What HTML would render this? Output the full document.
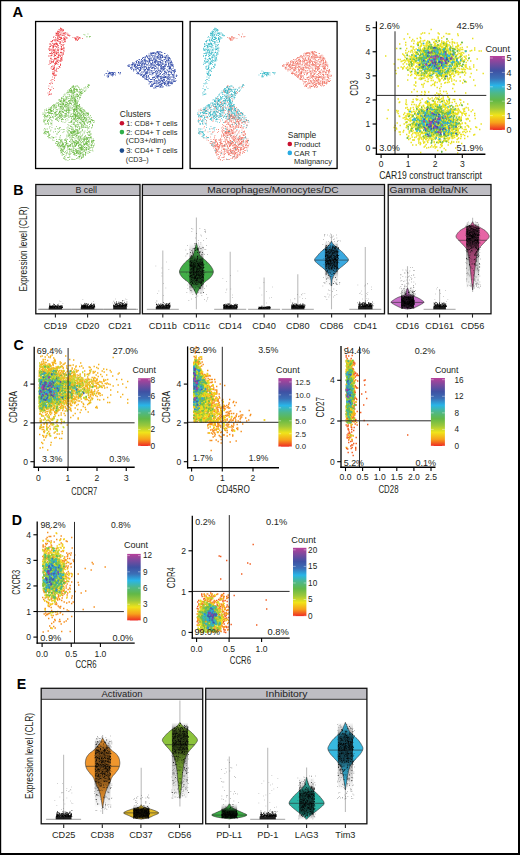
<!DOCTYPE html>
<html><head><meta charset="utf-8"><style>html,body{margin:0;padding:0;background:#fff;}svg{display:block;}</style></head>
<body><svg width="520" height="855" viewBox="0 0 520 855" font-family='"Liberation Sans", sans-serif' fill="#231f20">
<rect x="0.00" y="0.00" width="520.00" height="855.00" fill="#fff"/>
<text x="12.6" y="17.0" font-size="14.7" font-weight="bold" fill="#000">A</text>
<rect x="35.60" y="21.50" width="147.00" height="147.00" fill="none" stroke="#000" stroke-width="1.3"/>
<rect x="190.10" y="21.50" width="147.00" height="147.00" fill="none" stroke="#000" stroke-width="1.3"/>
<path d="M60 28h0.9m-0.9 0.5h0.9m-0.9 0.5h0.9m0.1 0h0.9m-0.9 0h0.9m-0.4 0h0.9m-3.9 0.5h0.9m0.1 0h0.9m2.1 0h0.9m-2.4 0.5h0.9m0.6 0h0.9m-0.4 0h0.9m-3.9 0.5h0.9m0.6 0h0.9m0.6 0h0.9m-6.4 0.5h0.9m0.6 0h0.9m2.1 0h0.9m-5.9 0.5h0.9m0.1 0h0.9m-0.4 0h0.9m1.1 0h0.9m1.1 0.5h0.9m-5.9 0.5h0.9m0.6 0h0.9m5.1 0h0.9m-10.4 0.5h0.9m0.1 0h0.9m0.1 0h0.9m-0.9 0h0.9m1.6 0h0.9m0.1 0h0.9m1.6 0h0.9m-0.4 0h0.9m1.6 0h0.9m-11.4 0.5h0.9m-0.9 0h0.9m-0.4 0h0.9m0.6 0h0.9m3.6 0h0.9m0.1 0h0.9m0.1 0h0.9m-9.9 0.5h0.9m0.6 0h0.9m0.6 0h0.9m3.6 0h0.9m1.6 0h0.9m1.1 0h0.9m-10.9 0.5h0.9m1.1 0h0.9m-0.4 0h0.9m3.6 0h0.9m-9.4 0.5h0.9m-0.4 0h0.9m0.6 0h0.9m2.6 0h0.9m-0.9 0h0.9m4.6 0h0.9m-0.4 0h0.9m0.1 0h0.9m-13.9 0.5h0.9m1.1 0h0.9m1.1 0h0.9m1.6 0h0.9m0.6 0h0.9m-0.9 0h0.9m3.6 0h0.9m0.6 0h0.9m-13.4 0.5h0.9m0.1 0h0.9m-0.9 0h0.9m0.1 0h0.9m9.1 0h0.9m-16.4 0.5h0.9m10.1 0h0.9m11.1 0h0.9m-20.4 0.5h0.9m1.1 0h0.9m0.6 0h0.9m4.1 0h0.9m11.1 0h0.9m-0.9 0h0.9m-25.4 0.5h0.9m1.1 0h0.9m3.6 0h0.9m-0.9 0h0.9m0.6 0h0.9m1.6 0h0.9m8.1 0h0.9m3.1 0h0.9m1.6 0h0.9m-22.4 0.5h0.9m-0.9 0h0.9m-0.9 0h0.9m1.6 0h0.9m-0.4 0h0.9m2.1 0h0.9m0.6 0h0.9m0.1 0h0.9m-0.9 0h0.9m0.1 0h0.9m6.1 0h0.9m-0.4 0h0.9m-0.4 0h0.9m2.6 0h0.9m-0.4 0h0.9m0.1 0h0.9m-23.4 0.5h0.9m2.6 0h0.9m-0.9 0h0.9m-0.4 0h0.9m1.1 0h0.9m11.1 0h0.9m1.6 0h0.9m3.1 0h0.9m-27.9 0.5h0.9m0.6 0h0.9m3.1 0h0.9m2.6 0h0.9m-0.9 0h0.9m-0.9 0h0.9m-0.9 0h0.9m10.1 0h0.9m-0.9 0h0.9m-0.4 0h0.9m-0.4 0h0.9m-0.4 0h0.9m-22.9 0.5h0.9m3.1 0h0.9m-0.4 0h0.9m-0.4 0h0.9m-0.9 0h0.9m-0.4 0h0.9m2.6 0h0.9m0.6 0h0.9m9.6 0h0.9m1.6 0h0.9m-25.9 0.5h0.9m0.6 0h0.9m1.1 0h0.9m-0.9 0h0.9m0.6 0h0.9m4.1 0h0.9m13.1 0h0.9m-25.9 0.5h0.9m-0.9 0h0.9m1.6 0h0.9m1.6 0h0.9m-0.9 0h0.9m3.6 0h0.9m2.1 0h0.9m10.1 0h0.9m0.6 0h0.9m-23.4 0.5h0.9m0.1 0h0.9m8.1 0h0.9m-14.9 0.5h0.9m0.1 0h0.9m-0.9 0h0.9m5.1 0h0.9m0.1 0h0.9m0.1 0h0.9m4.1 0h0.9m-0.9 0h0.9m-13.9 0.5h0.9m7.6 0h0.9m-0.4 0h0.9m0.6 0h0.9m1.6 0h0.9m-5.9 0.5h0.9m2.6 0h0.9m-8.4 0.5h0.9m-0.4 0h0.9m3.1 0h0.9m-11.4 0.5h0.9m1.6 0h0.9m0.6 0h0.9m0.6 0h0.9m0.6 0h0.9m1.6 0h0.9m-9.9 0.5h0.9m3.1 0h0.9m-0.4 0h0.9m0.6 0h0.9m-0.9 0h0.9m-0.9 0h0.9m0.1 0h0.9m2.1 0h0.9m-11.4 0.5h0.9m3.1 0h0.9m0.1 0h0.9m1.1 0h0.9m3.6 0h0.9m1.6 0h0.9m-13.4 0.5h0.9m1.1 0h0.9m0.1 0h0.9m2.1 0h0.9m-0.9 0h0.9m4.1 0h0.9m0.1 0h0.9m-12.4 0.5h0.9m0.1 0h0.9m4.6 0h0.9m3.6 0h0.9m-13.4 0.5h0.9m2.1 0h0.9m1.1 0h0.9m1.6 0h0.9m2.1 0h0.9m-11.9 0.5h0.9m-0.9 0h0.9m-0.4 0h0.9m1.6 0h0.9m-0.4 0h0.9m0.6 0h0.9m0.1 0h0.9m4.6 0h0.9m-0.9 0h0.9m-9.4 0.5h0.9m-0.4 0h0.9m2.1 0h0.9m-0.4 0h0.9m-0.9 0h0.9m5.6 0h0.9m-10.9 0.5h0.9m4.1 0h0.9m2.1 0h0.9m-12.9 0.5h0.9m2.1 0h0.9m10.1 0h0.9m0.1 0h0.9m-16.4 0.5h0.9m11.6 0h0.9m0.6 0h0.9m-12.9 0.5h0.9m1.6 0h0.9m1.1 0h0.9m1.1 0h0.9m0.6 0h0.9m0.6 0h0.9m0.6 0h0.9m0.1 0h0.9m0.1 0h0.9m-15.9 0.5h0.9m0.1 0h0.9m1.1 0h0.9m1.1 0h0.9m3.1 0h0.9m2.6 0h0.9m-0.9 0h0.9m-0.4 0h0.9m-0.9 0h0.9m-11.9 0.5h0.9m1.1 0h0.9m0.6 0h0.9m0.6 0h0.9m1.6 0h0.9m-9.9 0.5h0.9m-0.4 0h0.9m2.6 0h0.9m0.1 0h0.9m2.1 0h0.9m0.1 0h0.9m4.1 0h0.9m-12.9 0.5h0.9m0.6 0h0.9m-0.9 0h0.9m1.1 0h0.9m5.1 0h0.9m2.6 0h0.9m-10.9 1h0.9m-0.4 0h0.9m-0.9 0h0.9m0.6 0h0.9m-0.4 0h0.9m0.6 0h0.9m4.1 0h0.9m-10.9 0.5h0.9m-0.9 0h0.9m3.6 0h0.9m1.6 0h0.9m-0.4 0h0.9m-0.9 0h0.9m-0.4 0h0.9m0.6 0h0.9m-12.4 0.5h0.9m-0.9 0h0.9m-0.4 0h0.9m2.1 0h0.9m-0.9 0h0.9m1.1 0h0.9m-0.9 0h0.9m0.6 0h0.9m-9.9 0.5h0.9m0.1 0h0.9m-0.9 0h0.9m1.1 0h0.9m3.1 0h0.9m-0.9 0h0.9m-3.4 0.5h0.9m1.1 0h0.9m3.1 0h0.9m1.1 0h0.9m-0.9 0h0.9m0.1 0h0.9m-0.4 0h0.9m-0.9 0h0.9m-9.9 0.5h0.9m1.6 0h0.9m1.1 0h0.9m-7.9 0.5h0.9m-0.9 0h0.9m5.6 0h0.9m-10.4 0.5h0.9m1.1 0h0.9m-0.4 0h0.9m2.6 0h0.9m-0.9 0h0.9m-0.4 0h0.9m-0.9 0h0.9m2.1 0h0.9m0.1 0h0.9m0.1 0h0.9m0.6 0h0.9m-11.9 0.5h0.9m2.6 0h0.9m3.1 0h0.9m3.1 0h0.9m-14.4 0.5h0.9m4.1 0h0.9m5.6 0h0.9m-4.4 0.5h0.9m0.1 0h0.9m-0.4 0h0.9m0.6 0h0.9m-3.4 0.5h0.9m0.1 0h0.9m2.1 0h0.9m-11.4 0.5h0.9m3.1 0h0.9m2.1 0h0.9m2.6 0h0.9m-0.4 0h0.9m-0.9 0h0.9m-12.4 0.5h0.9m3.6 0h0.9m-0.9 0h0.9m-0.4 0h0.9m0.1 0h0.9m3.1 0h0.9m-10.4 0.5h0.9m-0.4 0h0.9m2.1 0h0.9m-0.9 0h0.9m0.6 0h0.9m4.6 0h0.9m-9.4 0.5h0.9m2.1 0h0.9m4.6 0h0.9m-4.4 0.5h0.9m-0.9 0h0.9m1.6 0h0.9m-0.9 0h0.9m1.1 0h0.9m-13.4 0.5h0.9m3.1 0h0.9m4.1 0h0.9m1.1 0h0.9m-10.4 0.5h0.9m1.1 0h0.9m2.1 0h0.9m-0.4 0h0.9m-0.4 0h0.9m1.1 0h0.9m1.1 0h0.9m-12.4 0.5h0.9m2.1 0h0.9m-0.4 0h0.9m3.1 0h0.9m2.1 0h0.9m-9.9 0.5h0.9m-0.9 0h0.9m-0.4 0h0.9m-0.4 0h0.9m2.1 0h0.9m0.1 0h0.9m0.6 0h0.9m-5.4 0.5h0.9m4.1 0h0.9m-9.9 0.5h0.9m0.6 0h0.9m3.6 0h0.9m-0.4 0h0.9m-0.9 0h0.9m-0.9 0h0.9m-6.4 0.5h0.9m3.1 0h0.9m1.1 0h0.9m-0.4 0h0.9m-2.4 0.5h0.9m-0.4 0h0.9m3.6 0h0.9m-12.4 0.5h0.9m5.6 0h0.9m1.6 0h0.9m1.6 0h0.9m-6.9 0.5h0.9m5.1 0h0.9m-0.9 0.5h0.9m-8.9 0.5h0.9m0.6 0h0.9m-0.4 0h0.9m-3.9 0.5h0.9m6.6 0h0.9m-0.4 0h0.9m-8.4 0.5h0.9m1.1 0h0.9m4.6 0h0.9m-5.9 0.5h0.9m4.6 0h0.9m-9.9 0.5h0.9m2.1 0h0.9m-0.9 0h0.9m2.1 0h0.9m-4.4 0.5h0.9m-0.4 0h0.9m-0.9 0h0.9m2.1 0h0.9m0.6 0h0.9m-7.4 0.5h0.9m-0.4 0.5h0.9m-0.4 0h0.9m-0.4 0h0.9m2.1 0h0.9m-2.9 0.5h0.9m-0.4 0h0.9m0.1 0.5h0.9m-1.9 0.5h0.9m0.6 0h0.9m-3.4 0.5h0.9m2.1 0h0.9m-5.4 0.5h0.9m0.6 0.5h0.9m-0.4 0.5h0.9m-2.9 0.5h0.9m-0.4 0h0.9m-0.4 0h0.9m-0.9 0.5h0.9m0.1 0h0.9m-2.4 0.5h0.9m2.1 0h0.9m-3.4 0.5h0.9m-0.4 0h0.9m-0.4 0.5h0.9m0.6 0h0.9m-0.9 0h0.9m-1.9 0.5h0.9m-3.4 1h0.9m1.1 1h0.9m-0.9 0h0.9m-3.4 1.5h0.9m0.1 0h0.9m-2.9 1h0.9m2.6 0h0.9m-3.4 1.5h0.9m-1.9 1h0.9m-2.4 0.5h0.9m2.1 0h0.9m-2.9 0.5h0.9m-2.4 2h0.9m2.1 1h0.9m-4.4 1.5h0.9m4.1 0h0.9m-4.4 1h0.9m0.1 0h0.9m-1.4 1h0.9m-1.9 1h0.9m-2.4 1.5h0.9m0.6 0h0.9m0.6 1h0.9m-0.4 0h0.9m-2.9 0.5h0.9m-0.4 0h0.9m-2.4 0.5h0.9" stroke="#e8262b" stroke-width="0.9" stroke-opacity="0.75" fill="none"/>
<path d="M157 51.5h0.95m1.55 0h0.95m-4.45 0.5h0.95m0.55 0h0.95m-0.95 0h0.95m-0.95 0h0.95m0.05 0h0.95m0.05 0h0.95m0.05 0h0.95m-8.95 0.5h0.95m0.05 0h0.95m2.05 0h0.95m0.05 0h0.95m2.55 0h0.95m-0.45 0h0.95m-12.45 0.5h0.95m0.55 0h0.95m-0.95 0h0.95m0.55 0h0.95m0.55 0h0.95m-0.95 0h0.95m3.05 0h0.95m-8.45 0.5h0.95m0.05 0h0.95m0.05 0h0.95m-0.95 0h0.95m1.05 0h0.95m2.05 0h0.95m-0.95 0h0.95m5.05 0h0.95m-0.45 0h0.95m-16.95 0.5h0.95m0.55 0h0.95m-0.45 0h0.95m-0.45 0h0.95m-0.45 0h0.95m2.05 0h0.95m0.55 0h0.95m0.55 0h0.95m-0.45 0h0.95m-0.45 0h0.95m0.05 0h0.95m-1.45 0.5h0.95m-4.95 0.5h0.95m3.55 0h0.95m-0.45 0h0.95m-0.45 0h0.95m0.05 0h0.95m-0.95 0h0.95m4.55 0h0.95m-21.95 0.5h0.95m1.55 0h0.95m1.55 0h0.95m0.55 0h0.95m0.05 0h0.95m3.55 0h0.95m2.05 0h0.95m0.05 0h0.95m3.05 0h0.95m-20.95 0.5h0.95m-0.45 0h0.95m1.55 0h0.95m0.05 0h0.95m1.05 0h0.95m1.55 0h0.95m2.05 0h0.95m1.05 0h0.95m0.05 0h0.95m3.05 0h0.95m0.55 0h0.95m1.05 0h0.95m-23.45 0.5h0.95m1.05 0h0.95m6.05 0h0.95m1.05 0h0.95m-0.45 0h0.95m0.55 0h0.95m0.55 0h0.95m1.05 0h0.95m2.55 0h0.95m-21.95 0.5h0.95m1.55 0h0.95m1.05 0h0.95m2.05 0h0.95m0.55 0h0.95m2.05 0h0.95m-0.45 0h0.95m4.05 0h0.95m-0.45 0h0.95m0.05 0h0.95m2.55 0h0.95m-25.45 0.5h0.95m-0.45 0h0.95m-0.45 0h0.95m0.55 0h0.95m1.05 0h0.95m10.05 0h0.95m1.05 0h0.95m-0.45 0h0.95m0.55 0h0.95m-0.95 0h0.95m1.05 0h0.95m0.05 0h0.95m-0.95 0h0.95m-0.45 0h0.95m1.55 0h0.95m0.05 0h0.95m-22.45 0.5h0.95m2.05 0h0.95m-0.95 0h0.95m2.05 0h0.95m-0.45 0h0.95m0.05 0h0.95m0.05 0h0.95m0.05 0h0.95m-0.95 0h0.95m0.55 0h0.95m0.05 0h0.95m-0.95 0h0.95m0.55 0h0.95m3.05 0h0.95m0.55 0h0.95m1.05 0h0.95m-27.45 0.5h0.95m-0.95 0h0.95m5.05 0h0.95m0.05 0h0.95m0.55 0h0.95m2.05 0h0.95m13.05 0h0.95m0.05 0h0.95m-0.45 0h0.95m-25.95 0.5h0.95m0.05 0h0.95m2.05 0h0.95m4.05 0h0.95m4.05 0h0.95m1.05 0h0.95m4.05 0h0.95m-0.45 0h0.95m3.05 0h0.95m-0.45 0h0.95m-32.45 0.5h0.95m-0.45 0h0.95m1.05 0h0.95m-0.95 0h0.95m1.55 0h0.95m0.05 0h0.95m3.55 0h0.95m-0.95 0h0.95m0.55 0h0.95m2.05 0h0.95m1.05 0h0.95m2.55 0h0.95m0.55 0h0.95m2.05 0h0.95m-0.45 0h0.95m3.05 0h0.95m-24.95 0.5h0.95m6.55 0h0.95m1.05 0h0.95m0.05 0h0.95m-0.45 0h0.95m-0.45 0h0.95m10.05 0h0.95m0.05 0h0.95m-0.45 0h0.95m-0.95 0h0.95m-31.95 0.5h0.95m4.05 0h0.95m1.05 0h0.95m0.55 0h0.95m-0.95 0h0.95m1.05 0h0.95m0.55 0h0.95m-0.45 0h0.95m-0.95 0h0.95m0.05 0h0.95m0.05 0h0.95m-0.45 0h0.95m3.05 0h0.95m4.05 0h0.95m0.05 0h0.95m3.05 0h0.95m-0.45 0h0.95m1.05 0h0.95m-0.95 0h0.95m1.05 0h0.95m-35.45 0.5h0.95m2.55 0h0.95m0.55 0h0.95m0.55 0h0.95m0.05 0h0.95m0.55 0h0.95m-0.45 0h0.95m6.05 0h0.95m1.55 0h0.95m-0.95 0h0.95m0.05 0h0.95m0.05 0h0.95m2.05 0h0.95m1.05 0h0.95m0.55 0h0.95m2.05 0h0.95m-31.95 0.5h0.95m-0.45 0h0.95m1.05 0h0.95m-0.95 0h0.95m2.55 0h0.95m-0.95 0h0.95m2.05 0h0.95m0.05 0h0.95m0.55 0h0.95m1.05 0h0.95m-0.95 0h0.95m4.05 0h0.95m0.05 0h0.95m0.55 0h0.95m0.55 0h0.95m0.05 0h0.95m0.05 0h0.95m4.05 0h0.95m-0.95 0h0.95m2.55 0h0.95m1.05 0h0.95m-0.45 0h0.95m-33.95 0.5h0.95m-0.45 0h0.95m1.05 0h0.95m6.05 0h0.95m-0.45 0h0.95m0.05 0h0.95m-0.45 0h0.95m1.55 0h0.95m1.05 0h0.95m-0.45 0h0.95m2.05 0h0.95m4.05 0h0.95m2.55 0h0.95m0.05 0h0.95m-34.45 0.5h0.95m1.55 0h0.95m-0.95 0h0.95m1.55 0h0.95m1.05 0h0.95m1.05 0h0.95m8.55 0h0.95m-0.45 0h0.95m0.55 0h0.95m0.55 0h0.95m1.05 0h0.95m1.05 0h0.95m-0.45 0h0.95m-0.45 0h0.95m0.05 0h0.95m2.55 0h0.95m2.55 0h0.95m0.55 0h0.95m-0.45 0h0.95m-0.45 0h0.95m-39.95 0.5h0.95m-0.95 0h0.95m4.55 0h0.95m-0.45 0h0.95m0.05 0h0.95m0.55 0h0.95m1.05 0h0.95m0.05 0h0.95m0.55 0h0.95m-0.95 0h0.95m-0.45 0h0.95m3.55 0h0.95m4.05 0h0.95m-0.95 0h0.95m1.55 0h0.95m6.55 0h0.95m2.55 0h0.95m0.55 0h0.95m1.05 0h0.95m-39.95 0.5h0.95m1.55 0h0.95m2.05 0h0.95m0.55 0h0.95m0.55 0h0.95m0.05 0h0.95m0.55 0h0.95m3.05 0h0.95m2.05 0h0.95m0.55 0h0.95m4.05 0h0.95m2.05 0h0.95m0.55 0h0.95m5.05 0h0.95m-0.45 0h0.95m-35.45 0.5h0.95m7.05 0h0.95m-0.45 0h0.95m1.55 0h0.95m4.05 0h0.95m-0.45 0h0.95m0.05 0h0.95m-0.95 0h0.95m2.05 0h0.95m2.05 0h0.95m-0.45 0h0.95m-0.45 0h0.95m1.05 0h0.95m1.55 0h0.95m-0.45 0h0.95m1.55 0h0.95m1.05 0h0.95m1.05 0h0.95m0.05 0h0.95m-40.95 0.5h0.95m0.05 0h0.95m-0.95 0h0.95m-0.45 0h0.95m-0.95 0h0.95m2.05 0h0.95m1.05 0h0.95m0.55 0h0.95m1.05 0h0.95m2.05 0h0.95m1.05 0h0.95m0.55 0h0.95m7.55 0h0.95m0.05 0h0.95m0.55 0h0.95m0.05 0h0.95m1.55 0h0.95m2.05 0h0.95m-0.45 0h0.95m1.55 0h0.95m1.55 0h0.95m-0.45 0h0.95m0.05 0h0.95m-44.45 0.5h0.95m-0.95 0h0.95m0.05 0h0.95m3.55 0h0.95m-0.45 0h0.95m-0.95 0h0.95m-0.45 0h0.95m-0.95 0h0.95m1.05 0h0.95m-0.95 0h0.95m3.05 0h0.95m0.05 0h0.95m0.55 0h0.95m-0.45 0h0.95m2.05 0h0.95m1.55 0h0.95m0.55 0h0.95m-0.95 0h0.95m0.05 0h0.95m-0.45 0h0.95m-0.45 0h0.95m0.05 0h0.95m1.55 0h0.95m0.05 0h0.95m0.55 0h0.95m0.05 0h0.95m0.05 0h0.95m2.55 0h0.95m0.55 0h0.95m2.55 0h0.95m2.55 0h0.95m-46.45 0.5h0.95m3.05 0h0.95m1.55 0h0.95m2.05 0h0.95m-0.45 0h0.95m-0.45 0h0.95m-0.45 0h0.95m-0.45 0h0.95m-0.45 0h0.95m9.05 0h0.95m4.05 0h0.95m2.55 0h0.95m0.05 0h0.95m1.05 0h0.95m2.55 0h0.95m-0.95 0h0.95m5.55 0h0.95m0.05 0h0.95m-0.95 0h0.95m-45.45 0.5h0.95m3.55 0h0.95m0.55 0h0.95m-0.45 0h0.95m0.05 0h0.95m4.55 0h0.95m-0.45 0h0.95m0.05 0h0.95m3.05 0h0.95m1.05 0h0.95m4.05 0h0.95m0.05 0h0.95m0.05 0h0.95m2.05 0h0.95m1.55 0h0.95m-0.45 0h0.95m6.05 0h0.95m-0.95 0h0.95m-0.45 0h0.95m0.55 0h0.95m-42.95 0.5h0.95m0.05 0h0.95m4.05 0h0.95m1.05 0h0.95m6.55 0h0.95m0.55 0h0.95m4.55 0h0.95m3.55 0h0.95m4.05 0h0.95m0.55 0h0.95m0.55 0h0.95m-0.45 0h0.95m-0.45 0h0.95m0.05 0h0.95m1.05 0h0.95m1.05 0h0.95m0.55 0h0.95m1.05 0h0.95m-42.45 0.5h0.95m2.55 0h0.95m0.05 0h0.95m0.55 0h0.95m2.55 0h0.95m-0.45 0h0.95m1.55 0h0.95m-0.45 0h0.95m-0.45 0h0.95m-0.95 0h0.95m4.55 0h0.95m0.55 0h0.95m3.55 0h0.95m5.05 0h0.95m-0.45 0h0.95m-0.45 0h0.95m3.55 0h0.95m1.05 0h0.95m2.55 0h0.95m-43.45 0.5h0.95m3.55 0h0.95m-0.45 0h0.95m1.05 0h0.95m0.55 0h0.95m0.05 0h0.95m-0.95 0h0.95m1.05 0h0.95m-0.45 0h0.95m2.55 0h0.95m1.05 0h0.95m-0.45 0h0.95m-0.45 0h0.95m0.55 0h0.95m0.55 0h0.95m-0.95 0h0.95m0.05 0h0.95m7.05 0h0.95m1.55 0h0.95m4.55 0h0.95m0.05 0h0.95m-0.95 0h0.95m-40.95 0.5h0.95m-0.45 0h0.95m-0.95 0h0.95m0.05 0h0.95m-0.45 0h0.95m3.55 0h0.95m0.55 0h0.95m7.05 0h0.95m0.55 0h0.95m5.05 0h0.95m-0.45 0h0.95m1.05 0h0.95m0.05 0h0.95m0.05 0h0.95m1.05 0h0.95m-0.45 0h0.95m1.05 0h0.95m-0.45 0h0.95m0.55 0h0.95m3.55 0h0.95m-32.95 0.5h0.95m-0.95 0h0.95m2.05 0h0.95m-0.45 0h0.95m4.55 0h0.95m-0.95 0h0.95m1.55 0h0.95m1.55 0h0.95m0.05 0h0.95m1.05 0h0.95m0.05 0h0.95m4.55 0h0.95m-0.45 0h0.95m0.05 0h0.95m1.55 0h0.95m3.05 0h0.95m-0.45 0h0.95m-0.95 0h0.95m-0.95 0h0.95m0.05 0h0.95m-0.45 0h0.95m1.05 0h0.95m-39.95 0.5h0.95m0.55 0h0.95m0.05 0h0.95m1.05 0h0.95m1.05 0h0.95m-0.45 0h0.95m0.05 0h0.95m1.05 0h0.95m-0.95 0h0.95m2.05 0h0.95m0.55 0h0.95m0.05 0h0.95m7.55 0h0.95m2.55 0h0.95m1.55 0h0.95m-0.95 0h0.95m-0.45 0h0.95m4.55 0h0.95m-0.95 0h0.95m-39.45 0.5h0.95m1.05 0h0.95m1.55 0h0.95m2.05 0h0.95m0.05 0h0.95m4.55 0h0.95m-0.95 0h0.95m1.05 0h0.95m-0.45 0h0.95m12.05 0h0.95m1.05 0h0.95m-0.45 0h0.95m2.55 0h0.95m3.55 0h0.95m2.55 0h0.95m-42.45 0.5h0.95m0.55 0h0.95m4.55 0h0.95m2.55 0h0.95m-0.45 0h0.95m2.05 0h0.95m0.05 0h0.95m-0.45 0h0.95m-0.95 0h0.95m0.05 0h0.95m3.55 0h0.95m-0.45 0h0.95m2.05 0h0.95m0.05 0h0.95m3.05 0h0.95m5.05 0h0.95m4.55 0h0.95m-0.45 0h0.95m-36.45 0.5h0.95m-0.95 0h0.95m0.05 0h0.95m-0.95 0h0.95m3.55 0h0.95m5.05 0h0.95m-0.45 0h0.95m0.55 0h0.95m2.55 0h0.95m1.05 0h0.95m0.55 0h0.95m2.05 0h0.95m3.55 0h0.95m3.55 0h0.95m-0.45 0h0.95m0.05 0h0.95m0.55 0h0.95m-68.45 0.5h0.95m25.05 0h0.95m2.05 0h0.95m7.05 0h0.95m-0.45 0h0.95m1.55 0h0.95m11.55 0h0.95m-0.45 0h0.95m-0.45 0h0.95m2.55 0h0.95m0.55 0h0.95m3.05 0h0.95m2.55 0h0.95m0.05 0h0.95m-35.95 0.5h0.95m1.55 0h0.95m4.05 0h0.95m7.55 0h0.95m-0.45 0h0.95m0.55 0h0.95m2.05 0h0.95m0.55 0h0.95m1.55 0h0.95m3.05 0h0.95m0.05 0h0.95m3.55 0h0.95m0.55 0h0.95m-67.45 0.5h0.95m28.05 0h0.95m4.55 0h0.95m-0.45 0h0.95m1.05 0h0.95m0.05 0h0.95m0.05 0h0.95m0.55 0h0.95m0.55 0h0.95m-0.45 0h0.95m0.05 0h0.95m2.05 0h0.95m-0.45 0h0.95m1.05 0h0.95m0.55 0h0.95m4.55 0h0.95m-0.95 0h0.95m-0.45 0h0.95m1.55 0h0.95m0.05 0h0.95m0.55 0h0.95m0.05 0h0.95m-0.45 0h0.95m1.55 0h0.95m-65.95 0.5h0.95m-0.45 0h0.95m0.05 0h0.95m-0.45 0h0.95m0.05 0h0.95m-0.95 0h0.95m1.05 0h0.95m3.05 0h0.95m-0.95 0h0.95m1.05 0h0.95m16.05 0h0.95m3.55 0h0.95m2.55 0h0.95m0.55 0h0.95m-0.95 0h0.95m5.55 0h0.95m0.05 0h0.95m6.05 0h0.95m3.55 0h0.95m-0.45 0h0.95m3.55 0h0.95m-0.45 0h0.95m2.05 0h0.95m-64.95 0.5h0.95m1.55 0h0.95m-0.45 0h0.95m-0.95 0h0.95m1.05 0h0.95m2.55 0h0.95m0.55 0h0.95m17.05 0h0.95m-0.95 0h0.95m1.55 0h0.95m4.55 0h0.95m-0.45 0h0.95m1.05 0h0.95m0.05 0h0.95m2.05 0h0.95m3.05 0h0.95m-0.45 0h0.95m0.55 0h0.95m5.05 0h0.95m2.55 0h0.95m4.55 0h0.95m-68.95 0.5h0.95m-0.45 0h0.95m1.05 0h0.95m-0.95 0h0.95m0.05 0h0.95m-0.45 0h0.95m-0.95 0h0.95m-0.95 0h0.95m2.55 0h0.95m22.55 0h0.95m-0.95 0h0.95m0.55 0h0.95m-0.95 0h0.95m-0.95 0h0.95m0.55 0h0.95m4.55 0h0.95m-0.45 0h0.95m0.05 0h0.95m-0.95 0h0.95m4.55 0h0.95m-0.45 0h0.95m2.05 0h0.95m3.55 0h0.95m-0.95 0h0.95m2.55 0h0.95m-0.95 0h0.95m1.55 0h0.95m4.05 0h0.95m-64.45 0.5h0.95m2.55 0h0.95m0.05 0h0.95m-0.95 0h0.95m0.05 0h0.95m5.55 0h0.95m17.05 0h0.95m3.55 0h0.95m1.55 0h0.95m1.05 0h0.95m4.05 0h0.95m0.05 0h0.95m2.55 0h0.95m-0.45 0h0.95m2.05 0h0.95m3.55 0h0.95m9.05 0h0.95m-64.45 0.5h0.95m0.55 0h0.95m0.55 0h0.95m25.05 0h0.95m0.55 0h0.95m1.55 0h0.95m0.55 0h0.95m3.55 0h0.95m-0.95 0h0.95m9.05 0h0.95m1.55 0h0.95m-0.45 0h0.95m2.05 0h0.95m1.05 0h0.95m-0.45 0h0.95m-0.45 0h0.95m1.05 0h0.95m0.55 0h0.95m-0.45 0h0.95m-69.45 0.5h0.95m3.05 0h0.95m0.55 0h0.95m1.05 0h0.95m0.55 0h0.95m1.05 0h0.95m24.05 0h0.95m0.05 0h0.95m-0.45 0h0.95m1.55 0h0.95m0.55 0h0.95m5.05 0h0.95m3.05 0h0.95m-0.45 0h0.95m1.55 0h0.95m-0.95 0h0.95m9.05 0h0.95m-0.45 0h0.95m2.05 0h0.95m-0.45 0h0.95m-0.45 0h0.95m2.05 0h0.95m-69.45 0.5h0.95m3.05 0h0.95m28.05 0h0.95m1.55 0h0.95m-0.95 0h0.95m0.05 0h0.95m1.05 0h0.95m1.05 0h0.95m8.05 0h0.95m-0.45 0h0.95m-0.45 0h0.95m4.55 0h0.95m4.05 0h0.95m7.05 0h0.95m-70.95 0.5h0.95m4.55 0h0.95m33.05 0h0.95m-0.45 0h0.95m0.55 0h0.95m6.05 0h0.95m5.05 0h0.95m2.05 0h0.95m1.55 0h0.95m5.55 0h0.95m-0.45 0h0.95m0.05 0h0.95m0.55 0h0.95m-68.95 0.5h0.95m-0.95 0h0.95m33.05 0h0.95m-0.95 0h0.95m0.55 0h0.95m1.05 0h0.95m1.55 0h0.95m7.05 0h0.95m0.05 0h0.95m-0.45 0h0.95m0.05 0h0.95m-0.95 0h0.95m0.55 0h0.95m0.55 0h0.95m2.55 0h0.95m-0.95 0h0.95m2.05 0h0.95m3.55 0h0.95m2.55 0h0.95m-69.95 0.5h0.95m0.05 0h0.95m34.05 0h0.95m-0.45 0h0.95m1.55 0h0.95m-0.45 0h0.95m6.05 0h0.95m-0.45 0h0.95m2.55 0h0.95m0.05 0h0.95m0.55 0h0.95m-0.95 0h0.95m1.55 0h0.95m-0.45 0h0.95m0.05 0h0.95m0.05 0h0.95m-0.95 0h0.95m0.05 0h0.95m0.05 0h0.95m1.05 0h0.95m0.05 0h0.95m0.05 0h0.95m-29.45 0.5h0.95m3.05 0h0.95m1.05 0h0.95m2.55 0h0.95m-0.45 0h0.95m-0.45 0h0.95m0.05 0h0.95m1.55 0h0.95m-0.45 0h0.95m3.55 0h0.95m0.55 0h0.95m-0.45 0h0.95m-0.45 0h0.95m-0.45 0h0.95m-0.45 0h0.95m2.55 0h0.95m3.05 0h0.95m0.05 0h0.95m-30.45 0.5h0.95m0.55 0h0.95m-0.45 0h0.95m8.55 0h0.95m4.55 0h0.95m0.05 0h0.95m0.55 0h0.95m1.55 0h0.95m0.05 0h0.95m-0.95 0h0.95m0.55 0h0.95m0.05 0h0.95m3.05 0h0.95m-0.95 0h0.95m-28.95 0.5h0.95m2.55 0h0.95m5.05 0h0.95m1.55 0h0.95m1.55 0h0.95m-0.45 0h0.95m-0.45 0h0.95m6.05 0h0.95m6.05 0h0.95m-31.45 0.5h0.95m2.55 0h0.95m3.05 0h0.95m-0.45 0h0.95m10.05 0h0.95m3.05 0h0.95m1.55 0h0.95m-25.45 0.5h0.95m-0.45 0h0.95m-0.95 0h0.95m0.05 0h0.95m2.05 0h0.95m-0.45 0h0.95m-0.95 0h0.95m-0.45 0h0.95m1.55 0h0.95m-0.45 0h0.95m3.55 0h0.95m1.05 0h0.95m1.55 0h0.95m-0.45 0h0.95m-0.45 0h0.95m2.55 0h0.95m0.55 0h0.95m2.55 0h0.95m-25.95 0.5h0.95m5.55 0h0.95m3.05 0h0.95m-0.45 0h0.95m2.05 0h0.95m0.55 0h0.95m3.55 0h0.95m2.55 0h0.95m-0.45 0h0.95m0.05 0h0.95m0.55 0h0.95m-19.45 0.5h0.95m-0.45 0h0.95m2.55 0h0.95m0.55 0h0.95m-0.45 0h0.95m-0.45 0h0.95m1.05 0h0.95m1.05 0h0.95m8.55 0h0.95m-28.45 0.5h0.95m4.55 0h0.95m-0.45 0h0.95m2.05 0h0.95m0.55 0h0.95m0.05 0h0.95m1.55 0h0.95m-0.45 0h0.95m0.05 0h0.95m4.55 0h0.95m3.05 0h0.95m-0.45 0h0.95m-25.45 0.5h0.95m0.05 0h0.95m0.05 0h0.95m-0.45 0h0.95m3.05 0h0.95m0.05 0h0.95m2.55 0h0.95m1.05 0h0.95m2.55 0h0.95m1.05 0h0.95m1.05 0h0.95m3.05 0h0.95m0.05 0h0.95m-0.95 0h0.95m-0.95 0h0.95m-24.95 0.5h0.95m9.05 0h0.95m1.55 0h0.95m1.05 0h0.95m1.05 0h0.95m0.05 0h0.95m-0.95 0h0.95m-0.95 0h0.95m0.55 0h0.95m0.55 0h0.95m-0.45 0h0.95m0.05 0h0.95m-23.45 0.5h0.95m5.55 0h0.95m0.55 0h0.95m0.05 0h0.95m-0.45 0h0.95m3.05 0h0.95m-0.45 0h0.95m2.55 0h0.95m1.05 0h0.95m1.05 0h0.95m-23.45 0.5h0.95m2.55 0h0.95m0.55 0h0.95m-0.95 0h0.95m0.05 0h0.95m0.05 0h0.95m5.05 0h0.95m0.05 0h0.95m0.05 0h0.95m0.55 0h0.95m1.55 0h0.95m0.55 0h0.95m-0.95 0h0.95m0.55 0h0.95m-18.95 0.5h0.95m0.05 0h0.95m-0.45 0h0.95m2.05 0h0.95m0.05 0h0.95m1.55 0h0.95m0.05 0h0.95m2.05 0h0.95m1.05 0h0.95m0.05 0h0.95m1.05 0h0.95m0.05 0h0.95m0.05 0h0.95m-24.45 0.5h0.95m1.55 0h0.95m4.05 0h0.95m0.55 0h0.95m1.55 0h0.95m0.05 0h0.95m-0.45 0h0.95m1.55 0h0.95m-0.95 0h0.95m-0.95 0h0.95m-0.45 0h0.95m0.05 0h0.95m1.05 0h0.95m-0.95 0h0.95m3.05 0h0.95m-20.45 0.5h0.95m0.05 0h0.95m5.05 0h0.95m-0.45 0h0.95m-0.45 0h0.95m3.05 0h0.95m2.55 0h0.95m-17.45 0.5h0.95m-0.45 0h0.95m8.05 0h0.95m-0.45 0h0.95m4.05 0h0.95m-16.45 0.5h0.95m0.55 0h0.95m5.55 0h0.95m-0.95 0h0.95m1.05 0h0.95m0.05 0h0.95m3.05 0h0.95m1.55 0h0.95m0.55 0h0.95m-20.45 0.5h0.95m3.55 0h0.95m-0.45 0h0.95m0.05 0h0.95m0.05 0h0.95m3.05 0h0.95m4.55 0h0.95m1.05 0h0.95m-19.45 0.5h0.95m0.55 0h0.95m-0.95 0h0.95m-0.95 0h0.95m3.55 0h0.95m-0.45 0h0.95m-0.95 0h0.95m-0.45 0h0.95m0.05 0h0.95m1.05 0h0.95m1.55 0h0.95m-3.95 0.5h0.95m-0.95 0h0.95m-0.45 0h0.95m1.55 0h0.95m-8.45 0.5h0.95m5.55 0h0.95m-9.45 0.5h0.95m0.05 0h0.95m0.55 0h0.95" stroke="#2e48a6" stroke-width="0.95" stroke-opacity="0.8" fill="none"/>
<path d="M87.5 34h0.9m-4.9 0.5h0.9m0.1 0.5h0.9m1.1 1.5h0.9m1.6 0h0.9m0.1 0h0.9m-4.4 0.5h0.9m1.6 0h0.9m-1.4 47.5h0.9m-1.9 0.5h0.9m-0.4 0h0.9m-0.9 0.5h0.9m0.1 0h0.9m-17.4 0.5h0.9m-0.4 0h0.9m-0.9 0h0.9m1.6 0h0.9m0.1 0h0.9m-0.4 0h0.9m-3.4 0.5h0.9m11.6 0h0.9m-0.4 0h0.9m-16.9 0.5h0.9m0.1 0h0.9m-0.9 0h0.9m-0.9 0h0.9m-0.4 0h0.9m1.1 0h0.9m2.1 0h0.9m6.1 0h0.9m-14.4 0.5h0.9m6.1 0h0.9m8.6 0h0.9m-14.9 0.5h0.9m8.6 0h0.9m0.1 0h0.9m1.1 0h0.9m-17.4 0.5h0.9m-0.9 0h0.9m-0.9 0h0.9m2.6 0h0.9m-0.4 0h0.9m-0.9 0h0.9m-3.9 0.5h0.9m1.1 0h0.9m1.6 0h0.9m-0.4 0h0.9m2.1 0h0.9m1.1 0h0.9m-12.4 0.5h0.9m3.1 0h0.9m-0.9 0h0.9m0.1 0h0.9m-0.4 0h0.9m0.1 0h0.9m0.1 0h0.9m1.1 0h0.9m0.6 0h0.9m1.1 0h0.9m-14.9 0.5h0.9m-0.4 0h0.9m1.1 0h0.9m-0.9 0h0.9m2.1 0h0.9m1.1 0h0.9m-0.9 0h0.9m0.1 0h0.9m2.1 0h0.9m4.6 0h0.9m-17.4 0.5h0.9m0.1 0h0.9m-0.4 0h0.9m-0.4 0h0.9m-0.9 0h0.9m0.6 0h0.9m-0.4 0h0.9m0.1 0h0.9m7.6 0h0.9m-16.4 0.5h0.9m2.6 0h0.9m5.1 0h0.9m-0.4 0h0.9m1.6 0h0.9m4.1 0h0.9m-0.9 0h0.9m-16.9 0.5h0.9m0.1 0h0.9m0.6 0h0.9m0.6 0h0.9m-0.9 0h0.9m0.6 0h0.9m0.6 0h0.9m1.1 0h0.9m1.1 0h0.9m0.6 0h0.9m-0.4 0h0.9m1.6 0h0.9m-15.4 0.5h0.9m0.1 0h0.9m-0.4 0h0.9m2.1 0h0.9m4.6 0h0.9m-13.4 0.5h0.9m0.1 0h0.9m0.6 0h0.9m0.1 0h0.9m0.1 0h0.9m0.1 0h0.9m0.6 0h0.9m-0.4 0h0.9m3.1 0h0.9m0.6 0h0.9m-0.9 0h0.9m-0.4 0h0.9m1.1 0h0.9m-17.4 0.5h0.9m0.6 0h0.9m4.1 0h0.9m-0.4 0h0.9m-0.9 0h0.9m5.6 0h0.9m0.6 0h0.9m-10.4 0.5h0.9m0.1 0h0.9m3.1 0h0.9m2.1 0h0.9m0.1 0h0.9m-0.4 0h0.9m0.1 0h0.9m-18.4 0.5h0.9m8.1 0h0.9m6.6 0h0.9m-14.4 0.5h0.9m0.6 0h0.9m6.6 0h0.9m-0.4 0h0.9m-0.9 0h0.9m1.1 0h0.9m-16.4 0.5h0.9m0.1 0h0.9m5.6 0h0.9m0.1 0h0.9m0.1 0h0.9m0.6 0h0.9m0.1 0h0.9m-0.4 0h0.9m0.6 0h0.9m1.1 0h0.9m-0.4 0h0.9m-11.4 0.5h0.9m2.6 0h0.9m4.1 0h0.9m1.6 0h0.9m-10.4 0.5h0.9m5.1 0h0.9m0.1 0h0.9m-15.9 0.5h0.9m1.6 0h0.9m1.1 0h0.9m0.6 0h0.9m1.1 0h0.9m-0.4 0h0.9m2.6 0h0.9m0.6 0h0.9m-0.9 0h0.9m-0.4 0h0.9m0.1 0h0.9m-16.4 0.5h0.9m2.1 0h0.9m1.1 0h0.9m2.1 0h0.9m-0.4 0h0.9m0.6 0h0.9m-0.4 0h0.9m-0.4 0h0.9m-0.4 0h0.9m4.6 0h0.9m-19.4 0.5h0.9m4.6 0h0.9m4.1 0h0.9m2.1 0h0.9m0.1 0h0.9m2.6 0h0.9m0.1 0h0.9m-15.4 0.5h0.9m-0.4 0h0.9m5.1 0h0.9m0.1 0h0.9m3.1 0h0.9m1.6 0h0.9m-19.4 0.5h0.9m-0.4 0h0.9m0.1 0h0.9m0.1 0h0.9m3.6 0h0.9m0.6 0h0.9m1.1 0h0.9m-0.9 0h0.9m1.6 0h0.9m-0.4 0h0.9m1.6 0h0.9m-16.9 0.5h0.9m3.6 0h0.9m0.1 0h0.9m-0.9 0h0.9m2.6 0h0.9m1.1 0h0.9m0.1 0h0.9m0.6 0h0.9m-0.9 0h0.9m3.6 0h0.9m-20.9 0.5h0.9m3.1 0h0.9m0.6 0h0.9m5.1 0h0.9m3.6 0h0.9m-0.9 0h0.9m-17.9 0.5h0.9m1.6 0h0.9m1.6 0h0.9m-0.4 0h0.9m0.1 0h0.9m0.1 0h0.9m4.6 0h0.9m1.6 0h0.9m-0.4 0h0.9m-0.4 0h0.9m0.1 0h0.9m1.1 0h0.9m-18.9 0.5h0.9m0.6 0h0.9m1.6 0h0.9m-0.9 0h0.9m-0.4 0h0.9m3.6 0h0.9m-0.4 0h0.9m-0.4 0h0.9m0.1 0h0.9m-0.9 0h0.9m0.6 0h0.9m-0.4 0h0.9m0.6 0h0.9m0.1 0h0.9m-16.4 0.5h0.9m-0.4 0h0.9m1.6 0h0.9m0.1 0h0.9m0.1 0h0.9m2.6 0h0.9m0.1 0h0.9m4.6 0h0.9m-0.4 0h0.9m-0.4 0h0.9m-0.4 0h0.9m0.6 0h0.9m-18.9 0.5h0.9m-0.4 0h0.9m-0.9 0h0.9m-0.4 0h0.9m1.6 0h0.9m-0.4 0h0.9m3.6 0h0.9m1.6 0h0.9m1.1 0h0.9m1.1 0h0.9m-0.9 0h0.9m2.1 0h0.9m-17.4 0.5h0.9m-0.4 0h0.9m2.1 0h0.9m0.1 0h0.9m0.1 0h0.9m2.1 0h0.9m1.6 0h0.9m1.6 0h0.9m-0.4 0h0.9m-0.9 0h0.9m-0.4 0h0.9m-18.4 0.5h0.9m3.6 0h0.9m2.1 0h0.9m-0.4 0h0.9m2.1 0h0.9m3.1 0h0.9m1.6 0h0.9m0.6 0h0.9m-21.9 0.5h0.9m0.1 0h0.9m2.6 0h0.9m1.1 0h0.9m3.1 0h0.9m-0.4 0h0.9m2.1 0h0.9m-0.4 0h0.9m2.6 0h0.9m0.6 0h0.9m0.1 0h0.9m-19.9 0.5h0.9m3.6 0h0.9m0.1 0h0.9m3.1 0h0.9m1.6 0h0.9m-0.9 0h0.9m-0.4 0h0.9m0.1 0h0.9m3.1 0h0.9m0.1 0h0.9m0.1 0h0.9m-22.4 0.5h0.9m2.1 0h0.9m0.1 0h0.9m-0.9 0h0.9m0.6 0h0.9m0.6 0h0.9m-0.4 0h0.9m-0.4 0h0.9m0.6 0h0.9m1.6 0h0.9m-0.4 0h0.9m-0.4 0h0.9m-0.4 0h0.9m3.6 0h0.9m-0.4 0h0.9m-0.4 0h0.9m-21.9 0.5h0.9m0.1 0h0.9m2.6 0h0.9m1.1 0h0.9m-0.4 0h0.9m1.1 0h0.9m-0.9 0h0.9m-0.4 0h0.9m1.1 0h0.9m0.1 0h0.9m-0.4 0h0.9m3.6 0h0.9m2.1 0h0.9m0.1 0h0.9m0.6 0h0.9m1.6 0h0.9m-0.9 0h0.9m-26.9 0.5h0.9m4.1 0h0.9m1.6 0h0.9m1.1 0h0.9m0.1 0h0.9m0.6 0h0.9m0.1 0h0.9m6.1 0h0.9m1.6 0h0.9m0.1 0h0.9m1.6 0h0.9m-27.9 0.5h0.9m1.1 0h0.9m-0.4 0h0.9m2.6 0h0.9m5.6 0h0.9m-0.9 0h0.9m2.1 0h0.9m-0.9 0h0.9m0.1 0h0.9m3.1 0h0.9m1.1 0h0.9m0.1 0h0.9m-0.4 0h0.9m0.1 0h0.9m-0.4 0h0.9m-0.4 0h0.9m-26.4 0.5h0.9m0.1 0h0.9m-0.9 0h0.9m1.6 0h0.9m-0.4 0h0.9m1.1 0h0.9m1.6 0h0.9m0.1 0h0.9m2.6 0h0.9m4.1 0h0.9m5.6 0h0.9m0.6 0h0.9m-0.4 0h0.9m-28.9 0.5h0.9m2.6 0h0.9m3.1 0h0.9m0.6 0h0.9m-0.4 0h0.9m0.1 0h0.9m1.6 0h0.9m-0.4 0h0.9m0.1 0h0.9m0.1 0h0.9m-0.9 0h0.9m5.6 0h0.9m0.6 0h0.9m-0.9 0h0.9m0.6 0h0.9m-0.9 0h0.9m-0.9 0h0.9m0.6 0h0.9m1.1 0h0.9m-27.4 0.5h0.9m0.6 0h0.9m4.1 0h0.9m-0.4 0h0.9m-0.4 0h0.9m-0.9 0h0.9m0.6 0h0.9m0.6 0h0.9m3.6 0h0.9m-0.4 0h0.9m0.1 0h0.9m5.1 0h0.9m-0.4 0h0.9m1.1 0h0.9m0.1 0h0.9m-29.9 0.5h0.9m0.1 0h0.9m2.6 0h0.9m0.1 0h0.9m-0.4 0h0.9m6.1 0h0.9m1.6 0h0.9m1.1 0h0.9m3.6 0h0.9m3.1 0h0.9m-0.9 0h0.9m0.1 0h0.9m1.6 0h0.9m1.1 0h0.9m-33.9 0.5h0.9m2.1 0h0.9m0.6 0h0.9m6.6 0h0.9m0.1 0h0.9m-0.9 0h0.9m3.1 0h0.9m0.6 0h0.9m0.6 0h0.9m1.1 0h0.9m-0.9 0h0.9m2.1 0h0.9m0.1 0h0.9m-0.4 0h0.9m-25.4 0.5h0.9m3.1 0h0.9m6.1 0h0.9m0.6 0h0.9m11.6 0h0.9m0.1 0h0.9m0.1 0h0.9m-0.4 0h0.9m0.6 0h0.9m0.1 0h0.9m-0.9 0h0.9m-35.4 0.5h0.9m2.6 0h0.9m-0.4 0h0.9m0.1 0h0.9m3.6 0h0.9m2.1 0h0.9m0.1 0h0.9m-0.4 0h0.9m2.1 0h0.9m2.1 0h0.9m0.6 0h0.9m-0.9 0h0.9m-0.4 0h0.9m-0.4 0h0.9m-0.9 0h0.9m2.1 0h0.9m-0.4 0h0.9m1.1 0h0.9m-0.9 0h0.9m1.1 0h0.9m-0.4 0h0.9m3.1 0h0.9m0.6 0h0.9m-34.9 0.5h0.9m-0.4 0h0.9m-0.4 0h0.9m-0.4 0h0.9m-0.9 0h0.9m-0.9 0h0.9m-0.4 0h0.9m2.1 0h0.9m2.1 0h0.9m0.1 0h0.9m4.1 0h0.9m-0.4 0h0.9m5.1 0h0.9m4.1 0h0.9m-0.9 0h0.9m-0.9 0h0.9m-0.9 0h0.9m0.1 0h0.9m-0.9 0h0.9m-0.4 0h0.9m0.1 0h0.9m-0.9 0h0.9m0.6 0h0.9m1.1 0h0.9m3.1 0h0.9m-40.4 0.5h0.9m0.6 0h0.9m6.6 0h0.9m7.1 0h0.9m2.1 0h0.9m0.6 0h0.9m-0.4 0h0.9m0.1 0h0.9m1.6 0h0.9m3.1 0h0.9m-0.9 0h0.9m-0.4 0h0.9m1.6 0h0.9m1.6 0h0.9m-0.9 0h0.9m0.1 0h0.9m-0.4 0h0.9m1.1 0h0.9m-0.4 0h0.9m-37.9 0.5h0.9m-0.4 0h0.9m2.6 0h0.9m-0.9 0h0.9m0.1 0h0.9m-0.9 0h0.9m-0.4 0h0.9m11.6 0h0.9m0.1 0h0.9m0.1 0h0.9m-0.4 0h0.9m0.1 0h0.9m-0.4 0h0.9m-0.4 0h0.9m-0.4 0h0.9m0.6 0h0.9m1.6 0h0.9m0.6 0h0.9m0.1 0h0.9m0.1 0h0.9m3.1 0h0.9m-0.9 0h0.9m2.6 0h0.9m-36.9 0.5h0.9m-0.4 0h0.9m2.1 0h0.9m-0.4 0h0.9m2.6 0h0.9m0.6 0h0.9m1.1 0h0.9m0.1 0h0.9m0.6 0h0.9m1.1 0h0.9m9.1 0h0.9m-0.4 0h0.9m1.6 0h0.9m1.1 0h0.9m0.6 0h0.9m-0.9 0h0.9m0.1 0h0.9m-0.9 0h0.9m2.6 0h0.9m-34.9 0.5h0.9m-0.4 0h0.9m-0.9 0h0.9m1.1 0h0.9m2.1 0h0.9m2.1 0h0.9m0.1 0h0.9m0.6 0h0.9m-0.4 0h0.9m2.6 0h0.9m-0.4 0h0.9m1.1 0h0.9m4.1 0h0.9m0.1 0h0.9m-0.9 0h0.9m1.1 0h0.9m-0.4 0h0.9m-0.4 0h0.9m3.6 0h0.9m0.1 0h0.9m1.1 0h0.9m-41.4 0.5h0.9m3.1 0h0.9m0.6 0h0.9m-0.4 0h0.9m4.6 0h0.9m2.6 0h0.9m-0.9 0h0.9m-0.4 0h0.9m1.6 0h0.9m-0.9 0h0.9m0.1 0h0.9m2.1 0h0.9m2.1 0h0.9m11.6 0h0.9m0.1 0h0.9m0.1 0h0.9m-38.9 0.5h0.9m0.6 0h0.9m-0.4 0h0.9m-0.4 0h0.9m0.1 0h0.9m4.1 0h0.9m0.1 0h0.9m-0.9 0h0.9m3.1 0h0.9m3.1 0h0.9m-0.9 0h0.9m3.1 0h0.9m0.1 0h0.9m4.6 0h0.9m0.6 0h0.9m2.1 0h0.9m2.1 0h0.9m0.6 0h0.9m2.1 0h0.9m0.1 0h0.9m-44.9 0.5h0.9m6.1 0h0.9m0.1 0h0.9m3.1 0h0.9m0.1 0h0.9m1.6 0h0.9m0.1 0h0.9m0.6 0h0.9m-0.9 0h0.9m6.6 0h0.9m0.6 0h0.9m2.6 0h0.9m2.6 0h0.9m-0.4 0h0.9m-0.4 0h0.9m0.6 0h0.9m-0.4 0h0.9m1.1 0h0.9m4.1 0h0.9m0.6 0h0.9m-43.4 0.5h0.9m2.1 0h0.9m-0.4 0h0.9m0.1 0h0.9m0.1 0h0.9m-0.4 0h0.9m-0.9 0h0.9m-0.4 0h0.9m1.6 0h0.9m2.6 0h0.9m1.1 0h0.9m3.6 0h0.9m-0.4 0h0.9m0.1 0h0.9m5.6 0h0.9m1.6 0h0.9m2.6 0h0.9m3.6 0h0.9m-0.9 0h0.9m-0.4 0h0.9m1.1 0h0.9m0.6 0h0.9m-0.4 0h0.9m-0.9 0h0.9m-44.9 0.5h0.9m3.6 0h0.9m4.6 0h0.9m1.1 0h0.9m4.6 0h0.9m2.6 0h0.9m0.1 0h0.9m1.6 0h0.9m2.1 0h0.9m1.1 0h0.9m-0.4 0h0.9m-0.4 0h0.9m2.1 0h0.9m-0.4 0h0.9m1.1 0h0.9m-0.9 0h0.9m0.1 0h0.9m0.1 0h0.9m1.6 0h0.9m-0.4 0h0.9m0.6 0h0.9m0.6 0h0.9m-0.9 0h0.9m-45.9 0.5h0.9m12.1 0h0.9m-0.4 0h0.9m0.1 0h0.9m-0.4 0h0.9m0.6 0h0.9m0.6 0h0.9m0.1 0h0.9m3.1 0h0.9m4.1 0h0.9m2.6 0h0.9m-0.4 0h0.9m-0.4 0h0.9m0.6 0h0.9m4.6 0h0.9m0.6 0h0.9m3.6 0h0.9m-44.9 0.5h0.9m-0.9 0h0.9m0.1 0h0.9m5.1 0h0.9m1.6 0h0.9m0.6 0h0.9m1.6 0h0.9m3.1 0h0.9m3.6 0h0.9m-0.4 0h0.9m5.6 0h0.9m0.1 0h0.9m-0.4 0h0.9m-0.9 0h0.9m-0.4 0h0.9m0.6 0h0.9m-0.9 0h0.9m1.6 0h0.9m-0.4 0h0.9m-0.4 0h0.9m2.1 0h0.9m1.1 0h0.9m2.1 0h0.9m-44.9 0.5h0.9m2.1 0h0.9m-0.9 0h0.9m0.6 0h0.9m-0.4 0h0.9m5.6 0h0.9m-0.4 0h0.9m2.1 0h0.9m0.1 0h0.9m0.1 0h0.9m2.1 0h0.9m0.1 0h0.9m1.6 0h0.9m6.6 0h0.9m-0.9 0h0.9m-0.4 0h0.9m0.1 0h0.9m0.6 0h0.9m2.1 0h0.9m-0.9 0h0.9m2.6 0h0.9m0.1 0h0.9m0.6 0h0.9m2.1 0h0.9m-45.9 0.5h0.9m0.6 0h0.9m11.6 0h0.9m-0.9 0h0.9m0.1 0h0.9m0.6 0h0.9m0.1 0h0.9m-0.9 0h0.9m2.1 0h0.9m1.6 0h0.9m0.6 0h0.9m-0.4 0h0.9m1.1 0h0.9m0.1 0h0.9m2.1 0h0.9m-0.4 0h0.9m-0.4 0h0.9m1.6 0h0.9m-0.4 0h0.9m0.6 0h0.9m0.6 0h0.9m-0.9 0h0.9m-0.9 0h0.9m-40.4 0.5h0.9m1.1 0h0.9m-0.9 0h0.9m0.1 0h0.9m4.6 0h0.9m-0.4 0h0.9m1.1 0h0.9m-0.4 0h0.9m2.6 0h0.9m0.1 0h0.9m1.1 0h0.9m3.1 0h0.9m0.1 0h0.9m2.6 0h0.9m0.6 0h0.9m-0.9 0h0.9m-0.4 0h0.9m1.6 0h0.9m-0.4 0h0.9m-0.4 0h0.9m0.1 0h0.9m0.1 0h0.9m0.1 0h0.9m1.1 0h0.9m-37.4 0.5h0.9m1.6 0h0.9m0.1 0h0.9m1.1 0h0.9m-0.4 0h0.9m6.1 0h0.9m2.1 0h0.9m3.1 0h0.9m-0.4 0h0.9m-0.4 0h0.9m2.6 0h0.9m2.1 0h0.9m0.6 0h0.9m-0.4 0h0.9m0.6 0h0.9m-0.9 0h0.9m1.6 0h0.9m0.1 0h0.9m1.1 0h0.9m2.1 0h0.9m-0.9 0h0.9m1.6 0h0.9m1.1 0h0.9m0.6 0h0.9m-40.9 0.5h0.9m-0.4 0h0.9m0.6 0h0.9m0.1 0h0.9m3.1 0h0.9m0.6 0h0.9m-0.4 0h0.9m1.1 0h0.9m-0.4 0h0.9m1.6 0h0.9m4.1 0h0.9m5.6 0h0.9m1.6 0h0.9m0.1 0h0.9m0.1 0h0.9m-0.9 0h0.9m0.6 0h0.9m0.1 0h0.9m1.1 0h0.9m-0.9 0h0.9m0.1 0h0.9m1.6 0h0.9m2.6 0h0.9m-47.9 0.5h0.9m0.6 0h0.9m6.6 0h0.9m17.1 0h0.9m2.6 0h0.9m0.1 0h0.9m2.1 0h0.9m-0.4 0h0.9m2.6 0h0.9m0.6 0h0.9m-0.4 0h0.9m-0.9 0h0.9m3.6 0h0.9m-40.9 0.5h0.9m5.6 0h0.9m0.1 0h0.9m1.6 0h0.9m-0.4 0h0.9m1.6 0h0.9m3.6 0h0.9m3.6 0h0.9m1.1 0h0.9m0.6 0h0.9m-0.9 0h0.9m1.1 0h0.9m-0.4 0h0.9m-0.4 0h0.9m-0.9 0h0.9m0.6 0h0.9m-0.4 0h0.9m3.6 0h0.9m1.1 0h0.9m-37.4 0.5h0.9m5.6 0h0.9m0.1 0h0.9m3.6 0h0.9m11.1 0h0.9m-0.4 0h0.9m3.1 0h0.9m1.1 0h0.9m0.1 0h0.9m-0.9 0h0.9m-0.4 0h0.9m1.1 0h0.9m0.6 0h0.9m0.6 0h0.9m1.6 0h0.9m0.1 0h0.9m-47.4 0.5h0.9m1.1 0h0.9m4.1 0h0.9m3.6 0h0.9m-0.4 0h0.9m4.6 0h0.9m-0.4 0h0.9m-0.4 0h0.9m0.1 0h0.9m1.1 0h0.9m6.6 0h0.9m0.1 0h0.9m0.1 0h0.9m0.6 0h0.9m3.1 0h0.9m2.1 0h0.9m-0.4 0h0.9m1.6 0h0.9m4.1 0h0.9m-0.4 0h0.9m-44.9 0.5h0.9m-0.4 0h0.9m-0.9 0h0.9m7.6 0h0.9m1.1 0h0.9m1.6 0h0.9m5.6 0h0.9m3.1 0h0.9m2.6 0h0.9m2.6 0h0.9m1.1 0h0.9m1.1 0h0.9m-0.9 0h0.9m-0.9 0h0.9m1.6 0h0.9m0.6 0h0.9m0.6 0h0.9m2.6 0h0.9m-48.4 0.5h0.9m0.1 0h0.9m5.6 0h0.9m4.6 0h0.9m13.1 0h0.9m5.1 0h0.9m3.1 0h0.9m3.6 0h0.9m5.1 0h0.9m-0.4 0h0.9m0.1 0h0.9m-0.4 0h0.9m-51.4 0.5h0.9m-0.4 0h0.9m2.6 0h0.9m-0.9 0h0.9m1.1 0h0.9m1.6 0h0.9m13.1 0h0.9m6.1 0h0.9m1.1 0h0.9m-0.4 0h0.9m-0.4 0h0.9m0.1 0h0.9m7.1 0h0.9m-0.4 0h0.9m0.1 0h0.9m3.1 0h0.9m1.1 0h0.9m-45.9 0.5h0.9m-0.9 0h0.9m10.1 0h0.9m2.1 0h0.9m9.1 0h0.9m-0.9 0h0.9m4.6 0h0.9m4.6 0h0.9m-0.9 0h0.9m-0.9 0h0.9m0.1 0h0.9m-0.4 0h0.9m4.1 0h0.9m-0.4 0h0.9m0.1 0h0.9m-0.9 0h0.9m-47.4 0.5h0.9m-0.4 0h0.9m17.6 0h0.9m6.6 0h0.9m-0.4 0h0.9m7.1 0h0.9m1.1 0h0.9m0.1 0h0.9m1.1 0h0.9m3.1 0h0.9m0.1 0h0.9m0.1 0h0.9m-0.4 0h0.9m3.1 0h0.9m-30.4 0.5h0.9m3.1 0h0.9m0.1 0h0.9m0.6 0h0.9m2.1 0h0.9m2.1 0h0.9m1.1 0h0.9m-0.4 0h0.9m3.1 0h0.9m2.1 0h0.9m0.1 0h0.9m4.6 0h0.9m-46.4 0.5h0.9m-0.4 0h0.9m1.1 0h0.9m0.6 0h0.9m20.1 0h0.9m-0.4 0h0.9m-0.4 0h0.9m5.6 0h0.9m-0.4 0h0.9m1.6 0h0.9m0.1 0h0.9m-0.9 0h0.9m5.1 0h0.9m-0.4 0h0.9m-45.9 0.5h0.9m1.1 0h0.9m2.6 0h0.9m28.6 0h0.9m2.6 0h0.9m2.1 0h0.9m-43.4 0.5h0.9m5.1 0h0.9m22.6 0h0.9m2.6 0h0.9m1.1 0h0.9m1.1 0h0.9m1.1 0h0.9m0.1 0h0.9m-39.9 0.5h0.9m1.6 0h0.9m18.6 0h0.9m3.1 0h0.9m0.6 0h0.9m-0.4 0h0.9m2.1 0h0.9m0.1 0h0.9m3.1 0h0.9m-0.9 0h0.9m1.6 0h0.9m4.1 0h0.9m2.1 0h0.9m-41.4 0.5h0.9m22.1 0h0.9m0.1 0h0.9m1.6 0h0.9m6.1 0h0.9m-17.4 0.5h0.9m11.6 0h0.9m1.1 0h0.9m2.6 0h0.9m4.6 0h0.9m-0.9 0h0.9m-22.9 0.5h0.9m3.6 0h0.9m-0.4 0h0.9m-0.4 0h0.9m-0.9 0h0.9m1.1 0h0.9m3.1 0h0.9m-0.4 0h0.9m0.6 0h0.9m2.1 0h0.9m4.6 0h0.9m-43.4 0.5h0.9m5.6 0h0.9m13.6 0h0.9m-0.9 0h0.9m4.1 0h0.9m2.1 0h0.9m9.6 0h0.9m-22.4 0.5h0.9m2.6 0h0.9m0.6 0h0.9m2.1 0h0.9m0.6 0h0.9m1.1 0h0.9m0.6 0h0.9m-0.4 0h0.9m-0.9 0h0.9m1.1 0h0.9m-0.4 0h0.9m0.6 0h0.9m1.1 0h0.9m-36.4 0.5h0.9m6.6 0h0.9m0.1 0h0.9m16.1 0h0.9m4.1 0h0.9m0.6 0h0.9m1.1 0h0.9m-0.9 0h0.9m5.1 0h0.9m-43.4 0.5h0.9m16.6 0h0.9m1.1 0h0.9m2.6 0h0.9m2.1 0h0.9m3.1 0h0.9m7.1 0h0.9m0.1 0h0.9m-0.4 0h0.9m1.6 0h0.9m-47.9 0.5h0.9m12.1 0h0.9m1.1 0h0.9m9.1 0h0.9m0.6 0h0.9m7.6 0h0.9m0.6 0h0.9m-35.9 0.5h0.9m0.6 0h0.9m6.6 0h0.9m-0.4 0h0.9m2.1 0h0.9m12.6 0h0.9m0.6 0h0.9m4.6 0h0.9m-17.9 0.5h0.9m1.1 0h0.9m-0.9 0h0.9m3.1 0h0.9m2.6 0h0.9m0.6 0h0.9m1.6 0h0.9m0.6 0h0.9m1.6 0h0.9m2.1 0h0.9m-39.4 0.5h0.9m0.6 0h0.9m4.6 0h0.9m8.1 0h0.9m11.1 0h0.9m0.1 0h0.9m2.6 0h0.9m-0.4 0h0.9m-0.9 0h0.9m-0.4 0h0.9m9.1 0h0.9m-19.9 0.5h0.9m0.1 0h0.9m4.6 0h0.9m2.1 0h0.9m3.6 0h0.9m-32.9 0.5h0.9m15.6 0h0.9m1.6 0h0.9m3.6 0h0.9m-0.9 0h0.9m-0.9 0h0.9m0.1 0h0.9m-0.9 0h0.9m1.6 0h0.9m0.6 0h0.9m2.1 0h0.9m2.1 0h0.9m4.1 0h0.9m-45.4 0.5h0.9m0.1 0h0.9m0.1 0h0.9m0.1 0h0.9m6.1 0h0.9m3.1 0h0.9m3.6 0h0.9m6.1 0h0.9m0.1 0h0.9m-0.4 0h0.9m0.6 0h0.9m0.1 0h0.9m-0.4 0h0.9m1.1 0h0.9m10.6 0h0.9m0.1 0h0.9m-46.4 0.5h0.9m-0.4 0h0.9m-0.4 0h0.9m0.1 0h0.9m1.1 0h0.9m4.1 0h0.9m3.6 0h0.9m9.1 0h0.9m-0.9 0h0.9m1.6 0h0.9m-0.4 0h0.9m-0.9 0h0.9m1.1 0h0.9m-0.4 0h0.9m-0.4 0h0.9m-0.9 0h0.9m-0.4 0h0.9m-0.9 0h0.9m1.1 0h0.9m1.1 0h0.9m1.1 0h0.9m-0.4 0h0.9m2.1 0h0.9m3.6 0h0.9m-44.9 0.5h0.9m2.1 0h0.9m-0.4 0h0.9m9.6 0h0.9m3.6 0h0.9m6.6 0h0.9m0.1 0h0.9m-0.4 0h0.9m0.6 0h0.9m3.1 0h0.9m-0.4 0h0.9m0.6 0h0.9m6.6 0h0.9m-0.4 0h0.9m1.1 0h0.9m-46.4 0.5h0.9m3.6 0h0.9m18.6 0h0.9m2.1 0h0.9m-0.4 0h0.9m0.1 0h0.9m0.1 0h0.9m-0.4 0h0.9m0.1 0h0.9m-0.4 0h0.9m2.1 0h0.9m5.1 0h0.9m4.6 0h0.9m-46.9 0.5h0.9m0.6 0h0.9m2.6 0h0.9m19.1 0h0.9m1.6 0h0.9m-0.4 0h0.9m3.6 0h0.9m0.1 0h0.9m-0.4 0h0.9m-0.9 0h0.9m0.1 0h0.9m11.1 0h0.9m-46.9 0.5h0.9m0.6 0h0.9m9.1 0h0.9m0.1 0h0.9m11.6 0h0.9m0.1 0h0.9m0.6 0h0.9m-0.9 0h0.9m0.6 0h0.9m1.1 0h0.9m3.6 0h0.9m1.6 0h0.9m3.6 0h0.9m-38.4 0.5h0.9m18.1 0h0.9m5.1 0h0.9m-0.9 0h0.9m0.1 0h0.9m14.1 0h0.9m-43.4 0.5h0.9m-0.4 0h0.9m-0.4 0h0.9m16.6 0h0.9m1.1 0h0.9m-0.4 0h0.9m3.1 0h0.9m3.1 0h0.9m4.1 0h0.9m5.1 0h0.9m-0.4 0h0.9m-0.4 0h0.9m0.1 0h0.9m-41.9 0.5h0.9m10.1 0h0.9m8.6 0h0.9m0.6 0h0.9m0.6 0h0.9m-0.9 0h0.9m0.6 0h0.9m1.1 0h0.9m-0.9 0h0.9m-0.4 0h0.9m4.1 0h0.9m2.6 0h0.9m2.6 0h0.9m-0.4 0h0.9m-41.9 0.5h0.9m17.6 0h0.9m0.6 0h0.9m-0.4 0h0.9m-0.9 0h0.9m2.6 0h0.9m2.6 0h0.9m2.1 0h0.9m0.1 0h0.9m-33.4 0.5h0.9m3.6 0h0.9m18.1 0h0.9m4.1 0h0.9m2.1 0h0.9m1.1 0h0.9m3.1 0h0.9m-37.4 0.5h0.9m6.6 0h0.9m3.1 0h0.9m6.1 0h0.9m4.6 0h0.9m3.6 0h0.9m0.6 0h0.9m-0.9 0h0.9m1.1 0h0.9m0.6 0h0.9m1.6 0h0.9m-0.4 0h0.9m0.1 0h0.9m4.1 0h0.9m-0.9 0h0.9m-0.9 0h0.9m-42.4 0.5h0.9m2.6 0h0.9m-0.4 0h0.9m-0.4 0h0.9m15.1 0h0.9m1.1 0h0.9m0.1 0h0.9m-0.4 0h0.9m6.1 0h0.9m5.1 0h0.9m-0.4 0h0.9m0.1 0h0.9m-0.4 0h0.9m0.1 0h0.9m0.1 0h0.9m-42.4 0.5h0.9m0.6 0h0.9m0.6 0h0.9m0.6 0h0.9m5.6 0h0.9m9.1 0h0.9m4.1 0h0.9m1.1 0h0.9m0.1 0h0.9m0.1 0h0.9m0.1 0h0.9m2.6 0h0.9m-0.4 0h0.9m3.1 0h0.9m1.6 0h0.9m0.1 0h0.9m-26.4 0.5h0.9m14.1 0h0.9m-0.9 0h0.9m3.1 0h0.9m-0.9 0h0.9m1.1 0h0.9m-0.4 0h0.9m-16.9 0.5h0.9m-0.4 0h0.9m2.1 0h0.9m2.1 0h0.9m0.1 0h0.9m2.6 0h0.9m-0.4 0h0.9m0.6 0h0.9m0.6 0h0.9m-0.4 0h0.9m-0.9 0h0.9m0.1 0h0.9m0.6 0h0.9m-0.4 0h0.9m1.6 0h0.9m0.6 0h0.9m-37.9 0.5h0.9m1.6 0h0.9m-0.4 0h0.9m1.6 0h0.9m3.1 0h0.9m0.6 0h0.9m4.1 0h0.9m5.6 0h0.9m0.1 0h0.9m3.1 0h0.9m-0.9 0h0.9m-0.4 0h0.9m0.1 0h0.9m0.6 0h0.9m-0.4 0h0.9m-35.9 0.5h0.9m7.6 0h0.9m-0.9 0h0.9m2.6 0h0.9m-0.9 0h0.9m0.1 0h0.9m4.1 0h0.9m-0.4 0h0.9m8.1 0h0.9m0.6 0h0.9m-0.9 0h0.9m1.1 0h0.9m-30.4 0.5h0.9m6.1 0h0.9m3.6 0h0.9m0.1 0h0.9m5.1 0h0.9m2.6 0h0.9m-0.9 0h0.9m2.1 0h0.9m-0.4 0h0.9m3.6 0h0.9m-0.4 0h0.9m1.1 0h0.9m1.6 0h0.9m1.6 0h0.9m0.6 0h0.9m-0.4 0h0.9m-0.4 0h0.9m-0.9 0h0.9m-34.4 0.5h0.9m-0.4 0h0.9m0.1 0h0.9m10.1 0h0.9m1.1 0h0.9m0.1 0h0.9m-0.4 0h0.9m2.6 0h0.9m7.6 0h0.9m-0.9 0h0.9m-0.4 0h0.9m2.6 0h0.9m-0.4 0h0.9m-0.4 0h0.9m-37.9 0.5h0.9m-0.9 0h0.9m-0.4 0h0.9m-0.4 0h0.9m3.6 0h0.9m3.6 0h0.9m-0.9 0h0.9m2.1 0h0.9m-0.9 0h0.9m0.6 0h0.9m2.1 0h0.9m-0.9 0h0.9m2.1 0h0.9m0.1 0h0.9m-0.9 0h0.9m1.6 0h0.9m1.1 0h0.9m1.6 0h0.9m1.1 0h0.9m-0.9 0h0.9m-0.4 0h0.9m3.1 0h0.9m-0.4 0h0.9m-34.4 0.5h0.9m1.6 0h0.9m-0.9 0h0.9m11.1 0h0.9m-0.9 0h0.9m-0.4 0h0.9m1.6 0h0.9m1.6 0h0.9m3.1 0h0.9m0.1 0h0.9m-0.9 0h0.9m2.6 0h0.9m0.1 0h0.9m-0.4 0h0.9m-0.4 0h0.9m-0.4 0h0.9m1.1 0h0.9m0.6 0h0.9m-34.9 0.5h0.9m0.1 0h0.9m1.6 0h0.9m1.6 0h0.9m0.1 0h0.9m-0.9 0h0.9m4.1 0h0.9m2.6 0h0.9m0.1 0h0.9m1.1 0h0.9m0.1 0h0.9m-0.4 0h0.9m1.6 0h0.9m3.1 0h0.9m0.1 0h0.9m4.1 0h0.9m0.6 0h0.9m-38.4 0.5h0.9m1.6 0h0.9m2.1 0h0.9m1.1 0h0.9m3.1 0h0.9m6.1 0h0.9m-0.4 0h0.9m-0.9 0h0.9m-0.4 0h0.9m0.1 0h0.9m-0.4 0h0.9m0.1 0h0.9m-0.4 0h0.9m2.1 0h0.9m-0.9 0h0.9m4.6 0h0.9m-0.4 0h0.9m-31.9 0.5h0.9m0.1 0h0.9m0.6 0h0.9m0.6 0h0.9m2.1 0h0.9m-0.9 0h0.9m2.6 0h0.9m-0.9 0h0.9m-0.4 0h0.9m0.1 0h0.9m2.6 0h0.9m0.1 0h0.9m3.1 0h0.9m-0.9 0h0.9m-0.4 0h0.9m-0.9 0h0.9m-0.9 0h0.9m0.6 0h0.9m4.1 0h0.9m0.6 0h0.9m0.1 0h0.9m-0.9 0h0.9m0.1 0h0.9m-0.4 0h0.9m4.1 0h0.9m-34.9 0.5h0.9m3.6 0h0.9m-0.9 0h0.9m2.1 0h0.9m-0.4 0h0.9m5.1 0h0.9m2.6 0h0.9m-0.4 0h0.9m-0.4 0h0.9m1.6 0h0.9m4.6 0h0.9m0.1 0h0.9m-0.4 0h0.9m-0.9 0h0.9m2.1 0h0.9m0.6 0h0.9m2.6 0h0.9m-37.9 0.5h0.9m1.1 0h0.9m2.1 0h0.9m0.1 0h0.9m1.1 0h0.9m4.1 0h0.9m-0.9 0h0.9m0.6 0h0.9m1.6 0h0.9m1.1 0h0.9m2.6 0h0.9m0.1 0h0.9m1.6 0h0.9m0.1 0h0.9m-0.9 0h0.9m-0.4 0h0.9m-0.9 0h0.9m6.1 0h0.9m-35.4 0.5h0.9m-0.9 0h0.9m2.6 0h0.9m-0.4 0h0.9m0.1 0h0.9m-0.9 0h0.9m0.1 0h0.9m2.1 0h0.9m0.6 0h0.9m1.1 0h0.9m4.1 0h0.9m0.1 0h0.9m-0.4 0h0.9m1.1 0h0.9m0.1 0h0.9m-0.4 0h0.9m-0.4 0h0.9m-0.4 0h0.9m2.6 0h0.9m1.1 0h0.9m0.1 0h0.9m-0.9 0h0.9m0.1 0h0.9m-0.4 0h0.9m1.6 0h0.9m-35.4 0.5h0.9m1.6 0h0.9m-0.4 0h0.9m0.6 0h0.9m2.6 0h0.9m1.6 0h0.9m0.6 0h0.9m0.1 0h0.9m-0.9 0h0.9m2.1 0h0.9m1.1 0h0.9m-0.4 0h0.9m-0.4 0h0.9m1.6 0h0.9m-0.9 0h0.9m2.6 0h0.9m1.1 0h0.9m6.1 0h0.9m-0.4 0h0.9m0.6 0h0.9m0.1 0h0.9m-36.9 0.5h0.9m-0.4 0h0.9m1.6 0h0.9m0.1 0h0.9m0.1 0h0.9m1.1 0h0.9m-0.4 0h0.9m1.1 0h0.9m0.1 0h0.9m0.1 0h0.9m0.1 0h0.9m-0.4 0h0.9m0.6 0h0.9m8.1 0h0.9m-0.9 0h0.9m0.1 0h0.9m4.6 0h0.9m2.6 0h0.9m1.1 0h0.9m-35.4 0.5h0.9m0.6 0h0.9m-0.4 0h0.9m1.1 0h0.9m0.1 0h0.9m-0.9 0h0.9m-0.4 0h0.9m3.1 0h0.9m0.6 0h0.9m2.1 0h0.9m1.1 0h0.9m-0.9 0h0.9m-0.4 0h0.9m2.1 0h0.9m2.1 0h0.9m0.6 0h0.9m-0.4 0h0.9m4.6 0h0.9m-29.9 0.5h0.9m1.6 0h0.9m0.1 0h0.9m0.1 0h0.9m2.1 0h0.9m-0.9 0h0.9m0.1 0h0.9m3.6 0h0.9m-0.4 0h0.9m5.6 0h0.9m4.6 0h0.9m2.1 0h0.9m0.1 0h0.9m3.1 0h0.9m-29.4 0.5h0.9m14.1 0h0.9m-0.9 0h0.9m-0.4 0h0.9m-0.4 0h0.9m-0.9 0h0.9m-0.4 0h0.9m0.1 0h0.9m-0.4 0h0.9m0.6 0h0.9m-0.9 0h0.9m-0.9 0h0.9m1.1 0h0.9m-0.9 0h0.9m2.6 0h0.9m0.1 0h0.9m0.1 0h0.9m-33.9 0.5h0.9m1.1 0h0.9m1.6 0h0.9m-0.4 0h0.9m-0.4 0h0.9m8.6 0h0.9m4.1 0h0.9m-0.4 0h0.9m1.1 0h0.9m4.6 0h0.9m-0.9 0h0.9m4.6 0h0.9m-32.4 0.5h0.9m2.6 0h0.9m4.1 0h0.9m3.6 0h0.9m3.1 0h0.9m1.6 0h0.9m0.1 0h0.9m0.6 0h0.9m-0.9 0h0.9m2.1 0h0.9m2.1 0h0.9m0.1 0h0.9m-29.4 0.5h0.9m-0.4 0h0.9m4.6 0h0.9m0.6 0h0.9m0.1 0h0.9m0.6 0h0.9m0.6 0h0.9m2.1 0h0.9m2.1 0h0.9m0.1 0h0.9m0.1 0h0.9m-0.9 0h0.9m-0.4 0h0.9m0.6 0h0.9m2.1 0h0.9m1.6 0h0.9m-27.4 0.5h0.9m1.1 0h0.9m4.1 0h0.9m-0.4 0h0.9m0.1 0h0.9m4.1 0h0.9m5.1 0h0.9m0.1 0h0.9m0.6 0h0.9m1.1 0h0.9m-0.4 0h0.9m-0.4 0h0.9m0.6 0h0.9m-0.4 0h0.9m-29.4 0.5h0.9m0.1 0h0.9m-0.4 0h0.9m-0.9 0h0.9m0.1 0h0.9m-0.4 0h0.9m5.6 0h0.9m0.6 0h0.9m-0.4 0h0.9m0.6 0h0.9m1.6 0h0.9m-0.9 0h0.9m-0.4 0h0.9m3.6 0h0.9m-0.9 0h0.9m-0.4 0h0.9m-0.4 0h0.9m-0.4 0h0.9m0.6 0h0.9m-0.4 0h0.9m1.1 0h0.9m5.1 0h0.9m-32.9 0.5h0.9m1.1 0h0.9m3.6 0h0.9m5.6 0h0.9m0.6 0h0.9m1.6 0h0.9m-0.4 0h0.9m0.1 0h0.9m6.1 0h0.9m3.1 0h0.9m0.1 0h0.9m-30.9 0.5h0.9m8.1 0h0.9m1.6 0h0.9m0.6 0h0.9m1.6 0h0.9m-0.9 0h0.9m1.1 0h0.9m0.6 0h0.9m3.1 0h0.9m-0.4 0h0.9m7.6 0h0.9m-31.9 0.5h0.9m0.1 0h0.9m-0.4 0h0.9m1.1 0h0.9m5.1 0h0.9m3.6 0h0.9m-0.9 0h0.9m0.6 0h0.9m1.6 0h0.9m3.1 0h0.9m4.1 0h0.9m-28.9 0.5h0.9m5.6 0h0.9m1.1 0h0.9m-0.4 0h0.9m2.1 0h0.9m-0.4 0h0.9m3.1 0h0.9m0.1 0h0.9m0.1 0h0.9m0.1 0h0.9m1.6 0h0.9m2.1 0h0.9m1.1 0h0.9m-27.4 0.5h0.9m-0.4 0h0.9m1.6 0h0.9m1.6 0h0.9m4.6 0h0.9m0.1 0h0.9m0.1 0h0.9m1.1 0h0.9m-0.4 0h0.9m-0.9 0h0.9m3.1 0h0.9m0.1 0h0.9m2.6 0h0.9m-0.9 0h0.9m3.1 0h0.9m-0.4 0h0.9m-29.9 0.5h0.9m4.1 0h0.9m6.6 0h0.9m2.1 0h0.9m-0.4 0h0.9m-0.4 0h0.9m0.1 0h0.9m0.1 0h0.9m-0.4 0h0.9m1.6 0h0.9m2.6 0h0.9m-24.4 0.5h0.9m3.6 0h0.9m3.1 0h0.9m2.6 0h0.9m-0.9 0h0.9m0.1 0h0.9m0.1 0h0.9m1.1 0h0.9m1.1 0h0.9m-0.4 0h0.9m-0.9 0h0.9m3.6 0h0.9m1.6 0h0.9m-22.4 0.5h0.9m1.1 0h0.9m0.1 0h0.9m-0.4 0h0.9m7.1 0h0.9m0.1 0h0.9m1.1 0h0.9m1.6 0h0.9m-20.9 0.5h0.9m-0.4 0h0.9m5.1 0h0.9m3.1 0h0.9m-0.9 0h0.9m0.1 0h0.9m4.1 0h0.9m1.6 0h0.9m0.1 0h0.9m0.6 0h0.9m-0.4 0h0.9m-24.4 0.5h0.9m-0.4 0h0.9m11.1 0h0.9m4.6 0h0.9m-14.9 0.5h0.9m9.1 0h0.9m-0.4 0h0.9m5.6 0h0.9m-0.4 0h0.9m1.1 0h0.9m-16.9 0.5h0.9m9.6 0h0.9m-0.4 0h0.9m0.6 0h0.9m-18.4 0.5h0.9m13.1 0h0.9m0.1 0h0.9m-0.9 0h0.9m-0.9 0h0.9m3.1 0h0.9m-19.4 0.5h0.9m4.1 0h0.9m11.1 0h0.9m0.1 0h0.9m-16.4 0.5h0.9m0.1 0h0.9m-0.4 0h0.9m8.1 0h0.9m0.6 0h0.9m1.1 0h0.9m0.6 0h0.9m-20.4 0.5h0.9m0.6 0h0.9m15.6 0h0.9m-18.4 0.5h0.9m11.6 0h0.9m0.6 0h0.9m2.6 0h0.9m-17.9 0.5h0.9m6.6 0h0.9m7.1 0h0.9m-14.9 0.5h0.9m2.6 0h0.9m1.6 0h0.9m0.1 0h0.9m0.1 0h0.9m0.1 0h0.9m-9.9 0.5h0.9m1.1 0.5h0.9" stroke="#5db332" stroke-width="0.9" stroke-opacity="0.7" fill="none"/>
<path d="M242 34h0.9m-4.9 0.5h0.9m0.1 0.5h0.9m-8.9 1.5h0.9m9.1 0h0.9m1.6 0h0.9m0.1 0h0.9m-13.4 0.5h0.9m-0.9 0h0.9m8.1 0h0.9m1.6 0h0.9m-17.4 0.5h0.9m3.1 0h0.9m1.6 0h0.9m-5.9 0.5h0.9m-0.4 0h0.9m-0.4 0h0.9m2.6 0h0.9m-0.4 0h0.9m0.1 0h0.9m-5.4 0.5h0.9m1.6 0h0.9m3.1 0h0.9m-7.9 0.5h0.9m-0.9 0h0.9m-0.4 0h0.9m-0.4 0h0.9m-0.4 0h0.9m-1.9 0.5h0.9m1.6 0h0.9m-1.9 0.5h0.9m-2.4 0.5h0.9m0.6 0h0.9m79.1 11h0.9m1.6 0h0.9m-4.4 0.5h0.9m0.6 0h0.9m-0.9 0h0.9m-0.9 0h0.9m0.1 0h0.9m0.1 0h0.9m0.1 0h0.9m-8.9 0.5h0.9m0.1 0h0.9m2.1 0h0.9m0.1 0h0.9m2.6 0h0.9m-0.4 0h0.9m-12.4 0.5h0.9m0.6 0h0.9m-0.9 0h0.9m0.6 0h0.9m0.6 0h0.9m-0.9 0h0.9m3.1 0h0.9m-8.4 0.5h0.9m0.1 0h0.9m0.1 0h0.9m-0.9 0h0.9m1.1 0h0.9m2.1 0h0.9m-0.9 0h0.9m5.1 0h0.9m-0.4 0h0.9m-16.9 0.5h0.9m0.6 0h0.9m-0.4 0h0.9m-0.4 0h0.9m-0.4 0h0.9m2.1 0h0.9m0.6 0h0.9m0.6 0h0.9m-0.4 0h0.9m-0.4 0h0.9m0.1 0h0.9m-1.4 0.5h0.9m-4.9 0.5h0.9m3.6 0h0.9m-0.4 0h0.9m-0.4 0h0.9m0.1 0h0.9m-0.9 0h0.9m4.6 0h0.9m-21.9 0.5h0.9m1.6 0h0.9m1.6 0h0.9m0.6 0h0.9m0.1 0h0.9m3.6 0h0.9m2.1 0h0.9m0.1 0h0.9m3.1 0h0.9m-20.9 0.5h0.9m-0.4 0h0.9m1.6 0h0.9m0.1 0h0.9m1.1 0h0.9m1.6 0h0.9m2.1 0h0.9m1.1 0h0.9m0.1 0h0.9m3.1 0h0.9m0.6 0h0.9m1.1 0h0.9m-23.4 0.5h0.9m1.1 0h0.9m6.1 0h0.9m1.1 0h0.9m-0.4 0h0.9m0.6 0h0.9m0.6 0h0.9m1.1 0h0.9m2.6 0h0.9m-21.9 0.5h0.9m1.6 0h0.9m1.1 0h0.9m2.1 0h0.9m0.6 0h0.9m2.1 0h0.9m-0.4 0h0.9m4.1 0h0.9m-0.4 0h0.9m0.1 0h0.9m2.6 0h0.9m-25.4 0.5h0.9m-0.4 0h0.9m-0.4 0h0.9m0.6 0h0.9m1.1 0h0.9m10.1 0h0.9m1.1 0h0.9m-0.4 0h0.9m0.6 0h0.9m-0.9 0h0.9m1.1 0h0.9m0.1 0h0.9m-0.9 0h0.9m-0.4 0h0.9m1.6 0h0.9m0.1 0h0.9m-22.4 0.5h0.9m2.1 0h0.9m-0.9 0h0.9m2.1 0h0.9m-0.4 0h0.9m0.1 0h0.9m0.1 0h0.9m0.1 0h0.9m-0.9 0h0.9m0.6 0h0.9m0.1 0h0.9m-0.9 0h0.9m0.6 0h0.9m3.1 0h0.9m0.6 0h0.9m1.1 0h0.9m-27.4 0.5h0.9m-0.9 0h0.9m5.1 0h0.9m0.1 0h0.9m0.6 0h0.9m2.1 0h0.9m13.1 0h0.9m0.1 0h0.9m-0.4 0h0.9m-25.9 0.5h0.9m0.1 0h0.9m2.1 0h0.9m4.1 0h0.9m4.1 0h0.9m1.1 0h0.9m4.1 0h0.9m-0.4 0h0.9m3.1 0h0.9m-0.4 0h0.9m-32.4 0.5h0.9m-0.4 0h0.9m1.1 0h0.9m-0.9 0h0.9m1.6 0h0.9m0.1 0h0.9m3.6 0h0.9m-0.9 0h0.9m0.6 0h0.9m2.1 0h0.9m1.1 0h0.9m2.6 0h0.9m0.6 0h0.9m2.1 0h0.9m-0.4 0h0.9m3.1 0h0.9m-24.9 0.5h0.9m6.6 0h0.9m1.1 0h0.9m0.1 0h0.9m-0.4 0h0.9m-0.4 0h0.9m10.1 0h0.9m0.1 0h0.9m-0.4 0h0.9m-0.9 0h0.9m-31.9 0.5h0.9m4.1 0h0.9m1.1 0h0.9m0.6 0h0.9m-0.9 0h0.9m1.1 0h0.9m0.6 0h0.9m-0.4 0h0.9m-0.9 0h0.9m0.1 0h0.9m0.1 0h0.9m-0.4 0h0.9m3.1 0h0.9m4.1 0h0.9m0.1 0h0.9m3.1 0h0.9m-0.4 0h0.9m1.1 0h0.9m-0.9 0h0.9m1.1 0h0.9m-35.4 0.5h0.9m2.6 0h0.9m0.6 0h0.9m0.6 0h0.9m0.1 0h0.9m0.6 0h0.9m-0.4 0h0.9m6.1 0h0.9m1.6 0h0.9m-0.9 0h0.9m0.1 0h0.9m0.1 0h0.9m2.1 0h0.9m1.1 0h0.9m0.6 0h0.9m2.1 0h0.9m-31.9 0.5h0.9m-0.4 0h0.9m1.1 0h0.9m-0.9 0h0.9m2.6 0h0.9m-0.9 0h0.9m2.1 0h0.9m0.1 0h0.9m0.6 0h0.9m1.1 0h0.9m-0.9 0h0.9m4.1 0h0.9m0.1 0h0.9m0.6 0h0.9m0.6 0h0.9m0.1 0h0.9m0.1 0h0.9m4.1 0h0.9m-0.9 0h0.9m2.6 0h0.9m1.1 0h0.9m-0.4 0h0.9m-33.9 0.5h0.9m-0.4 0h0.9m1.1 0h0.9m6.1 0h0.9m-0.4 0h0.9m0.1 0h0.9m-0.4 0h0.9m1.6 0h0.9m1.1 0h0.9m-0.4 0h0.9m2.1 0h0.9m4.1 0h0.9m2.6 0h0.9m0.1 0h0.9m-34.4 0.5h0.9m1.6 0h0.9m-0.9 0h0.9m1.6 0h0.9m1.1 0h0.9m1.1 0h0.9m8.6 0h0.9m-0.4 0h0.9m0.6 0h0.9m0.6 0h0.9m1.1 0h0.9m1.1 0h0.9m-0.4 0h0.9m-0.4 0h0.9m0.1 0h0.9m2.6 0h0.9m2.6 0h0.9m0.6 0h0.9m-0.4 0h0.9m-0.4 0h0.9m-39.9 0.5h0.9m-0.9 0h0.9m4.6 0h0.9m-0.4 0h0.9m0.1 0h0.9m0.6 0h0.9m1.1 0h0.9m0.1 0h0.9m0.6 0h0.9m-0.9 0h0.9m-0.4 0h0.9m3.6 0h0.9m4.1 0h0.9m-0.9 0h0.9m1.6 0h0.9m6.6 0h0.9m2.6 0h0.9m0.6 0h0.9m1.1 0h0.9m-39.9 0.5h0.9m1.6 0h0.9m2.1 0h0.9m0.6 0h0.9m0.6 0h0.9m0.1 0h0.9m0.6 0h0.9m3.1 0h0.9m2.1 0h0.9m0.6 0h0.9m4.1 0h0.9m2.1 0h0.9m0.6 0h0.9m5.1 0h0.9m-0.4 0h0.9m-35.4 0.5h0.9m7.1 0h0.9m-0.4 0h0.9m1.6 0h0.9m4.1 0h0.9m-0.4 0h0.9m0.1 0h0.9m-0.9 0h0.9m2.1 0h0.9m2.1 0h0.9m-0.4 0h0.9m-0.4 0h0.9m1.1 0h0.9m1.6 0h0.9m-0.4 0h0.9m1.6 0h0.9m1.1 0h0.9m1.1 0h0.9m0.1 0h0.9m-40.9 0.5h0.9m0.1 0h0.9m-0.9 0h0.9m-0.4 0h0.9m-0.9 0h0.9m2.1 0h0.9m1.1 0h0.9m0.6 0h0.9m1.1 0h0.9m2.1 0h0.9m1.1 0h0.9m0.6 0h0.9m7.6 0h0.9m0.1 0h0.9m0.6 0h0.9m0.1 0h0.9m1.6 0h0.9m2.1 0h0.9m-0.4 0h0.9m1.6 0h0.9m1.6 0h0.9m-0.4 0h0.9m0.1 0h0.9m-44.4 0.5h0.9m-0.9 0h0.9m0.1 0h0.9m3.6 0h0.9m-0.4 0h0.9m-0.9 0h0.9m-0.4 0h0.9m-0.9 0h0.9m1.1 0h0.9m-0.9 0h0.9m3.1 0h0.9m0.1 0h0.9m0.6 0h0.9m-0.4 0h0.9m2.1 0h0.9m1.6 0h0.9m0.6 0h0.9m-0.9 0h0.9m0.1 0h0.9m-0.4 0h0.9m-0.4 0h0.9m0.1 0h0.9m1.6 0h0.9m0.1 0h0.9m0.6 0h0.9m0.1 0h0.9m0.1 0h0.9m2.6 0h0.9m0.6 0h0.9m2.6 0h0.9m2.6 0h0.9m-46.4 0.5h0.9m3.1 0h0.9m1.6 0h0.9m2.1 0h0.9m-0.4 0h0.9m-0.4 0h0.9m-0.4 0h0.9m-0.4 0h0.9m-0.4 0h0.9m9.1 0h0.9m4.1 0h0.9m2.6 0h0.9m0.1 0h0.9m1.1 0h0.9m2.6 0h0.9m-0.9 0h0.9m5.6 0h0.9m0.1 0h0.9m-0.9 0h0.9m-45.4 0.5h0.9m3.6 0h0.9m0.6 0h0.9m-0.4 0h0.9m0.1 0h0.9m4.6 0h0.9m-0.4 0h0.9m0.1 0h0.9m3.1 0h0.9m1.1 0h0.9m4.1 0h0.9m0.1 0h0.9m0.1 0h0.9m2.1 0h0.9m1.6 0h0.9m-0.4 0h0.9m6.1 0h0.9m-0.9 0h0.9m-0.4 0h0.9m0.6 0h0.9m-42.9 0.5h0.9m0.1 0h0.9m4.1 0h0.9m1.1 0h0.9m6.6 0h0.9m0.6 0h0.9m4.6 0h0.9m3.6 0h0.9m4.1 0h0.9m0.6 0h0.9m0.6 0h0.9m-0.4 0h0.9m-0.4 0h0.9m0.1 0h0.9m1.1 0h0.9m1.1 0h0.9m0.6 0h0.9m1.1 0h0.9m-42.4 0.5h0.9m2.6 0h0.9m0.1 0h0.9m0.6 0h0.9m2.6 0h0.9m-0.4 0h0.9m1.6 0h0.9m-0.4 0h0.9m-0.4 0h0.9m-0.9 0h0.9m4.6 0h0.9m0.6 0h0.9m3.6 0h0.9m5.1 0h0.9m-0.4 0h0.9m-0.4 0h0.9m3.6 0h0.9m1.1 0h0.9m2.6 0h0.9m-43.4 0.5h0.9m3.6 0h0.9m-0.4 0h0.9m1.1 0h0.9m0.6 0h0.9m0.1 0h0.9m-0.9 0h0.9m1.1 0h0.9m-0.4 0h0.9m2.6 0h0.9m1.1 0h0.9m-0.4 0h0.9m-0.4 0h0.9m0.6 0h0.9m0.6 0h0.9m-0.9 0h0.9m0.1 0h0.9m7.1 0h0.9m1.6 0h0.9m4.6 0h0.9m0.1 0h0.9m-0.9 0h0.9m-40.9 0.5h0.9m-0.4 0h0.9m-0.9 0h0.9m0.1 0h0.9m-0.4 0h0.9m3.6 0h0.9m0.6 0h0.9m7.1 0h0.9m0.6 0h0.9m5.1 0h0.9m-0.4 0h0.9m1.1 0h0.9m0.1 0h0.9m0.1 0h0.9m1.1 0h0.9m-0.4 0h0.9m1.1 0h0.9m-0.4 0h0.9m0.6 0h0.9m3.6 0h0.9m-32.9 0.5h0.9m-0.9 0h0.9m2.1 0h0.9m-0.4 0h0.9m4.6 0h0.9m-0.9 0h0.9m1.6 0h0.9m1.6 0h0.9m0.1 0h0.9m1.1 0h0.9m0.1 0h0.9m4.6 0h0.9m-0.4 0h0.9m0.1 0h0.9m1.6 0h0.9m3.1 0h0.9m-0.4 0h0.9m-0.9 0h0.9m-0.9 0h0.9m0.1 0h0.9m-0.4 0h0.9m1.1 0h0.9m-39.9 0.5h0.9m0.6 0h0.9m0.1 0h0.9m1.1 0h0.9m1.1 0h0.9m-0.4 0h0.9m0.1 0h0.9m1.1 0h0.9m-0.9 0h0.9m2.1 0h0.9m0.6 0h0.9m0.1 0h0.9m7.6 0h0.9m2.6 0h0.9m1.6 0h0.9m-0.9 0h0.9m-0.4 0h0.9m4.6 0h0.9m-0.9 0h0.9m-39.4 0.5h0.9m1.1 0h0.9m1.6 0h0.9m2.1 0h0.9m0.1 0h0.9m4.6 0h0.9m-0.9 0h0.9m1.1 0h0.9m-0.4 0h0.9m12.1 0h0.9m1.1 0h0.9m-0.4 0h0.9m2.6 0h0.9m3.6 0h0.9m2.6 0h0.9m-42.4 0.5h0.9m0.6 0h0.9m4.6 0h0.9m2.6 0h0.9m-0.4 0h0.9m2.1 0h0.9m0.1 0h0.9m-0.4 0h0.9m-0.9 0h0.9m0.1 0h0.9m3.6 0h0.9m-0.4 0h0.9m2.1 0h0.9m0.1 0h0.9m3.1 0h0.9m5.1 0h0.9m4.6 0h0.9m-0.4 0h0.9m-36.4 0.5h0.9m-0.9 0h0.9m0.1 0h0.9m-0.9 0h0.9m3.6 0h0.9m5.1 0h0.9m-0.4 0h0.9m0.6 0h0.9m2.6 0h0.9m1.1 0h0.9m0.6 0h0.9m2.1 0h0.9m3.6 0h0.9m3.6 0h0.9m-0.4 0h0.9m0.1 0h0.9m0.6 0h0.9m-42.4 0.5h0.9m2.1 0h0.9m7.1 0h0.9m-0.4 0h0.9m1.6 0h0.9m11.6 0h0.9m-0.4 0h0.9m-0.4 0h0.9m2.6 0h0.9m0.6 0h0.9m3.1 0h0.9m2.6 0h0.9m0.1 0h0.9m-35.9 0.5h0.9m1.6 0h0.9m4.1 0h0.9m7.6 0h0.9m-0.4 0h0.9m0.6 0h0.9m2.1 0h0.9m0.6 0h0.9m1.6 0h0.9m3.1 0h0.9m0.1 0h0.9m3.6 0h0.9m0.6 0h0.9m-38.4 0.5h0.9m4.6 0h0.9m-0.4 0h0.9m1.1 0h0.9m0.1 0h0.9m0.1 0h0.9m0.6 0h0.9m0.6 0h0.9m-0.4 0h0.9m0.1 0h0.9m2.1 0h0.9m-0.4 0h0.9m1.1 0h0.9m0.6 0h0.9m4.6 0h0.9m-0.9 0h0.9m-0.4 0h0.9m1.6 0h0.9m0.1 0h0.9m0.6 0h0.9m0.1 0h0.9m-0.4 0h0.9m1.6 0h0.9m-37.9 0.5h0.9m3.6 0h0.9m2.6 0h0.9m0.6 0h0.9m-0.9 0h0.9m5.6 0h0.9m0.1 0h0.9m6.1 0h0.9m3.6 0h0.9m-0.4 0h0.9m3.6 0h0.9m-0.4 0h0.9m2.1 0h0.9m-36.9 0.5h0.9m-0.9 0h0.9m1.6 0h0.9m4.6 0h0.9m-0.4 0h0.9m1.1 0h0.9m0.1 0h0.9m2.1 0h0.9m3.1 0h0.9m-0.4 0h0.9m0.6 0h0.9m5.1 0h0.9m2.6 0h0.9m4.6 0h0.9m-37.9 0.5h0.9m-0.9 0h0.9m0.6 0h0.9m-0.9 0h0.9m-0.9 0h0.9m0.6 0h0.9m4.6 0h0.9m-0.4 0h0.9m0.1 0h0.9m-0.9 0h0.9m4.6 0h0.9m-0.4 0h0.9m2.1 0h0.9m3.6 0h0.9m-0.9 0h0.9m2.6 0h0.9m-0.9 0h0.9m1.6 0h0.9m4.1 0h0.9m-34.4 0.5h0.9m3.6 0h0.9m1.6 0h0.9m1.1 0h0.9m4.1 0h0.9m0.1 0h0.9m2.6 0h0.9m-0.4 0h0.9m2.1 0h0.9m3.6 0h0.9m9.1 0h0.9m-35.4 0.5h0.9m0.6 0h0.9m1.6 0h0.9m0.6 0h0.9m3.6 0h0.9m-0.9 0h0.9m9.1 0h0.9m1.6 0h0.9m-0.4 0h0.9m2.1 0h0.9m1.1 0h0.9m-0.4 0h0.9m-0.4 0h0.9m1.1 0h0.9m0.6 0h0.9m-0.4 0h0.9m-33.4 0.5h0.9m0.1 0h0.9m-0.4 0h0.9m1.6 0h0.9m0.6 0h0.9m5.1 0h0.9m3.1 0h0.9m-0.4 0h0.9m1.6 0h0.9m-0.9 0h0.9m9.1 0h0.9m-0.4 0h0.9m2.1 0h0.9m-0.4 0h0.9m-0.4 0h0.9m2.1 0h0.9m-36.4 0.5h0.9m1.6 0h0.9m-0.9 0h0.9m0.1 0h0.9m1.1 0h0.9m1.1 0h0.9m8.1 0h0.9m-0.4 0h0.9m-0.4 0h0.9m4.6 0h0.9m4.1 0h0.9m7.1 0h0.9m-31.4 0.5h0.9m-0.4 0h0.9m0.6 0h0.9m6.1 0h0.9m5.1 0h0.9m2.1 0h0.9m1.6 0h0.9m5.6 0h0.9m-0.4 0h0.9m0.1 0h0.9m0.6 0h0.9m-34.9 0.5h0.9m-0.9 0h0.9m0.6 0h0.9m1.1 0h0.9m1.6 0h0.9m7.1 0h0.9m0.1 0h0.9m-0.4 0h0.9m0.1 0h0.9m-0.9 0h0.9m0.6 0h0.9m0.6 0h0.9m2.6 0h0.9m-0.9 0h0.9m2.1 0h0.9m3.6 0h0.9m2.6 0h0.9m-33.9 0.5h0.9m-0.4 0h0.9m1.6 0h0.9m-0.4 0h0.9m6.1 0h0.9m-0.4 0h0.9m2.6 0h0.9m0.1 0h0.9m0.6 0h0.9m-0.9 0h0.9m1.6 0h0.9m-0.4 0h0.9m0.1 0h0.9m0.1 0h0.9m-0.9 0h0.9m0.1 0h0.9m0.1 0h0.9m1.1 0h0.9m0.1 0h0.9m0.1 0h0.9m-29.4 0.5h0.9m3.1 0h0.9m1.1 0h0.9m2.6 0h0.9m-0.4 0h0.9m-0.4 0h0.9m0.1 0h0.9m1.6 0h0.9m-0.4 0h0.9m3.6 0h0.9m0.6 0h0.9m-0.4 0h0.9m-0.4 0h0.9m-0.4 0h0.9m-0.4 0h0.9m2.6 0h0.9m3.1 0h0.9m0.1 0h0.9m-30.4 0.5h0.9m0.6 0h0.9m-0.4 0h0.9m8.6 0h0.9m4.6 0h0.9m0.1 0h0.9m0.6 0h0.9m1.6 0h0.9m0.1 0h0.9m-0.9 0h0.9m0.6 0h0.9m0.1 0h0.9m3.1 0h0.9m-0.9 0h0.9m-28.9 0.5h0.9m2.6 0h0.9m5.1 0h0.9m1.6 0h0.9m1.6 0h0.9m-0.4 0h0.9m-0.4 0h0.9m6.1 0h0.9m6.1 0h0.9m-31.4 0.5h0.9m2.6 0h0.9m3.1 0h0.9m-0.4 0h0.9m10.1 0h0.9m3.1 0h0.9m1.6 0h0.9m-25.4 0.5h0.9m-0.4 0h0.9m-0.9 0h0.9m0.1 0h0.9m2.1 0h0.9m-0.4 0h0.9m-0.9 0h0.9m-0.4 0h0.9m1.6 0h0.9m-0.4 0h0.9m3.6 0h0.9m1.1 0h0.9m1.6 0h0.9m-0.4 0h0.9m-0.4 0h0.9m2.6 0h0.9m0.6 0h0.9m2.6 0h0.9m-25.9 0.5h0.9m5.6 0h0.9m3.1 0h0.9m-0.4 0h0.9m2.1 0h0.9m0.6 0h0.9m3.6 0h0.9m2.6 0h0.9m-0.4 0h0.9m0.1 0h0.9m0.6 0h0.9m-19.4 0.5h0.9m-0.4 0h0.9m2.6 0h0.9m0.6 0h0.9m-0.4 0h0.9m-0.4 0h0.9m1.1 0h0.9m1.1 0h0.9m8.6 0h0.9m-28.4 0.5h0.9m4.6 0h0.9m-0.4 0h0.9m2.1 0h0.9m0.6 0h0.9m0.1 0h0.9m1.6 0h0.9m-0.4 0h0.9m0.1 0h0.9m4.6 0h0.9m3.1 0h0.9m-0.4 0h0.9m-25.4 0.5h0.9m0.1 0h0.9m0.1 0h0.9m-0.4 0h0.9m3.1 0h0.9m0.1 0h0.9m2.6 0h0.9m1.1 0h0.9m2.6 0h0.9m1.1 0h0.9m1.1 0h0.9m3.1 0h0.9m0.1 0h0.9m-0.9 0h0.9m-0.9 0h0.9m-24.9 0.5h0.9m9.1 0h0.9m1.6 0h0.9m1.1 0h0.9m1.1 0h0.9m0.1 0h0.9m-0.9 0h0.9m-0.9 0h0.9m0.6 0h0.9m0.6 0h0.9m-0.4 0h0.9m0.1 0h0.9m-23.4 0.5h0.9m5.6 0h0.9m0.6 0h0.9m0.1 0h0.9m-0.4 0h0.9m3.1 0h0.9m-0.4 0h0.9m2.6 0h0.9m1.1 0h0.9m1.1 0h0.9m-23.4 0.5h0.9m2.6 0h0.9m0.6 0h0.9m-0.9 0h0.9m0.1 0h0.9m0.1 0h0.9m5.1 0h0.9m0.1 0h0.9m0.1 0h0.9m0.6 0h0.9m1.6 0h0.9m0.6 0h0.9m-0.9 0h0.9m0.6 0h0.9m-18.9 0.5h0.9m0.1 0h0.9m-0.4 0h0.9m2.1 0h0.9m0.1 0h0.9m1.6 0h0.9m0.1 0h0.9m2.1 0h0.9m1.1 0h0.9m0.1 0h0.9m1.1 0h0.9m0.1 0h0.9m0.1 0h0.9m-24.4 0.5h0.9m1.6 0h0.9m4.1 0h0.9m0.6 0h0.9m1.6 0h0.9m0.1 0h0.9m-0.4 0h0.9m1.6 0h0.9m-0.9 0h0.9m-0.9 0h0.9m-0.4 0h0.9m0.1 0h0.9m1.1 0h0.9m-0.9 0h0.9m3.1 0h0.9m-20.4 0.5h0.9m0.1 0h0.9m5.1 0h0.9m-0.4 0h0.9m-0.4 0h0.9m3.1 0h0.9m2.6 0h0.9m-80.4 0.5h0.9m62.1 0h0.9m-0.4 0h0.9m8.1 0h0.9m-0.4 0h0.9m4.1 0h0.9m-16.4 0.5h0.9m0.6 0h0.9m5.6 0h0.9m-0.9 0h0.9m1.1 0h0.9m0.1 0h0.9m3.1 0h0.9m1.6 0h0.9m0.6 0h0.9m-97.9 0.5h0.9m-0.4 0h0.9m-0.9 0h0.9m76.1 0h0.9m3.6 0h0.9m-0.4 0h0.9m0.1 0h0.9m0.1 0h0.9m3.1 0h0.9m4.6 0h0.9m1.1 0h0.9m-19.4 0.5h0.9m0.6 0h0.9m-0.9 0h0.9m-0.9 0h0.9m3.6 0h0.9m-0.4 0h0.9m-0.9 0h0.9m-0.4 0h0.9m0.1 0h0.9m1.1 0h0.9m1.6 0h0.9m-90.9 0.5h0.9m11.6 0h0.9m73.6 0h0.9m-0.9 0h0.9m-0.4 0h0.9m1.6 0h0.9m-84.9 0.5h0.9m8.6 0h0.9m66.1 0h0.9m5.6 0h0.9m-9.4 0.5h0.9m0.1 0h0.9m0.6 0h0.9m-82.9 0.5h0.9m1.6 0.5h0.9m-0.9 1h0.9m-7.9 0.5h0.9m0.6 0h0.9m2.6 0h0.9m9.6 0.5h0.9m-16.9 0.5h0.9m12.1 0h0.9m-12.9 0.5h0.9m3.6 0h0.9m-5.4 0.5h0.9m4.1 0h0.9m5.1 0h0.9m1.1 0h0.9m-10.4 0.5h0.9m6.6 0.5h0.9m0.6 0h0.9m-9.9 1.5h0.9m2.1 0h0.9m1.1 0.5h0.9m-7.9 0.5h0.9m3.1 0.5h0.9m-2.4 0.5h0.9m-2.9 0.5h0.9m0.6 0.5h0.9m-11.4 0.5h0.9m13.6 0h0.9m-3.4 0.5h0.9m-0.9 1h0.9m2.1 0h0.9m-7.9 0.5h0.9m-11.4 0.5h0.9m7.1 0h0.9m8.6 0h0.9m-15.4 0.5h0.9m-2.4 0.5h0.9m3.1 0h0.9m5.6 0h0.9m-7.4 0.5h0.9m-0.4 0h0.9m2.1 0h0.9m3.1 0h0.9m-10.9 1h0.9m3.1 0h0.9m2.1 0h0.9m-9.9 0.5h0.9m5.6 0h0.9m-5.9 0.5h0.9m1.6 0h0.9m8.1 0h0.9m1.6 0h0.9m-19.4 0.5h0.9m7.1 0h0.9m10.1 0.5h0.9m-21.4 0.5h0.9m1.1 0.5h0.9m6.1 0h0.9m0.1 0h0.9m5.6 0h0.9m5.6 0h0.9m-25.9 0.5h0.9m4.1 0h0.9m0.1 0h0.9m-0.9 0h0.9m6.6 0h0.9m0.6 0h0.9m5.1 0h0.9m1.6 0h0.9m0.1 0h0.9m-12.4 0.5h0.9m3.6 0h0.9m3.1 0h0.9m0.1 0h0.9m3.6 0h0.9m-30.9 0.5h0.9m8.1 0h0.9m13.1 0h0.9m2.1 0.5h0.9m2.1 0h0.9m-35.4 0.5h0.9m4.1 0h0.9m3.6 0h0.9m3.6 0h0.9m6.6 0h0.9m-0.9 0h0.9m0.1 0h0.9m4.6 0h0.9m-0.9 0h0.9m-25.9 0.5h0.9m-0.4 0h0.9m23.1 0h0.9m-0.9 0h0.9m0.6 0h0.9m1.6 0h0.9m-34.4 0.5h0.9m0.6 0h0.9m6.6 0h0.9m19.6 0h0.9m-0.4 0h0.9m4.1 0h0.9m0.6 0h0.9m1.1 0h0.9m-0.4 0h0.9m-37.4 0.5h0.9m2.6 0h0.9m0.1 0h0.9m17.1 0h0.9m0.6 0h0.9m5.1 0h0.9m-29.4 0.5h0.9m2.6 0h0.9m6.6 0h0.9m1.6 0h0.9m1.1 0h0.9m9.1 0h0.9m-0.4 0h0.9m6.1 0h0.9m-0.9 0h0.9m2.6 0h0.9m-29.4 0.5h0.9m17.1 0h0.9m-0.9 0h0.9m1.6 0h0.9m4.1 0h0.9m-20.4 0.5h0.9m6.1 0h0.9m11.6 0h0.9m-27.4 0.5h0.9m7.1 0h0.9m11.1 0h0.9m-25.4 0.5h0.9m18.1 0h0.9m2.6 0h0.9m7.6 0h0.9m5.6 0h0.9m-5.4 0.5h0.9m1.1 0h0.9m1.1 0h0.9m-44.9 0.5h0.9m9.1 0h0.9m18.6 0h0.9m-0.4 0h0.9m-0.4 0h0.9m2.6 0h0.9m3.1 0h0.9m2.1 0h0.9m0.6 0h0.9m0.6 0h0.9m-26.9 0.5h0.9m11.6 0h0.9m0.1 0h0.9m0.6 0h0.9m4.6 0h0.9m0.6 0h0.9m-33.4 0.5h0.9m14.1 0h0.9m7.6 0h0.9m-0.4 0h0.9m0.6 0h0.9m-0.9 0h0.9m1.6 0h0.9m-32.9 0.5h0.9m0.6 0h0.9m10.6 0h0.9m6.6 0h0.9m6.6 0h0.9m-0.4 0h0.9m0.1 0h0.9m0.6 0h0.9m2.1 0h0.9m-22.9 0.5h0.9m1.6 0h0.9m9.6 0h0.9m0.1 0h0.9m3.1 0h0.9m1.6 0h0.9m2.6 0h0.9m-0.9 0h0.9m-11.9 0.5h0.9m2.1 0h0.9m-0.4 0h0.9m0.1 0h0.9m0.1 0h0.9m0.1 0h0.9m1.1 0h0.9m-17.4 0.5h0.9m3.6 0h0.9m3.6 0h0.9m1.1 0h0.9m-0.9 0h0.9m1.6 0h0.9m2.1 0h0.9m2.1 0h0.9m3.6 0h0.9m0.6 0h0.9m-38.9 0.5h0.9m0.1 0h0.9m3.1 0h0.9m0.6 0h0.9m16.1 0h0.9m1.6 0h0.9m0.1 0h0.9m0.1 0h0.9m-0.9 0h0.9m1.6 0h0.9m1.1 0h0.9m0.1 0h0.9m-41.9 0.5h0.9m0.6 0h0.9m29.1 0h0.9m2.1 0h0.9m-0.4 0h0.9m4.6 0h0.9m-12.4 0.5h0.9m0.6 0h0.9m1.1 0h0.9m0.1 0h0.9m-0.9 0h0.9m0.6 0h0.9m4.1 0h0.9m-10.9 0.5h0.9m5.1 0h0.9m0.1 0h0.9m-0.4 0h0.9m4.1 0h0.9m-43.9 0.5h0.9m1.1 0h0.9m8.6 0h0.9m9.1 0h0.9m7.6 0h0.9m0.1 0h0.9m0.6 0h0.9m3.1 0h0.9m2.1 0h0.9m-0.4 0h0.9m1.6 0h0.9m4.1 0h0.9m-0.4 0h0.9m-44.4 0.5h0.9m9.6 0h0.9m12.1 0h0.9m2.6 0h0.9m2.6 0h0.9m3.1 0h0.9m-0.9 0h0.9m-0.9 0h0.9m1.6 0h0.9m2.1 0h0.9m-37.4 0.5h0.9m18.6 0h0.9m5.1 0h0.9m3.1 0h0.9m3.6 0h0.9m5.6 0h0.9m0.1 0h0.9m-28.4 0.5h0.9m6.1 0h0.9m1.6 0h0.9m-0.4 0h0.9m0.1 0h0.9m7.1 0h0.9m-0.4 0h0.9m0.1 0h0.9m5.1 0h0.9m-34.9 0.5h0.9m12.1 0h0.9m-0.9 0h0.9m4.6 0h0.9m4.6 0h0.9m-0.9 0h0.9m-0.9 0h0.9m0.1 0h0.9m-0.4 0h0.9m4.6 0h0.9m0.1 0h0.9m-0.9 0h0.9m-46.9 0.5h0.9m25.1 0h0.9m-0.4 0h0.9m7.1 0h0.9m2.1 0h0.9m1.1 0h0.9m4.1 0h0.9m0.1 0h0.9m-20.9 0.5h0.9m0.6 0h0.9m2.1 0h0.9m2.1 0h0.9m1.1 0h0.9m-0.4 0h0.9m3.1 0h0.9m2.1 0h0.9m0.1 0h0.9m4.6 0h0.9m-45.9 0.5h0.9m2.6 0h0.9m20.1 0h0.9m-0.4 0h0.9m-0.4 0h0.9m5.6 0h0.9m-0.4 0h0.9m1.6 0h0.9m0.1 0h0.9m5.1 0h0.9m-0.4 0h0.9m-7.4 0.5h0.9m2.1 0h0.9m-13.9 0.5h0.9m2.6 0h0.9m1.1 0h0.9m1.1 0h0.9m1.1 0h0.9m0.1 0h0.9m-17.9 0.5h0.9m3.1 0h0.9m0.6 0h0.9m-0.4 0h0.9m2.1 0h0.9m4.1 0h0.9m1.6 0h0.9m7.1 0h0.9m-18.4 0.5h0.9m0.1 0h0.9m1.6 0h0.9m6.1 0h0.9m-17.4 0.5h0.9m11.6 0h0.9m1.1 0h0.9m2.6 0h0.9m4.6 0h0.9m-22.9 0.5h0.9m3.6 0h0.9m-0.4 0h0.9m-0.4 0h0.9m-0.9 0h0.9m1.1 0h0.9m3.1 0h0.9m-0.4 0h0.9m0.6 0h0.9m2.1 0h0.9m4.6 0h0.9m-43.4 0.5h0.9m20.1 0h0.9m-0.9 0h0.9m4.1 0h0.9m2.1 0h0.9m-11.9 0.5h0.9m2.6 0h0.9m0.6 0h0.9m2.1 0h0.9m0.6 0h0.9m1.1 0h0.9m0.6 0h0.9m-0.4 0h0.9m-0.9 0h0.9m1.1 0h0.9m-0.4 0h0.9m0.6 0h0.9m1.1 0h0.9m-10.9 0.5h0.9m4.1 0h0.9m0.6 0h0.9m1.1 0h0.9m-0.9 0h0.9m-37.4 0.5h0.9m16.6 0h0.9m1.1 0h0.9m2.6 0h0.9m2.1 0h0.9m3.1 0h0.9m7.1 0h0.9m0.1 0h0.9m-0.4 0h0.9m1.6 0h0.9m-34.9 0.5h0.9m11.1 0h0.9m9.1 0h0.9m0.6 0h0.9m-9.9 0.5h0.9m0.6 0h0.9m4.6 0h0.9m-17.9 0.5h0.9m1.1 0h0.9m-0.9 0h0.9m3.1 0h0.9m4.1 0h0.9m1.6 0h0.9m0.6 0h0.9m1.6 0h0.9m-8.4 0.5h0.9m0.1 0h0.9m2.6 0h0.9m-0.4 0h0.9m-0.9 0h0.9m-0.4 0h0.9m9.1 0h0.9m-19.9 0.5h0.9m0.1 0h0.9m4.6 0h0.9m2.1 0h0.9m3.6 0h0.9m-32.9 0.5h0.9m15.6 0h0.9m1.6 0h0.9m3.6 0h0.9m-0.9 0h0.9m-0.9 0h0.9m0.1 0h0.9m-0.9 0h0.9m1.6 0h0.9m0.6 0h0.9m2.1 0h0.9m2.1 0h0.9m4.1 0h0.9m-31.4 0.5h0.9m3.6 0h0.9m7.1 0h0.9m-0.4 0h0.9m2.1 0h0.9m1.1 0h0.9m10.6 0h0.9m0.1 0h0.9m-45.4 0.5h0.9m7.1 0h0.9m3.6 0h0.9m9.1 0h0.9m-0.9 0h0.9m1.6 0h0.9m-0.4 0h0.9m-0.9 0h0.9m1.1 0h0.9m-0.4 0h0.9m-0.4 0h0.9m-0.9 0h0.9m-0.4 0h0.9m-0.9 0h0.9m1.1 0h0.9m1.1 0h0.9m1.1 0h0.9m-0.4 0h0.9m2.1 0h0.9m3.6 0h0.9m-30.9 0.5h0.9m3.6 0h0.9m6.6 0h0.9m0.1 0h0.9m-0.4 0h0.9m0.6 0h0.9m3.1 0h0.9m-0.4 0h0.9m0.6 0h0.9m7.1 0h0.9m1.1 0h0.9m-46.4 0.5h0.9m23.1 0h0.9m2.1 0h0.9m-0.4 0h0.9m0.1 0h0.9m0.1 0h0.9m-0.4 0h0.9m0.1 0h0.9m-0.4 0h0.9m2.1 0h0.9m5.1 0h0.9m4.6 0h0.9m-21.9 0.5h0.9m1.6 0h0.9m-0.4 0h0.9m3.6 0h0.9m0.1 0h0.9m-0.4 0h0.9m-0.9 0h0.9m0.1 0h0.9m11.1 0h0.9m-45.4 0.5h0.9m9.1 0h0.9m12.6 0h0.9m0.1 0h0.9m0.6 0h0.9m-0.9 0h0.9m0.6 0h0.9m1.1 0h0.9m3.6 0h0.9m1.6 0h0.9m3.6 0h0.9m-19.4 0.5h0.9m5.1 0h0.9m-0.9 0h0.9m0.1 0h0.9m14.1 0h0.9m-24.9 0.5h0.9m1.1 0h0.9m-0.4 0h0.9m3.1 0h0.9m3.1 0h0.9m10.1 0h0.9m-0.4 0h0.9m-0.4 0h0.9m0.1 0h0.9m-30.9 0.5h0.9m8.6 0h0.9m0.6 0h0.9m0.6 0h0.9m-0.9 0h0.9m0.6 0h0.9m1.1 0h0.9m-0.4 0h0.9m4.1 0h0.9m2.6 0h0.9m2.6 0h0.9m-0.4 0h0.9m-23.4 0.5h0.9m0.6 0h0.9m-0.4 0h0.9m-0.9 0h0.9m2.6 0h0.9m2.6 0h0.9m2.1 0h0.9m0.1 0h0.9m-28.9 0.5h0.9m18.1 0h0.9m4.1 0h0.9m2.1 0h0.9m1.1 0h0.9m3.1 0h0.9m-29.9 0.5h0.9m3.1 0h0.9m6.1 0h0.9m9.1 0h0.9m0.6 0h0.9m-0.9 0h0.9m1.1 0h0.9m0.6 0h0.9m1.6 0h0.9m-0.4 0h0.9m0.1 0h0.9m4.1 0h0.9m-0.9 0h0.9m-21.9 0.5h0.9m1.1 0h0.9m0.1 0h0.9m-0.4 0h0.9m6.1 0h0.9m5.1 0h0.9m-0.4 0h0.9m0.1 0h0.9m-0.4 0h0.9m0.1 0h0.9m0.1 0h0.9m-42.4 0.5h0.9m3.6 0h0.9m5.6 0h0.9m9.1 0h0.9m4.1 0h0.9m1.1 0h0.9m0.1 0h0.9m0.1 0h0.9m0.1 0h0.9m2.6 0h0.9m3.6 0h0.9m-22.9 0.5h0.9m14.1 0h0.9m-0.9 0h0.9m3.1 0h0.9m-0.9 0h0.9m1.1 0h0.9m-0.4 0h0.9m-16.9 0.5h0.9m-0.4 0h0.9m2.1 0h0.9m2.1 0h0.9m0.1 0h0.9m2.6 0h0.9m-0.4 0h0.9m0.6 0h0.9m0.6 0h0.9m-0.4 0h0.9m-0.9 0h0.9m0.1 0h0.9m0.6 0h0.9m2.1 0h0.9m0.6 0h0.9m-37.9 0.5h0.9m1.6 0h0.9m-0.4 0h0.9m1.6 0h0.9m3.1 0h0.9m0.6 0h0.9m4.1 0h0.9m5.6 0h0.9m0.1 0h0.9m3.1 0h0.9m-0.9 0h0.9m-0.4 0h0.9m0.1 0h0.9m0.6 0h0.9m-35.4 0.5h0.9m7.6 0h0.9m-0.9 0h0.9m2.6 0h0.9m-0.9 0h0.9m0.1 0h0.9m4.1 0h0.9m-0.4 0h0.9m8.1 0h0.9m0.6 0h0.9m-0.9 0h0.9m1.1 0h0.9m-30.4 0.5h0.9m6.1 0h0.9m3.6 0h0.9m0.1 0h0.9m5.1 0h0.9m2.6 0h0.9m-0.9 0h0.9m2.1 0h0.9m-0.4 0h0.9m3.6 0h0.9m-0.4 0h0.9m1.1 0h0.9m1.6 0h0.9m1.6 0h0.9m0.6 0h0.9m-0.4 0h0.9m-0.4 0h0.9m-34.4 0.5h0.9m-0.4 0h0.9m0.1 0h0.9m10.1 0h0.9m1.1 0h0.9m0.1 0h0.9m-0.4 0h0.9m2.6 0h0.9m7.6 0h0.9m-0.9 0h0.9m-0.4 0h0.9m2.6 0h0.9m-0.4 0h0.9m-0.4 0h0.9m-37.9 0.5h0.9m-0.4 0h0.9m-0.4 0h0.9m3.6 0h0.9m3.6 0h0.9m-0.9 0h0.9m2.1 0h0.9m-0.9 0h0.9m0.6 0h0.9m2.1 0h0.9m-0.9 0h0.9m2.1 0h0.9m0.1 0h0.9m1.6 0h0.9m1.1 0h0.9m1.6 0h0.9m1.1 0h0.9m-0.9 0h0.9m-0.4 0h0.9m3.1 0h0.9m-0.4 0h0.9m-34.4 0.5h0.9m1.6 0h0.9m-0.9 0h0.9m11.1 0h0.9m-0.9 0h0.9m-0.4 0h0.9m1.6 0h0.9m1.6 0h0.9m3.1 0h0.9m0.1 0h0.9m-0.9 0h0.9m2.6 0h0.9m0.1 0h0.9m-0.4 0h0.9m0.1 0h0.9m1.1 0h0.9m0.6 0h0.9m-34.9 0.5h0.9m2.6 0h0.9m1.6 0h0.9m0.1 0h0.9m-0.9 0h0.9m4.1 0h0.9m2.6 0h0.9m0.1 0h0.9m1.1 0h0.9m0.1 0h0.9m-0.4 0h0.9m1.6 0h0.9m3.1 0h0.9m0.1 0h0.9m4.1 0h0.9m0.6 0h0.9m-38.4 0.5h0.9m1.6 0h0.9m2.1 0h0.9m1.1 0h0.9m3.1 0h0.9m6.1 0h0.9m-0.4 0h0.9m-0.9 0h0.9m-0.4 0h0.9m0.6 0h0.9m0.1 0h0.9m-0.4 0h0.9m2.1 0h0.9m4.6 0h0.9m-0.4 0h0.9m-31.9 0.5h0.9m0.1 0h0.9m2.1 0h0.9m2.1 0h0.9m-0.9 0h0.9m2.6 0h0.9m-0.9 0h0.9m-0.4 0h0.9m0.1 0h0.9m2.6 0h0.9m0.1 0h0.9m3.1 0h0.9m-0.9 0h0.9m-0.4 0h0.9m-0.9 0h0.9m-0.9 0h0.9m0.6 0h0.9m4.1 0h0.9m0.6 0h0.9m0.1 0h0.9m-0.9 0h0.9m0.1 0h0.9m-0.4 0h0.9m4.1 0h0.9m-34.9 0.5h0.9m3.6 0h0.9m-0.9 0h0.9m2.1 0h0.9m-0.4 0h0.9m5.1 0h0.9m2.6 0h0.9m-0.4 0h0.9m-0.4 0h0.9m1.6 0h0.9m4.6 0h0.9m0.1 0h0.9m-0.4 0h0.9m-0.9 0h0.9m2.1 0h0.9m0.6 0h0.9m2.6 0h0.9m-35.9 0.5h0.9m2.1 0h0.9m0.1 0h0.9m1.1 0h0.9m4.1 0h0.9m-0.9 0h0.9m0.6 0h0.9m1.6 0h0.9m1.1 0h0.9m2.6 0h0.9m0.1 0h0.9m1.6 0h0.9m0.1 0h0.9m-0.9 0h0.9m-0.4 0h0.9m-0.9 0h0.9m6.1 0h0.9m-35.4 0.5h0.9m2.6 0h0.9m-0.4 0h0.9m0.1 0h0.9m-0.9 0h0.9m0.1 0h0.9m2.1 0h0.9m0.6 0h0.9m1.1 0h0.9m4.1 0h0.9m0.1 0h0.9m-0.4 0h0.9m1.1 0h0.9m0.1 0h0.9m-0.4 0h0.9m-0.4 0h0.9m-0.4 0h0.9m4.6 0h0.9m0.1 0h0.9m0.1 0h0.9m-0.4 0h0.9m1.6 0h0.9m-35.4 0.5h0.9m2.1 0h0.9m0.6 0h0.9m2.6 0h0.9m1.6 0h0.9m0.6 0h0.9m0.1 0h0.9m2.1 0h0.9m1.1 0h0.9m-0.4 0h0.9m-0.4 0h0.9m1.6 0h0.9m-0.9 0h0.9m2.6 0h0.9m1.1 0h0.9m6.1 0h0.9m-0.4 0h0.9m0.6 0h0.9m0.1 0h0.9m-36.9 0.5h0.9m2.1 0h0.9m0.1 0h0.9m0.1 0h0.9m1.1 0h0.9m-0.4 0h0.9m1.1 0h0.9m0.1 0h0.9m0.1 0h0.9m0.1 0h0.9m-0.4 0h0.9m0.6 0h0.9m8.1 0h0.9m-0.9 0h0.9m0.1 0h0.9m4.6 0h0.9m2.6 0h0.9m1.1 0h0.9m-35.4 0.5h0.9m0.6 0h0.9m-0.4 0h0.9m1.1 0h0.9m0.1 0h0.9m-0.9 0h0.9m-0.4 0h0.9m3.1 0h0.9m0.6 0h0.9m2.1 0h0.9m1.1 0h0.9m-0.9 0h0.9m-0.4 0h0.9m2.1 0h0.9m2.1 0h0.9m0.6 0h0.9m-0.4 0h0.9m4.6 0h0.9m-29.9 0.5h0.9m1.6 0h0.9m0.1 0h0.9m0.1 0h0.9m2.1 0h0.9m-0.9 0h0.9m0.1 0h0.9m3.6 0h0.9m-0.4 0h0.9m5.6 0h0.9m4.6 0h0.9m2.1 0h0.9m0.1 0h0.9m3.1 0h0.9m-29.4 0.5h0.9m14.1 0h0.9m-0.9 0h0.9m-0.4 0h0.9m-0.4 0h0.9m-0.9 0h0.9m-0.4 0h0.9m0.1 0h0.9m-0.4 0h0.9m0.6 0h0.9m-0.9 0h0.9m-0.9 0h0.9m1.1 0h0.9m-0.9 0h0.9m2.6 0h0.9m0.1 0h0.9m0.1 0h0.9m-33.9 0.5h0.9m1.1 0h0.9m1.6 0h0.9m-0.4 0h0.9m-0.4 0h0.9m8.6 0h0.9m4.1 0h0.9m-0.4 0h0.9m1.1 0h0.9m4.6 0h0.9m-0.9 0h0.9m4.6 0h0.9m-32.4 0.5h0.9m2.6 0h0.9m4.1 0h0.9m3.6 0h0.9m3.1 0h0.9m1.6 0h0.9m1.6 0h0.9m-0.9 0h0.9m2.1 0h0.9m2.1 0h0.9m0.1 0h0.9m-29.4 0.5h0.9m-0.4 0h0.9m4.6 0h0.9m0.6 0h0.9m0.1 0h0.9m2.1 0h0.9m2.1 0h0.9m2.1 0h0.9m0.1 0h0.9m0.1 0h0.9m-0.4 0h0.9m0.6 0h0.9m2.1 0h0.9m1.6 0h0.9m-27.4 0.5h0.9m1.1 0h0.9m4.1 0h0.9m-0.4 0h0.9m0.1 0h0.9m4.1 0h0.9m5.1 0h0.9m0.1 0h0.9m0.6 0h0.9m1.1 0h0.9m-0.4 0h0.9m-0.4 0h0.9m0.6 0h0.9m-0.4 0h0.9m-28.4 0.5h0.9m-0.4 0h0.9m-0.9 0h0.9m0.1 0h0.9m-0.4 0h0.9m5.6 0h0.9m0.6 0h0.9m-0.4 0h0.9m0.6 0h0.9m1.6 0h0.9m-0.9 0h0.9m-0.4 0h0.9m3.6 0h0.9m-0.9 0h0.9m-0.4 0h0.9m-0.4 0h0.9m-0.4 0h0.9m0.6 0h0.9m-0.4 0h0.9m1.1 0h0.9m5.1 0h0.9m-32.9 0.5h0.9m1.1 0h0.9m3.6 0h0.9m5.6 0h0.9m0.6 0h0.9m1.6 0h0.9m-0.4 0h0.9m0.1 0h0.9m6.1 0h0.9m3.1 0h0.9m0.1 0h0.9m-21.9 0.5h0.9m1.6 0h0.9m0.6 0h0.9m1.6 0h0.9m-0.9 0h0.9m1.1 0h0.9m0.6 0h0.9m3.1 0h0.9m-0.4 0h0.9m-23.4 0.5h0.9m0.1 0h0.9m-0.4 0h0.9m1.1 0h0.9m5.1 0h0.9m3.6 0h0.9m-0.9 0h0.9m0.6 0h0.9m1.6 0h0.9m3.1 0h0.9m4.1 0h0.9m-28.9 0.5h0.9m5.6 0h0.9m1.1 0h0.9m-0.4 0h0.9m2.1 0h0.9m-0.4 0h0.9m4.1 0h0.9m0.1 0h0.9m0.1 0h0.9m1.6 0h0.9m2.1 0h0.9m1.1 0h0.9m-27.4 0.5h0.9m-0.4 0h0.9m1.6 0h0.9m1.6 0h0.9m4.6 0h0.9m0.1 0h0.9m0.1 0h0.9m1.1 0h0.9m-0.4 0h0.9m-0.9 0h0.9m3.1 0h0.9m0.1 0h0.9m2.6 0h0.9m-0.9 0h0.9m3.1 0h0.9m-0.4 0h0.9m-29.9 0.5h0.9m4.1 0h0.9m6.6 0h0.9m2.1 0h0.9m-0.4 0h0.9m-0.4 0h0.9m0.1 0h0.9m0.1 0h0.9m-0.4 0h0.9m1.6 0h0.9m2.6 0h0.9m-24.4 0.5h0.9m7.6 0h0.9m2.6 0h0.9m-0.9 0h0.9m0.1 0h0.9m0.1 0h0.9m1.1 0h0.9m1.1 0h0.9m-0.4 0h0.9m-0.9 0h0.9m3.6 0h0.9m1.6 0h0.9m-22.4 0.5h0.9m1.1 0h0.9m0.1 0h0.9m-0.4 0h0.9m7.1 0h0.9m0.1 0h0.9m1.1 0h0.9m1.6 0h0.9m-20.9 0.5h0.9m-0.4 0h0.9m5.1 0h0.9m3.1 0h0.9m-0.9 0h0.9m0.1 0h0.9m4.1 0h0.9m1.6 0h0.9m0.1 0h0.9m0.6 0h0.9m-0.4 0h0.9m-24.4 0.5h0.9m-0.4 0h0.9m11.1 0h0.9m4.6 0h0.9m-14.9 0.5h0.9m9.1 0h0.9m-0.4 0h0.9m5.6 0h0.9m-0.4 0h0.9m1.1 0h0.9m-16.9 0.5h0.9m9.6 0h0.9m-0.4 0h0.9m0.6 0h0.9m-18.4 0.5h0.9m13.1 0h0.9m0.1 0h0.9m-0.9 0h0.9m3.1 0h0.9m-19.4 0.5h0.9m4.1 0h0.9m11.1 0h0.9m0.1 0h0.9m-16.4 0.5h0.9m0.1 0h0.9m-0.4 0h0.9m8.1 0h0.9m0.6 0h0.9m1.1 0h0.9m0.6 0h0.9m-20.4 0.5h0.9m0.6 0h0.9m15.6 0h0.9m-18.4 0.5h0.9m11.6 0h0.9m0.6 0h0.9m2.6 0h0.9m-17.9 0.5h0.9m6.6 0h0.9m7.1 0h0.9m-14.9 0.5h0.9m2.6 0h0.9m1.6 0h0.9m1.1 0h0.9m0.1 0h0.9m-9.9 0.5h0.9m1.1 0.5h0.9" stroke="#f06a5a" stroke-width="0.9" stroke-opacity="0.75" fill="none"/>
<path d="M214.5 28h0.9m-0.9 0.5h0.9m-0.9 0.5h0.9m0.1 0h0.9m-0.9 0h0.9m-0.4 0h0.9m-3.9 0.5h0.9m0.1 0h0.9m2.1 0h0.9m-2.4 0.5h0.9m0.6 0h0.9m-0.4 0h0.9m-3.9 0.5h0.9m0.6 0h0.9m0.6 0h0.9m-6.4 0.5h0.9m0.6 0h0.9m2.1 0h0.9m-5.9 0.5h0.9m0.1 0h0.9m-0.4 0h0.9m1.1 0h0.9m1.1 0.5h0.9m-5.9 0.5h0.9m0.6 0h0.9m5.1 0h0.9m-10.4 0.5h0.9m0.1 0h0.9m0.1 0h0.9m-0.9 0h0.9m1.6 0h0.9m0.1 0h0.9m1.6 0h0.9m-0.4 0h0.9m1.6 0h0.9m-11.4 0.5h0.9m-0.9 0h0.9m-0.4 0h0.9m0.6 0h0.9m3.6 0h0.9m0.1 0h0.9m0.1 0h0.9m-9.9 0.5h0.9m0.6 0h0.9m0.6 0h0.9m3.6 0h0.9m1.6 0h0.9m1.1 0h0.9m-10.9 0.5h0.9m1.1 0h0.9m-0.4 0h0.9m3.6 0h0.9m-9.4 0.5h0.9m-0.4 0h0.9m0.6 0h0.9m2.6 0h0.9m-0.9 0h0.9m4.6 0h0.9m-0.4 0h0.9m0.1 0h0.9m-13.9 0.5h0.9m1.1 0h0.9m1.1 0h0.9m1.6 0h0.9m0.6 0h0.9m-0.9 0h0.9m3.6 0h0.9m0.6 0h0.9m-13.4 0.5h0.9m0.1 0h0.9m-0.9 0h0.9m0.1 0h0.9m9.1 0h0.9m-16.4 0.5h0.9m10.1 0h0.9m-8.4 0.5h0.9m1.1 0h0.9m0.6 0h0.9m4.1 0h0.9m-13.4 0.5h0.9m1.1 0h0.9m3.6 0h0.9m-0.9 0h0.9m0.6 0h0.9m1.6 0h0.9m-6.9 0.5h0.9m-0.9 0h0.9m-0.9 0h0.9m1.6 0h0.9m-0.4 0h0.9m2.1 0h0.9m0.6 0h0.9m0.1 0h0.9m-0.9 0h0.9m0.1 0h0.9m-10.4 0.5h0.9m2.6 0h0.9m-0.9 0h0.9m-0.4 0h0.9m1.1 0h0.9m-9.4 0.5h0.9m0.6 0h0.9m3.1 0h0.9m2.6 0h0.9m-0.9 0h0.9m-0.9 0h0.9m-0.9 0h0.9m-10.4 0.5h0.9m3.1 0h0.9m-0.4 0h0.9m-0.4 0h0.9m-0.9 0h0.9m-0.4 0h0.9m2.6 0h0.9m0.6 0h0.9m-12.9 0.5h0.9m0.6 0h0.9m1.1 0h0.9m-0.9 0h0.9m0.6 0h0.9m4.1 0h0.9m-11.9 0.5h0.9m-0.9 0h0.9m1.6 0h0.9m1.6 0h0.9m-0.9 0h0.9m3.6 0h0.9m2.1 0h0.9m-10.9 0.5h0.9m0.1 0h0.9m8.1 0h0.9m-14.9 0.5h0.9m0.1 0h0.9m-0.9 0h0.9m5.1 0h0.9m0.1 0h0.9m0.1 0h0.9m4.1 0h0.9m-0.9 0h0.9m-13.9 0.5h0.9m7.6 0h0.9m-0.4 0h0.9m0.6 0h0.9m1.6 0h0.9m-5.9 0.5h0.9m2.6 0h0.9m-8.4 0.5h0.9m-0.4 0h0.9m3.1 0h0.9m-11.4 0.5h0.9m1.6 0h0.9m0.6 0h0.9m0.6 0h0.9m0.6 0h0.9m1.6 0h0.9m-9.9 0.5h0.9m3.1 0h0.9m-0.4 0h0.9m0.6 0h0.9m-0.9 0h0.9m-0.9 0h0.9m0.1 0h0.9m2.1 0h0.9m-11.4 0.5h0.9m3.1 0h0.9m0.1 0h0.9m1.1 0h0.9m3.6 0h0.9m1.6 0h0.9m-13.4 0.5h0.9m1.1 0h0.9m0.1 0h0.9m2.1 0h0.9m-0.9 0h0.9m4.1 0h0.9m0.1 0h0.9m-12.4 0.5h0.9m0.1 0h0.9m4.6 0h0.9m3.6 0h0.9m-13.4 0.5h0.9m2.1 0h0.9m1.1 0h0.9m1.6 0h0.9m2.1 0h0.9m-11.9 0.5h0.9m-0.9 0h0.9m-0.4 0h0.9m1.6 0h0.9m-0.4 0h0.9m0.6 0h0.9m0.1 0h0.9m4.6 0h0.9m-0.9 0h0.9m-9.4 0.5h0.9m-0.4 0h0.9m2.1 0h0.9m-0.4 0h0.9m-0.9 0h0.9m5.6 0h0.9m-10.9 0.5h0.9m4.1 0h0.9m2.1 0h0.9m-12.9 0.5h0.9m2.1 0h0.9m10.1 0h0.9m0.1 0h0.9m-16.4 0.5h0.9m11.6 0h0.9m0.6 0h0.9m-12.9 0.5h0.9m1.6 0h0.9m1.1 0h0.9m1.1 0h0.9m0.6 0h0.9m0.6 0h0.9m0.6 0h0.9m0.1 0h0.9m0.1 0h0.9m-15.9 0.5h0.9m0.1 0h0.9m1.1 0h0.9m1.1 0h0.9m3.1 0h0.9m2.6 0h0.9m-0.9 0h0.9m-0.4 0h0.9m-0.9 0h0.9m-11.9 0.5h0.9m1.1 0h0.9m0.6 0h0.9m0.6 0h0.9m1.6 0h0.9m-9.9 0.5h0.9m-0.4 0h0.9m2.6 0h0.9m0.1 0h0.9m2.1 0h0.9m0.1 0h0.9m4.1 0h0.9m-12.9 0.5h0.9m0.6 0h0.9m-0.9 0h0.9m1.1 0h0.9m5.1 0h0.9m2.6 0h0.9m-10.9 1h0.9m-0.4 0h0.9m-0.9 0h0.9m0.6 0h0.9m-0.4 0h0.9m0.6 0h0.9m4.1 0h0.9m-10.9 0.5h0.9m-0.9 0h0.9m3.6 0h0.9m1.6 0h0.9m-0.4 0h0.9m-0.9 0h0.9m-0.4 0h0.9m0.6 0h0.9m-12.4 0.5h0.9m-0.9 0h0.9m-0.4 0h0.9m2.1 0h0.9m-0.9 0h0.9m1.1 0h0.9m-0.9 0h0.9m0.6 0h0.9m-9.9 0.5h0.9m0.1 0h0.9m-0.9 0h0.9m1.1 0h0.9m3.1 0h0.9m-0.9 0h0.9m-3.4 0.5h0.9m1.1 0h0.9m3.1 0h0.9m1.1 0h0.9m-0.9 0h0.9m0.1 0h0.9m-0.4 0h0.9m-0.9 0h0.9m-9.9 0.5h0.9m1.6 0h0.9m1.1 0h0.9m-7.9 0.5h0.9m-0.9 0h0.9m5.6 0h0.9m-10.4 0.5h0.9m1.1 0h0.9m-0.4 0h0.9m2.6 0h0.9m-0.9 0h0.9m-0.4 0h0.9m-0.9 0h0.9m2.1 0h0.9m0.1 0h0.9m0.1 0h0.9m0.6 0h0.9m-11.9 0.5h0.9m2.6 0h0.9m3.1 0h0.9m3.1 0h0.9m-14.4 0.5h0.9m4.1 0h0.9m5.6 0h0.9m-4.4 0.5h0.9m0.1 0h0.9m-0.4 0h0.9m0.6 0h0.9m-3.4 0.5h0.9m0.1 0h0.9m2.1 0h0.9m-11.4 0.5h0.9m3.1 0h0.9m2.1 0h0.9m2.6 0h0.9m-0.4 0h0.9m-0.9 0h0.9m-12.4 0.5h0.9m3.6 0h0.9m-0.9 0h0.9m-0.4 0h0.9m0.1 0h0.9m3.1 0h0.9m-10.4 0.5h0.9m-0.4 0h0.9m2.1 0h0.9m-0.9 0h0.9m0.6 0h0.9m4.6 0h0.9m-9.4 0.5h0.9m2.1 0h0.9m4.6 0h0.9m-4.4 0.5h0.9m-0.9 0h0.9m1.6 0h0.9m-0.9 0h0.9m1.1 0h0.9m-13.4 0.5h0.9m3.1 0h0.9m4.1 0h0.9m1.1 0h0.9m-10.4 0.5h0.9m1.1 0h0.9m2.1 0h0.9m-0.4 0h0.9m-0.4 0h0.9m1.1 0h0.9m1.1 0h0.9m-12.4 0.5h0.9m2.1 0h0.9m-0.4 0h0.9m3.1 0h0.9m2.1 0h0.9m-9.9 0.5h0.9m-0.9 0h0.9m-0.4 0h0.9m-0.4 0h0.9m2.1 0h0.9m0.1 0h0.9m0.6 0h0.9m-5.4 0.5h0.9m4.1 0h0.9m-9.9 0.5h0.9m0.6 0h0.9m3.6 0h0.9m-0.4 0h0.9m-0.9 0h0.9m-0.9 0h0.9m-6.4 0.5h0.9m3.1 0h0.9m1.1 0h0.9m-0.4 0h0.9m-2.4 0.5h0.9m-0.4 0h0.9m3.6 0h0.9m-12.4 0.5h0.9m5.6 0h0.9m1.6 0h0.9m1.6 0h0.9m-6.9 0.5h0.9m5.1 0h0.9m-0.9 0.5h0.9m-8.9 0.5h0.9m0.6 0h0.9m-0.4 0h0.9m-3.9 0.5h0.9m6.6 0h0.9m-0.4 0h0.9m-8.4 0.5h0.9m1.1 0h0.9m4.6 0h0.9m-5.9 0.5h0.9m4.6 0h0.9m-9.9 0.5h0.9m2.1 0h0.9m-0.9 0h0.9m2.1 0h0.9m-4.4 0.5h0.9m-0.4 0h0.9m-0.9 0h0.9m2.1 0h0.9m0.6 0h0.9m-7.4 0.5h0.9m-0.4 0.5h0.9m-0.4 0h0.9m-0.4 0h0.9m2.1 0h0.9m-2.9 0.5h0.9m-0.4 0h0.9m0.1 0.5h0.9m-1.9 0.5h0.9m0.6 0h0.9m50.1 0h0.9m-54.4 0.5h0.9m2.1 0h0.9m-5.4 0.5h0.9m55.6 0h0.9m-55.9 0.5h0.9m54.6 0h0.9m-0.4 0h0.9m0.1 0h0.9m-0.4 0h0.9m0.1 0h0.9m-0.9 0h0.9m1.1 0h0.9m3.1 0h0.9m-0.9 0h0.9m1.1 0h0.9m-66.9 0.5h0.9m55.1 0h0.9m1.6 0h0.9m-0.4 0h0.9m-0.9 0h0.9m1.1 0h0.9m2.6 0h0.9m0.6 0h0.9m-68.9 0.5h0.9m-0.4 0h0.9m-0.4 0h0.9m51.6 0h0.9m-0.4 0h0.9m1.1 0h0.9m-0.9 0h0.9m0.1 0h0.9m-0.4 0h0.9m-0.9 0h0.9m-0.9 0h0.9m2.6 0h0.9m-60.9 0.5h0.9m0.1 0h0.9m52.6 0h0.9m2.6 0h0.9m0.1 0h0.9m-0.9 0h0.9m0.1 0h0.9m5.6 0h0.9m-67.9 0.5h0.9m2.1 0h0.9m54.1 0h0.9m0.6 0h0.9m0.6 0h0.9m-61.4 0.5h0.9m-0.4 0h0.9m49.6 0h0.9m3.1 0h0.9m0.6 0h0.9m1.1 0h0.9m0.6 0h0.9m1.1 0h0.9m-61.9 0.5h0.9m0.6 0h0.9m-0.9 0h0.9m51.1 0h0.9m3.1 0h0.9m-57.9 0.5h0.9m51.1 0h0.9m4.6 0h0.9m-4.9 0.5h0.9m-0.9 0h0.9m-56.9 0.5h0.9m54.1 0h0.9m0.1 0h0.9m-54.9 1h0.9m-0.9 0h0.9m-3.4 1.5h0.9m0.1 0h0.9m-2.9 1h0.9m2.6 0h0.9m-3.4 1.5h0.9m-1.9 1h0.9m-2.4 0.5h0.9m2.1 0h0.9m-2.9 0.5h0.9m37.6 0.5h0.9m-1.9 0.5h0.9m-0.4 0.5h0.9m0.1 0h0.9m-41.4 0.5h0.9m26.1 0h0.9m0.1 0h0.9m-0.4 0h0.9m-3.4 0.5h0.9m11.6 0h0.9m-0.4 0h0.9m-36.9 0.5h0.9m19.1 0h0.9m0.1 0h0.9m-0.9 0h0.9m-0.4 0h0.9m1.1 0h0.9m2.1 0h0.9m-7.4 0.5h0.9m1.6 0.5h0.9m8.6 0h0.9m0.1 0h0.9m1.1 0h0.9m-39.4 0.5h0.9m4.1 0h0.9m16.1 0h0.9m-0.9 0h0.9m-0.9 0h0.9m3.1 0h0.9m-0.9 0h0.9m-3.9 0.5h0.9m1.1 0h0.9m1.6 0h0.9m2.6 0h0.9m1.1 0h0.9m-32.4 0.5h0.9m0.1 0h0.9m18.1 0h0.9m3.1 0h0.9m-0.9 0h0.9m0.1 0h0.9m-0.4 0h0.9m0.1 0h0.9m0.1 0h0.9m1.1 0h0.9m0.6 0h0.9m1.1 0h0.9m-14.9 0.5h0.9m-0.4 0h0.9m1.1 0h0.9m-0.9 0h0.9m2.1 0h0.9m1.1 0h0.9m0.1 0h0.9m2.1 0h0.9m4.6 0h0.9m-36.4 0.5h0.9m19.1 0h0.9m0.1 0h0.9m-0.9 0h0.9m0.6 0h0.9m-0.4 0h0.9m8.6 0h0.9m-16.4 0.5h0.9m2.6 0h0.9m5.1 0h0.9m-0.4 0h0.9m1.6 0h0.9m4.1 0h0.9m-36.4 0.5h0.9m19.6 0h0.9m0.6 0h0.9m0.6 0h0.9m-0.9 0h0.9m0.6 0h0.9m0.6 0h0.9m1.1 0h0.9m1.1 0h0.9m0.6 0h0.9m2.1 0h0.9m-14.4 0.5h0.9m-0.4 0h0.9m7.6 0h0.9m-13.4 0.5h0.9m0.1 0h0.9m1.6 0h0.9m0.1 0h0.9m0.1 0h0.9m0.6 0h0.9m3.6 0h0.9m0.6 0h0.9m-0.9 0h0.9m-33.4 0.5h0.9m0.6 0h0.9m16.1 0h0.9m0.6 0h0.9m4.1 0h0.9m-0.4 0h0.9m5.6 0h0.9m0.6 0h0.9m-10.4 0.5h0.9m0.1 0h0.9m3.1 0h0.9m2.1 0h0.9m0.6 0h0.9m-31.4 0.5h0.9m-0.4 0h0.9m12.6 0h0.9m8.1 0h0.9m6.6 0h0.9m-32.9 0.5h0.9m-0.4 0h0.9m17.1 0h0.9m0.6 0h0.9m6.6 0h0.9m-0.4 0h0.9m-0.9 0h0.9m1.1 0h0.9m-31.9 0.5h0.9m14.6 0h0.9m0.1 0h0.9m5.6 0h0.9m0.1 0h0.9m1.6 0h0.9m0.1 0h0.9m1.1 0h0.9m1.1 0h0.9m-0.4 0h0.9m-11.4 0.5h0.9m2.6 0h0.9m6.6 0h0.9m-4.4 0.5h0.9m0.1 0h0.9m-15.9 0.5h0.9m1.6 0h0.9m1.1 0h0.9m0.6 0h0.9m1.1 0h0.9m-0.4 0h0.9m4.1 0h0.9m-0.9 0h0.9m-0.4 0h0.9m0.1 0h0.9m-16.4 0.5h0.9m2.1 0h0.9m1.1 0h0.9m2.1 0h0.9m-0.4 0h0.9m0.6 0h0.9m-0.4 0h0.9m0.1 0h0.9m4.6 0h0.9m-19.4 0.5h0.9m4.6 0h0.9m7.1 0h0.9m0.1 0h0.9m2.6 0h0.9m0.1 0h0.9m-15.4 0.5h0.9m-0.4 0h0.9m5.1 0h0.9m4.1 0h0.9m1.6 0h0.9m-19.4 0.5h0.9m-0.4 0h0.9m1.1 0h0.9m3.6 0h0.9m0.6 0h0.9m1.1 0h0.9m-0.9 0h0.9m1.6 0h0.9m-0.4 0h0.9m-14.4 0.5h0.9m3.6 0h0.9m0.1 0h0.9m-0.9 0h0.9m2.6 0h0.9m1.1 0h0.9m0.1 0h0.9m0.6 0h0.9m3.6 0h0.9m-20.9 0.5h0.9m3.1 0h0.9m0.6 0h0.9m5.1 0h0.9m3.6 0h0.9m-0.9 0h0.9m-17.9 0.5h0.9m1.6 0h0.9m1.6 0h0.9m-0.4 0h0.9m0.1 0h0.9m0.1 0h0.9m4.6 0h0.9m1.6 0h0.9m-0.4 0h0.9m0.6 0h0.9m-16.9 0.5h0.9m0.6 0h0.9m1.6 0h0.9m-0.9 0h0.9m-0.4 0h0.9m3.6 0h0.9m-0.4 0h0.9m-0.4 0h0.9m0.1 0h0.9m0.6 0h0.9m-0.4 0h0.9m0.6 0h0.9m0.1 0h0.9m-16.4 0.5h0.9m2.1 0h0.9m0.1 0h0.9m0.1 0h0.9m3.6 0h0.9m4.6 0h0.9m-0.4 0h0.9m-0.4 0h0.9m-0.4 0h0.9m-17.4 0.5h0.9m-0.4 0h0.9m-0.9 0h0.9m-0.4 0h0.9m2.1 0h0.9m3.6 0h0.9m1.6 0h0.9m1.1 0h0.9m1.1 0h0.9m-0.9 0h0.9m2.1 0h0.9m-17.4 0.5h0.9m2.6 0h0.9m1.1 0h0.9m2.1 0h0.9m4.1 0h0.9m-0.4 0h0.9m-0.9 0h0.9m-0.4 0h0.9m-18.4 0.5h0.9m3.6 0h0.9m12.1 0h0.9m0.6 0h0.9m-21.9 0.5h0.9m0.1 0h0.9m2.6 0h0.9m1.1 0h0.9m3.1 0h0.9m-0.4 0h0.9m2.1 0h0.9m-0.4 0h0.9m2.6 0h0.9m0.6 0h0.9m0.1 0h0.9m-19.9 0.5h0.9m3.6 0h0.9m6.6 0h0.9m-0.9 0h0.9m0.6 0h0.9m3.1 0h0.9m0.1 0h0.9m0.1 0h0.9m-22.4 0.5h0.9m2.1 0h0.9m0.1 0h0.9m-0.9 0h0.9m2.1 0h0.9m-0.4 0h0.9m-0.4 0h0.9m0.6 0h0.9m2.1 0h0.9m-0.4 0h0.9m-0.4 0h0.9m3.6 0h0.9m-0.4 0h0.9m-0.4 0h0.9m-21.9 0.5h0.9m0.1 0h0.9m2.6 0h0.9m1.1 0h0.9m-0.4 0h0.9m1.1 0h0.9m-0.4 0h0.9m2.1 0h0.9m-0.4 0h0.9m3.6 0h0.9m3.1 0h0.9m3.1 0h0.9m-0.9 0h0.9m-26.9 0.5h0.9m6.6 0h0.9m1.1 0h0.9m0.1 0h0.9m0.6 0h0.9m7.1 0h0.9m1.6 0h0.9m0.1 0h0.9m1.6 0h0.9m-27.9 0.5h0.9m1.1 0h0.9m-0.4 0h0.9m2.6 0h0.9m5.6 0h0.9m-0.9 0h0.9m2.1 0h0.9m-0.9 0h0.9m0.1 0h0.9m3.1 0h0.9m1.1 0h0.9m0.1 0h0.9m-0.4 0h0.9m0.6 0h0.9m-0.4 0h0.9m-26.4 0.5h0.9m0.1 0h0.9m-0.9 0h0.9m1.6 0h0.9m1.6 0h0.9m1.6 0h0.9m0.1 0h0.9m2.6 0h0.9m4.1 0h0.9m5.6 0h0.9m0.6 0h0.9m-0.4 0h0.9m-28.9 0.5h0.9m2.6 0h0.9m4.6 0h0.9m-0.4 0h0.9m0.1 0h0.9m1.6 0h0.9m-0.4 0h0.9m1.1 0h0.9m7.1 0h0.9m-0.9 0h0.9m0.6 0h0.9m-0.9 0h0.9m-0.9 0h0.9m0.6 0h0.9m-25.4 0.5h0.9m6.1 0h0.9m1.1 0h0.9m0.6 0h0.9m4.1 0h0.9m6.6 0h0.9m-26.9 0.5h0.9m0.1 0h0.9m2.6 0h0.9m0.1 0h0.9m-0.4 0h0.9m6.1 0h0.9m1.6 0h0.9m9.6 0h0.9m2.6 0h0.9m-31.9 0.5h0.9m3.6 0h0.9m7.6 0h0.9m-0.9 0h0.9m3.1 0h0.9m0.6 0h0.9m0.6 0h0.9m1.1 0h0.9m-0.9 0h0.9m2.1 0h0.9m0.6 0h0.9m-25.4 0.5h0.9m3.1 0h0.9m6.1 0h0.9m0.6 0h0.9m11.6 0h0.9m0.1 0h0.9m0.6 0h0.9m0.6 0h0.9m0.1 0h0.9m-31.9 0.5h0.9m-0.4 0h0.9m7.6 0h0.9m0.1 0h0.9m2.6 0h0.9m2.1 0h0.9m1.1 0h0.9m-0.4 0h0.9m2.1 0h0.9m-0.4 0h0.9m3.1 0h0.9m-0.4 0h0.9m3.1 0h0.9m0.6 0h0.9m-34.9 0.5h0.9m-0.4 0h0.9m0.1 0h0.9m-0.9 0h0.9m-0.4 0h0.9m2.1 0h0.9m2.1 0h0.9m0.1 0h0.9m4.1 0h0.9m-0.4 0h0.9m5.1 0h0.9m4.1 0h0.9m-0.9 0h0.9m0.1 0h0.9m-0.9 0h0.9m0.6 0h0.9m-0.9 0h0.9m2.6 0h0.9m3.1 0h0.9m-23.4 0.5h0.9m2.1 0h0.9m0.6 0h0.9m-0.4 0h0.9m0.1 0h0.9m1.6 0h0.9m3.1 0h0.9m2.1 0h0.9m1.6 0h0.9m0.1 0h0.9m-34.9 0.5h0.9m3.1 0h0.9m0.1 0h0.9m-0.4 0h0.9m11.6 0h0.9m0.1 0h0.9m0.1 0h0.9m-0.4 0h0.9m0.1 0h0.9m-0.4 0h0.9m-0.4 0h0.9m3.6 0h0.9m0.6 0h0.9m0.1 0h0.9m4.1 0h0.9m-0.9 0h0.9m2.6 0h0.9m-36.4 0.5h0.9m2.6 0h0.9m2.6 0h0.9m0.6 0h0.9m2.1 0h0.9m15.6 0h0.9m1.1 0h0.9m0.6 0h0.9m-0.9 0h0.9m-30.4 0.5h0.9m-0.4 0h0.9m-0.9 0h0.9m1.1 0h0.9m5.1 0h0.9m0.1 0h0.9m0.6 0h0.9m-0.4 0h0.9m2.6 0h0.9m-0.4 0h0.9m1.1 0h0.9m4.1 0h0.9m2.1 0h0.9m0.1 0h0.9m4.6 0h0.9m1.1 0h0.9m-41.4 0.5h0.9m3.1 0h0.9m0.6 0h0.9m-0.4 0h0.9m4.6 0h0.9m2.6 0h0.9m-0.9 0h0.9m-0.4 0h0.9m1.6 0h0.9m0.1 0h0.9m2.1 0h0.9m15.6 0h0.9m0.1 0h0.9m-38.9 0.5h0.9m0.6 0h0.9m-0.4 0h0.9m-0.4 0h0.9m0.1 0h0.9m4.1 0h0.9m0.1 0h0.9m3.1 0h0.9m3.1 0h0.9m3.1 0h0.9m0.1 0h0.9m4.6 0h0.9m3.6 0h0.9m2.1 0h0.9m0.6 0h0.9m2.1 0h0.9m0.1 0h0.9m-44.9 0.5h0.9m6.1 0h0.9m4.1 0h0.9m0.1 0h0.9m1.6 0h0.9m0.1 0h0.9m0.6 0h0.9m-0.9 0h0.9m6.6 0h0.9m7.6 0h0.9m-0.4 0h0.9m-0.4 0h0.9m0.6 0h0.9m-0.4 0h0.9m6.1 0h0.9m-41.9 0.5h0.9m2.1 0h0.9m-0.4 0h0.9m0.1 0h0.9m0.1 0h0.9m-0.4 0h0.9m-0.9 0h0.9m-0.4 0h0.9m1.6 0h0.9m2.6 0h0.9m1.1 0h0.9m3.6 0h0.9m-0.4 0h0.9m0.1 0h0.9m5.6 0h0.9m1.6 0h0.9m2.6 0h0.9m3.6 0h0.9m-0.9 0h0.9m3.1 0h0.9m-0.4 0h0.9m-40.4 0.5h0.9m6.6 0h0.9m4.6 0h0.9m2.6 0h0.9m0.1 0h0.9m1.6 0h0.9m2.1 0h0.9m5.1 0h0.9m1.6 0h0.9m-0.9 0h0.9m0.1 0h0.9m2.6 0h0.9m2.6 0h0.9m-45.9 0.5h0.9m12.1 0h0.9m-0.4 0h0.9m0.1 0h0.9m-0.4 0h0.9m0.6 0h0.9m0.6 0h0.9m4.1 0h0.9m4.1 0h0.9m3.1 0h0.9m12.6 0h0.9m-44.9 0.5h0.9m-0.9 0h0.9m0.1 0h0.9m7.6 0h0.9m0.6 0h0.9m1.6 0h0.9m3.1 0h0.9m4.1 0h0.9m5.6 0h0.9m0.1 0h0.9m-0.4 0h0.9m4.1 0h0.9m-0.4 0h0.9m2.1 0h0.9m1.1 0h0.9m2.1 0h0.9m-44.9 0.5h0.9m2.1 0h0.9m1.1 0h0.9m5.6 0h0.9m-0.4 0h0.9m2.1 0h0.9m1.1 0h0.9m2.1 0h0.9m0.1 0h0.9m9.1 0h0.9m5.1 0h0.9m2.6 0h0.9m0.1 0h0.9m0.6 0h0.9m2.1 0h0.9m-45.9 0.5h0.9m0.6 0h0.9m11.6 0h0.9m0.1 0h0.9m1.6 0h0.9m-0.9 0h0.9m2.1 0h0.9m1.6 0h0.9m0.6 0h0.9m-0.4 0h0.9m5.1 0h0.9m-0.4 0h0.9m2.6 0h0.9m0.6 0h0.9m0.6 0h0.9m-40.4 0.5h0.9m1.1 0h0.9m-0.9 0h0.9m0.1 0h0.9m4.6 0h0.9m-0.4 0h0.9m1.1 0h0.9m-0.4 0h0.9m2.6 0h0.9m0.1 0h0.9m1.1 0h0.9m3.1 0h0.9m0.1 0h0.9m2.6 0h0.9m0.6 0h0.9m-0.9 0h0.9m2.1 0h0.9m-31.4 0.5h0.9m1.6 0h0.9m0.1 0h0.9m1.1 0h0.9m-0.4 0h0.9m6.1 0h0.9m2.1 0h0.9m3.6 0h0.9m-0.4 0h0.9m5.6 0h0.9m1.1 0h0.9m4.1 0h0.9m4.1 0h0.9m1.6 0h0.9m-37.4 0.5h0.9m-0.4 0h0.9m7.6 0h0.9m1.1 0h0.9m-0.4 0h0.9m1.6 0h0.9m4.1 0h0.9m11.6 0h0.9m2.1 0h0.9m2.6 0h0.9m2.6 0h0.9m-38.9 0.5h0.9m17.1 0h0.9m2.6 0h0.9m7.1 0h0.9m0.6 0h0.9m-0.4 0h0.9m3.6 0h0.9m-40.9 0.5h0.9m5.6 0h0.9m0.1 0h0.9m1.6 0h0.9m-0.4 0h0.9m1.6 0h0.9m3.6 0h0.9m3.6 0h0.9m2.6 0h0.9m1.6 0h0.9m1.6 0h0.9m5.6 0h0.9m-37.4 0.5h0.9m5.6 0h0.9m0.1 0h0.9m3.6 0h0.9m11.1 0h0.9m3.6 0h0.9m2.1 0h0.9m1.6 0h0.9m0.6 0h0.9m3.1 0h0.9m0.1 0h0.9m-40.4 0.5h0.9m4.1 0h0.9m4.6 0h0.9m-0.4 0h0.9m-0.4 0h0.9m0.1 0h0.9m8.6 0h0.9m-25.9 0.5h0.9m-0.4 0h0.9m7.6 0h0.9m3.6 0h0.9m5.6 0h0.9m12.1 0h0.9m5.1 0h0.9m4.1 0h0.9m-48.4 0.5h0.9m0.1 0h0.9m11.1 0h0.9m33.6 0h0.9m1.1 0h0.9m-51.4 0.5h0.9m-0.4 0h0.9m2.6 0h0.9m-0.9 0h0.9m1.1 0h0.9m1.6 0h0.9m22.1 0h0.9m14.6 0h0.9m-43.9 0.5h0.9m-0.9 0h0.9m13.1 0h0.9m26.6 0h0.9m-45.9 0.5h0.9m18.1 0h0.9m17.1 0h0.9m6.1 0h0.9m1.6 0h0.9m3.1 0h0.9m-30.4 0.5h0.9m3.1 0h0.9m-21.9 0.5h0.9m1.6 0h0.9m33.1 0h0.9m-39.4 0.5h0.9m1.1 0h0.9m2.6 0h0.9m28.6 0h0.9m-36.9 0.5h0.9m5.1 0h0.9m-5.9 0.5h0.9m1.6 0h0.9m28.6 0h0.9m3.1 0h0.9m6.6 0h0.9m-38.4 0.5h0.9m39.6 0.5h0.9m-36.9 1h0.9m32.1 0h0.9m-38.4 1h0.9m6.6 0h0.9m0.1 0h0.9m30.6 0h0.9m-48.4 1h0.9m14.1 0h0.9m10.6 0h0.9m-25.9 0.5h0.9m0.6 0h0.9m6.6 0h0.9m-0.4 0h0.9m2.1 0h0.9m12.1 0.5h0.9m10.1 0h0.9m-39.4 0.5h0.9m0.6 0h0.9m4.6 0h0.9m8.1 0h0.9m-15.4 1.5h0.9m0.1 0h0.9m0.1 0h0.9m0.1 0h0.9m6.1 0h0.9m14.6 0h0.9m2.1 0h0.9m0.1 0h0.9m-31.4 0.5h0.9m-0.4 0h0.9m0.6 0h0.9m1.1 0h0.9m-4.9 0.5h0.9m2.1 0h0.9m-0.4 0h0.9m38.1 0h0.9m-39.4 0.5h0.9m-5.4 0.5h0.9m0.6 0h0.9m2.6 0h0.9m-4.9 0.5h0.9m11.6 0h0.9m-8.4 0.5h0.9m-2.4 0.5h0.9m-0.4 0h0.9m-0.4 0h0.9m32.1 0h0.9m-33.9 0.5h0.9m26.1 0h0.9m-28.9 0.5h0.9m-1.9 0.5h0.9m0.1 0.5h0.9m23.1 0h0.9m17.6 0h0.9m-42.4 0.5h0.9m2.6 0h0.9m-0.4 0h0.9m-0.4 0h0.9m-4.4 0.5h0.9m0.6 0h0.9m31.1 0h0.9m5.6 0h0.9m0.1 0h0.9m-2.9 1h0.9m-2.9 0.5h0.9m5.6 1h0.9m-38.4 1h0.9m20.6 0h0.9m10.1 0.5h0.9m-29.9 0.5h0.9m15.1 0.5h0.9m4.1 0h0.9m-23.4 0.5h0.9m-1.9 1h0.9m-0.9 0.5h0.9m26.1 0h0.9m2.1 0h0.9m-28.9 0.5h0.9m9.6 0h0.9m-12.4 0.5h0.9m22.1 2.5h0.9m-10.9 0.5h0.9m8.6 0h0.9m-21.4 1h0.9m-0.4 1h0.9m31.1 0h0.9m-16.4 1h0.9m-11.4 1.5h0.9m11.6 3h0.9m-7.4 3h0.9" stroke="#20b2c2" stroke-width="0.9" stroke-opacity="0.75" fill="none"/>
<text x="119.8" y="117.4" font-size="8.6" textLength="31.0" lengthAdjust="spacingAndGlyphs">Clusters</text>
<circle cx="121.9" cy="123.3" r="2.3" fill="#c8102e"/>
<circle cx="121.9" cy="132.1" r="2.3" fill="#2fae49"/>
<circle cx="121.9" cy="150.6" r="2.3" fill="#1e4d8c"/>
<text x="126.2" y="125.6" font-size="7.8" textLength="51.2" lengthAdjust="spacingAndGlyphs">1: CD8+ T cells</text>
<text x="126.2" y="134.5" font-size="7.8" textLength="51.2" lengthAdjust="spacingAndGlyphs">2: CD4+ T cells</text>
<text x="125.8" y="143.4" font-size="7.8" textLength="40.4" lengthAdjust="spacingAndGlyphs">(CD3+/dim)</text>
<text x="126.2" y="153.2" font-size="7.8" textLength="51.2" lengthAdjust="spacingAndGlyphs">3: CD4+ T cells</text>
<text x="125.8" y="161.9" font-size="7.8" textLength="22.9" lengthAdjust="spacingAndGlyphs">(CD3–)</text>
<text x="287.8" y="137.7" font-size="8.6" textLength="28.5" lengthAdjust="spacingAndGlyphs">Sample</text>
<circle cx="289.8" cy="144" r="2.3" fill="#c8102e"/>
<circle cx="289.8" cy="152.9" r="2.3" fill="#29abe2"/>
<text x="294.1" y="146.8" font-size="8" textLength="26.3" lengthAdjust="spacingAndGlyphs">Product</text>
<text x="294.1" y="155.6" font-size="8" textLength="22.5" lengthAdjust="spacingAndGlyphs">CAR T</text>
<text x="294.1" y="164.2" font-size="8" textLength="37.8" lengthAdjust="spacingAndGlyphs">Malignancy</text>
<path d="M428.5 33.5h1.4m19.1 0.5h1.4m-7.4 2.5h1.4m-8.4 4h1.4m10.1 0.5h1.4m-20.4 0.5h1.4m-3.4 0.5h1.4m15.1 0h1.4m7.6 0h1.4m-35.9 0.5h1.4m7.1 0h1.4m29.1 0.5h1.4m-30.4 0.5h1.4m16.1 0h1.4m-29.9 0.5h1.4m2.6 0h1.4m7.6 0h1.4m13.1 0h1.4m-0.9 0.5h1.4m-20.4 0.5h1.4m30.1 0h1.4m-30.9 0.5h1.4m1.6 0h1.4m1.6 0h1.4m8.6 0h1.4m-5.9 0.5h1.4m9.1 0h1.4m-39.9 0.5h1.4m43.1 0h1.4m-15.9 0.5h1.4m-24.4 1h1.4m19.1 0h1.4m10.1 0h1.4m5.1 0h1.4m-12.9 0.5h1.4m-33.9 0.5h1.4m16.1 0h1.4m12.6 0h1.4m-0.4 0h1.4m10.6 0h1.4m-17.4 0.5h1.4m3.1 0h1.4m-0.4 0h1.4m7.1 0h1.4m-29.9 0.5h1.4m-17.4 0.5h1.4m7.1 0h1.4m1.6 0h1.4m4.6 0h1.4m5.6 0h1.4m-18.9 0.5h1.4m3.6 0.5h1.4m-9.4 0.5h1.4m11.1 0h1.4m-6.4 0.5h1.4m17.6 0h1.4m-27.4 0.5h1.4m16.1 0h1.4m13.6 0h1.4m0.1 0.5h1.4m-27.9 0.5h1.4m24.6 0.5h1.4m-36.4 0.5h1.4m30.1 0h1.4m2.1 0h1.4m-11.4 0.5h1.4m0.1 0h1.4m-56.4 0.5h1.4m38.6 0h1.4m25.1 0h1.4m12.6 0h1.4m-53.4 0.5h1.4m19.1 0h1.4m28.1 0h1.4m-44.9 0.5h1.4m-16.9 0.5h1.4m17.1 0h1.4m3.6 0h1.4m4.1 0h1.4m17.1 0h1.4m-10.9 0.5h1.4m14.1 0h1.4m5.6 0h1.4m-41.4 0.5h1.4m4.1 0h1.4m16.1 0h1.4m5.1 0h1.4m-29.4 0.5h1.4m37.6 0h1.4m-48.9 0.5h1.4m-16.4 1h1.4m47.6 0h1.4m9.1 0h1.4m-56.4 0.5h1.4m5.1 0h1.4m26.1 0h1.4m10.6 0h1.4m-54.4 0.5h1.4m6.1 0h1.4m-0.4 0h1.4m10.1 0h1.4m2.6 0h1.4m33.6 0h1.4m0.6 0h1.4m-5.9 0.5h1.4m-54.4 0.5h1.4m4.6 0h1.4m5.6 0h1.4m3.6 0h1.4m35.6 0h1.4m-8.9 0.5h1.4m1.6 0h1.4m-47.4 0.5h1.4m10.6 0h1.4m28.6 0h1.4m-49.4 0.5h1.4m9.1 0h1.4m17.1 0h1.4m-10.4 0.5h1.4m6.6 0h1.4m10.6 0h1.4m-16.9 1h1.4m3.6 0h1.4m12.1 0h1.4m1.1 0h1.4m7.1 0h1.4m-48.9 0.5h1.4m5.6 0h1.4m24.6 0h1.4m21.1 0h1.4m-62.4 0.5h1.4m60.1 0.5h1.4m2.6 0h1.4m-37.4 0.5h1.4m19.1 0h1.4m-57.4 0.5h1.4m3.1 0h1.4m2.1 0h1.4m11.6 0h1.4m0.1 0h1.4m31.1 0h1.4m9.1 0h1.4m-51.9 0.5h1.4m10.1 0h1.4m41.1 0h1.4m-40.4 0.5h1.4m4.6 0h1.4m11.6 0h1.4m20.6 0h1.4m-28.4 0.5h1.4m-34.9 0.5h1.4m5.1 0h1.4m24.6 0h1.4m1.1 0h1.4m-0.4 0h1.4m-26.4 0.5h1.4m1.1 0h1.4m7.1 0h1.4m10.1 0.5h1.4m1.1 0h1.4m10.6 0.5h1.4m-34.4 1h1.4m32.6 0h1.4m0.6 0h1.4m-24.4 0.5h1.4m-8.4 0.5h1.4m20.6 0h1.4m-37.4 0.5h1.4m0.1 0h1.4m-6.9 0.5h1.4m4.6 0h1.4m17.6 0.5h1.4m3.6 0h1.4m6.6 0.5h1.4m-6.9 0.5h1.4m-15.9 0.5h1.4m7.6 0h1.4m10.6 0h1.4m1.6 0h1.4m15.1 0.5h1.4m-55.9 1h1.4m7.6 0h1.4m4.1 0h1.4m-3.4 1h1.4m9.6 0h1.4m8.6 0h1.4m3.6 1h1.4m-24.4 0.5h1.4m0.6 0h1.4m13.6 0h1.4m2.1 0.5h1.4m3.1 0h1.4m2.6 0h1.4m-24.4 1.5h1.4m-14.4 1h1.4m15.6 0.5h1.4m-5.4 3.5h1.4m-26.9 4.5h1.4m22.1 3h1.4m5.1 0h1.4m-3.9 2h1.4m7.6 0.5h1.4m0.1 1h1.4m-34.9 0.5h1.4m12.6 0h1.4m-18.4 0.5h1.4m25.1 0h1.4m12.1 0h1.4m5.1 0h1.4m-40.9 1h1.4m21.1 0.5h1.4m5.1 0.5h1.4m4.1 0h1.4m-18.4 0.5h1.4m-9.9 0.5h1.4m9.6 0h1.4m8.1 0h1.4m-25.4 0.5h1.4m2.6 0.5h1.4m3.1 0h1.4m-29.9 0.5h1.4m35.6 0h1.4m-37.4 0.5h1.4m24.1 0h1.4m-0.4 0h1.4m-4.9 1h1.4m6.1 0h1.4m18.6 0h1.4m-26.4 0.5h1.4m2.1 0.5h1.4m-20.9 0.5h1.4m13.1 0h1.4m-13.9 0.5h1.4m17.6 0h1.4m7.6 0h1.4m-41.9 0.5h1.4m40.6 0.5h1.4m15.6 0h1.4m-46.4 0.5h1.4m42.1 0h1.4m-46.9 0.5h1.4m4.1 0h1.4m16.1 0h1.4m-23.9 0.5h1.4m4.6 0.5h1.4m-0.4 0h1.4m21.6 0h1.4m7.6 0h1.4m-49.9 0.5h1.4m28.1 0h1.4m1.1 0h1.4m-28.9 0.5h1.4m-0.4 0h1.4m7.1 0.5h1.4m4.1 0h1.4m0.1 0h1.4m1.6 0h1.4m-22.4 0.5h1.4m32.1 0h1.4m7.1 0h1.4m-50.4 0.5h1.4m45.1 0h1.4m5.6 0h1.4m-37.9 0.5h1.4m31.1 0h1.4m19.1 0h1.4m-56.9 0.5h1.4m31.6 0h1.4m-49.9 0.5h1.4m2.6 0h1.4m21.6 0h1.4m17.1 0h1.4m-41.4 0.5h1.4m1.1 0h1.4m-0.4 0h1.4m2.6 0h1.4m21.1 0h1.4m21.6 0h1.4m-43.4 0.5h1.4m2.6 0h1.4m2.1 1h1.4m19.1 0h1.4m-0.4 0h1.4m1.1 0h1.4m-41.4 0.5h1.4m7.6 0h1.4m20.6 0h1.4m-23.9 0.5h1.4m-7.4 0.5h1.4m10.6 0h1.4m31.1 0h1.4m-0.4 0h1.4m-73.9 0.5h1.4m21.1 0h1.4m4.6 0h1.4m31.1 0h1.4m18.1 0h1.4m6.1 0h1.4m-56.9 0.5h1.4m11.6 0h1.4m9.6 0h1.4m-15.9 0.5h1.4m5.1 0h1.4m14.6 0h1.4m0.1 0h1.4m0.6 0h1.4m-35.4 0.5h1.4m4.6 0h1.4m5.6 0h1.4m7.6 0h1.4m-15.4 0.5h1.4m-0.4 0h1.4m21.1 0.5h1.4m6.6 0h1.4m-44.9 0.5h1.4m9.1 0h1.4m16.6 0.5h1.4m-26.4 0.5h1.4m18.1 0h1.4m13.6 0h1.4m-6.4 0.5h1.4m-6.9 0.5h1.4m7.1 0h1.4m11.1 0h1.4m-24.9 0.5h1.4m11.1 0h1.4m-41.4 0.5h1.4m27.6 0.5h1.4m-38.4 0.5h1.4m36.1 0h1.4m5.1 0h1.4m-23.9 0.5h1.4m2.1 0h1.4m5.6 0h1.4m12.6 0h1.4m6.1 0h1.4m6.6 0h1.4m-54.9 0.5h1.4m24.1 0h1.4m3.1 0h1.4m-19.4 0.5h1.4m33.6 0h1.4m5.6 0h1.4m-63.4 0.5h1.4m14.6 0h1.4m22.1 0h1.4m-28.9 0.5h1.4m-2.9 0.5h1.4m4.1 0h1.4m30.6 0h1.4m-11.9 0.5h1.4m2.6 0h1.4m0.1 0h1.4m3.1 0h1.4m0.6 0h1.4m6.6 0.5h1.4m0.6 0h1.4m-48.9 0.5h1.4m0.6 0.5h1.4m17.6 0h1.4m3.6 0h1.4m-36.9 0.5h1.4m32.1 0h1.4m-31.9 0.5h1.4m16.1 0h1.4m24.1 0h1.4m13.1 0h1.4m-70.9 0.5h1.4m32.6 0h1.4m10.6 0h1.4m-12.9 0.5h1.4m-26.9 0.5h1.4m27.6 0h1.4m15.1 0h1.4m-7.4 0.5h1.4m-33.9 0.5h1.4m10.6 0h1.4m-0.9 0h1.4m1.6 0h1.4m0.1 0h1.4m14.6 0h1.4m-14.4 0.5h1.4m20.6 0h1.4m1.1 0h1.4m12.6 0h1.4m-57.9 0.5h1.4m4.6 0.5h1.4m19.1 0h1.4m18.6 0h1.4m-49.4 0.5h1.4m14.6 0h1.4m13.1 0h1.4m5.1 0h1.4m2.1 0h1.4m-7.4 0.5h1.4m-29.4 0.5h1.4m4.6 0h1.4m-9.4 0.5h1.4m21.6 0h1.4m-14.9 0.5h1.4m2.1 0h1.4m4.6 0h1.4m8.1 0h1.4m2.1 0h1.4m-33.4 0.5h1.4m23.6 0h1.4m-0.9 0h1.4m1.1 0h1.4m-18.4 0.5h1.4m11.6 0h1.4m-23.4 0.5h1.4m13.6 0h1.4m8.6 0h1.4m-35.4 0.5h1.4m13.1 0h1.4m8.6 0h1.4m5.1 1h1.4m-0.4 0h1.4m-8.4 0.5h1.4m-3.4 0.5h1.4m-14.9 0.5h1.4m2.6 0h1.4m13.1 0h1.4m5.1 0h1.4m-11.9 0.5h1.4m-18.9 0.5h1.4m-1.9 1h1.4m19.1 0h1.4m-25.9 0.5h1.4m24.6 0.5h1.4m-18.4 0.5h1.4m15.1 0.5h1.4m-18.9 0.5h1.4m10.1 0h1.4m-8.4 0.5h1.4m25.6 0.5h1.4m-11.4 2h1.4m-9.4 0.5h1.4" stroke="#e9e21d" stroke-width="1.4" fill="none"/>
<path d="M461.5 42.5h1.4m-16.9 1.5h1.4m-19.4 3h1.4m5.6 0h1.4m-2.9 0.5h1.4m0.1 0h1.4m-6.9 0.5h1.4m0.1 0h1.4m-32.9 0.5h1.4m-0.9 0h1.4m52.6 0.5h1.4m-34.9 1.5h1.4m20.6 0h1.4m8.1 0h1.4m-32.4 0.5h1.4m13.6 0h1.4m14.1 0h1.4m11.6 0h1.4m-0.4 0h1.4m-14.4 0.5h1.4m-27.9 0.5h1.4m0.1 0h1.4m11.1 0h1.4m-16.9 0.5h1.4m0.1 0h1.4m10.6 0h1.4m-16.9 0.5h1.4m5.1 0.5h1.4m9.1 0h1.4m-23.4 0.5h1.4m2.1 0h1.4m4.1 0h1.4m-2.4 1.5h1.4m1.1 0h1.4m10.1 0.5h1.4m-14.9 0.5h1.4m2.6 0h1.4m0.1 0h1.4m6.1 0.5h1.4m19.1 0h1.4m-39.9 0.5h1.4m-0.9 0h1.4m45.6 0.5h1.4m-49.9 0.5h1.4m-0.9 0h1.4m-0.9 0.5h1.4m27.1 0h1.4m-32.4 0.5h1.4m-0.9 0h1.4m7.6 0.5h1.4m30.6 0h1.4m-37.9 0.5h1.4m21.6 0h1.4m-0.9 0h1.4m12.1 0h1.4m-16.4 0.5h1.4m-36.4 0.5h1.4m13.1 0h1.4m29.6 0h1.4m-21.9 0.5h1.4m-7.4 0.5h1.4m0.6 0h1.4m12.1 0h1.4m11.1 0h1.4m-48.4 0.5h1.4m16.1 0h1.4m30.1 0.5h1.4m-31.4 0.5h1.4m-22.4 0.5h1.4m52.1 0h1.4m-30.9 0.5h1.4m-4.9 0.5h1.4m6.6 0.5h1.4m7.6 0h1.4m13.6 0h1.4m-0.9 0.5h1.4m-43.9 1h1.4m23.1 0h1.4m-2.9 1h1.4m-16.9 0.5h1.4m-10.9 0.5h1.4m-11.4 0.5h1.4m24.6 0h1.4m5.1 0.5h1.4m6.6 0h1.4m-24.4 0.5h1.4m1.1 0h1.4m1.1 0h1.4m-16.4 0.5h1.4m30.1 0h1.4m-1.9 0.5h1.4m-29.9 0.5h1.4m20.6 0h1.4m1.6 0h1.4m-1.4 0.5h1.4m-3.4 0.5h1.4m0.1 0.5h1.4m-22.4 1.5h1.4m1.6 0h1.4m11.6 0h1.4m-1.4 0.5h1.4m3.1 0h1.4m3.6 0h1.4m17.1 5.5h1.4m-33.4 19h1.4m7.6 1h1.4m-8.4 4.5h1.4m13.6 0h1.4m-11.9 1.5h1.4m-2.9 0.5h1.4m0.1 0.5h1.4m-10.9 0.5h1.4m10.1 0h1.4m-21.9 0.5h1.4m14.6 0h1.4m15.1 0h1.4m-21.9 0.5h1.4m4.6 0h1.4m-18.4 0.5h1.4m-0.4 0.5h1.4m17.1 0h1.4m-23.9 0.5h1.4m-0.9 0h1.4m18.1 0h1.4m-13.9 0.5h1.4m9.1 0h1.4m14.1 0h1.4m-4.9 0.5h1.4m-32.9 0.5h1.4m11.6 0h1.4m11.1 0h1.4m-29.9 0.5h1.4m12.1 0h1.4m3.6 0h1.4m10.1 0.5h1.4m-10.9 0.5h1.4m-7.9 0.5h1.4m-0.9 0h1.4m-3.9 1h1.4m8.6 0h1.4m13.6 0h1.4m-44.4 0.5h1.4m29.6 0h1.4m6.6 0h1.4m-22.9 0.5h1.4m0.6 0h1.4m23.6 0h1.4m4.6 0h1.4m-29.4 0.5h1.4m-8.9 0.5h1.4m8.6 0h1.4m9.1 0h1.4m-16.4 1h1.4m16.1 0h1.4m-15.4 0.5h1.4m3.1 0.5h1.4m10.1 0h1.4m-28.4 0.5h1.4m23.6 0h1.4m-27.4 0.5h1.4m-0.9 0h1.4m3.1 0h1.4m5.6 0h1.4m7.1 0h1.4m-16.9 0.5h1.4m16.6 0h1.4m-38.4 0.5h1.4m5.6 0h1.4m10.1 0h1.4m2.1 0h1.4m-23.9 0.5h1.4m18.6 0h1.4m2.1 0h1.4m5.6 0h1.4m10.1 0h1.4m3.1 0h1.4m0.1 0h1.4m-35.9 0.5h1.4m17.6 0h1.4m4.6 0h1.4m-32.9 1h1.4m22.6 0h1.4m2.1 0h1.4m-26.9 0.5h1.4m30.6 0h1.4m4.6 0.5h1.4m-21.9 0.5h1.4m5.1 0h1.4m4.6 0h1.4m-13.9 0.5h1.4m4.1 0.5h1.4m-12.4 0.5h1.4m-8.9 0.5h1.4m6.1 0h1.4m2.6 0h1.4m1.1 0h1.4m-0.4 0h1.4m1.1 0h1.4m2.1 0h1.4m9.6 0h1.4m-0.9 0h1.4m-33.9 0.5h1.4m18.1 0h1.4m-24.9 0.5h1.4m2.1 0h1.4m15.1 0h1.4m-21.4 1h1.4m7.6 0h1.4m10.6 0h1.4m2.6 0h1.4m-11.9 0.5h1.4m10.6 0h1.4m5.1 0h1.4m6.1 0h1.4m-30.9 0.5h1.4m2.1 0h1.4m5.1 0h1.4m5.1 0h1.4m-15.9 0.5h1.4m16.1 0h1.4m-27.9 0.5h1.4m-0.9 0h1.4m4.1 0h1.4m7.1 0h1.4m-0.4 0h1.4m-7.4 0.5h1.4m-8.9 0.5h1.4m12.6 0h1.4m0.1 0.5h1.4m-2.9 0.5h1.4m14.1 0h1.4m0.1 0h1.4m-12.9 1h1.4m8.1 0h1.4m-20.4 0.5h1.4m12.1 0h1.4m2.1 0h1.4m-18.4 0.5h1.4m6.1 0.5h1.4m0.6 0h1.4m3.1 0h1.4m5.1 0h1.4m-10.4 5.5h1.4m-2.9 10h1.4" stroke="#70bc44" stroke-width="1.4" fill="none"/>
<path d="M430 45h1.4m-1.4 3h1.4m5.1 0.5h1.4m0.1 1h1.4m3.6 0.5h1.4m-25.4 1.5h1.4m44.6 0h1.4m-32.4 0.5h1.4m-0.9 0h1.4m-0.9 0h1.4m7.6 0h1.4m-18.9 0.5h1.4m6.6 0.5h1.4m-9.4 0.5h1.4m-5.9 0.5h1.4m22.1 0.5h1.4m-15.9 0.5h1.4m3.1 0h1.4m18.1 1.5h1.4m-32.9 0.5h1.4m7.1 0h1.4m11.1 1h1.4m-0.4 0.5h1.4m9.1 1h1.4m-24.9 0.5h1.4m4.6 1h1.4m-16.4 2h1.4m-2.9 0.5h1.4m21.6 0h1.4m-27.4 1.5h1.4m9.6 0h1.4m6.6 0h1.4m3.6 0h1.4m-22.4 0.5h1.4m6.1 0h1.4m0.6 0h1.4m15.6 0.5h1.4m-0.9 0h1.4m-1.9 0.5h1.4m-7.4 1h1.4m-11.4 2.5h1.4m-0.4 0h1.4m0.1 0h1.4m-7.4 0.5h1.4m16.1 0h1.4m0.1 1.5h1.4m-3.9 3h1.4m-2.4 1.5h1.4m-1.4 28h1.4m-8.9 2.5h1.4m1.1 1.5h1.4m-9.4 1.5h1.4m-0.9 0h1.4m9.1 0.5h1.4m-25.4 0.5h1.4m19.6 4h1.4m2.1 0.5h1.4m-9.4 0.5h1.4m1.1 1h1.4m-17.4 0.5h1.4m-1.4 0.5h1.4m15.6 0.5h1.4m-25.4 1h1.4m15.1 2h1.4m1.1 0h1.4m-1.9 0.5h1.4m18.6 0.5h1.4m-17.9 0.5h1.4m-0.9 1h1.4m18.1 0h1.4m-35.9 0.5h1.4m-0.9 0h1.4m31.6 0h1.4m-1.4 0.5h1.4m-20.4 1h1.4m-7.4 0.5h1.4m3.6 0h1.4m18.1 0.5h1.4m-33.4 0.5h1.4m11.1 0h1.4m-3.4 0.5h1.4m5.1 0h1.4m2.6 0h1.4m-4.9 1h1.4m0.6 0h1.4m-1.9 1h1.4m-12.9 1h1.4m16.1 0h1.4m-16.4 2h1.4m-0.9 0h1.4m13.1 0h1.4m-9.4 1.5h1.4m-1.4 0.5h1.4m6.1 0.5h1.4m-20.9 1h1.4" stroke="#2fb6d8" stroke-width="1.4" fill="none"/>
<path d="M433.5 51.5h1.4m-6.9 1h1.4m8.1 5h1.4m7.6 0.5h1.4m-14.9 0.5h1.4m7.6 0.5h1.4m1.1 0h1.4m-15.9 1.5h1.4m2.1 5h1.4m-6.4 0.5h1.4m-7.9 1h1.4m18.1 1h1.4m-4.9 0.5h1.4m-16.9 44.5h1.4m22.6 0.5h1.4m0.6 0h1.4m-32.4 0.5h1.4m5.6 0h1.4m23.1 0h1.4m-19.4 1.5h1.4m-11.9 0.5h1.4m-0.9 0.5h1.4m27.1 0.5h1.4m-8.4 1h1.4m1.6 0h1.4m-12.9 6h1.4m-11.9 0.5h1.4m8.1 1h1.4m7.6 1h1.4m-23.9 1h1.4m12.6 0h1.4m-5.4 1h1.4m9.1 0h1.4m2.6 0h1.4m-0.4 1h1.4m-11.4 2.5h1.4m7.1 1.5h1.4" stroke="#3f54a5" stroke-width="1.4" fill="none"/>
<path d="M445 54.5h1.4m-8.4 2.5h1.4m2.6 1h1.4m-14.9 1h1.4m5.1 4h1.4m-0.9 1.5h1.4m0.6 55h1.4m-4.9 1.5h1.4m9.6 9h1.4m-18.9 6h1.4" stroke="#9e449c" stroke-width="1.4" fill="none"/>
<path d="M444.5 60.5h1.4m-14.4 53h1.4m0.6 1.5h1.4m-8.4 9h1.4m11.6 5h1.4" stroke="#b8409a" stroke-width="1.4" fill="none"/>
<path d="M437.5 33h1.4m6.6 0.5h1.4m-8.4 0.5h1.4m17.6 1.5h1.4m-21.4 1.5h1.4m2.1 1h1.4m-25.9 0.5h1.4m19.6 0h1.4m-18.9 2.5h1.4m19.6 0h1.4m-5.4 1.5h1.4m5.1 0h1.4m4.1 0h1.4m3.1 0h1.4m-37.4 1h1.4m15.1 0.5h1.4m-6.4 0.5h1.4m0.6 0h1.4m-11.4 0.5h1.4m12.1 0h1.4m-6.4 0.5h1.4m4.6 0h1.4m9.6 0h1.4m-27.9 0.5h1.4m2.6 0h1.4m0.1 0h1.4m2.1 0h1.4m21.6 0h1.4m-33.9 0.5h1.4m16.1 0h1.4m3.6 0.5h1.4m23.1 0h1.4m-29.9 0.5h1.4m-16.4 0.5h1.4m4.1 0h1.4m13.1 0h1.4m-0.4 0h1.4m28.6 0h1.4m-69.4 0.5h1.4m30.1 0h1.4m14.1 0h1.4m-38.9 0.5h1.4m5.1 0h1.4m3.1 0h1.4m-0.4 0h1.4m-6.9 0.5h1.4m13.1 0h1.4m6.6 0h1.4m14.6 0h1.4m12.1 0.5h1.4m-63.9 0.5h1.4m28.6 0h1.4m-24.4 0.5h1.4m10.6 0h1.4m2.1 0h1.4m5.6 0h1.4m16.6 0h1.4m18.1 0h1.4m-52.9 0.5h1.4m0.6 0h1.4m19.6 0h1.4m-35.9 0.5h1.4m31.1 0h1.4m-19.9 0.5h1.4m2.6 0h1.4m4.1 0h1.4m12.6 0h1.4m-37.4 0.5h1.4m5.6 0h1.4m-0.4 0h1.4m7.1 0h1.4m3.6 0h1.4m9.6 0h1.4m12.1 0h1.4m-34.4 0.5h1.4m3.1 0h1.4m14.1 0h1.4m2.6 0h1.4m-42.9 0.5h1.4m13.6 0.5h1.4m18.6 0h1.4m5.1 0h1.4m-52.4 0.5h1.4m35.6 0h1.4m4.6 0h1.4m20.6 0h1.4m-65.4 1h1.4m3.1 0h1.4m9.1 0h1.4m6.1 0h1.4m10.1 0h1.4m-15.4 0.5h1.4m11.1 0h1.4m10.6 0h1.4m-38.9 0.5h1.4m3.6 0h1.4m1.1 0h1.4m27.1 0h1.4m15.6 0h1.4m-45.9 0.5h1.4m36.6 0h1.4m-31.9 0.5h1.4m-21.4 0.5h1.4m2.6 0.5h1.4m24.6 0h1.4m13.1 0.5h1.4m-40.9 0.5h1.4m2.1 0h1.4m4.1 0h1.4m28.6 0h1.4m-12.4 0.5h1.4m0.1 0h1.4m-37.9 0.5h1.4m19.1 0h1.4m35.6 0h1.4m6.1 0h1.4m-59.9 0.5h1.4m-0.4 0h1.4m30.1 0h1.4m-37.4 0.5h1.4m33.1 0h1.4m2.6 0h1.4m-33.4 0.5h1.4m3.1 0h1.4m8.1 0h1.4m35.6 0h1.4m-53.9 0.5h1.4m39.6 0h1.4m-11.4 0.5h1.4m11.6 0h1.4m-40.4 0.5h1.4m0.6 0h1.4m1.1 0h1.4m15.1 0h1.4m4.1 0h1.4m1.1 0h1.4m-30.9 0.5h1.4m20.6 0h1.4m-0.9 0h1.4m2.6 0h1.4m-5.9 0.5h1.4m5.1 0h1.4m25.6 0h1.4m-36.9 0.5h1.4m12.6 0h1.4m7.1 0h1.4m-33.9 0.5h1.4m-12.9 0.5h1.4m1.1 0h1.4m14.6 0h1.4m2.1 0h1.4m2.1 0h1.4m15.6 0h1.4m-44.9 0.5h1.4m1.1 0h1.4m19.1 0h1.4m26.1 0h1.4m6.1 0h1.4m-52.9 0.5h1.4m2.6 0h1.4m1.6 0h1.4m-12.4 0.5h1.4m4.6 0h1.4m-18.9 0.5h1.4m2.6 0h1.4m8.1 0h1.4m20.1 0h1.4m15.1 0h1.4m0.1 0.5h1.4m-48.4 0.5h1.4m0.6 0h1.4m16.6 0h1.4m31.1 0h1.4m-26.4 0.5h1.4m8.6 0h1.4m-9.9 0.5h1.4m-7.4 0.5h1.4m13.1 0h1.4m-8.4 0.5h1.4m17.6 0h1.4m1.1 0h1.4m-55.4 1h1.4m6.6 0h1.4m9.6 0h1.4m9.6 0h1.4m6.6 0h1.4m-32.4 1h1.4m11.6 0h1.4m51.1 0h1.4m-47.9 0.5h1.4m15.6 0h1.4m-15.4 0.5h1.4m8.1 0h1.4m7.6 0h1.4m-51.4 0.5h1.4m12.1 0h1.4m20.6 0h1.4m0.1 0h1.4m-29.9 0.5h1.4m0.6 0h1.4m-0.9 0h1.4m0.1 0h1.4m13.6 0h1.4m17.6 0h1.4m-30.4 0.5h1.4m4.6 0.5h1.4m-5.9 0.5h1.4m9.1 0h1.4m11.6 0h1.4m8.1 0h1.4m-10.9 0.5h1.4m-30.9 0.5h1.4m-0.4 0h1.4m-0.4 0h1.4m17.6 0h1.4m-5.4 0.5h1.4m2.1 0h1.4m8.6 0.5h1.4m-45.4 1h1.4m30.1 0h1.4m23.1 0h1.4m-25.9 1h1.4m-12.4 0.5h1.4m-13.9 0.5h1.4m18.1 0h1.4m29.6 0h1.4m-21.9 0.5h1.4m-2.4 0.5h1.4m-11.9 1h1.4m18.6 0.5h1.4m-41.4 0.5h1.4m15.6 0.5h1.4m2.1 0h1.4m-37.9 0.5h1.4m16.1 0h1.4m24.1 0.5h1.4m-2.4 4.5h1.4m2.1 0.5h1.4m-23.4 0.5h1.4m2.1 0.5h1.4m-9.4 3.5h1.4m17.1 1.5h1.4m-8.9 0.5h1.4m2.6 0h1.4m3.1 1h1.4m16.6 0.5h1.4m-12.9 0.5h1.4m16.1 0h1.4m-22.9 0.5h1.4m3.6 0h1.4m-10.4 1h1.4m10.6 0h1.4m-36.4 0.5h1.4m-0.9 0h1.4m11.1 0.5h1.4m25.6 0h1.4m-18.9 0.5h1.4m12.1 1h1.4m-37.9 0.5h1.4m18.6 0h1.4m2.6 0h1.4m-8.9 0.5h1.4m0.1 0h1.4m28.6 0h1.4m-41.4 0.5h1.4m2.1 0h1.4m13.1 0h1.4m3.1 0.5h1.4m1.6 0h1.4m2.6 0h1.4m-7.4 0.5h1.4m0.1 0.5h1.4m7.6 0h1.4m-28.4 0.5h1.4m0.1 0h1.4m2.1 0h1.4m9.1 0.5h1.4m1.6 0h1.4m-20.4 0.5h1.4m18.1 0h1.4m-24.9 0.5h1.4m8.6 0h1.4m2.6 0h1.4m1.1 0h1.4m18.6 0.5h1.4m4.1 0h1.4m-45.9 0.5h1.4m30.1 0h1.4m3.6 0h1.4m1.6 0.5h1.4m-62.4 0.5h1.4m16.6 0h1.4m3.6 0h1.4m6.1 0h1.4m-0.9 0h1.4m3.1 0h1.4m13.1 0h1.4m-11.9 0.5h1.4m21.1 0h1.4m-26.4 0.5h1.4m4.1 0h1.4m-19.9 0.5h1.4m17.1 0h1.4m7.6 0h1.4m0.6 0h1.4m-30.9 0.5h1.4m3.1 0h1.4m-18.9 0.5h1.4m5.1 0h1.4m45.1 0h1.4m2.6 0h1.4m-41.4 0.5h1.4m25.6 0h1.4m1.6 0.5h1.4m0.1 0h1.4m-31.9 0.5h1.4m18.1 0h1.4m-31.9 0.5h1.4m21.1 0h1.4m5.6 0h1.4m6.1 0h1.4m11.1 0h1.4m2.1 0h1.4m4.1 0h1.4m-70.4 0.5h1.4m5.1 0h1.4m36.1 0h1.4m-33.4 0.5h1.4m1.1 0h1.4m0.1 0.5h1.4m4.1 0h1.4m2.1 0h1.4m24.6 0h1.4m-10.9 0.5h1.4m-45.4 0.5h1.4m46.6 0h1.4m-27.9 0.5h1.4m2.6 0h1.4m7.1 0h1.4m-4.9 0.5h1.4m8.1 0h1.4m3.6 0h1.4m-29.4 0.5h1.4m19.6 0h1.4m-30.4 1h1.4m18.6 0h1.4m9.1 0h1.4m7.6 0h1.4m6.1 0h1.4m-44.4 0.5h1.4m10.6 0h1.4m23.6 0h1.4m-40.9 0.5h1.4m24.1 0h1.4m5.6 0h1.4m-40.4 0.5h1.4m10.1 0h1.4m5.6 0h1.4m12.1 0h1.4m17.1 0h1.4m-39.4 0.5h1.4m13.6 0h1.4m18.6 0.5h1.4m-44.4 0.5h1.4m13.1 0h1.4m15.6 0h1.4m-8.4 0.5h1.4m16.1 0h1.4m3.1 0h1.4m-0.9 0h1.4m21.1 0h1.4m-70.4 1h1.4m3.6 0h1.4m12.6 0h1.4m25.1 0h1.4m-58.9 0.5h1.4m19.6 0h1.4m14.6 0h1.4m12.6 0h1.4m2.1 0h1.4m-30.4 0.5h1.4m6.1 0h1.4m-9.9 0.5h1.4m-13.9 0.5h1.4m2.6 0h1.4m0.1 0h1.4m9.1 0h1.4m23.1 0h1.4m21.6 0h1.4m-82.9 0.5h1.4m16.1 0h1.4m0.6 0h1.4m39.6 0h1.4m-59.9 0.5h1.4m-0.9 1h1.4m12.6 0h1.4m21.6 0h1.4m35.6 0h1.4m-61.4 0.5h1.4m14.1 0h1.4m25.6 0h1.4m-22.9 0.5h1.4m18.6 0h1.4m-39.9 0.5h1.4m31.1 0h1.4m5.1 0h1.4m-19.9 0.5h1.4m17.6 0h1.4m-9.4 0.5h1.4m21.1 0h1.4m-65.4 0.5h1.4m12.1 0h1.4m-0.9 0h1.4m3.6 0h1.4m1.6 0h1.4m15.1 0h1.4m-18.9 0.5h1.4m5.1 0h1.4m-6.4 0.5h1.4m27.1 0h1.4m-0.4 0h1.4m-9.4 0.5h1.4m-2.4 0.5h1.4m-8.4 0.5h1.4m33.1 0.5h1.4m-49.4 0.5h1.4m29.6 0h1.4m-49.4 0.5h1.4m9.1 0h1.4m16.1 0.5h1.4m3.6 0.5h1.4m-28.4 0.5h1.4m33.1 0h1.4m-31.4 0.5h1.4m9.1 0h1.4m27.1 0.5h1.4m-41.4 0.5h1.4m-0.4 0.5h1.4m12.6 0h1.4m-21.9 0.5h1.4m-0.4 0h1.4m30.1 0.5h1.4m-12.4 1h1.4m-10.9 0.5h1.4m1.6 0h1.4m24.6 0h1.4m1.6 0h1.4m-46.9 0.5h1.4m7.6 0h1.4m17.1 0h1.4m2.1 1h1.4m7.1 0h1.4m-17.4 2.5h1.4m0.6 1h1.4m-11.4 1h1.4m-7.4 4.5h1.4m35.6 0.5h1.4" stroke="#e9e21d" stroke-width="1.4" fill="none"/>
<path d="M446 39h1.4m-0.9 0h1.4m-19.4 3h1.4m-0.9 0.5h1.4m30.6 0h1.4m-25.4 2.5h1.4m7.1 1.5h1.4m-14.4 1.5h1.4m0.1 1h1.4m-18.4 1h1.4m13.6 0h1.4m3.1 0h1.4m14.6 0.5h1.4m-23.4 1h1.4m8.1 0h1.4m-5.9 0.5h1.4m-13.4 0.5h1.4m-0.9 0h1.4m10.1 0h1.4m-8.9 0.5h1.4m4.6 0h1.4m17.1 0h1.4m-13.9 0.5h1.4m-21.4 0.5h1.4m15.6 0h1.4m11.6 0h1.4m-25.9 0.5h1.4m7.1 0h1.4m15.6 0h1.4m-28.9 0.5h1.4m-18.4 0.5h1.4m15.1 0h1.4m4.1 0h1.4m5.6 0h1.4m9.6 0h1.4m-33.4 0.5h1.4m15.1 0h1.4m6.6 0h1.4m-10.9 0.5h1.4m12.1 0h1.4m-22.9 0.5h1.4m27.6 0h1.4m-22.4 0.5h1.4m10.1 0h1.4m-24.4 0.5h1.4m6.6 0h1.4m19.6 0h1.4m-42.4 0.5h1.4m25.1 0h1.4m13.1 0h1.4m8.1 0h1.4m10.1 0h1.4m-63.4 0.5h1.4m16.6 0h1.4m35.1 0h1.4m-52.4 0.5h1.4m3.1 0h1.4m21.6 0h1.4m-9.9 0.5h1.4m5.6 0h1.4m3.6 0h1.4m7.1 0h1.4m-17.4 0.5h1.4m-15.4 0.5h1.4m35.1 0.5h1.4m-31.4 0.5h1.4m7.6 0h1.4m4.1 0h1.4m3.1 0h1.4m17.1 0h1.4m-36.9 0.5h1.4m1.6 0.5h1.4m7.1 0h1.4m-29.4 1h1.4m28.6 0h1.4m9.1 0h1.4m-31.4 0.5h1.4m18.6 0h1.4m6.1 0.5h1.4m-0.9 0h1.4m-11.4 1h1.4m-6.9 0.5h1.4m3.6 0h1.4m4.1 0h1.4m-0.9 0h1.4m-0.9 0h1.4m9.1 0h1.4m-26.9 0.5h1.4m4.1 0h1.4m6.6 0h1.4m-3.9 0.5h1.4m-23.9 0.5h1.4m0.6 0h1.4m13.1 0h1.4m11.6 0h1.4m-0.9 0h1.4m-28.9 0.5h1.4m7.6 0h1.4m1.6 0h1.4m0.6 0h1.4m-6.9 0.5h1.4m22.6 0h1.4m-30.4 0.5h1.4m5.6 0.5h1.4m-9.4 1h1.4m12.6 0h1.4m0.1 0h1.4m1.1 0h1.4m-28.4 0.5h1.4m8.1 0.5h1.4m-0.4 0h1.4m-0.9 0h1.4m5.1 1.5h1.4m2.6 1.5h1.4m3.6 0h1.4m6.6 0h1.4m-29.9 0.5h1.4m1.1 0.5h1.4m15.6 0h1.4m-20.9 3h1.4m15.6 20.5h1.4m9.1 0h1.4m-23.4 2h1.4m2.1 3.5h1.4m-1.4 0.5h1.4m19.6 0h1.4m-25.4 1h1.4m8.6 0h1.4m11.1 0h1.4m-23.4 1.5h1.4m1.6 1.5h1.4m3.6 0h1.4m1.6 0h1.4m-6.4 0.5h1.4m-0.9 0h1.4m18.1 0h1.4m-20.4 1h1.4m-17.9 0.5h1.4m-1.4 0.5h1.4m7.1 0h1.4m13.1 0h1.4m10.1 0.5h1.4m-10.9 0.5h1.4m-27.4 0.5h1.4m14.6 0h1.4m11.1 0h1.4m-21.9 0.5h1.4m1.1 0h1.4m2.1 0h1.4m15.1 0h1.4m-0.9 0.5h1.4m-21.9 0.5h1.4m15.1 0h1.4m1.6 0h1.4m-22.9 0.5h1.4m3.1 0h1.4m2.6 0h1.4m-10.9 0.5h1.4m7.1 0h1.4m0.1 0h1.4m-0.4 0h1.4m-24.9 0.5h1.4m16.1 0h1.4m5.6 0h1.4m3.6 0h1.4m-0.4 0h1.4m-0.9 0h1.4m-10.4 0.5h1.4m-8.9 0.5h1.4m10.6 0h1.4m-15.4 0.5h1.4m3.6 0h1.4m12.1 0h1.4m-30.4 0.5h1.4m13.1 0h1.4m0.6 0.5h1.4m-0.9 0h1.4m25.1 0h1.4m-30.9 0.5h1.4m16.6 0h1.4m-19.4 0.5h1.4m12.1 0h1.4m6.6 0h1.4m5.6 0h1.4m-41.9 0.5h1.4m7.1 0h1.4m14.6 0h1.4m1.1 0h1.4m1.1 0h1.4m9.1 0h1.4m-36.4 0.5h1.4m-0.9 0h1.4m-3.9 0.5h1.4m3.6 0h1.4m11.1 0h1.4m14.6 0h1.4m-24.4 0.5h1.4m5.6 0h1.4m-0.4 0h1.4m13.1 0h1.4m-28.9 0.5h1.4m10.6 0h1.4m8.6 0h1.4m-31.9 0.5h1.4m8.1 0h1.4m8.6 0h1.4m-16.9 0.5h1.4m23.1 0h1.4m12.6 0h1.4m-44.4 0.5h1.4m-0.4 0h1.4m18.1 0h1.4m-27.9 0.5h1.4m8.1 0h1.4m30.1 0h1.4m-27.9 0.5h1.4m4.6 0h1.4m4.1 0h1.4m14.1 0h1.4m-36.9 0.5h1.4m9.6 0h1.4m27.6 0h1.4m-3.9 1h1.4m-1.9 0.5h1.4m6.1 0h1.4m-34.4 0.5h1.4m31.6 0h1.4m-44.4 0.5h1.4m16.1 0h1.4m9.6 0h1.4m-31.4 0.5h1.4m23.6 0h1.4m-24.9 1h1.4m29.6 0h1.4m-26.4 1h1.4m1.1 0h1.4m21.6 0h1.4m-39.4 0.5h1.4m23.6 0h1.4m0.1 1h1.4m0.1 0h1.4m-18.4 1h1.4m3.6 0h1.4m23.1 0h1.4m-8.4 0.5h1.4m-19.4 0.5h1.4m28.6 0.5h1.4m-14.4 0.5h1.4m-15.9 0.5h1.4m21.6 0h1.4m-29.9 1h1.4m5.6 0h1.4m14.1 0h1.4m-40.4 1.5h1.4m15.6 0h1.4m-0.9 0h1.4m18.1 0.5h1.4m1.1 3h1.4m-16.4 1h1.4" stroke="#70bc44" stroke-width="1.4" fill="none"/>
<path d="M430.5 45h1.4m17.6 3.5h1.4m-0.9 0h1.4m-27.4 2h1.4m-6.4 0.5h1.4m12.1 0h1.4m19.1 0h1.4m-23.4 1h1.4m20.6 1h1.4m-2.4 1.5h1.4m0.1 0h1.4m-12.4 1h1.4m5.1 0.5h1.4m-18.4 0.5h1.4m11.1 0h1.4m-15.9 0.5h1.4m8.1 0h1.4m-10.9 0.5h1.4m17.6 0h1.4m-12.9 0.5h1.4m-19.4 0.5h1.4m3.1 0h1.4m6.1 0h1.4m1.1 0.5h1.4m3.6 0h1.4m-8.4 0.5h1.4m-15.9 0.5h1.4m15.6 0.5h1.4m-15.4 0.5h1.4m10.6 0h1.4m14.1 0h1.4m-22.9 0.5h1.4m6.6 0h1.4m1.6 0.5h1.4m5.6 0.5h1.4m-10.9 1h1.4m-0.9 0.5h1.4m0.1 0h1.4m2.1 0h1.4m-15.9 0.5h1.4m-1.9 1h1.4m6.1 0h1.4m-9.9 1h1.4m20.1 0h1.4m-8.4 0.5h1.4m-12.4 1h1.4m4.6 0h1.4m-17.9 1.5h1.4m17.6 1h1.4m9.1 0h1.4m-8.9 1h1.4m4.6 0h1.4m-29.9 1.5h1.4m20.6 0.5h1.4m-3.4 3h1.4m6.6 28h1.4m-8.9 3h1.4m14.6 2h1.4m-32.9 1.5h1.4m19.6 0h1.4m5.6 0h1.4m-21.4 0.5h1.4m15.1 1.5h1.4m0.6 1h1.4m-29.9 0.5h1.4m11.6 0.5h1.4m4.6 0h1.4m2.1 1h1.4m-12.4 0.5h1.4m-3.9 0.5h1.4m8.1 0h1.4m10.1 0h1.4m-9.4 0.5h1.4m-15.9 1h1.4m-16.4 1h1.4m25.1 0h1.4m-27.9 0.5h1.4m0.6 0h1.4m4.1 0.5h1.4m-2.4 0.5h1.4m5.1 0h1.4m3.1 0h1.4m1.6 0.5h1.4m-12.9 0.5h1.4m8.6 0.5h1.4m-13.4 1h1.4m5.6 0h1.4m6.6 0h1.4m13.6 0h1.4m5.1 0h1.4m-7.4 0.5h1.4m-32.9 0.5h1.4m3.1 0h1.4m6.1 1h1.4m1.6 0h1.4m-1.9 0.5h1.4m7.6 0h1.4m4.1 0h1.4m-19.4 0.5h1.4m4.1 1h1.4m-7.9 0.5h1.4m0.1 0.5h1.4m4.1 0h1.4m-11.4 0.5h1.4m2.6 0.5h1.4m9.6 1.5h1.4m6.6 1.5h1.4m-14.9 0.5h1.4m-11.4 1h1.4m0.1 0h1.4m22.6 0.5h1.4m-22.4 1.5h1.4m7.6 3h1.4m-0.9 0.5h1.4" stroke="#2fb6d8" stroke-width="1.4" fill="none"/>
<path d="M449.5 49h1.4m-13.4 0.5h1.4m-2.4 1h1.4m-3.9 1h1.4m-4.9 1.5h1.4m4.6 2h1.4m14.1 0h1.4m-0.9 0h1.4m-6.4 1.5h1.4m-4.4 0.5h1.4m-5.9 0.5h1.4m4.1 0.5h1.4m-14.9 0.5h1.4m-2.9 2h1.4m0.1 0h1.4m-11.9 0.5h1.4m8.1 0h1.4m-0.4 0.5h1.4m7.6 0.5h1.4m-4.4 0.5h1.4m-15.4 1h1.4m5.6 0h1.4m2.1 2.5h1.4m6.1 1.5h1.4m-6.4 1h1.4m-3.4 0.5h1.4m1.1 0.5h1.4m-12.4 41h1.4m21.1 1.5h1.4m-17.4 2h1.4m-9.9 0.5h1.4m10.1 0.5h1.4m0.6 1.5h1.4m-4.4 1.5h1.4m0.6 2h1.4m-5.9 0.5h1.4m6.1 0h1.4m-9.4 1h1.4m-7.9 3h1.4m2.6 0h1.4m2.6 1.5h1.4m2.1 0.5h1.4m3.1 0h1.4m-6.4 0.5h1.4m9.6 0h1.4m-17.4 0.5h1.4m-0.4 0.5h1.4m-5.9 0.5h1.4m13.1 0h1.4m-12.9 0.5h1.4m4.1 0h1.4m-12.9 1h1.4m-1.4 0.5h1.4m21.6 2h1.4m-21.4 2.5h1.4" stroke="#3f54a5" stroke-width="1.4" fill="none"/>
<path d="M433.5 48h1.4m17.6 6.5h1.4m-16.9 1h1.4m-1.4 1h1.4m-5.4 0.5h1.4m0.1 6h1.4m-12.4 0.5h1.4m8.6 3h1.4m0.1 3h1.4m3.1 48h1.4m-9.4 4.5h1.4m-2.9 3.5h1.4m4.6 2.5h1.4m11.6 0.5h1.4" stroke="#9e449c" stroke-width="1.4" fill="none"/>
<path d="M434.5 58h1.4m10.6 1.5h1.4m-3.9 0.5h1.4m-11.4 1.5h1.4m9.1 55.5h1.4m-7.9 2h1.4m-16.4 2.5h1.4m14.6 7.5h1.4" stroke="#b8409a" stroke-width="1.4" fill="none"/>
<path d="M430.5 29.5h1.4m-9.9 3.5h1.4m0.6 0h1.4m-4.9 1h1.4m25.6 0h1.4m-39.9 3.5h1.4m9.6 1h1.4m50.6 0h1.4m-41.9 1h1.4m-8.9 1h1.4m-14.4 0.5h1.4m7.1 0.5h1.4m25.1 0h1.4m-28.4 0.5h1.4m-15.4 0.5h1.4m10.6 0h1.4m1.1 0h1.4m21.6 0h1.4m1.6 0.5h1.4m7.1 0h1.4m-29.9 0.5h1.4m12.6 0.5h1.4m-0.4 0h1.4m9.6 0h1.4m-35.9 0.5h1.4m24.6 0h1.4m-1.9 0.5h1.4m1.6 0h1.4m-20.4 0.5h1.4m10.1 0h1.4m0.6 0h1.4m-20.9 0.5h1.4m18.1 0.5h1.4m-0.9 0h1.4m5.1 0h1.4m9.1 0h1.4m-45.9 0.5h1.4m11.6 0h1.4m6.1 0h1.4m10.1 0h1.4m-26.9 1h1.4m25.6 0h1.4m3.1 0h1.4m-19.4 1h1.4m0.6 0h1.4m-7.4 0.5h1.4m5.1 0h1.4m7.1 0h1.4m16.6 0h1.4m-4.4 0.5h1.4m-55.4 0.5h1.4m15.1 0h1.4m3.1 0h1.4m19.1 0h1.4m23.1 0h1.4m-52.4 0.5h1.4m17.6 0h1.4m-32.4 0.5h1.4m20.1 0h1.4m10.6 0h1.4m5.1 0h1.4m-27.4 0.5h1.4m26.6 0h1.4m-36.9 0.5h1.4m15.1 0h1.4m9.6 0h1.4m-0.4 0h1.4m-0.9 0h1.4m16.6 0h1.4m-56.4 0.5h1.4m40.6 0.5h1.4m-14.9 0.5h1.4m5.1 0h1.4m11.6 0.5h1.4m1.1 0h1.4m-15.4 0.5h1.4m-4.4 1h1.4m9.1 0h1.4m-41.4 0.5h1.4m23.6 0h1.4m15.6 0h1.4m5.1 0h1.4m-50.9 0.5h1.4m1.6 0.5h1.4m0.1 0h1.4m27.6 0h1.4m-27.4 0.5h1.4m5.1 0h1.4m6.1 0h1.4m29.1 0h1.4m-14.4 1h1.4m26.6 0h1.4m-23.9 0.5h1.4m-44.4 0.5h1.4m4.1 0h1.4m6.6 0h1.4m0.6 0h1.4m9.6 0h1.4m3.1 0h1.4m-29.4 0.5h1.4m20.6 0h1.4m29.6 0h1.4m-66.9 0.5h1.4m17.1 0h1.4m18.1 0h1.4m5.6 0.5h1.4m-0.9 0.5h1.4m1.1 0h1.4m-26.9 0.5h1.4m-0.9 0h1.4m4.6 0h1.4m-0.9 0h1.4m23.1 0h1.4m-40.9 0.5h1.4m0.1 0h1.4m8.1 0h1.4m8.1 0h1.4m10.1 0h1.4m-16.4 0.5h1.4m1.6 0h1.4m1.1 0h1.4m0.1 0h1.4m13.6 0h1.4m-62.9 0.5h1.4m26.1 0h1.4m15.6 0h1.4m-14.4 0.5h1.4m-13.4 0.5h1.4m20.6 0h1.4m29.1 0h1.4m-30.9 0.5h1.4m1.6 0h1.4m-0.4 0h1.4m5.1 0h1.4m-27.9 0.5h1.4m0.1 0h1.4m13.6 0h1.4m0.6 0h1.4m-12.9 0.5h1.4m12.1 0h1.4m13.1 0h1.4m-49.4 0.5h1.4m20.1 1h1.4m25.1 0h1.4m-47.9 0.5h1.4m10.1 0h1.4m30.1 0h1.4m-50.9 0.5h1.4m43.6 0h1.4m3.1 0h1.4m-23.4 0.5h1.4m3.6 0h1.4m13.1 0h1.4m25.6 0.5h1.4m-45.9 1h1.4m-23.4 0.5h1.4m19.1 0h1.4m21.1 0h1.4m-34.9 0.5h1.4m12.6 0h1.4m6.1 0h1.4m10.6 0h1.4m3.6 0h1.4m1.1 0.5h1.4m1.6 0h1.4m-37.9 0.5h1.4m6.6 0h1.4m4.6 0h1.4m6.6 0h1.4m1.6 0h1.4m12.1 0h1.4m-70.9 0.5h1.4m17.1 0h1.4m29.6 0h1.4m24.1 0h1.4m-13.9 0.5h1.4m-12.9 0.5h1.4m-20.9 1h1.4m0.1 0h1.4m-5.9 0.5h1.4m12.1 0.5h1.4m-6.9 0.5h1.4m10.1 0.5h1.4m-30.9 0.5h1.4m33.6 0h1.4m-19.4 0.5h1.4m12.6 0h1.4m2.6 0h1.4m-31.9 0.5h1.4m0.1 0.5h1.4m21.6 0.5h1.4m28.6 0h1.4m-47.9 1.5h1.4m11.1 0h1.4m6.6 1h1.4m-33.4 0.5h1.4m17.6 0h1.4m-14.4 1.5h1.4m9.6 0h1.4m-10.9 0.5h1.4m-1.4 2h1.4m15.1 1.5h1.4m-26.9 1h1.4m30.6 2h1.4m7.1 0h1.4m-27.4 0.5h1.4m6.6 1h1.4m27.6 0h1.4m-45.9 2h1.4m25.1 1.5h1.4m-11.9 1.5h1.4m3.1 0.5h1.4m-44.9 0.5h1.4m22.6 0h1.4m-5.9 0.5h1.4m21.6 0h1.4m-35.9 0.5h1.4m39.1 0.5h1.4m-21.4 0.5h1.4m6.1 0.5h1.4m-35.9 0.5h1.4m5.1 0h1.4m36.6 0h1.4m2.1 0h1.4m14.6 0h1.4m-65.9 0.5h1.4m28.6 0.5h1.4m14.6 0h1.4m14.1 0h1.4m-42.4 0.5h1.4m5.6 0h1.4m-0.4 0h1.4m20.1 0h1.4m17.1 0.5h1.4m-33.9 0.5h1.4m6.6 0h1.4m-28.4 0.5h1.4m10.1 0h1.4m0.1 0h1.4m14.1 0.5h1.4m-27.4 0.5h1.4m35.6 0h1.4m0.6 0h1.4m-41.9 0.5h1.4m3.1 0h1.4m10.1 0h1.4m15.1 0.5h1.4m-43.9 0.5h1.4m24.1 0h1.4m32.1 0h1.4m-56.9 0.5h1.4m56.1 0h1.4m-32.9 0.5h1.4m20.1 0h1.4m-19.4 0.5h1.4m-31.4 0.5h1.4m23.6 0h1.4m8.6 0h1.4m-58.4 0.5h1.4m79.1 0h1.4m-41.9 0.5h1.4m9.1 0h1.4m6.1 0h1.4m7.6 0h1.4m-26.9 0.5h1.4m1.1 0h1.4m0.6 0h1.4m17.6 0h1.4m9.1 0h1.4m-13.9 0.5h1.4m-55.4 0.5h1.4m22.6 0h1.4m15.6 0h1.4m0.1 0h1.4m3.1 0h1.4m-0.4 0h1.4m0.6 0h1.4m3.6 0h1.4m-38.4 0.5h1.4m1.6 0h1.4m39.1 0h1.4m-39.9 0.5h1.4m6.6 0h1.4m22.6 0h1.4m8.1 0h1.4m-54.9 0.5h1.4m26.1 0h1.4m9.6 0h1.4m8.1 0h1.4m-0.4 0h1.4m-51.4 0.5h1.4m12.1 0h1.4m0.6 0h1.4m6.6 0h1.4m33.1 0h1.4m-49.4 0.5h1.4m10.6 0h1.4m2.1 1h1.4m-15.4 0.5h1.4m9.6 0h1.4m-12.4 0.5h1.4m5.1 0.5h1.4m20.1 0h1.4m0.1 0h1.4m11.6 0h1.4m-57.9 0.5h1.4m12.1 0h1.4m13.1 0h1.4m7.1 0h1.4m18.6 0h1.4m-56.4 0.5h1.4m3.1 0h1.4m7.6 0h1.4m5.6 0h1.4m-0.4 0h1.4m8.1 0h1.4m3.6 0h1.4m4.1 0h1.4m-30.4 0.5h1.4m14.6 0h1.4m9.1 0h1.4m-16.4 0.5h1.4m28.1 0h1.4m-53.4 0.5h1.4m17.6 0h1.4m26.1 0h1.4m5.6 0h1.4m4.1 0h1.4m-59.4 0.5h1.4m16.1 0h1.4m0.1 0h1.4m2.6 0h1.4m7.1 0h1.4m2.6 0h1.4m10.1 0h1.4m-46.9 0.5h1.4m-0.4 0h1.4m14.6 0.5h1.4m18.1 0h1.4m-3.9 0.5h1.4m4.1 0h1.4m4.1 0h1.4m-40.4 1h1.4m34.1 0h1.4m-55.9 0.5h1.4m15.1 0h1.4m27.1 0h1.4m18.6 0h1.4m-48.4 0.5h1.4m31.6 0h1.4m2.1 0h1.4m9.1 0h1.4m-59.4 0.5h1.4m27.6 0h1.4m-26.4 0.5h1.4m-0.4 0h1.4m26.1 0.5h1.4m12.1 0h1.4m4.1 0h1.4m-61.9 0.5h1.4m41.6 0h1.4m-32.4 0.5h1.4m2.6 0.5h1.4m5.6 0h1.4m2.1 0h1.4m20.1 0h1.4m1.1 0h1.4m2.1 0h1.4m8.1 0h1.4m-17.9 0.5h1.4m21.6 0h1.4m-9.4 0.5h1.4m18.1 0h1.4m-56.9 0.5h1.4m19.6 0h1.4m4.1 0h1.4m5.6 0h1.4m-13.9 0.5h1.4m14.1 0h1.4m-20.4 0.5h1.4m17.1 0h1.4m-22.9 0.5h1.4m15.1 0h1.4m3.1 0h1.4m7.6 0h1.4m-46.9 0.5h1.4m10.6 0h1.4m5.1 0h1.4m-44.9 0.5h1.4m7.1 0h1.4m14.1 0h1.4m37.1 0h1.4m-11.4 0.5h1.4m-27.9 0.5h1.4m41.6 0h1.4m-66.4 0.5h1.4m9.1 0h1.4m51.6 0h1.4m-49.9 0.5h1.4m0.1 0h1.4m2.6 0h1.4m5.1 0h1.4m5.1 0h1.4m7.6 0h1.4m9.1 0h1.4m3.1 0h1.4m7.6 0h1.4m-35.9 0.5h1.4m12.6 0h1.4m12.6 0h1.4m-42.4 0.5h1.4m1.6 0h1.4m0.1 0h1.4m0.1 0h1.4m0.1 0h1.4m5.1 0h1.4m15.6 0h1.4m3.1 0h1.4m-25.9 0.5h1.4m13.1 0h1.4m-38.4 0.5h1.4m18.6 0h1.4m-7.9 0.5h1.4m8.6 0h1.4m21.1 0h1.4m-16.9 0.5h1.4m16.1 0h1.4m-30.9 0.5h1.4m17.6 0h1.4m11.1 0h1.4m-49.9 0.5h1.4m25.6 0h1.4m4.6 0h1.4m2.1 0h1.4m-20.4 0.5h1.4m25.1 0.5h1.4m1.1 0h1.4m-32.4 0.5h1.4m22.6 0h1.4m-21.9 0.5h1.4m0.6 0h1.4m30.1 0h1.4m2.6 0h1.4m-57.4 1h1.4m15.6 0h1.4m21.6 0h1.4m7.1 0h1.4m-17.9 0.5h1.4m-23.4 1h1.4m3.1 0h1.4m2.6 0h1.4m19.1 0h1.4m9.6 1h1.4m-25.9 0.5h1.4m-16.9 0.5h1.4m21.6 0h1.4m-7.9 1.5h1.4m-4.9 1h1.4m-2.4 1.5h1.4m8.1 0.5h1.4m-6.4 0.5h1.4" stroke="#e9e21d" stroke-width="1.4" fill="none"/>
<path d="M438.5 41h1.4m6.1 3.5h1.4m-9.9 0.5h1.4m-21.4 0.5h1.4m12.1 1.5h1.4m17.6 0h1.4m-23.9 0.5h1.4m3.1 0h1.4m2.1 0h1.4m7.6 0.5h1.4m-21.9 0.5h1.4m13.6 0.5h1.4m13.6 0.5h1.4m-31.9 0.5h1.4m2.1 0h1.4m6.1 0h1.4m6.1 0h1.4m-11.4 0.5h1.4m-10.4 0.5h1.4m32.1 0h1.4m-13.9 0.5h1.4m0.1 0.5h1.4m-16.9 0.5h1.4m14.1 0h1.4m-30.4 0.5h1.4m2.1 0h1.4m4.1 0h1.4m-0.4 0h1.4m7.1 0h1.4m17.1 0h1.4m-11.9 0.5h1.4m-11.9 0.5h1.4m-12.9 0.5h1.4m2.6 0h1.4m8.1 0h1.4m0.1 0h1.4m1.1 0h1.4m-0.9 0h1.4m0.6 0h1.4m0.1 0h1.4m-0.4 0h1.4m5.1 0h1.4m-23.9 0.5h1.4m6.1 0h1.4m2.1 0h1.4m-24.9 0.5h1.4m2.6 0h1.4m11.6 0h1.4m10.6 0h1.4m-11.9 0.5h1.4m7.6 0h1.4m-0.4 0h1.4m-0.4 0h1.4m14.1 0h1.4m-0.9 0h1.4m-34.4 0.5h1.4m17.1 0h1.4m-19.4 0.5h1.4m6.1 0h1.4m1.6 0h1.4m-13.4 0.5h1.4m20.6 0h1.4m-31.4 0.5h1.4m-0.4 0h1.4m-0.4 0h1.4m1.1 0h1.4m0.1 0h1.4m3.6 0h1.4m8.1 0h1.4m8.6 0h1.4m-26.9 0.5h1.4m15.1 0h1.4m-31.9 0.5h1.4m8.6 0h1.4m14.6 0h1.4m-0.9 0h1.4m13.1 0h1.4m-28.4 0.5h1.4m2.6 0h1.4m6.1 0h1.4m0.1 0h1.4m1.1 0h1.4m9.1 0h1.4m10.1 0h1.4m-26.4 0.5h1.4m3.6 0h1.4m3.6 0h1.4m-20.4 0.5h1.4m9.6 0h1.4m-23.9 0.5h1.4m11.6 0h1.4m3.1 0h1.4m-6.4 0.5h1.4m15.6 0h1.4m6.6 0h1.4m-25.4 0.5h1.4m-0.9 1h1.4m6.1 0.5h1.4m8.1 0h1.4m-36.4 0.5h1.4m43.1 0h1.4m0.6 0h1.4m-37.4 0.5h1.4m15.1 0h1.4m22.6 0h1.4m-55.4 0.5h1.4m12.6 0h1.4m12.6 0h1.4m5.6 0h1.4m9.1 0h1.4m-31.4 0.5h1.4m-14.4 0.5h1.4m14.1 0h1.4m4.1 0h1.4m11.6 0h1.4m-9.4 0.5h1.4m1.1 0h1.4m1.6 0h1.4m12.6 0h1.4m-28.9 0.5h1.4m8.1 0h1.4m-12.9 0.5h1.4m-0.4 0h1.4m1.6 0h1.4m-9.9 0.5h1.4m-1.9 1h1.4m7.1 0h1.4m2.1 0h1.4m18.1 0h1.4m-25.9 1h1.4m0.6 0.5h1.4m7.6 0h1.4m-5.4 0.5h1.4m-0.4 0h1.4m-0.9 0h1.4m8.1 0h1.4m-37.4 0.5h1.4m12.1 0h1.4m0.6 0h1.4m20.1 0h1.4m-1.9 0.5h1.4m6.1 0h1.4m-12.4 0.5h1.4m-24.4 0.5h1.4m-0.9 0h1.4m14.6 0h1.4m2.6 0h1.4m-4.9 0.5h1.4m-15.9 0.5h1.4m6.6 0.5h1.4m6.1 0.5h1.4m-11.4 0.5h1.4m6.6 0.5h1.4m8.1 0.5h1.4m16.1 5h1.4m-27.9 17.5h1.4m-11.9 3h1.4m33.1 3.5h1.4m-36.4 2h1.4m2.1 0h1.4m6.6 0h1.4m0.6 0h1.4m-1.4 1h1.4m-25.4 0.5h1.4m8.6 1h1.4m8.1 0h1.4m-13.9 1h1.4m14.6 0h1.4m1.1 0h1.4m-3.4 0.5h1.4m-16.9 0.5h1.4m8.6 0h1.4m3.1 0.5h1.4m0.6 0h1.4m4.1 0h1.4m-28.9 0.5h1.4m-0.9 0h1.4m5.1 0.5h1.4m18.1 0h1.4m3.6 0h1.4m-19.4 0.5h1.4m4.1 0h1.4m4.6 0h1.4m1.6 0.5h1.4m-18.4 0.5h1.4m1.6 0.5h1.4m2.1 0h1.4m-17.4 0.5h1.4m20.1 0h1.4m7.6 0h1.4m2.1 0h1.4m-21.4 0.5h1.4m-0.4 0h1.4m5.1 0.5h1.4m3.6 0h1.4m5.1 0.5h1.4m-6.4 0.5h1.4m-18.9 0.5h1.4m20.6 0h1.4m-33.4 0.5h1.4m-0.9 0h1.4m1.6 0h1.4m8.1 0h1.4m-1.4 0.5h1.4m22.1 0h1.4m-20.9 0.5h1.4m14.1 0h1.4m-32.4 0.5h1.4m10.6 0h1.4m-13.4 0.5h1.4m-1.9 0.5h1.4m2.6 0h1.4m1.6 0h1.4m12.1 0h1.4m-16.9 0.5h1.4m0.6 0h1.4m10.1 0h1.4m8.6 0h1.4m-18.4 0.5h1.4m5.6 0h1.4m1.1 0h1.4m11.6 0h1.4m-27.4 0.5h1.4m2.6 0h1.4m4.6 0h1.4m-22.4 0.5h1.4m10.6 0h1.4m3.1 0h1.4m4.1 0h1.4m15.6 0h1.4m-46.9 0.5h1.4m12.1 0h1.4m0.6 0h1.4m2.6 0h1.4m13.1 0.5h1.4m2.6 0h1.4m-41.9 0.5h1.4m12.1 0h1.4m-9.4 0.5h1.4m2.1 0h1.4m8.6 0h1.4m18.6 0h1.4m-0.9 0h1.4m4.1 0h1.4m-33.4 0.5h1.4m-0.9 0h1.4m18.1 0h1.4m7.1 0h1.4m2.6 0h1.4m-33.4 0.5h1.4m-3.4 0.5h1.4m10.1 0h1.4m5.6 0h1.4m-23.4 0.5h1.4m23.1 0h1.4m4.6 0h1.4m-19.9 0.5h1.4m11.6 0h1.4m-17.9 0.5h1.4m6.1 0h1.4m3.6 0h1.4m-32.4 0.5h1.4m15.6 0h1.4m8.6 0h1.4m16.6 0h1.4m-0.9 0h1.4m-38.9 0.5h1.4m16.6 0h1.4m5.6 0h1.4m-18.9 0.5h1.4m-13.9 0.5h1.4m18.1 0h1.4m7.1 0.5h1.4m1.1 0h1.4m0.6 0h1.4m-16.4 0.5h1.4m13.6 0h1.4m5.1 0h1.4m-11.4 0.5h1.4m3.6 0h1.4m-0.9 0h1.4m2.6 0h1.4m-6.4 0.5h1.4m-10.9 0.5h1.4m0.1 0h1.4m9.6 0h1.4m-11.4 1h1.4m-0.9 0h1.4m11.6 0h1.4m-15.4 0.5h1.4m-12.9 0.5h1.4m9.6 0h1.4m9.6 0h1.4m-9.9 0.5h1.4m5.1 0h1.4m-23.9 1h1.4m4.6 0h1.4m5.1 2h1.4m7.6 0h1.4m-10.9 0.5h1.4m7.1 1.5h1.4m-13.4 0.5h1.4m13.1 0.5h1.4m-6.9 0.5h1.4m0.6 0h1.4m-7.4 0.5h1.4m-6.9 0.5h1.4m9.1 9h1.4" stroke="#70bc44" stroke-width="1.4" fill="none"/>
<path d="M422.5 43.5h1.4m10.1 5h1.4m8.1 0.5h1.4m4.6 0.5h1.4m-33.4 0.5h1.4m23.6 0h1.4m-19.4 0.5h1.4m1.1 0h1.4m2.6 1h1.4m2.6 0h1.4m4.1 0.5h1.4m-16.9 0.5h1.4m10.6 0.5h1.4m-16.9 1h1.4m4.1 0h1.4m9.1 0h1.4m4.6 0h1.4m-24.4 0.5h1.4m12.6 1h1.4m1.6 0h1.4m4.6 0h1.4m4.1 0h1.4m-35.4 0.5h1.4m16.6 0h1.4m13.1 0h1.4m-1.9 0.5h1.4m-23.4 1h1.4m9.6 1h1.4m7.1 0h1.4m0.6 0h1.4m-18.4 0.5h1.4m2.6 0h1.4m3.1 0h1.4m4.1 0h1.4m-0.9 0h1.4m1.6 0h1.4m-20.4 0.5h1.4m8.6 0h1.4m10.6 0h1.4m-28.9 0.5h1.4m-6.4 0.5h1.4m2.1 0h1.4m-0.9 0h1.4m-0.4 0h1.4m4.6 0h1.4m-2.9 0.5h1.4m-0.4 0h1.4m2.6 0h1.4m19.1 0.5h1.4m-21.4 0.5h1.4m23.6 0h1.4m-29.9 0.5h1.4m1.6 0h1.4m17.6 0h1.4m-18.9 1h1.4m8.6 0h1.4m-18.9 0.5h1.4m-0.9 1h1.4m13.1 1h1.4m7.6 0h1.4m-27.4 0.5h1.4m-3.9 0.5h1.4m13.1 0.5h1.4m5.6 0h1.4m-13.4 0.5h1.4m0.1 0.5h1.4m-6.9 0.5h1.4m-5.4 0.5h1.4m12.1 0.5h1.4m-5.4 0.5h1.4m18.1 0h1.4m-18.4 1h1.4m-0.9 0h1.4m0.1 0h1.4m-0.4 1.5h1.4m2.1 0.5h1.4m-12.9 2h1.4m-0.9 0h1.4m13.6 0h1.4m-7.9 29.5h1.4m4.6 0h1.4m-7.4 0.5h1.4m-18.4 5h1.4m2.6 0h1.4m-1.4 0.5h1.4m-18.4 0.5h1.4m38.6 0h1.4m-14.4 0.5h1.4m12.1 0h1.4m-28.4 1.5h1.4m-0.9 0h1.4m11.6 0h1.4m11.6 0h1.4m-26.4 0.5h1.4m-1.4 1h1.4m2.6 0.5h1.4m-5.9 0.5h1.4m6.1 0h1.4m1.6 0h1.4m3.6 0h1.4m-11.4 0.5h1.4m0.1 0.5h1.4m12.6 0.5h1.4m-32.4 1h1.4m8.6 0.5h1.4m9.6 0.5h1.4m-23.9 0.5h1.4m4.1 0h1.4m30.1 0h1.4m-20.4 0.5h1.4m1.6 0.5h1.4m1.6 0h1.4m12.6 0h1.4m-28.9 0.5h1.4m18.6 0h1.4m3.1 0.5h1.4m-6.4 0.5h1.4m-21.9 0.5h1.4m8.6 0h1.4m-0.9 0h1.4m3.1 0.5h1.4m-0.9 0h1.4m0.6 0h1.4m2.6 0h1.4m-0.9 0h1.4m-5.4 1h1.4m-15.4 0.5h1.4m15.1 0h1.4m-25.9 1h1.4m6.6 0h1.4m8.6 0h1.4m-17.4 1h1.4m14.1 0h1.4m-16.4 0.5h1.4m16.6 0h1.4m16.1 0h1.4m-18.9 0.5h1.4m5.1 0h1.4m-17.4 0.5h1.4m9.6 0h1.4m1.1 0.5h1.4m2.1 1h1.4m1.1 0.5h1.4m-30.4 0.5h1.4m-0.9 0h1.4m22.6 1h1.4m5.6 1h1.4m-8.9 0.5h1.4m-4.9 1.5h1.4m-5.4 2.5h1.4" stroke="#2fb6d8" stroke-width="1.4" fill="none"/>
<path d="M433 48h1.4m0.1 0h1.4m-2.9 2.5h1.4m1.6 0h1.4m-5.9 1h1.4m-4.9 0.5h1.4m-0.9 1h1.4m14.6 1h1.4m-14.4 1.5h1.4m3.6 0h1.4m3.6 2.5h1.4m-9.9 1h1.4m0.1 0h1.4m5.6 0h1.4m-8.4 0.5h1.4m-1.4 0.5h1.4m20.1 0h1.4m-25.9 0.5h1.4m-5.4 1.5h1.4m9.6 0.5h1.4m-0.4 0h1.4m-9.9 0.5h1.4m0.1 0h1.4m-0.4 0h1.4m11.1 0h1.4m-6.4 0.5h1.4m3.6 0h1.4m-6.4 1h1.4m-8.4 0.5h1.4m-7.4 0.5h1.4m1.6 0h1.4m3.1 2h1.4m8.1 9h1.4m-19.4 32.5h1.4m-1.9 0.5h1.4m9.1 3.5h1.4m-1.4 0.5h1.4m-10.9 2h1.4m5.6 3h1.4m9.6 0h1.4m-13.9 1.5h1.4m4.1 0.5h1.4m-10.9 0.5h1.4m4.1 0h1.4m14.6 0h1.4m-17.4 0.5h1.4m2.1 0h1.4m5.6 1h1.4m-13.4 0.5h1.4m10.6 0h1.4m0.1 0h1.4m-19.4 1h1.4m-0.4 0h1.4m2.6 0h1.4m-0.4 0h1.4m1.6 0.5h1.4m-20.9 0.5h1.4m13.6 0h1.4m6.1 1h1.4m6.1 0.5h1.4m-12.4 0.5h1.4m17.1 0h1.4m-24.9 0.5h1.4m2.6 0h1.4m1.1 0h1.4m-14.9 0.5h1.4m2.6 0h1.4m2.6 0h1.4m-3.9 0.5h1.4m11.1 0h1.4m-7.4 0.5h1.4m6.1 0.5h1.4m-10.4 2.5h1.4" stroke="#3f54a5" stroke-width="1.4" fill="none"/>
<path d="M451 58h1.4m-10.9 0.5h1.4m7.6 0h1.4m-23.4 1h1.4m-0.4 0h1.4m11.6 0h1.4m-16.9 2.5h1.4m3.1 1.5h1.4m-0.9 0h1.4m0.6 2h1.4m-4.4 47.5h1.4m-1.4 0.5h1.4m-9.4 8.5h1.4m6.1 0h1.4m-7.4 6.5h1.4m14.1 0.5h1.4m-13.4 6.5h1.4" stroke="#9e449c" stroke-width="1.4" fill="none"/>
<path d="M428.5 52.5h1.4m7.6 4h1.4m-3.9 2h1.4m-7.4 0.5h1.4m11.1 3h1.4m-1.9 0.5h1.4m-19.4 58.5h1.4m4.1 4h1.4m-4.9 3.5h1.4m13.1 1h1.4" stroke="#b8409a" stroke-width="1.4" fill="none"/>
<path d="M407 34h1.4m48.6 0h1.4m-38.9 3.5h1.4m-17.4 1.5h1.4m7.1 0.5h1.4m20.1 0h1.4m16.6 0h1.4m-17.9 1h1.4m-22.9 0.5h1.4m7.6 0h1.4m3.1 0h1.4m5.1 1h1.4m16.6 0h1.4m-19.9 0.5h1.4m6.6 0h1.4m-29.4 1h1.4m6.6 0h1.4m12.6 0h1.4m-37.4 0.5h1.4m26.1 0h1.4m32.1 0.5h1.4m-56.4 0.5h1.4m40.1 0h1.4m-0.9 0h1.4m0.1 0h1.4m-26.9 0.5h1.4m33.6 0h1.4m-28.9 0.5h1.4m3.1 0h1.4m20.6 0h1.4m-48.4 0.5h1.4m29.6 0h1.4m12.6 0.5h1.4m-43.9 0.5h1.4m27.1 0h1.4m-0.4 0h1.4m18.1 0h1.4m-21.4 0.5h1.4m16.6 0h1.4m-64.9 0.5h1.4m27.6 0h1.4m11.6 0h1.4m11.1 0h1.4m-32.4 0.5h1.4m3.6 0h1.4m0.1 0h1.4m20.1 0h1.4m-17.9 0.5h1.4m25.6 0h1.4m-45.4 0.5h1.4m12.6 0h1.4m18.1 0.5h1.4m9.6 0h1.4m-23.4 0.5h1.4m3.6 0h1.4m26.6 0h1.4m9.6 0h1.4m-42.9 0.5h1.4m7.1 0h1.4m-38.9 0.5h1.4m0.6 0h1.4m9.6 0h1.4m15.1 0h1.4m-21.4 0.5h1.4m-15.9 0.5h1.4m42.1 0h1.4m7.6 0h1.4m1.6 0h1.4m-41.4 0.5h1.4m37.1 0h1.4m0.1 0h1.4m-59.9 0.5h1.4m12.1 0h1.4m0.1 0h1.4m5.6 0h1.4m4.6 0h1.4m2.1 0h1.4m-18.9 0.5h1.4m6.1 0h1.4m12.6 0h1.4m-8.9 0.5h1.4m0.6 0h1.4m22.6 0h1.4m2.6 0h1.4m0.1 0h1.4m-36.9 0.5h1.4m23.6 0h1.4m-39.9 0.5h1.4m7.6 0h1.4m19.1 0.5h1.4m8.1 0h1.4m-7.9 0.5h1.4m-13.4 0.5h1.4m13.6 0h1.4m6.1 0h1.4m-45.9 0.5h1.4m2.1 0h1.4m-0.9 0.5h1.4m10.6 0h1.4m-5.4 0.5h1.4m5.6 0h1.4m-0.4 0h1.4m-34.9 0.5h1.4m0.6 0h1.4m11.1 0h1.4m-9.4 0.5h1.4m1.1 0h1.4m-0.4 0h1.4m-0.4 0h1.4m12.1 0h1.4m19.6 0h1.4m5.1 0h1.4m2.6 0h1.4m6.1 0h1.4m1.6 0h1.4m-54.4 0.5h1.4m12.1 0h1.4m10.6 0h1.4m12.1 0.5h1.4m2.6 0h1.4m-41.9 0.5h1.4m14.1 0h1.4m-7.4 0.5h1.4m5.6 0h1.4m-9.9 0.5h1.4m-3.9 0.5h1.4m15.1 0h1.4m-18.4 0.5h1.4m7.1 0h1.4m0.1 0h1.4m-23.9 0.5h1.4m17.6 0h1.4m7.1 0h1.4m11.1 0h1.4m6.6 0h1.4m-45.9 0.5h1.4m16.6 0h1.4m26.1 0.5h1.4m0.6 0h1.4m0.6 0h1.4m4.1 0h1.4m-46.4 0.5h1.4m4.1 0.5h1.4m-14.9 0.5h1.4m40.1 0h1.4m1.1 0h1.4m-56.4 0.5h1.4m7.6 0h1.4m39.6 0h1.4m2.1 0h1.4m-14.4 0.5h1.4m2.1 0h1.4m-43.4 0.5h1.4m22.6 0h1.4m18.1 0h1.4m-0.4 0h1.4m-17.4 0.5h1.4m14.6 0h1.4m12.6 0.5h1.4m7.6 0h1.4m-46.9 0.5h1.4m36.1 0h1.4m0.1 0h1.4m-37.4 0.5h1.4m6.6 0h1.4m17.6 0h1.4m-60.9 0.5h1.4m29.1 0h1.4m29.1 0h1.4m-37.9 0.5h1.4m29.6 0h1.4m3.6 0h1.4m-29.4 0.5h1.4m28.6 0h1.4m-44.4 0.5h1.4m33.6 0h1.4m-35.4 0.5h1.4m15.1 0h1.4m13.6 0h1.4m0.6 0h1.4m5.1 0h1.4m-9.4 0.5h1.4m6.1 0h1.4m-36.9 1h1.4m3.6 0h1.4m1.6 0h1.4m22.6 0h1.4m-30.9 0.5h1.4m-0.9 0h1.4m4.1 0h1.4m10.6 0h1.4m0.6 0h1.4m0.6 0h1.4m0.1 0h1.4m3.6 0h1.4m-14.4 0.5h1.4m3.1 0h1.4m20.6 0h1.4m-55.4 0.5h1.4m26.6 0h1.4m-0.4 0.5h1.4m1.6 0h1.4m-15.9 0.5h1.4m14.1 0h1.4m-18.4 0.5h1.4m8.6 0.5h1.4m-17.9 0.5h1.4m26.1 0h1.4m-25.9 0.5h1.4m23.1 0.5h1.4m-8.9 1h1.4m-16.4 0.5h1.4m22.6 1.5h1.4m12.1 1h1.4m-10.9 1h1.4m20.6 1.5h1.4m-23.9 3h1.4m-36.9 3h1.4m6.1 0h1.4m14.1 2h1.4m5.6 0h1.4m-10.4 0.5h1.4m-14.9 0.5h1.4m13.1 0.5h1.4m2.6 2h1.4m-1.4 1.5h1.4m-9.9 0.5h1.4m-6.9 0.5h1.4m-13.9 0.5h1.4m14.1 0.5h1.4m-20.4 1.5h1.4m11.1 0h1.4m13.1 0h1.4m-20.9 0.5h1.4m4.6 0.5h1.4m7.1 0h1.4m10.1 0.5h1.4m8.1 0h1.4m-21.9 0.5h1.4m8.6 0h1.4m-32.9 0.5h1.4m18.1 0h1.4m2.1 0h1.4m-0.9 0h1.4m7.6 0h1.4m-28.9 0.5h1.4m3.1 0.5h1.4m18.1 0h1.4m-7.9 0.5h1.4m-14.4 0.5h1.4m5.1 0h1.4m1.6 0.5h1.4m9.1 0h1.4m2.1 0h1.4m-35.4 0.5h1.4m10.1 0.5h1.4m6.6 0h1.4m0.6 0h1.4m19.6 0.5h1.4m-4.4 0.5h1.4m-46.4 0.5h1.4m-0.9 0h1.4m4.1 0h1.4m34.1 0h1.4m7.6 0h1.4m-35.9 0.5h1.4m4.6 0h1.4m2.6 0h1.4m9.1 0h1.4m2.1 0h1.4m23.6 0h1.4m-77.4 0.5h1.4m42.1 0h1.4m8.1 0h1.4m1.6 0h1.4m-0.9 0h1.4m-6.9 0.5h1.4m0.1 0h1.4m-39.4 0.5h1.4m26.1 0h1.4m2.6 0h1.4m20.6 0h1.4m5.1 0h1.4m-40.9 0.5h1.4m25.1 0h1.4m1.1 0h1.4m-32.4 1h1.4m8.1 0h1.4m14.6 0h1.4m6.6 0h1.4m-66.4 0.5h1.4m24.6 0h1.4m15.6 0.5h1.4m0.1 0h1.4m9.6 0h1.4m0.6 0h1.4m7.6 0h1.4m-55.9 0.5h1.4m25.6 0h1.4m11.6 0h1.4m-9.4 0.5h1.4m-33.9 0.5h1.4m11.1 0h1.4m11.6 0h1.4m8.6 0h1.4m-47.4 0.5h1.4m6.1 0h1.4m-0.9 0h1.4m15.1 0h1.4m-25.4 0.5h1.4m45.1 0h1.4m9.1 0h1.4m-40.9 0.5h1.4m6.1 0h1.4m18.1 0h1.4m-11.4 0.5h1.4m-1.4 0.5h1.4m2.6 0h1.4m2.1 0h1.4m-25.4 0.5h1.4m28.1 0h1.4m0.6 0h1.4m8.1 0h1.4m-53.4 0.5h1.4m34.1 0h1.4m7.1 0h1.4m9.1 0h1.4m3.6 0h1.4m0.6 0h1.4m-64.4 0.5h1.4m12.6 0h1.4m0.1 0h1.4m19.6 0h1.4m-32.4 0.5h1.4m18.6 0h1.4m10.6 0h1.4m15.6 0h1.4m-25.9 0.5h1.4m8.6 0h1.4m-29.4 0.5h1.4m27.1 0h1.4m1.6 0h1.4m1.6 0h1.4m16.6 0h1.4m-60.9 0.5h1.4m8.6 0.5h1.4m18.6 0h1.4m-35.9 0.5h1.4m28.1 0h1.4m9.6 0h1.4m1.6 0h1.4m-33.4 0.5h1.4m46.6 0h1.4m-40.9 0.5h1.4m9.6 0h1.4m-23.9 0.5h1.4m30.6 0h1.4m2.1 0h1.4m9.6 0h1.4m-36.9 0.5h1.4m12.1 0h1.4m1.1 0h1.4m17.6 0h1.4m-39.4 0.5h1.4m-0.9 0h1.4m13.6 0h1.4m0.6 0h1.4m-28.4 0.5h1.4m19.1 0h1.4m2.1 0h1.4m29.1 0h1.4m-54.4 0.5h1.4m16.6 0.5h1.4m5.6 0h1.4m6.6 0h1.4m-22.4 0.5h1.4m22.1 0h1.4m-0.4 0h1.4m-45.9 0.5h1.4m15.6 0h1.4m2.1 0h1.4m18.6 0h1.4m-27.9 0.5h1.4m5.6 0h1.4m3.6 0h1.4m23.6 0h1.4m-11.9 0.5h1.4m11.1 0h1.4m1.6 0h1.4m-44.4 0.5h1.4m30.6 0h1.4m2.6 0h1.4m-44.9 0.5h1.4m38.6 0h1.4m26.6 0h1.4m-52.4 0.5h1.4m28.1 0h1.4m-24.4 0.5h1.4m4.6 0h1.4m1.6 0h1.4m2.1 0h1.4m-9.4 0.5h1.4m17.1 0h1.4m-32.9 0.5h1.4m22.6 0h1.4m2.1 0h1.4m-6.4 0.5h1.4m7.1 0.5h1.4m0.6 0h1.4m-45.9 0.5h1.4m1.6 0h1.4m-6.9 0.5h1.4m19.1 0h1.4m2.6 0.5h1.4m8.6 0h1.4m-48.4 0.5h1.4m18.6 0h1.4m28.6 0h1.4m9.6 0h1.4m0.6 0h1.4m-52.9 0.5h1.4m21.6 0h1.4m-2.9 0.5h1.4m18.6 0h1.4m-0.9 0h1.4m-22.9 1h1.4m9.1 0h1.4m17.1 0h1.4m5.1 0h1.4m-56.9 0.5h1.4m2.6 0h1.4m2.6 0h1.4m5.1 0h1.4m5.1 0h1.4m4.1 0.5h1.4m-4.9 0.5h1.4m22.1 0h1.4m-49.9 0.5h1.4m40.6 0h1.4m-31.9 0.5h1.4m3.1 0h1.4m4.1 0h1.4m-1.9 0.5h1.4m7.1 1h1.4m2.6 0.5h1.4m6.6 0.5h1.4m-1.4 1h1.4m-29.4 0.5h1.4m36.6 0.5h1.4m-36.9 1h1.4m-14.9 0.5h1.4m27.1 0h1.4m5.6 0h1.4m-16.4 2h1.4m9.6 1.5h1.4" stroke="#e9e21d" stroke-width="1.4" fill="none"/>
<path d="M438.5 40.5h1.4m-4.4 1h1.4m5.6 2h1.4m-0.9 0h1.4m-26.9 1.5h1.4m26.6 1h1.4m-18.9 0.5h1.4m-0.9 0h1.4m1.1 0h1.4m-2.4 0.5h1.4m4.6 0.5h1.4m12.1 0h1.4m-26.9 0.5h1.4m2.1 0.5h1.4m1.1 0h1.4m0.1 0h1.4m3.1 0h1.4m-0.4 0h1.4m0.6 0h1.4m4.1 0h1.4m6.1 0h1.4m-0.9 0.5h1.4m-14.4 0.5h1.4m-21.4 0.5h1.4m16.6 0h1.4m5.1 0h1.4m-22.4 0.5h1.4m1.1 0h1.4m5.6 0h1.4m5.6 0h1.4m8.6 0h1.4m-27.4 0.5h1.4m6.6 0h1.4m0.6 0h1.4m8.1 0h1.4m1.6 0h1.4m9.6 0h1.4m-26.4 0.5h1.4m19.6 0h1.4m-29.4 0.5h1.4m11.1 0h1.4m4.1 0h1.4m-28.4 0.5h1.4m20.1 0h1.4m15.6 0h1.4m-23.9 0.5h1.4m-3.9 0.5h1.4m7.1 0h1.4m0.1 0.5h1.4m4.6 0h1.4m-29.4 0.5h1.4m1.1 0h1.4m15.1 0h1.4m6.1 0h1.4m-38.9 0.5h1.4m3.1 0h1.4m-0.9 0h1.4m9.6 0h1.4m1.6 0h1.4m17.6 0h1.4m-26.4 0.5h1.4m21.1 0h1.4m2.6 0h1.4m-18.4 0.5h1.4m2.1 0h1.4m11.6 0h1.4m8.6 0h1.4m-31.4 0.5h1.4m16.6 0.5h1.4m1.1 0h1.4m3.6 0h1.4m2.1 0h1.4m-20.9 0.5h1.4m-20.4 0.5h1.4m8.1 0h1.4m9.6 0h1.4m2.6 0h1.4m-25.9 0.5h1.4m18.1 0h1.4m9.1 0h1.4m-34.9 0.5h1.4m8.6 0h1.4m-0.4 0h1.4m27.6 0h1.4m-0.9 0h1.4m1.6 0h1.4m-43.9 0.5h1.4m6.1 0h1.4m16.1 0h1.4m1.1 0h1.4m-0.9 0h1.4m-11.9 0.5h1.4m13.1 0h1.4m-17.4 0.5h1.4m8.1 0h1.4m-25.4 0.5h1.4m8.1 0h1.4m-4.4 0.5h1.4m0.1 0h1.4m7.1 0h1.4m2.6 0h1.4m5.1 0h1.4m4.1 0h1.4m14.6 0h1.4m-54.4 0.5h1.4m41.6 0h1.4m-21.4 0.5h1.4m1.1 0h1.4m-16.9 0.5h1.4m17.6 0h1.4m11.1 0h1.4m-10.4 1h1.4m14.1 0h1.4m-40.4 0.5h1.4m8.6 0h1.4m0.1 0h1.4m-0.4 0h1.4m3.1 0h1.4m5.1 0h1.4m7.1 0h1.4m3.1 0h1.4m-19.9 0.5h1.4m13.1 0h1.4m-42.4 0.5h1.4m10.1 0h1.4m7.1 0.5h1.4m3.1 0h1.4m19.6 0h1.4m-37.4 0.5h1.4m-0.4 0h1.4m-0.4 0h1.4m4.6 0h1.4m2.1 0h1.4m-12.4 0.5h1.4m11.1 0h1.4m-4.4 0.5h1.4m2.6 0h1.4m1.1 0.5h1.4m1.1 0h1.4m-15.9 0.5h1.4m1.1 0h1.4m21.6 0h1.4m2.6 0h1.4m-7.9 0.5h1.4m-22.4 0.5h1.4m16.1 0h1.4m-21.9 0.5h1.4m11.6 0h1.4m-9.9 0.5h1.4m3.6 0h1.4m16.6 0h1.4m-0.4 0h1.4m-33.4 0.5h1.4m10.6 0h1.4m-0.4 0.5h1.4m19.6 0h1.4m-16.4 0.5h1.4m20.6 0.5h1.4m-45.4 0.5h1.4m6.6 0h1.4m12.1 0h1.4m4.1 0h1.4m0.6 0h1.4m-24.4 0.5h1.4m0.6 0h1.4m6.1 0h1.4m5.1 1.5h1.4m-11.4 0.5h1.4m13.1 3h1.4m-0.9 0.5h1.4m2.6 21h1.4m-17.4 1h1.4m7.1 0.5h1.4m18.6 3.5h1.4m-21.9 1.5h1.4m-14.9 0.5h1.4m8.1 0h1.4m1.1 0h1.4m11.6 0h1.4m-32.4 0.5h1.4m7.1 0h1.4m-14.9 1h1.4m11.6 0.5h1.4m10.1 0h1.4m8.1 0h1.4m-0.9 0h1.4m2.6 0h1.4m-22.4 0.5h1.4m-0.9 0h1.4m1.6 0h1.4m-17.9 0.5h1.4m14.6 0.5h1.4m-16.9 0.5h1.4m4.6 0h1.4m10.1 0h1.4m-18.9 0.5h1.4m7.1 0h1.4m4.6 0h1.4m-3.4 0.5h1.4m12.6 0h1.4m3.6 0h1.4m-18.9 0.5h1.4m5.1 0h1.4m-0.9 0h1.4m4.1 0h1.4m-25.9 0.5h1.4m0.1 0h1.4m0.6 0h1.4m-0.9 0h1.4m2.1 0h1.4m3.1 0h1.4m-0.4 0h1.4m0.6 0h1.4m-9.9 0.5h1.4m5.6 0h1.4m-23.9 0.5h1.4m18.1 0h1.4m6.6 0h1.4m-11.9 1h1.4m-19.9 0.5h1.4m39.6 0h1.4m-46.4 0.5h1.4m2.6 0h1.4m18.6 0h1.4m-11.9 0.5h1.4m4.1 0h1.4m-6.9 0.5h1.4m17.6 0h1.4m-26.4 0.5h1.4m7.6 0h1.4m-10.4 0.5h1.4m12.6 0h1.4m16.1 0h1.4m6.6 0h1.4m-11.9 0.5h1.4m-21.9 0.5h1.4m9.1 0h1.4m3.6 0h1.4m-24.4 0.5h1.4m24.6 0.5h1.4m4.1 0h1.4m-34.4 0.5h1.4m2.1 0h1.4m15.6 0h1.4m10.6 0h1.4m11.1 0h1.4m-17.4 1h1.4m-32.4 0.5h1.4m28.1 0h1.4m-31.9 0.5h1.4m8.6 0h1.4m2.6 0h1.4m27.1 0h1.4m-28.9 0.5h1.4m5.6 0h1.4m2.6 0h1.4m-0.9 0h1.4m7.6 0h1.4m9.1 0h1.4m-39.4 0.5h1.4m-1.4 0.5h1.4m0.1 0h1.4m32.1 0h1.4m-41.9 0.5h1.4m18.1 0h1.4m4.1 0h1.4m0.1 0h1.4m-23.4 0.5h1.4m23.6 0h1.4m-19.9 0.5h1.4m12.1 0h1.4m11.6 0h1.4m-18.9 0.5h1.4m3.1 0h1.4m-33.4 0.5h1.4m10.6 0h1.4m1.6 0h1.4m-16.4 0.5h1.4m9.6 0h1.4m9.1 0h1.4m9.6 0h1.4m-0.4 0h1.4m6.1 0.5h1.4m-22.9 0.5h1.4m-0.9 0h1.4m-17.9 0.5h1.4m-0.9 0h1.4m14.1 0h1.4m16.1 0h1.4m2.1 0h1.4m-31.4 0.5h1.4m8.6 0h1.4m8.1 0h1.4m-8.9 0.5h1.4m5.1 0h1.4m-11.4 0.5h1.4m5.1 0h1.4m-0.9 0h1.4m1.1 0h1.4m1.1 0.5h1.4m15.6 0h1.4m-30.4 0.5h1.4m-0.9 0h1.4m5.1 0h1.4m-3.4 1h1.4m10.1 0h1.4m-13.4 0.5h1.4m20.1 0.5h1.4m-28.4 1h1.4m6.1 0.5h1.4m9.6 0h1.4m11.1 0h1.4m-14.4 1h1.4m-14.9 0.5h1.4m8.6 0h1.4m-14.9 0.5h1.4m-20.9 1.5h1.4m22.6 2.5h1.4m7.1 1.5h1.4" stroke="#70bc44" stroke-width="1.4" fill="none"/>
<path d="M423 43.5h1.4m9.6 4.5h1.4m7.6 1h1.4m-8.4 1h1.4m-20.4 0.5h1.4m6.6 0.5h1.4m1.1 0h1.4m4.1 0h1.4m2.1 0.5h1.4m-1.4 0.5h1.4m-0.9 0h1.4m6.1 0.5h1.4m-9.4 0.5h1.4m2.6 1h1.4m0.6 0h1.4m0.1 0h1.4m1.1 0.5h1.4m-0.9 0h1.4m4.6 0h1.4m-27.4 1h1.4m-12.9 0.5h1.4m10.6 0h1.4m18.1 0h1.4m0.1 0h1.4m-26.9 0.5h1.4m6.6 0h1.4m0.1 0h1.4m-0.9 0h1.4m9.6 0.5h1.4m-20.9 0.5h1.4m18.1 0h1.4m-7.4 0.5h1.4m-0.9 0h1.4m5.1 0h1.4m-8.4 0.5h1.4m-17.4 0.5h1.4m15.1 0h1.4m1.1 0h1.4m2.6 0h1.4m-24.4 0.5h1.4m8.1 0h1.4m-2.9 0.5h1.4m0.6 0h1.4m-5.9 0.5h1.4m6.1 0h1.4m2.1 0h1.4m16.6 0h1.4m2.1 0h1.4m-38.4 0.5h1.4m-0.4 0h1.4m22.1 0h1.4m-10.9 0.5h1.4m12.6 0h1.4m-26.9 0.5h1.4m12.1 0.5h1.4m9.1 0h1.4m0.6 0h1.4m-0.9 0h1.4m-32.4 0.5h1.4m0.6 0h1.4m16.1 0h1.4m0.1 0h1.4m-18.4 0.5h1.4m3.6 0.5h1.4m0.1 0h1.4m-14.9 0.5h1.4m6.1 0h1.4m10.1 0h1.4m-8.9 0.5h1.4m9.1 0h1.4m-11.9 0.5h1.4m2.6 0h1.4m8.1 0h1.4m-0.9 0h1.4m-10.9 0.5h1.4m-3.4 0.5h1.4m16.1 0h1.4m-27.4 0.5h1.4m2.6 0h1.4m12.6 0h1.4m-11.4 1h1.4m3.6 0h1.4m3.1 0h1.4m-9.4 0.5h1.4m-9.9 0.5h1.4m10.6 0h1.4m8.6 0h1.4m-25.4 0.5h1.4m13.6 4h1.4m0.6 0.5h1.4m-14.9 27.5h1.4m19.1 5.5h1.4m-18.9 1h1.4m-0.4 1.5h1.4m-0.4 0h1.4m1.6 1.5h1.4m13.1 0h1.4m-41.4 0.5h1.4m13.6 1h1.4m3.6 0h1.4m-6.4 1h1.4m-0.9 0h1.4m20.6 0h1.4m-31.4 0.5h1.4m14.1 0h1.4m-2.4 0.5h1.4m1.1 0h1.4m0.1 0h1.4m-2.9 0.5h1.4m7.1 0.5h1.4m-22.9 0.5h1.4m4.1 0h1.4m-0.4 0h1.4m10.6 0h1.4m-3.4 0.5h1.4m-12.9 0.5h1.4m12.1 0h1.4m-7.9 0.5h1.4m3.6 0h1.4m9.6 0h1.4m-17.9 0.5h1.4m-10.9 0.5h1.4m7.1 0h1.4m6.1 0h1.4m3.1 0h1.4m-30.9 0.5h1.4m-0.9 0h1.4m12.1 0h1.4m7.6 0h1.4m-20.9 0.5h1.4m4.1 0h1.4m15.6 0h1.4m-27.4 0.5h1.4m24.6 0h1.4m-19.9 0.5h1.4m2.1 0h1.4m11.1 0h1.4m0.6 0h1.4m-14.9 0.5h1.4m9.6 0h1.4m-0.4 0h1.4m-3.9 0.5h1.4m13.6 0h1.4m-25.9 0.5h1.4m-5.9 0.5h1.4m21.6 0h1.4m6.6 0h1.4m-23.9 0.5h1.4m3.6 0h1.4m9.1 0h1.4m0.6 0h1.4m-32.9 0.5h1.4m5.1 0h1.4m3.6 0h1.4m2.1 0h1.4m13.6 0h1.4m1.1 0h1.4m-26.4 0.5h1.4m1.1 0h1.4m28.6 0h1.4m-30.4 0.5h1.4m-5.9 0.5h1.4m2.6 0h1.4m6.6 0h1.4m-0.9 0h1.4m4.6 0h1.4m-18.9 0.5h1.4m1.1 0.5h1.4m7.1 0.5h1.4m5.1 0h1.4m-3.9 0.5h1.4m-0.9 0h1.4m7.6 0h1.4m3.6 0h1.4m-23.9 1h1.4m2.1 0h1.4m-6.4 0.5h1.4m-6.4 0.5h1.4m-7.9 0.5h1.4m13.6 0.5h1.4m8.1 0.5h1.4m2.6 0h1.4m-31.4 0.5h1.4m-0.9 0h1.4m13.1 0h1.4m-6.9 0.5h1.4m9.1 0h1.4m10.6 0h1.4m-12.9 0.5h1.4m10.1 0h1.4m-5.9 0.5h1.4m-15.9 1h1.4m24.6 0h1.4m-31.4 1h1.4m1.1 0h1.4m0.6 1h1.4m4.6 2.5h1.4m2.1 1h1.4" stroke="#2fb6d8" stroke-width="1.4" fill="none"/>
<path d="M434 47.5h1.4m9.1 4.5h1.4m-18.4 0.5h1.4m-1.9 3.5h1.4m6.6 0.5h1.4m4.1 1h1.4m-1.9 0.5h1.4m4.6 0h1.4m2.6 1h1.4m-5.4 0.5h1.4m-0.4 0h1.4m-25.4 1h1.4m20.6 0.5h1.4m-7.9 0.5h1.4m8.1 0h1.4m-15.4 0.5h1.4m3.1 0h1.4m-0.9 0h1.4m-0.9 0h1.4m-5.9 0.5h1.4m-4.4 0.5h1.4m7.6 0h1.4m2.6 0h1.4m-0.9 0.5h1.4m-21.4 0.5h1.4m7.6 0h1.4m-17.4 1h1.4m9.6 0h1.4m-2.4 0.5h1.4m11.1 0h1.4m-8.4 0.5h1.4m-12.9 1h1.4m13.6 1.5h1.4m-6.9 45h1.4m0.1 1h1.4m3.1 0h1.4m-0.9 0h1.4m-4.4 0.5h1.4m-12.9 1h1.4m12.6 1h1.4m2.6 1h1.4m-8.9 1h1.4m1.6 0h1.4m0.1 0h1.4m-16.9 0.5h1.4m7.6 0.5h1.4m-4.9 1.5h1.4m1.1 0h1.4m3.1 0.5h1.4m-6.4 0.5h1.4m5.6 0h1.4m-1.9 0.5h1.4m-1.4 0.5h1.4m-1.4 0.5h1.4m-12.4 0.5h1.4m-1.9 0.5h1.4m3.1 1h1.4m2.6 0h1.4m-7.9 0.5h1.4m0.6 0h1.4m3.6 0h1.4m0.1 0h1.4m-9.9 0.5h1.4m-0.9 0h1.4m-6.4 0.5h1.4m6.1 1h1.4m0.6 0h1.4m-3.9 0.5h1.4m10.1 0.5h1.4m-3.9 0.5h1.4m-3.4 2.5h1.4m1.1 0h1.4m14.1 1h1.4m-17.4 0.5h1.4m-0.9 0h1.4m2.1 0h1.4m-17.9 0.5h1.4" stroke="#3f54a5" stroke-width="1.4" fill="none"/>
<path d="M430.5 52.5h1.4m2.6 3.5h1.4m-3.4 1h1.4m3.6 0h1.4m-8.4 0.5h1.4m18.6 0.5h1.4m-9.4 0.5h1.4m7.1 0h1.4m-11.9 0.5h1.4m0.6 0h1.4m-3.9 0.5h1.4m3.1 0.5h1.4m-15.4 1h1.4m-0.4 0h1.4m1.1 0h1.4m10.1 2h1.4m-14.4 0.5h1.4m-8.4 1h1.4m9.1 0h1.4m1.1 3.5h1.4m-2.9 51.5h1.4m-14.9 2h1.4m9.1 0h1.4m0.1 0.5h1.4m-6.9 2h1.4m-0.9 0h1.4m9.6 1h1.4m-9.4 1.5h1.4m-1.4 0.5h1.4m0.6 1h1.4m12.1 0h1.4m-25.4 1h1.4m11.6 3h1.4m0.1 0.5h1.4" stroke="#9e449c" stroke-width="1.4" fill="none"/>
<path d="M445 54h1.4m-15.9 3h1.4m2.6 0.5h1.4m-0.9 0.5h1.4m-1.9 0.5h1.4m6.1 0h1.4m0.6 2h1.4m-3.9 2h1.4m-17.4 2.5h1.4m11.6 3.5h1.4m-8.4 44.5h1.4m11.6 3.5h1.4m-6.4 1.5h1.4m-2.9 0.5h1.4m-10.9 2.5h1.4m0.1 1.5h1.4m-0.9 0h1.4m-3.4 2h1.4m4.1 2h1.4m2.1 5.5h1.4" stroke="#b8409a" stroke-width="1.4" fill="none"/>
<line x1="376.40" y1="95.40" x2="486.30" y2="95.40" stroke="#2a2a2a" stroke-width="1.0"/>
<line x1="395.00" y1="31.30" x2="395.00" y2="154.20" stroke="#2a2a2a" stroke-width="1.0"/>
<line x1="376.40" y1="21.40" x2="376.40" y2="154.90" stroke="#000" stroke-width="1.3"/>
<line x1="375.80" y1="154.20" x2="485.40" y2="154.20" stroke="#000" stroke-width="1.4"/>
<line x1="372.60" y1="148.10" x2="376.40" y2="148.10" stroke="#000" stroke-width="1.1"/>
<text x="370.2" y="151.2" font-size="8.6" text-anchor="end">0</text>
<line x1="372.60" y1="124.02" x2="376.40" y2="124.02" stroke="#000" stroke-width="1.1"/>
<text x="370.2" y="127.1" font-size="8.6" text-anchor="end">1</text>
<line x1="372.60" y1="99.94" x2="376.40" y2="99.94" stroke="#000" stroke-width="1.1"/>
<text x="370.2" y="103.0" font-size="8.6" text-anchor="end">2</text>
<line x1="372.60" y1="75.86" x2="376.40" y2="75.86" stroke="#000" stroke-width="1.1"/>
<text x="370.2" y="79.0" font-size="8.6" text-anchor="end">3</text>
<line x1="372.60" y1="51.78" x2="376.40" y2="51.78" stroke="#000" stroke-width="1.1"/>
<text x="370.2" y="54.9" font-size="8.6" text-anchor="end">4</text>
<line x1="372.60" y1="27.70" x2="376.40" y2="27.70" stroke="#000" stroke-width="1.1"/>
<text x="370.2" y="30.8" font-size="8.6" text-anchor="end">5</text>
<line x1="381.10" y1="154.20" x2="381.10" y2="158.00" stroke="#000" stroke-width="1.1"/>
<text x="381.1" y="167.2" font-size="8.6" text-anchor="middle">0</text>
<line x1="408.17" y1="154.20" x2="408.17" y2="158.00" stroke="#000" stroke-width="1.1"/>
<text x="408.2" y="167.2" font-size="8.6" text-anchor="middle">1</text>
<line x1="435.24" y1="154.20" x2="435.24" y2="158.00" stroke="#000" stroke-width="1.1"/>
<text x="435.2" y="167.2" font-size="8.6" text-anchor="middle">2</text>
<line x1="462.31" y1="154.20" x2="462.31" y2="158.00" stroke="#000" stroke-width="1.1"/>
<text x="462.3" y="167.2" font-size="8.6" text-anchor="middle">3</text>
<text x="379.2" y="29.2" font-size="8.6" textLength="20.5" lengthAdjust="spacingAndGlyphs">2.6%</text>
<text x="456.5" y="29.2" font-size="8.6" textLength="26.5" lengthAdjust="spacingAndGlyphs">42.5%</text>
<text x="379.2" y="150.8" font-size="8.6" textLength="20.8" lengthAdjust="spacingAndGlyphs">3.0%</text>
<text x="456.5" y="150.8" font-size="8.6" textLength="26.5" lengthAdjust="spacingAndGlyphs">51.9%</text>
<text x="430.5" y="179.2" font-size="10.4" text-anchor="middle" textLength="102.7" lengthAdjust="spacingAndGlyphs">CAR19 construct transcript</text>
<text x="357.9" y="87.9" font-size="10.2" text-anchor="middle" textLength="15.7" lengthAdjust="spacingAndGlyphs" transform="rotate(-90 357.9 87.9)">CD3</text>
<text x="485.4" y="51.7" font-size="8.4" textLength="24.6" lengthAdjust="spacingAndGlyphs">Count</text>
<defs><linearGradient id="cb489_56" x1="0" y1="0" x2="0" y2="1"><stop offset="0.00" stop-color="#b8409a"/><stop offset="0.10" stop-color="#7a4a9e"/><stop offset="0.20" stop-color="#3f51a3"/><stop offset="0.30" stop-color="#3b6fb6"/><stop offset="0.40" stop-color="#29b5e8"/><stop offset="0.50" stop-color="#4db88a"/><stop offset="0.60" stop-color="#62b847"/><stop offset="0.70" stop-color="#9cc83c"/><stop offset="0.80" stop-color="#f0e41a"/><stop offset="0.90" stop-color="#f7a21b"/><stop offset="1.00" stop-color="#ee2b24"/></linearGradient></defs>
<rect x="489.90" y="56.00" width="15.00" height="74.00" fill="url(#cb489_56)"/>
<line x1="489.90" y1="130.00" x2="492.90" y2="130.00" stroke="#fff" stroke-width="0.4"/>
<line x1="501.90" y1="130.00" x2="504.90" y2="130.00" stroke="#fff" stroke-width="0.4"/>
<text x="506.6" y="133.2" font-size="9">0</text>
<line x1="489.90" y1="115.60" x2="492.90" y2="115.60" stroke="#fff" stroke-width="0.4"/>
<line x1="501.90" y1="115.60" x2="504.90" y2="115.60" stroke="#fff" stroke-width="0.4"/>
<text x="506.6" y="118.7" font-size="9">1</text>
<line x1="489.90" y1="101.20" x2="492.90" y2="101.20" stroke="#fff" stroke-width="0.4"/>
<line x1="501.90" y1="101.20" x2="504.90" y2="101.20" stroke="#fff" stroke-width="0.4"/>
<text x="506.6" y="104.3" font-size="9">2</text>
<line x1="489.90" y1="86.80" x2="492.90" y2="86.80" stroke="#fff" stroke-width="0.4"/>
<line x1="501.90" y1="86.80" x2="504.90" y2="86.80" stroke="#fff" stroke-width="0.4"/>
<text x="506.6" y="89.9" font-size="9">3</text>
<line x1="489.90" y1="72.40" x2="492.90" y2="72.40" stroke="#fff" stroke-width="0.4"/>
<line x1="501.90" y1="72.40" x2="504.90" y2="72.40" stroke="#fff" stroke-width="0.4"/>
<text x="506.6" y="75.5" font-size="9">4</text>
<line x1="489.90" y1="58.00" x2="492.90" y2="58.00" stroke="#fff" stroke-width="0.4"/>
<line x1="501.90" y1="58.00" x2="504.90" y2="58.00" stroke="#fff" stroke-width="0.4"/>
<text x="506.6" y="61.1" font-size="9">5</text>
<text x="13.2" y="195.3" font-size="14.2" font-weight="bold" fill="#000">B</text>
<rect x="35.80" y="185.10" width="104.20" height="10.30" fill="#bebdc3"/>
<line x1="35.80" y1="195.50" x2="140.00" y2="195.50" stroke="#333" stroke-width="1.0"/>
<rect x="35.80" y="184.50" width="104.20" height="129.30" fill="none" stroke="#111" stroke-width="1.3"/>
<text x="75.5" y="192.8" font-size="8.6" textLength="21.5" lengthAdjust="spacingAndGlyphs" fill="#222">B cell</text>
<rect x="142.40" y="185.10" width="242.10" height="10.30" fill="#bebdc3"/>
<line x1="142.40" y1="195.50" x2="384.50" y2="195.50" stroke="#333" stroke-width="1.0"/>
<rect x="142.40" y="184.50" width="242.10" height="129.30" fill="none" stroke="#111" stroke-width="1.3"/>
<text x="207.3" y="192.8" font-size="8.6" textLength="131.3" lengthAdjust="spacingAndGlyphs" fill="#222">Macrophages/Monocytes/DC</text>
<rect x="388.20" y="185.10" width="102.80" height="10.30" fill="#bebdc3"/>
<line x1="388.20" y1="195.50" x2="491.00" y2="195.50" stroke="#333" stroke-width="1.0"/>
<rect x="388.20" y="184.50" width="102.80" height="129.30" fill="none" stroke="#111" stroke-width="1.3"/>
<text x="389.6" y="192.8" font-size="8.6" textLength="78.4" lengthAdjust="spacingAndGlyphs" fill="#222">Gamma delta/NK</text>
<text x="27.3" y="249.0" font-size="10.6" text-anchor="middle" textLength="85.0" lengthAdjust="spacingAndGlyphs" transform="rotate(-90 27.3 249.0)">Expression level (CLR)</text>
<line x1="55.40" y1="313.80" x2="55.40" y2="317.60" stroke="#222" stroke-width="1.1"/>
<text x="55.4" y="328.8" font-size="9.2" text-anchor="middle">CD19</text>
<line x1="87.60" y1="313.80" x2="87.60" y2="317.60" stroke="#222" stroke-width="1.1"/>
<text x="87.6" y="328.8" font-size="9.2" text-anchor="middle">CD20</text>
<line x1="120.00" y1="313.80" x2="120.00" y2="317.60" stroke="#222" stroke-width="1.1"/>
<text x="120.0" y="328.8" font-size="9.2" text-anchor="middle">CD21</text>
<line x1="162.80" y1="313.80" x2="162.80" y2="317.60" stroke="#222" stroke-width="1.1"/>
<text x="162.8" y="328.8" font-size="9.2" text-anchor="middle">CD11b</text>
<line x1="196.40" y1="313.80" x2="196.40" y2="317.60" stroke="#222" stroke-width="1.1"/>
<text x="196.4" y="328.8" font-size="9.2" text-anchor="middle">CD11c</text>
<line x1="230.20" y1="313.80" x2="230.20" y2="317.60" stroke="#222" stroke-width="1.1"/>
<text x="230.2" y="328.8" font-size="9.2" text-anchor="middle">CD14</text>
<line x1="264.10" y1="313.80" x2="264.10" y2="317.60" stroke="#222" stroke-width="1.1"/>
<text x="264.1" y="328.8" font-size="9.2" text-anchor="middle">CD40</text>
<line x1="297.80" y1="313.80" x2="297.80" y2="317.60" stroke="#222" stroke-width="1.1"/>
<text x="297.8" y="328.8" font-size="9.2" text-anchor="middle">CD80</text>
<line x1="331.60" y1="313.80" x2="331.60" y2="317.60" stroke="#222" stroke-width="1.1"/>
<text x="331.6" y="328.8" font-size="9.2" text-anchor="middle">CD86</text>
<line x1="365.30" y1="313.80" x2="365.30" y2="317.60" stroke="#222" stroke-width="1.1"/>
<text x="365.3" y="328.8" font-size="9.2" text-anchor="middle">CD41</text>
<line x1="407.40" y1="313.80" x2="407.40" y2="317.60" stroke="#222" stroke-width="1.1"/>
<text x="407.4" y="328.8" font-size="9.2" text-anchor="middle">CD16</text>
<line x1="439.60" y1="313.80" x2="439.60" y2="317.60" stroke="#222" stroke-width="1.1"/>
<text x="439.6" y="328.8" font-size="9.2" text-anchor="middle">CD161</text>
<line x1="472.50" y1="313.80" x2="472.50" y2="317.60" stroke="#222" stroke-width="1.1"/>
<text x="472.5" y="328.8" font-size="9.2" text-anchor="middle">CD56</text>
<line x1="38.00" y1="309.30" x2="138.00" y2="309.30" stroke="#8a8a8a" stroke-width="0.8"/>
<line x1="39.40" y1="309.30" x2="71.40" y2="309.30" stroke="#8a8a8a" stroke-width="0.8"/>
<rect x="48.7" y="307.4" width="13.4" height="2.0" fill="#000" fill-opacity="0.88"/>
<path d="M49 304h0.8m-0.3 0h0.8m2.7 0h0.8m-0.3 0.5h0.8m-0.3 0h0.8m2.7 0h0.8m-4.3 0.5h0.8m2.7 0h0.8m-9.3 0.5h0.8m2.2 0h0.8m0.2 0h0.8m1.7 0h0.8m-0.8 0h0.8m1.2 0h0.8m0.2 0h0.8m1.2 0h0.8m0.2 0h0.8m-13.3 0.5h0.8m0.2 0h0.8m-0.3 0h0.8m-0.8 0h0.8m0.2 0h0.8m-0.3 0h0.8m0.7 0h0.8m0.2 0h0.8m-0.8 0h0.8m-0.3 0h0.8m-0.3 0h0.8m0.7 0h0.8m-0.3 0h0.8m-0.3 0h0.8m0.7 0h0.8m-0.3 0h0.8m0.7 0h0.8m-0.8 0h0.8m-13.3 0.5h0.8m-0.8 0h0.8m-0.8 0h0.8m0.2 0h0.8m-0.8 0h0.8m-0.8 0h0.8m-0.3 0h0.8m-0.3 0h0.8m-0.8 0h0.8m-0.3 0h0.8m-0.8 0h0.8m-0.3 0h0.8m-0.3 0h0.8m-0.3 0h0.8m-0.3 0h0.8m-0.8 0h0.8m0.2 0h0.8m-0.3 0h0.8m-0.8 0h0.8m-0.3 0h0.8m-0.8 0h0.8m-0.3 0h0.8m-0.8 0h0.8m0.2 0h0.8m0.7 0h0.8m-0.3 0h0.8m-0.8 0h0.8m-0.8 0h0.8m-0.8 0h0.8m-0.8 0h0.8m-0.3 0h0.8m-0.3 0h0.8m-0.8 0h0.8m-0.8 0h0.8m0.2 0h0.8m-0.3 0h0.8m-13.3 0.5h0.8m-0.3 0h0.8m0.2 0h0.8m-0.8 0h0.8m-0.8 0h0.8m-0.8 0h0.8m-0.3 0h0.8m-0.8 0h0.8m-0.8 0h0.8m-0.8 0h0.8m-0.3 0h0.8m-0.8 0h0.8m-0.8 0h0.8m-0.3 0h0.8m-0.3 0h0.8m-0.8 0h0.8m-0.8 0h0.8m-0.8 0h0.8m-0.3 0h0.8m0.2 0h0.8m-0.8 0h0.8m-0.8 0h0.8m-0.3 0h0.8m-0.8 0h0.8m-0.3 0h0.8m-0.3 0h0.8m-0.3 0h0.8m-0.8 0h0.8m0.2 0h0.8m-0.8 0h0.8m-0.8 0h0.8m-0.8 0h0.8m-0.8 0h0.8m0.2 0h0.8m-0.3 0h0.8m-0.8 0h0.8m-0.3 0h0.8m-0.8 0h0.8m-0.3 0h0.8m-0.3 0h0.8m-0.3 0h0.8m0.2 0h0.8m-0.8 0h0.8m-0.3 0h0.8m-13.8 0.5h0.8m-0.3 0h0.8m-0.3 0h0.8m-0.8 0h0.8m-0.3 0h0.8m-0.8 0h0.8m0.7 0h0.8m-0.3 0h0.8m-0.3 0h0.8m0.2 0h0.8m-0.8 0h0.8m-0.8 0h0.8m-0.8 0h0.8m-0.3 0h0.8m1.2 0h0.8m-0.8 0h0.8m-0.3 0h0.8m0.7 0h0.8m0.7 0h0.8m0.2 0h0.8m-0.3 0h0.8m-0.8 0h0.8m-0.8 0h0.8m-0.3 0h0.8m-0.8 0h0.8" stroke="#000" stroke-width="0.8" stroke-opacity="0.8" fill="none"/>
<path d="M59 301h0.7m0.8 0.5h0.7m-2.7 2h0.7m3.3 0h0.7m-13.7 1h0.7" stroke="#444" stroke-width="0.7" stroke-opacity="0.5" fill="none"/>
<line x1="71.60" y1="309.30" x2="103.60" y2="309.30" stroke="#8a8a8a" stroke-width="0.8"/>
<rect x="80.8" y="307.0" width="13.6" height="2.3" fill="#000" fill-opacity="0.88"/>
<path d="M84 303.5h0.8m0.7 0h0.8m0.2 0h0.8m3.7 0h0.8m-5.8 0.5h0.8m1.2 0h0.8m4.2 0h0.8m-9.3 0.5h0.8m-0.3 0h0.8m1.2 0h0.8m0.2 0h0.8m1.2 0h0.8m-0.3 0h0.8m-0.8 0h0.8m0.2 0h0.8m0.7 0h0.8m-0.3 0h0.8m-0.3 0h0.8m-13.8 0.5h0.8m-0.3 0h0.8m0.7 0h0.8m-0.8 0h0.8m0.2 0h0.8m-0.3 0h0.8m0.2 0h0.8m0.2 0h0.8m0.2 0h0.8m2.2 0h0.8m-9.8 0.5h0.8m-0.8 0h0.8m-0.3 0h0.8m0.2 0h0.8m0.2 0h0.8m-0.3 0h0.8m-0.8 0h0.8m-0.8 0h0.8m0.2 0h0.8m0.7 0h0.8m1.2 0h0.8m-0.3 0h0.8m0.7 0h0.8m-0.3 0h0.8m-0.8 0h0.8m-0.3 0h0.8m-0.8 0h0.8m-0.3 0h0.8m0.2 0h0.8m-0.3 0h0.8m-13.3 0.5h0.8m-0.3 0h0.8m-0.3 0h0.8m-0.8 0h0.8m-0.3 0h0.8m-0.3 0h0.8m-0.8 0h0.8m-0.8 0h0.8m-0.8 0h0.8m-0.3 0h0.8m-0.8 0h0.8m-0.8 0h0.8m-0.3 0h0.8m-0.8 0h0.8m-0.3 0h0.8m-0.8 0h0.8m-0.3 0h0.8m-0.8 0h0.8m-0.8 0h0.8m-0.3 0h0.8m-0.3 0h0.8m-0.8 0h0.8m-0.3 0h0.8m-0.8 0h0.8m-0.3 0h0.8m-0.8 0h0.8m0.7 0h0.8m-0.3 0h0.8m-0.3 0h0.8m-0.8 0h0.8m-0.3 0h0.8m-0.8 0h0.8m-0.8 0h0.8m-0.3 0h0.8m-0.8 0h0.8m-0.3 0h0.8m0.7 0h0.8m-0.3 0h0.8m-0.8 0h0.8m-0.3 0h0.8m-0.8 0h0.8m-13.8 0.5h0.8m-0.8 0h0.8m-0.3 0h0.8m-0.3 0h0.8m-0.8 0h0.8m-0.3 0h0.8m-0.3 0h0.8m0.2 0h0.8m-0.3 0h0.8m-0.3 0h0.8m-0.8 0h0.8m-0.8 0h0.8m-0.3 0h0.8m-0.8 0h0.8m1.2 0h0.8m-0.8 0h0.8m-0.3 0h0.8m-0.3 0h0.8m-0.3 0h0.8m-0.3 0h0.8m-0.8 0h0.8m-0.3 0h0.8m-0.8 0h0.8m-0.3 0h0.8m-0.8 0h0.8m-0.3 0h0.8m-0.8 0h0.8m0.2 0h0.8m0.7 0h0.8m-0.3 0h0.8m-0.8 0h0.8m-0.8 0h0.8m-13.3 0.5h0.8m-0.8 0h0.8m0.2 0h0.8m-0.3 0h0.8m-0.8 0h0.8m-0.8 0h0.8m-0.8 0h0.8m-0.3 0h0.8m-0.3 0h0.8m-0.8 0h0.8m-0.8 0h0.8m-0.3 0h0.8m-0.8 0h0.8m-0.8 0h0.8m-0.3 0h0.8m-0.8 0h0.8m0.2 0h0.8m-0.3 0h0.8m-0.8 0h0.8m-0.3 0h0.8m-0.8 0h0.8m-0.8 0h0.8m-0.3 0h0.8m-0.3 0h0.8m-0.3 0h0.8m-0.3 0h0.8m-0.8 0h0.8m-0.3 0h0.8m0.7 0h0.8m0.2 0h0.8m-0.8 0h0.8m-0.8 0h0.8m0.2 0h0.8m-0.8 0h0.8m-0.8 0h0.8m-0.3 0h0.8m-0.8 0h0.8m-0.3 0h0.8m-0.3 0h0.8" stroke="#000" stroke-width="0.8" stroke-opacity="0.8" fill="none"/>
<path d="M82.5 299.5h0.7m9.8 2h0.7m-9.2 1.5h0.7m6.3 0h0.7m2.3 0.5h0.7m-14.7 0.5h0.7m4.3 0h0.7" stroke="#444" stroke-width="0.7" stroke-opacity="0.5" fill="none"/>
<line x1="104.00" y1="309.30" x2="136.00" y2="309.30" stroke="#8a8a8a" stroke-width="0.8"/>
<rect x="113.2" y="306.5" width="13.6" height="2.8" fill="#000" fill-opacity="0.88"/>
<path d="M122.5 300.5h0.8m-1.3 0.5h0.8m-6.8 1h0.8m-0.8 0h0.8m1.7 0h0.8m7.2 0h0.8m-7.8 0.5h0.8m-0.3 0h0.8m-0.3 0h0.8m2.7 0h0.8m-10.8 0.5h0.8m-0.3 0h0.8m2.7 0h0.8m2.2 0h0.8m-0.8 0h0.8m0.2 0h0.8m-6.8 0.5h0.8m-0.8 0h0.8m1.2 0h0.8m0.2 0h0.8m1.7 0h0.8m-0.3 0h0.8m-0.8 0h0.8m0.2 0h0.8m-0.3 0h0.8m1.2 0h0.8m-11.3 0.5h0.8m0.7 0h0.8m-0.3 0h0.8m-0.3 0h0.8m0.7 0h0.8m0.2 0h0.8m-0.8 0h0.8m4.2 0h0.8m-0.3 0h0.8m0.2 0h0.8m-0.8 0h0.8m-12.3 0.5h0.8m-0.3 0h0.8m-0.8 0h0.8m-0.3 0h0.8m-0.3 0h0.8m1.7 0h0.8m-0.8 0h0.8m0.2 0h0.8m-0.3 0h0.8m0.7 0h0.8m-0.3 0h0.8m-0.8 0h0.8m1.2 0h0.8m-0.3 0h0.8m0.2 0h0.8m-0.8 0h0.8m-13.3 0.5h0.8m-0.8 0h0.8m0.7 0h0.8m-0.8 0h0.8m0.2 0h0.8m0.2 0h0.8m-0.3 0h0.8m0.2 0h0.8m0.7 0h0.8m-0.3 0h0.8m0.2 0h0.8m-0.8 0h0.8m-0.3 0h0.8m-0.8 0h0.8m-0.3 0h0.8m-0.3 0h0.8m-0.3 0h0.8m-0.3 0h0.8m-0.8 0h0.8m-0.8 0h0.8m0.2 0h0.8m-0.3 0h0.8m-0.8 0h0.8m-0.3 0h0.8m-0.8 0h0.8m-0.8 0h0.8m-0.3 0h0.8m-13.8 0.5h0.8m-0.8 0h0.8m2.2 0h0.8m-0.8 0h0.8m-0.3 0h0.8m-0.3 0h0.8m-0.8 0h0.8m-0.3 0h0.8m-0.3 0h0.8m-0.8 0h0.8m-0.8 0h0.8m-0.3 0h0.8m-0.8 0h0.8m-0.3 0h0.8m-0.3 0h0.8m-0.8 0h0.8m0.2 0h0.8m-0.3 0h0.8m-0.8 0h0.8m-0.3 0h0.8m-0.8 0h0.8m-0.3 0h0.8m-0.3 0h0.8m-0.8 0h0.8m-0.8 0h0.8m-0.3 0h0.8m0.2 0h0.8m-0.3 0h0.8m-0.3 0h0.8m-0.8 0h0.8m-0.8 0h0.8m-0.3 0h0.8m-13.8 0.5h0.8m-0.8 0h0.8m-0.3 0h0.8m-0.3 0h0.8m-0.8 0h0.8m-0.3 0h0.8m-0.3 0h0.8m-0.8 0h0.8m-0.3 0h0.8m0.2 0h0.8m-0.3 0h0.8m-0.3 0h0.8m-0.3 0h0.8m0.2 0h0.8m-0.3 0h0.8m0.7 0h0.8m-0.8 0h0.8m-0.3 0h0.8m-0.8 0h0.8m0.2 0h0.8m-0.8 0h0.8m-0.8 0h0.8m-0.3 0h0.8m-0.8 0h0.8m-0.8 0h0.8m-0.3 0h0.8m-0.3 0h0.8m-0.8 0h0.8m-0.8 0h0.8m-0.8 0h0.8m0.2 0h0.8m-0.8 0h0.8m-0.8 0h0.8m0.2 0h0.8m-13.3 0.5h0.8m-0.3 0h0.8m-0.8 0h0.8m-0.8 0h0.8m0.2 0h0.8m-0.8 0h0.8m-0.3 0h0.8m-0.3 0h0.8m-0.8 0h0.8m-0.3 0h0.8m-0.8 0h0.8m-0.3 0h0.8m-0.3 0h0.8m-0.3 0h0.8m-0.3 0h0.8m-0.3 0h0.8m-0.3 0h0.8m-0.8 0h0.8m-0.8 0h0.8m-0.3 0h0.8m-0.3 0h0.8m-0.8 0h0.8m-0.3 0h0.8m-0.3 0h0.8m-0.8 0h0.8m-0.3 0h0.8m-0.8 0h0.8m-0.8 0h0.8m-0.3 0h0.8m1.2 0h0.8m-0.3 0h0.8m-0.8 0h0.8m-0.3 0h0.8m0.2 0h0.8" stroke="#000" stroke-width="0.8" stroke-opacity="0.8" fill="none"/>
<path d="M115 299h0.7m9.3 0h0.7m0.8 0.5h0.7m-13.7 1.5h0.7m9.8 0h0.7m-11.2 0.5h0.7m-1.7 1.5h0.7m3.3 0.5h0.7" stroke="#444" stroke-width="0.7" stroke-opacity="0.5" fill="none"/>
<line x1="162.80" y1="250.60" x2="162.80" y2="309.30" stroke="#bdbdbd" stroke-width="1.1"/>
<line x1="146.80" y1="309.30" x2="178.80" y2="309.30" stroke="#8a8a8a" stroke-width="0.8"/>
<rect x="155.8" y="306.9" width="14.0" height="2.4" fill="#000" fill-opacity="0.88"/>
<path d="M163 302.5h0.8m5.7 0.5h0.8m-5.8 0.5h0.8m0.7 0h0.8m0.7 0h0.8m0.2 0h0.8m-0.3 0h0.8m-0.8 0h0.8m-13.8 0.5h0.8m1.2 0h0.8m1.7 0h0.8m-0.8 0h0.8m4.7 0h0.8m-10.8 0.5h0.8m-0.3 0h0.8m-0.8 0h0.8m1.2 0h0.8m3.2 0h0.8m-0.8 0h0.8m1.7 0h0.8m0.7 0h0.8m-0.8 0h0.8m0.7 0h0.8m-0.8 0h0.8m-0.3 0h0.8m-0.8 0h0.8m-13.3 0.5h0.8m2.7 0h0.8m-0.8 0h0.8m0.2 0h0.8m-0.3 0h0.8m0.2 0h0.8m-0.8 0h0.8m-0.3 0h0.8m-0.8 0h0.8m0.2 0h0.8m1.2 0h0.8m-0.8 0h0.8m1.2 0h0.8m-0.3 0h0.8m0.7 0h0.8m-0.8 0h0.8m-13.3 0.5h0.8m1.2 0h0.8m-0.3 0h0.8m1.2 0h0.8m-0.8 0h0.8m1.2 0h0.8m-0.8 0h0.8m0.2 0h0.8m-0.3 0h0.8m-0.3 0h0.8m-0.3 0h0.8m-0.3 0h0.8m-0.8 0h0.8m-0.3 0h0.8m-0.8 0h0.8m-0.8 0h0.8m-0.3 0h0.8m-0.8 0h0.8m-0.8 0h0.8m0.2 0h0.8m-0.8 0h0.8m-0.8 0h0.8m-0.8 0h0.8m-0.3 0h0.8m-12.8 0.5h0.8m-0.3 0h0.8m-0.3 0h0.8m-0.8 0h0.8m0.2 0h0.8m-0.8 0h0.8m-0.8 0h0.8m-0.3 0h0.8m-0.8 0h0.8m-0.8 0h0.8m-0.3 0h0.8m-0.3 0h0.8m-0.3 0h0.8m-0.8 0h0.8m-0.8 0h0.8m-0.3 0h0.8m0.7 0h0.8m-0.8 0h0.8m-0.3 0h0.8m1.2 0h0.8m-0.8 0h0.8m-0.3 0h0.8m-0.8 0h0.8m-0.8 0h0.8m-0.3 0h0.8m-0.8 0h0.8m-0.8 0h0.8m-0.3 0h0.8m-0.8 0h0.8m0.2 0h0.8m0.2 0h0.8m-0.8 0h0.8m-0.3 0h0.8m-0.3 0h0.8m-14.3 0.5h0.8m-0.3 0h0.8m-0.3 0h0.8m-0.8 0h0.8m-0.8 0h0.8m-0.3 0h0.8m-0.3 0h0.8m0.7 0h0.8m-0.8 0h0.8m-0.3 0h0.8m1.2 0h0.8m-0.3 0h0.8m-0.3 0h0.8m-0.3 0h0.8m-0.3 0h0.8m-0.8 0h0.8m0.2 0h0.8m1.2 0h0.8m-0.3 0h0.8m-0.3 0h0.8m-0.8 0h0.8m-0.3 0h0.8m-0.8 0h0.8m-0.8 0h0.8m-13.8 0.5h0.8m-0.3 0h0.8m-0.3 0h0.8m-0.3 0h0.8m-0.3 0h0.8m-0.3 0h0.8m-0.3 0h0.8m-0.3 0h0.8m-0.3 0h0.8m-0.8 0h0.8m-0.3 0h0.8m0.2 0h0.8m-0.3 0h0.8m-0.8 0h0.8m-0.8 0h0.8m-0.3 0h0.8m-0.8 0h0.8m-0.3 0h0.8m-0.3 0h0.8m-0.3 0h0.8m-0.3 0h0.8m-0.3 0h0.8m-0.3 0h0.8m-0.8 0h0.8m-0.3 0h0.8m-0.8 0h0.8m-0.8 0h0.8m-0.3 0h0.8m-0.3 0h0.8m-0.3 0h0.8m0.2 0h0.8m-0.3 0h0.8m-0.8 0h0.8m-0.8 0h0.8m-0.3 0h0.8m-0.8 0h0.8" stroke="#000" stroke-width="0.8" stroke-opacity="0.8" fill="none"/>
<path d="M166 262h0.7m-11.2 4h0.7m5.3 2h0.7m6.3 1.5h0.7m-7.7 3.5h0.7m-0.7 3h0.7m0.8 7.5h0.7m1.8 4.5h0.7m-7.7 3h0.7m-2.2 2.5h0.7m5.3 2h0.7m-7.2 5.5h0.7m-0.7 0h0.7m-1.7 1.5h0.7" stroke="#444" stroke-width="0.7" stroke-opacity="0.5" fill="none"/>
<line x1="230.20" y1="251.80" x2="230.20" y2="309.30" stroke="#bdbdbd" stroke-width="1.1"/>
<line x1="214.20" y1="309.30" x2="246.20" y2="309.30" stroke="#8a8a8a" stroke-width="0.8"/>
<rect x="223.2" y="307.0" width="14.0" height="2.3" fill="#000" fill-opacity="0.88"/>
<path d="M227.5 303.5h0.8m-2.8 0.5h0.8m2.2 0h0.8m-0.8 0h0.8m-0.3 0h0.8m5.7 0h0.8m-12.8 0.5h0.8m-0.3 0h0.8m-0.8 0h0.8m1.7 0h0.8m0.7 0h0.8m5.2 0h0.8m-0.3 0h0.8m0.2 0h0.8m0.2 0h0.8m-0.3 0h0.8m-14.3 0.5h0.8m-0.3 0h0.8m0.2 0h0.8m-0.3 0h0.8m0.2 0h0.8m-0.8 0h0.8m-0.3 0h0.8m0.7 0h0.8m0.2 0h0.8m-0.3 0h0.8m0.2 0h0.8m-0.8 0h0.8m3.2 0h0.8m-12.8 0.5h0.8m-0.3 0h0.8m-0.3 0h0.8m-0.3 0h0.8m-0.3 0h0.8m0.2 0h0.8m-0.3 0h0.8m-0.8 0h0.8m0.2 0h0.8m1.2 0h0.8m-0.3 0h0.8m-0.8 0h0.8m0.2 0h0.8m-0.3 0h0.8m0.2 0h0.8m-0.8 0h0.8m0.2 0h0.8m-0.8 0h0.8m-0.3 0h0.8m-0.3 0h0.8m-0.8 0h0.8m-0.3 0h0.8m-0.3 0h0.8m-0.3 0h0.8m-0.8 0h0.8m-0.8 0h0.8m-0.3 0h0.8m-13.8 0.5h0.8m-0.8 0h0.8m-0.8 0h0.8m0.2 0h0.8m0.7 0h0.8m-0.8 0h0.8m-0.3 0h0.8m-0.8 0h0.8m-0.8 0h0.8m-0.3 0h0.8m-0.8 0h0.8m0.7 0h0.8m-0.8 0h0.8m-0.3 0h0.8m0.2 0h0.8m-0.8 0h0.8m-0.3 0h0.8m-0.3 0h0.8m-0.3 0h0.8m-0.3 0h0.8m-0.8 0h0.8m-0.8 0h0.8m-0.3 0h0.8m0.2 0h0.8m-0.3 0h0.8m-0.3 0h0.8m-0.3 0h0.8m-0.3 0h0.8m0.2 0h0.8m-0.3 0h0.8m-14.3 0.5h0.8m-0.3 0h0.8m-0.8 0h0.8m-0.8 0h0.8m-0.3 0h0.8m-0.3 0h0.8m-0.8 0h0.8m-0.3 0h0.8m-0.8 0h0.8m-0.3 0h0.8m-0.8 0h0.8m-0.3 0h0.8m-0.3 0h0.8m-0.8 0h0.8m-0.3 0h0.8m-0.3 0h0.8m-0.8 0h0.8m-0.3 0h0.8m-0.8 0h0.8m-0.3 0h0.8m-0.8 0h0.8m-0.8 0h0.8m-0.3 0h0.8m-0.3 0h0.8m-0.8 0h0.8m0.2 0h0.8m-0.3 0h0.8m0.2 0h0.8m-0.8 0h0.8m-0.3 0h0.8m-0.8 0h0.8m0.2 0h0.8m-0.8 0h0.8m0.7 0h0.8m-0.3 0h0.8m-0.8 0h0.8m-13.3 0.5h0.8m-0.3 0h0.8m-0.8 0h0.8m-0.8 0h0.8m-0.8 0h0.8m0.7 0h0.8m-0.3 0h0.8m-0.8 0h0.8m-0.8 0h0.8m-0.8 0h0.8m-0.3 0h0.8m-0.3 0h0.8m-0.3 0h0.8m0.2 0h0.8m-0.8 0h0.8m-0.8 0h0.8m-0.3 0h0.8m-0.3 0h0.8m-0.3 0h0.8m-0.8 0h0.8m-0.8 0h0.8m-0.3 0h0.8m-0.8 0h0.8m-0.8 0h0.8m-0.3 0h0.8m-0.8 0h0.8m-0.3 0h0.8m0.7 0h0.8m-0.3 0h0.8m0.2 0h0.8m0.2 0h0.8m-0.3 0h0.8m-0.3 0h0.8m-0.8 0h0.8m-0.8 0h0.8m-0.8 0h0.8m-0.8 0h0.8m-0.3 0h0.8" stroke="#000" stroke-width="0.8" stroke-opacity="0.8" fill="none"/>
<path d="M237.5 271h0.7m-8.2 4.5h0.7m-8.2 3h0.7m2.8 3h0.7m-0.2 7.5h0.7m3.3 0h0.7m-5.2 1h0.7m-1.2 2.5h0.7m5.8 2.5h0.7m-0.7 2.5h0.7m0.3 6.5h0.7m-9.2 0.5h0.7" stroke="#444" stroke-width="0.7" stroke-opacity="0.5" fill="none"/>
<line x1="264.10" y1="277.60" x2="264.10" y2="309.30" stroke="#bdbdbd" stroke-width="1.1"/>
<line x1="248.10" y1="309.30" x2="280.10" y2="309.30" stroke="#8a8a8a" stroke-width="0.8"/>
<rect x="258.1" y="308.1" width="12.0" height="1.2" fill="#000" fill-opacity="0.88"/>
<path d="M261.5 306h0.8m5.2 0.5h0.8m0.7 0h0.8m-11.3 0.5h0.8m0.2 0h0.8m0.2 0h0.8m-0.3 0h0.8m-0.3 0h0.8m-0.3 0h0.8m0.7 0h0.8m0.2 0h0.8m-0.3 0h0.8m0.2 0h0.8m-0.8 0h0.8m-0.3 0h0.8m-0.3 0h0.8m-0.3 0h0.8m-0.8 0h0.8m-0.3 0h0.8m-0.3 0h0.8m-0.8 0h0.8m-0.8 0h0.8m0.2 0h0.8m-0.8 0h0.8m-11.3 0.5h0.8m-0.8 0h0.8m-0.3 0h0.8m-0.3 0h0.8m-0.3 0h0.8m-0.3 0h0.8m-0.8 0h0.8m0.7 0h0.8m-0.8 0h0.8m-0.3 0h0.8m-0.3 0h0.8m-0.8 0h0.8m-0.3 0h0.8m0.2 0h0.8m-0.8 0h0.8m-0.8 0h0.8m-0.8 0h0.8m-0.8 0h0.8m-0.3 0h0.8m-0.3 0h0.8m0.7 0h0.8m-0.8 0h0.8m-0.3 0h0.8m-0.3 0h0.8m-0.8 0h0.8m-0.8 0h0.8m-0.3 0h0.8m-0.8 0h0.8m-0.8 0h0.8m-0.3 0h0.8m-0.8 0h0.8m-12.3 0.5h0.8m-0.3 0h0.8m-0.3 0h0.8m-0.8 0h0.8m-0.3 0h0.8m-0.8 0h0.8m-0.8 0h0.8m-0.8 0h0.8m-0.3 0h0.8m-0.8 0h0.8m-0.8 0h0.8m-0.8 0h0.8m-0.3 0h0.8m-0.8 0h0.8m-0.3 0h0.8m-0.8 0h0.8m-0.8 0h0.8m-0.8 0h0.8m-0.8 0h0.8m-0.8 0h0.8m-0.3 0h0.8m-0.3 0h0.8m-0.3 0h0.8m-0.8 0h0.8m-0.3 0h0.8m-0.3 0h0.8m-0.8 0h0.8m0.2 0h0.8m-0.8 0h0.8m-0.8 0h0.8m0.2 0h0.8m-0.3 0h0.8m-0.3 0h0.8m-0.8 0h0.8m-0.8 0h0.8m-0.3 0h0.8m-0.8 0h0.8m-0.8 0h0.8m0.2 0h0.8m-0.8 0h0.8m0.2 0h0.8m-0.8 0h0.8m-0.3 0h0.8m-0.8 0h0.8m-0.3 0h0.8" stroke="#000" stroke-width="0.8" stroke-opacity="0.8" fill="none"/>
<path d="M263.5 282.5h0.7m7.8 4.5h0.7m-13.2 1h0.7m5.8 3.5h0.7m-5.2 3.5h0.7m8.8 2.5h0.7m-2.7 0.5h0.7m-3.7 5h0.7" stroke="#444" stroke-width="0.7" stroke-opacity="0.5" fill="none"/>
<line x1="297.80" y1="274.20" x2="297.80" y2="309.30" stroke="#bdbdbd" stroke-width="1.1"/>
<line x1="281.80" y1="309.30" x2="313.80" y2="309.30" stroke="#8a8a8a" stroke-width="0.8"/>
<rect x="291.2" y="307.0" width="13.2" height="2.3" fill="#000" fill-opacity="0.88"/>
<path d="M292 303h0.8m1.7 0.5h0.8m-3.3 0.5h0.8m2.7 0h0.8m-0.3 0h0.8m3.2 0h0.8m1.7 0h0.8m-0.8 0h0.8m-9.8 0.5h0.8m1.2 0h0.8m-0.3 0h0.8m-0.3 0h0.8m-0.8 0h0.8m-5.8 0.5h0.8m-0.8 0h0.8m0.2 0h0.8m-0.3 0h0.8m-0.8 0h0.8m-0.3 0h0.8m-0.8 0h0.8m0.2 0h0.8m1.2 0h0.8m1.2 0h0.8m-0.8 0h0.8m0.2 0h0.8m-0.8 0h0.8m-0.8 0h0.8m-0.3 0h0.8m0.2 0h0.8m0.2 0h0.8m-0.8 0h0.8m0.2 0h0.8m-0.3 0h0.8m0.2 0h0.8m-13.8 0.5h0.8m0.2 0h0.8m-0.8 0h0.8m-0.3 0h0.8m-0.3 0h0.8m-0.8 0h0.8m-0.8 0h0.8m-0.8 0h0.8m0.2 0h0.8m-0.3 0h0.8m-0.3 0h0.8m-0.3 0h0.8m-0.3 0h0.8m-0.3 0h0.8m-0.8 0h0.8m-0.3 0h0.8m2.2 0h0.8m0.2 0h0.8m-0.8 0h0.8m-0.3 0h0.8m1.7 0h0.8m-13.8 0.5h0.8m-0.8 0h0.8m0.2 0h0.8m-0.3 0h0.8m-0.3 0h0.8m-0.3 0h0.8m-0.8 0h0.8m-0.3 0h0.8m-0.8 0h0.8m0.2 0h0.8m-0.3 0h0.8m-0.8 0h0.8m-0.8 0h0.8m-0.8 0h0.8m0.2 0h0.8m-0.8 0h0.8m0.2 0h0.8m-0.3 0h0.8m-0.8 0h0.8m-0.8 0h0.8m-0.8 0h0.8m-0.3 0h0.8m-0.3 0h0.8m-0.8 0h0.8m0.2 0h0.8m-0.8 0h0.8m-0.8 0h0.8m-0.3 0h0.8m-0.8 0h0.8m0.2 0h0.8m-0.3 0h0.8m-0.3 0h0.8m-0.8 0h0.8m-0.3 0h0.8m-0.3 0h0.8m-13.3 0.5h0.8m-0.8 0h0.8m-0.3 0h0.8m-0.8 0h0.8m-0.8 0h0.8m-0.3 0h0.8m-0.8 0h0.8m-0.3 0h0.8m-0.8 0h0.8m-0.8 0h0.8m-0.8 0h0.8m-0.3 0h0.8m-0.8 0h0.8m-0.3 0h0.8m-0.8 0h0.8m-0.3 0h0.8m-0.3 0h0.8m-0.3 0h0.8m0.7 0h0.8m-0.3 0h0.8m-0.3 0h0.8m-0.8 0h0.8m-0.3 0h0.8m-0.3 0h0.8m-0.3 0h0.8m-0.3 0h0.8m-0.8 0h0.8m-0.8 0h0.8m-0.3 0h0.8m-0.8 0h0.8m-0.8 0h0.8m0.2 0h0.8m-0.8 0h0.8m-0.3 0h0.8m0.7 0h0.8m-0.8 0h0.8m-0.8 0h0.8m-12.8 0.5h0.8m-0.8 0h0.8m-0.3 0h0.8m-0.3 0h0.8m-0.8 0h0.8m-0.3 0h0.8m-0.8 0h0.8m-0.8 0h0.8m-0.3 0h0.8m-0.8 0h0.8m-0.3 0h0.8m-0.3 0h0.8m-0.3 0h0.8m-0.8 0h0.8m-0.3 0h0.8m-0.8 0h0.8m-0.8 0h0.8m-0.3 0h0.8m-0.3 0h0.8m-0.3 0h0.8m0.2 0h0.8m0.2 0h0.8m-0.8 0h0.8m-0.8 0h0.8m-0.8 0h0.8m-0.3 0h0.8m-0.3 0h0.8m-0.8 0h0.8m-0.8 0h0.8m0.2 0h0.8m-0.8 0h0.8m-0.8 0h0.8m-0.8 0h0.8m-0.8 0h0.8m-0.3 0h0.8m-0.8 0h0.8m-0.8 0h0.8m-0.3 0h0.8m-0.8 0h0.8m-0.8 0h0.8m-0.8 0h0.8m-0.8 0h0.8m-0.3 0h0.8m-0.8 0h0.8m-0.8 0h0.8m-0.3 0h0.8m-0.8 0h0.8m-0.8 0h0.8m-0.3 0h0.8m-0.8 0h0.8m-0.8 0h0.8m-0.3 0h0.8m-0.3 0h0.8" stroke="#000" stroke-width="0.8" stroke-opacity="0.8" fill="none"/>
<path d="M302.5 293.5h0.7m1.3 0h0.7m-8.2 1h0.7m3.3 0h0.7m-0.2 0.5h0.7m-2.7 2h0.7m-5.7 1.5h0.7m6.8 0h0.7m2.3 0h0.7m-11.2 0.5h0.7m-5.2 1h0.7m-0.2 2h0.7m2.3 1h0.7m8.3 1h0.7m0.3 0.5h0.7m-0.2 0h0.7" stroke="#444" stroke-width="0.7" stroke-opacity="0.5" fill="none"/>
<line x1="365.30" y1="246.90" x2="365.30" y2="309.30" stroke="#bdbdbd" stroke-width="1.1"/>
<line x1="349.30" y1="309.30" x2="381.30" y2="309.30" stroke="#8a8a8a" stroke-width="0.8"/>
<rect x="358.1" y="306.6" width="14.4" height="2.7" fill="#000" fill-opacity="0.88"/>
<path d="M365 301h0.8m-6.8 1h0.8m12.2 0h0.8m-13.3 0.5h0.8m3.2 0h0.8m0.7 0h0.8m2.2 0h0.8m-9.3 0.5h0.8m1.7 0h0.8m-0.8 0h0.8m0.2 0h0.8m-0.8 0h0.8m0.2 0h0.8m3.2 0h0.8m-0.3 0h0.8m0.2 0h0.8m-11.3 0.5h0.8m4.7 0h0.8m-0.3 0h0.8m-0.3 0h0.8m2.2 0h0.8m-0.8 0h0.8m0.7 0h0.8m-0.8 0h0.8m0.2 0h0.8m-13.3 0.5h0.8m-0.3 0h0.8m0.2 0h0.8m-0.3 0h0.8m-0.3 0h0.8m-0.8 0h0.8m-0.3 0h0.8m-0.3 0h0.8m-0.8 0h0.8m-0.8 0h0.8m1.2 0h0.8m-0.8 0h0.8m-0.8 0h0.8m-0.3 0h0.8m-0.3 0h0.8m2.2 0h0.8m0.7 0h0.8m-0.8 0h0.8m-0.3 0h0.8m0.7 0h0.8m-13.8 0.5h0.8m-0.3 0h0.8m0.2 0h0.8m0.7 0h0.8m-0.3 0h0.8m0.2 0h0.8m0.7 0h0.8m0.2 0h0.8m-0.3 0h0.8m-0.8 0h0.8m0.2 0h0.8m-0.3 0h0.8m0.2 0h0.8m0.2 0h0.8m-0.3 0h0.8m-0.3 0h0.8m0.2 0h0.8m-13.8 0.5h0.8m-0.3 0h0.8m-0.8 0h0.8m0.7 0h0.8m-0.8 0h0.8m-0.3 0h0.8m0.7 0h0.8m-0.3 0h0.8m0.2 0h0.8m-0.8 0h0.8m0.2 0h0.8m0.2 0h0.8m-0.3 0h0.8m-0.8 0h0.8m-0.8 0h0.8m-0.3 0h0.8m-0.3 0h0.8m-0.8 0h0.8m0.2 0h0.8m-0.8 0h0.8m-0.3 0h0.8m-0.8 0h0.8m-0.3 0h0.8m-0.8 0h0.8m-0.3 0h0.8m-0.3 0h0.8m0.7 0h0.8m-13.3 0.5h0.8m-0.3 0h0.8m1.2 0h0.8m-0.8 0h0.8m-0.3 0h0.8m-0.8 0h0.8m-0.3 0h0.8m0.2 0h0.8m-0.3 0h0.8m-0.3 0h0.8m-0.8 0h0.8m0.2 0h0.8m-0.3 0h0.8m-0.3 0h0.8m-0.8 0h0.8m-0.3 0h0.8m0.7 0h0.8m-0.8 0h0.8m-0.8 0h0.8m-0.3 0h0.8m-0.3 0h0.8m-0.8 0h0.8m-0.8 0h0.8m-0.3 0h0.8m-0.3 0h0.8m-0.8 0h0.8m-0.8 0h0.8m0.7 0h0.8m-14.8 0.5h0.8m-0.8 0h0.8m-0.3 0h0.8m-0.8 0h0.8m-0.3 0h0.8m-0.8 0h0.8m0.2 0h0.8m0.7 0h0.8m-0.8 0h0.8m0.2 0h0.8m0.2 0h0.8m-0.8 0h0.8m-0.3 0h0.8m-0.8 0h0.8m0.2 0h0.8m-0.8 0h0.8m-0.8 0h0.8m-0.3 0h0.8m-0.8 0h0.8m-0.8 0h0.8m-0.3 0h0.8m-0.3 0h0.8m-0.8 0h0.8m0.2 0h0.8m-0.3 0h0.8m-0.8 0h0.8m-0.8 0h0.8m-0.3 0h0.8m-0.8 0h0.8m-0.3 0h0.8m-0.3 0h0.8m0.2 0h0.8m0.7 0h0.8m-15.3 0.5h0.8m0.2 0h0.8m-0.8 0h0.8m0.7 0h0.8m-0.8 0h0.8m-0.8 0h0.8m-0.3 0h0.8m-0.8 0h0.8m-0.3 0h0.8m-0.3 0h0.8m-0.3 0h0.8m-0.8 0h0.8m-0.3 0h0.8m-0.8 0h0.8m-0.8 0h0.8m-0.8 0h0.8m-0.3 0h0.8m-0.8 0h0.8m-0.8 0h0.8m-0.8 0h0.8m-0.3 0h0.8m-0.3 0h0.8m-0.8 0h0.8m-0.3 0h0.8m-0.8 0h0.8m-0.8 0h0.8m-0.8 0h0.8m-0.3 0h0.8m0.2 0h0.8m-0.3 0h0.8m-0.3 0h0.8m-0.3 0h0.8m-0.8 0h0.8m-0.8 0h0.8m-0.3 0h0.8m-0.8 0h0.8m-0.3 0h0.8m-0.8 0h0.8m-0.8 0h0.8m-0.3 0h0.8m-0.3 0h0.8m-0.3 0h0.8m-0.8 0h0.8m-0.8 0h0.8m-0.8 0h0.8m-0.3 0h0.8m-0.8 0h0.8m-0.8 0h0.8m-0.3 0h0.8m-9.3 0.5h0.8" stroke="#000" stroke-width="0.8" stroke-opacity="0.8" fill="none"/>
<path d="M367 283.5h0.7m-0.7 0.5h0.7m-10.2 1h0.7m6.8 0h0.7m-1.7 1h0.7m6.3 1h0.7m-0.7 2.5h0.7m-10.7 1.5h0.7m5.8 1.5h0.7m-8.2 0.5h0.7m-1.7 0.5h0.7m6.3 0h0.7m-5.2 1h0.7m4.8 0h0.7m-2.2 1.5h0.7m0.3 2.5h0.7m-5.2 0.5h0.7m5.3 0h0.7m-1.7 1.5h0.7m-10.7 2h0.7m-0.7 0.5h0.7m15.8 0.5h0.7" stroke="#444" stroke-width="0.7" stroke-opacity="0.5" fill="none"/>
<line x1="439.60" y1="289.10" x2="439.60" y2="309.30" stroke="#bdbdbd" stroke-width="1.1"/>
<line x1="423.60" y1="309.30" x2="455.60" y2="309.30" stroke="#8a8a8a" stroke-width="0.8"/>
<rect x="433.3" y="306.7" width="12.6" height="2.6" fill="#000" fill-opacity="0.88"/>
<path d="M435 302.5h0.8m0.2 0h0.8m2.2 0h0.8m3.7 0h0.8m-10.8 0.5h0.8m2.2 0h0.8m4.2 0h0.8m-8.3 0.5h0.8m-0.3 0h0.8m-0.8 0h0.8m1.7 0h0.8m1.2 0h0.8m-0.8 0h0.8m2.2 0h0.8m-0.3 0h0.8m-0.3 0h0.8m-6.8 0.5h0.8m-0.3 0h0.8m3.2 0h0.8m1.7 0h0.8m-0.8 0h0.8m-0.3 0h0.8m-0.3 0h0.8m-0.3 0h0.8m-11.8 0.5h0.8m1.2 0h0.8m-0.3 0h0.8m-0.8 0h0.8m-0.3 0h0.8m0.2 0h0.8m0.2 0h0.8m-0.8 0h0.8m0.2 0h0.8m1.2 0h0.8m0.2 0h0.8m0.2 0h0.8m-11.8 0.5h0.8m0.2 0h0.8m-0.8 0h0.8m-0.8 0h0.8m-0.3 0h0.8m-0.8 0h0.8m-0.3 0h0.8m-0.3 0h0.8m-0.3 0h0.8m-0.3 0h0.8m0.2 0h0.8m-0.3 0h0.8m-0.3 0h0.8m0.2 0h0.8m-0.8 0h0.8m-0.8 0h0.8m0.2 0h0.8m-0.3 0h0.8m-0.3 0h0.8m-0.3 0h0.8m-0.8 0h0.8m-0.3 0h0.8m0.2 0h0.8m0.2 0h0.8m-0.8 0h0.8m-10.8 0.5h0.8m-0.8 0h0.8m-0.3 0h0.8m0.2 0h0.8m-0.8 0h0.8m-0.3 0h0.8m-0.8 0h0.8m-0.3 0h0.8m0.2 0h0.8m-0.3 0h0.8m-0.3 0h0.8m-0.8 0h0.8m-0.3 0h0.8m0.2 0h0.8m0.2 0h0.8m0.2 0h0.8m-0.8 0h0.8m-0.8 0h0.8m-0.3 0h0.8m-0.8 0h0.8m0.2 0h0.8m-0.3 0h0.8m-0.8 0h0.8m-0.3 0h0.8m-11.8 0.5h0.8m-0.8 0h0.8m-0.3 0h0.8m-0.3 0h0.8m-0.3 0h0.8m-0.3 0h0.8m0.7 0h0.8m-0.8 0h0.8m-0.8 0h0.8m-0.8 0h0.8m0.2 0h0.8m-0.8 0h0.8m-0.8 0h0.8m-0.3 0h0.8m-0.8 0h0.8m-0.8 0h0.8m-0.8 0h0.8m0.2 0h0.8m2.2 0h0.8m-0.8 0h0.8m-0.8 0h0.8m-0.8 0h0.8m-0.3 0h0.8m-0.3 0h0.8m-0.3 0h0.8m-0.3 0h0.8m-0.8 0h0.8m-0.3 0h0.8m-13.3 0.5h0.8m-0.3 0h0.8m-0.8 0h0.8m-0.3 0h0.8m-0.8 0h0.8m0.2 0h0.8m-0.3 0h0.8m-0.8 0h0.8m0.2 0h0.8m-0.8 0h0.8m-0.3 0h0.8m-0.8 0h0.8m-0.3 0h0.8m-0.3 0h0.8m-0.3 0h0.8m-0.3 0h0.8m-0.8 0h0.8m-0.3 0h0.8m-0.8 0h0.8m-0.3 0h0.8m-0.3 0h0.8m-0.8 0h0.8m-0.3 0h0.8m-0.3 0h0.8m-0.8 0h0.8m-0.8 0h0.8m-0.3 0h0.8m-0.3 0h0.8m-0.3 0h0.8m-0.3 0h0.8m-0.3 0h0.8m-0.8 0h0.8m-0.8 0h0.8m-0.3 0h0.8m-0.3 0h0.8m-0.8 0h0.8m-0.8 0h0.8m-0.3 0h0.8m-12.3 0.5h0.8m-0.3 0h0.8m0.7 0h0.8m1.7 0h0.8m-0.3 0h0.8m-0.3 0h0.8m0.2 0h0.8m0.7 0h0.8m0.7 0h0.8" stroke="#000" stroke-width="0.8" stroke-opacity="0.8" fill="none"/>
<path d="M437 287.5h0.7m-1.7 1.5h0.7m2.3 1.5h0.7m5.3 0h0.7m-5.7 3h0.7m-5.7 0.5h0.7m7.3 2.5h0.7m-9.2 3h0.7m12.3 0h0.7m-2.2 2h0.7m-11.7 0.5h0.7m-1.2 0.5h0.7" stroke="#444" stroke-width="0.7" stroke-opacity="0.5" fill="none"/>
<line x1="196.40" y1="217.40" x2="196.40" y2="309.30" stroke="#bdbdbd" stroke-width="1.1"/>
<polygon points="196.4,243.1 196.5,243.6 196.7,244.2 196.9,245.0 197.2,245.8 197.4,246.7 197.7,247.6 198.0,248.5 198.2,249.3 198.4,250.1 198.6,250.8 198.7,251.6 198.8,252.4 199.0,253.1 199.3,253.9 199.6,254.6 200.1,255.4 200.7,256.2 201.5,257.0 202.4,257.8 203.3,258.6 204.3,259.4 205.2,260.1 206.0,260.9 206.8,261.6 207.5,262.3 208.1,262.9 208.7,263.5 209.2,264.1 209.7,264.7 210.2,265.3 210.7,265.9 211.1,266.5 211.5,267.2 211.9,267.8 212.3,268.5 212.7,269.2 212.9,269.9 213.2,270.6 213.3,271.3 213.3,272.0 213.2,272.7 213.0,273.4 212.7,274.1 212.4,274.8 211.9,275.5 211.5,276.2 210.9,276.8 210.4,277.5 209.8,278.1 209.1,278.7 208.3,279.3 207.5,279.9 206.7,280.5 205.9,281.1 205.1,281.7 204.4,282.4 203.7,283.1 203.0,283.9 202.4,284.6 201.7,285.4 201.1,286.2 200.5,287.0 199.9,287.8 199.4,288.6 198.9,289.4 198.4,290.3 198.0,291.2 197.6,292.0 197.2,292.9 196.9,293.6 196.6,294.2 196.4,294.7 196.4,294.7 196.2,294.2 195.9,293.6 195.6,292.9 195.2,292.0 194.8,291.2 194.4,290.3 193.9,289.4 193.4,288.6 192.9,287.8 192.3,287.0 191.7,286.2 191.1,285.4 190.4,284.6 189.8,283.9 189.1,283.1 188.4,282.4 187.7,281.7 186.9,281.1 186.1,280.5 185.3,279.9 184.5,279.3 183.7,278.7 183.0,278.1 182.4,277.5 181.9,276.8 181.3,276.2 180.9,275.5 180.4,274.8 180.1,274.1 179.8,273.4 179.6,272.7 179.5,272.0 179.5,271.3 179.6,270.6 179.9,269.9 180.2,269.2 180.5,268.5 180.9,267.8 181.3,267.2 181.7,266.5 182.1,265.9 182.6,265.3 183.1,264.7 183.6,264.1 184.1,263.5 184.7,262.9 185.3,262.3 186.0,261.6 186.8,260.9 187.6,260.1 188.5,259.4 189.5,258.6 190.4,257.8 191.3,257.0 192.1,256.2 192.7,255.4 193.2,254.6 193.5,253.9 193.8,253.1 194.0,252.4 194.1,251.6 194.2,250.8 194.4,250.1 194.6,249.3 194.8,248.5 195.1,247.6 195.4,246.7 195.6,245.8 195.9,245.0 196.1,244.2 196.3,243.6 196.4,243.1" fill="#42ad48" stroke="#2b2b2b" stroke-width="0.6"/>
<line x1="179.50" y1="272.00" x2="213.30" y2="272.00" stroke="#2b2b2b" stroke-width="0.6"/>
<defs><linearGradient id="jg1964_255" x1="0" y1="0" x2="0" y2="1"><stop offset="0.000" stop-color="#000" stop-opacity="0.00"/><stop offset="0.043" stop-color="#000" stop-opacity="0.04"/><stop offset="0.087" stop-color="#000" stop-opacity="0.09"/><stop offset="0.130" stop-color="#000" stop-opacity="0.13"/><stop offset="0.174" stop-color="#000" stop-opacity="0.16"/><stop offset="0.217" stop-color="#000" stop-opacity="0.20"/><stop offset="0.261" stop-color="#000" stop-opacity="0.31"/><stop offset="0.304" stop-color="#000" stop-opacity="0.47"/><stop offset="0.348" stop-color="#000" stop-opacity="0.62"/><stop offset="0.391" stop-color="#000" stop-opacity="0.62"/><stop offset="0.435" stop-color="#000" stop-opacity="0.62"/><stop offset="0.478" stop-color="#000" stop-opacity="0.62"/><stop offset="0.522" stop-color="#000" stop-opacity="0.62"/><stop offset="0.565" stop-color="#000" stop-opacity="0.62"/><stop offset="0.609" stop-color="#000" stop-opacity="0.62"/><stop offset="0.652" stop-color="#000" stop-opacity="0.62"/><stop offset="0.696" stop-color="#000" stop-opacity="0.62"/><stop offset="0.739" stop-color="#000" stop-opacity="0.62"/><stop offset="0.783" stop-color="#000" stop-opacity="0.46"/><stop offset="0.826" stop-color="#000" stop-opacity="0.34"/><stop offset="0.870" stop-color="#000" stop-opacity="0.23"/><stop offset="0.913" stop-color="#000" stop-opacity="0.14"/><stop offset="0.957" stop-color="#000" stop-opacity="0.07"/><stop offset="1.000" stop-color="#000" stop-opacity="0.00"/></linearGradient></defs>
<rect x="189.4" y="243.1" width="14.0" height="51.6" fill="url(#jg1964_255)"/>
<path d="M194.5 243.5h0.9m0.1 4h0.9m6.1 0h0.9m-4.9 0.5h0.9m-5.9 0.5h0.9m0.1 0h0.9m1.6 0h0.9m2.6 0h0.9m-8.9 0.5h0.9m3.1 0h0.9m0.6 0h0.9m-1.9 0.5h0.9m-2.4 0.5h0.9m1.1 0h0.9m-6.9 0.5h0.9m2.6 0h0.9m-3.9 1.5h0.9m6.1 0h0.9m0.1 0h0.9m-10.9 0.5h0.9m6.1 0h0.9m1.1 0h0.9m2.1 0h0.9m-10.9 0.5h0.9m-0.4 1h0.9m8.1 0.5h0.9m-9.4 0.5h0.9m-2.9 0.5h0.9m-1.4 1h0.9m5.6 0h0.9m-0.9 0h0.9m-6.9 0.5h0.9m0.1 0h0.9m0.6 0h0.9m-4.4 1h0.9m6.1 0h0.9m-0.9 0h0.9m-6.4 0.5h0.9m2.1 0.5h0.9m1.6 0h0.9m3.6 0h0.9m-5.9 0.5h0.9m2.1 0h0.9m-6.4 0.5h0.9m5.6 0h0.9m-10.9 0.5h0.9m3.1 0h0.9m-2.9 0.5h0.9m2.6 0h0.9m-0.9 0h0.9m-6.9 0.5h0.9m5.6 0h0.9m-7.9 0.5h0.9m0.1 0h0.9m8.6 0h0.9m1.1 0h0.9m-11.9 0.5h0.9m-0.9 0h0.9m0.6 0h0.9m0.6 0h0.9m6.1 0h0.9m0.1 0h0.9m-11.9 0.5h0.9m-0.4 0h0.9m2.6 0h0.9m0.6 0h0.9m1.1 0h0.9m-0.4 0h0.9m2.1 0h0.9m-9.9 0.5h0.9m-0.4 0h0.9m2.6 0h0.9m-0.9 0h0.9m0.6 0h0.9m1.1 0h0.9m-10.9 0.5h0.9m-0.9 0h0.9m3.6 0h0.9m1.6 0h0.9m2.1 0h0.9m0.6 0h0.9m0.1 0h0.9m-10.4 0.5h0.9m3.6 0h0.9m1.1 0h0.9m0.1 0h0.9m1.6 0h0.9m-14.9 0.5h0.9m-0.4 0h0.9m-0.9 0h0.9m0.6 0h0.9m-0.9 0h0.9m0.6 0h0.9m-0.9 0h0.9m-0.4 0h0.9m-0.4 0h0.9m1.6 0h0.9m0.6 0h0.9m-0.9 0h0.9m-0.4 0h0.9m-0.9 0h0.9m0.1 0h0.9m1.6 0h0.9m-12.9 0.5h0.9m0.6 0h0.9m-0.9 0h0.9m5.1 0h0.9m-0.4 0h0.9m-0.9 0h0.9m2.6 0h0.9m0.6 0h0.9m-12.9 0.5h0.9m2.1 0h0.9m0.1 0h0.9m-0.9 0h0.9m1.6 0h0.9m0.6 0h0.9m-0.9 0h0.9m-9.9 0.5h0.9m0.1 0h0.9m0.6 0h0.9m1.1 0h0.9m2.1 0h0.9m0.6 0h0.9m-0.4 0h0.9m-7.9 0.5h0.9m-0.9 0h0.9m-0.4 0h0.9m-0.4 0h0.9m-0.4 0h0.9m-0.4 0h0.9m1.1 0h0.9m2.1 0h0.9m-0.4 0h0.9m2.1 0h0.9m-10.9 0.5h0.9m0.6 0h0.9m4.1 0h0.9m0.1 0h0.9m-0.9 0h0.9m1.6 0h0.9m-0.4 0h0.9m-11.9 0.5h0.9m2.6 0h0.9m0.1 0h0.9m2.6 0h0.9m-0.9 0h0.9m1.1 0h0.9m-12.4 0.5h0.9m1.1 0h0.9m3.6 0h0.9m0.1 0h0.9m0.1 0h0.9m2.1 0h0.9m-11.9 0.5h0.9m0.1 0h0.9m-0.9 0h0.9m-0.4 0h0.9m-0.4 0h0.9m-0.4 0h0.9m1.1 0h0.9m0.6 0h0.9m1.1 0h0.9m-9.9 0.5h0.9m5.6 0h0.9m0.6 0h0.9m-8.9 0.5h0.9m1.6 0h0.9m-0.9 0h0.9m2.1 0h0.9m0.1 0h0.9m3.6 0h0.9m-0.4 0h0.9m-10.4 0.5h0.9m0.1 0h0.9m4.6 0h0.9m2.6 0h0.9m0.1 0h0.9m-11.4 0.5h0.9m2.1 0h0.9m-0.4 0h0.9m1.1 0h0.9m2.6 0h0.9m0.1 0h0.9m-12.4 0.5h0.9m3.6 0h0.9m1.1 0h0.9m-0.9 0h0.9m1.1 0h0.9m1.1 0h0.9m-10.4 0.5h0.9m0.1 0h0.9m-0.4 0h0.9m0.6 0h0.9m0.1 0h0.9m-0.9 0h0.9m-0.4 0h0.9m3.1 0h0.9m-12.4 0.5h0.9m0.6 0h0.9m1.1 0h0.9m1.6 0h0.9m6.1 0h0.9m0.1 0h0.9m-14.9 0.5h0.9m-0.4 0h0.9m2.1 0h0.9m-0.9 0h0.9m1.1 0h0.9m2.1 0h0.9m0.6 0h0.9m1.1 0h0.9m-12.4 0.5h0.9m5.1 0h0.9m3.6 0h0.9m0.6 0h0.9m-11.4 0.5h0.9m1.1 0h0.9m-0.4 0h0.9m2.1 0h0.9m0.1 0h0.9m0.6 0h0.9m2.6 0h0.9m-11.4 0.5h0.9m-0.4 0h0.9m-0.4 0h0.9m1.6 0h0.9m0.6 0h0.9m2.6 0h0.9m0.6 0h0.9m-0.4 0h0.9m-7.9 0.5h0.9m-0.4 0h0.9m1.1 0h0.9m-0.9 0h0.9m-0.4 0h0.9m1.1 0h0.9m1.6 0h0.9m-14.4 0.5h0.9m0.1 0h0.9m-0.9 0h0.9m0.6 0h0.9m1.1 0h0.9m0.1 0h0.9m0.1 0h0.9m0.6 0h0.9m1.1 0h0.9m-10.9 0.5h0.9m5.1 0h0.9m1.6 0h0.9m0.1 0h0.9m-0.9 0h0.9m1.6 0h0.9m-0.4 0h0.9m-0.4 0h0.9m-14.4 0.5h0.9m0.1 0h0.9m3.1 0h0.9m-0.4 0h0.9m6.6 0h0.9m-13.9 0.5h0.9m1.6 0h0.9m1.1 0h0.9m-0.4 0h0.9m-0.4 0h0.9m3.6 0h0.9m1.1 0h0.9m0.1 0h0.9m-12.4 0.5h0.9m0.6 0h0.9m1.1 0h0.9m-0.4 0h0.9m1.6 0h0.9m3.1 0h0.9m-0.9 0h0.9m0.6 0h0.9m-12.4 0.5h0.9m0.6 0h0.9m0.1 0h0.9m-0.4 0h0.9m-0.4 0h0.9m-0.4 0h0.9m0.6 0h0.9m-0.4 0h0.9m0.6 0h0.9m-0.4 0h0.9m2.6 0h0.9m-9.4 0.5h0.9m-0.9 0h0.9m1.1 0h0.9m-0.4 0h0.9m-0.4 0h0.9m1.6 0h0.9m-6.9 0.5h0.9m1.1 0h0.9m6.1 0h0.9m-12.9 0.5h0.9m4.6 0h0.9m-0.9 0h0.9m4.1 0h0.9m0.1 0.5h0.9m-10.9 0.5h0.9m1.6 0h0.9m0.1 0h0.9m-0.4 0h0.9m-0.9 0h0.9m-0.9 0h0.9m5.1 0h0.9m-7.4 0.5h0.9m4.1 0h0.9m1.1 0h0.9m-0.9 0h0.9m-12.9 0.5h0.9m6.6 0h0.9m-7.9 0.5h0.9m1.6 0h0.9m5.1 0h0.9m0.1 0h0.9m-11.9 0.5h0.9m1.1 0h0.9m3.6 0h0.9m1.1 0h0.9m0.1 0h0.9m0.6 0h0.9m-6.4 0.5h0.9m-4.4 0.5h0.9m-0.9 0h0.9m-0.4 0h0.9m1.6 0h0.9m4.6 0h0.9m-0.9 0h0.9m-3.9 0.5h0.9m4.6 0h0.9m-12.9 0.5h0.9m1.6 0h0.9m1.1 0h0.9m0.1 0h0.9m3.6 0.5h0.9m-10.9 0.5h0.9m9.1 0h0.9m-12.4 1.5h0.9m1.1 0h0.9m6.1 0h0.9m0.1 1h0.9m-0.4 0h0.9m-1.4 0.5h0.9m-6.4 1.5h0.9m-4.4 0.5h0.9m11.6 2h0.9m-3.4 0.5h0.9" stroke="#000" stroke-width="0.9" stroke-opacity="0.75" fill="none"/>
<path d="M191 228.5h0.7m7.8 0h0.7m-7.7 0.5h0.7m10.8 0.5h0.7m0.3 0.5h0.7m-14.2 1.5h0.7m12.3 0h0.7m-0.2 0.5h0.7m-0.7 0h0.7m-9.7 1.5h0.7m3.8 1.5h0.7m-0.2 1h0.7m-6.7 2h0.7m10.3 0.5h0.7m-8.7 2h0.7m4.3 0h0.7m-3.2 2h0.7m-3.2 0.5h0.7m1.8 1h0.7m-7.2 1h0.7m3.8 0h0.7m-12.2 0.5h0.7m18.3 0h0.7m-7.7 1h0.7m-4.7 1h0.7m7.3 0.5h0.7m-8.2 1h0.7m-6.7 0.5h0.7m14.3 0h0.7m0.3 0h0.7m-20.7 0.5h0.7m10.8 0.5h0.7m1.3 1.5h0.7m-2.7 0.5h0.7m-2.7 0.5h0.7m-8.2 0.5h0.7m10.8 0h0.7m-13.2 0.5h0.7m-0.2 0h0.7m15.8 0h0.7m-0.2 0.5h0.7m2.3 0h0.7m-10.7 1h0.7m0.8 0h0.7m-13.7 0.5h0.7m14.8 0h0.7m-3.2 1h0.7m0.8 2h0.7m-9.7 1.5h0.7m-3.2 1h0.7m3.3 0.5h0.7m4.8 0.5h0.7m2.8 0h0.7m3.8 0.5h0.7m-5.7 0.5h0.7m-11.7 1h0.7m12.8 1.5h0.7m-1.7 1h0.7m-2.7 0.5h0.7m-5.7 0.5h0.7m2.8 1.5h0.7m-1.2 2.5h0.7m2.3 0h0.7m3.3 0.5h0.7m-20.2 0.5h0.7m17.3 0.5h0.7m-16.2 2h0.7m3.3 0h0.7m1.3 1h0.7m-2.7 2h0.7m6.3 0.5h0.7m1.3 0h0.7m1.3 0h0.7m-0.7 0h0.7m-10.7 1h0.7m9.3 0h0.7m-18.7 0.5h0.7m10.3 0h0.7m4.8 0.5h0.7m-7.2 0.5h0.7m1.3 0h0.7m-9.7 2h0.7m0.3 1h0.7m6.3 0h0.7m-9.7 0.5h0.7m7.8 0h0.7m5.3 0h0.7m3.3 1h0.7m-9.7 0.5h0.7m-5.2 0.5h0.7m9.3 0h0.7m-8.2 0.5h0.7m-0.7 0.5h0.7m-8.2 0.5h0.7m15.8 0h0.7m-15.2 0.5h0.7m1.3 3h0.7m-5.7 0.5h0.7m10.8 0h0.7m-6.2 2h0.7m12.8 0h0.7m-5.2 1h0.7m-4.7 0.5h0.7m-3.2 1.5h0.7m11.8 0h0.7m-17.2 1.5h0.7m15.3 0h0.7m-3.7 0.5h0.7m-16.2 1h0.7m16.8 0.5h0.7" stroke="#222" stroke-width="0.7" stroke-opacity="0.55" fill="none"/>
<line x1="331.50" y1="234.20" x2="331.50" y2="309.30" stroke="#bdbdbd" stroke-width="1.1"/>
<polygon points="331.5,241.2 331.6,241.4 331.8,241.7 331.9,242.1 332.1,242.5 332.4,243.0 332.6,243.4 332.9,243.9 333.2,244.3 333.6,244.7 334.1,245.1 334.6,245.6 335.1,246.0 335.6,246.5 336.1,246.9 336.7,247.4 337.2,247.8 337.7,248.2 338.3,248.7 338.8,249.1 339.3,249.5 339.9,249.9 340.4,250.4 341.0,250.8 341.5,251.3 342.0,251.8 342.5,252.3 343.1,252.9 343.6,253.4 344.1,254.0 344.6,254.6 345.1,255.1 345.5,255.7 346.0,256.2 346.5,256.8 347.0,257.3 347.4,257.9 347.9,258.4 348.2,259.0 348.4,259.6 348.4,260.1 348.2,260.7 347.9,261.2 347.5,261.8 346.9,262.3 346.3,262.9 345.7,263.4 345.0,264.0 344.4,264.5 343.8,265.1 343.1,265.6 342.4,266.2 341.6,266.8 340.9,267.3 340.2,267.9 339.6,268.4 339.0,268.9 338.5,269.4 338.0,269.8 337.6,270.3 337.3,270.7 336.9,271.1 336.6,271.5 336.2,272.0 335.9,272.4 335.6,272.8 335.2,273.3 334.9,273.7 334.6,274.1 334.3,274.6 334.0,275.0 333.7,275.5 333.5,275.9 333.3,276.3 333.1,276.7 332.9,277.1 332.7,277.5 332.6,278.0 332.4,278.4 332.3,278.9 332.2,279.4 332.1,280.0 332.0,280.7 332.0,281.4 331.9,282.1 331.9,282.9 331.9,283.5 331.8,284.1 331.8,284.6 331.8,285.0 331.7,285.2 331.7,285.5 331.6,285.6 331.6,285.7 331.6,285.8 331.5,285.9 331.5,286.0 331.5,286.0 331.5,285.9 331.4,285.8 331.4,285.7 331.4,285.6 331.3,285.5 331.3,285.2 331.2,285.0 331.2,284.6 331.2,284.1 331.1,283.5 331.1,282.9 331.1,282.1 331.0,281.4 331.0,280.7 330.9,280.0 330.8,279.4 330.7,278.9 330.6,278.4 330.4,278.0 330.3,277.5 330.1,277.1 329.9,276.7 329.7,276.3 329.5,275.9 329.3,275.5 329.0,275.0 328.7,274.6 328.4,274.1 328.1,273.7 327.8,273.3 327.4,272.8 327.1,272.4 326.8,272.0 326.4,271.5 326.1,271.1 325.7,270.7 325.4,270.3 325.0,269.8 324.5,269.4 324.0,268.9 323.4,268.4 322.8,267.9 322.1,267.3 321.4,266.8 320.6,266.2 319.9,265.6 319.2,265.1 318.6,264.5 318.0,264.0 317.3,263.4 316.7,262.9 316.1,262.3 315.5,261.8 315.1,261.2 314.8,260.7 314.6,260.1 314.6,259.6 314.8,259.0 315.1,258.4 315.6,257.9 316.0,257.3 316.5,256.8 317.0,256.2 317.5,255.7 317.9,255.1 318.4,254.6 318.9,254.0 319.4,253.4 319.9,252.9 320.5,252.3 321.0,251.8 321.5,251.3 322.0,250.8 322.6,250.4 323.1,249.9 323.7,249.5 324.2,249.1 324.7,248.7 325.3,248.2 325.8,247.8 326.3,247.4 326.9,246.9 327.4,246.5 327.9,246.0 328.4,245.6 328.9,245.1 329.4,244.7 329.8,244.3 330.1,243.9 330.4,243.4 330.6,243.0 330.9,242.5 331.1,242.1 331.2,241.7 331.4,241.4 331.5,241.2" fill="#3ba9e0" stroke="#2b2b2b" stroke-width="0.6"/>
<line x1="314.60" y1="260.10" x2="348.40" y2="260.10" stroke="#2b2b2b" stroke-width="0.6"/>
<defs><linearGradient id="jg3315_248" x1="0" y1="0" x2="0" y2="1"><stop offset="0.000" stop-color="#000" stop-opacity="0.00"/><stop offset="0.043" stop-color="#000" stop-opacity="0.06"/><stop offset="0.087" stop-color="#000" stop-opacity="0.17"/><stop offset="0.130" stop-color="#000" stop-opacity="0.32"/><stop offset="0.174" stop-color="#000" stop-opacity="0.48"/><stop offset="0.217" stop-color="#000" stop-opacity="0.62"/><stop offset="0.261" stop-color="#000" stop-opacity="0.62"/><stop offset="0.304" stop-color="#000" stop-opacity="0.62"/><stop offset="0.348" stop-color="#000" stop-opacity="0.62"/><stop offset="0.391" stop-color="#000" stop-opacity="0.62"/><stop offset="0.435" stop-color="#000" stop-opacity="0.62"/><stop offset="0.478" stop-color="#000" stop-opacity="0.62"/><stop offset="0.522" stop-color="#000" stop-opacity="0.62"/><stop offset="0.565" stop-color="#000" stop-opacity="0.62"/><stop offset="0.609" stop-color="#000" stop-opacity="0.53"/><stop offset="0.652" stop-color="#000" stop-opacity="0.40"/><stop offset="0.696" stop-color="#000" stop-opacity="0.29"/><stop offset="0.739" stop-color="#000" stop-opacity="0.20"/><stop offset="0.783" stop-color="#000" stop-opacity="0.12"/><stop offset="0.826" stop-color="#000" stop-opacity="0.07"/><stop offset="0.870" stop-color="#000" stop-opacity="0.04"/><stop offset="0.913" stop-color="#000" stop-opacity="0.03"/><stop offset="0.957" stop-color="#000" stop-opacity="0.02"/><stop offset="1.000" stop-color="#000" stop-opacity="0.00"/></linearGradient></defs>
<rect x="324.9" y="241.2" width="13.2" height="44.8" fill="url(#jg3315_248)"/>
<path d="M329.5 243h0.9m-4.4 2.5h0.9m1.1 0h0.9m-3.4 0.5h0.9m3.6 0h0.9m1.1 0h0.9m-0.4 0.5h0.9m1.6 0h0.9m-10.4 0.5h0.9m6.1 0h0.9m-0.4 0h0.9m0.6 0h0.9m0.1 0h0.9m-0.4 0h0.9m-10.4 0.5h0.9m2.1 0h0.9m1.6 0h0.9m-0.4 0h0.9m0.6 0h0.9m3.1 0h0.9m-13.4 0.5h0.9m0.1 0h0.9m7.1 0h0.9m-0.4 0h0.9m-3.9 0.5h0.9m1.1 0h0.9m0.1 0h0.9m2.1 0h0.9m-8.4 0.5h0.9m1.1 0h0.9m0.6 0h0.9m3.1 0h0.9m-13.9 0.5h0.9m-0.4 0h0.9m-0.9 0h0.9m0.1 0h0.9m1.6 0h0.9m-0.4 0h0.9m-5.4 0.5h0.9m5.1 0h0.9m-0.9 0h0.9m0.1 0h0.9m2.6 0h0.9m-0.9 0h0.9m-10.4 0.5h0.9m3.6 0h0.9m1.1 0h0.9m-0.4 0h0.9m-5.9 0.5h0.9m0.6 0h0.9m3.6 0h0.9m1.1 0h0.9m0.6 0h0.9m-10.9 0.5h0.9m2.6 0h0.9m3.1 0h0.9m0.6 0h0.9m-11.4 0.5h0.9m0.1 0h0.9m0.1 0h0.9m-0.4 0h0.9m0.6 0h0.9m1.6 0h0.9m0.6 0h0.9m-0.9 0h0.9m1.1 0h0.9m0.1 0h0.9m-0.9 0h0.9m-12.4 0.5h0.9m-0.4 0h0.9m-0.4 0h0.9m2.1 0h0.9m1.6 0h0.9m-6.9 0.5h0.9m3.6 0h0.9m1.6 0h0.9m-0.9 0h0.9m0.6 0h0.9m-0.9 0h0.9m1.1 0h0.9m-8.9 0.5h0.9m-0.4 0h0.9m2.1 0h0.9m-0.9 0.5h0.9m-6.4 0.5h0.9m4.1 0h0.9m4.6 0h0.9m-12.4 0.5h0.9m-0.9 0h0.9m1.1 0h0.9m-0.9 0h0.9m7.6 0h0.9m0.1 0h0.9m-11.4 0.5h0.9m-0.4 0h0.9m3.1 0h0.9m1.1 0h0.9m-0.4 0h0.9m1.6 0h0.9m0.1 0h0.9m-0.4 0h0.9m-0.4 0h0.9m-13.9 0.5h0.9m-0.4 0h0.9m2.1 0h0.9m0.1 0h0.9m-0.4 0h0.9m0.1 0h0.9m2.1 0h0.9m2.6 0h0.9m-13.4 0.5h0.9m-0.9 0h0.9m1.1 0h0.9m0.6 0h0.9m0.6 0h0.9m4.1 0h0.9m1.1 0h0.9m-9.4 0.5h0.9m1.6 0h0.9m2.1 0h0.9m-0.4 0h0.9m1.1 0h0.9m-0.9 0h0.9m-9.9 0.5h0.9m-0.9 0h0.9m-0.4 0h0.9m0.1 0h0.9m-0.4 0h0.9m-0.9 0h0.9m0.1 0h0.9m2.1 0h0.9m1.1 0h0.9m0.6 0h0.9m-0.4 0h0.9m-11.4 0.5h0.9m-2.4 0.5h0.9m0.1 0h0.9m0.6 0h0.9m2.6 0h0.9m1.6 0h0.9m-0.4 0h0.9m-0.4 0h0.9m2.1 0h0.9m-9.9 0.5h0.9m-0.9 0h0.9m1.6 0h0.9m0.1 0h0.9m1.1 0h0.9m-0.4 0h0.9m-0.9 0h0.9m-9.4 0.5h0.9m2.1 0h0.9m3.1 0h0.9m-0.4 0h0.9m-0.9 0h0.9m0.1 0h0.9m-0.9 0h0.9m-0.4 0h0.9m0.6 0h0.9m-11.9 0.5h0.9m2.6 0h0.9m-0.4 0h0.9m1.1 0h0.9m0.1 0h0.9m2.1 0h0.9m-11.9 0.5h0.9m1.6 0h0.9m-0.4 0h0.9m0.6 0h0.9m-0.9 0h0.9m1.1 0h0.9m0.6 0h0.9m2.1 0h0.9m-0.4 0h0.9m-10.9 0.5h0.9m0.1 0h0.9m-0.9 0h0.9m1.1 0h0.9m-0.9 0h0.9m-0.4 0h0.9m-0.9 0h0.9m2.1 0h0.9m1.1 0h0.9m0.1 0h0.9m-10.9 0.5h0.9m-0.4 0h0.9m-0.4 0h0.9m2.6 0h0.9m-0.9 0h0.9m1.6 0h0.9m3.1 0h0.9m-12.4 0.5h0.9m1.6 0h0.9m-0.4 0h0.9m0.6 0h0.9m3.1 0h0.9m-0.9 0h0.9m-0.4 0h0.9m-0.9 0h0.9m-10.4 0.5h0.9m1.1 0h0.9m3.6 0h0.9m1.1 0h0.9m-0.4 0h0.9m1.1 0h0.9m0.1 0h0.9m-0.4 0h0.9m-10.9 0.5h0.9m0.1 0h0.9m0.6 0h0.9m-0.9 0h0.9m1.6 0h0.9m0.6 0h0.9m-7.4 0.5h0.9m-0.9 0h0.9m-0.9 0h0.9m-0.4 0h0.9m-0.4 0h0.9m-0.4 0h0.9m1.1 0h0.9m0.6 0h0.9m3.1 0h0.9m-11.9 0.5h0.9m-0.4 0h0.9m-0.9 0h0.9m3.6 0h0.9m0.1 0h0.9m1.6 0h0.9m0.6 0h0.9m0.6 0h0.9m-0.9 0h0.9m-11.9 0.5h0.9m0.6 0h0.9m-0.4 0h0.9m0.1 0h0.9m3.1 0h0.9m-3.9 0.5h0.9m-0.4 0h0.9m2.6 0h0.9m1.1 0h0.9m-6.9 0.5h0.9m1.6 0h0.9m0.6 0h0.9m-9.4 0.5h0.9m-0.4 0h0.9m1.1 0h0.9m0.1 0h0.9m2.1 0h0.9m-0.9 0h0.9m2.1 0h0.9m0.1 0h0.9m0.1 0h0.9m-3.9 0.5h0.9m0.1 0h0.9m-0.4 0h0.9m-6.9 0.5h0.9m1.1 0h0.9m-4.4 0.5h0.9m2.1 0h0.9m0.6 0h0.9m3.1 0h0.9m-0.9 0h0.9m-0.4 0h0.9m-6.4 0.5h0.9m1.6 0h0.9m-8.9 0.5h0.9m1.6 0h0.9m1.6 0h0.9m-0.9 0h0.9m-0.4 0h0.9m1.6 0h0.9m1.1 0h0.9m0.6 0h0.9m-0.9 0h0.9m-9.9 0.5h0.9m-0.4 0h0.9m0.6 0h0.9m0.1 0.5h0.9m3.6 0.5h0.9m-3.9 0.5h0.9m-6.9 0.5h0.9m-0.9 0h0.9m6.6 0.5h0.9m1.1 0h0.9m-11.4 0.5h0.9m1.6 0.5h0.9m0.6 0.5h0.9m2.1 0.5h0.9m0.1 0h0.9m-9.4 0.5h0.9m-0.4 0h0.9m4.6 0.5h0.9m-4.4 1h0.9m1.6 1h0.9m3.6 1h0.9m-8.4 0.5h0.9m-2.4 1h0.9m8.6 4h0.9m-3.4 0.5h0.9m2.6 1h0.9" stroke="#000" stroke-width="0.9" stroke-opacity="0.75" fill="none"/>
<path d="M330 234h0.7m-6.2 0.5h0.7m-1.2 0.5h0.7m2.3 0h0.7m8.3 0h0.7m-12.7 1h0.7m4.8 0h0.7m2.8 0h0.7m-1.7 1h0.7m-2.2 0.5h0.7m5.3 0.5h0.7m-3.2 1h0.7m-11.7 0.5h0.7m9.3 0h0.7m4.8 1h0.7m-2.2 0.5h0.7m2.3 0h0.7m-12.7 0.5h0.7m5.3 0h0.7m2.3 0h0.7m-11.7 0.5h0.7m-4.2 2.5h0.7m13.3 0h0.7m-4.2 0.5h0.7m0.8 2.5h0.7m-12.2 2h0.7m4.8 0h0.7m-6.2 0.5h0.7m10.3 1.5h0.7m3.8 0h0.7m-0.7 0h0.7m-12.2 0.5h0.7m10.8 0.5h0.7m-1.2 0.5h0.7m-6.2 1h0.7m-2.2 1h0.7m4.3 0h0.7m2.3 0h0.7m-7.2 0.5h0.7m-5.2 2h0.7m-5.2 1h0.7m13.3 1h0.7m-4.2 2.5h0.7m3.3 0h0.7m-11.7 0.5h0.7m11.3 0.5h0.7m-16.2 1.5h0.7m6.3 0h0.7m6.3 1.5h0.7m-1.7 1.5h0.7m-8.7 0.5h0.7m1.3 0h0.7m-0.2 1h0.7m4.3 0.5h0.7m-7.7 1.5h0.7m3.3 2h0.7m-4.7 4h0.7m-6.7 0.5h0.7m9.3 0h0.7m-1.2 1h0.7m-3.7 0.5h0.7m6.3 0.5h0.7m-1.2 0.5h0.7m-10.7 1.5h0.7m7.3 0h0.7m-11.2 1h0.7m0.3 0h0.7m13.8 0h0.7m-0.2 0h0.7m-15.7 1h0.7m3.8 0h0.7m6.3 0h0.7m-7.7 0.5h0.7m9.3 0h0.7m-9.7 1h0.7m-8.2 1h0.7m10.3 3h0.7m-6.2 1h0.7m0.8 0.5h0.7m5.8 0h0.7m-4.7 1h0.7m-5.2 2.5h0.7m8.3 0.5h0.7m-7.7 0.5h0.7m4.3 0.5h0.7m-10.7 1h0.7m0.3 0.5h0.7m2.3 0h0.7m3.8 0h0.7m-7.2 2.5h0.7" stroke="#222" stroke-width="0.7" stroke-opacity="0.55" fill="none"/>
<line x1="407.50" y1="266.20" x2="407.50" y2="309.30" stroke="#bdbdbd" stroke-width="1.1"/>
<polygon points="407.5,287.9 407.6,288.2 407.7,288.5 407.9,288.9 408.1,289.4 408.3,289.9 408.4,290.4 408.6,290.8 408.8,291.3 408.9,291.7 409.0,292.2 409.0,292.6 409.1,293.1 409.2,293.5 409.4,294.0 409.7,294.4 410.1,294.8 410.7,295.2 411.5,295.5 412.4,295.8 413.4,296.2 414.3,296.5 415.3,296.8 416.2,297.1 417.0,297.4 417.7,297.7 418.3,298.1 419.0,298.4 419.5,298.7 420.1,299.0 420.6,299.4 421.1,299.7 421.5,300.0 421.9,300.3 422.4,300.6 422.8,300.9 423.2,301.2 423.6,301.5 423.8,301.8 423.9,302.1 423.9,302.4 423.7,302.7 423.3,303.1 422.8,303.4 422.2,303.8 421.6,304.1 420.9,304.5 420.2,304.9 419.6,305.2 419.0,305.5 418.3,305.9 417.6,306.2 416.9,306.6 416.2,306.9 415.5,307.2 414.8,307.5 414.0,307.8 413.2,308.0 412.3,308.2 411.3,308.4 410.4,308.6 409.5,308.8 408.7,308.9 408.0,309.0 407.5,309.1 407.5,309.1 407.0,309.0 406.3,308.9 405.5,308.8 404.6,308.6 403.7,308.4 402.7,308.2 401.8,308.0 401.0,307.8 400.2,307.5 399.5,307.2 398.8,306.9 398.1,306.6 397.4,306.2 396.7,305.9 396.0,305.5 395.4,305.2 394.8,304.9 394.1,304.5 393.4,304.1 392.8,303.8 392.2,303.4 391.7,303.1 391.3,302.7 391.1,302.4 391.1,302.1 391.2,301.8 391.4,301.5 391.8,301.2 392.2,300.9 392.6,300.6 393.1,300.3 393.5,300.0 393.9,299.7 394.4,299.4 394.9,299.0 395.5,298.7 396.0,298.4 396.7,298.1 397.3,297.7 398.0,297.4 398.8,297.1 399.7,296.8 400.7,296.5 401.6,296.2 402.6,295.8 403.5,295.5 404.3,295.2 404.9,294.8 405.3,294.4 405.6,294.0 405.8,293.5 405.9,293.1 406.0,292.6 406.0,292.2 406.1,291.7 406.2,291.3 406.4,290.8 406.6,290.4 406.7,289.9 406.9,289.4 407.1,288.9 407.3,288.5 407.4,288.2 407.5,287.9" fill="#c86ec8" stroke="#2b2b2b" stroke-width="0.6"/>
<line x1="391.10" y1="302.40" x2="423.90" y2="302.40" stroke="#2b2b2b" stroke-width="0.6"/>
<defs><linearGradient id="jg4075_296" x1="0" y1="0" x2="0" y2="1"><stop offset="0.000" stop-color="#000" stop-opacity="0.00"/><stop offset="0.043" stop-color="#000" stop-opacity="0.03"/><stop offset="0.087" stop-color="#000" stop-opacity="0.07"/><stop offset="0.130" stop-color="#000" stop-opacity="0.10"/><stop offset="0.174" stop-color="#000" stop-opacity="0.13"/><stop offset="0.217" stop-color="#000" stop-opacity="0.14"/><stop offset="0.261" stop-color="#000" stop-opacity="0.16"/><stop offset="0.304" stop-color="#000" stop-opacity="0.20"/><stop offset="0.348" stop-color="#000" stop-opacity="0.32"/><stop offset="0.391" stop-color="#000" stop-opacity="0.56"/><stop offset="0.435" stop-color="#000" stop-opacity="0.82"/><stop offset="0.478" stop-color="#000" stop-opacity="0.85"/><stop offset="0.522" stop-color="#000" stop-opacity="0.85"/><stop offset="0.565" stop-color="#000" stop-opacity="0.85"/><stop offset="0.609" stop-color="#000" stop-opacity="0.85"/><stop offset="0.652" stop-color="#000" stop-opacity="0.85"/><stop offset="0.696" stop-color="#000" stop-opacity="0.85"/><stop offset="0.739" stop-color="#000" stop-opacity="0.85"/><stop offset="0.783" stop-color="#000" stop-opacity="0.85"/><stop offset="0.826" stop-color="#000" stop-opacity="0.85"/><stop offset="0.870" stop-color="#000" stop-opacity="0.85"/><stop offset="0.913" stop-color="#000" stop-opacity="0.74"/><stop offset="0.957" stop-color="#000" stop-opacity="0.47"/><stop offset="1.000" stop-color="#000" stop-opacity="0.00"/></linearGradient></defs>
<rect x="401.0" y="287.9" width="13.0" height="21.2" fill="url(#jg4075_296)"/>
<path d="M414 291.5h0.9m-6.4 0.5h0.9m3.1 0h0.9m-5.4 0.5h0.9m-0.4 0h0.9m2.6 0h0.9m-7.4 1h0.9m-1.4 1h0.9m4.6 0h0.9m-4.9 1h0.9m1.1 0.5h0.9m1.1 0h0.9m1.1 0h0.9m0.1 0h0.9m-13.4 0.5h0.9m2.1 0h0.9m-0.9 0h0.9m2.6 0h0.9m0.1 0h0.9m-7.9 0.5h0.9m2.1 0h0.9m-0.4 0h0.9m-0.4 0h0.9m-0.4 0h0.9m3.1 0h0.9m1.1 0h0.9m-9.4 0.5h0.9m1.6 0h0.9m0.1 0h0.9m-0.4 0h0.9m-0.4 0h0.9m-0.9 0h0.9m0.6 0h0.9m-0.4 0h0.9m-5.4 0.5h0.9m2.1 0h0.9m-0.4 0h0.9m0.1 0h0.9m0.6 0h0.9m-9.9 0.5h0.9m-0.4 0h0.9m3.6 0h0.9m0.1 0h0.9m3.6 0h0.9m-10.9 0.5h0.9m0.1 0h0.9m3.1 0h0.9m-0.4 0h0.9m0.6 0h0.9m-9.9 0.5h0.9m0.1 0h0.9m3.1 0h0.9m-0.9 0h0.9m-0.4 0h0.9m-0.9 0h0.9m1.1 0h0.9m-0.4 0h0.9m1.6 0h0.9m-0.9 0h0.9m-0.4 0h0.9m0.1 0h0.9m-12.4 0.5h0.9m2.1 0h0.9m4.1 0h0.9m-0.4 0h0.9m0.1 0h0.9m0.1 0h0.9m0.6 0h0.9m-12.4 0.5h0.9m0.1 0h0.9m7.6 0h0.9m-0.9 0h0.9m0.1 0h0.9m-0.9 0h0.9m0.1 0h0.9m-12.9 0.5h0.9m-0.4 0h0.9m0.1 0h0.9m0.6 0h0.9m2.6 0h0.9m0.6 0h0.9m-0.9 0h0.9m0.1 0h0.9m2.1 0h0.9m-0.4 0h0.9m-12.4 0.5h0.9m-0.9 0h0.9m0.1 0h0.9m-0.4 0h0.9m-0.4 0h0.9m1.6 0h0.9m1.1 0h0.9m0.1 0h0.9m-0.4 0h0.9m-0.4 0h0.9m0.1 0h0.9m-0.9 0h0.9m-0.4 0h0.9m-0.4 0h0.9m-0.4 0h0.9m-10.9 0.5h0.9m0.1 0h0.9m1.6 0h0.9m0.1 0h0.9m0.1 0h0.9m-0.9 0h0.9m2.1 0h0.9m-0.4 0h0.9m0.1 0h0.9m-10.4 0.5h0.9m-0.4 0h0.9m-0.9 0h0.9m3.6 0h0.9m0.1 0h0.9m-0.9 0h0.9m-8.4 0.5h0.9m0.1 0h0.9m1.6 0h0.9m0.6 0h0.9m0.6 0h0.9m-0.9 0h0.9m-0.4 0h0.9m2.1 0h0.9m-0.4 0h0.9m-0.4 0h0.9m-0.4 0h0.9m-10.9 0.5h0.9m-0.9 0h0.9m-0.4 0h0.9m-0.4 0h0.9m-0.4 0h0.9m0.6 0h0.9m0.1 0h0.9m-0.9 0h0.9m0.1 0h0.9m-0.4 0h0.9m0.6 0h0.9m0.1 0h0.9m0.6 0h0.9m-0.9 0h0.9m-12.4 0.5h0.9m0.1 0h0.9m0.6 0h0.9m0.1 0h0.9m-0.9 0h0.9m1.1 0h0.9m0.1 0h0.9m-0.9 0h0.9m2.1 0h0.9m-0.9 0h0.9m0.1 0h0.9m-6.4 0.5h0.9m-0.4 0h0.9m-0.4 0h0.9m-0.4 0h0.9m1.1 0h0.9m-0.9 0h0.9m-0.9 0h0.9m2.1 0h0.9m-0.9 0h0.9m-0.9 0h0.9m-13.4 0.5h0.9m1.6 0h0.9m-0.9 0h0.9m1.6 0h0.9m1.1 0h0.9m-6.9 0.5h0.9m-0.4 0h0.9m0.6 0h0.9m-0.4 0h0.9m4.1 0h0.9m-0.4 0h0.9m0.6 0h0.9m-0.4 0h0.9m-11.4 0.5h0.9m1.6 0h0.9m4.1 0h0.9m0.6 0h0.9m0.1 0h0.9m-0.4 0h0.9m0.1 0h0.9m-2.9 0.5h0.9m-5.9 0.5h0.9m1.1 0h0.9m-6.9 0.5h0.9m3.6 0h0.9m-0.4 0h0.9m-0.4 0h0.9m-0.9 0h0.9m3.6 0h0.9m-10.9 0.5h0.9m1.6 0h0.9m3.6 0h0.9m1.1 0h0.9m1.6 0h0.9m-12.9 0.5h0.9m4.6 0h0.9m0.6 0h0.9m0.6 0h0.9m-0.9 0h0.9" stroke="#000" stroke-width="0.9" stroke-opacity="0.75" fill="none"/>
<path d="M410 267.5h0.7m1.3 0h0.7m-10.2 2.5h0.7m2.3 0h0.7m6.8 0.5h0.7m0.3 0h0.7m-8.2 0.5h0.7m2.3 0h0.7m-3.2 1.5h0.7m-3.2 0.5h0.7m-0.7 0h0.7m1.8 0h0.7m0.8 0h0.7m-8.7 1.5h0.7m-0.7 0.5h0.7m11.8 0h0.7m-0.2 0h0.7m-3.2 0.5h0.7m-2.7 0.5h0.7m-7.2 0.5h0.7m4.8 0h0.7m-3.2 0.5h0.7m1.3 0.5h0.7m2.3 0h0.7m3.3 0h0.7m-15.2 0.5h0.7m10.8 0.5h0.7m-1.2 1h0.7m-5.2 0.5h0.7m1.8 0h0.7m-8.2 0.5h0.7m-1.7 0.5h0.7m3.3 0h0.7m-2.2 0.5h0.7m7.3 0.5h0.7m1.8 0h0.7m-6.2 1h0.7m-2.2 0.5h0.7m1.3 0.5h0.7m5.8 0h0.7m-14.2 0.5h0.7m-0.2 0h0.7m1.8 0.5h0.7m7.8 0.5h0.7m-9.2 0.5h0.7m7.8 0h0.7m-13.2 0.5h0.7m3.3 0h0.7m0.8 0h0.7m-2.2 0.5h0.7m7.8 0.5h0.7m-0.2 0h0.7m-14.7 0.5h0.7m9.8 0h0.7m0.3 0h0.7m-10.7 0.5h0.7m1.8 0h0.7m-0.2 0h0.7m5.3 0h0.7m-7.7 0.5h0.7m2.8 0.5h0.7m-2.7 0.5h0.7m1.8 0h0.7m-5.7 0.5h0.7m7.3 0h0.7m4.3 0h0.7m-11.7 0.5h0.7m3.3 0h0.7m3.3 0h0.7m-6.2 0.5h0.7m4.3 0h0.7m0.8 0h0.7m-12.7 0.5h0.7m-0.2 0h0.7m3.3 0h0.7m-4.2 0.5h0.7m1.8 0h0.7m-1.2 0.5h0.7m-0.2 0h0.7m8.3 0h0.7m-13.7 0.5h0.7m3.8 0h0.7m7.8 0h0.7m-0.7 0h0.7m-13.2 0.5h0.7m2.8 0h0.7m-0.2 0h0.7m0.3 0h0.7m-0.7 0h0.7m0.8 0h0.7m6.8 0h0.7m-10.2 0.5h0.7m1.8 0h0.7m-0.2 0h0.7m2.8 0h0.7m-0.2 0h0.7m0.3 0h0.7m-8.2 0.5h0.7m0.8 0h0.7m6.3 0h0.7m-10.2 0.5h0.7m3.8 0h0.7m2.8 0h0.7m-0.7 0h0.7m0.3 0h0.7m-13.7 0.5h0.7m-0.7 0h0.7m-0.7 0h0.7m-0.2 0h0.7m7.3 0h0.7" stroke="#222" stroke-width="0.7" stroke-opacity="0.55" fill="none"/>
<line x1="472.60" y1="217.80" x2="472.60" y2="292.00" stroke="#bdbdbd" stroke-width="1.1"/>
<polygon points="472.6,221.7 472.7,222.0 472.9,222.3 473.1,222.7 473.3,223.2 473.5,223.7 473.8,224.2 474.2,224.6 474.6,225.0 475.1,225.3 475.6,225.6 476.2,225.9 476.8,226.1 477.5,226.3 478.2,226.6 478.8,226.9 479.5,227.2 480.2,227.6 480.9,228.0 481.6,228.4 482.4,228.8 483.1,229.2 483.8,229.7 484.5,230.1 485.1,230.6 485.6,231.1 486.2,231.5 486.6,232.0 487.1,232.5 487.5,233.0 487.8,233.5 488.1,234.0 488.4,234.4 488.6,234.8 488.8,235.2 489.0,235.5 489.1,235.8 489.1,236.2 489.2,236.5 489.1,236.8 489.0,237.2 488.8,237.6 488.6,238.0 488.3,238.4 487.9,238.8 487.5,239.2 487.1,239.7 486.6,240.1 486.2,240.6 485.7,241.1 485.2,241.6 484.7,242.2 484.2,242.7 483.6,243.3 483.0,243.9 482.5,244.4 482.0,245.0 481.5,245.5 481.0,246.1 480.5,246.6 480.0,247.1 479.6,247.7 479.1,248.2 478.8,248.8 478.4,249.4 478.1,250.0 477.8,250.7 477.6,251.3 477.4,252.0 477.3,252.7 477.1,253.4 477.0,254.2 476.8,255.0 476.6,255.9 476.5,256.8 476.4,257.7 476.2,258.7 476.1,259.7 476.0,260.7 475.8,261.8 475.7,262.8 475.6,263.9 475.4,264.9 475.3,266.1 475.1,267.2 475.0,268.3 474.9,269.4 474.7,270.6 474.6,271.7 474.5,272.8 474.4,274.0 474.2,275.1 474.1,276.3 474.0,277.4 473.9,278.5 473.8,279.6 473.7,280.6 473.6,281.6 473.5,282.5 473.4,283.4 473.3,284.3 473.2,285.1 473.1,285.9 473.0,286.6 472.9,287.2 472.8,287.8 472.8,288.2 472.7,288.7 472.7,289.0 472.7,289.3 472.6,289.6 472.6,289.8 472.6,290.0 472.6,290.0 472.6,289.8 472.6,289.6 472.5,289.3 472.5,289.0 472.5,288.7 472.4,288.2 472.4,287.8 472.3,287.2 472.2,286.6 472.1,285.9 472.0,285.1 471.9,284.3 471.8,283.4 471.7,282.5 471.6,281.6 471.5,280.6 471.4,279.6 471.3,278.5 471.2,277.4 471.1,276.3 471.0,275.1 470.8,274.0 470.7,272.8 470.6,271.7 470.5,270.6 470.3,269.4 470.2,268.3 470.1,267.2 469.9,266.1 469.8,264.9 469.6,263.9 469.5,262.8 469.4,261.8 469.2,260.7 469.1,259.7 469.0,258.7 468.8,257.7 468.7,256.8 468.6,255.9 468.4,255.0 468.2,254.2 468.1,253.4 467.9,252.7 467.8,252.0 467.6,251.3 467.4,250.7 467.1,250.0 466.8,249.4 466.4,248.8 466.1,248.2 465.6,247.7 465.2,247.1 464.7,246.6 464.2,246.1 463.7,245.5 463.2,245.0 462.7,244.4 462.2,243.9 461.6,243.3 461.1,242.7 460.5,242.2 460.0,241.6 459.5,241.1 459.0,240.6 458.6,240.1 458.1,239.7 457.7,239.2 457.3,238.8 456.9,238.4 456.6,238.0 456.4,237.6 456.2,237.2 456.1,236.8 456.0,236.5 456.1,236.2 456.1,235.8 456.2,235.5 456.4,235.2 456.6,234.8 456.8,234.4 457.1,234.0 457.4,233.5 457.7,233.0 458.1,232.5 458.6,232.0 459.1,231.5 459.6,231.1 460.1,230.6 460.7,230.1 461.4,229.7 462.1,229.2 462.8,228.8 463.6,228.4 464.3,228.0 465.0,227.6 465.7,227.2 466.4,226.9 467.0,226.6 467.7,226.3 468.4,226.1 469.0,225.9 469.6,225.6 470.1,225.3 470.6,225.0 471.0,224.6 471.4,224.2 471.7,223.7 471.9,223.2 472.1,222.7 472.3,222.3 472.5,222.0 472.6,221.7" fill="#e664a5" stroke="#2b2b2b" stroke-width="0.6"/>
<line x1="458.72" y1="240.30" x2="486.48" y2="240.30" stroke="#2b2b2b" stroke-width="0.6"/>
<defs><linearGradient id="jg4726_227" x1="0" y1="0" x2="0" y2="1"><stop offset="0.000" stop-color="#000" stop-opacity="0.00"/><stop offset="0.043" stop-color="#000" stop-opacity="0.13"/><stop offset="0.087" stop-color="#000" stop-opacity="0.59"/><stop offset="0.130" stop-color="#000" stop-opacity="0.70"/><stop offset="0.174" stop-color="#000" stop-opacity="0.70"/><stop offset="0.217" stop-color="#000" stop-opacity="0.70"/><stop offset="0.261" stop-color="#000" stop-opacity="0.70"/><stop offset="0.304" stop-color="#000" stop-opacity="0.70"/><stop offset="0.348" stop-color="#000" stop-opacity="0.68"/><stop offset="0.391" stop-color="#000" stop-opacity="0.49"/><stop offset="0.435" stop-color="#000" stop-opacity="0.38"/><stop offset="0.478" stop-color="#000" stop-opacity="0.33"/><stop offset="0.522" stop-color="#000" stop-opacity="0.29"/><stop offset="0.565" stop-color="#000" stop-opacity="0.26"/><stop offset="0.609" stop-color="#000" stop-opacity="0.23"/><stop offset="0.652" stop-color="#000" stop-opacity="0.20"/><stop offset="0.696" stop-color="#000" stop-opacity="0.17"/><stop offset="0.739" stop-color="#000" stop-opacity="0.15"/><stop offset="0.783" stop-color="#000" stop-opacity="0.13"/><stop offset="0.826" stop-color="#000" stop-opacity="0.10"/><stop offset="0.870" stop-color="#000" stop-opacity="0.08"/><stop offset="0.913" stop-color="#000" stop-opacity="0.05"/><stop offset="0.957" stop-color="#000" stop-opacity="0.02"/><stop offset="1.000" stop-color="#000" stop-opacity="0.00"/></linearGradient></defs>
<rect x="466.1" y="221.7" width="13.0" height="68.3" fill="url(#jg4726_227)"/>
<path d="M475 225h0.9m-6.9 0.5h0.9m1.6 0h0.9m-3.9 0.5h0.9m-0.4 0h0.9m0.1 0h0.9m0.6 0h0.9m-0.9 0h0.9m0.6 0h0.9m-6.9 0.5h0.9m0.6 0h0.9m0.6 0h0.9m-0.9 0h0.9m0.6 0h0.9m-5.9 0.5h0.9m1.6 0h0.9m4.6 0h0.9m-5.9 0.5h0.9m4.1 0h0.9m0.1 0h0.9m-9.4 0.5h0.9m2.6 0h0.9m-0.9 0h0.9m1.6 0h0.9m3.6 0h0.9m-6.9 0.5h0.9m-0.9 0h0.9m-0.9 0h0.9m3.6 0h0.9m0.6 0h0.9m-0.4 0h0.9m0.1 0h0.9m-11.9 0.5h0.9m1.6 0h0.9m5.1 0h0.9m1.1 0h0.9m-12.9 0.5h0.9m3.1 0h0.9m1.6 0h0.9m-0.4 0h0.9m0.1 0h0.9m-8.9 0.5h0.9m-0.4 0h0.9m4.1 0h0.9m-0.4 0h0.9m-0.4 0h0.9m0.6 0h0.9m-0.9 0h0.9m-0.4 0h0.9m-7.4 0.5h0.9m0.1 0h0.9m6.1 0h0.9m1.1 0h0.9m-11.9 0.5h0.9m1.1 0h0.9m4.1 0h0.9m0.6 0h0.9m0.1 0h0.9m-11.4 0.5h0.9m-0.4 0h0.9m3.6 0h0.9m-0.9 0h0.9m0.6 0h0.9m2.6 0h0.9m-0.4 0h0.9m-10.4 0.5h0.9m1.6 0h0.9m2.6 0h0.9m-0.4 0h0.9m4.1 0h0.9m-12.9 0.5h0.9m1.1 0h0.9m-0.9 0h0.9m0.6 0h0.9m-0.9 0h0.9m1.1 0h0.9m5.1 0h0.9m-13.4 0.5h0.9m1.6 0h0.9m0.1 0h0.9m1.1 0h0.9m-0.4 0h0.9m1.1 0h0.9m0.6 0h0.9m-9.9 0.5h0.9m-0.4 0h0.9m1.1 0h0.9m4.1 0h0.9m-0.9 0h0.9m-0.9 0h0.9m-6.9 0.5h0.9m-0.4 0h0.9m3.1 0h0.9m-0.4 0h0.9m0.1 0h0.9m0.1 0h0.9m0.1 0h0.9m1.1 0h0.9m-12.4 0.5h0.9m-0.4 0h0.9m-0.4 0h0.9m1.1 0h0.9m-0.4 0h0.9m1.1 0h0.9m1.6 0h0.9m-0.4 0h0.9m-0.4 0h0.9m0.6 0h0.9m0.1 0h0.9m-11.9 0.5h0.9m0.1 0h0.9m0.6 0h0.9m-0.4 0h0.9m2.1 0h0.9m-0.9 0h0.9m0.6 0h0.9m3.6 0h0.9m-10.9 0.5h0.9m-0.4 0h0.9m0.6 0h0.9m-0.9 0h0.9m-0.4 0h0.9m0.1 0h0.9m-0.9 0h0.9m1.6 0h0.9m0.6 0h0.9m-0.4 0h0.9m-0.9 0h0.9m-0.4 0h0.9m-0.4 0h0.9m-9.4 0.5h0.9m-0.9 0h0.9m0.1 0h0.9m-0.4 0h0.9m-0.9 0h0.9m-0.9 0h0.9m-0.4 0h0.9m1.6 0h0.9m-8.4 0.5h0.9m1.1 0h0.9m1.1 0h0.9m0.6 0h0.9m-0.9 0h0.9m0.1 0h0.9m-0.4 0h0.9m-0.4 0h0.9m-7.9 0.5h0.9m3.6 0h0.9m0.1 0h0.9m2.1 0h0.9m-0.9 0h0.9m-5.4 0.5h0.9m0.1 0h0.9m-0.9 0h0.9m-0.9 0h0.9m-0.4 0h0.9m1.1 0h0.9m-0.4 0h0.9m1.1 0h0.9m0.1 0h0.9m-6.9 0.5h0.9m0.1 0h0.9m-0.4 0h0.9m-0.4 0h0.9m1.1 0h0.9m-9.9 0.5h0.9m-0.9 0h0.9m0.1 0h0.9m0.1 0h0.9m-0.9 0h0.9m-0.9 0h0.9m-0.4 0h0.9m-0.9 0h0.9m-0.4 0h0.9m0.6 0h0.9m-4.4 0.5h0.9m0.6 0h0.9m-0.4 0h0.9m-0.9 0h0.9m0.1 0h0.9m0.6 0h0.9m2.1 0h0.9m0.1 0h0.9m-11.4 0.5h0.9m1.1 0h0.9m0.1 0h0.9m5.1 0h0.9m1.6 0h0.9m-11.4 0.5h0.9m0.6 0h0.9m-0.4 0h0.9m4.1 0h0.9m-0.4 0h0.9m0.1 0h0.9m0.6 0h0.9m-0.9 0h0.9m-11.9 0.5h0.9m3.6 0h0.9m4.1 0h0.9m-0.9 0h0.9m-0.9 0h0.9m-0.9 0h0.9m0.6 0h0.9m-7.9 0.5h0.9m3.1 0h0.9m-0.9 0h0.9m2.1 0h0.9m-10.9 0.5h0.9m0.6 0h0.9m2.6 0h0.9m0.1 0h0.9m2.6 0h0.9m-9.9 0.5h0.9m0.6 0h0.9m1.6 0h0.9m-0.4 0h0.9m0.6 0h0.9m2.6 0h0.9m-0.4 0h0.9m-0.9 0h0.9m-8.4 0.5h0.9m4.6 0h0.9m-0.9 0h0.9m2.1 0h0.9m-11.4 0.5h0.9m3.1 0h0.9m-0.9 0h0.9m-3.4 0.5h0.9m4.1 0h0.9m0.6 0h0.9m1.1 0h0.9m-12.4 0.5h0.9m2.6 0h0.9m0.6 0h0.9m-5.4 0.5h0.9m4.6 0h0.9m-4.4 0.5h0.9m4.6 0h0.9m1.1 0h0.9m-6.9 0.5h0.9m-3.9 0.5h0.9m6.1 0h0.9m-4.9 0.5h0.9m0.1 0.5h0.9m0.6 0h0.9m1.1 0h0.9m0.1 0h0.9m1.1 0h0.9m-7.4 0.5h0.9m2.6 0h0.9m-4.9 0.5h0.9m4.1 0h0.9m-6.9 0.5h0.9m5.1 0h0.9m1.1 0h0.9m-0.9 0h0.9m-10.4 0.5h0.9m8.1 0h0.9m0.1 0h0.9m-12.4 0.5h0.9m1.1 0h0.9m7.1 0h0.9m0.1 0h0.9m-12.4 0.5h0.9m0.6 0h0.9m8.1 0h0.9m-6.9 0.5h0.9m-0.4 0.5h0.9m5.6 0h0.9m-12.4 0.5h0.9m8.6 0h0.9m-6.9 0.5h0.9m5.1 0h0.9m-1.4 0.5h0.9m-1.4 1h0.9m2.1 0.5h0.9m-4.4 0.5h0.9m-0.9 0.5h0.9m1.6 0h0.9m-3.4 0.5h0.9m1.1 0h0.9m0.6 1h0.9m-9.9 1h0.9m6.6 0h0.9m-11.4 1h0.9m-0.4 0.5h0.9m8.1 0h0.9m-2.4 0.5h0.9m1.1 1.5h0.9m-2.9 2.5h0.9m4.1 0h0.9m-8.4 0.5h0.9m-3.4 0.5h0.9m4.1 0h0.9m-5.9 0.5h0.9m6.6 0h0.9m1.1 5h0.9m-1.4 4.5h0.9m-3.4 9.5h0.9m-5.9 2h0.9" stroke="#000" stroke-width="0.9" stroke-opacity="0.75" fill="none"/>
<path d="M468 222h0.7m6.3 0h0.7m0.8 0.5h0.7m-0.2 0h0.7m-10.7 0.5h0.7m3.3 0.5h0.7m-4.7 1h0.7m10.3 0h0.7m-5.2 0.5h0.7m1.8 0h0.7m-11.2 1h0.7m-0.7 0.5h0.7m4.3 0h0.7m1.8 0h0.7m-6.2 0.5h0.7m2.3 0h0.7m-3.7 0.5h0.7m-1.7 0.5h0.7m10.8 0h0.7m-0.7 0.5h0.7m-12.2 0.5h0.7m0.3 0h0.7m1.8 0.5h0.7m4.8 0h0.7m0.3 0h0.7m-0.7 0.5h0.7m1.8 0h0.7m-9.7 0.5h0.7m6.8 0h0.7m0.8 0h0.7m-3.7 0.5h0.7m1.8 0.5h0.7m-13.7 0.5h0.7m9.3 0h0.7m-4.2 0.5h0.7m-0.2 0h0.7m5.3 0h0.7m-12.7 0.5h0.7m-0.2 0.5h0.7m1.8 0h0.7m9.3 0h0.7m-15.2 0.5h0.7m0.8 0h0.7m9.8 0h0.7m-10.2 0.5h0.7m1.3 0h0.7m8.8 0h0.7m-14.7 1h0.7m13.8 0h0.7m-12.7 1h0.7m11.3 0.5h0.7m-9.7 0.5h0.7m3.8 0h0.7m0.8 0h0.7m-11.2 1h0.7m4.8 0h0.7m0.8 0h0.7m3.8 0h0.7m0.3 0h0.7m0.3 0.5h0.7m-9.2 0.5h0.7m1.3 0h0.7m5.8 0h0.7m-14.2 1h0.7m0.3 0.5h0.7m1.8 0.5h0.7m3.3 0.5h0.7m5.3 0h0.7m-11.2 0.5h0.7m3.3 0.5h0.7m-0.2 0h0.7m1.3 0h0.7m-0.7 0h0.7m3.8 0h0.7m-12.2 0.5h0.7m10.3 0h0.7m-14.2 0.5h0.7m-0.2 0h0.7m7.8 0h0.7m-8.7 0.5h0.7m0.3 0h0.7m3.3 0h0.7m-2.7 0.5h0.7m4.3 0h0.7m0.8 0h0.7m1.3 0.5h0.7m-11.2 1.5h0.7m-0.2 0h0.7m6.3 0h0.7m3.8 0.5h0.7m-0.7 0h0.7m-5.2 0.5h0.7m-5.2 0.5h0.7m0.3 0h0.7m3.8 0h0.7m-10.7 0.5h0.7m7.8 0h0.7m3.8 0.5h0.7m-14.7 1h0.7m4.8 0h0.7m6.8 0h0.7m-7.2 0.5h0.7m-6.2 1h0.7m0.3 0h0.7m-0.2 0h0.7m0.8 0.5h0.7m9.3 0h0.7m-5.7 1.5h0.7m-8.2 1h0.7m1.3 0h0.7m0.3 0h0.7m4.3 0h0.7m2.8 0h0.7m-10.2 0.5h0.7m8.3 0h0.7m0.3 0h0.7m-10.2 0.5h0.7m6.8 1h0.7m0.8 0h0.7m-11.2 0.5h0.7m-2.7 0.5h0.7m3.3 0.5h0.7m0.8 0.5h0.7m1.8 0h0.7m5.3 0h0.7m-13.7 0.5h0.7m0.3 0h0.7m0.8 0.5h0.7m1.3 0h0.7m0.8 0h0.7m2.3 0h0.7m-7.7 1h0.7m4.8 0h0.7m-3.7 0.5h0.7m4.3 0h0.7m-7.2 0.5h0.7m4.3 0h0.7m-10.2 0.5h0.7m6.3 0.5h0.7m-6.7 0.5h0.7m4.8 0.5h0.7m0.3 0h0.7m5.3 0.5h0.7m-0.2 0h0.7m-4.7 0.5h0.7m-1.7 0.5h0.7m0.8 0h0.7m0.8 0.5h0.7m-8.2 0.5h0.7m8.3 0h0.7m-8.7 0.5h0.7m7.3 0h0.7m-0.2 0h0.7m-9.7 0.5h0.7m7.8 0h0.7m-13.7 0.5h0.7m3.3 0h0.7m5.8 0h0.7m0.3 0h0.7m-0.7 0h0.7m-12.2 0.5h0.7m4.8 0h0.7m-0.2 0h0.7m4.3 0h0.7m-0.7 1h0.7m-9.2 0.5h0.7m7.3 0h0.7m-4.2 0.5h0.7m-0.2 0h0.7m3.8 0h0.7m-1.2 0.5h0.7m0.3 0.5h0.7m-6.2 0.5h0.7m4.3 0.5h0.7m-11.7 0.5h0.7m-0.2 0h0.7m3.3 0h0.7m-6.2 0.5h0.7m1.3 0.5h0.7m9.8 0h0.7m-11.7 1h0.7m1.3 0h0.7m2.8 0h0.7m-0.7 0h0.7m-4.2 1h0.7m4.3 0h0.7m4.3 0h0.7m-5.2 1h0.7m0.3 0h0.7m-2.2 1.5h0.7m-9.2 0.5h0.7m-0.2 0h0.7m5.3 0h0.7m-1.7 0.5h0.7m0.8 0.5h0.7m0.3 0h0.7m-0.7 0h0.7m0.3 0h0.7m1.3 0h0.7m0.3 0h0.7m-12.7 1h0.7m8.8 0.5h0.7m-7.7 0.5h0.7m10.3 0h0.7m-6.7 1h0.7m2.3 0h0.7m-0.2 0h0.7m-7.7 1h0.7m5.8 0h0.7m-0.7 0h0.7m1.3 0h0.7m-7.2 0.5h0.7m-0.7 0h0.7m5.8 0h0.7m-11.7 0.5h0.7m4.8 0h0.7m6.3 0h0.7m-11.2 0.5h0.7m2.3 0h0.7m2.8 0h0.7m-9.7 0.5h0.7m6.3 0h0.7m-1.7 0.5h0.7m2.3 0h0.7m3.3 0h0.7m-2.7 0.5h0.7m-1.2 0.5h0.7m-4.7 0.5h0.7m-0.2 0h0.7m4.3 0h0.7" stroke="#222" stroke-width="0.7" stroke-opacity="0.55" fill="none"/>
<text x="13.4" y="350.2" font-size="14.2" font-weight="bold" fill="#000">C</text>
<path d="M46.5 355h1.4m3.6 0h1.4m-11.4 1h1.4m22.1 0h1.4m-21.9 1h1.4m66.6 0.5h1.4m-60.9 0.5h1.4m-0.4 1.5h1.4m13.6 0h1.4m-16.9 1h1.4m-0.4 0h1.4m-11.4 2h1.4m5.6 0h1.4m11.6 0.5h1.4m14.1 0h1.4m-38.9 0.5h1.4m3.6 0.5h1.4m10.6 0h1.4m2.6 0h1.4m-24.4 1h1.4m30.6 0h1.4m-5.4 0.5h1.4m-20.4 0.5h1.4m10.1 0h1.4m-20.9 0.5h1.4m50.6 0h1.4m-52.9 1.5h1.4m7.6 0h1.4m-0.9 0h1.4m-0.4 0h1.4m28.6 0h1.4m13.6 0.5h1.4m-59.9 0.5h1.4m3.1 0.5h1.4m45.6 0h1.4m14.1 0h1.4m-50.9 0.5h1.4m17.6 0h1.4m-19.9 0.5h1.4m51.1 0h1.4m-57.9 1.5h1.4m21.6 0h1.4m12.1 0h1.4m-43.9 0.5h1.4m-7.4 0.5h1.4m19.1 0h1.4m-0.9 0h1.4m-22.4 0.5h1.4m3.6 0h1.4m41.6 0h1.4m-44.9 0.5h1.4m6.1 0h1.4m9.6 0h1.4m9.1 0h1.4m8.1 0h1.4m32.1 0h1.4m-74.4 0.5h1.4m9.6 0h1.4m3.6 0h1.4m38.1 0h1.4m-52.9 0.5h1.4m-0.9 0h1.4m26.1 0h1.4m1.6 0h1.4m3.1 0h1.4m10.1 0h1.4m-57.9 0.5h1.4m14.6 0h1.4m-7.4 0.5h1.4m19.6 0h1.4m-2.9 1.5h1.4m-15.9 0.5h1.4m26.6 0h1.4m-38.9 1h1.4m6.1 0h1.4m9.1 0h1.4m5.1 0h1.4m-17.9 0.5h1.4m30.6 0h1.4m2.1 0h1.4m6.6 0h1.4m9.6 0h1.4m-48.4 0.5h1.4m1.1 0h1.4m18.6 0h1.4m-18.4 0.5h1.4m0.1 0h1.4m1.6 0h1.4m7.1 0h1.4m6.6 0h1.4m-27.4 0.5h1.4m4.1 0h1.4m12.6 0.5h1.4m8.1 0h1.4m8.1 0h1.4m-21.9 0.5h1.4m11.6 0h1.4m-0.4 0h1.4m-31.9 0.5h1.4m33.1 0h1.4m-34.9 0.5h1.4m13.6 0h1.4m1.1 0h1.4m2.6 0h1.4m8.6 0h1.4m-23.9 0.5h1.4m-34.4 0.5h1.4m31.1 0h1.4m-17.4 0.5h1.4m5.6 0h1.4m-25.4 0.5h1.4m30.1 0h1.4m2.6 0h1.4m17.1 0h1.4m-42.4 0.5h1.4m6.6 0h1.4m10.6 0h1.4m2.1 0h1.4m6.6 0h1.4m18.1 0h1.4m-34.9 0.5h1.4m42.1 0h1.4m-20.4 0.5h1.4m-21.9 0.5h1.4m21.6 0h1.4m-58.9 0.5h1.4m13.1 0h1.4m16.6 0h1.4m8.1 0h1.4m2.1 0h1.4m-24.9 0.5h1.4m2.6 0h1.4m-10.9 0.5h1.4m8.6 0h1.4m20.1 0h1.4m-0.9 0h1.4m-6.9 1h1.4m-27.4 0.5h1.4m2.1 0h1.4m13.6 0.5h1.4m13.6 0h1.4m7.1 0h1.4m-38.9 0.5h1.4m12.6 0h1.4m11.6 0.5h1.4m-21.9 0.5h1.4m25.1 0h1.4m22.6 0h1.4m-28.9 0.5h1.4m-32.9 0.5h1.4m26.1 0h1.4m4.6 0h1.4m5.6 0h1.4m-32.4 0.5h1.4m-8.4 0.5h1.4m30.1 0h1.4m-0.4 0h1.4m3.6 0h1.4m22.6 0.5h1.4m-61.4 0.5h1.4m16.6 0h1.4m28.6 0h1.4m-31.4 0.5h1.4m-36.4 0.5h1.4m15.6 0h1.4m7.1 0h1.4m17.6 0.5h1.4m5.6 0h1.4m-34.4 0.5h1.4m-23.4 0.5h1.4m45.1 0h1.4m17.6 0h1.4m-35.9 1h1.4m0.1 0h1.4m16.6 0h1.4m-53.9 0.5h1.4m1.1 0.5h1.4m10.6 0.5h1.4m12.6 0h1.4m-1.9 0.5h1.4m19.1 0h1.4m-43.9 0.5h1.4m10.6 0h1.4m0.6 0h1.4m-0.4 0h1.4m15.6 0h1.4m-11.9 0.5h1.4m-0.4 0h1.4m11.6 0.5h1.4m-7.9 0.5h1.4m-21.4 0.5h1.4m-0.4 0h1.4m-1.4 0.5h1.4m11.1 1h1.4m8.1 0h1.4m-21.9 0.5h1.4m11.6 0h1.4m-17.4 0.5h1.4m14.6 0h1.4m-10.4 0.5h1.4m-23.4 0.5h1.4m24.6 1.5h1.4m-25.4 0.5h1.4m27.6 0h1.4m-24.9 0.5h1.4m-0.4 0h1.4m17.1 0h1.4m-8.4 1h1.4m9.6 0h1.4m-9.4 0.5h1.4m-23.4 0.5h1.4m29.1 0h1.4m-17.9 0.5h1.4m-13.4 1h1.4m10.6 0h1.4m-5.4 2h1.4m2.6 0h1.4m9.1 1h1.4m-22.9 0.5h1.4m4.1 0.5h1.4m-2.4 1h1.4m0.6 1.5h1.4m10.1 0.5h1.4m-14.9 1h1.4m-2.4 3.5h1.4m3.6 1h1.4m-12.4 0.5h1.4m1.1 1.5h1.4m9.1 0h1.4m-10.9 4h1.4m2.6 0.5h1.4m5.1 0.5h1.4m-16.9 2.5h1.4m20.6 4h1.4m-11.9 4h1.4" stroke="#f5b21b" stroke-width="1.4" fill="none"/>
<path d="M52.5 369h1.4m-8.9 0.5h1.4m2.6 0h1.4m-3.9 1h1.4m7.6 0h1.4m6.1 0h1.4m-24.9 0.5h1.4m9.1 0h1.4m30.6 1h1.4m-42.9 0.5h1.4m40.1 0h1.4m-31.4 1h1.4m9.1 0h1.4m-18.9 0.5h1.4m3.6 0h1.4m-0.9 1h1.4m14.1 0h1.4m-22.9 0.5h1.4m10.6 0h1.4m-12.4 0.5h1.4m3.6 0.5h1.4m-11.4 1h1.4m9.6 0h1.4m20.1 0.5h1.4m3.6 0h1.4m-27.4 0.5h1.4m0.1 0h1.4m22.6 0.5h1.4m-19.9 1.5h1.4m8.6 0h1.4m-18.4 1h1.4m20.6 0h1.4m-20.4 0.5h1.4m14.1 0h1.4m3.1 0.5h1.4m5.1 0h1.4m-34.4 1h1.4m7.1 0h1.4m10.6 0h1.4m-0.4 0h1.4m-18.9 0.5h1.4m5.6 0h1.4m31.6 0h1.4m-36.9 0.5h1.4m-0.9 0h1.4m2.1 0.5h1.4m-8.9 0.5h1.4m22.1 0h1.4m0.6 0h1.4m-0.4 0h1.4m-22.4 0.5h1.4m-0.4 0h1.4m20.1 0h1.4m17.6 0h1.4m-36.9 0.5h1.4m-0.9 0h1.4m6.6 0h1.4m14.1 0h1.4m9.6 0h1.4m-23.4 0.5h1.4m19.1 0h1.4m-47.9 0.5h1.4m5.6 0h1.4m-15.4 0.5h1.4m1.1 0.5h1.4m20.6 0h1.4m-9.4 0.5h1.4m8.1 0h1.4m-3.4 0.5h1.4m0.6 0h1.4m-30.9 0.5h1.4m18.1 0h1.4m10.1 0h1.4m-29.4 0.5h1.4m34.6 0h1.4m6.1 0h1.4m-47.9 0.5h1.4m19.1 0h1.4m-0.9 0h1.4m-20.4 1h1.4m42.6 0h1.4m-14.4 0.5h1.4m12.1 0h1.4m-43.4 0.5h1.4m14.6 0h1.4m7.6 0h1.4m-13.4 0.5h1.4m2.1 0h1.4m3.1 0h1.4m6.1 0h1.4m-1.4 0.5h1.4m-29.4 0.5h1.4m28.6 0h1.4m2.6 0h1.4m-42.9 0.5h1.4m11.6 0.5h1.4m-3.9 1.5h1.4m12.1 0.5h1.4m5.1 0h1.4m-0.9 0h1.4m6.1 0h1.4m4.1 0h1.4m-36.4 0.5h1.4m1.6 0h1.4m19.1 0h1.4m4.6 0.5h1.4m-36.9 0.5h1.4m28.6 0.5h1.4m-1.4 0.5h1.4m-19.4 0.5h1.4m-5.4 1h1.4m-1.9 0.5h1.4m7.6 0.5h1.4m29.1 0h1.4m-45.9 0.5h1.4m-7.4 0.5h1.4m4.6 0h1.4m20.1 0h1.4m-26.9 0.5h1.4m14.6 0h1.4m5.6 0h1.4m-25.9 0.5h1.4m7.6 0h1.4m-9.4 1h1.4m15.6 0.5h1.4m-7.4 0.5h1.4m3.1 0h1.4m-13.9 4.5h1.4m-4.9 0.5h1.4m12.6 7h1.4m-10.4 1h1.4m6.1 4.5h1.4m1.6 2.5h1.4m0.6 0h1.4m-12.4 1.5h1.4m-0.9 0.5h1.4m8.6 2h1.4" stroke="#c6d62b" stroke-width="1.4" fill="none"/>
<path d="M43 366.5h1.4m4.6 0.5h1.4m19.1 4h1.4m-29.9 1h1.4m2.6 0.5h1.4m-0.9 1h1.4m9.1 0.5h1.4m12.1 0h1.4m-18.9 1h1.4m-8.9 1.5h1.4m2.6 0h1.4m3.6 0h1.4m-3.4 1.5h1.4m0.1 0h1.4m23.1 0.5h1.4m-29.9 1h1.4m20.6 0h1.4m-24.4 0.5h1.4m-0.4 0h1.4m6.1 0h1.4m1.1 0h1.4m-12.4 0.5h1.4m-8.9 1h1.4m22.6 0h1.4m-11.4 0.5h1.4m-9.4 0.5h1.4m2.6 0h1.4m11.6 0h1.4m21.1 0h1.4m-44.9 0.5h1.4m17.1 0h1.4m-19.4 1h1.4m4.6 0h1.4m19.1 0h1.4m-24.4 0.5h1.4m15.1 0h1.4m-15.4 0.5h1.4m0.1 0.5h1.4m0.1 0h1.4m-14.4 0.5h1.4m15.6 0h1.4m19.1 0h1.4m-20.4 0.5h1.4m-2.9 0.5h1.4m0.1 0h1.4m13.1 0h1.4m-6.4 0.5h1.4m-22.4 0.5h1.4m-8.4 0.5h1.4m17.1 0h1.4m7.6 0h1.4m-28.4 0.5h1.4m2.1 0h1.4m11.1 0h1.4m12.1 0h1.4m-24.9 1h1.4m7.6 0h1.4m-10.4 1h1.4m-0.9 0h1.4m0.6 0.5h1.4m-0.4 0h1.4m32.1 0h1.4m-35.9 1h1.4m-0.9 0.5h1.4m9.1 0h1.4m27.1 0h1.4m-45.4 0.5h1.4m-4.9 0.5h1.4m10.1 0h1.4m17.6 0h1.4m-27.4 1h1.4m21.1 0h1.4m-27.4 0.5h1.4m29.1 0h1.4m-33.9 1.5h1.4m27.6 0h1.4m-23.9 1h1.4m-0.9 0h1.4m4.6 0h1.4m-12.9 1h1.4m5.1 0h1.4m9.6 0h1.4m-10.4 0.5h1.4m3.6 0h1.4m4.1 0h1.4m-18.4 4h1.4m4.1 3h1.4m7.1 1.5h1.4" stroke="#70bc44" stroke-width="1.4" fill="none"/>
<path d="M43 366h1.4m3.6 7h1.4m7.1 1h1.4m10.6 0h1.4m-21.9 2h1.4m-8.9 0.5h1.4m1.6 1h1.4m1.6 2h1.4m4.1 1.5h1.4m-4.9 1h1.4m9.6 0h1.4m-9.4 1.5h1.4m-0.9 1h1.4m-12.9 1h1.4m23.1 0h1.4m-5.4 0.5h1.4m16.1 0h1.4m-26.9 0.5h1.4m-9.4 0.5h1.4m28.1 0h1.4m-16.9 1.5h1.4m-14.4 0.5h1.4m9.1 0h1.4m18.1 0h1.4m-29.9 0.5h1.4m7.1 0.5h1.4m-0.4 0h1.4m-10.9 2.5h1.4m-9.4 0.5h1.4m2.6 0h1.4m3.1 0h1.4m-7.9 1h1.4m-0.9 0.5h1.4m8.6 0h1.4m17.6 0.5h1.4m-13.4 0.5h1.4m-2.4 4h1.4m-18.9 0.5h1.4m-0.4 0h1.4m15.1 0h1.4m-0.9 0h1.4m-17.9 1.5h1.4m7.6 0h1.4m-4.9 0.5h1.4m-2.9 0.5h1.4m-3.9 1h1.4m-2.4 1.5h1.4m-1.4 1h1.4m4.6 0h1.4" stroke="#4db88a" stroke-width="1.4" fill="none"/>
<path d="M43.5 373h1.4m11.6 5.5h1.4m-8.9 2h1.4m-1.4 0.5h1.4m7.6 0.5h1.4m-9.4 0.5h1.4m0.1 2h1.4m-8.4 1h1.4m-5.9 0.5h1.4m5.6 0.5h1.4m-1.4 0.5h1.4m-7.9 2h1.4m34.1 1.5h1.4m-37.4 0.5h1.4m1.6 0h1.4m4.1 0h1.4m-4.4 1h1.4m6.6 0h1.4m-4.4 0.5h1.4m-7.9 0.5h1.4m3.6 0.5h1.4m-4.9 0.5h1.4m4.1 2.5h1.4m-7.9 1h1.4m4.6 2h1.4" stroke="#2ea4dc" stroke-width="1.4" fill="none"/>
<path d="M43 382.5h1.4m2.1 1h1.4m-3.4 0.5h1.4m-5.9 3h1.4m13.1 1.5h1.4m-2.9 4h1.4m14.6 0h1.4m-25.4 2h1.4m7.1 1h1.4m-8.9 3.5h1.4m8.6 0.5h1.4" stroke="#3d60ac" stroke-width="1.4" fill="none"/>
<path d="M42.5 377h1.4m1.1 7h1.4m3.1 1h1.4m-10.4 3h1.4m14.6 0.5h1.4m-12.9 9h1.4m7.1 0h1.4m-12.4 0.5h1.4" stroke="#534fa1" stroke-width="1.4" fill="none"/>
<path d="M53 383h1.4m-6.9 2h1.4m-3.4 9h1.4" stroke="#9e449c" stroke-width="1.4" fill="none"/>
<path d="M42.5 359.5h1.4m0.6 0h1.4m1.1 1h1.4m6.1 1h1.4m-12.9 0.5h1.4m9.1 0h1.4m4.6 0h1.4m-7.4 1h1.4m0.1 0.5h1.4m-4.4 0.5h1.4m-12.9 0.5h1.4m0.1 0h1.4m19.1 0h1.4m-18.9 0.5h1.4m-1.9 0.5h1.4m3.1 0h1.4m2.1 0h1.4m27.1 0.5h1.4m-42.9 1h1.4m17.1 0.5h1.4m36.6 0h1.4m-44.4 0.5h1.4m11.6 0h1.4m4.1 0h1.4m-25.9 0.5h1.4m14.1 0h1.4m7.6 0.5h1.4m-31.9 0.5h1.4m5.6 0h1.4m3.1 0.5h1.4m-0.9 0h1.4m1.6 0h1.4m-2.9 0.5h1.4m0.1 0h1.4m3.1 0h1.4m15.6 0h1.4m10.1 0h1.4m-42.4 0.5h1.4m17.6 0h1.4m15.6 0h1.4m-37.4 0.5h1.4m11.6 0h1.4m4.1 0h1.4m7.6 0h1.4m-21.9 0.5h1.4m15.1 0h1.4m30.6 0h1.4m-56.9 0.5h1.4m1.1 0h1.4m10.6 0h1.4m4.6 0h1.4m2.6 0h1.4m-31.9 0.5h1.4m5.6 0h1.4m18.1 0h1.4m27.1 0h1.4m-51.4 0.5h1.4m-0.9 0h1.4m22.1 0h1.4m-25.9 0.5h1.4m10.6 0h1.4m-0.9 0h1.4m13.1 0h1.4m12.6 0h1.4m-46.4 0.5h1.4m8.6 0h1.4m19.1 0h1.4m-10.4 1h1.4m4.1 0h1.4m7.1 0h1.4m-26.4 0.5h1.4m57.6 0h1.4m-55.9 0.5h1.4m-11.9 0.5h1.4m-7.4 0.5h1.4m19.1 0h1.4m15.6 0h1.4m-15.9 0.5h1.4m-14.9 0.5h1.4m3.1 0h1.4m3.1 0h1.4m2.1 0h1.4m-24.4 0.5h1.4m14.1 0h1.4m1.1 0h1.4m8.6 0h1.4m17.1 0h1.4m0.6 0.5h1.4m0.6 0h1.4m1.1 0h1.4m-29.9 0.5h1.4m2.1 0h1.4m5.6 0.5h1.4m16.6 0h1.4m-38.4 0.5h1.4m2.6 0h1.4m32.6 0h1.4m-25.9 0.5h1.4m8.6 0h1.4m0.1 0h1.4m-25.9 1h1.4m8.1 0h1.4m-0.4 0h1.4m29.1 0h1.4m-42.4 0.5h1.4m13.6 0h1.4m5.6 0.5h1.4m-30.4 0.5h1.4m71.1 0h1.4m-49.4 0.5h1.4m22.6 0h1.4m-14.4 0.5h1.4m2.1 0.5h1.4m-0.9 0h1.4m8.6 0h1.4m-36.4 1h1.4m29.6 0h1.4m-26.9 0.5h1.4m15.6 0h1.4m-22.9 0.5h1.4m5.6 0h1.4m5.1 0h1.4m11.6 0h1.4m8.6 0h1.4m-49.9 1h1.4m6.6 0h1.4m21.1 0h1.4m11.1 0h1.4m-8.4 0.5h1.4m-45.9 0.5h1.4m14.1 0.5h1.4m2.6 0h1.4m-0.4 0h1.4m19.6 0h1.4m22.6 0h1.4m-47.4 1h1.4m-0.4 0h1.4m16.6 0h1.4m-0.9 0h1.4m-27.4 1h1.4m-0.4 0h1.4m31.6 0h1.4m-22.4 0.5h1.4m-14.9 0.5h1.4m13.6 0h1.4m5.1 0.5h1.4m19.6 0h1.4m-52.9 0.5h1.4m0.6 0h1.4m30.6 0h1.4m4.6 0h1.4m-32.4 0.5h1.4m20.1 0h1.4m10.1 0h1.4m-33.9 0.5h1.4m5.1 0h1.4m-0.9 0h1.4m6.1 0h1.4m19.1 0.5h1.4m-55.4 0.5h1.4m35.6 0h1.4m0.6 0.5h1.4m1.6 0h1.4m-25.4 0.5h1.4m-8.4 0.5h1.4m18.1 0.5h1.4m4.6 0h1.4m9.1 0h1.4m-28.9 0.5h1.4m9.1 0h1.4m3.1 0.5h1.4m-22.9 0.5h1.4m32.6 0h1.4m10.1 0h1.4m28.6 0h1.4m-68.4 0.5h1.4m14.6 0h1.4m21.6 0h1.4m-37.9 0.5h1.4m0.1 0h1.4m5.6 0h1.4m-18.4 0.5h1.4m3.1 0h1.4m-7.9 0.5h1.4m-0.4 0h1.4m8.6 0.5h1.4m-14.4 0.5h1.4m-8.9 0.5h1.4m16.6 0h1.4m-21.4 0.5h1.4m7.6 0h1.4m1.6 0.5h1.4m33.1 0.5h1.4m-44.4 0.5h1.4m-4.4 0.5h1.4m33.6 0h1.4m-9.9 0.5h1.4m-4.4 0.5h1.4m-16.9 0.5h1.4m18.6 0.5h1.4m-31.9 0.5h1.4m15.6 0.5h1.4m5.6 0.5h1.4m-23.9 0.5h1.4m1.6 0h1.4m-0.4 0h1.4m5.6 0h1.4m32.6 0h1.4m-29.4 0.5h1.4m-13.9 2.5h1.4m33.6 0h1.4m-41.4 1h1.4m22.6 0h1.4m9.6 0h1.4m-36.9 0.5h1.4m5.1 0.5h1.4m6.6 2.5h1.4m15.1 0.5h1.4m-27.4 0.5h1.4m-5.9 0.5h1.4m10.6 0h1.4m24.6 0.5h1.4m-37.9 1h1.4m8.6 0h1.4m-12.9 0.5h1.4m8.1 0.5h1.4m-0.9 0.5h1.4m5.1 0h1.4m3.6 0h1.4m-22.9 0.5h1.4m-0.4 2.5h1.4m14.6 0.5h1.4m-0.4 1h1.4m-12.9 0.5h1.4m-4.9 0.5h1.4m-4.4 0.5h1.4m0.1 0h1.4m5.1 0h1.4m-7.4 2h1.4m0.1 2h1.4m17.1 2h1.4m-4.4 0.5h1.4m-11.4 0.5h1.4m-3.9 1h1.4m2.1 0h1.4m-5.9 2h1.4" stroke="#f5b21b" stroke-width="1.4" fill="none"/>
<path d="M43.5 366h1.4m-2.4 0.5h1.4m3.6 0h1.4m8.6 0h1.4m-2.4 2h1.4m-8.4 0.5h1.4m4.1 0h1.4m-5.9 1h1.4m38.1 1h1.4m-41.4 0.5h1.4m-1.9 0.5h1.4m23.1 0.5h1.4m-21.9 0.5h1.4m-11.4 1.5h1.4m20.6 0h1.4m21.1 0.5h1.4m-20.9 0.5h1.4m-29.9 0.5h1.4m22.6 0h1.4m8.1 0h1.4m-0.4 0h1.4m-21.9 0.5h1.4m8.6 0h1.4m4.6 1.5h1.4m4.1 0h1.4m0.6 0h1.4m-34.9 0.5h1.4m-6.9 0.5h1.4m7.1 0.5h1.4m25.1 0h1.4m-3.9 0.5h1.4m-15.9 0.5h1.4m-13.4 0.5h1.4m0.6 0h1.4m14.1 0h1.4m23.1 0h1.4m-0.9 0h1.4m-49.9 0.5h1.4m42.1 0h1.4m-25.4 0.5h1.4m2.1 0h1.4m9.1 0h1.4m-19.4 0.5h1.4m30.1 0h1.4m-45.9 0.5h1.4m4.6 0h1.4m8.6 0h1.4m0.6 0h1.4m21.1 0h1.4m-23.9 0.5h1.4m7.6 0.5h1.4m22.6 0h1.4m-49.9 0.5h1.4m16.6 0h1.4m-2.4 0.5h1.4m-16.4 0.5h1.4m15.6 0.5h1.4m-23.4 0.5h1.4m11.6 1h1.4m5.1 0h1.4m-8.9 0.5h1.4m14.1 0h1.4m5.1 0h1.4m-24.4 0.5h1.4m6.6 0h1.4m-12.9 0.5h1.4m16.6 0h1.4m-14.4 0.5h1.4m-0.9 0h1.4m11.1 0h1.4m-22.4 0.5h1.4m24.6 0h1.4m4.1 0h1.4m-36.9 0.5h1.4m8.6 0h1.4m11.1 0h1.4m-8.9 0.5h1.4m1.1 0h1.4m12.1 0h1.4m3.6 0h1.4m-22.4 0.5h1.4m0.1 0h1.4m2.1 0h1.4m-19.4 1h1.4m0.6 0.5h1.4m0.1 0h1.4m30.6 0h1.4m-0.9 0h1.4m-40.4 0.5h1.4m0.6 0h1.4m12.1 0h1.4m3.1 0h1.4m3.1 0h1.4m0.6 0h1.4m-18.9 0.5h1.4m-7.9 0.5h1.4m3.1 0h1.4m31.6 0h1.4m-11.4 0.5h1.4m7.1 0h1.4m7.6 0h1.4m-37.4 0.5h1.4m-3.4 0.5h1.4m13.6 0h1.4m-17.4 0.5h1.4m18.1 0h1.4m9.6 0h1.4m-0.4 0h1.4m-29.9 0.5h1.4m6.6 0h1.4m-12.9 0.5h1.4m1.6 0h1.4m-0.4 0h1.4m6.1 0h1.4m-17.4 0.5h1.4m10.6 0h1.4m8.1 0h1.4m16.6 0h1.4m-36.4 0.5h1.4m-1.9 0.5h1.4m13.1 0h1.4m-0.9 0h1.4m0.1 0h1.4m-6.4 1h1.4m-16.9 0.5h1.4m-5.9 1h1.4m1.1 0h1.4m4.6 0h1.4m6.1 0h1.4m-12.9 0.5h1.4m-4.9 0.5h1.4m25.1 1h1.4m-18.9 0.5h1.4m13.1 0.5h1.4m-19.4 0.5h1.4m-7.9 0.5h1.4m8.1 0h1.4m-11.4 0.5h1.4m11.6 0h1.4m1.1 0.5h1.4m-1.4 0.5h1.4m-11.4 1h1.4m-0.9 0h1.4m1.6 0h1.4m0.6 0h1.4m10.1 0h1.4m-9.4 0.5h1.4m-1.4 0.5h1.4m-13.4 1h1.4m13.1 0h1.4m-0.4 0.5h1.4m8.6 0.5h1.4m-17.9 0.5h1.4m-10.4 4.5h1.4m4.1 0h1.4m6.6 0h1.4m-9.4 0.5h1.4m0.6 1.5h1.4m-3.9 2.5h1.4m-6.9 1h1.4m21.6 0h1.4m-11.9 3h1.4m8.1 2.5h1.4m-7.4 2.5h1.4m-11.4 0.5h1.4m8.6 1h1.4" stroke="#c6d62b" stroke-width="1.4" fill="none"/>
<path d="M44 367h1.4m4.6 3.5h1.4m1.1 0.5h1.4m0.6 0.5h1.4m-16.9 0.5h1.4m-0.9 0h1.4m13.1 1h1.4m-6.9 0.5h1.4m13.1 1h1.4m4.1 0h1.4m-25.9 0.5h1.4m1.6 0h1.4m17.1 0h1.4m-26.9 0.5h1.4m19.1 0h1.4m-14.4 1h1.4m2.1 0h1.4m-10.9 1h1.4m2.6 0h1.4m8.6 0h1.4m-13.4 0.5h1.4m10.6 0h1.4m-13.9 1h1.4m0.6 0h1.4m8.6 0h1.4m-15.4 0.5h1.4m-0.4 0.5h1.4m8.1 0h1.4m-9.4 0.5h1.4m1.6 0h1.4m0.6 0h1.4m-5.9 0.5h1.4m18.1 0h1.4m-21.4 0.5h1.4m20.6 0h1.4m-0.4 0h1.4m-14.4 0.5h1.4m-0.9 0h1.4m-14.4 0.5h1.4m17.1 0h1.4m-0.4 0h1.4m2.6 0h1.4m-25.9 0.5h1.4m28.6 0h1.4m10.6 0h1.4m-22.4 0.5h1.4m-21.9 0.5h1.4m12.6 0.5h1.4m26.6 0h1.4m-18.9 0.5h1.4m-8.9 0.5h1.4m-0.4 0h1.4m16.1 0.5h1.4m-32.4 0.5h1.4m3.1 0h1.4m-1.4 0.5h1.4m2.6 0h1.4m-0.9 0h1.4m36.6 0h1.4m-44.4 0.5h1.4m-0.9 0h1.4m-2.4 0.5h1.4m7.6 0h1.4m-2.9 0.5h1.4m0.6 0h1.4m4.6 0h1.4m-0.9 0h1.4m11.1 0.5h1.4m5.1 0h1.4m-41.4 1h1.4m5.1 0h1.4m-0.4 0h1.4m4.1 0h1.4m4.1 0h1.4m-9.9 0.5h1.4m-0.4 0.5h1.4m-11.4 0.5h1.4m33.1 0h1.4m-32.4 0.5h1.4m-9.9 0.5h1.4m6.1 0h1.4m10.6 0h1.4m-21.9 1.5h1.4m0.6 0h1.4m21.6 0h1.4m6.6 0h1.4m4.1 0h1.4m2.1 0h1.4m-26.9 0.5h1.4m4.6 0h1.4m-14.4 0.5h1.4m29.6 0.5h1.4m-37.4 0.5h1.4m-2.4 0.5h1.4m2.1 0h1.4m2.6 0h1.4m34.6 0h1.4m-48.4 0.5h1.4m20.6 0h1.4m-6.9 0.5h1.4m14.1 0h1.4m-22.9 0.5h1.4m16.1 0.5h1.4m-29.4 0.5h1.4m13.1 0h1.4m0.1 0h1.4m-16.4 0.5h1.4m4.6 0h1.4m7.6 0h1.4m1.6 0h1.4m3.6 0h1.4m-22.4 1h1.4m0.1 0.5h1.4m4.1 0h1.4m-3.4 1h1.4m4.6 0h1.4m-14.9 0.5h1.4m0.1 0h1.4m6.1 0h1.4m0.1 0h1.4m1.6 0h1.4m2.6 0h1.4m-4.4 0.5h1.4m-0.9 0.5h1.4m-11.4 2h1.4m-3.9 2h1.4" stroke="#70bc44" stroke-width="1.4" fill="none"/>
<path d="M43.5 372h1.4m18.1 2h1.4m-16.9 1h1.4m-8.9 1.5h1.4m14.1 2h1.4m-11.4 0.5h1.4m9.1 0h1.4m-18.4 1h1.4m9.1 0h1.4m4.6 0h1.4m-2.9 0.5h1.4m-15.9 1h1.4m9.6 0h1.4m-1.4 0.5h1.4m16.1 0h1.4m-21.4 0.5h1.4m10.6 0h1.4m-10.4 1h1.4m0.6 0h1.4m5.6 1.5h1.4m-4.4 0.5h1.4m-17.4 0.5h1.4m12.6 0h1.4m22.6 0h1.4m-35.9 3h1.4m2.6 0h1.4m26.6 0h1.4m-26.9 0.5h1.4m-9.9 1h1.4m12.6 0.5h1.4m-15.4 0.5h1.4m23.6 0.5h1.4m-28.9 0.5h1.4m3.6 0h1.4m0.1 0h1.4m28.1 0h1.4m-33.4 1h1.4m14.1 0h1.4m15.6 0.5h1.4m-36.4 0.5h1.4m1.6 0h1.4m6.6 0.5h1.4m-3.9 0.5h1.4m8.1 0h1.4m-4.4 0.5h1.4m1.1 0h1.4m-20.9 0.5h1.4m0.6 0h1.4m-0.4 0.5h1.4m1.6 0h1.4m-0.4 1h1.4m-5.4 1h1.4m14.6 0.5h1.4m-12.9 0.5h1.4m7.6 0h1.4m-5.4 2h1.4m-10.4 3h1.4m5.6 0.5h1.4" stroke="#4db88a" stroke-width="1.4" fill="none"/>
<path d="M44 373.5h1.4m7.1 0h1.4m0.6 1h1.4m-9.4 2h1.4m-2.4 3.5h1.4m-6.4 1h1.4m-1.9 0.5h1.4m12.6 0h1.4m-15.4 0.5h1.4m-0.4 0h1.4m0.6 0h1.4m-4.9 1.5h1.4m4.1 0h1.4m-5.4 1h1.4m2.1 0h1.4m2.6 0.5h1.4m-3.4 1h1.4m-8.4 1.5h1.4m13.1 0.5h1.4m16.6 0h1.4m-33.4 1h1.4m9.6 2h1.4m4.1 0.5h1.4m-11.4 0.5h1.4m-1.9 0.5h1.4m-2.4 1h1.4m-6.9 0.5h1.4m20.6 0h1.4m-18.9 0.5h1.4m4.1 1h1.4m1.1 1h1.4m-0.9 0.5h1.4m-12.9 0.5h1.4m-1.4 0.5h1.4m2.6 0h1.4m3.6 1h1.4m-0.9 0.5h1.4m-6.4 0.5h1.4m-3.9 5.5h1.4" stroke="#2ea4dc" stroke-width="1.4" fill="none"/>
<path d="M48 377h1.4m2.1 4h1.4m-13.4 3h1.4m9.1 1.5h1.4m3.6 1h1.4m-9.9 3h1.4m-2.9 7.5h1.4m-1.9 0.5h1.4m0.6 0h1.4m6.6 0h1.4m-2.4 0.5h1.4m-9.9 2.5h1.4" stroke="#3d60ac" stroke-width="1.4" fill="none"/>
<path d="M44.5 382.5h1.4m-0.9 0h1.4m-4.4 6h1.4m6.6 4.5h1.4m-9.9 2h1.4m-0.9 3h1.4" stroke="#534fa1" stroke-width="1.4" fill="none"/>
<path d="M44 386.5h1.4" stroke="#9e449c" stroke-width="1.4" fill="none"/>
<path d="M50.5 386h1.4m1.1 6h1.4" stroke="#b8409a" stroke-width="1.4" fill="none"/>
<path d="M48 357h1.4m-6.9 4h1.4m1.6 1.5h1.4m13.6 0.5h1.4m-20.9 1h1.4m1.6 0h1.4m-5.9 0.5h1.4m57.1 0h1.4m-49.9 0.5h1.4m-4.4 0.5h1.4m22.1 0h1.4m-26.4 0.5h1.4m13.6 0.5h1.4m13.6 0.5h1.4m-13.9 0.5h1.4m-20.9 0.5h1.4m12.6 0h1.4m-19.4 0.5h1.4m8.6 0.5h1.4m0.1 0h1.4m15.1 0h1.4m5.6 0h1.4m27.6 0h1.4m-59.9 1h1.4m2.6 0.5h1.4m-0.4 0h1.4m-12.4 0.5h1.4m36.6 0h1.4m23.6 0h1.4m-55.9 0.5h1.4m9.6 0h1.4m0.1 1h1.4m32.6 0h1.4m-56.4 0.5h1.4m10.1 0h1.4m4.1 0h1.4m3.1 0h1.4m31.1 0h1.4m24.6 0h1.4m-79.9 1h1.4m16.1 0h1.4m3.6 0.5h1.4m22.6 0h1.4m-29.4 0.5h1.4m10.1 0.5h1.4m1.1 0h1.4m-29.9 0.5h1.4m6.6 0h1.4m5.6 0h1.4m1.1 0h1.4m8.6 0h1.4m-34.4 0.5h1.4m4.1 0h1.4m13.1 0h1.4m9.1 0h1.4m27.1 0h1.4m-53.9 0.5h1.4m24.6 0h1.4m2.1 0h1.4m0.6 0h1.4m9.1 0h1.4m-7.9 0.5h1.4m-16.4 0.5h1.4m13.6 0h1.4m11.1 0.5h1.4m-27.4 0.5h1.4m28.1 0h1.4m-31.4 0.5h1.4m4.6 0h1.4m6.1 0h1.4m34.6 0h1.4m3.6 0h1.4m-42.4 0.5h1.4m-0.9 0h1.4m-0.4 0h1.4m13.6 0h1.4m-38.4 0.5h1.4m34.6 0h1.4m-54.9 0.5h1.4m24.6 0h1.4m10.6 0h1.4m22.1 0h1.4m-57.4 0.5h1.4m50.6 0.5h1.4m0.1 0h1.4m-34.4 0.5h1.4m-17.9 0.5h1.4m53.6 0h1.4m-66.9 0.5h1.4m15.6 0h1.4m27.1 0h1.4m-30.4 0.5h1.4m5.1 0h1.4m7.1 0h1.4m23.1 0h1.4m9.6 0h1.4m-51.9 1h1.4m27.6 0h1.4m1.6 0h1.4m4.6 0.5h1.4m-11.4 0.5h1.4m7.1 0h1.4m-55.9 0.5h1.4m8.1 0h1.4m31.6 0h1.4m3.1 0h1.4m-48.9 0.5h1.4m5.1 0h1.4m28.6 0h1.4m24.1 0h1.4m-45.4 0.5h1.4m17.6 0h1.4m29.1 0h1.4m-63.9 0.5h1.4m41.6 0h1.4m9.1 0h1.4m-43.9 1h1.4m3.6 0h1.4m23.1 0h1.4m-7.9 0.5h1.4m-19.4 1h1.4m17.6 0h1.4m-14.9 0.5h1.4m23.6 0.5h1.4m2.1 0h1.4m-17.9 0.5h1.4m17.6 0h1.4m-30.4 0.5h1.4m17.6 0h1.4m3.1 0h1.4m-15.9 0.5h1.4m20.1 0h1.4m-48.9 0.5h1.4m8.6 0h1.4m34.1 0h1.4m-37.9 1h1.4m40.6 0.5h1.4m-54.4 0.5h1.4m6.1 0h1.4m30.6 0h1.4m10.1 0h1.4m-27.9 0.5h1.4m15.6 0h1.4m-37.9 0.5h1.4m3.6 0h1.4m10.1 0h1.4m0.1 0h1.4m3.1 0.5h1.4m-13.4 0.5h1.4m-2.9 0.5h1.4m-0.4 0h1.4m13.1 0h1.4m9.6 0h1.4m-36.9 1h1.4m25.6 0h1.4m-21.4 0.5h1.4m22.6 0h1.4m0.6 0h1.4m-14.4 0.5h1.4m-8.4 0.5h1.4m-21.4 0.5h1.4m-2.9 0.5h1.4m24.6 0h1.4m-14.9 0.5h1.4m1.1 0h1.4m0.6 0h1.4m8.1 0h1.4m1.1 0.5h1.4m14.6 0h1.4m15.6 0h1.4m0.6 0h1.4m-50.4 0.5h1.4m2.1 0h1.4m-0.9 0h1.4m4.1 0h1.4m1.1 0h1.4m-33.4 0.5h1.4m10.6 0h1.4m7.1 0.5h1.4m3.6 0h1.4m1.1 0h1.4m13.6 0.5h1.4m-31.9 0.5h1.4m5.1 0h1.4m1.1 0.5h1.4m-22.9 0.5h1.4m12.1 0h1.4m7.6 0h1.4m-19.9 0.5h1.4m4.6 0h1.4m44.6 0h1.4m-57.9 0.5h1.4m10.1 0h1.4m10.1 0h1.4m-10.9 0.5h1.4m4.1 0h1.4m-0.4 0h1.4m2.1 0h1.4m20.1 0h1.4m9.1 0h1.4m-42.4 0.5h1.4m41.1 0h1.4m-43.9 0.5h1.4m21.6 1h1.4m-38.9 0.5h1.4m9.1 0h1.4m1.1 0.5h1.4m-12.9 0.5h1.4m6.1 0h1.4m5.6 0.5h1.4m0.1 0h1.4m-3.4 1h1.4m-0.4 0.5h1.4m3.1 0h1.4m-21.4 1.5h1.4m18.6 0.5h1.4m-8.9 2h1.4m23.1 1h1.4m-31.4 2h1.4m6.6 2.5h1.4m3.6 1h1.4m-18.4 0.5h1.4m5.1 0h1.4m-5.4 1h1.4m1.6 1h1.4m-0.9 2.5h1.4m-1.4 1h1.4m10.6 2h1.4m-13.9 2h1.4m6.1 0.5h1.4m-12.4 2h1.4m-5.9 6.5h1.4m-0.4 1h1.4m3.6 6.5h1.4" stroke="#f5b21b" stroke-width="1.4" fill="none"/>
<path d="M39 363h1.4m2.6 2.5h1.4m-5.4 0.5h1.4m6.1 0h1.4m0.6 0h1.4m-4.4 0.5h1.4m2.6 0h1.4m-4.9 0.5h1.4m0.6 0h1.4m10.1 0h1.4m-16.4 1.5h1.4m8.6 0h1.4m-10.4 1h1.4m5.6 0h1.4m-12.4 0.5h1.4m-3.4 0.5h1.4m22.6 0.5h1.4m8.1 0h1.4m-0.9 0.5h1.4m-34.9 0.5h1.4m12.1 0.5h1.4m18.6 0h1.4m-35.9 0.5h1.4m7.6 0.5h1.4m-0.9 0.5h1.4m-3.4 1h1.4m5.1 0h1.4m-9.4 0.5h1.4m1.1 0h1.4m8.1 0h1.4m16.1 0h1.4m-36.9 0.5h1.4m-0.9 0h1.4m9.6 0h1.4m21.1 0h1.4m-32.9 0.5h1.4m8.6 0h1.4m3.1 0h1.4m22.1 0h1.4m-39.9 0.5h1.4m3.6 0h1.4m5.6 0h1.4m8.6 0h1.4m-19.9 0.5h1.4m1.1 0h1.4m5.6 0h1.4m4.1 0h1.4m-15.4 0.5h1.4m12.1 0h1.4m13.6 0h1.4m-5.4 0.5h1.4m1.1 0h1.4m-14.9 1h1.4m17.6 0h1.4m-0.4 0h1.4m-31.9 0.5h1.4m19.1 0h1.4m3.1 0h1.4m-28.9 0.5h1.4m0.6 0.5h1.4m13.6 0h1.4m-0.4 0h1.4m-18.9 0.5h1.4m0.6 0h1.4m5.6 0h1.4m-0.9 0h1.4m-0.4 0h1.4m10.1 0h1.4m1.6 0h1.4m8.6 0h1.4m-35.4 0.5h1.4m11.6 0h1.4m-0.9 0h1.4m0.1 0h1.4m9.6 0h1.4m15.6 0h1.4m-41.9 0.5h1.4m17.6 0h1.4m-2.4 0.5h1.4m3.6 0h1.4m-0.4 0h1.4m-10.4 0.5h1.4m-13.4 0.5h1.4m6.6 0h1.4m-0.9 0h1.4m19.6 0h1.4m-5.4 0.5h1.4m-38.9 0.5h1.4m8.6 0h1.4m3.6 0h1.4m9.6 0h1.4m12.1 0.5h1.4m3.6 0h1.4m-45.9 1h1.4m17.1 0h1.4m29.6 0h1.4m-45.4 1h1.4m19.6 0h1.4m10.1 0h1.4m-32.9 0.5h1.4m0.6 0h1.4m1.6 0.5h1.4m8.6 0h1.4m3.6 0h1.4m5.6 0h1.4m-28.9 0.5h1.4m13.6 0h1.4m-8.9 0.5h1.4m3.6 0h1.4m11.1 0h1.4m3.6 0h1.4m-16.9 0.5h1.4m17.1 0h1.4m5.6 0h1.4m-49.9 0.5h1.4m2.1 0h1.4m6.1 0h1.4m16.6 0h1.4m-0.9 0h1.4m15.1 0h1.4m1.1 0h1.4m-35.4 0.5h1.4m25.6 0h1.4m-23.4 0.5h1.4m12.6 0h1.4m12.1 0h1.4m-47.9 0.5h1.4m1.6 0h1.4m13.6 0h1.4m6.6 0h1.4m0.6 0h1.4m9.6 0h1.4m-0.9 0.5h1.4m7.6 0h1.4m-34.4 0.5h1.4m8.1 0h1.4m-22.4 0.5h1.4m17.1 0h1.4m31.1 0h1.4m-30.9 0.5h1.4m28.1 0h1.4m-46.9 0.5h1.4m13.6 0h1.4m-24.9 0.5h1.4m-2.4 0.5h1.4m-0.9 0h1.4m2.1 0h1.4m-0.4 0h1.4m15.6 0.5h1.4m0.1 0h1.4m-0.4 0h1.4m-17.9 0.5h1.4m18.1 0h1.4m-0.9 0h1.4m-19.4 0.5h1.4m17.1 0h1.4m2.6 0.5h1.4m11.1 0.5h1.4m-20.9 0.5h1.4m-21.4 0.5h1.4m13.1 0h1.4m10.1 0h1.4m-25.4 0.5h1.4m19.6 0h1.4m22.6 0h1.4m-53.9 1h1.4m1.6 0h1.4m7.1 0h1.4m-0.4 0h1.4m-11.9 0.5h1.4m3.6 0.5h1.4m5.1 0h1.4m12.1 0.5h1.4m5.1 0h1.4m-29.4 0.5h1.4m20.1 0h1.4m-28.9 0.5h1.4m22.6 0h1.4m25.1 0h1.4m-31.9 1h1.4m-7.4 0.5h1.4m-0.9 0h1.4m-13.4 0.5h1.4m4.1 0h1.4m2.1 0h1.4m4.6 1.5h1.4m-11.4 0.5h1.4m-0.4 0h1.4m-7.4 0.5h1.4m3.1 0h1.4m1.1 0.5h1.4m0.6 0h1.4m-5.4 0.5h1.4m10.1 0.5h1.4m-15.4 1h1.4m-3.4 0.5h1.4m23.6 0h1.4m-12.4 0.5h1.4m-0.4 0h1.4m-17.9 0.5h1.4m8.1 0h1.4m-2.4 6h1.4m3.1 1h1.4m-2.4 1h1.4m6.6 0h1.4m-4.4 0.5h1.4m-17.9 1h1.4m21.6 1h1.4m-19.9 0.5h1.4m6.1 1h1.4m-1.4 1h1.4m3.1 1.5h1.4m-18.9 0.5h1.4m-0.9 0h1.4m14.1 0h1.4m-1.9 2.5h1.4m-10.4 0.5h1.4m-0.4 3.5h1.4" stroke="#c6d62b" stroke-width="1.4" fill="none"/>
<path d="M53.5 370.5h1.4m-3.4 1h1.4m2.1 0h1.4m-0.9 0.5h1.4m-17.9 1.5h1.4m1.6 0.5h1.4m11.1 0h1.4m-8.4 0.5h1.4m5.1 0h1.4m-8.4 1h1.4m11.6 0h1.4m-13.9 0.5h1.4m0.6 1h1.4m2.6 0h1.4m2.6 0.5h1.4m-14.9 0.5h1.4m11.1 0h1.4m-5.4 0.5h1.4m-5.4 0.5h1.4m-11.4 0.5h1.4m3.1 0h1.4m-0.9 0h1.4m5.1 0h1.4m5.6 0h1.4m-6.4 0.5h1.4m0.6 0h1.4m1.6 0h1.4m-19.4 0.5h1.4m-0.9 0h1.4m0.1 0h1.4m7.1 0h1.4m6.1 0h1.4m-19.9 0.5h1.4m1.1 0h1.4m0.6 0.5h1.4m14.1 0h1.4m6.1 0h1.4m1.1 0.5h1.4m-26.4 0.5h1.4m26.1 0h1.4m-32.9 0.5h1.4m1.1 0h1.4m26.1 0h1.4m3.6 0h1.4m-34.4 0.5h1.4m12.6 0h1.4m12.6 0h1.4m-28.4 0.5h1.4m6.6 0h1.4m0.1 0h1.4m26.1 0h1.4m-40.4 0.5h1.4m-0.4 0h1.4m12.1 0h1.4m3.6 0h1.4m18.1 0h1.4m-40.9 0.5h1.4m27.6 0.5h1.4m-8.4 0.5h1.4m-17.9 0.5h1.4m13.6 0h1.4m5.6 0h1.4m-1.9 0.5h1.4m-22.4 0.5h1.4m1.1 0h1.4m0.6 0h1.4m22.1 0h1.4m-25.4 0.5h1.4m16.6 0.5h1.4m4.1 0h1.4m-28.4 0.5h1.4m-1.9 0.5h1.4m3.1 0h1.4m31.6 0h1.4m-31.4 0.5h1.4m16.1 0.5h1.4m3.6 0h1.4m-30.4 0.5h1.4m3.1 0h1.4m8.1 0h1.4m-23.9 0.5h1.4m38.1 0h1.4m-31.9 0.5h1.4m-0.4 0h1.4m3.6 0h1.4m4.6 0h1.4m-20.9 1h1.4m13.6 0.5h1.4m15.1 0h1.4m-16.4 0.5h1.4m-2.4 0.5h1.4m-13.4 1h1.4m22.1 0h1.4m2.1 0h1.4m-29.4 0.5h1.4m2.6 0h1.4m3.6 0h1.4m-12.4 0.5h1.4m1.1 0h1.4m21.1 0h1.4m-22.9 0.5h1.4m40.1 0h1.4m-15.9 0.5h1.4m-20.9 0.5h1.4m-8.9 0.5h1.4m4.6 0h1.4m10.6 0h1.4m1.6 0h1.4m0.6 0h1.4m-22.9 0.5h1.4m12.6 0h1.4m-20.4 0.5h1.4m4.6 0.5h1.4m-5.4 0.5h1.4m4.1 0h1.4m-8.9 1h1.4m5.1 0.5h1.4m3.1 0h1.4m6.6 0h1.4m-17.4 0.5h1.4m13.1 1h1.4m-1.9 0.5h1.4m-18.4 0.5h1.4m7.1 0h1.4m-1.4 0.5h1.4m-10.9 0.5h1.4m11.6 3h1.4m-12.4 1h1.4" stroke="#70bc44" stroke-width="1.4" fill="none"/>
<path d="M44.5 367h1.4m24.1 4h1.4m-28.9 0.5h1.4m-0.9 0h1.4m-0.9 1h1.4m0.1 0.5h1.4m-4.4 0.5h1.4m11.6 0.5h1.4m-4.9 1h1.4m-7.9 3h1.4m11.6 0h1.4m-18.9 1.5h1.4m14.6 0h1.4m-2.9 0.5h1.4m-0.4 0h1.4m-2.4 0.5h1.4m-6.9 0.5h1.4m-1.4 0.5h1.4m4.1 0h1.4m-13.9 0.5h1.4m5.1 0h1.4m-0.9 0h1.4m0.6 0h1.4m16.6 0.5h1.4m-27.4 1h1.4m-0.4 0h1.4m2.1 0h1.4m19.6 0.5h1.4m-30.9 0.5h1.4m3.1 0h1.4m3.1 0h1.4m-7.4 0.5h1.4m9.1 0h1.4m15.1 0h1.4m-27.4 0.5h1.4m8.1 0h1.4m22.1 0h1.4m-37.9 0.5h1.4m9.6 0h1.4m21.1 0h1.4m-13.9 0.5h1.4m-7.9 0.5h1.4m-12.9 0.5h1.4m0.6 0h1.4m7.1 0.5h1.4m4.1 0h1.4m-15.9 0.5h1.4m28.1 0h1.4m-34.9 1h1.4m-2.4 0.5h1.4m-0.9 0h1.4m10.6 0h1.4m-0.9 0h1.4m2.6 0.5h1.4m3.6 0h1.4m-12.9 0.5h1.4m-2.9 0.5h1.4m-11.4 0.5h1.4m1.6 0h1.4m-0.4 0h1.4m0.6 0h1.4m36.1 0h1.4m-34.4 0.5h1.4m-8.9 0.5h1.4m7.6 0h1.4m4.1 0h1.4m-11.4 0.5h1.4m-0.4 0h1.4m7.1 0.5h1.4m-16.4 0.5h1.4m9.6 0.5h1.4m-11.4 0.5h1.4m4.6 0h1.4m8.1 0h1.4m12.6 0h1.4m-32.4 1h1.4m21.1 0h1.4m-24.4 0.5h1.4m0.1 0h1.4m-2.9 0.5h1.4m19.6 0h1.4m-11.9 0.5h1.4m6.1 0h1.4m-17.9 0.5h1.4m14.6 0h1.4m-13.4 1h1.4m2.1 0h1.4m6.6 0h1.4m-1.4 0.5h1.4m-13.4 0.5h1.4m4.6 1h1.4m7.1 0.5h1.4m-11.4 0.5h1.4m-7.4 1h1.4m10.1 0h1.4m-11.4 0.5h1.4m-2.4 1.5h1.4m0.6 1.5h1.4" stroke="#4db88a" stroke-width="1.4" fill="none"/>
<path d="M44 373h1.4m23.6 1h1.4m-27.4 3h1.4m-1.9 5.5h1.4m7.6 0h1.4m-12.9 1h1.4m1.6 0h1.4m24.6 1.5h1.4m-21.9 0.5h1.4m-2.4 0.5h1.4m9.6 0h1.4m-3.4 0.5h1.4m3.6 0h1.4m-12.4 0.5h1.4m-9.4 0.5h1.4m10.6 0.5h1.4m-10.4 0.5h1.4m3.6 0.5h1.4m5.6 0.5h1.4m16.6 0h1.4m-30.9 2.5h1.4m35.6 1.5h1.4m-41.9 3h1.4m13.1 1.5h1.4m-8.4 1.5h1.4m-5.9 6h1.4m-1.9 0.5h1.4" stroke="#2ea4dc" stroke-width="1.4" fill="none"/>
<path d="M43 372h1.4m1.6 4h1.4m0.6 2h1.4m-1.4 0.5h1.4m6.6 0h1.4m-11.9 1h1.4m-1.4 4.5h1.4m3.1 1h1.4m10.6 1.5h1.4m-14.4 4h1.4m7.1 0.5h1.4m-17.9 1.5h1.4m8.1 0h1.4m0.6 0h1.4m15.6 0h1.4m-17.9 0.5h1.4m-1.4 0.5h1.4m-9.9 0.5h1.4m0.6 0h1.4m-1.9 0.5h1.4m2.6 0.5h1.4m-0.4 0h1.4m0.1 1h1.4m7.6 1h1.4m-22.4 0.5h1.4m20.1 0h1.4m-20.4 2h1.4m-1.4 0.5h1.4m3.6 1h1.4" stroke="#3d60ac" stroke-width="1.4" fill="none"/>
<path d="M45 382h1.4m-0.4 1.5h1.4m4.1 3h1.4m-1.4 0.5h1.4m-10.4 1h1.4m0.1 1.5h1.4m-2.9 0.5h1.4m13.6 0h1.4m-13.4 2h1.4m3.6 3.5h1.4m-1.4 0.5h1.4m1.1 0h1.4m7.6 1h1.4" stroke="#534fa1" stroke-width="1.4" fill="none"/>
<path d="M47.5 385.5h1.4m-7.9 1.5h1.4m1.1 2.5h1.4m2.1 0h1.4m-1.4 0.5h1.4m4.1 2h1.4" stroke="#9e449c" stroke-width="1.4" fill="none"/>
<path d="M41 388h1.4m10.1 3.5h1.4m-0.9 0h1.4m-4.9 1h1.4" stroke="#b8409a" stroke-width="1.4" fill="none"/>
<path d="M50 349.5h1.4m-1.4 6.5h1.4m-11.4 0.5h1.4m8.1 1h1.4m22.1 2.5h1.4m-33.4 2h1.4m10.1 0.5h1.4m-4.9 1.5h1.4m2.1 0.5h1.4m-5.4 1h1.4m0.6 0.5h1.4m14.1 0h1.4m8.1 0h1.4m-15.4 0.5h1.4m16.1 0h1.4m-40.4 0.5h1.4m14.1 0h1.4m0.1 0h1.4m30.1 0h1.4m-48.4 0.5h1.4m3.6 0h1.4m41.6 0h1.4m-32.4 0.5h1.4m-12.4 0.5h1.4m5.1 0h1.4m0.6 0h1.4m-6.4 0.5h1.4m-10.4 0.5h1.4m6.6 0h1.4m-7.9 1h1.4m14.1 0h1.4m10.1 0h1.4m-29.9 0.5h1.4m18.1 0h1.4m-18.4 0.5h1.4m17.1 0h1.4m28.1 0h1.4m0.6 0h1.4m-54.4 0.5h1.4m3.6 0h1.4m62.6 0h1.4m-54.4 0.5h1.4m6.1 0.5h1.4m-10.9 0.5h1.4m22.6 0.5h1.4m-21.4 0.5h1.4m-22.4 0.5h1.4m24.6 0h1.4m8.1 0h1.4m30.6 0h1.4m-38.4 0.5h1.4m-14.9 0.5h1.4m44.6 0.5h1.4m-41.9 0.5h1.4m5.1 0h1.4m-28.9 0.5h1.4m50.1 0h1.4m0.6 0h1.4m-31.9 0.5h1.4m2.6 0h1.4m3.1 0h1.4m21.6 0h1.4m-38.9 0.5h1.4m4.1 0h1.4m5.6 0.5h1.4m16.6 0h1.4m-28.4 0.5h1.4m14.6 0h1.4m25.1 0h1.4m0.6 0.5h1.4m-61.4 0.5h1.4m29.6 0h1.4m-34.9 0.5h1.4m37.6 0h1.4m1.1 0h1.4m6.1 0h1.4m10.1 0h1.4m-27.9 0.5h1.4m17.1 0h1.4m30.6 0h1.4m-44.9 0.5h1.4m4.1 0h1.4m-13.4 0.5h1.4m9.1 0h1.4m-25.9 1h1.4m2.6 0h1.4m7.1 0h1.4m11.6 0h1.4m1.1 0h1.4m3.6 0h1.4m4.1 0h1.4m1.6 0h1.4m-28.9 0.5h1.4m3.1 0h1.4m23.1 0h1.4m-41.4 0.5h1.4m12.6 0h1.4m28.1 0h1.4m-56.9 0.5h1.4m15.1 0h1.4m0.6 0h1.4m43.6 0h1.4m-32.9 0.5h1.4m16.1 0.5h1.4m-32.4 0.5h1.4m11.1 0h1.4m-17.4 0.5h1.4m-8.4 0.5h1.4m-0.9 0h1.4m61.6 0h1.4m-43.9 0.5h1.4m19.6 0h1.4m-16.9 0.5h1.4m-19.4 0.5h1.4m-2.4 0.5h1.4m6.6 0.5h1.4m12.1 0h1.4m1.6 0h1.4m-50.4 0.5h1.4m25.1 0h1.4m18.1 0h1.4m-19.4 0.5h1.4m1.1 0.5h1.4m13.6 0.5h1.4m-36.9 0.5h1.4m16.1 0.5h1.4m-0.9 0.5h1.4m-8.9 0.5h1.4m1.1 0h1.4m-3.4 0.5h1.4m0.6 0h1.4m8.1 0h1.4m12.6 0h1.4m-32.9 0.5h1.4m20.1 0h1.4m-16.9 0.5h1.4m2.1 0h1.4m24.1 0h1.4m-50.4 0.5h1.4m20.6 0h1.4m8.6 0h1.4m-22.4 0.5h1.4m9.1 0h1.4m-3.4 0.5h1.4m7.1 0h1.4m44.6 0h1.4m-78.4 0.5h1.4m6.1 0h1.4m6.1 0h1.4m20.1 0h1.4m-14.9 0.5h1.4m23.6 0h1.4m-44.9 0.5h1.4m6.1 0.5h1.4m15.6 0h1.4m0.1 0h1.4m-8.9 0.5h1.4m7.6 0h1.4m26.6 0h1.4m-14.4 0.5h1.4m-26.4 0.5h1.4m-14.9 0.5h1.4m16.6 0h1.4m8.1 0h1.4m9.1 0h1.4m-52.4 0.5h1.4m25.1 0.5h1.4m8.1 0h1.4m-0.9 0h1.4m-34.9 0.5h1.4m4.6 0.5h1.4m2.6 0h1.4m12.6 0h1.4m60.1 0h1.4m-77.4 0.5h1.4m4.1 0h1.4m16.1 0h1.4m7.1 0h1.4m4.1 0h1.4m-0.9 0h1.4m-19.9 0.5h1.4m-13.4 0.5h1.4m1.6 0.5h1.4m4.1 0.5h1.4m3.1 0h1.4m-12.4 1h1.4m21.1 0h1.4m-15.9 0.5h1.4m-26.9 0.5h1.4m-0.4 0h1.4m29.6 0.5h1.4m-33.4 0.5h1.4m16.1 0h1.4m-15.4 0.5h1.4m2.1 0h1.4m1.6 0.5h1.4m14.6 0h1.4m10.6 0.5h1.4m-37.4 0.5h1.4m4.1 0h1.4m6.1 0h1.4m5.6 0.5h1.4m-20.4 0.5h1.4m0.1 0h1.4m39.1 0.5h1.4m-39.4 0.5h1.4m-1.9 0.5h1.4m0.6 0h1.4m-5.9 0.5h1.4m7.1 0h1.4m-15.4 1.5h1.4m2.6 0h1.4m1.6 0h1.4m8.6 0.5h1.4m13.1 0h1.4m-30.9 4.5h1.4m-4.4 2h1.4m15.1 0h1.4m-14.4 1.5h1.4m1.1 0h1.4m3.6 0h1.4m14.1 1.5h1.4m-28.9 3.5h1.4m-0.9 0h1.4m12.1 0.5h1.4m-11.4 0.5h1.4m-0.9 3h1.4m8.6 0.5h1.4m-12.9 2.5h1.4m-0.4 0.5h1.4m-1.4 1h1.4m11.1 0.5h1.4m-2.9 0.5h1.4m3.6 0.5h1.4m-16.9 1.5h1.4m5.1 5h1.4m-9.4 2.5h1.4m-3.9 0.5h1.4" stroke="#f5b21b" stroke-width="1.4" fill="none"/>
<path d="M47 365.5h1.4m-8.9 0.5h1.4m0.1 1h1.4m6.1 0h1.4m8.1 0h1.4m0.6 0.5h1.4m-4.9 1.5h1.4m-11.9 2h1.4m1.1 1h1.4m-9.9 1h1.4m1.1 0h1.4m13.1 0.5h1.4m-19.4 0.5h1.4m9.1 0h1.4m17.1 0h1.4m-23.9 1h1.4m2.6 0.5h1.4m17.1 0h1.4m14.6 0.5h1.4m-12.9 0.5h1.4m-21.9 0.5h1.4m0.6 0h1.4m-3.4 0.5h1.4m12.1 0h1.4m-26.4 0.5h1.4m0.6 0h1.4m10.6 0h1.4m-12.4 0.5h1.4m1.6 0h1.4m13.1 0h1.4m-0.9 0h1.4m-15.9 0.5h1.4m33.1 0h1.4m-0.9 0h1.4m-36.9 1h1.4m2.6 0h1.4m6.1 0h1.4m12.1 0h1.4m1.1 0h1.4m3.6 0h1.4m5.6 0h1.4m3.6 0h1.4m-26.9 1h1.4m5.6 0h1.4m2.6 0h1.4m-31.9 0.5h1.4m37.6 0h1.4m-0.9 0.5h1.4m-26.4 1h1.4m9.1 0h1.4m-20.4 0.5h1.4m0.6 0h1.4m4.6 0h1.4m-19.9 0.5h1.4m15.1 0h1.4m3.6 0h1.4m13.6 0h1.4m-25.9 0.5h1.4m19.6 0h1.4m7.1 0h1.4m3.6 0h1.4m-50.4 0.5h1.4m15.1 0h1.4m6.1 0h1.4m-9.9 0.5h1.4m25.6 0h1.4m-30.4 0.5h1.4m0.6 0h1.4m7.1 0.5h1.4m13.6 0h1.4m-19.4 0.5h1.4m0.1 0h1.4m3.6 0h1.4m21.1 0h1.4m0.1 0h1.4m7.1 0h1.4m-28.9 0.5h1.4m6.6 0h1.4m-7.9 0.5h1.4m-35.9 0.5h1.4m6.6 0h1.4m20.6 0h1.4m12.1 0h1.4m-30.4 0.5h1.4m-0.4 0h1.4m26.6 0h1.4m-29.4 1h1.4m8.1 0h1.4m22.6 0h1.4m-42.4 1h1.4m6.1 0h1.4m29.6 1h1.4m1.6 0h1.4m-32.9 0.5h1.4m10.6 0h1.4m8.1 0h1.4m-4.4 0.5h1.4m-27.9 0.5h1.4m2.6 0h1.4m-1.4 0.5h1.4m1.1 0h1.4m7.6 0.5h1.4m-21.9 0.5h1.4m4.1 0h1.4m3.6 0h1.4m14.1 0h1.4m-24.4 0.5h1.4m30.6 0h1.4m-39.4 0.5h1.4m-0.9 0h1.4m1.6 0h1.4m16.1 0h1.4m2.6 0h1.4m-15.9 0.5h1.4m4.1 0h1.4m-11.9 0.5h1.4m0.1 0h1.4m14.1 0h1.4m20.1 0.5h1.4m-47.4 0.5h1.4m4.6 0.5h1.4m6.1 0h1.4m7.1 0h1.4m-17.9 0.5h1.4m7.1 0h1.4m6.6 0h1.4m-9.4 0.5h1.4m-15.4 1h1.4m3.1 1h1.4m10.1 0h1.4m-15.4 0.5h1.4m19.1 0h1.4m-13.9 0.5h1.4m3.6 0h1.4m3.1 0h1.4m-18.4 0.5h1.4m6.6 0h1.4m11.6 0h1.4m-9.9 0.5h1.4m-15.4 0.5h1.4m15.1 0h1.4m-10.4 0.5h1.4m-0.9 0h1.4m6.6 1.5h1.4m-18.4 0.5h1.4m1.1 0h1.4m4.1 0.5h1.4m13.6 1h1.4m-22.9 0.5h1.4m-2.4 0.5h1.4m17.1 0.5h1.4m-17.9 1h1.4m-0.9 5.5h1.4m1.6 3h1.4m14.6 0.5h1.4m-9.9 0.5h1.4m3.1 0h1.4m-12.4 2.5h1.4m16.1 5h1.4m-9.9 1h1.4m0.1 0.5h1.4m-10.9 4.5h1.4m1.6 2.5h1.4m-0.9 0h1.4" stroke="#c6d62b" stroke-width="1.4" fill="none"/>
<path d="M44.5 366.5h1.4m1.6 0.5h1.4m5.6 4h1.4m-0.4 0h1.4m-16.4 0.5h1.4m-0.9 0h1.4m13.1 0h1.4m13.1 0h1.4m-32.4 1h1.4m8.1 0.5h1.4m2.6 0h1.4m-11.4 0.5h1.4m-2.9 0.5h1.4m5.6 0h1.4m1.1 0h1.4m17.6 0.5h1.4m-27.4 0.5h1.4m0.1 1.5h1.4m3.6 0.5h1.4m4.6 0h1.4m-9.9 0.5h1.4m-6.4 1h1.4m1.1 0h1.4m-3.9 0.5h1.4m13.1 0h1.4m-19.4 0.5h1.4m14.6 0h1.4m-13.9 0.5h1.4m3.6 0.5h1.4m9.6 0.5h1.4m-14.4 0.5h1.4m15.6 0h1.4m3.6 0h1.4m-23.4 0.5h1.4m-5.4 0.5h1.4m-0.9 0h1.4m9.1 0h1.4m5.6 0.5h1.4m4.6 0h1.4m-5.4 0.5h1.4m-0.4 0h1.4m-19.9 0.5h1.4m0.6 0h1.4m5.1 0.5h1.4m2.6 0h1.4m-13.9 0.5h1.4m6.6 0h1.4m1.1 0h1.4m2.6 0h1.4m-17.9 0.5h1.4m-0.9 0h1.4m11.1 0h1.4m-0.9 0h1.4m16.6 0h1.4m-30.4 0.5h1.4m5.6 0h1.4m14.6 0h1.4m5.1 0h1.4m-36.4 0.5h1.4m12.1 0h1.4m0.1 0h1.4m15.1 0h1.4m7.1 0h1.4m11.6 0h1.4m-48.9 0.5h1.4m2.1 0h1.4m10.1 0h1.4m10.6 0h1.4m-29.4 0.5h1.4m-0.4 0h1.4m10.1 0h1.4m-17.9 0.5h1.4m15.1 0h1.4m4.1 0h1.4m6.6 0h1.4m-30.9 0.5h1.4m8.6 0h1.4m15.6 0h1.4m-26.9 0.5h1.4m6.6 0h1.4m0.6 0.5h1.4m6.1 0h1.4m-5.4 0.5h1.4m-2.4 0.5h1.4m6.6 0h1.4m-20.9 0.5h1.4m27.1 0h1.4m-30.4 0.5h1.4m1.6 0h1.4m0.1 0h1.4m6.6 0h1.4m-4.9 0.5h1.4m-0.4 0h1.4m1.1 0h1.4m8.1 0h1.4m-0.9 0h1.4m2.1 0h1.4m12.1 0h1.4m-26.9 0.5h1.4m25.6 0h1.4m-21.9 0.5h1.4m-14.4 0.5h1.4m5.1 0h1.4m13.1 0h1.4m-27.9 0.5h1.4m-5.4 0.5h1.4m4.1 0h1.4m-3.9 0.5h1.4m1.1 0h1.4m0.6 0h1.4m-0.4 0h1.4m-9.4 0.5h1.4m7.1 0h1.4m-6.9 0.5h1.4m3.1 0h1.4m5.6 0h1.4m0.6 0h1.4m6.6 0h1.4m-27.4 0.5h1.4m3.6 0h1.4m7.6 0h1.4m8.6 0h1.4m-10.9 0.5h1.4m-16.4 0.5h1.4m28.1 0h1.4m-27.9 0.5h1.4m24.1 0h1.4m2.6 0h1.4m-32.9 0.5h1.4m1.6 0h1.4m-0.4 0h1.4m8.1 0h1.4m1.1 0.5h1.4m1.6 0h1.4m-19.9 0.5h1.4m6.6 0h1.4m-3.4 0.5h1.4m3.6 0h1.4m1.1 0h1.4m-8.9 0.5h1.4m0.1 0h1.4m-6.9 1.5h1.4m7.6 0h1.4m3.6 0h1.4m-0.9 0h1.4m-9.9 1h1.4m-7.4 1h1.4m-0.9 0h1.4m14.1 0h1.4m-14.9 0.5h1.4m-3.4 1h1.4m6.6 0h1.4m-1.4 0.5h1.4m-9.4 0.5h1.4m12.6 0h1.4m-12.9 0.5h1.4m-4.4 1h1.4m2.6 0h1.4m8.6 0h1.4m-17.9 0.5h1.4m15.1 0h1.4m-16.4 1h1.4m1.1 1h1.4m10.6 0h1.4" stroke="#70bc44" stroke-width="1.4" fill="none"/>
<path d="M69.5 371.5h1.4m-30.4 3h1.4m9.6 0h1.4m0.6 0h1.4m-14.9 0.5h1.4m5.1 1h1.4m-4.9 0.5h1.4m1.6 0h1.4m-5.4 0.5h1.4m-1.4 0.5h1.4m5.1 1h1.4m-10.4 1.5h1.4m0.6 0h1.4m1.1 0h1.4m4.6 0h1.4m2.1 0h1.4m-6.4 1h1.4m1.1 0h1.4m1.6 0h1.4m-0.9 0h1.4m1.6 0h1.4m-9.9 0.5h1.4m0.6 0h1.4m5.1 0h1.4m-19.9 0.5h1.4m1.1 0h1.4m9.1 0h1.4m10.6 0h1.4m-19.9 0.5h1.4m-0.9 0h1.4m0.1 0h1.4m-0.4 0h1.4m-3.9 0.5h1.4m0.1 0h1.4m-6.4 0.5h1.4m5.6 0h1.4m2.6 0h1.4m-7.9 1h1.4m11.1 0.5h1.4m-16.4 0.5h1.4m3.1 0h1.4m-10.9 0.5h1.4m0.6 0h1.4m13.6 0h1.4m-7.9 0.5h1.4m4.1 0h1.4m-10.4 0.5h1.4m4.1 0h1.4m1.6 0h1.4m0.1 0h1.4m-6.9 0.5h1.4m-0.9 0h1.4m19.6 0h1.4m-33.9 0.5h1.4m31.1 0h1.4m-30.9 0.5h1.4m0.6 0h1.4m12.1 0h1.4m2.1 0h1.4m-4.9 0.5h1.4m-11.9 0.5h1.4m6.6 0h1.4m-18.4 0.5h1.4m3.1 0.5h1.4m1.1 0h1.4m-0.4 0h1.4m3.1 0h1.4m-8.9 0.5h1.4m-3.9 0.5h1.4m1.1 0h1.4m9.6 0h1.4m22.1 0h1.4m-35.9 0.5h1.4m23.6 0h1.4m5.6 0h1.4m-25.9 0.5h1.4m11.6 0h1.4m10.6 0h1.4m-38.9 0.5h1.4m1.6 0h1.4m-0.9 0h1.4m7.6 0.5h1.4m3.1 0.5h1.4m-4.4 1h1.4m2.1 0.5h1.4m21.1 0.5h1.4m-33.9 0.5h1.4m7.1 0h1.4m6.1 0.5h1.4m-18.4 0.5h1.4m6.1 0h1.4m-3.9 0.5h1.4m2.1 0h1.4m0.1 1.5h1.4m-15.9 0.5h1.4m5.1 0h1.4m1.1 0h1.4m-1.4 0.5h1.4m-8.9 0.5h1.4m-4.4 0.5h1.4m7.1 0h1.4m-9.9 1h1.4m4.6 0h1.4m-4.9 3.5h1.4m5.1 0.5h1.4m-10.4 1.5h1.4m-0.9 0h1.4m-0.9 0h1.4" stroke="#4db88a" stroke-width="1.4" fill="none"/>
<path d="M53 371h1.4m-11.9 3h1.4m5.1 3h1.4m-2.9 1h1.4m-2.9 1.5h1.4m-6.9 1h1.4m8.1 1h1.4m3.1 0h1.4m3.6 0h1.4m-20.4 1h1.4m7.6 0h1.4m-7.4 0.5h1.4m3.1 0h1.4m-7.4 1.5h1.4m-3.9 0.5h1.4m6.1 0h1.4m-7.9 1h1.4m6.1 0h1.4m-0.9 0h1.4m7.1 0h1.4m-12.4 0.5h1.4m0.1 0h1.4m9.6 0h1.4m-19.4 0.5h1.4m1.6 0h1.4m7.6 0h1.4m-0.9 0h1.4m20.1 0.5h1.4m-25.4 1h1.4m5.1 0.5h1.4m-15.9 0.5h1.4m5.1 0h1.4m6.6 0h1.4m17.1 0.5h1.4m-37.4 0.5h1.4m-0.4 0h1.4m6.1 0h1.4m2.6 0h1.4m3.6 0h1.4m-19.4 0.5h1.4m8.1 0h1.4m0.6 0h1.4m5.1 0h1.4m-18.9 0.5h1.4m5.1 0h1.4m6.6 0h1.4m1.6 0h1.4m-4.4 0.5h1.4m-10.9 0.5h1.4m-0.4 0h1.4m5.1 0h1.4m-5.9 0.5h1.4m-7.9 0.5h1.4m4.1 0h1.4m-6.9 0.5h1.4m1.1 0h1.4m-1.4 0.5h1.4m9.1 0h1.4m-0.9 0h1.4m-15.4 0.5h1.4m5.1 1h1.4m-1.9 1h1.4m-5.9 0.5h1.4m1.1 0.5h1.4m8.6 0h1.4m-9.4 1h1.4m-6.9 0.5h1.4m4.6 0h1.4m-8.4 2h1.4m7.1 0h1.4m-4.4 4.5h1.4" stroke="#2ea4dc" stroke-width="1.4" fill="none"/>
<path d="M51 374h1.4m-1.4 0.5h1.4m-9.4 3h1.4m7.1 4h1.4m-8.4 0.5h1.4m7.1 0.5h1.4m-10.4 0.5h1.4m-0.9 0h1.4m-0.9 0h1.4m-6.4 1h1.4m9.6 0h1.4m-7.4 0.5h1.4m-4.4 0.5h1.4m9.1 0.5h1.4m-7.4 1h1.4m0.1 0h1.4m7.1 1.5h1.4m-0.9 0.5h1.4m-12.9 0.5h1.4m2.1 0h1.4m-7.4 0.5h1.4m31.6 0h1.4m-29.9 0.5h1.4m-0.4 0h1.4m-0.9 0h1.4m7.6 0.5h1.4m-19.4 0.5h1.4m8.6 0.5h1.4m-2.4 0.5h1.4m-6.9 0.5h1.4m5.1 0h1.4m-12.4 1h1.4m-1.4 0.5h1.4m2.1 1.5h1.4m3.1 0h1.4m4.1 0h1.4m-12.9 1h1.4m10.1 0h1.4m-6.9 1h1.4m13.1 0h1.4m-22.4 1h1.4m4.1 0h1.4m-3.9 1h1.4m-0.4 0.5h1.4" stroke="#3d60ac" stroke-width="1.4" fill="none"/>
<path d="M40.5 382h1.4m18.1 0h1.4m-15.9 1h1.4m2.1 0h1.4m-0.9 0h1.4m1.6 0h1.4m-10.4 2h1.4m-0.9 0.5h1.4m2.6 0h1.4m0.1 0h1.4m-8.4 0.5h1.4m0.1 0h1.4m-2.9 0.5h1.4m-0.4 0h1.4m6.1 0.5h1.4m-9.4 1h1.4m-1.9 0.5h1.4m-1.4 0.5h1.4m-1.9 0.5h1.4m-3.9 1.5h1.4m9.6 0.5h1.4m31.1 1.5h1.4m-38.4 1h1.4m-5.4 1h1.4m7.1 0h1.4m-0.9 0.5h1.4m-7.4 4.5h1.4" stroke="#534fa1" stroke-width="1.4" fill="none"/>
<path d="M48.5 377h1.4m-1.9 0.5h1.4m-0.9 0h1.4m-4.4 6h1.4m1.1 1.5h1.4m-7.4 2.5h1.4m-1.4 0.5h1.4m10.6 0.5h1.4m-13.4 0.5h1.4m0.6 0h1.4m-4.9 3h1.4m-0.9 0h1.4m7.1 1h1.4m2.6 0.5h1.4m-9.9 0.5h1.4m-4.4 1.5h1.4m9.6 0h1.4" stroke="#9e449c" stroke-width="1.4" fill="none"/>
<path d="M49 382.5h1.4m-8.4 3.5h1.4m7.1 0.5h1.4m-0.9 0h1.4m-11.4 1h1.4m-0.9 0h1.4m-1.4 0.5h1.4" stroke="#b8409a" stroke-width="1.4" fill="none"/>
<line x1="34.20" y1="422.80" x2="134.60" y2="422.80" stroke="#2a2a2a" stroke-width="1.0"/>
<line x1="68.10" y1="348.00" x2="68.10" y2="467.30" stroke="#2a2a2a" stroke-width="1.0"/>
<line x1="34.20" y1="346.80" x2="34.20" y2="468.00" stroke="#000" stroke-width="1.3"/>
<line x1="33.60" y1="467.30" x2="134.70" y2="467.30" stroke="#000" stroke-width="1.4"/>
<line x1="30.40" y1="461.70" x2="34.20" y2="461.70" stroke="#000" stroke-width="1.1"/>
<text x="28.0" y="464.8" font-size="8.6" text-anchor="end">0</text>
<line x1="30.40" y1="422.90" x2="34.20" y2="422.90" stroke="#000" stroke-width="1.1"/>
<text x="28.0" y="426.0" font-size="8.6" text-anchor="end">2</text>
<line x1="30.40" y1="384.10" x2="34.20" y2="384.10" stroke="#000" stroke-width="1.1"/>
<text x="28.0" y="387.2" font-size="8.6" text-anchor="end">4</text>
<line x1="38.50" y1="467.30" x2="38.50" y2="471.10" stroke="#000" stroke-width="1.1"/>
<text x="38.5" y="481.0" font-size="8.6" text-anchor="middle">0</text>
<line x1="67.75" y1="467.30" x2="67.75" y2="471.10" stroke="#000" stroke-width="1.1"/>
<text x="67.8" y="481.0" font-size="8.6" text-anchor="middle">1</text>
<line x1="97.00" y1="467.30" x2="97.00" y2="471.10" stroke="#000" stroke-width="1.1"/>
<text x="97.0" y="481.0" font-size="8.6" text-anchor="middle">2</text>
<line x1="126.25" y1="467.30" x2="126.25" y2="471.10" stroke="#000" stroke-width="1.1"/>
<text x="126.2" y="481.0" font-size="8.6" text-anchor="middle">3</text>
<text x="36.7" y="353.7" font-size="8.6" textLength="25.6" lengthAdjust="spacingAndGlyphs">69.4%</text>
<text x="112.7" y="353.6" font-size="8.6" textLength="25.4" lengthAdjust="spacingAndGlyphs">27.0%</text>
<text x="42.1" y="462.1" font-size="8.6" textLength="20.2" lengthAdjust="spacingAndGlyphs">3.3%</text>
<text x="109.3" y="461.8" font-size="8.6" textLength="20.4" lengthAdjust="spacingAndGlyphs">0.3%</text>
<text x="84.3" y="494.8" font-size="10" text-anchor="middle" textLength="26.0" lengthAdjust="spacingAndGlyphs">CDCR7</text>
<text x="17.0" y="407.0" font-size="10" text-anchor="middle" textLength="32.0" lengthAdjust="spacingAndGlyphs" transform="rotate(-90 17.0 407.0)">CD45RA</text>
<text x="132.5" y="373.1" font-size="8.4" textLength="23.4" lengthAdjust="spacingAndGlyphs">Count</text>
<defs><linearGradient id="cb138_378" x1="0" y1="0" x2="0" y2="1"><stop offset="0.00" stop-color="#b8409a"/><stop offset="0.10" stop-color="#7a4a9e"/><stop offset="0.20" stop-color="#3f51a3"/><stop offset="0.30" stop-color="#3b6fb6"/><stop offset="0.40" stop-color="#29b5e8"/><stop offset="0.50" stop-color="#4db88a"/><stop offset="0.60" stop-color="#62b847"/><stop offset="0.70" stop-color="#9cc83c"/><stop offset="0.80" stop-color="#f0e41a"/><stop offset="0.90" stop-color="#f7a21b"/><stop offset="1.00" stop-color="#ee2b24"/></linearGradient></defs>
<rect x="138.10" y="378.20" width="12.50" height="67.80" fill="url(#cb138_378)"/>
<line x1="138.10" y1="446.00" x2="140.60" y2="446.00" stroke="#fff" stroke-width="0.4"/>
<line x1="148.10" y1="446.00" x2="150.60" y2="446.00" stroke="#fff" stroke-width="0.4"/>
<text x="150.5" y="448.9" font-size="8.4">0</text>
<line x1="138.10" y1="429.46" x2="140.60" y2="429.46" stroke="#fff" stroke-width="0.4"/>
<line x1="148.10" y1="429.46" x2="150.60" y2="429.46" stroke="#fff" stroke-width="0.4"/>
<text x="150.5" y="432.4" font-size="8.4">2</text>
<line x1="138.10" y1="412.98" x2="140.60" y2="412.98" stroke="#fff" stroke-width="0.4"/>
<line x1="148.10" y1="412.98" x2="150.60" y2="412.98" stroke="#fff" stroke-width="0.4"/>
<text x="150.5" y="415.9" font-size="8.4">4</text>
<line x1="138.10" y1="396.44" x2="140.60" y2="396.44" stroke="#fff" stroke-width="0.4"/>
<line x1="148.10" y1="396.44" x2="150.60" y2="396.44" stroke="#fff" stroke-width="0.4"/>
<text x="150.5" y="399.4" font-size="8.4">6</text>
<line x1="138.10" y1="379.89" x2="140.60" y2="379.89" stroke="#fff" stroke-width="0.4"/>
<line x1="148.10" y1="379.89" x2="150.60" y2="379.89" stroke="#fff" stroke-width="0.4"/>
<text x="150.5" y="382.8" font-size="8.4">8</text>
<path d="M195 350.5h1.4m3.1 6.5h1.4m0.1 2h1.4m-1.4 7h1.4m-3.9 1.5h1.4m9.1 8h1.4m-0.9 0.5h1.4m-5.9 0.5h1.4m1.1 2h1.4m-6.9 0.5h1.4m-1.9 0.5h1.4m6.1 0h1.4m3.6 0h1.4m-10.4 1.5h1.4m5.1 1h1.4m-5.9 4.5h1.4m-1.4 2h1.4m7.6 2.5h1.4m-8.9 0.5h1.4m0.6 0h1.4m4.1 1.5h1.4m1.1 1h1.4m-11.4 1.5h1.4m3.6 0.5h1.4m3.6 0.5h1.4m-4.4 0.5h1.4m2.1 1h1.4m8.6 1.5h1.4m-21.9 0.5h1.4m0.6 0.5h1.4m21.1 1h1.4m-15.9 1h1.4m15.6 0h1.4m-24.9 0.5h1.4m-0.4 0h1.4m7.6 0h1.4m-7.9 1h1.4m-2.9 0.5h1.4m3.6 0.5h1.4m2.6 1.5h1.4m0.1 0h1.4m-3.4 0.5h1.4m-24.4 0.5h1.4m27.1 0.5h1.4m-0.4 0h1.4m-6.9 0.5h1.4m1.6 3.5h1.4m-16.4 0.5h1.4m20.1 1h1.4m15.6 1h1.4m-23.9 1h1.4m-21.4 0.5h1.4m17.1 0h1.4m-8.4 0.5h1.4m-24.4 0.5h1.4m25.1 0h1.4m17.1 0h1.4m-49.4 0.5h1.4m4.1 0h1.4m1.1 0h1.4m15.6 0h1.4m-20.4 1h1.4m39.1 0.5h1.4m-15.9 1h1.4m6.1 0h1.4m14.1 0h1.4m-41.4 0.5h1.4m21.1 0.5h1.4m-38.4 0.5h1.4m40.1 0h1.4m-24.9 1h1.4m-2.4 0.5h1.4m5.1 0h1.4m-8.9 0.5h1.4m-0.9 1h1.4m-0.4 0h1.4m24.1 0h1.4m-4.9 0.5h1.4m-14.4 0.5h1.4m-4.4 0.5h1.4m18.6 2h1.4m-25.4 0.5h1.4m1.1 1.5h1.4m8.1 0.5h1.4m5.6 0.5h1.4m-12.4 1h1.4m-10.4 2h1.4m0.6 2h1.4m16.6 0h1.4m-20.9 1h1.4m-4.4 3.5h1.4m-0.4 10h1.4" stroke="#f68e1c" stroke-width="1.4" fill="none"/>
<path d="M200.5 357h1.4m-3.4 1h1.4m-0.9 1.5h1.4m-5.9 1h1.4m-1.9 2h1.4m1.6 0.5h1.4m-1.4 1.5h1.4m-1.9 3h1.4m-1.9 3.5h1.4m3.1 0.5h1.4m-2.9 1h1.4m-3.4 0.5h1.4m2.1 0.5h1.4m-5.4 0.5h1.4m1.6 0.5h1.4m3.6 0.5h1.4m-1.4 0.5h1.4m2.1 5h1.4m-3.9 2h1.4m-7.4 1h1.4m11.1 1.5h1.4m-1.9 4h1.4m-4.4 0.5h1.4m-7.4 1h1.4m10.1 2.5h1.4m-19.4 0.5h1.4m6.1 0h1.4m-0.4 0h1.4m1.1 0.5h1.4m-0.9 1h1.4m-7.9 1h1.4m2.1 1h1.4m0.6 0h1.4m-0.9 0h1.4m-0.9 0.5h1.4m-10.9 0.5h1.4m9.6 0h1.4m-5.9 3h1.4m5.1 0.5h1.4m-1.4 2.5h1.4m-7.9 0.5h1.4m-6.4 1h1.4m15.6 0h1.4m-14.4 0.5h1.4m1.6 0h1.4m-14.9 0.5h1.4m16.1 0h1.4m-5.4 0.5h1.4m-13.4 1h1.4m5.1 0h1.4m-4.9 1.5h1.4m-0.9 0.5h1.4m-2.4 1.5h1.4m1.1 0.5h1.4m-1.4 0.5h1.4m14.6 0h1.4m-11.9 1h1.4m12.1 0h1.4m1.1 0h1.4m-28.9 1h1.4m4.6 0h1.4m13.6 0h1.4m1.6 0h1.4m-17.9 0.5h1.4m2.1 0h1.4m-0.4 0.5h1.4m-6.9 0.5h1.4m1.6 0h1.4m-1.9 0.5h1.4m4.6 0.5h1.4m14.1 0.5h1.4m-28.4 0.5h1.4m16.6 0h1.4m0.6 0h1.4m-10.9 0.5h1.4m-13.9 0.5h1.4m4.1 0h1.4m9.1 0h1.4m-8.9 0.5h1.4m-1.9 0.5h1.4m10.6 0.5h1.4m-15.9 0.5h1.4m13.6 0h1.4m-17.4 0.5h1.4m21.1 2h1.4m-13.9 3h1.4m-1.4 0.5h1.4m2.1 0.5h1.4m7.6 0.5h1.4m-6.9 0.5h1.4m6.1 1.5h1.4" stroke="#f2ce1a" stroke-width="1.4" fill="none"/>
<path d="M195 363.5h1.4m0.1 2.5h1.4m-0.4 0.5h1.4m-1.4 2.5h1.4m-2.4 1h1.4m0.1 4.5h1.4m0.1 0.5h1.4m-2.4 0.5h1.4m0.1 6.5h1.4m2.1 1h1.4m0.1 1h1.4m-4.9 0.5h1.4m4.6 1h1.4m-5.9 0.5h1.4m-0.9 0h1.4m4.1 2h1.4m-1.4 0.5h1.4m-1.9 2h1.4m-12.9 2h1.4m-3.9 1h1.4m6.6 0.5h1.4m0.1 1.5h1.4m-6.9 1h1.4m-0.4 0h1.4m1.6 0.5h1.4m1.6 0h1.4m-4.9 1h1.4m-3.9 1h1.4m8.1 0h1.4m0.6 0h1.4m-8.9 1.5h1.4m2.6 0.5h1.4m-6.9 1.5h1.4m0.1 0.5h1.4m-3.4 0.5h1.4m3.6 0h1.4m-5.9 0.5h1.4m2.1 0.5h1.4m-0.4 0h1.4m-6.9 0.5h1.4m2.1 0.5h1.4m6.6 0h1.4m-0.4 0.5h1.4m-0.9 0h1.4m-8.9 0.5h1.4m-0.4 0h1.4m4.1 0h1.4m-4.9 0.5h1.4m-10.4 1h1.4m-2.9 1h1.4m7.1 1h1.4m1.6 0h1.4m-2.4 1.5h1.4m-0.9 0h1.4m-15.9 1h1.4m2.1 0h1.4m0.6 0h1.4m8.1 0h1.4m-10.9 1h1.4m-0.9 0h1.4m-0.9 0h1.4m14.6 0h1.4m-21.9 0.5h1.4m7.1 0h1.4m-5.9 1h1.4m-0.4 0.5h1.4m-9.4 0.5h1.4m10.1 1.5h1.4m-5.4 1h1.4m-0.9 0.5h1.4m-1.9 0.5h1.4m4.6 0h1.4m-9.4 0.5h1.4m-0.4 0.5h1.4m1.1 0h1.4m8.6 0h1.4m-19.4 1h1.4m2.1 0h1.4m22.6 2h1.4m-1.4 0.5h1.4" stroke="#e9e21d" stroke-width="1.4" fill="none"/>
<path d="M199 362h1.4m-6.4 2.5h1.4m1.6 3h1.4m0.6 4h1.4m-3.9 1h1.4m5.1 8h1.4m-0.9 2h1.4m2.1 0.5h1.4m-10.4 3h1.4m5.6 2.5h1.4m-12.9 2h1.4m2.6 0h1.4m6.1 1h1.4m-4.9 0.5h1.4m1.1 0h1.4m-0.9 0h1.4m-7.4 1h1.4m-0.9 1.5h1.4m-2.9 1.5h1.4m-1.4 1.5h1.4m0.6 0.5h1.4m-4.9 0.5h1.4m6.1 0.5h1.4m-11.9 1h1.4m20.1 0.5h1.4m-0.9 0h1.4m-22.9 0.5h1.4m5.6 0h1.4m-4.9 1.5h1.4m-1.9 1h1.4m5.6 0.5h1.4m-5.4 0.5h1.4m5.1 0h1.4m0.6 4h1.4m1.6 0.5h1.4m-3.9 0.5h1.4m-12.4 0.5h1.4m8.1 1h1.4m-12.4 2h1.4m1.6 1.5h1.4m0.6 0h1.4m-6.9 2.5h1.4m9.6 0.5h1.4m2.1 0h1.4m-4.4 1.5h1.4m-2.9 0.5h1.4m0.6 0h1.4m-7.9 0.5h1.4" stroke="#a3ca39" stroke-width="1.4" fill="none"/>
<path d="M199.5 371h1.4m-6.9 0.5h1.4m3.6 4h1.4m-3.4 1h1.4m-1.9 0.5h1.4m-0.9 0h1.4m-0.9 0.5h1.4m-0.9 2h1.4m3.1 1.5h1.4m0.6 1.5h1.4m-4.9 1h1.4m0.6 3h1.4m-10.9 3.5h1.4m8.6 0.5h1.4m-8.9 0.5h1.4m5.6 0h1.4m-3.9 1h1.4m-5.4 0.5h1.4m6.6 2h1.4m-11.9 0.5h1.4m6.1 2.5h1.4m-4.4 1h1.4m6.6 0h1.4m-9.9 2.5h1.4m2.1 3.5h1.4m-5.4 1.5h1.4m-1.9 2h1.4m-1.9 0.5h1.4m-2.4 0.5h1.4m6.1 0h1.4m7.1 0h1.4m-10.4 0.5h1.4m-8.9 0.5h1.4m0.1 2h1.4m12.6 1h1.4m-11.4 1h1.4m8.6 3.5h1.4m-10.9 4.5h1.4" stroke="#70bc44" stroke-width="1.4" fill="none"/>
<path d="M198.5 362.5h1.4m-6.4 8.5h1.4m4.1 0h1.4m-4.4 4.5h1.4m2.1 0.5h1.4m-4.9 2.5h1.4m0.6 3.5h1.4m7.6 0.5h1.4m-10.9 0.5h1.4m-3.4 5h1.4m-2.4 0.5h1.4m-0.4 0h1.4m-2.4 0.5h1.4m1.1 5.5h1.4m-1.9 2.5h1.4m-0.9 1.5h1.4m0.1 1.5h1.4m-5.9 3h1.4m3.6 0h1.4m-4.4 5h1.4m0.6 1h1.4m1.1 11h1.4" stroke="#56b86e" stroke-width="1.4" fill="none"/>
<path d="M196 369.5h1.4m1.1 8.5h1.4m-1.4 2h1.4m-1.9 8.5h1.4m-2.4 2.5h1.4m0.1 1h1.4m-1.4 0.5h1.4m-4.4 10.5h1.4m-1.9 2h1.4m0.1 1h1.4m-1.9 4h1.4m1.6 10h1.4" stroke="#3eb7b1" stroke-width="1.4" fill="none"/>
<path d="M193 367.5h1.4m1.6 1h1.4m0.1 7.5h1.4m-2.4 2h1.4m-3.4 7.5h1.4m-1.4 0.5h1.4m8.1 12h1.4m-8.9 0.5h1.4m5.1 0.5h1.4m-9.4 0.5h1.4m0.6 2.5h1.4" stroke="#2ea4dc" stroke-width="1.4" fill="none"/>
<path d="M193 381h1.4m0.1 5.5h1.4m-0.9 0h1.4m-0.4 0h1.4m2.6 0.5h1.4m-7.9 0.5h1.4m6.1 10.5h1.4m-7.4 2h1.4m0.1 1h1.4" stroke="#3586c7" stroke-width="1.4" fill="none"/>
<path d="M194.5 387.5h1.4" stroke="#3d60ac" stroke-width="1.4" fill="none"/>
<path d="M195 369h1.4m-0.4 11.5h1.4m-4.4 1h1.4m1.1 5h1.4m0.1 1h1.4m-3.9 4.5h1.4" stroke="#534fa1" stroke-width="1.4" fill="none"/>
<path d="M194 373.5h1.4" stroke="#b8409a" stroke-width="1.4" fill="none"/>
<path d="M195.5 347h1.4m-1.4 11h1.4m0.1 4.5h1.4m0.1 1h1.4m-2.4 0.5h1.4m3.6 0.5h1.4m-10.9 1.5h1.4m3.6 6.5h1.4m6.1 3h1.4m-1.9 3.5h1.4m4.1 0.5h1.4m-0.4 0h1.4m-5.9 1.5h1.4m-1.9 4.5h1.4m4.6 0.5h1.4m-8.4 1h1.4m6.1 1h1.4m0.1 2h1.4m-4.9 3.5h1.4m3.6 0.5h1.4m-5.9 1h1.4m-7.4 1.5h1.4m3.1 0.5h1.4m-1.9 1h1.4m-0.4 0h1.4m3.1 0.5h1.4m5.1 2h1.4m-10.9 0.5h1.4m4.1 0.5h1.4m9.1 3h1.4m-11.4 1h1.4m-19.4 0.5h1.4m20.1 0.5h1.4m-14.9 1h1.4m1.6 0h1.4m5.1 0h1.4m7.6 0h1.4m-34.4 0.5h1.4m25.6 0h1.4m-1.9 0.5h1.4m-7.9 1h1.4m-1.4 1.5h1.4m1.6 0h1.4m-12.4 0.5h1.4m32.6 0h1.4m-11.9 2h1.4m-9.9 1h1.4m3.1 1h1.4m13.1 0.5h1.4m-25.9 0.5h1.4m-2.4 1.5h1.4m-11.4 0.5h1.4m12.6 0h1.4m13.6 0h1.4m-7.9 0.5h1.4m2.6 0h1.4m-34.4 0.5h1.4m27.6 0.5h1.4m7.1 0h1.4m-4.4 0.5h1.4m-13.4 0.5h1.4m24.6 0h1.4m-50.9 0.5h1.4m30.6 0h1.4m-35.9 0.5h1.4m7.1 0h1.4m10.1 0h1.4m3.6 0.5h1.4m12.6 1h1.4m-25.9 0.5h1.4m-1.9 0.5h1.4m8.6 0h1.4m8.6 0h1.4m-1.9 0.5h1.4m-14.4 0.5h1.4m4.1 1.5h1.4m11.1 0h1.4m-15.9 2h1.4m12.1 0h1.4m-17.4 0.5h1.4m-6.9 0.5h1.4m15.1 0.5h1.4m3.1 0h1.4m-20.4 0.5h1.4m13.1 1.5h1.4m1.1 2h1.4m-11.9 1h1.4m-0.4 1h1.4m-9.9 4h1.4m23.1 0.5h1.4" stroke="#f68e1c" stroke-width="1.4" fill="none"/>
<path d="M195.5 356h1.4m-1.4 0.5h1.4m1.1 1.5h1.4m0.1 1.5h1.4m-4.4 0.5h1.4m-1.4 1h1.4m-4.4 0.5h1.4m-0.9 0.5h1.4m-1.4 1h1.4m5.6 7.5h1.4m-5.4 0.5h1.4m2.6 2.5h1.4m4.6 1.5h1.4m-7.4 2h1.4m4.1 3.5h1.4m-0.4 0h1.4m-3.4 5.5h1.4m1.6 2h1.4m1.6 1.5h1.4m-7.4 0.5h1.4m-0.9 0h1.4m-5.9 1h1.4m0.1 1h1.4m-2.4 2.5h1.4m0.1 1h1.4m4.6 0.5h1.4m-12.9 1h1.4m8.6 0h1.4m3.6 1.5h1.4m-3.9 0.5h1.4m-12.9 1h1.4m-1.9 1h1.4m6.6 0h1.4m-13.4 0.5h1.4m11.1 0h1.4m-8.4 0.5h1.4m6.1 0h1.4m3.1 3.5h1.4m-20.4 0.5h1.4m2.6 0.5h1.4m-4.9 1h1.4m6.1 1h1.4m3.6 0.5h1.4m16.1 1h1.4m-16.4 0.5h1.4m10.1 0h1.4m-6.9 0.5h1.4m-16.4 0.5h1.4m0.6 0.5h1.4m-4.9 1h1.4m-0.4 0h1.4m11.6 0h1.4m-4.4 0.5h1.4m-15.9 0.5h1.4m6.1 0.5h1.4m5.1 0h1.4m-14.4 0.5h1.4m11.6 0h1.4m6.6 0h1.4m-8.9 0.5h1.4m6.1 0h1.4m-18.4 0.5h1.4m11.6 0h1.4m17.1 0.5h1.4m-32.9 1h1.4m3.6 0h1.4m-9.9 0.5h1.4m20.1 0h1.4m4.1 0h1.4m-4.4 0.5h1.4m0.6 0h1.4m-9.9 1h1.4m4.6 0h1.4m3.1 0h1.4m-30.4 0.5h1.4m14.1 0h1.4m-0.9 0h1.4m51.1 0h1.4m-52.4 0.5h1.4m2.6 0h1.4m-0.4 0.5h1.4m-14.9 0.5h1.4m3.6 0h1.4m-0.4 0h1.4m3.1 1.5h1.4m3.1 2.5h1.4m-13.4 0.5h1.4m14.1 0h1.4m-1.9 1.5h1.4m-6.9 4.5h1.4m-8.9 1h1.4" stroke="#f2ce1a" stroke-width="1.4" fill="none"/>
<path d="M193 363.5h1.4m2.1 2h1.4m-2.4 2.5h1.4m1.1 0h1.4m-3.9 2h1.4m3.1 1.5h1.4m-5.4 2h1.4m-4.4 1.5h1.4m7.6 0h1.4m-0.9 0h1.4m2.6 0.5h1.4m-5.4 2h1.4m-6.9 1.5h1.4m1.1 5.5h1.4m2.1 0h1.4m8.1 0.5h1.4m-7.4 2.5h1.4m-5.4 1h1.4m-10.9 2h1.4m1.6 2.5h1.4m-2.4 0.5h1.4m18.6 0.5h1.4m-18.4 1.5h1.4m5.1 0h1.4m4.6 0.5h1.4m-11.4 0.5h1.4m-2.4 0.5h1.4m10.6 0.5h1.4m-7.9 3.5h1.4m8.1 0h1.4m-8.4 0.5h1.4m-6.9 0.5h1.4m5.6 0h1.4m-6.4 0.5h1.4m-10.4 1h1.4m1.6 0h1.4m10.6 0h1.4m-8.4 3h1.4m-4.4 1.5h1.4m3.1 0h1.4m1.1 0h1.4m-8.4 0.5h1.4m-1.9 0.5h1.4m5.6 0.5h1.4m-0.9 0h1.4m1.6 0h1.4m-5.9 0.5h1.4m-0.4 0h1.4m7.1 0h1.4m-17.4 0.5h1.4m10.6 0.5h1.4m-10.9 0.5h1.4m-7.9 1h1.4m5.6 0h1.4m-0.9 0h1.4m-0.4 0h1.4m-10.9 1h1.4m10.6 0h1.4m-13.4 0.5h1.4m3.6 0h1.4m10.6 0h1.4m1.6 0h1.4m-18.4 0.5h1.4m9.6 0h1.4m1.1 0h1.4m-6.4 2h1.4m-7.4 0.5h1.4m0.6 0h1.4m26.1 0h1.4m-22.4 1h1.4m-2.9 0.5h1.4m-11.4 0.5h1.4m0.6 0h1.4m5.1 0h1.4m-6.4 0.5h1.4m8.6 0h1.4m1.6 1.5h1.4m-8.9 0.5h1.4m16.6 2.5h1.4m-0.4 4.5h1.4m8.1 2.5h1.4" stroke="#e9e21d" stroke-width="1.4" fill="none"/>
<path d="M198.5 369h1.4m-1.4 0.5h1.4m-2.4 2.5h1.4m0.1 3h1.4m-4.4 1h1.4m3.1 0h1.4m-6.9 0.5h1.4m2.1 0h1.4m2.6 0h1.4m-7.9 0.5h1.4m0.1 1h1.4m-1.9 1.5h1.4m5.6 1.5h1.4m-5.4 0.5h1.4m2.1 0h1.4m2.6 1h1.4m-7.4 1h1.4m0.1 0h1.4m-3.9 0.5h1.4m4.1 0h1.4m-14.4 0.5h1.4m4.6 0h1.4m-0.4 0h1.4m0.6 1h1.4m-3.9 2h1.4m5.6 0.5h1.4m-7.9 3h1.4m3.1 0h1.4m-12.9 0.5h1.4m11.6 0h1.4m-13.4 2h1.4m6.1 0h1.4m3.1 0h1.4m-13.9 0.5h1.4m4.1 0h1.4m-2.4 0.5h1.4m-5.9 0.5h1.4m1.1 0h1.4m7.6 0h1.4m-6.9 1h1.4m-3.4 1h1.4m-2.4 0.5h1.4m2.6 0.5h1.4m-1.9 1h1.4m5.1 0h1.4m0.6 0h1.4m-5.4 1h1.4m2.6 1h1.4m-11.4 0.5h1.4m4.1 0h1.4m-3.9 0.5h1.4m-4.4 1.5h1.4m10.1 0.5h1.4m-17.4 0.5h1.4m8.1 0h1.4m-6.9 1h1.4m8.1 2.5h1.4m-8.9 1h1.4m0.6 0.5h1.4m-0.9 0.5h1.4m-5.9 1.5h1.4m3.1 0h1.4m-5.4 0.5h1.4m5.6 2h1.4m-8.4 0.5h1.4m-6.4 0.5h1.4m7.1 0h1.4m-7.4 1.5h1.4m12.1 0h1.4m-9.4 1.5h1.4m3.6 0h1.4m-11.9 0.5h1.4m11.6 0.5h1.4m0.1 0h1.4m-10.9 0.5h1.4m-7.4 1.5h1.4m16.1 0h1.4" stroke="#a3ca39" stroke-width="1.4" fill="none"/>
<path d="M195.5 360.5h1.4m-1.4 5.5h1.4m-1.9 4h1.4m-1.4 2h1.4m6.1 4h1.4m-10.9 1h1.4m1.6 0.5h1.4m0.1 1h1.4m-2.9 1h1.4m4.6 2h1.4m-8.4 1h1.4m3.6 0h1.4m-2.4 0.5h1.4m-0.4 0.5h1.4m-0.9 2.5h1.4m0.1 0h1.4m-5.4 1.5h1.4m3.6 0h1.4m-11.4 2h1.4m0.6 0.5h1.4m0.6 0h1.4m-2.4 0.5h1.4m6.6 0h1.4m-9.4 5h1.4m0.1 0h1.4m12.6 1h1.4m-17.9 0.5h1.4m2.6 1.5h1.4m-1.9 0.5h1.4m4.1 0h1.4m-2.4 0.5h1.4m0.6 0h1.4m-4.4 1h1.4m2.1 1h1.4m-7.9 2h1.4m-0.4 1h1.4m-6.9 0.5h1.4m13.6 2.5h1.4m-6.9 0.5h1.4m3.1 1h1.4m-12.9 1h1.4m4.6 1h1.4m3.6 0h1.4m-12.4 1.5h1.4m-2.4 2.5h1.4m12.1 1h1.4m-0.9 0.5h1.4m-2.9 1h1.4m-14.9 0.5h1.4m-3.4 0.5h1.4m-0.9 0h1.4m13.6 0h1.4" stroke="#70bc44" stroke-width="1.4" fill="none"/>
<path d="M193.5 366.5h1.4m-0.9 1h1.4m1.6 2h1.4m-0.4 3.5h1.4m-0.4 0h1.4m-5.4 3h1.4m3.1 0.5h1.4m-5.9 0.5h1.4m-0.4 1h1.4m-0.4 0h1.4m-5.4 1.5h1.4m7.6 1.5h1.4m-0.4 1h1.4m-11.4 1h1.4m-1.4 1h1.4m3.6 1h1.4m-4.9 3h1.4m1.6 0h1.4m-0.9 0h1.4m-1.9 1h1.4m-0.9 2.5h1.4m-0.9 0h1.4m-4.4 0.5h1.4m-1.4 0.5h1.4m8.1 2h1.4m-9.9 0.5h1.4m-2.4 1h1.4m7.6 2.5h1.4m-9.9 1.5h1.4m2.6 0h1.4m3.6 0h1.4m-11.9 0.5h1.4m-0.9 0h1.4m-0.4 0.5h1.4m3.6 0h1.4m-6.9 1h1.4m1.6 3.5h1.4m2.6 0h1.4m-8.4 0.5h1.4m-0.9 0.5h1.4m14.1 9h1.4" stroke="#56b86e" stroke-width="1.4" fill="none"/>
<path d="M193.5 370h1.4m-1.9 4h1.4m3.1 2.5h1.4m-1.4 0.5h1.4m-2.4 0.5h1.4m-3.4 3.5h1.4m-1.9 2h1.4m2.6 0.5h1.4m-0.4 0.5h1.4m-3.9 2.5h1.4m4.6 0h1.4m-2.9 1.5h1.4m-0.4 0h1.4m-10.4 0.5h1.4m1.6 0.5h1.4m-2.4 2h1.4m-2.9 1.5h1.4m2.1 1.5h1.4m-3.9 3.5h1.4m-0.9 0.5h1.4m5.6 0.5h1.4m-7.9 0.5h1.4m-3.4 2.5h1.4m-0.4 0.5h1.4m1.1 4h1.4m-4.4 3h1.4" stroke="#3eb7b1" stroke-width="1.4" fill="none"/>
<path d="M193 370h1.4m0.1 0.5h1.4m-2.4 1.5h1.4m0.6 3h1.4m-1.9 2.5h1.4m-2.4 0.5h1.4m-1.4 0.5h1.4m-1.4 2.5h1.4m6.1 2h1.4m-0.9 4h1.4m-9.9 1h1.4m2.6 1.5h1.4m2.6 0h1.4m-7.4 8h1.4m-1.9 1h1.4m6.1 0.5h1.4m-3.9 1.5h1.4" stroke="#2ea4dc" stroke-width="1.4" fill="none"/>
<path d="M194 368.5h1.4m2.6 2.5h1.4m-3.9 1.5h1.4m2.1 5.5h1.4m-5.9 0.5h1.4m0.6 2h1.4m-2.4 2h1.4m0.1 0.5h1.4m-5.4 0.5h1.4m0.1 0.5h1.4m-2.4 2h1.4m4.1 4h1.4m-5.9 1.5h1.4m3.1 0h1.4m-5.4 6h1.4m7.6 1h1.4m-11.4 2h1.4" stroke="#3586c7" stroke-width="1.4" fill="none"/>
<path d="M197 376h1.4m-3.4 4h1.4m-1.4 2h1.4m-1.9 5h1.4m0.1 10.5h1.4" stroke="#3d60ac" stroke-width="1.4" fill="none"/>
<path d="M197 382h1.4m-4.4 17.5h1.4" stroke="#534fa1" stroke-width="1.4" fill="none"/>
<path d="M195.5 381.5h1.4" stroke="#84489d" stroke-width="1.4" fill="none"/>
<path d="M196.5 384h1.4m-1.4 3.5h1.4" stroke="#b8409a" stroke-width="1.4" fill="none"/>
<path d="M193.5 356.5h1.4m-0.4 1h1.4m5.6 4.5h1.4m-2.9 1.5h1.4m-3.4 1h1.4m0.6 4.5h1.4m5.6 1.5h1.4m-7.9 2h1.4m-0.4 1.5h1.4m1.1 0.5h1.4m2.1 1.5h1.4m-2.9 0.5h1.4m12.1 7.5h1.4m3.1 1.5h1.4m-9.4 1h1.4m-7.9 8h1.4m0.1 0h1.4m-5.9 1.5h1.4m-1.9 0.5h1.4m5.1 0h1.4m-20.4 1h1.4m14.6 0h1.4m6.6 1.5h1.4m-5.9 0.5h1.4m7.6 0h1.4m-11.9 0.5h1.4m4.6 0.5h1.4m-2.4 0.5h1.4m-4.4 1h1.4m-6.9 0.5h1.4m24.6 3h1.4m-20.4 0.5h1.4m-12.4 1h1.4m-0.4 0h1.4m-4.4 1h1.4m12.1 0h1.4m-6.9 0.5h1.4m5.1 1h1.4m-0.4 0.5h1.4m-18.4 0.5h1.4m18.6 0h1.4m26.6 0h1.4m-19.9 0.5h1.4m-26.9 0.5h1.4m7.6 0h1.4m13.6 0h1.4m-15.4 0.5h1.4m5.1 0h1.4m-29.4 0.5h1.4m31.1 0h1.4m-28.9 1h1.4m28.1 0h1.4m7.1 0.5h1.4m-28.4 0.5h1.4m8.6 0h1.4m-6.9 0.5h1.4m27.1 0h1.4m-23.4 0.5h1.4m28.1 0h1.4m-15.4 1h1.4m1.1 0h1.4m-45.4 0.5h1.4m17.6 0.5h1.4m5.6 0h1.4m-18.4 0.5h1.4m1.1 0h1.4m27.6 0h1.4m4.1 0h1.4m-28.4 0.5h1.4m3.1 0.5h1.4m-0.4 0h1.4m-3.9 0.5h1.4m12.1 0.5h1.4m-21.4 0.5h1.4m12.1 0h1.4m-2.4 0.5h1.4m-16.9 0.5h1.4m12.6 0h1.4m17.6 0h1.4m-1.4 0.5h1.4m-29.4 2h1.4m4.1 0h1.4m23.6 0h1.4m-28.9 0.5h1.4m-8.9 0.5h1.4m22.6 0.5h1.4m-5.9 0.5h1.4m-11.9 0.5h1.4m14.6 0h1.4m-15.9 0.5h1.4m8.6 0h1.4m-21.4 1h1.4m14.6 0.5h1.4m1.1 0h1.4m-15.9 1h1.4m1.1 0.5h1.4m-2.4 0.5h1.4m-6.9 2.5h1.4m2.1 0h1.4m10.1 2h1.4m8.1 0h1.4m-6.9 1h1.4m-7.4 1h1.4m-1.4 2.5h1.4m7.6 2.5h1.4m-10.4 1h1.4" stroke="#f68e1c" stroke-width="1.4" fill="none"/>
<path d="M201 357h1.4m-7.9 2h1.4m-1.9 0.5h1.4m1.6 2h1.4m-1.9 1.5h1.4m-1.4 3.5h1.4m1.6 0h1.4m-4.9 1h1.4m-4.4 1.5h1.4m2.6 0h1.4m-1.4 3h1.4m3.6 0h1.4m3.1 1.5h1.4m-10.4 1h1.4m7.6 0.5h1.4m-3.9 2h1.4m-5.9 2h1.4m0.1 2h1.4m5.6 4h1.4m-5.4 2h1.4m-0.4 0h1.4m0.1 1.5h1.4m3.1 4h1.4m1.6 0h1.4m-2.9 0.5h1.4m-20.9 1h1.4m13.6 0h1.4m5.1 0h1.4m-16.4 0.5h1.4m7.6 0h1.4m-16.9 1.5h1.4m8.1 0h1.4m-9.4 0.5h1.4m11.6 0h1.4m-4.9 0.5h1.4m11.1 1h1.4m-11.9 1h1.4m-0.4 0h1.4m2.1 1h1.4m-10.9 0.5h1.4m8.6 0.5h1.4m10.1 0.5h1.4m-17.9 0.5h1.4m-7.4 0.5h1.4m4.6 0h1.4m1.6 0h1.4m-12.9 0.5h1.4m5.1 0.5h1.4m3.1 1h1.4m3.6 0.5h1.4m2.1 0.5h1.4m-24.9 0.5h1.4m4.1 0h1.4m-1.9 1h1.4m10.6 0h1.4m-10.4 0.5h1.4m-5.4 0.5h1.4m-5.4 2h1.4m25.1 0h1.4m-28.4 1.5h1.4m17.1 0h1.4m2.6 0h1.4m4.6 0h1.4m-29.4 0.5h1.4m24.6 0h1.4m-26.4 0.5h1.4m8.1 0.5h1.4m10.1 0h1.4m2.6 0h1.4m-9.4 1h1.4m-9.9 1h1.4m1.6 0h1.4m16.1 1h1.4m-21.4 1h1.4m0.6 0.5h1.4m-9.4 0.5h1.4m12.1 0h1.4m10.1 1h1.4m-5.9 0.5h1.4m-16.9 0.5h1.4m-10.4 0.5h1.4m2.6 0h1.4m0.1 0h1.4m6.1 0h1.4m10.1 0h1.4m-25.4 0.5h1.4m13.1 0.5h1.4m5.1 0h1.4m5.6 1.5h1.4m-9.9 1.5h1.4m-2.4 1h1.4m15.1 1.5h1.4m-14.9 1.5h1.4m0.1 0.5h1.4m5.6 0.5h1.4m-8.4 3h1.4m-9.9 0.5h1.4" stroke="#f2ce1a" stroke-width="1.4" fill="none"/>
<path d="M194.5 366h1.4m4.1 3.5h1.4m-5.4 0.5h1.4m-1.9 1.5h1.4m3.1 4h1.4m1.6 0h1.4m-11.4 0.5h1.4m8.6 0.5h1.4m-7.9 2h1.4m0.6 2.5h1.4m-0.9 0.5h1.4m4.1 0h1.4m1.6 0.5h1.4m-6.9 1h1.4m4.1 0h1.4m-5.9 1h1.4m0.1 0h1.4m-2.9 1h1.4m-6.9 1.5h1.4m-0.4 0h1.4m4.1 0h1.4m-3.9 0.5h1.4m0.6 0h1.4m-4.9 1.5h1.4m-0.9 0h1.4m2.1 0.5h1.4m-11.4 1.5h1.4m6.1 0h1.4m-8.9 0.5h1.4m8.6 0.5h1.4m-1.9 0.5h1.4m-0.4 0.5h1.4m-8.4 1h1.4m2.1 0.5h1.4m2.1 0h1.4m7.6 0h1.4m-8.9 0.5h1.4m-12.9 0.5h1.4m3.1 0.5h1.4m1.1 1h1.4m-0.4 0h1.4m-1.9 0.5h1.4m-10.4 1h1.4m21.6 0h1.4m-4.9 1h1.4m-8.4 2h1.4m-4.4 0.5h1.4m-5.9 0.5h1.4m3.1 0h1.4m-5.4 0.5h1.4m-0.4 0h1.4m6.1 0.5h1.4m-0.9 0h1.4m8.1 1h1.4m-22.9 0.5h1.4m0.6 0h1.4m1.6 1h1.4m3.1 0h1.4m6.6 0h1.4m-13.4 0.5h1.4m1.6 0h1.4m2.6 0h1.4m-7.4 0.5h1.4m-2.4 0.5h1.4m1.6 2h1.4m-5.9 0.5h1.4m5.1 0h1.4m4.1 0.5h1.4m-0.4 0h1.4m-18.9 0.5h1.4m11.1 0h1.4m-12.9 1h1.4m13.6 0h1.4m-16.9 1.5h1.4m-2.4 0.5h1.4m14.1 0h1.4m-9.4 0.5h1.4m14.6 0h1.4m-23.4 0.5h1.4m6.1 0h1.4m2.1 0h1.4m2.6 0h1.4m-8.9 0.5h1.4m0.1 0h1.4m-0.9 0h1.4m0.6 0h1.4m-9.9 1h1.4m5.6 0h1.4m-12.4 1h1.4m32.1 0h1.4m-26.4 0.5h1.4m2.1 0h1.4m5.1 0h1.4m-19.9 1h1.4m3.1 0.5h1.4m1.1 0h1.4m10.1 1h1.4m-11.9 1h1.4" stroke="#e9e21d" stroke-width="1.4" fill="none"/>
<path d="M196 360h1.4m-1.9 1h1.4m1.1 1h1.4m-6.4 10h1.4m2.1 7.5h1.4m-2.4 0.5h1.4m5.6 1.5h1.4m-5.4 0.5h1.4m0.6 1h1.4m-0.9 1.5h1.4m-1.4 0.5h1.4m-3.9 1h1.4m-0.4 0h1.4m-0.9 0h1.4m-4.4 0.5h1.4m-5.4 0.5h1.4m5.1 2h1.4m2.1 1.5h1.4m-6.9 1h1.4m2.1 0.5h1.4m3.1 0h1.4m2.1 0.5h1.4m-1.4 0.5h1.4m-7.9 0.5h1.4m-5.4 0.5h1.4m5.6 0h1.4m-6.9 2.5h1.4m-6.9 0.5h1.4m1.1 0h1.4m2.6 0.5h1.4m3.6 0h1.4m-1.9 1.5h1.4m-2.4 0.5h1.4m-2.4 2.5h1.4m-0.4 0h1.4m-10.9 1h1.4m0.6 0h1.4m-2.9 0.5h1.4m10.6 0h1.4m-6.4 0.5h1.4m6.6 0h1.4m-16.9 0.5h1.4m-2.4 1.5h1.4m9.1 0h1.4m-1.9 1.5h1.4m3.6 0h1.4m-0.9 0.5h1.4m-13.9 0.5h1.4m12.1 0.5h1.4m-1.4 0.5h1.4m-10.4 1h1.4m-8.4 0.5h1.4m-2.4 0.5h1.4m0.1 0h1.4m0.6 0.5h1.4m4.1 0h1.4m3.1 1h1.4m-4.9 1h1.4m-3.4 0.5h1.4m-4.9 0.5h1.4m-0.4 0h1.4m9.1 2h1.4m-15.4 0.5h1.4m4.6 0h1.4m-6.4 1h1.4m8.6 0.5h1.4m-0.4 0h1.4m-13.4 0.5h1.4m1.6 0h1.4m-1.4 0.5h1.4m-4.9 1.5h1.4m16.1 0h1.4" stroke="#a3ca39" stroke-width="1.4" fill="none"/>
<path d="M195 360.5h1.4m2.1 1.5h1.4m-1.9 7.5h1.4m-3.4 3h1.4m1.1 2.5h1.4m2.1 0.5h1.4m-6.9 0.5h1.4m-2.4 2h1.4m-1.4 1.5h1.4m2.1 0h1.4m3.1 0.5h1.4m-4.4 0.5h1.4m-3.9 0.5h1.4m-2.4 0.5h1.4m4.1 0.5h1.4m-5.4 1h1.4m4.6 0h1.4m-12.4 1.5h1.4m3.6 0h1.4m-5.4 0.5h1.4m0.1 0h1.4m2.1 0h1.4m-0.4 0h1.4m-0.9 3.5h1.4m-0.4 0h1.4m-6.9 3h1.4m-1.9 0.5h1.4m-0.9 1.5h1.4m3.6 0.5h1.4m1.1 3.5h1.4m-0.9 0.5h1.4m-5.9 0.5h1.4m-0.9 0.5h1.4m10.1 0h1.4m-15.9 0.5h1.4m-0.4 0h1.4m11.6 0h1.4m-10.9 0.5h1.4m-7.4 0.5h1.4m10.6 0.5h1.4m-11.9 0.5h1.4m9.6 0h1.4m-9.9 1.5h1.4m1.6 0.5h1.4m3.1 0.5h1.4m-1.4 0.5h1.4m-15.9 0.5h1.4m3.6 0h1.4m-0.9 0h1.4m2.6 0h1.4m4.6 0h1.4m-14.4 0.5h1.4m2.1 0h1.4m3.1 3.5h1.4m-8.4 4h1.4m8.6 0h1.4m-1.4 0.5h1.4m-6.9 0.5h1.4m-6.4 5h1.4m2.1 0.5h1.4" stroke="#70bc44" stroke-width="1.4" fill="none"/>
<path d="M194 367h1.4m-0.4 4.5h1.4m1.6 0h1.4m-0.4 2h1.4m-4.9 1h1.4m2.1 1.5h1.4m-3.9 0.5h1.4m2.6 0h1.4m-3.9 0.5h1.4m-3.9 2h1.4m0.6 0.5h1.4m0.6 0h1.4m2.6 0h1.4m-2.9 0.5h1.4m-3.9 1h1.4m0.6 0h1.4m-3.4 0.5h1.4m3.1 0.5h1.4m-2.4 0.5h1.4m1.1 0.5h1.4m-12.9 1.5h1.4m5.1 0h1.4m-7.9 0.5h1.4m0.1 0.5h1.4m0.6 0h1.4m0.1 0h1.4m0.6 0.5h1.4m-0.9 1.5h1.4m-0.4 0h1.4m-7.4 2.5h1.4m3.1 0h1.4m1.1 1h1.4m-9.4 0.5h1.4m5.1 0.5h1.4m-7.4 0.5h1.4m0.6 0h1.4m11.6 4h1.4m-1.4 0.5h1.4m-6.9 0.5h1.4m-7.4 1h1.4m-6.4 0.5h1.4m1.1 0h1.4m-5.4 0.5h1.4m3.6 0.5h1.4m1.1 0h1.4m3.1 2h1.4m-10.4 0.5h1.4m-0.9 0.5h1.4m2.1 0.5h1.4m-0.4 1h1.4m-6.4 0.5h1.4m-2.9 0.5h1.4m13.1 0h1.4m-4.4 2.5h1.4m-8.9 0.5h1.4m3.1 1h1.4m-8.4 1h1.4m5.6 0h1.4" stroke="#56b86e" stroke-width="1.4" fill="none"/>
<path d="M194.5 366.5h1.4m-2.9 0.5h1.4m0.1 0h1.4m-2.4 0.5h1.4m-1.9 1h1.4m1.6 0.5h1.4m-3.4 2h1.4m3.1 0.5h1.4m-5.9 1.5h1.4m-2.4 1.5h1.4m0.6 0h1.4m-0.9 1h1.4m0.6 4.5h1.4m-0.9 0.5h1.4m0.1 0h1.4m2.6 0.5h1.4m-10.4 1h1.4m5.6 0.5h1.4m-9.4 0.5h1.4m3.6 1h1.4m-4.9 0.5h1.4m-3.4 1.5h1.4m8.1 1h1.4m-2.4 1h1.4m-8.9 1h1.4m9.6 0h1.4m-10.4 1h1.4m0.1 0h1.4m2.1 1.5h1.4m-8.9 7h1.4m7.6 0h1.4m-8.9 0.5h1.4m5.1 0h1.4m-6.9 0.5h1.4m-0.4 1h1.4m-0.4 0h1.4m-3.9 1h1.4m-1.4 3.5h1.4m15.1 11h1.4" stroke="#3eb7b1" stroke-width="1.4" fill="none"/>
<path d="M193.5 368.5h1.4m0.1 7h1.4m-1.9 0.5h1.4m-1.4 0.5h1.4m2.6 2h1.4m-4.9 0.5h1.4m-1.4 0.5h1.4m3.6 1h1.4m-2.9 2h1.4m-5.4 1h1.4m-2.4 3h1.4m7.1 0h1.4m-8.4 1h1.4m-2.4 0.5h1.4m1.6 1h1.4m0.6 2h1.4m-0.9 0.5h1.4m-7.4 0.5h1.4m8.1 6.5h1.4m-6.9 0.5h1.4m-2.4 3h1.4m0.1 6.5h1.4m-4.9 0.5h1.4" stroke="#2ea4dc" stroke-width="1.4" fill="none"/>
<path d="M195.5 369h1.4m-2.4 0.5h1.4m1.1 6h1.4m-5.4 3h1.4m2.6 1.5h1.4m-1.9 2h1.4m-3.4 0.5h1.4m5.1 0h1.4m-5.9 8h1.4m-3.9 1.5h1.4m-1.9 7h1.4m-1.4 0.5h1.4m0.6 0h1.4" stroke="#3586c7" stroke-width="1.4" fill="none"/>
<path d="M195 368.5h1.4m-2.9 1h1.4m-0.9 2.5h1.4m-1.9 5h1.4m-0.9 0h1.4m-0.9 0.5h1.4m-1.4 0.5h1.4m3.1 2h1.4m-0.9 0h1.4m-6.4 0.5h1.4m1.1 0h1.4m-2.9 0.5h1.4m0.1 1.5h1.4m-2.9 1h1.4m-1.4 0.5h1.4m-1.4 2h1.4m-2.9 1h1.4" stroke="#3d60ac" stroke-width="1.4" fill="none"/>
<path d="M199.5 377.5h1.4m-1.4 0.5h1.4m-7.4 3h1.4m-1.4 6h1.4m1.1 1h1.4" stroke="#534fa1" stroke-width="1.4" fill="none"/>
<path d="M193.5 372.5h1.4m-0.4 1.5h1.4m-1.4 1.5h1.4m0.1 5.5h1.4m-0.9 1.5h1.4m-3.4 15.5h1.4" stroke="#84489d" stroke-width="1.4" fill="none"/>
<path d="M194.5 374.5h1.4m-1.4 5.5h1.4m0.1 3.5h1.4m-0.9 0h1.4m-0.9 0h1.4m-3.9 15h1.4m1.1 6.5h1.4" stroke="#b8409a" stroke-width="1.4" fill="none"/>
<path d="M196.5 348h1.4m-3.9 0.5h1.4m-0.9 3h1.4m2.6 1h1.4m-5.4 0.5h1.4m2.1 7h1.4m-3.4 2h1.4m0.1 0h1.4m-3.9 0.5h1.4m-3.4 0.5h1.4m5.1 10h1.4m1.1 1h1.4m0.1 3.5h1.4m9.6 4.5h1.4m-6.4 0.5h1.4m0.1 0h1.4m-1.4 3.5h1.4m-3.4 0.5h1.4m-0.9 0.5h1.4m-4.4 2h1.4m5.1 0.5h1.4m1.6 0.5h1.4m-10.4 0.5h1.4m0.6 0.5h1.4m-3.4 0.5h1.4m7.6 0.5h1.4m-14.9 3h1.4m-2.4 4.5h1.4m6.6 0h1.4m1.6 0.5h1.4m0.1 0h1.4m1.1 0h1.4m14.6 2.5h1.4m-25.4 0.5h1.4m1.6 0h1.4m15.6 0h1.4m-11.9 0.5h1.4m-8.4 1h1.4m-4.4 0.5h1.4m1.6 0.5h1.4m11.1 0h1.4m1.1 0h1.4m-33.4 1h1.4m32.1 0h1.4m-33.9 0.5h1.4m1.1 0h1.4m13.6 0h1.4m2.6 0h1.4m1.1 0.5h1.4m-3.9 0.5h1.4m5.1 0h1.4m-19.4 0.5h1.4m18.1 0.5h1.4m-13.9 2h1.4m4.1 0.5h1.4m-18.9 0.5h1.4m6.1 0.5h1.4m7.6 0.5h1.4m10.1 0h1.4m1.6 0.5h1.4m-36.9 0.5h1.4m29.6 1h1.4m0.6 0h1.4m10.6 0h1.4m-6.4 0.5h1.4m-23.4 0.5h1.4m-6.9 0.5h1.4m11.6 0h1.4m11.6 1h1.4m9.6 0.5h1.4m-48.4 0.5h1.4m4.1 0h1.4m-10.4 1h1.4m9.1 1.5h1.4m31.1 0h1.4m-28.4 1h1.4m5.1 0h1.4m9.6 0.5h1.4m-15.9 0.5h1.4m-0.4 1h1.4m2.1 0h1.4m7.1 0h1.4m-2.4 1h1.4m-8.9 1h1.4m11.1 1h1.4m4.1 1.5h1.4m-0.4 1h1.4m-5.4 0.5h1.4m6.1 1.5h1.4m-28.9 0.5h1.4m3.1 0h1.4m1.1 0.5h1.4m-7.4 0.5h1.4m-0.9 1.5h1.4m7.6 0.5h1.4m-9.4 5h1.4m0.6 1.5h1.4" stroke="#f68e1c" stroke-width="1.4" fill="none"/>
<path d="M195.5 363.5h1.4m-3.9 0.5h1.4m2.6 1.5h1.4m1.1 1.5h1.4m-1.9 1.5h1.4m0.1 2.5h1.4m-0.4 1h1.4m4.1 2h1.4m-6.9 1.5h1.4m-9.9 1h1.4m7.6 2h1.4m-0.4 0h1.4m2.1 3.5h1.4m-4.4 2h1.4m-0.4 0.5h1.4m-0.4 1h1.4m5.6 0h1.4m-5.9 0.5h1.4m-10.4 2h1.4m10.1 1h1.4m-2.4 1h1.4m-4.9 1h1.4m3.1 1.5h1.4m1.1 1h1.4m0.6 0h1.4m-12.9 0.5h1.4m1.6 0h1.4m-0.4 0.5h1.4m4.6 0h1.4m-8.9 0.5h1.4m-14.4 0.5h1.4m18.1 0h1.4m-0.9 0h1.4m-9.9 0.5h1.4m6.1 1.5h1.4m-8.4 0.5h1.4m1.6 0h1.4m2.6 0h1.4m2.1 0.5h1.4m-7.4 0.5h1.4m-4.9 1h1.4m3.6 0h1.4m10.1 2h1.4m-22.4 0.5h1.4m7.6 0h1.4m-10.9 0.5h1.4m-3.4 1h1.4m4.6 0.5h1.4m16.1 0.5h1.4m-18.4 1h1.4m2.1 0h1.4m-0.9 0h1.4m-14.4 0.5h1.4m-4.4 0.5h1.4m24.1 0h1.4m-0.9 0h1.4m-20.4 0.5h1.4m10.6 1h1.4m-13.4 0.5h1.4m2.6 1h1.4m17.6 0.5h1.4m-20.9 0.5h1.4m1.1 0h1.4m4.1 0.5h1.4m-2.4 0.5h1.4m-2.4 1h1.4m0.1 0h1.4m-0.9 0.5h1.4m3.1 0h1.4m-0.9 0h1.4m2.1 0h1.4m-9.9 0.5h1.4m0.1 0h1.4m-7.9 1h1.4m-7.4 1h1.4m10.6 0h1.4m8.6 0h1.4m-26.9 0.5h1.4m-1.9 0.5h1.4m0.6 0h1.4m30.6 0h1.4m-7.9 0.5h1.4m-29.4 0.5h1.4m22.1 1h1.4m-17.4 0.5h1.4m12.1 0h1.4m-7.4 0.5h1.4m51.1 0h1.4m-51.4 0.5h1.4m-4.9 0.5h1.4m4.6 0h1.4m6.6 0.5h1.4m-0.9 0h1.4m-11.9 2h1.4m-2.9 2h1.4m9.1 0.5h1.4m-11.4 1.5h1.4m4.1 3h1.4" stroke="#f2ce1a" stroke-width="1.4" fill="none"/>
<path d="M199 363h1.4m-6.4 0.5h1.4m0.6 0.5h1.4m-1.9 0.5h1.4m-0.4 0h1.4m-4.4 0.5h1.4m2.1 1.5h1.4m-0.4 2.5h1.4m0.1 1h1.4m-7.9 1h1.4m5.1 1.5h1.4m-4.4 1h1.4m-2.4 0.5h1.4m1.6 0.5h1.4m0.6 1h1.4m-6.4 1.5h1.4m-3.9 0.5h1.4m7.6 0h1.4m5.1 5h1.4m-1.4 0.5h1.4m-5.9 2.5h1.4m-8.4 0.5h1.4m0.1 1h1.4m7.6 0h1.4m-10.4 4h1.4m0.1 1h1.4m1.1 1h1.4m1.6 0h1.4m2.6 0.5h1.4m-4.9 0.5h1.4m-11.9 1h1.4m4.1 0h1.4m-5.9 0.5h1.4m12.1 0h1.4m-9.9 0.5h1.4m-7.4 0.5h1.4m11.1 2.5h1.4m5.6 1h1.4m-15.9 1.5h1.4m1.6 0h1.4m-10.4 2h1.4m10.1 0h1.4m-8.9 0.5h1.4m1.1 0h1.4m15.1 0.5h1.4m-4.4 1h1.4m-2.9 0.5h1.4m-13.4 0.5h1.4m2.1 0h1.4m7.6 0h1.4m-12.4 0.5h1.4m3.1 0.5h1.4m-12.9 0.5h1.4m4.6 1h1.4m-0.4 0h1.4m-8.4 0.5h1.4m-0.4 0h1.4m7.1 0h1.4m-11.9 0.5h1.4m3.1 0h1.4m10.6 0h1.4m-12.9 0.5h1.4m8.6 0h1.4m4.1 0h1.4m-11.9 0.5h1.4m2.6 0.5h1.4m5.1 0h1.4m-15.4 1.5h1.4m-2.4 0.5h1.4m-0.9 0h1.4m3.1 1h1.4m-9.9 0.5h1.4m-0.4 0h1.4m-2.4 1h1.4m-0.9 0.5h1.4m-0.4 0h1.4m-0.9 0h1.4m10.6 0h1.4m2.6 0.5h1.4m-10.4 2h1.4m-8.9 0.5h1.4m5.6 0.5h1.4m5.6 1.5h1.4m-8.4 0.5h1.4m18.6 6h1.4m7.1 2.5h1.4m-1.4 0.5h1.4" stroke="#e9e21d" stroke-width="1.4" fill="none"/>
<path d="M194.5 360h1.4m-1.4 4.5h1.4m0.1 1h1.4m-2.4 1h1.4m-1.4 0.5h1.4m1.1 0h1.4m-1.4 0.5h1.4m-2.4 1h1.4m1.1 0.5h1.4m-0.4 1h1.4m-6.4 3h1.4m-0.9 0h1.4m1.6 0h1.4m-3.4 2h1.4m3.6 1.5h1.4m-4.4 0.5h1.4m0.1 0.5h1.4m0.1 2.5h1.4m-2.4 1h1.4m1.1 0h1.4m-2.9 0.5h1.4m-2.9 1.5h1.4m-3.4 3.5h1.4m-0.4 0.5h1.4m-1.9 0.5h1.4m7.1 0h1.4m-3.9 0.5h1.4m-1.4 0.5h1.4m-12.9 0.5h1.4m15.1 0h1.4m-1.4 0.5h1.4m-2.9 0.5h1.4m-8.9 0.5h1.4m3.1 0.5h1.4m-9.4 1h1.4m1.6 0.5h1.4m-3.4 0.5h1.4m1.6 0h1.4m-5.4 0.5h1.4m3.6 0h1.4m-9.4 0.5h1.4m-1.9 0.5h1.4m5.6 0.5h1.4m-5.9 1h1.4m1.6 0h1.4m9.6 0h1.4m-13.4 1.5h1.4m3.6 0.5h1.4m4.1 0h1.4m-3.9 0.5h1.4m0.6 0h1.4m2.1 0.5h1.4m-16.4 0.5h1.4m7.6 0h1.4m-3.4 0.5h1.4m-5.4 1h1.4m-5.9 1h1.4m-3.4 1h1.4m1.6 0.5h1.4m3.1 1h1.4m1.1 0h1.4m2.6 0h1.4m1.1 0.5h1.4m-8.4 1h1.4m-7.9 1h1.4m6.1 1h1.4m-9.9 0.5h1.4m7.1 0h1.4m7.1 0h1.4m-16.4 2h1.4m12.1 0h1.4m-17.9 0.5h1.4m2.6 0h1.4m-0.9 0.5h1.4m3.1 0h1.4m3.1 0h1.4m-12.9 0.5h1.4m-0.4 1h1.4m4.6 0.5h1.4m2.6 0h1.4m2.1 0h1.4m-18.9 2h1.4m4.1 0h1.4m2.1 0h1.4m-8.4 0.5h1.4m6.1 0h1.4m10.1 1h1.4m-6.4 0.5h1.4m-1.4 0.5h1.4m-0.4 0h1.4m-17.9 1h1.4m13.6 0h1.4m-2.9 0.5h1.4m2.1 0h1.4m-6.4 0.5h1.4m-0.9 0h1.4m-6.9 1.5h1.4m3.1 0h1.4m-6.4 0.5h1.4" stroke="#a3ca39" stroke-width="1.4" fill="none"/>
<path d="M195 361h1.4m-1.4 0.5h1.4m-1.4 2.5h1.4m-1.4 0.5h1.4m-0.4 1.5h1.4m-1.4 2h1.4m1.1 2h1.4m-0.4 0.5h1.4m-2.9 3.5h1.4m-0.4 0h1.4m-6.9 2h1.4m5.6 1h1.4m-6.9 1.5h1.4m0.6 0h1.4m-0.4 0h1.4m-2.9 0.5h1.4m2.6 0h1.4m-5.4 1h1.4m0.1 1.5h1.4m-5.4 0.5h1.4m4.1 0h1.4m-7.9 0.5h1.4m0.1 0.5h1.4m2.1 0h1.4m5.1 0.5h1.4m-0.4 0h1.4m-4.9 1.5h1.4m-0.9 0.5h1.4m-2.9 1h1.4m-4.9 1h1.4m2.1 0h1.4m-0.4 1.5h1.4m-7.9 1h1.4m-2.4 0.5h1.4m-0.4 0.5h1.4m7.1 0h1.4m0.6 1h1.4m-14.4 0.5h1.4m0.6 0h1.4m4.1 1h1.4m-6.9 2.5h1.4m0.1 0.5h1.4m1.1 1.5h1.4m5.6 0h1.4m-6.9 0.5h1.4m-4.9 1h1.4m5.6 0h1.4m6.6 0h1.4m-17.9 1h1.4m5.6 0h1.4m-9.9 0.5h1.4m1.6 0h1.4m3.1 0h1.4m-7.4 1.5h1.4m6.1 0.5h1.4m-4.4 1h1.4m0.1 0h1.4m-0.9 0.5h1.4m-0.4 2.5h1.4m1.6 0.5h1.4m-10.4 1.5h1.4m9.6 0h1.4m-13.4 0.5h1.4m12.6 1h1.4m-9.9 0.5h1.4m4.6 0h1.4m-14.4 0.5h1.4m-2.4 4h1.4m5.6 4h1.4m-2.4 0.5h1.4" stroke="#70bc44" stroke-width="1.4" fill="none"/>
<path d="M194.5 370h1.4m-1.4 2h1.4m-2.9 0.5h1.4m3.6 1h1.4m-5.4 2.5h1.4m2.6 0.5h1.4m0.6 0h1.4m-0.4 0h1.4m-5.4 1h1.4m-4.9 0.5h1.4m0.6 0.5h1.4m2.1 0.5h1.4m2.1 0.5h1.4m-0.9 0h1.4m-1.9 0.5h1.4m-10.9 0.5h1.4m1.1 0h1.4m5.1 0h1.4m0.1 0h1.4m-10.9 1h1.4m9.1 0.5h1.4m-3.4 0.5h1.4m-8.9 0.5h1.4m8.6 0h1.4m-12.4 1h1.4m2.6 0h1.4m-2.9 0.5h1.4m-0.4 0.5h1.4m-4.9 0.5h1.4m3.1 0h1.4m1.6 0h1.4m-1.4 0.5h1.4m-6.4 1h1.4m0.6 2h1.4m-6.4 0.5h1.4m-0.9 0h1.4m2.6 0h1.4m-0.4 0h1.4m-5.9 0.5h1.4m6.6 1.5h1.4m-6.4 0.5h1.4m-0.9 0h1.4m-0.4 0h1.4m-6.4 0.5h1.4m3.6 0.5h1.4m-0.9 0h1.4m8.6 0h1.4m-12.4 1.5h1.4m-3.9 2.5h1.4m6.1 1h1.4m-4.9 3h1.4m-3.4 0.5h1.4m1.6 0h1.4m-0.9 0h1.4m-9.4 0.5h1.4m-0.4 0.5h1.4m0.1 0.5h1.4m2.1 0.5h1.4m-7.9 1h1.4m14.6 0.5h1.4m-1.9 0.5h1.4m-14.4 1.5h1.4m-0.9 0.5h1.4m14.6 2h1.4m-1.4 6h1.4m-1.9 0.5h1.4" stroke="#56b86e" stroke-width="1.4" fill="none"/>
<path d="M193.5 366h1.4m-0.9 0h1.4m-2.4 2h1.4m2.6 2h1.4m-0.4 0h1.4m-0.9 0.5h1.4m-6.4 1h1.4m-0.9 1h1.4m-1.9 2h1.4m2.6 1h1.4m1.1 2.5h1.4m-2.9 1h1.4m-6.9 1h1.4m1.6 1.5h1.4m-4.4 0.5h1.4m3.1 0h1.4m-0.9 0.5h1.4m-5.9 2.5h1.4m4.6 0.5h1.4m-5.4 1.5h1.4m4.1 0h1.4m-3.4 2h1.4m4.6 0.5h1.4m-9.4 1h1.4m1.1 0.5h1.4m1.1 0.5h1.4m-8.4 0.5h1.4m-1.4 2h1.4m-0.9 0h1.4m-1.4 0.5h1.4m-0.4 0h1.4m-2.4 3.5h1.4m4.1 0.5h1.4m-6.9 1.5h1.4m0.1 0h1.4m-1.4 1.5h1.4m-4.9 1h1.4m2.1 1.5h1.4m-4.9 0.5h1.4m-1.4 0.5h1.4m0.6 1.5h1.4" stroke="#3eb7b1" stroke-width="1.4" fill="none"/>
<path d="M193.5 367h1.4m-1.9 2.5h1.4m1.1 0h1.4m0.6 0.5h1.4m-4.4 5h1.4m4.1 5h1.4m-3.9 2.5h1.4m-2.9 2h1.4m-1.4 1h1.4m2.1 1.5h1.4m-0.4 0h1.4m-1.9 0.5h1.4m-4.4 1h1.4m2.1 0.5h1.4m-0.9 0h1.4m-0.9 0h1.4m-3.4 1.5h1.4m-4.9 4h1.4m-0.9 3.5h1.4m3.6 0h1.4m-1.4 0.5h1.4m-0.9 0.5h1.4m-5.9 1.5h1.4m-4.9 1.5h1.4m-1.4 0.5h1.4m-0.4 0h1.4m3.1 0.5h1.4m-3.9 2.5h1.4m0.1 2.5h1.4m-3.4 2h1.4" stroke="#2ea4dc" stroke-width="1.4" fill="none"/>
<path d="M193.5 368h1.4m-1.4 2.5h1.4m3.6 0.5h1.4m-5.4 2.5h1.4m-2.4 4h1.4m-1.9 1.5h1.4m-0.9 1.5h1.4m-0.9 0h1.4m-0.4 0.5h1.4m-2.9 2.5h1.4m0.1 0.5h1.4m-3.4 1.5h1.4m0.6 0.5h1.4m4.1 0.5h1.4m-5.9 0.5h1.4m-3.9 2h1.4m0.1 0h1.4m-0.9 0h1.4m7.6 0h1.4m-10.9 0.5h1.4m-0.9 0h1.4m-0.4 0h1.4m-0.9 0h1.4m1.1 0.5h1.4m-4.4 1h1.4m-2.9 0.5h1.4m-3.4 10.5h1.4m2.6 2.5h1.4m-4.4 5h1.4m-0.9 0h1.4" stroke="#3586c7" stroke-width="1.4" fill="none"/>
<path d="M194.5 368.5h1.4m-1.9 1h1.4m-1.4 1h1.4m-1.9 2.5h1.4m0.1 2h1.4m-2.4 0.5h1.4m-1.9 3h1.4m-1.4 1h1.4m2.6 1h1.4m-1.9 0.5h1.4m-2.4 3h1.4m-0.4 0h1.4m-2.4 2h1.4m-3.9 2.5h1.4m6.1 1h1.4m-6.4 8.5h1.4m-1.4 3.5h1.4m-0.9 0h1.4m-1.4 3h1.4m-1.4 0.5h1.4" stroke="#3d60ac" stroke-width="1.4" fill="none"/>
<path d="M194 370h1.4m-2.4 3h1.4m-0.4 6h1.4m-0.9 0h1.4m0.6 2h1.4m-2.9 0.5h1.4m-0.4 0.5h1.4m-3.4 4.5h1.4m0.1 1h1.4" stroke="#534fa1" stroke-width="1.4" fill="none"/>
<path d="M194 369h1.4m-0.9 0h1.4m-2.4 4.5h1.4m-0.9 0.5h1.4m-1.4 0.5h1.4m-0.9 2.5h1.4m-1.9 0.5h1.4m-1.9 4h1.4m1.6 1.5h1.4m-1.4 5.5h1.4m-1.9 1h1.4m-3.4 8.5h1.4m-1.4 2h1.4m-0.9 0h1.4" stroke="#84489d" stroke-width="1.4" fill="none"/>
<path d="M193.5 379h1.4m-0.9 0.5h1.4m-0.9 0h1.4m-1.9 0.5h1.4m0.6 2.5h1.4m-1.9 0.5h1.4m-0.9 0h1.4m-0.9 5h1.4m-0.9 0h1.4m-4.4 10.5h1.4" stroke="#b8409a" stroke-width="1.4" fill="none"/>
<line x1="187.60" y1="422.30" x2="279.40" y2="422.30" stroke="#2a2a2a" stroke-width="1.0"/>
<line x1="222.30" y1="346.80" x2="222.30" y2="467.70" stroke="#2a2a2a" stroke-width="1.0"/>
<line x1="187.60" y1="346.40" x2="187.60" y2="468.40" stroke="#000" stroke-width="1.3"/>
<line x1="187.00" y1="467.70" x2="279.00" y2="467.70" stroke="#000" stroke-width="1.4"/>
<line x1="183.80" y1="461.70" x2="187.60" y2="461.70" stroke="#000" stroke-width="1.1"/>
<text x="181.4" y="464.8" font-size="8.6" text-anchor="end">0</text>
<line x1="183.80" y1="422.90" x2="187.60" y2="422.90" stroke="#000" stroke-width="1.1"/>
<text x="181.4" y="426.0" font-size="8.6" text-anchor="end">2</text>
<line x1="183.80" y1="384.10" x2="187.60" y2="384.10" stroke="#000" stroke-width="1.1"/>
<text x="181.4" y="387.2" font-size="8.6" text-anchor="end">4</text>
<line x1="191.60" y1="467.70" x2="191.60" y2="471.50" stroke="#000" stroke-width="1.1"/>
<text x="191.6" y="480.6" font-size="8.6" text-anchor="middle">0</text>
<line x1="222.30" y1="467.70" x2="222.30" y2="471.50" stroke="#000" stroke-width="1.1"/>
<text x="222.3" y="480.6" font-size="8.6" text-anchor="middle">1</text>
<line x1="253.00" y1="467.70" x2="253.00" y2="471.50" stroke="#000" stroke-width="1.1"/>
<text x="253.0" y="480.6" font-size="8.6" text-anchor="middle">2</text>
<text x="189.5" y="352.5" font-size="8.6" textLength="26.9" lengthAdjust="spacingAndGlyphs">92.9%</text>
<text x="258.2" y="352.5" font-size="8.6" textLength="20.2" lengthAdjust="spacingAndGlyphs">3.5%</text>
<text x="192.7" y="461.3" font-size="8.6" textLength="20.1" lengthAdjust="spacingAndGlyphs">1.7%</text>
<text x="248.8" y="461.3" font-size="8.6" textLength="19.5" lengthAdjust="spacingAndGlyphs">1.9%</text>
<text x="233.1" y="493.1" font-size="10" text-anchor="middle" textLength="33.4" lengthAdjust="spacingAndGlyphs">CD45RO</text>
<text x="170.0" y="407.0" font-size="10" text-anchor="middle" textLength="32.0" lengthAdjust="spacingAndGlyphs" transform="rotate(-90 170.0 407.0)">CD45RA</text>
<text x="276.0" y="373.0" font-size="8.4" textLength="23.6" lengthAdjust="spacingAndGlyphs">Count</text>
<defs><linearGradient id="cb278_378" x1="0" y1="0" x2="0" y2="1"><stop offset="0.00" stop-color="#b8409a"/><stop offset="0.10" stop-color="#7a4a9e"/><stop offset="0.20" stop-color="#3f51a3"/><stop offset="0.30" stop-color="#3b6fb6"/><stop offset="0.40" stop-color="#29b5e8"/><stop offset="0.50" stop-color="#4db88a"/><stop offset="0.60" stop-color="#62b847"/><stop offset="0.70" stop-color="#9cc83c"/><stop offset="0.80" stop-color="#f0e41a"/><stop offset="0.90" stop-color="#f7a21b"/><stop offset="1.00" stop-color="#ee2b24"/></linearGradient></defs>
<rect x="278.40" y="378.10" width="13.40" height="68.60" fill="url(#cb278_378)"/>
<line x1="278.40" y1="446.70" x2="281.08" y2="446.70" stroke="#fff" stroke-width="0.4"/>
<line x1="289.12" y1="446.70" x2="291.80" y2="446.70" stroke="#fff" stroke-width="0.4"/>
<text x="295.2" y="449.4" font-size="7.8">0.0</text>
<line x1="278.40" y1="433.73" x2="281.08" y2="433.73" stroke="#fff" stroke-width="0.4"/>
<line x1="289.12" y1="433.73" x2="291.80" y2="433.73" stroke="#fff" stroke-width="0.4"/>
<text x="295.2" y="436.5" font-size="7.8">2.5</text>
<line x1="278.40" y1="420.77" x2="281.08" y2="420.77" stroke="#fff" stroke-width="0.4"/>
<line x1="289.12" y1="420.77" x2="291.80" y2="420.77" stroke="#fff" stroke-width="0.4"/>
<text x="295.2" y="423.5" font-size="7.8">5.0</text>
<line x1="278.40" y1="407.80" x2="281.08" y2="407.80" stroke="#fff" stroke-width="0.4"/>
<line x1="289.12" y1="407.80" x2="291.80" y2="407.80" stroke="#fff" stroke-width="0.4"/>
<text x="295.2" y="410.5" font-size="7.8">7.5</text>
<line x1="278.40" y1="394.84" x2="281.08" y2="394.84" stroke="#fff" stroke-width="0.4"/>
<line x1="289.12" y1="394.84" x2="291.80" y2="394.84" stroke="#fff" stroke-width="0.4"/>
<text x="295.2" y="397.6" font-size="7.8">10.0</text>
<line x1="278.40" y1="381.94" x2="281.08" y2="381.94" stroke="#fff" stroke-width="0.4"/>
<line x1="289.12" y1="381.94" x2="291.80" y2="381.94" stroke="#fff" stroke-width="0.4"/>
<text x="295.2" y="384.7" font-size="7.8">12.5</text>
<path d="M345.5 355.5h1.4m-0.4 3h1.4m6.1 5.5h1.4m-2.9 9h1.4m2.6 1h1.4m-1.4 1.5h1.4m-2.9 4.5h1.4m0.6 1h1.4m-2.9 6h1.4m-0.9 1h1.4m-0.4 0h1.4m4.6 17h1.4m-10.9 2h1.4m-6.9 0.5h1.4m4.6 1.5h1.4m4.6 3.5h1.4m-10.9 4h1.4m3.1 3h1.4m10.6 5h1.4m-22.9 0.5h1.4m0.6 1h1.4m-1.4 3.5h1.4m0.1 3.5h1.4m56.6 2h1.4m-53.4 13.5h1.4m-4.9 4h1.4m-0.4 3h1.4" stroke="#f25d20" stroke-width="1.4" fill="none"/>
<path d="M346.5 360h1.4m4.6 10h1.4m-5.4 1h1.4m2.6 5h1.4m-1.9 5h1.4m0.6 7h1.4m-0.9 10h1.4m-3.9 3.5h1.4m-4.9 2h1.4m-3.4 5h1.4m4.6 2h1.4m-0.4 0.5h1.4m-2.9 1.5h1.4m0.1 7.5h1.4m-3.9 0.5h1.4m-4.9 0.5h1.4m1.6 4h1.4m0.6 10.5h1.4m-2.4 4h1.4" stroke="#f5b21b" stroke-width="1.4" fill="none"/>
<path d="M346 362h1.4m2.1 0.5h1.4m-4.4 8h1.4m3.6 14.5h1.4m0.1 11h1.4m-5.4 3h1.4m1.6 4.5h1.4m-1.9 5h1.4m-6.4 4.5h1.4m2.6 6.5h1.4" stroke="#f2ce1a" stroke-width="1.4" fill="none"/>
<path d="M349 362.5h1.4m-1.4 3h1.4m-1.4 2.5h1.4m-0.9 0h1.4m-2.4 2.5h1.4m-2.4 3h1.4m0.6 3.5h1.4m-5.4 3h1.4m6.6 3.5h1.4m-2.4 2h1.4m-4.9 1h1.4m1.1 0h1.4m0.1 0h1.4m-0.9 2h1.4m-0.9 5.5h1.4m-7.9 9h1.4m0.6 1h1.4m0.6 0h1.4m-7.4 2h1.4m1.6 0.5h1.4m1.1 2h1.4m-6.4 0.5h1.4m1.6 0h1.4m0.1 6h1.4m-6.4 1h1.4m-0.9 0h1.4m5.6 2h1.4" stroke="#c6d62b" stroke-width="1.4" fill="none"/>
<path d="M347 362h1.4m2.6 2h1.4m-4.9 0.5h1.4m0.1 7h1.4m2.1 0.5h1.4m-4.4 4.5h1.4m0.1 1h1.4m-1.9 4.5h1.4m0.1 1.5h1.4m-2.9 1h1.4m0.1 1h1.4m-0.9 2h1.4m-3.4 6.5h1.4m0.1 0h1.4m-5.4 0.5h1.4m-3.9 1.5h1.4m1.1 1.5h1.4m3.1 1h1.4m-1.4 1h1.4m-7.4 0.5h1.4m-0.9 1h1.4m-2.4 1h1.4m-0.4 0h1.4m0.6 6h1.4m-2.9 0.5h1.4m-0.9 0h1.4m-3.4 8.5h1.4m-0.4 0h1.4m-0.9 3h1.4m0.6 0.5h1.4" stroke="#a3ca39" stroke-width="1.4" fill="none"/>
<path d="M348.5 365.5h1.4m1.1 5.5h1.4m-4.9 4.5h1.4m1.6 3.5h1.4m-4.9 0.5h1.4m2.6 2h1.4m-3.4 1.5h1.4m1.6 0h1.4m-0.9 0.5h1.4m-3.4 4.5h1.4m-1.4 3h1.4m-6.4 0.5h1.4m3.1 2h1.4m-3.9 10.5h1.4m-0.4 0h1.4m-2.4 2.5h1.4m-1.9 1.5h1.4m0.6 3h1.4m-4.4 0.5h1.4m0.1 4.5h1.4m-1.9 6.5h1.4" stroke="#70bc44" stroke-width="1.4" fill="none"/>
<path d="M349 364.5h1.4m-4.4 9h1.4m1.6 3h1.4m-0.9 4h1.4m-4.4 6.5h1.4m3.6 4h1.4m0.1 5.5h1.4m-4.4 2.5h1.4m-4.4 1.5h1.4m-1.9 3h1.4m0.1 9h1.4m0.1 6h1.4" stroke="#5eb852" stroke-width="1.4" fill="none"/>
<path d="M350.5 370h1.4m-4.4 4.5h1.4m-1.4 1.5h1.4m-0.4 9h1.4m-3.4 1.5h1.4m1.6 1.5h1.4m1.6 8.5h1.4m-3.9 4h1.4m-1.4 4h1.4m-2.4 4h1.4m-1.9 3.5h1.4" stroke="#4db88a" stroke-width="1.4" fill="none"/>
<path d="M348.5 372h1.4m-0.9 9h1.4m-2.4 4h1.4m-3.4 1.5h1.4m2.1 2.5h1.4m-1.4 1h1.4m-0.9 0.5h1.4m-4.4 1h1.4m0.6 20.5h1.4" stroke="#3eb7b1" stroke-width="1.4" fill="none"/>
<path d="M348 374.5h1.4m0.1 7.5h1.4m-3.4 0.5h1.4m-0.4 2h1.4m0.1 3h1.4m0.6 0.5h1.4m-6.4 2h1.4m2.1 0h1.4m-3.4 2.5h1.4" stroke="#2ea4dc" stroke-width="1.4" fill="none"/>
<path d="M348 372.5h1.4m-0.4 1.5h1.4m-0.9 15.5h1.4m-3.9 21.5h1.4" stroke="#3586c7" stroke-width="1.4" fill="none"/>
<path d="M345.5 389.5h1.4m2.1 0.5h1.4m0.1 2.5h1.4" stroke="#3d60ac" stroke-width="1.4" fill="none"/>
<path d="M349 375h1.4" stroke="#3f54a5" stroke-width="1.4" fill="none"/>
<path d="M347 348h1.4m1.6 12.5h1.4m2.6 2.5h1.4m-2.9 1.5h1.4m-2.9 2h1.4m0.1 2.5h1.4m0.1 3h1.4m9.1 8h1.4m-13.4 10h1.4m11.1 2h1.4m-12.4 6h1.4m10.6 0.5h1.4m-11.4 1h1.4m-1.9 5.5h1.4m-3.9 1h1.4m2.1 5.5h1.4m-8.9 2.5h1.4m-3.9 5h1.4m7.1 1h1.4m-1.9 1.5h1.4m-1.4 2.5h1.4m-5.4 3h1.4m-5.4 8h1.4m1.1 2h1.4m-0.4 0h1.4m-4.9 1h1.4m0.1 4.5h1.4m0.6 3.5h1.4m3.6 4h1.4" stroke="#f25d20" stroke-width="1.4" fill="none"/>
<path d="M346.5 362.5h1.4m0.6 0.5h1.4m0.1 0h1.4m-1.4 2.5h1.4m-0.9 0h1.4m1.6 0h1.4m-1.9 4.5h1.4m-3.4 5.5h1.4m1.1 5.5h1.4m-0.9 9.5h1.4m-0.9 6.5h1.4m-3.9 3.5h1.4m1.6 1.5h1.4m-10.9 5.5h1.4m6.1 4h1.4m-8.4 1h1.4m-0.4 1h1.4m4.6 0h1.4m-0.9 1h1.4m-3.4 1.5h1.4m-0.9 0h1.4m-6.4 3.5h1.4m-1.9 1.5h1.4m-2.4 0.5h1.4m6.6 0.5h1.4m-6.9 13.5h1.4m-3.9 12h1.4m-0.9 0h1.4" stroke="#f5b21b" stroke-width="1.4" fill="none"/>
<path d="M351 360.5h1.4m-4.9 3.5h1.4m2.6 1.5h1.4m-7.4 0.5h1.4m-0.4 2.5h1.4m-2.4 2.5h1.4m-1.4 0.5h1.4m2.6 0h1.4m2.1 4h1.4m-0.9 0h1.4m-8.9 1h1.4m3.1 0h1.4m-2.4 2.5h1.4m2.6 9h1.4m-1.9 1h1.4m-2.4 1h1.4m-3.4 1h1.4m-1.4 5.5h1.4m-3.4 2.5h1.4m2.6 2h1.4m-3.9 6h1.4m-5.4 4.5h1.4m1.6 3.5h1.4m-4.4 2h1.4m1.1 3h1.4m0.1 15h1.4" stroke="#f2ce1a" stroke-width="1.4" fill="none"/>
<path d="M351.5 362h1.4m-5.9 2.5h1.4m-1.4 2.5h1.4m0.1 0h1.4m-2.4 1h1.4m0.6 1h1.4m-4.4 0.5h1.4m-0.9 0.5h1.4m2.6 2.5h1.4m-1.9 4.5h1.4m-1.4 2.5h1.4m-1.4 2h1.4m0.1 5h1.4m0.1 2.5h1.4m-2.4 3.5h1.4m-0.4 0.5h1.4m-4.4 4.5h1.4m-4.4 3h1.4m2.1 4h1.4m-3.9 0.5h1.4m-3.9 1.5h1.4m4.6 2h1.4m-3.9 1.5h1.4m-0.4 0.5h1.4m-5.9 7h1.4m3.1 1h1.4m-3.4 1h1.4m3.1 0h1.4m-3.9 3h1.4" stroke="#c6d62b" stroke-width="1.4" fill="none"/>
<path d="M347 361.5h1.4m-0.4 0.5h1.4m-2.9 2.5h1.4m0.1 1.5h1.4m-0.9 1.5h1.4m-2.9 0.5h1.4m-0.4 1.5h1.4m0.1 4h1.4m-4.9 2h1.4m-1.4 2h1.4m0.1 1.5h1.4m-0.9 0h1.4m-3.4 5h1.4m4.1 0.5h1.4m-0.4 2h1.4m-4.9 0.5h1.4m-4.4 5h1.4m-0.9 3h1.4m3.1 1.5h1.4m-4.4 1.5h1.4m-0.9 4.5h1.4m-2.9 13.5h1.4m0.1 0h1.4m-0.9 1h1.4m0.1 5h1.4" stroke="#a3ca39" stroke-width="1.4" fill="none"/>
<path d="M346 360.5h1.4m-1.9 0.5h1.4m0.6 8.5h1.4m2.6 0.5h1.4m-6.9 3h1.4m-1.9 0.5h1.4m5.1 5.5h1.4m-2.9 1h1.4m-1.9 0.5h1.4m-4.4 5h1.4m3.1 6.5h1.4m-6.9 0.5h1.4m-1.4 0.5h1.4m3.6 1h1.4m1.1 0h1.4m-4.9 1h1.4m-0.9 0.5h1.4m-1.9 2h1.4m-1.4 4h1.4m2.6 3h1.4m-1.9 0.5h1.4m-8.4 0.5h1.4m-1.4 1h1.4m2.6 1.5h1.4m-4.9 1h1.4m-0.9 1.5h1.4m2.1 2h1.4m-3.9 0.5h1.4m-0.9 2h1.4m-2.9 3h1.4m1.1 0.5h1.4m-2.9 0.5h1.4" stroke="#70bc44" stroke-width="1.4" fill="none"/>
<path d="M349 377h1.4m-1.9 0.5h1.4m1.1 0.5h1.4m-3.9 0.5h1.4m-4.4 2h1.4m1.1 10h1.4m-3.4 0.5h1.4m4.6 1h1.4m-1.4 1.5h1.4m-0.4 3.5h1.4m-1.9 0.5h1.4m-2.4 1.5h1.4m-2.4 0.5h1.4m-4.9 0.5h1.4m-1.4 1.5h1.4m-0.4 4.5h1.4m1.1 1h1.4m1.1 1.5h1.4m-6.4 3.5h1.4m-0.4 0.5h1.4m-4.4 1h1.4m0.1 3.5h1.4m-0.9 1h1.4m-1.4 2.5h1.4" stroke="#5eb852" stroke-width="1.4" fill="none"/>
<path d="M349.5 369.5h1.4m-0.9 0.5h1.4m-5.4 4h1.4m2.6 4.5h1.4m-5.9 7.5h1.4m0.1 0.5h1.4m2.1 0.5h1.4m-2.4 0.5h1.4m1.6 1h1.4m-3.9 1.5h1.4m-2.9 0.5h1.4m-1.9 2.5h1.4m-1.4 0.5h1.4m-0.4 1h1.4m-2.9 1h1.4m-2.4 1.5h1.4m4.1 0h1.4m-6.9 1.5h1.4m-0.9 0h1.4m-1.4 0.5h1.4m2.1 0h1.4m-0.9 0.5h1.4m-3.9 2.5h1.4m-0.9 4h1.4m-3.9 8.5h1.4" stroke="#4db88a" stroke-width="1.4" fill="none"/>
<path d="M347.5 372.5h1.4m-0.9 3h1.4m-3.4 6h1.4m2.6 4.5h1.4m-1.9 15h1.4m-0.9 2.5h1.4m-5.4 10.5h1.4m-0.9 0h1.4m0.1 2.5h1.4" stroke="#3eb7b1" stroke-width="1.4" fill="none"/>
<path d="M347.5 377.5h1.4m-0.9 1h1.4m0.1 4h1.4m-4.4 1.5h1.4m-0.4 5.5h1.4m-0.4 0.5h1.4m-0.9 2h1.4m1.1 1h1.4m-5.9 0.5h1.4m-1.4 1h1.4m-0.4 7.5h1.4m1.6 2h1.4" stroke="#2ea4dc" stroke-width="1.4" fill="none"/>
<path d="M349 374.5h1.4m-0.9 0h1.4m-3.4 0.5h1.4m-2.4 6.5h1.4m0.6 4h1.4m-3.4 7h1.4m1.6 0.5h1.4m-1.9 2h1.4m-0.4 0.5h1.4m-1.4 7.5h1.4m-4.9 8h1.4" stroke="#3586c7" stroke-width="1.4" fill="none"/>
<path d="M348 383.5h1.4m-0.4 8h1.4m-3.9 1.5h1.4m-0.4 0.5h1.4" stroke="#3d60ac" stroke-width="1.4" fill="none"/>
<path d="M347.5 396h1.4" stroke="#3f54a5" stroke-width="1.4" fill="none"/>
<path d="M347 396h1.4" stroke="#534fa1" stroke-width="1.4" fill="none"/>
<path d="M347 397h1.4" stroke="#b8409a" stroke-width="1.4" fill="none"/>
<path d="M348 352.5h1.4m-1.4 3.5h1.4m1.1 2.5h1.4m1.1 3h1.4m-1.4 0.5h1.4m-1.9 1h1.4m-0.9 11.5h1.4m1.1 1h1.4m-2.4 1.5h1.4m-2.4 5h1.4m-0.4 3.5h1.4m-1.4 1h1.4m-10.4 8h1.4m6.6 5h1.4m-0.9 15.5h1.4m-2.9 2.5h1.4m-1.9 4h1.4m-2.4 6h1.4m-4.9 1h1.4m2.1 1h1.4m-1.4 2.5h1.4m-4.9 1.5h1.4m0.1 0h1.4m5.1 4h1.4m-3.9 6h1.4m1.1 0h1.4m-5.4 4h1.4m2.1 0h1.4m-10.4 1h1.4m-0.4 0.5h1.4m-0.9 3.5h1.4" stroke="#f25d20" stroke-width="1.4" fill="none"/>
<path d="M353.5 378.5h1.4m-2.4 1.5h1.4m-4.4 4h1.4m-1.4 0.5h1.4m2.6 6h1.4m-0.9 2h1.4m-9.9 5h1.4m6.1 3h1.4m-0.9 0.5h1.4m0.6 1h1.4m-10.4 2h1.4m3.6 1.5h1.4m0.6 7h1.4m-9.4 1h1.4m3.6 0h1.4m-0.4 0h1.4m1.6 0h1.4m-3.9 1h1.4m-0.4 0h1.4m-3.4 3.5h1.4m-6.4 1h1.4m5.6 2.5h1.4m1.6 1h1.4m-7.4 1h1.4m-3.4 11.5h1.4m1.6 0h1.4m0.1 1h1.4m-4.9 2.5h1.4" stroke="#f5b21b" stroke-width="1.4" fill="none"/>
<path d="M345.5 360.5h1.4m3.1 1h1.4m-5.4 3h1.4m-0.4 1.5h1.4m-2.4 1.5h1.4m2.6 0h1.4m-0.4 0.5h1.4m-3.9 0.5h1.4m3.1 3h1.4m-5.9 4h1.4m-3.4 0.5h1.4m3.1 0.5h1.4m-1.4 2.5h1.4m-0.9 4.5h1.4m0.1 3.5h1.4m-3.4 7.5h1.4m-3.4 2h1.4m-1.9 0.5h1.4m-1.4 2.5h1.4m1.1 6h1.4m-0.9 1.5h1.4m-0.9 0h1.4m-7.9 2h1.4m5.6 2h1.4m-1.9 2h1.4m-5.4 2h1.4m4.6 3h1.4m-2.9 1h1.4m-4.9 2h1.4m-1.4 1h1.4m0.1 14h1.4" stroke="#f2ce1a" stroke-width="1.4" fill="none"/>
<path d="M352 361.5h1.4m-2.9 1h1.4m-0.4 1h1.4m-6.9 2h1.4m0.1 3h1.4m-2.4 0.5h1.4m0.1 0h1.4m-1.9 1h1.4m-2.9 0.5h1.4m4.1 3.5h1.4m-6.4 1.5h1.4m3.6 0.5h1.4m-0.9 6h1.4m-3.4 2h1.4m0.6 0h1.4m-3.4 0.5h1.4m0.1 1h1.4m0.1 0h1.4m-5.9 2h1.4m0.6 2h1.4m1.1 4.5h1.4m-1.9 1h1.4m0.1 0h1.4m-9.9 0.5h1.4m1.1 0h1.4m0.1 1.5h1.4m-4.4 0.5h1.4m3.6 1h1.4m-5.4 1.5h1.4m-1.4 5h1.4m0.6 3.5h1.4m-0.9 2.5h1.4m-0.4 0.5h1.4m-0.9 0h1.4m-4.4 2h1.4m1.1 1h1.4m-6.4 1h1.4m2.1 0.5h1.4m-0.9 0h1.4m-1.4 4.5h1.4m-3.4 1.5h1.4m-1.4 1h1.4m-0.9 0h1.4m0.1 12.5h1.4" stroke="#c6d62b" stroke-width="1.4" fill="none"/>
<path d="M348 360.5h1.4m-2.9 0.5h1.4m-1.9 0.5h1.4m-1.4 2h1.4m-0.9 0h1.4m-0.9 0.5h1.4m-1.9 3h1.4m-0.4 0.5h1.4m-0.9 0h1.4m-1.4 0.5h1.4m1.6 1.5h1.4m-3.4 1h1.4m-1.9 2.5h1.4m1.1 0.5h1.4m-6.9 2h1.4m-1.4 0.5h1.4m2.1 0h1.4m-3.9 2h1.4m4.6 0.5h1.4m-2.4 0.5h1.4m-6.9 1h1.4m3.6 4h1.4m-5.4 0.5h1.4m2.1 1h1.4m-3.4 2.5h1.4m-0.4 0.5h1.4m-4.9 3h1.4m5.1 0.5h1.4m-0.9 0.5h1.4m-6.9 6.5h1.4m2.6 3.5h1.4m1.6 2h1.4m-2.9 3.5h1.4m-5.9 1.5h1.4m-0.9 1h1.4m-2.4 0.5h1.4m-0.9 0h1.4m-3.9 4h1.4m2.1 0h1.4m-0.9 0.5h1.4m-4.4 2h1.4m0.6 0h1.4m-3.9 4.5h1.4m-0.9 0h1.4m-0.9 1h1.4" stroke="#a3ca39" stroke-width="1.4" fill="none"/>
<path d="M351 368.5h1.4m-1.9 2.5h1.4m-3.9 2h1.4m-0.9 0.5h1.4m2.6 4.5h1.4m-4.4 3.5h1.4m-2.4 0.5h1.4m0.1 1h1.4m-4.9 2.5h1.4m0.6 1h1.4m-2.4 0.5h1.4m1.6 1.5h1.4m2.1 6h1.4m-5.9 3h1.4m-2.4 0.5h1.4m-0.4 0.5h1.4m-1.4 0.5h1.4m2.1 0h1.4m-6.9 4.5h1.4m1.1 2h1.4m-4.4 0.5h1.4m-0.4 0.5h1.4m-0.9 2h1.4m0.6 1.5h1.4m-6.4 4.5h1.4m1.1 0h1.4m-0.4 5h1.4" stroke="#70bc44" stroke-width="1.4" fill="none"/>
<path d="M348 361h1.4m1.1 1h1.4m-1.4 16h1.4m-2.9 2h1.4m-0.4 1h1.4m0.6 5h1.4m-2.4 1h1.4m-5.4 3.5h1.4m-0.4 0.5h1.4m2.6 0h1.4m-2.4 1.5h1.4m-3.4 0.5h1.4m-2.9 2h1.4m-0.4 0.5h1.4m0.6 0.5h1.4m0.1 1.5h1.4m-5.9 0.5h1.4m-2.4 1h1.4m3.1 0h1.4m-3.4 2.5h1.4m1.1 2h1.4m-4.4 6.5h1.4m-1.9 0.5h1.4m-2.4 1h1.4m0.1 0h1.4m-2.9 3.5h1.4m1.6 0h1.4" stroke="#5eb852" stroke-width="1.4" fill="none"/>
<path d="M345.5 374h1.4m0.1 1h1.4m-1.4 5h1.4m3.1 0h1.4m-4.9 1h1.4m-0.9 0.5h1.4m-3.4 2h1.4m-0.9 2.5h1.4m-2.4 1.5h1.4m1.1 3.5h1.4m1.1 0h1.4m-4.9 0.5h1.4m-1.9 0.5h1.4m-0.9 0h1.4m0.6 1.5h1.4m-2.9 0.5h1.4m-0.4 0h1.4m-2.9 4.5h1.4m1.1 0h1.4m-3.4 6h1.4m1.1 0h1.4m-2.9 1h1.4m-0.4 2h1.4m-0.9 4h1.4m-4.4 6h1.4m-0.9 3.5h1.4m-0.9 0.5h1.4" stroke="#4db88a" stroke-width="1.4" fill="none"/>
<path d="M349.5 372.5h1.4m-0.9 0.5h1.4m-2.9 2h1.4m-0.9 7.5h1.4m-3.9 0.5h1.4m0.6 0.5h1.4m0.1 5h1.4m-2.4 0.5h1.4m-4.9 1.5h1.4m4.6 0h1.4m-1.4 1h1.4m-1.4 1h1.4m-3.4 3.5h1.4m1.6 1h1.4m-6.9 0.5h1.4m0.6 3.5h1.4m-3.4 1.5h1.4m-1.9 0.5h1.4m-0.9 0h1.4m1.1 2.5h1.4m-4.4 6h1.4m2.6 0.5h1.4m-3.9 5h1.4" stroke="#3eb7b1" stroke-width="1.4" fill="none"/>
<path d="M349 380.5h1.4m-2.4 2.5h1.4m-3.4 2.5h1.4m0.1 2.5h1.4m1.1 0h1.4m-2.4 2.5h1.4m-2.4 1h1.4m-0.9 0.5h1.4m-2.9 0.5h1.4m-1.9 1h1.4m1.1 0h1.4m1.1 0h1.4m-2.9 2.5h1.4m0.6 0.5h1.4m-5.4 4.5h1.4m0.6 0h1.4m-1.9 2.5h1.4m-3.9 7h1.4" stroke="#2ea4dc" stroke-width="1.4" fill="none"/>
<path d="M347 382h1.4m-0.9 1.5h1.4m-0.9 2h1.4m1.6 5h1.4m-3.4 2h1.4m-3.4 0.5h1.4" stroke="#3586c7" stroke-width="1.4" fill="none"/>
<path d="M347 380.5h1.4m-0.4 3.5h1.4m-1.9 2h1.4m-1.4 2.5h1.4m1.1 4.5h1.4m-0.9 11h1.4" stroke="#3d60ac" stroke-width="1.4" fill="none"/>
<path d="M347.5 378h1.4m-1.9 10h1.4m-1.9 1.5h1.4m-0.9 0h1.4" stroke="#3f54a5" stroke-width="1.4" fill="none"/>
<path d="M345.5 390h1.4m-0.4 0.5h1.4" stroke="#534fa1" stroke-width="1.4" fill="none"/>
<path d="M346.5 390h1.4m-0.4 7h1.4" stroke="#84489d" stroke-width="1.4" fill="none"/>
<path d="M347 396.5h1.4" stroke="#b8409a" stroke-width="1.4" fill="none"/>
<path d="M351.5 355.5h1.4m-7.4 1.5h1.4m0.6 9.5h1.4m3.1 2h1.4m1.6 4.5h1.4m-1.9 0.5h1.4m-2.4 0.5h1.4m3.1 1.5h1.4m4.1 5h1.4m-0.9 4.5h1.4m-11.4 6.5h1.4m-0.9 1h1.4m5.1 1.5h1.4m-6.9 4.5h1.4m-3.4 4.5h1.4m-2.9 4.5h1.4m-0.4 9.5h1.4m-2.4 1h1.4m-6.9 0.5h1.4m15.6 2h1.4m-17.4 4.5h1.4m7.6 0h1.4m-11.4 1.5h1.4m5.6 1h1.4m-6.9 2.5h1.4m3.6 0.5h1.4m-5.9 1.5h1.4m-3.4 5h1.4m0.1 0.5h1.4m-1.4 2.5h1.4m2.1 1h1.4m-2.9 0.5h1.4m-0.4 3.5h1.4m-0.4 0h1.4m-2.9 3.5h1.4" stroke="#f25d20" stroke-width="1.4" fill="none"/>
<path d="M349.5 360.5h1.4m-1.4 0.5h1.4m-2.9 1.5h1.4m2.6 2.5h1.4m-5.9 0.5h1.4m0.6 0.5h1.4m-5.4 3.5h1.4m-0.9 0h1.4m-0.4 2h1.4m-2.9 0.5h1.4m6.6 5.5h1.4m-0.4 3h1.4m-3.4 1.5h1.4m-2.9 1h1.4m-6.9 1.5h1.4m6.1 28.5h1.4m-1.9 0.5h1.4m0.1 0h1.4m-4.4 0.5h1.4m0.6 1.5h1.4m-3.9 2h1.4m-6.4 2h1.4m4.6 5h1.4m-2.4 1h1.4m-3.4 13h1.4m1.1 1h1.4" stroke="#f5b21b" stroke-width="1.4" fill="none"/>
<path d="M347 360.5h1.4m-2.9 1.5h1.4m2.6 0h1.4m-3.9 1h1.4m0.6 0h1.4m-0.4 3.5h1.4m-4.9 3.5h1.4m-1.4 1h1.4m3.6 4.5h1.4m-1.4 2h1.4m0.6 0.5h1.4m-3.4 5h1.4m-7.4 5.5h1.4m3.6 9.5h1.4m-2.9 6.5h1.4m-4.9 2h1.4m4.6 0h1.4m-2.9 2h1.4m0.1 0.5h1.4m-2.9 0.5h1.4m-0.4 0.5h1.4m-1.4 5h1.4m-5.9 1.5h1.4m3.1 2h1.4m-3.4 4.5h1.4" stroke="#f2ce1a" stroke-width="1.4" fill="none"/>
<path d="M352.5 360.5h1.4m-2.4 0.5h1.4m-4.4 3.5h1.4m-1.9 0.5h1.4m-2.9 1h1.4m-1.9 1h1.4m2.6 0h1.4m-1.9 0.5h1.4m-2.9 2.5h1.4m2.6 2h1.4m-0.4 0h1.4m-2.9 0.5h1.4m-0.9 1.5h1.4m-6.4 2h1.4m4.1 1.5h1.4m-1.9 1h1.4m-4.4 0.5h1.4m1.1 3h1.4m1.1 0.5h1.4m-3.4 5h1.4m-4.4 3.5h1.4m2.6 0h1.4m-3.9 7.5h1.4m-3.4 4.5h1.4m-2.9 2.5h1.4m-2.4 2h1.4m-1.4 2h1.4m3.6 0h1.4m0.6 9h1.4m-4.9 0.5h1.4m2.1 0h1.4m-5.4 1h1.4" stroke="#c6d62b" stroke-width="1.4" fill="none"/>
<path d="M347 361h1.4m1.6 1h1.4m-0.4 0h1.4m-1.4 1.5h1.4m-3.9 2.5h1.4m0.6 2.5h1.4m-4.4 0.5h1.4m2.1 0h1.4m-0.9 2.5h1.4m-0.4 1h1.4m-4.9 1h1.4m-3.4 3h1.4m-0.9 0h1.4m0.6 1h1.4m-1.9 0.5h1.4m-0.9 0h1.4m-4.4 0.5h1.4m4.1 1h1.4m-3.4 2h1.4m-5.4 1.5h1.4m5.1 0h1.4m-0.4 0h1.4m-9.4 5h1.4m4.6 1h1.4m-0.4 2h1.4m-1.4 0.5h1.4m-7.9 2h1.4m5.6 1.5h1.4m-8.4 4h1.4m-0.9 0.5h1.4m0.6 1h1.4m-3.9 0.5h1.4m3.1 0h1.4m-2.4 1h1.4m-4.9 1.5h1.4m-1.4 1.5h1.4m6.6 0.5h1.4m-4.9 1h1.4m-6.4 4.5h1.4m4.1 2h1.4m-4.4 0.5h1.4m-3.9 0.5h1.4m0.6 1.5h1.4m-0.9 3h1.4m-0.4 0h1.4m3.1 0h1.4m-4.9 0.5h1.4m-3.9 1.5h1.4m1.6 0h1.4m-3.4 1.5h1.4m0.1 13h1.4" stroke="#a3ca39" stroke-width="1.4" fill="none"/>
<path d="M352 360.5h1.4m-2.9 3h1.4m-1.9 0.5h1.4m-1.9 1h1.4m-1.9 4.5h1.4m-1.9 0.5h1.4m1.6 0.5h1.4m-3.4 1.5h1.4m-0.4 0.5h1.4m-3.9 1h1.4m-1.4 2.5h1.4m-2.4 3h1.4m0.6 0.5h1.4m-1.9 0.5h1.4m1.1 0h1.4m-4.9 2h1.4m2.1 2.5h1.4m-2.9 1h1.4m0.6 4.5h1.4m-5.4 2.5h1.4m1.6 1h1.4m-3.9 1.5h1.4m2.1 0h1.4m-1.4 2.5h1.4m-1.4 0.5h1.4m-0.4 1h1.4m-2.4 0.5h1.4m-3.4 0.5h1.4m-4.4 0.5h1.4m2.6 0h1.4m-0.9 1.5h1.4m-4.4 2h1.4m4.6 1h1.4m-0.9 0h1.4m-9.9 0.5h1.4m0.1 0h1.4m1.1 0.5h1.4m-1.9 0.5h1.4m-4.4 0.5h1.4m3.1 0.5h1.4m-5.4 1h1.4m4.1 0h1.4m-4.4 3h1.4m-3.9 1h1.4m-0.9 0h1.4m0.6 0h1.4m-1.9 5.5h1.4m-1.4 1h1.4" stroke="#70bc44" stroke-width="1.4" fill="none"/>
<path d="M349.5 364h1.4m-1.4 0.5h1.4m0.6 6.5h1.4m-4.9 0.5h1.4m-0.4 0.5h1.4m-0.4 0.5h1.4m-4.4 2h1.4m0.1 2h1.4m-2.9 0.5h1.4m-1.9 0.5h1.4m0.1 0h1.4m-0.9 0.5h1.4m-2.4 2h1.4m-2.9 1h1.4m2.1 0h1.4m0.1 0h1.4m-6.4 1.5h1.4m2.1 0.5h1.4m-4.9 4h1.4m-1.4 1h1.4m2.6 1h1.4m-0.4 1h1.4m-0.4 2.5h1.4m-0.4 2h1.4m-7.4 0.5h1.4m5.1 0h1.4m-2.9 0.5h1.4m-4.9 0.5h1.4m-0.9 2h1.4m0.1 3.5h1.4m-1.4 0.5h1.4m-4.4 2.5h1.4m-0.9 0.5h1.4m-1.4 0.5h1.4m-2.9 2h1.4m-0.9 2h1.4m-1.4 0.5h1.4m-0.4 0h1.4m1.6 2h1.4m-3.9 0.5h1.4m0.1 0h1.4m-3.9 1.5h1.4m-0.4 6.5h1.4m-1.4 0.5h1.4m-3.4 1.5h1.4" stroke="#5eb852" stroke-width="1.4" fill="none"/>
<path d="M347.5 361h1.4m-0.9 0.5h1.4m-0.4 8.5h1.4m-0.4 0.5h1.4m-0.9 0h1.4m-5.4 1.5h1.4m0.1 0h1.4m-2.9 1h1.4m2.6 0.5h1.4m-1.4 0.5h1.4m-5.4 1h1.4m0.1 0h1.4m0.1 0.5h1.4m-0.4 3h1.4m-0.4 2h1.4m-5.4 0.5h1.4m2.6 0h1.4m-3.9 1h1.4m-2.9 3.5h1.4m1.1 0h1.4m-0.9 1h1.4m-2.4 0.5h1.4m-1.9 0.5h1.4m0.1 0h1.4m-3.9 0.5h1.4m-1.4 1h1.4m0.1 3h1.4m-4.4 2h1.4m3.6 1.5h1.4m-0.9 0.5h1.4m-7.4 0.5h1.4m-1.4 5h1.4m3.1 1.5h1.4m-0.9 0.5h1.4m-3.9 2.5h1.4m0.1 1h1.4m-5.4 3h1.4m-1.4 0.5h1.4m2.6 1.5h1.4m-4.4 2h1.4m0.1 3.5h1.4m0.1 4.5h1.4m-1.9 0.5h1.4" stroke="#4db88a" stroke-width="1.4" fill="none"/>
<path d="M350 374h1.4m-5.4 0.5h1.4m-1.4 0.5h1.4m-0.4 6h1.4m0.1 0h1.4m-2.9 3h1.4m-0.9 0h1.4m-1.4 0.5h1.4m-2.9 1.5h1.4m1.1 0h1.4m-2.9 1.5h1.4m-1.9 1h1.4m3.6 0h1.4m-0.9 0.5h1.4m-7.4 7h1.4m0.6 0h1.4m0.6 3.5h1.4m-2.4 1h1.4m-3.9 1h1.4m-0.4 0h1.4m-2.4 1h1.4m-0.9 4.5h1.4m-0.9 5h1.4m-1.4 2.5h1.4m-1.4 2h1.4m1.1 6h1.4" stroke="#3eb7b1" stroke-width="1.4" fill="none"/>
<path d="M347 372.5h1.4m-1.9 2h1.4m0.1 2.5h1.4m-2.9 5h1.4m0.6 2h1.4m2.1 4.5h1.4m-6.9 0.5h1.4m-0.4 0h1.4m-0.9 0.5h1.4m-0.9 2h1.4m0.1 1h1.4m-0.9 0.5h1.4m-5.4 9h1.4m2.1 3h1.4" stroke="#2ea4dc" stroke-width="1.4" fill="none"/>
<path d="M350 374.5h1.4m-1.4 8h1.4m-3.9 0.5h1.4m-0.9 1.5h1.4m-2.9 3h1.4m-0.9 1h1.4m0.1 1h1.4m-3.4 2.5h1.4m1.6 0.5h1.4m-3.4 0.5h1.4m-1.4 1h1.4m0.1 1.5h1.4m-3.9 1h1.4m1.6 4h1.4m-2.4 0.5h1.4m-1.9 0.5h1.4m0.1 1h1.4" stroke="#3586c7" stroke-width="1.4" fill="none"/>
<path d="M348.5 374.5h1.4m0.1 0.5h1.4m-3.9 5.5h1.4m-1.9 1h1.4m0.6 8h1.4m-2.9 0.5h1.4m-1.9 4h1.4m1.1 1.5h1.4m-1.4 7.5h1.4" stroke="#3d60ac" stroke-width="1.4" fill="none"/>
<path d="M346 390.5h1.4m2.1 4.5h1.4" stroke="#3f54a5" stroke-width="1.4" fill="none"/>
<path d="M346.5 396h1.4m0.6 5.5h1.4" stroke="#534fa1" stroke-width="1.4" fill="none"/>
<path d="M346 389.5h1.4" stroke="#9e449c" stroke-width="1.4" fill="none"/>
<path d="M346 390h1.4m0.1 6.5h1.4" stroke="#b8409a" stroke-width="1.4" fill="none"/>
<line x1="341.00" y1="420.80" x2="434.90" y2="420.80" stroke="#2a2a2a" stroke-width="1.0"/>
<line x1="359.50" y1="346.60" x2="359.50" y2="467.30" stroke="#2a2a2a" stroke-width="1.0"/>
<line x1="341.00" y1="346.10" x2="341.00" y2="468.00" stroke="#000" stroke-width="1.3"/>
<line x1="340.40" y1="467.30" x2="435.50" y2="467.30" stroke="#000" stroke-width="1.4"/>
<line x1="337.20" y1="461.70" x2="341.00" y2="461.70" stroke="#000" stroke-width="1.1"/>
<text x="334.8" y="464.8" font-size="8.6" text-anchor="end">0</text>
<line x1="337.20" y1="421.00" x2="341.00" y2="421.00" stroke="#000" stroke-width="1.1"/>
<text x="334.8" y="424.1" font-size="8.6" text-anchor="end">2</text>
<line x1="337.20" y1="380.30" x2="341.00" y2="380.30" stroke="#000" stroke-width="1.1"/>
<text x="334.8" y="383.4" font-size="8.6" text-anchor="end">4</text>
<line x1="345.50" y1="467.30" x2="345.50" y2="471.10" stroke="#000" stroke-width="1.1"/>
<text x="345.5" y="480.2" font-size="8.6" text-anchor="middle">0.0</text>
<line x1="362.60" y1="467.30" x2="362.60" y2="471.10" stroke="#000" stroke-width="1.1"/>
<text x="362.6" y="480.2" font-size="8.6" text-anchor="middle">0.5</text>
<line x1="379.70" y1="467.30" x2="379.70" y2="471.10" stroke="#000" stroke-width="1.1"/>
<text x="379.7" y="480.2" font-size="8.6" text-anchor="middle">1.0</text>
<line x1="396.80" y1="467.30" x2="396.80" y2="471.10" stroke="#000" stroke-width="1.1"/>
<text x="396.8" y="480.2" font-size="8.6" text-anchor="middle">1.5</text>
<line x1="413.90" y1="467.30" x2="413.90" y2="471.10" stroke="#000" stroke-width="1.1"/>
<text x="413.9" y="480.2" font-size="8.6" text-anchor="middle">2.0</text>
<line x1="431.00" y1="467.30" x2="431.00" y2="471.10" stroke="#000" stroke-width="1.1"/>
<text x="431.0" y="480.2" font-size="8.6" text-anchor="middle">2.5</text>
<text x="343.8" y="353.6" font-size="8.6" textLength="26.1" lengthAdjust="spacingAndGlyphs">94.4%</text>
<text x="414.7" y="353.5" font-size="8.6" textLength="20.6" lengthAdjust="spacingAndGlyphs">0.2%</text>
<text x="343.8" y="465.7" font-size="8.6" textLength="20.2" lengthAdjust="spacingAndGlyphs">5.2%</text>
<text x="415.4" y="466.0" font-size="8.6" textLength="20.7" lengthAdjust="spacingAndGlyphs">0.1%</text>
<text x="388.5" y="492.7" font-size="10" text-anchor="middle" textLength="20.1" lengthAdjust="spacingAndGlyphs">CD28</text>
<text x="324.2" y="407.3" font-size="10" text-anchor="middle" textLength="20.6" lengthAdjust="spacingAndGlyphs" transform="rotate(-90 324.2 407.3)">CD27</text>
<text x="434.9" y="373.0" font-size="8.4" textLength="23.6" lengthAdjust="spacingAndGlyphs">Count</text>
<defs><linearGradient id="cb430_378" x1="0" y1="0" x2="0" y2="1"><stop offset="0.00" stop-color="#b8409a"/><stop offset="0.10" stop-color="#7a4a9e"/><stop offset="0.20" stop-color="#3f51a3"/><stop offset="0.30" stop-color="#3b6fb6"/><stop offset="0.40" stop-color="#29b5e8"/><stop offset="0.50" stop-color="#4db88a"/><stop offset="0.60" stop-color="#62b847"/><stop offset="0.70" stop-color="#9cc83c"/><stop offset="0.80" stop-color="#f0e41a"/><stop offset="0.90" stop-color="#f7a21b"/><stop offset="1.00" stop-color="#ee2b24"/></linearGradient></defs>
<rect x="430.90" y="378.00" width="14.00" height="68.00" fill="url(#cb430_378)"/>
<line x1="430.90" y1="446.00" x2="433.70" y2="446.00" stroke="#fff" stroke-width="0.4"/>
<line x1="442.10" y1="446.00" x2="444.90" y2="446.00" stroke="#fff" stroke-width="0.4"/>
<text x="454.4" y="448.9" font-size="8.2">0</text>
<line x1="430.90" y1="429.41" x2="433.70" y2="429.41" stroke="#fff" stroke-width="0.4"/>
<line x1="442.10" y1="429.41" x2="444.90" y2="429.41" stroke="#fff" stroke-width="0.4"/>
<text x="454.4" y="432.3" font-size="8.2">4</text>
<line x1="430.90" y1="412.88" x2="433.70" y2="412.88" stroke="#fff" stroke-width="0.4"/>
<line x1="442.10" y1="412.88" x2="444.90" y2="412.88" stroke="#fff" stroke-width="0.4"/>
<text x="454.4" y="415.8" font-size="8.2">8</text>
<line x1="430.90" y1="396.29" x2="433.70" y2="396.29" stroke="#fff" stroke-width="0.4"/>
<line x1="442.10" y1="396.29" x2="444.90" y2="396.29" stroke="#fff" stroke-width="0.4"/>
<text x="454.4" y="399.2" font-size="8.2">12</text>
<line x1="430.90" y1="379.70" x2="433.70" y2="379.70" stroke="#fff" stroke-width="0.4"/>
<line x1="442.10" y1="379.70" x2="444.90" y2="379.70" stroke="#fff" stroke-width="0.4"/>
<text x="454.4" y="382.6" font-size="8.2">16</text>
<text x="11.8" y="525.2" font-size="14.2" font-weight="bold" fill="#000">D</text>
<path d="M49.5 528.5h1.4m-4.4 9h1.4m12.1 1.5h1.4m-10.9 2h1.4m-6.4 3.5h1.4m-4.4 0.5h1.4m7.1 1h1.4m-7.9 0.5h1.4m-3.4 0.5h1.4m24.6 6.5h1.4m-2.9 1h1.4m-25.9 5h1.4m24.1 3h1.4m22.1 0h1.4m-22.4 1h1.4m20.6 0.5h1.4m-28.4 2h1.4m17.6 2.5h1.4m-43.4 2.5h1.4m22.6 3.5h1.4m-4.4 9.5h1.4m4.6 5h1.4m-3.4 0.5h1.4m-5.9 1.5h1.4m-17.9 0.5h1.4m15.6 2.5h1.4m1.6 1h1.4m-23.4 3h1.4m4.6 0h1.4m19.1 0h1.4m-24.9 1h1.4m1.6 0.5h1.4m16.6 2.5h1.4m-14.4 0.5h1.4m9.1 0.5h1.4m-17.9 2h1.4m9.1 1.5h1.4m32.1 0.5h1.4m-26.9 4h1.4m-14.4 1h1.4m3.6 0h1.4m-17.9 2h1.4m2.1 0.5h1.4m13.6 0h1.4m-10.9 1h1.4m0.1 4h1.4m-0.9 1h1.4m-2.9 6h1.4m-4.4 1.5h1.4m-3.9 3h1.4" stroke="#f68e1c" stroke-width="1.4" fill="none"/>
<path d="M56 533.5h1.4m6.1 5.5h1.4m-22.4 1.5h1.4m18.1 4h1.4m-13.4 2.5h1.4m9.1 1h1.4m-3.4 2h1.4m-2.4 0.5h1.4m-14.4 0.5h1.4m-0.4 2h1.4m6.1 1.5h1.4m1.1 0h1.4m-9.9 0.5h1.4m11.1 0h1.4m-10.9 3.5h1.4m-9.4 3h1.4m23.1 0h1.4m-7.4 1h1.4m4.6 0h1.4m-9.4 0.5h1.4m-3.4 0.5h1.4m3.6 1.5h1.4m-8.9 0.5h1.4m1.1 1h1.4m5.6 6.5h1.4m-0.4 1h1.4m-1.4 4.5h1.4m-0.4 0.5h1.4m1.6 0h1.4m-22.4 4.5h1.4m-3.9 1h1.4m4.6 5h1.4m0.6 0h1.4m-3.4 0.5h1.4m8.6 0h1.4m-4.4 0.5h1.4m-6.4 1h1.4m-4.4 1h1.4m2.6 0.5h1.4m-3.9 2h1.4m6.6 1h1.4m5.6 1h1.4m-23.9 3.5h1.4m6.6 0h1.4m-6.9 2h1.4m-3.4 7h1.4m11.1 2h1.4m-6.9 1h1.4" stroke="#f2ce1a" stroke-width="1.4" fill="none"/>
<path d="M52.5 548h1.4m3.1 0h1.4m-12.4 0.5h1.4m8.1 2h1.4m-10.9 0.5h1.4m7.6 0h1.4m-1.4 3h1.4m-1.4 0.5h1.4m-4.9 1h1.4m-6.4 1h1.4m7.1 0h1.4m0.6 2.5h1.4m-1.9 3.5h1.4m-14.4 0.5h1.4m17.6 1h1.4m-9.9 0.5h1.4m-0.9 0h1.4m-7.9 0.5h1.4m10.1 0h1.4m-16.9 1.5h1.4m4.6 0h1.4m8.1 0h1.4m-18.4 2h1.4m6.1 4h1.4m-4.9 1h1.4m3.6 3h1.4m6.6 0.5h1.4m-12.9 1h1.4m-6.9 0.5h1.4m16.6 4h1.4m-19.9 3h1.4m4.6 0h1.4m1.6 0h1.4m-0.4 0h1.4m-5.4 0.5h1.4m7.6 0h1.4m-6.9 1h1.4m-1.4 0.5h1.4m6.1 0h1.4m-5.9 0.5h1.4m-7.4 4h1.4m15.1 0h1.4m-16.9 0.5h1.4m-5.4 0.5h1.4m1.1 0h1.4m4.6 2.5h1.4m-6.9 0.5h1.4m-4.4 1h1.4" stroke="#c6d62b" stroke-width="1.4" fill="none"/>
<path d="M48 548h1.4m4.1 0.5h1.4m-11.4 6.5h1.4m10.6 1.5h1.4m-3.9 1.5h1.4m-0.4 1.5h1.4m0.1 1h1.4m-6.4 2.5h1.4m5.6 1.5h1.4m-0.4 0h1.4m-2.9 0.5h1.4m-13.4 2.5h1.4m0.6 1h1.4m11.6 6h1.4m-15.4 2.5h1.4m11.6 0.5h1.4m-4.9 6h1.4m0.1 0h1.4m-8.9 3h1.4m-2.9 2h1.4m3.1 0h1.4m-0.4 10h1.4" stroke="#89c340" stroke-width="1.4" fill="none"/>
<path d="M49.5 556h1.4m-5.9 1h1.4m-1.9 0.5h1.4m8.1 2.5h1.4m-4.9 0.5h1.4m-7.9 0.5h1.4m4.6 0h1.4m0.1 2.5h1.4m3.1 0.5h1.4m-10.9 1.5h1.4m-4.4 0.5h1.4m15.6 0h1.4m-19.4 0.5h1.4m8.6 1h1.4m-1.9 0.5h1.4m-10.4 0.5h1.4m9.1 1h1.4m4.6 2h1.4m-0.9 1.5h1.4m-3.4 4h1.4m-14.4 0.5h1.4m9.1 1h1.4m-13.9 1h1.4m-1.9 0.5h1.4m14.6 0.5h1.4m-16.9 1.5h1.4m16.1 1.5h1.4m-8.9 0.5h1.4m-9.9 0.5h1.4m9.1 0.5h1.4m-2.9 0.5h1.4m-4.9 2.5h1.4m5.1 3.5h1.4" stroke="#5eb852" stroke-width="1.4" fill="none"/>
<path d="M44 562h1.4m5.6 0h1.4m2.6 1.5h1.4m-11.4 1.5h1.4m11.6 0h1.4m-6.9 0.5h1.4m-1.4 1h1.4m-8.9 2h1.4m0.1 0.5h1.4m6.1 1.5h1.4m2.1 0.5h1.4m-1.4 3h1.4m3.1 0h1.4m-16.4 6h1.4m3.1 1h1.4m3.1 1h1.4m-1.9 0.5h1.4m2.6 1.5h1.4m-0.4 0.5h1.4m-16.9 2h1.4m14.1 0h1.4m-5.4 1h1.4m-1.4 1h1.4m-6.9 0.5h1.4m-7.9 2h1.4m-0.9 1h1.4m13.1 1h1.4m-9.4 0.5h1.4" stroke="#4db88a" stroke-width="1.4" fill="none"/>
<path d="M56 556.5h1.4m-6.9 2.5h1.4m-0.9 2.5h1.4m2.1 0h1.4m-1.9 6.5h1.4m3.1 0h1.4m-4.4 0.5h1.4m-11.9 2.5h1.4m4.6 1.5h1.4m-5.4 2h1.4m5.1 0h1.4m-8.4 0.5h1.4m12.6 3h1.4m-3.9 2.5h1.4m-13.4 0.5h1.4m7.6 0.5h1.4m-8.9 3h1.4m2.1 0h1.4m6.1 0.5h1.4m-14.9 2h1.4m11.6 5.5h1.4" stroke="#2fb6d8" stroke-width="1.4" fill="none"/>
<path d="M52 559h1.4m-2.9 9h1.4m2.6 2h1.4m4.6 0.5h1.4m-6.4 2.5h1.4m-1.4 2.5h1.4m-12.4 3.5h1.4m5.6 1.5h1.4m1.1 0h1.4m-4.4 2.5h1.4m-3.4 2h1.4" stroke="#3586c7" stroke-width="1.4" fill="none"/>
<path d="M58.5 567h1.4m-6.9 1h1.4m0.1 3.5h1.4m-1.9 1.5h1.4m-5.9 3.5h1.4m-1.4 0.5h1.4m-0.9 1h1.4m-0.9 0.5h1.4m-6.4 1h1.4m4.6 0.5h1.4m2.6 9h1.4" stroke="#3d60ac" stroke-width="1.4" fill="none"/>
<path d="M55.5 567.5h1.4m-3.4 4.5h1.4m-1.4 0.5h1.4m-2.9 7.5h1.4m-7.9 3h1.4" stroke="#534fa1" stroke-width="1.4" fill="none"/>
<path d="M57.5 573h1.4m-3.9 1h1.4m-6.4 3.5h1.4m-2.9 4h1.4" stroke="#6b4c9f" stroke-width="1.4" fill="none"/>
<path d="M54.5 577.5h1.4" stroke="#9e449c" stroke-width="1.4" fill="none"/>
<path d="M47 532.5h1.4m22.6 5h1.4m-6.9 3.5h1.4m-0.4 0.5h1.4m-22.9 2h1.4m25.1 4.5h1.4m-12.4 3.5h1.4m-13.4 1.5h1.4m20.6 0h1.4m-4.9 3h1.4m-26.4 0.5h1.4m10.1 0.5h1.4m-11.9 1h1.4m28.1 2h1.4m-9.4 0.5h1.4m-3.9 0.5h1.4m-16.4 0.5h1.4m19.1 4.5h1.4m35.6 1h1.4m-43.4 5h1.4m2.1 1h1.4m3.1 0.5h1.4m5.6 0.5h1.4m-12.9 3h1.4m0.1 1h1.4m-0.9 3.5h1.4m0.1 4h1.4m-20.4 1h1.4m17.1 1.5h1.4m-6.9 2h1.4m0.6 1.5h1.4m7.6 0h1.4m-14.9 1.5h1.4m18.1 0h1.4m-39.9 4.5h1.4m13.1 1h1.4m-0.9 1.5h1.4m-10.4 2.5h1.4m-1.4 1h1.4m5.1 0.5h1.4m2.6 3h1.4m6.6 3h1.4m-19.4 3.5h1.4m7.1 0.5h1.4m-13.4 1.5h1.4m19.1 5.5h1.4m-8.4 0.5h1.4m9.6 10h1.4m-28.4 0.5h1.4" stroke="#f68e1c" stroke-width="1.4" fill="none"/>
<path d="M55.5 533h1.4m6.1 6.5h1.4m-4.9 0.5h1.4m-18.4 1h1.4m14.6 3.5h1.4m-0.9 0h1.4m-3.9 1.5h1.4m4.1 0h1.4m-12.9 1.5h1.4m11.6 0h1.4m-8.4 0.5h1.4m5.1 0h1.4m-8.4 2h1.4m-10.9 0.5h1.4m-2.4 1h1.4m-2.4 1h1.4m4.6 0h1.4m4.1 1h1.4m0.6 0h1.4m-16.4 2.5h1.4m12.1 1.5h1.4m5.1 1h1.4m-0.9 0h1.4m-5.9 0.5h1.4m0.1 1h1.4m-2.4 1.5h1.4m0.6 1h1.4m-9.9 1.5h1.4m-11.9 0.5h1.4m19.6 0.5h1.4m-13.4 4h1.4m4.1 1.5h1.4m-12.9 1.5h1.4m-1.9 1.5h1.4m15.1 0h1.4m5.6 0h1.4m-4.9 1h1.4m-2.9 1.5h1.4m-7.9 0.5h1.4m-15.9 0.5h1.4m12.6 1.5h1.4m-1.4 2.5h1.4m6.1 2.5h1.4m-5.4 2h1.4m-1.9 0.5h1.4m-2.4 2.5h1.4m-13.4 0.5h1.4m4.1 3h1.4m-8.9 0.5h1.4m18.6 0.5h1.4m-15.9 2h1.4m-3.4 2.5h1.4m16.6 0.5h1.4m-14.9 2.5h1.4m-1.9 3h1.4m-3.4 0.5h1.4m-0.9 0.5h1.4m-4.4 0.5h1.4m1.6 10h1.4m-0.9 0.5h1.4m-1.4 12.5h1.4m-0.9 0.5h1.4" stroke="#f2ce1a" stroke-width="1.4" fill="none"/>
<path d="M47 540.5h1.4m6.6 11h1.4m-1.4 0.5h1.4m0.1 1h1.4m-6.9 1h1.4m-0.4 2h1.4m-9.9 3.5h1.4m3.1 0.5h1.4m-5.9 1.5h1.4m3.6 1h1.4m7.1 0h1.4m4.1 1h1.4m-16.9 1h1.4m-4.9 0.5h1.4m3.6 0h1.4m12.6 2h1.4m-0.9 0h1.4m-3.4 6.5h1.4m2.6 2h1.4m-19.4 1h1.4m8.6 1h1.4m-15.9 0.5h1.4m17.6 1h1.4m0.6 0h1.4m-8.9 1.5h1.4m-1.9 0.5h1.4m0.1 0.5h1.4m7.6 0h1.4m-13.9 0.5h1.4m-10.9 1h1.4m19.1 0h1.4m-22.4 0.5h1.4m7.6 1.5h1.4m-4.4 0.5h1.4m11.1 0h1.4m-20.9 3h1.4m5.1 0.5h1.4m1.6 1h1.4m3.6 0h1.4m-8.9 1h1.4m-6.9 0.5h1.4m18.6 0.5h1.4m-8.9 1h1.4m-3.9 0.5h1.4m-3.9 0.5h1.4m-5.4 1h1.4m3.6 1h1.4m-4.9 4h1.4" stroke="#c6d62b" stroke-width="1.4" fill="none"/>
<path d="M57 552h1.4m-14.4 2h1.4m-1.4 1h1.4m7.6 0h1.4m1.1 1h1.4m-5.4 1.5h1.4m-8.9 1h1.4m3.6 1h1.4m-1.9 1.5h1.4m1.6 1h1.4m1.1 0h1.4m1.1 0h1.4m0.1 1h1.4m-10.4 1.5h1.4m-7.9 1h1.4m15.6 0.5h1.4m-0.4 2h1.4m-7.9 1h1.4m-11.9 1h1.4m13.6 0.5h1.4m-7.9 0.5h1.4m-2.9 1h1.4m-9.4 0.5h1.4m-0.9 0h1.4m-1.9 0.5h1.4m2.1 0h1.4m15.1 0.5h1.4m-5.9 1.5h1.4m0.6 0.5h1.4m-4.9 0.5h1.4m2.6 0h1.4m-0.4 1h1.4m-10.9 1h1.4m3.1 0h1.4m-10.4 1.5h1.4m13.6 0h1.4m-19.9 0.5h1.4m17.1 0h1.4m-17.4 0.5h1.4m11.1 0h1.4m-0.4 0h1.4m-17.9 1.5h1.4m4.6 1h1.4m7.6 0.5h1.4m-7.9 1h1.4m8.1 0h1.4m-12.4 1h1.4m-8.9 0.5h1.4m7.6 1h1.4m0.1 0h1.4m5.1 0h1.4m-8.9 1h1.4m5.1 0h1.4m0.6 0h1.4m-17.9 1.5h1.4m6.6 1h1.4m-4.9 0.5h1.4m-4.9 1h1.4m9.6 0h1.4m6.6 0.5h1.4m-6.9 0.5h1.4m-10.9 2h1.4m-1.9 1h1.4m1.1 0h1.4m-1.9 0.5h1.4m1.6 5h1.4" stroke="#89c340" stroke-width="1.4" fill="none"/>
<path d="M52.5 549h1.4m5.1 7h1.4m-12.4 1h1.4m-1.9 1h1.4m7.6 1h1.4m-13.4 2h1.4m17.6 3h1.4m-6.4 2h1.4m-14.4 0.5h1.4m6.6 0.5h1.4m5.6 1.5h1.4m-7.4 1h1.4m-2.9 0.5h1.4m1.6 0.5h1.4m2.1 0.5h1.4m-4.4 2h1.4m-10.9 2.5h1.4m-4.4 0.5h1.4m2.6 1.5h1.4m-2.4 1h1.4m10.6 0.5h1.4m-2.9 0.5h1.4m-10.9 1h1.4m-5.4 0.5h1.4m5.1 0h1.4m-0.4 1h1.4m2.6 0h1.4m3.1 0h1.4m-3.9 1h1.4m-4.4 0.5h1.4m3.6 0h1.4m-7.4 0.5h1.4m0.1 1.5h1.4m0.6 1h1.4m-5.4 0.5h1.4m-7.9 1h1.4m8.1 0h1.4m-1.9 0.5h1.4m-12.9 1h1.4m9.6 0h1.4m-10.4 1h1.4m7.6 0.5h1.4m-2.4 0.5h1.4m0.6 0h1.4m-5.9 1h1.4m1.6 5h1.4" stroke="#5eb852" stroke-width="1.4" fill="none"/>
<path d="M51 558h1.4m0.1 0.5h1.4m1.6 0.5h1.4m-5.4 0.5h1.4m-1.4 0.5h1.4m1.6 0h1.4m-1.9 0.5h1.4m-1.4 1h1.4m-1.9 0.5h1.4m-2.9 1h1.4m-2.9 2.5h1.4m-4.4 1.5h1.4m-3.4 2h1.4m14.1 0h1.4m-18.4 1.5h1.4m12.6 0.5h1.4m-6.4 0.5h1.4m-0.4 0h1.4m2.6 1h1.4m1.1 1h1.4m-2.4 0.5h1.4m-2.9 0.5h1.4m-15.9 1h1.4m0.1 4.5h1.4m4.1 0h1.4m-2.9 0.5h1.4m0.6 0h1.4m-8.9 0.5h1.4m7.1 0.5h1.4m7.1 0h1.4m-5.4 1h1.4m-11.4 1h1.4m5.6 1h1.4m6.1 0h1.4m-16.4 1h1.4m7.6 0.5h1.4m-0.4 0h1.4m-10.4 0.5h1.4m-2.4 1.5h1.4m1.6 0h1.4m-3.9 0.5h1.4m3.6 0.5h1.4m0.6 9h1.4" stroke="#4db88a" stroke-width="1.4" fill="none"/>
<path d="M52.5 562h1.4m1.6 0h1.4m-5.4 2.5h1.4m-4.4 3h1.4m1.6 0h1.4m-3.4 2h1.4m-6.4 1h1.4m3.1 0.5h1.4m-3.9 1.5h1.4m10.6 1h1.4m-9.4 1.5h1.4m7.1 1.5h1.4m-12.4 5.5h1.4m-3.9 0.5h1.4m9.6 6.5h1.4" stroke="#2fb6d8" stroke-width="1.4" fill="none"/>
<path d="M51.5 558.5h1.4m-4.4 5h1.4m4.6 4.5h1.4m-0.4 0h1.4m-10.9 3.5h1.4m7.6 0h1.4m-4.4 1.5h1.4m1.6 0h1.4m-5.9 0.5h1.4m10.1 2h1.4m-14.9 2h1.4m3.6 0.5h1.4m-5.4 0.5h1.4m-0.4 0.5h1.4m-0.9 0h1.4m-6.4 4h1.4m2.6 0.5h1.4m-3.4 3.5h1.4m1.6 1.5h1.4" stroke="#3586c7" stroke-width="1.4" fill="none"/>
<path d="M52 566h1.4m-4.9 4.5h1.4m8.1 1.5h1.4m-8.4 1.5h1.4m2.1 1h1.4m-0.9 2.5h1.4m-2.4 1h1.4m-10.4 0.5h1.4m0.1 0.5h1.4m3.1 0.5h1.4" stroke="#3d60ac" stroke-width="1.4" fill="none"/>
<path d="M50.5 568.5h1.4m3.1 1.5h1.4m-8.4 0.5h1.4m7.6 1.5h1.4m-5.9 1.5h1.4m-7.9 4.5h1.4m6.6 0.5h1.4m-9.9 1.5h1.4m4.1 4h1.4" stroke="#534fa1" stroke-width="1.4" fill="none"/>
<path d="M50 579h1.4m-2.4 2.5h1.4m-0.9 0.5h1.4" stroke="#6b4c9f" stroke-width="1.4" fill="none"/>
<path d="M47.5 570.5h1.4m5.1 7h1.4" stroke="#9e449c" stroke-width="1.4" fill="none"/>
<path d="M47.5 572h1.4" stroke="#b8409a" stroke-width="1.4" fill="none"/>
<path d="M60.5 536h1.4m-16.4 3h1.4m1.6 2.5h1.4m-3.4 2h1.4m-5.4 2.5h1.4m4.6 1h1.4m1.6 1h1.4m-7.9 1.5h1.4m-2.9 0.5h1.4m6.1 0h1.4m-2.4 1.5h1.4m11.1 0h1.4m2.1 1.5h1.4m2.6 2h1.4m-4.9 1.5h1.4m-21.4 1h1.4m19.1 1h1.4m-2.9 1.5h1.4m-4.9 0.5h1.4m0.1 0.5h1.4m8.1 0.5h1.4m-4.9 2.5h1.4m-5.9 3h1.4m1.1 4.5h1.4m-12.4 3h1.4m7.1 2h1.4m4.6 0h1.4m5.1 6h1.4m-0.9 2.5h1.4m-13.9 1h1.4m-3.9 0.5h1.4m-10.4 2h1.4m-7.9 2.5h1.4m12.1 0.5h1.4m4.6 1.5h1.4m-6.4 2.5h1.4m8.1 0.5h1.4m-26.4 1h1.4m3.6 1h1.4m8.6 0h1.4m-19.9 1.5h1.4m19.1 2.5h1.4m6.1 1.5h1.4m-16.4 0.5h1.4m-1.9 0.5h1.4m2.6 3.5h1.4m-16.4 0.5h1.4m17.1 0h1.4m-18.4 6h1.4m8.1 0h1.4m14.1 2h1.4m-20.9 1h1.4m-4.9 1h1.4m9.6 1h1.4m-0.9 2h1.4m-7.9 0.5h1.4m-5.4 4h1.4m4.1 2h1.4m5.1 3.5h1.4" stroke="#f68e1c" stroke-width="1.4" fill="none"/>
<path d="M59 540.5h1.4m-9.9 2h1.4m-1.9 0.5h1.4m10.1 1h1.4m-5.4 4h1.4m-10.9 1.5h1.4m2.6 0.5h1.4m9.6 0.5h1.4m-14.9 1.5h1.4m3.6 0h1.4m-3.4 0.5h1.4m-0.9 0h1.4m-10.9 0.5h1.4m9.6 0h1.4m-4.9 0.5h1.4m-3.9 1h1.4m0.1 1h1.4m1.1 0.5h1.4m0.6 1h1.4m-6.4 0.5h1.4m-1.9 0.5h1.4m8.1 0h1.4m-2.4 1h1.4m-2.4 1.5h1.4m-0.4 0h1.4m1.1 0.5h1.4m-0.9 1h1.4m-16.4 1h1.4m7.6 0.5h1.4m-11.4 0.5h1.4m-3.9 0.5h1.4m20.6 1.5h1.4m-3.9 1h1.4m4.1 1.5h1.4m-4.9 0.5h1.4m1.6 0h1.4m-5.4 2h1.4m-19.9 1.5h1.4m22.6 0.5h1.4m2.1 2h1.4m-4.9 0.5h1.4m-4.9 2.5h1.4m0.1 0h1.4m-24.4 1h1.4m16.6 1h1.4m3.6 0h1.4m-4.9 3.5h1.4m-7.9 1h1.4m-9.9 4.5h1.4m-6.4 1h1.4m25.1 1.5h1.4m-25.9 4h1.4m0.6 0h1.4m7.6 2h1.4m-1.4 1h1.4m-12.9 2.5h1.4m9.1 0h1.4m-4.4 3h1.4m-5.4 2h1.4m7.6 6h1.4" stroke="#f2ce1a" stroke-width="1.4" fill="none"/>
<path d="M46 548h1.4m10.1 4h1.4m-1.9 2h1.4m-5.4 1.5h1.4m2.6 1h1.4m-3.4 2h1.4m-12.9 0.5h1.4m-0.9 1.5h1.4m13.1 0.5h1.4m-14.9 1h1.4m3.6 0.5h1.4m-8.4 0.5h1.4m14.6 1h1.4m3.6 0h1.4m-13.4 0.5h1.4m2.1 1.5h1.4m4.6 2h1.4m-0.9 0.5h1.4m-15.9 0.5h1.4m8.6 0h1.4m3.6 0h1.4m-16.9 7h1.4m2.1 0h1.4m6.1 3h1.4m0.6 1h1.4m5.6 1h1.4m-6.4 0.5h1.4m3.1 0h1.4m-17.4 0.5h1.4m7.6 0h1.4m-13.9 1h1.4m10.6 2h1.4m-1.9 1h1.4m2.1 0h1.4m-19.9 2h1.4m12.1 0h1.4m-1.9 2h1.4m1.1 0.5h1.4m-11.9 0.5h1.4m10.1 1h1.4m-3.9 0.5h1.4m-2.9 1h1.4m-11.9 1.5h1.4m7.6 1.5h1.4m-1.9 5.5h1.4" stroke="#c6d62b" stroke-width="1.4" fill="none"/>
<path d="M52 548h1.4m-6.4 0.5h1.4m4.6 0h1.4m-1.9 2.5h1.4m-2.4 3.5h1.4m-4.9 0.5h1.4m-4.9 0.5h1.4m2.1 0h1.4m-4.4 0.5h1.4m10.1 0h1.4m-13.9 1h1.4m2.6 1h1.4m0.1 0h1.4m2.1 0.5h1.4m-1.9 1h1.4m-2.9 1h1.4m5.6 1h1.4m-1.9 2h1.4m-11.4 2h1.4m8.1 0h1.4m1.6 2h1.4m-8.9 1.5h1.4m8.1 0h1.4m-18.9 1h1.4m4.1 3.5h1.4m-5.4 2h1.4m-4.4 0.5h1.4m4.1 0h1.4m-1.9 1h1.4m13.1 1.5h1.4m-19.9 1h1.4m16.6 1h1.4m-20.9 0.5h1.4m13.6 1h1.4m-16.4 0.5h1.4m19.1 0h1.4m-0.4 0h1.4m-11.4 1h1.4m-12.9 0.5h1.4m0.1 0h1.4m1.6 0h1.4m-4.4 0.5h1.4m-2.4 1h1.4m13.6 0.5h1.4m-6.9 1.5h1.4m-8.9 2h1.4m-0.4 0.5h1.4m6.6 4h1.4m-0.9 0.5h1.4m-3.4 3h1.4m0.1 1.5h1.4" stroke="#89c340" stroke-width="1.4" fill="none"/>
<path d="M54 550.5h1.4m-6.9 6h1.4m1.1 1h1.4m-7.4 0.5h1.4m6.1 2.5h1.4m-4.9 0.5h1.4m2.1 1.5h1.4m1.6 0.5h1.4m-4.9 1h1.4m-11.4 2h1.4m3.1 0h1.4m-0.9 0.5h1.4m5.1 0h1.4m-9.9 0.5h1.4m11.1 0h1.4m-6.4 1h1.4m-7.9 0.5h1.4m4.6 0h1.4m6.1 0h1.4m-16.4 0.5h1.4m7.1 0h1.4m5.1 0.5h1.4m0.1 1h1.4m-18.4 0.5h1.4m6.1 0h1.4m-6.9 3.5h1.4m1.1 0.5h1.4m-0.9 0.5h1.4m2.1 0.5h1.4m5.1 2h1.4m2.6 0.5h1.4m-1.9 0.5h1.4m-18.4 1.5h1.4m10.1 0h1.4m-4.9 0.5h1.4m-7.9 1h1.4m12.1 0h1.4m-18.9 0.5h1.4m0.1 0h1.4m17.6 0h1.4m-9.9 1h1.4m-2.4 3h1.4m-2.4 10.5h1.4" stroke="#5eb852" stroke-width="1.4" fill="none"/>
<path d="M48 548.5h1.4m-0.9 7.5h1.4m-1.9 1.5h1.4m-1.4 2h1.4m2.1 2h1.4m0.1 1h1.4m-3.4 1h1.4m-6.4 0.5h1.4m7.6 0.5h1.4m-10.9 1h1.4m0.1 0.5h1.4m6.1 1h1.4m3.1 0.5h1.4m-15.4 2.5h1.4m4.6 0h1.4m2.6 3.5h1.4m-10.9 1h1.4m3.6 0h1.4m11.1 0h1.4m-18.4 0.5h1.4m8.6 0.5h1.4m3.6 0h1.4m-8.4 0.5h1.4m3.6 0h1.4m-11.4 1.5h1.4m3.6 1.5h1.4m-12.4 1.5h1.4m4.1 0h1.4m4.6 0.5h1.4m4.6 0h1.4m0.1 0h1.4m-18.4 0.5h1.4m-0.4 0h1.4m0.1 0.5h1.4m3.1 0h1.4m-2.9 0.5h1.4m-6.4 1h1.4m9.6 0h1.4m-2.9 0.5h1.4m2.1 0.5h1.4m-1.9 0.5h1.4m-13.9 2h1.4m3.1 1.5h1.4m-6.4 3h1.4m9.1 0h1.4" stroke="#4db88a" stroke-width="1.4" fill="none"/>
<path d="M56 559h1.4m-6.9 2h1.4m0.6 0.5h1.4m-4.9 2h1.4m-1.9 0.5h1.4m5.6 0h1.4m-5.9 2h1.4m-4.4 0.5h1.4m-0.9 0.5h1.4m1.1 0h1.4m2.6 0h1.4m-0.4 0.5h1.4m0.6 0.5h1.4m-3.4 0.5h1.4m3.1 1h1.4m-6.9 2.5h1.4m-1.4 0.5h1.4m2.1 0h1.4m-11.4 1.5h1.4m2.1 0h1.4m4.1 0.5h1.4m-15.4 0.5h1.4m3.1 0h1.4m4.1 0.5h1.4m-5.4 0.5h1.4m0.6 1.5h1.4m2.1 0h1.4m-0.4 0.5h1.4m-12.9 3h1.4m-1.9 0.5h1.4m-0.4 0.5h1.4m10.1 1h1.4m-8.4 1h1.4m9.6 0h1.4m-14.9 0.5h1.4m6.1 1h1.4m-9.4 0.5h1.4m13.1 1.5h1.4m-11.9 1.5h1.4" stroke="#2fb6d8" stroke-width="1.4" fill="none"/>
<path d="M51 564.5h1.4m-6.4 6.5h1.4m-0.9 1h1.4m12.1 1.5h1.4m-5.4 0.5h1.4m-4.4 0.5h1.4m1.1 0h1.4m-2.4 2h1.4m3.1 0.5h1.4m-14.9 2h1.4m3.1 0.5h1.4m-0.9 0h1.4m-5.9 3h1.4m8.6 0.5h1.4m-8.9 4h1.4m-4.4 0.5h1.4m2.6 0h1.4m-2.4 0.5h1.4m5.6 1.5h1.4m-0.9 0h1.4m1.6 2.5h1.4" stroke="#3586c7" stroke-width="1.4" fill="none"/>
<path d="M53.5 567.5h1.4m2.6 0h1.4m-2.9 0.5h1.4m-2.9 2.5h1.4m-7.9 1.5h1.4m2.1 1.5h1.4m1.1 0h1.4m-2.9 0.5h1.4m4.1 0h1.4m-6.9 1h1.4m-4.9 1.5h1.4m1.1 2.5h1.4m0.1 1h1.4m-8.4 0.5h1.4m2.1 1h1.4m-2.4 0.5h1.4m-1.9 5.5h1.4" stroke="#3d60ac" stroke-width="1.4" fill="none"/>
<path d="M51.5 559h1.4m-1.4 7h1.4m-2.9 3.5h1.4m-0.9 0.5h1.4m-4.4 4h1.4m-2.9 4.5h1.4m5.6 1h1.4m-3.9 4h1.4m-0.9 0h1.4" stroke="#534fa1" stroke-width="1.4" fill="none"/>
<path d="M53.5 573.5h1.4m-4.9 10.5h1.4m-0.9 0h1.4" stroke="#6b4c9f" stroke-width="1.4" fill="none"/>
<path d="M48 573h1.4" stroke="#9e449c" stroke-width="1.4" fill="none"/>
<path d="M47.5 572.5h1.4m-0.9 1h1.4m3.1 6.5h1.4" stroke="#b8409a" stroke-width="1.4" fill="none"/>
<path d="M53.5 536h1.4m-6.4 0.5h1.4m0.1 0h1.4m4.6 3h1.4m-3.9 2.5h1.4m5.6 1h1.4m-11.4 2h1.4m-7.4 3.5h1.4m9.6 0h1.4m-13.4 2.5h1.4m2.6 2h1.4m25.1 2h1.4m-22.9 2h1.4m6.1 0h1.4m2.6 0h1.4m-19.4 1.5h1.4m21.6 0h1.4m-5.9 1h1.4m-2.4 2.5h1.4m0.6 1.5h1.4m3.6 3.5h1.4m-4.9 0.5h1.4m-4.9 0.5h1.4m25.6 2h1.4m-47.4 4.5h1.4m16.1 3h1.4m0.1 3.5h1.4m0.1 1h1.4m4.6 0h1.4m-5.9 2h1.4m-2.4 4h1.4m-23.9 3h1.4m18.1 0h1.4m21.1 0h1.4m-42.9 1.5h1.4m7.6 0.5h1.4m8.1 0.5h1.4m-5.9 1h1.4m-0.9 1.5h1.4m-1.9 1h1.4m-0.4 1.5h1.4m-0.9 1h1.4m0.6 1h1.4m-16.4 1h1.4m25.1 0.5h1.4m-16.4 4h1.4m-10.4 0.5h1.4m0.6 1h1.4m30.6 2h1.4m-32.9 1h1.4m-7.4 2.5h1.4m13.1 0h1.4m-13.4 0.5h1.4m18.1 5.5h1.4m-4.9 3h1.4m-13.9 1.5h1.4m8.1 0.5h1.4" stroke="#f68e1c" stroke-width="1.4" fill="none"/>
<path d="M47.5 540.5h1.4m-2.4 0.5h1.4m13.6 5h1.4m-3.4 1.5h1.4m-18.9 2h1.4m4.6 0.5h1.4m12.6 0.5h1.4m-20.9 0.5h1.4m3.1 0h1.4m0.6 0h1.4m-0.4 2h1.4m-6.9 0.5h1.4m0.1 0h1.4m9.1 1h1.4m2.1 0.5h1.4m-4.9 3h1.4m-10.9 1h1.4m-2.9 1h1.4m-4.4 1h1.4m5.6 1h1.4m11.6 0.5h1.4m-2.4 1.5h1.4m-2.4 1h1.4m-17.9 2h1.4m1.1 0.5h1.4m16.6 2h1.4m-3.9 0.5h1.4m8.1 4h1.4m-4.4 0.5h1.4m-24.9 1.5h1.4m15.6 0.5h1.4m-0.4 0h1.4m4.6 2h1.4m-11.9 9h1.4m3.6 0.5h1.4m-7.4 0.5h1.4m3.6 0h1.4m-16.9 1.5h1.4m13.1 0h1.4m6.1 2h1.4m-25.9 3h1.4m7.1 0h1.4m5.1 0h1.4m-12.9 2h1.4m5.6 2h1.4m-5.4 2h1.4m-5.4 1.5h1.4m-3.9 7.5h1.4m7.1 2h1.4" stroke="#f2ce1a" stroke-width="1.4" fill="none"/>
<path d="M45.5 548h1.4m-4.4 2.5h1.4m14.1 0h1.4m-1.4 3.5h1.4m-14.4 0.5h1.4m7.1 0.5h1.4m-11.9 0.5h1.4m2.6 0.5h1.4m11.1 0h1.4m0.6 0h1.4m-0.9 0h1.4m-12.9 1.5h1.4m-6.9 2h1.4m11.6 0h1.4m-13.4 3h1.4m-0.4 0h1.4m-5.9 0.5h1.4m15.6 0h1.4m-1.4 0.5h1.4m-6.9 1.5h1.4m0.1 0h1.4m4.1 1h1.4m-13.9 2.5h1.4m-7.4 0.5h1.4m12.6 0h1.4m-11.9 1h1.4m13.6 1h1.4m-11.9 0.5h1.4m-0.4 0h1.4m-8.9 0.5h1.4m13.6 0h1.4m0.1 0.5h1.4m2.6 3h1.4m-13.9 1.5h1.4m4.6 1h1.4m-3.4 2h1.4m-4.4 2.5h1.4m-0.4 0.5h1.4m-10.9 3h1.4m-3.4 0.5h1.4m11.6 0.5h1.4m-8.9 3h1.4m4.6 0h1.4m4.1 0h1.4m-5.9 2h1.4m-0.9 1h1.4m2.1 0.5h1.4m0.6 1h1.4m-1.4 0.5h1.4m-7.9 1h1.4m-4.9 1h1.4m-6.9 0.5h1.4m1.6 2.5h1.4m4.1 0h1.4m-5.9 12.5h1.4m1.1 0h1.4m-3.4 0.5h1.4" stroke="#c6d62b" stroke-width="1.4" fill="none"/>
<path d="M47.5 548h1.4m-1.9 1h1.4m2.6 6h1.4m-5.9 1h1.4m1.1 0h1.4m7.6 0h1.4m-0.9 0h1.4m-15.4 3h1.4m1.6 0.5h1.4m0.1 0.5h1.4m8.1 0h1.4m-15.4 2h1.4m12.6 0h1.4m-4.9 0.5h1.4m-8.4 1h1.4m8.6 0h1.4m-14.4 1h1.4m10.1 0h1.4m5.1 1.5h1.4m-0.9 0.5h1.4m-5.4 0.5h1.4m-17.9 0.5h1.4m0.1 1h1.4m12.1 1h1.4m-5.9 0.5h1.4m3.1 0h1.4m-9.9 1h1.4m5.6 0.5h1.4m1.1 0h1.4m-17.9 0.5h1.4m19.1 2h1.4m-21.4 0.5h1.4m14.6 0h1.4m-15.9 1h1.4m16.6 0h1.4m-10.9 1h1.4m6.1 0h1.4m-16.4 0.5h1.4m-4.9 0.5h1.4m3.1 0h1.4m13.1 1h1.4m-7.9 0.5h1.4m2.1 0.5h1.4m-0.4 0h1.4m-6.4 0.5h1.4m6.1 0.5h1.4m-4.9 0.5h1.4m0.6 0h1.4m0.1 0.5h1.4m-9.9 0.5h1.4m3.6 0h1.4m-7.4 0.5h1.4m-11.4 1.5h1.4m-0.4 0.5h1.4m0.1 0.5h1.4m10.6 1h1.4m3.6 0.5h1.4m-8.4 0.5h1.4m-5.9 0.5h1.4m-3.9 0.5h1.4m10.6 0.5h1.4m-17.4 0.5h1.4m-0.4 0h1.4m4.1 0h1.4m8.6 0.5h1.4m-12.4 0.5h1.4m2.6 1h1.4m-0.4 0h1.4m3.6 0.5h1.4m-5.9 0.5h1.4m-7.9 0.5h1.4m1.6 0h1.4m-6.4 2.5h1.4m-0.4 0h1.4m4.1 0.5h1.4m-0.9 1h1.4m0.1 0.5h1.4" stroke="#89c340" stroke-width="1.4" fill="none"/>
<path d="M53 551h1.4m1.6 4.5h1.4m-9.4 1h1.4m7.1 0h1.4m-13.4 0.5h1.4m1.6 0.5h1.4m6.6 2h1.4m-7.9 3.5h1.4m0.1 0.5h1.4m3.6 0h1.4m-10.4 1h1.4m8.1 0h1.4m-8.4 1h1.4m12.6 1h1.4m-6.9 1.5h1.4m-11.9 1h1.4m10.6 0h1.4m0.1 0h1.4m-11.4 1.5h1.4m0.1 0h1.4m6.6 0.5h1.4m-12.4 0.5h1.4m-1.4 2h1.4m5.6 0h1.4m-6.9 2h1.4m4.1 1h1.4m3.6 0.5h1.4m-10.9 1.5h1.4m-3.4 1.5h1.4m3.6 0.5h1.4m-8.4 1h1.4m5.6 0h1.4m5.1 0h1.4m-7.4 0.5h1.4m-4.4 1h1.4m6.1 0h1.4m2.1 0h1.4m-12.4 0.5h1.4m2.1 0.5h1.4m-2.4 0.5h1.4m-1.4 0.5h1.4m-1.9 0.5h1.4m-12.9 0.5h1.4m3.6 0.5h1.4m-1.9 0.5h1.4m8.1 0h1.4m-2.4 1h1.4m-13.4 0.5h1.4m7.1 0h1.4m6.6 0h1.4m-0.9 0.5h1.4m-16.4 1h1.4m8.6 1h1.4m-12.4 0.5h1.4m2.6 1h1.4m1.1 0.5h1.4m-3.9 2.5h1.4m4.6 2.5h1.4" stroke="#5eb852" stroke-width="1.4" fill="none"/>
<path d="M44.5 554.5h1.4m-0.9 1h1.4m8.6 3.5h1.4m-0.4 0.5h1.4m-3.9 1h1.4m-2.9 0.5h1.4m0.6 0h1.4m-4.9 0.5h1.4m3.6 0h1.4m-6.9 2.5h1.4m7.6 1h1.4m-2.4 0.5h1.4m-16.9 0.5h1.4m1.6 0h1.4m9.6 1.5h1.4m-11.4 1h1.4m13.1 1h1.4m-1.9 0.5h1.4m-1.9 0.5h1.4m-5.9 0.5h1.4m-4.4 1h1.4m-7.4 2.5h1.4m1.6 0h1.4m11.6 0h1.4m-13.9 0.5h1.4m3.6 1h1.4m-9.4 2h1.4m7.1 0h1.4m-7.9 0.5h1.4m4.1 0h1.4m-7.4 1h1.4m-1.9 0.5h1.4m8.1 0h1.4m-7.4 1.5h1.4m8.1 2.5h1.4m-13.9 0.5h1.4m8.1 0h1.4m-12.9 0.5h1.4m5.6 0h1.4m2.6 0.5h1.4m-12.9 0.5h1.4m13.6 0.5h1.4m-14.9 0.5h1.4m11.6 1h1.4m-3.4 4h1.4m-6.4 5h1.4" stroke="#4db88a" stroke-width="1.4" fill="none"/>
<path d="M53 550.5h1.4m-3.4 9h1.4m2.6 1.5h1.4m-1.4 0.5h1.4m-10.9 2.5h1.4m2.1 0h1.4m-4.4 1h1.4m3.6 0h1.4m-0.4 0.5h1.4m-2.4 1h1.4m6.1 0h1.4m-8.9 1h1.4m-4.4 0.5h1.4m0.1 0h1.4m2.6 0h1.4m-5.4 1h1.4m-3.9 1.5h1.4m-2.9 0.5h1.4m6.1 1h1.4m-1.9 0.5h1.4m-3.9 1.5h1.4m-0.4 0h1.4m6.6 0h1.4m-5.9 1h1.4m5.6 0h1.4m-0.4 0h1.4m-11.4 0.5h1.4m4.6 1h1.4m-9.9 0.5h1.4m1.6 0.5h1.4m6.1 0h1.4m-1.9 0.5h1.4m-18.4 2h1.4m4.1 1h1.4m-3.9 1h1.4m0.6 2.5h1.4m0.1 0h1.4m-0.9 0h1.4m-4.9 3h1.4m-2.9 3h1.4" stroke="#2fb6d8" stroke-width="1.4" fill="none"/>
<path d="M53 562h1.4m-3.9 2h1.4m-1.4 0.5h1.4m7.1 1h1.4m-12.4 0.5h1.4m3.1 0h1.4m-4.9 0.5h1.4m-2.4 1h1.4m5.6 0h1.4m-7.9 0.5h1.4m0.6 1h1.4m3.1 0.5h1.4m-0.9 0.5h1.4m-0.9 0h1.4m-8.4 0.5h1.4m5.1 0h1.4m-2.4 0.5h1.4m1.6 0.5h1.4m-10.4 0.5h1.4m4.1 0.5h1.4m1.6 0h1.4m-5.4 2.5h1.4m-1.4 0.5h1.4m1.1 0.5h1.4m-7.9 1h1.4m3.6 0h1.4m-10.4 1h1.4m14.1 0.5h1.4m-12.9 0.5h1.4m2.1 0h1.4m-7.4 0.5h1.4m5.1 1h1.4m-4.9 0.5h1.4m6.6 0h1.4m-10.9 4h1.4m0.6 0h1.4m-2.9 2.5h1.4m6.1 2.5h1.4m-1.9 0.5h1.4" stroke="#3586c7" stroke-width="1.4" fill="none"/>
<path d="M51.5 565.5h1.4m-4.4 0.5h1.4m8.1 1.5h1.4m-9.4 0.5h1.4m-1.4 2h1.4m-3.4 1h1.4m-2.4 1h1.4m4.6 1.5h1.4m-3.9 4.5h1.4m1.1 1h1.4m-5.4 0.5h1.4m1.6 0h1.4m-6.9 3h1.4" stroke="#3d60ac" stroke-width="1.4" fill="none"/>
<path d="M48 567h1.4m-1.4 7.5h1.4m-3.9 4h1.4m-0.9 1h1.4m3.1 5h1.4" stroke="#534fa1" stroke-width="1.4" fill="none"/>
<path d="M47 571h1.4m-0.9 0h1.4m1.6 3h1.4m-2.9 8h1.4" stroke="#6b4c9f" stroke-width="1.4" fill="none"/>
<path d="M57.5 572.5h1.4m-11.4 0.5h1.4m-0.4 0.5h1.4" stroke="#9e449c" stroke-width="1.4" fill="none"/>
<line x1="37.20" y1="611.60" x2="123.90" y2="611.60" stroke="#2a2a2a" stroke-width="1.0"/>
<line x1="74.50" y1="521.90" x2="74.50" y2="643.10" stroke="#2a2a2a" stroke-width="1.0"/>
<line x1="37.20" y1="521.40" x2="37.20" y2="643.80" stroke="#000" stroke-width="1.3"/>
<line x1="36.60" y1="643.10" x2="134.70" y2="643.10" stroke="#000" stroke-width="1.4"/>
<line x1="33.40" y1="637.10" x2="37.20" y2="637.10" stroke="#000" stroke-width="1.1"/>
<text x="31.0" y="640.2" font-size="8.6" text-anchor="end">0</text>
<line x1="33.40" y1="611.52" x2="37.20" y2="611.52" stroke="#000" stroke-width="1.1"/>
<text x="31.0" y="614.6" font-size="8.6" text-anchor="end">1</text>
<line x1="33.40" y1="585.94" x2="37.20" y2="585.94" stroke="#000" stroke-width="1.1"/>
<text x="31.0" y="589.0" font-size="8.6" text-anchor="end">2</text>
<line x1="33.40" y1="560.36" x2="37.20" y2="560.36" stroke="#000" stroke-width="1.1"/>
<text x="31.0" y="563.5" font-size="8.6" text-anchor="end">3</text>
<line x1="33.40" y1="534.78" x2="37.20" y2="534.78" stroke="#000" stroke-width="1.1"/>
<text x="31.0" y="537.9" font-size="8.6" text-anchor="end">4</text>
<line x1="42.10" y1="643.10" x2="42.10" y2="646.90" stroke="#000" stroke-width="1.1"/>
<text x="42.1" y="656.8" font-size="8.6" text-anchor="middle">0.0</text>
<line x1="71.25" y1="643.10" x2="71.25" y2="646.90" stroke="#000" stroke-width="1.1"/>
<text x="71.2" y="656.8" font-size="8.6" text-anchor="middle">0.5</text>
<line x1="100.40" y1="643.10" x2="100.40" y2="646.90" stroke="#000" stroke-width="1.1"/>
<text x="100.4" y="656.8" font-size="8.6" text-anchor="middle">1.0</text>
<text x="40.4" y="527.6" font-size="8.6" textLength="25.2" lengthAdjust="spacingAndGlyphs">98.2%</text>
<text x="111.0" y="527.6" font-size="8.6" textLength="19.6" lengthAdjust="spacingAndGlyphs">0.8%</text>
<text x="40.2" y="640.6" font-size="8.6" textLength="21.1" lengthAdjust="spacingAndGlyphs">0.9%</text>
<text x="112.5" y="640.6" font-size="8.6" textLength="20.7" lengthAdjust="spacingAndGlyphs">0.0%</text>
<text x="86.0" y="667.9" font-size="10.4" text-anchor="middle" textLength="21.1" lengthAdjust="spacingAndGlyphs">CCR6</text>
<text x="20.0" y="582.3" font-size="10" text-anchor="middle" textLength="25.0" lengthAdjust="spacingAndGlyphs" transform="rotate(-90 20.0 582.3)">CXCR3</text>
<text x="123.9" y="547.8" font-size="8.4" textLength="24.2" lengthAdjust="spacingAndGlyphs">Count</text>
<defs><linearGradient id="cb127_553" x1="0" y1="0" x2="0" y2="1"><stop offset="0.00" stop-color="#b8409a"/><stop offset="0.10" stop-color="#7a4a9e"/><stop offset="0.20" stop-color="#3f51a3"/><stop offset="0.30" stop-color="#3b6fb6"/><stop offset="0.40" stop-color="#29b5e8"/><stop offset="0.50" stop-color="#4db88a"/><stop offset="0.60" stop-color="#62b847"/><stop offset="0.70" stop-color="#9cc83c"/><stop offset="0.80" stop-color="#f0e41a"/><stop offset="0.90" stop-color="#f7a21b"/><stop offset="1.00" stop-color="#ee2b24"/></linearGradient></defs>
<rect x="127.20" y="553.90" width="13.50" height="66.60" fill="url(#cb127_553)"/>
<line x1="127.20" y1="620.50" x2="129.90" y2="620.50" stroke="#fff" stroke-width="0.4"/>
<line x1="138.00" y1="620.50" x2="140.70" y2="620.50" stroke="#fff" stroke-width="0.4"/>
<text x="143.0" y="623.4" font-size="8.2">0</text>
<line x1="127.20" y1="604.25" x2="129.90" y2="604.25" stroke="#fff" stroke-width="0.4"/>
<line x1="138.00" y1="604.25" x2="140.70" y2="604.25" stroke="#fff" stroke-width="0.4"/>
<text x="143.0" y="607.1" font-size="8.2">3</text>
<line x1="127.20" y1="588.07" x2="129.90" y2="588.07" stroke="#fff" stroke-width="0.4"/>
<line x1="138.00" y1="588.07" x2="140.70" y2="588.07" stroke="#fff" stroke-width="0.4"/>
<text x="143.0" y="590.9" font-size="8.2">6</text>
<line x1="127.20" y1="571.82" x2="129.90" y2="571.82" stroke="#fff" stroke-width="0.4"/>
<line x1="138.00" y1="571.82" x2="140.70" y2="571.82" stroke="#fff" stroke-width="0.4"/>
<text x="143.0" y="574.7" font-size="8.2">9</text>
<line x1="127.20" y1="555.57" x2="129.90" y2="555.57" stroke="#fff" stroke-width="0.4"/>
<line x1="138.00" y1="555.57" x2="140.70" y2="555.57" stroke="#fff" stroke-width="0.4"/>
<text x="143.0" y="558.4" font-size="8.2">12</text>
<path d="M252.5 544.5h1.4m-35.4 11.5h1.4m29.6 8h1.4m-49.9 30h1.4m18.1 1.5h1.4m11.6 0h1.4m-33.4 1h1.4m17.6 0h1.4m5.6 1h1.4m36.6 2.5h1.4m-68.9 0.5h1.4m25.1 0h1.4m-27.9 3.5h1.4m19.6 3.5h1.4m2.6 4h1.4m1.1 4h1.4m-2.4 1h1.4m-3.4 6h1.4m6.6 2h1.4m-6.4 2h1.4m-0.9 1h1.4m-4.4 1.5h1.4m-0.9 1h1.4m-0.4 0h1.4" stroke="#f25d20" stroke-width="1.4" fill="none"/>
<path d="M212 597.5h1.4m-4.4 3.5h1.4m-8.9 0.5h1.4m11.1 1h1.4m2.1 3.5h1.4m8.6 0.5h1.4m-4.9 1h1.4m-1.4 2h1.4m-3.4 2.5h1.4m0.6 1h1.4m-28.9 1h1.4m27.6 0h1.4m-5.4 2.5h1.4m-26.4 8.5h1.4m23.6 1.5h1.4m0.1 0.5h1.4m-5.4 3h1.4" stroke="#f68e1c" stroke-width="1.4" fill="none"/>
<path d="M221.5 594.5h1.4m-8.4 1.5h1.4m-4.9 3.5h1.4m-8.4 1h1.4m4.1 1h1.4m-9.9 1.5h1.4m8.6 0h1.4m-12.9 4h1.4m17.1 1.5h1.4m-15.4 1h1.4m-8.4 2h1.4m28.1 2h1.4m-31.4 4h1.4m-0.9 1h1.4m25.1 0h1.4m-27.9 0.5h1.4m25.6 1h1.4m-1.4 1h1.4m-26.9 3.5h1.4m-0.9 0.5h1.4m-3.4 0.5h1.4m17.1 3.5h1.4m-0.4 2.5h1.4m-1.4 0.5h1.4" stroke="#f5b21b" stroke-width="1.4" fill="none"/>
<path d="M211 594.5h1.4m-3.9 3h1.4m-0.9 0.5h1.4m10.6 1h1.4m-21.4 3h1.4m7.6 0.5h1.4m-11.4 1h1.4m11.1 1h1.4m4.6 1h1.4m-0.9 0h1.4m-19.9 4.5h1.4m0.1 0.5h1.4m14.1 4h1.4m-2.4 3h1.4m-1.9 1h1.4m3.6 2.5h1.4m-1.4 1h1.4m-22.4 1h1.4m0.1 0h1.4m12.6 2h1.4m3.1 0h1.4m-9.4 2h1.4m6.1 0h1.4m-23.4 1h1.4m19.1 2h1.4m-13.4 2h1.4m-6.9 0.5h1.4" stroke="#e9e21d" stroke-width="1.4" fill="none"/>
<path d="M200.5 604h1.4m4.1 1.5h1.4m-0.9 0.5h1.4m-2.4 1h1.4m6.6 3h1.4m2.1 0.5h1.4m-2.9 1h1.4m3.1 0.5h1.4m-4.4 11h1.4m0.6 6h1.4m-11.9 0.5h1.4m5.6 2.5h1.4" stroke="#c6d62b" stroke-width="1.4" fill="none"/>
<path d="M207 601.5h1.4m-0.4 4h1.4m-1.9 4h1.4m4.6 0h1.4m3.1 2.5h1.4m-20.9 6h1.4m0.1 2.5h1.4m15.1 0.5h1.4m-17.9 1.5h1.4m7.6 0.5h1.4m-7.9 1h1.4m2.1 5.5h1.4" stroke="#a3ca39" stroke-width="1.4" fill="none"/>
<path d="M208 608.5h1.4m-0.9 0.5h1.4m4.1 0.5h1.4m1.6 0.5h1.4m-13.9 0.5h1.4m0.1 0.5h1.4m-5.9 0.5h1.4m14.1 2.5h1.4m-16.9 3h1.4m1.6 1h1.4m14.1 5h1.4m-11.4 0.5h1.4m3.6 1h1.4m-14.4 1h1.4m14.6 2.5h1.4m-5.9 2h1.4m-0.4 0h1.4m-5.4 1h1.4" stroke="#89c340" stroke-width="1.4" fill="none"/>
<path d="M208.5 604h1.4m4.6 2.5h1.4m-11.4 1h1.4m1.6 0h1.4m-4.4 0.5h1.4m0.1 0h1.4m-0.9 3h1.4m-7.4 1.5h1.4m15.6 1h1.4m-5.4 5.5h1.4m-8.9 2h1.4m-3.4 2h1.4m1.6 0.5h1.4m10.1 0h1.4m-6.4 0.5h1.4" stroke="#70bc44" stroke-width="1.4" fill="none"/>
<path d="M208 607h1.4m-6.9 1h1.4m8.6 0.5h1.4m-9.9 2.5h1.4m-0.4 1h1.4m7.1 4h1.4m-13.4 0.5h1.4m4.1 1.5h1.4m5.6 0.5h1.4m-0.4 1h1.4m-17.4 2h1.4m12.6 0h1.4m1.6 0.5h1.4m-12.4 1h1.4m12.6 2h1.4m-8.9 1.5h1.4m-2.4 3.5h1.4" stroke="#5eb852" stroke-width="1.4" fill="none"/>
<path d="M212.5 606h1.4m-0.4 3h1.4m-8.4 3.5h1.4m5.6 0.5h1.4m-8.4 5h1.4m-0.4 1h1.4m1.1 0h1.4m2.1 2h1.4m-7.4 0.5h1.4m-2.9 1.5h1.4m8.6 0h1.4m-4.9 1h1.4m5.1 0h1.4m-10.4 1.5h1.4m-3.4 3h1.4" stroke="#4db88a" stroke-width="1.4" fill="none"/>
<path d="M204.5 615h1.4m12.6 3h1.4m-17.4 2.5h1.4m-1.4 2.5h1.4m2.6 3h1.4m-0.9 0.5h1.4" stroke="#3eb7b1" stroke-width="1.4" fill="none"/>
<path d="M210 611h1.4m-0.9 2h1.4m-8.4 2h1.4m9.6 1.5h1.4m-9.9 2h1.4m5.6 0.5h1.4m-3.4 1.5h1.4m2.1 3h1.4m-9.9 0.5h1.4m4.1 0.5h1.4m-4.9 2.5h1.4m-2.4 1h1.4" stroke="#2fb6d8" stroke-width="1.4" fill="none"/>
<path d="M213.5 607.5h1.4m-5.4 3h1.4m1.6 1.5h1.4m-0.9 1h1.4m-10.4 3h1.4m5.6 0.5h1.4m-2.9 1.5h1.4m-1.4 2h1.4m-2.4 0.5h1.4m2.1 4h1.4" stroke="#2ea4dc" stroke-width="1.4" fill="none"/>
<path d="M214 613.5h1.4m-5.9 2h1.4m2.1 2h1.4m-0.4 5.5h1.4" stroke="#3586c7" stroke-width="1.4" fill="none"/>
<path d="M212 615h1.4m-0.4 2h1.4" stroke="#3f54a5" stroke-width="1.4" fill="none"/>
<path d="M207.5 615.5h1.4m-0.9 0.5h1.4m1.6 0h1.4m0.1 3.5h1.4" stroke="#534fa1" stroke-width="1.4" fill="none"/>
<path d="M209.5 617h1.4" stroke="#6b4c9f" stroke-width="1.4" fill="none"/>
<path d="M220 556.5h1.4m25.6 6.5h1.4m-7.4 11h1.4m-22.4 5h1.4m-11.4 14h1.4m-10.4 2h1.4m7.6 5h1.4m10.6 1h1.4m-0.4 0h1.4m2.1 0.5h1.4m-30.9 0.5h1.4m18.1 2.5h1.4m8.6 0.5h1.4m-11.4 0.5h1.4m-20.9 1h1.4m30.1 1h1.4m-9.9 1.5h1.4m4.6 1.5h1.4m1.1 2h1.4m-32.4 10.5h1.4m24.6 1h1.4m0.1 8.5h1.4" stroke="#f25d20" stroke-width="1.4" fill="none"/>
<path d="M203.5 594h1.4m1.6 0h1.4m-0.9 0h1.4m3.1 0h1.4m3.1 0.5h1.4m9.1 3.5h1.4m-17.9 1h1.4m7.1 8h1.4m-3.9 1h1.4m1.1 0.5h1.4m-22.4 0.5h1.4m-0.9 0h1.4m22.1 2.5h1.4m2.6 1h1.4m-3.4 1h1.4m-4.4 2h1.4m3.1 3h1.4m-3.4 1h1.4m-4.4 1h1.4m-0.9 4.5h1.4m0.6 2h1.4m-21.9 1.5h1.4m-5.4 1.5h1.4m16.6 0.5h1.4m2.6 0.5h1.4m-0.9 0.5h1.4m-9.4 0.5h1.4" stroke="#f68e1c" stroke-width="1.4" fill="none"/>
<path d="M213.5 595.5h1.4m-9.4 1.5h1.4m2.6 0h1.4m-3.9 1.5h1.4m11.6 1.5h1.4m-16.4 0.5h1.4m7.6 0.5h1.4m-12.4 0.5h1.4m11.6 1h1.4m-13.9 0.5h1.4m17.6 0h1.4m-19.4 1h1.4m16.6 0.5h1.4m-0.4 1.5h1.4m-1.9 0.5h1.4m-24.9 1h1.4m21.1 2.5h1.4m-1.4 0.5h1.4m-25.9 0.5h1.4m22.1 3h1.4m-4.4 1.5h1.4m3.1 2h1.4m-2.4 1.5h1.4m-22.4 7.5h1.4m18.1 0.5h1.4m-1.4 1.5h1.4m-21.9 0.5h1.4m16.6 1h1.4" stroke="#f5b21b" stroke-width="1.4" fill="none"/>
<path d="M214 595h1.4m-7.4 3h1.4m-9.4 2.5h1.4m15.6 1h1.4m-1.9 7h1.4m1.6 1.5h1.4m-20.9 5h1.4m19.6 2h1.4m-4.4 3.5h1.4m-19.4 4h1.4m-0.9 0h1.4m0.6 0h1.4m10.6 2h1.4m-0.4 0h1.4m0.6 2h1.4m-19.9 1h1.4m6.1 2h1.4m-5.4 0.5h1.4" stroke="#e9e21d" stroke-width="1.4" fill="none"/>
<path d="M207.5 598.5h1.4m-8.9 2.5h1.4m16.1 1h1.4m-1.4 0.5h1.4m-18.9 2h1.4m5.1 1h1.4m3.1 1.5h1.4m-10.9 1h1.4m-0.9 1.5h1.4m-1.4 0.5h1.4m10.6 0h1.4m3.6 1.5h1.4m-21.9 1.5h1.4m21.1 3.5h1.4m-4.4 2.5h1.4m1.1 0.5h1.4m-0.9 0h1.4m-18.9 2h1.4m-4.4 1.5h1.4m15.1 0.5h1.4m-14.9 4.5h1.4m-7.4 0.5h1.4m17.1 0h1.4m-9.4 1.5h1.4m0.1 1.5h1.4m0.6 0h1.4" stroke="#c6d62b" stroke-width="1.4" fill="none"/>
<path d="M210.5 598h1.4m-0.9 0h1.4m-1.4 0.5h1.4m-6.9 4h1.4m-3.9 2h1.4m1.1 0h1.4m8.1 1.5h1.4m-8.9 3h1.4m10.1 3.5h1.4m-21.4 2.5h1.4m16.1 4h1.4m0.6 0h1.4m-2.9 2h1.4m-19.4 1h1.4m15.6 0.5h1.4m3.1 1h1.4m-19.9 1.5h1.4m14.1 0h1.4m-0.9 0.5h1.4m-14.4 0.5h1.4m6.6 0h1.4m3.6 1.5h1.4m-10.9 1h1.4m-5.9 1h1.4m3.1 1.5h1.4m-1.4 0.5h1.4m-4.9 0.5h1.4" stroke="#a3ca39" stroke-width="1.4" fill="none"/>
<path d="M207.5 606.5h1.4m7.1 0.5h1.4m-11.9 0.5h1.4m8.6 2h1.4m-0.9 0h1.4m-13.4 1h1.4m0.1 1h1.4m8.1 0.5h1.4m-17.9 0.5h1.4m2.6 0h1.4m-4.4 0.5h1.4m2.1 0h1.4m1.6 0h1.4m10.6 0h1.4m-1.9 4h1.4m-19.4 1.5h1.4m19.1 0h1.4m-11.4 1h1.4m-5.9 0.5h1.4m-6.9 1h1.4m0.6 0.5h1.4m13.1 0h1.4m-18.4 0.5h1.4m12.6 3.5h1.4m-4.9 1.5h1.4m-0.4 0h1.4m5.6 1.5h1.4m-10.9 2h1.4m4.1 0h1.4" stroke="#89c340" stroke-width="1.4" fill="none"/>
<path d="M210 605.5h1.4m-4.9 1h1.4m-4.9 1h1.4m1.6 3h1.4m-2.9 2.5h1.4m11.1 0.5h1.4m-2.9 3h1.4m-15.4 2h1.4m-1.9 0.5h1.4m2.6 0.5h1.4m-0.4 1h1.4m-4.4 0.5h1.4m-2.4 2h1.4m0.1 0h1.4m-2.9 3h1.4m2.6 0.5h1.4m3.6 1h1.4m6.1 1h1.4m-17.4 2.5h1.4m-1.4 0.5h1.4" stroke="#70bc44" stroke-width="1.4" fill="none"/>
<path d="M208.5 605.5h1.4m3.6 2.5h1.4m-2.9 1h1.4m-4.4 1h1.4m5.1 2.5h1.4m-11.4 1h1.4m-1.4 2.5h1.4m-0.9 1h1.4m-2.9 3.5h1.4m3.1 1h1.4m8.1 0.5h1.4m-11.4 4.5h1.4m1.6 3.5h1.4" stroke="#5eb852" stroke-width="1.4" fill="none"/>
<path d="M209 606.5h1.4m-9.4 6h1.4m2.1 1h1.4m10.1 0.5h1.4m-12.4 2h1.4m1.1 2.5h1.4m-2.9 1.5h1.4m5.6 0h1.4m-0.4 2h1.4m-12.4 0.5h1.4m15.1 0.5h1.4m-14.4 0.5h1.4m-1.4 1h1.4m-0.9 1h1.4m-5.4 0.5h1.4m6.6 2h1.4" stroke="#4db88a" stroke-width="1.4" fill="none"/>
<path d="M211.5 608.5h1.4m-1.9 3h1.4m-8.9 2.5h1.4m0.6 0.5h1.4m-3.4 2h1.4m0.1 0h1.4m5.1 1.5h1.4m-8.4 2h1.4m8.1 0h1.4m-10.9 3.5h1.4m9.6 0.5h1.4m-9.4 2h1.4m2.1 3.5h1.4" stroke="#3eb7b1" stroke-width="1.4" fill="none"/>
<path d="M211 610h1.4m-3.9 1.5h1.4m-0.9 3.5h1.4m3.1 5.5h1.4m-2.9 5.5h1.4" stroke="#2fb6d8" stroke-width="1.4" fill="none"/>
<path d="M214.5 607.5h1.4m-1.9 1h1.4m-2.9 2.5h1.4m-4.9 0.5h1.4m1.1 1h1.4m-2.9 0.5h1.4m0.6 0h1.4m-0.9 1.5h1.4m-2.4 2.5h1.4m-2.9 1h1.4m-2.9 0.5h1.4m-0.4 0h1.4m0.1 0.5h1.4m-3.9 0.5h1.4m-5.9 0.5h1.4m6.6 3h1.4m1.1 0h1.4m-3.4 3h1.4" stroke="#2ea4dc" stroke-width="1.4" fill="none"/>
<path d="M209.5 608.5h1.4m1.1 3.5h1.4m-5.4 5.5h1.4m-6.9 0.5h1.4m-0.4 2h1.4m3.6 0h1.4m5.1 0h1.4m-13.4 0.5h1.4m3.6 0h1.4m3.1 0.5h1.4m0.1 1.5h1.4m-2.4 1h1.4m-2.4 1.5h1.4" stroke="#3586c7" stroke-width="1.4" fill="none"/>
<path d="M209.5 612h1.4m0.6 2h1.4m-0.4 0h1.4m-0.9 0.5h1.4m-6.9 0.5h1.4m3.6 1h1.4m-1.9 1h1.4m-5.9 3h1.4m-0.9 0h1.4m-0.4 0h1.4m1.6 1h1.4m-0.9 0.5h1.4m-1.4 1.5h1.4" stroke="#3b6cb4" stroke-width="1.4" fill="none"/>
<path d="M212 609.5h1.4m-1.4 0.5h1.4m1.6 4h1.4m-7.4 3.5h1.4m2.1 1h1.4m-0.9 0h1.4" stroke="#3f54a5" stroke-width="1.4" fill="none"/>
<path d="M214.5 613.5h1.4m-1.9 1h1.4m-2.9 0.5h1.4m-2.4 4h1.4" stroke="#534fa1" stroke-width="1.4" fill="none"/>
<path d="M210 614h1.4m-0.9 1h1.4m0.1 1h1.4m-1.4 2.5h1.4" stroke="#6b4c9f" stroke-width="1.4" fill="none"/>
<path d="M209.5 614h1.4" stroke="#9e449c" stroke-width="1.4" fill="none"/>
<path d="M226 560.5h1.4m-4.4 33h1.4m1.6 3h1.4m-23.4 2h1.4m12.6 1h1.4m-3.4 1h1.4m2.6 6h1.4m-19.9 0.5h1.4m23.1 0h1.4m-30.9 1.5h1.4m30.1 9h1.4m-3.4 0.5h1.4m-30.9 3.5h1.4m25.1 0h1.4m-10.4 7.5h1.4m-14.9 1h1.4" stroke="#f25d20" stroke-width="1.4" fill="none"/>
<path d="M217 594h1.4m-12.9 2h1.4m15.6 3h1.4m-4.9 1h1.4m-6.9 0.5h1.4m-6.9 1h1.4m0.1 1.5h1.4m0.6 0h1.4m-14.9 2h1.4m14.1 0.5h1.4m-14.4 1h1.4m19.6 0.5h1.4m4.6 3h1.4m-14.4 0.5h1.4m-15.9 3.5h1.4m20.1 6.5h1.4m5.1 0h1.4m-7.9 5.5h1.4m-13.4 1h1.4m13.1 0h1.4m-12.4 1.5h1.4m-12.9 1h1.4m24.6 0h1.4m-1.9 0.5h1.4m-10.4 1h1.4" stroke="#f68e1c" stroke-width="1.4" fill="none"/>
<path d="M203.5 594.5h1.4m-0.9 1.5h1.4m15.6 2.5h1.4m-1.4 1h1.4m-15.9 2h1.4m2.1 0.5h1.4m5.1 1h1.4m-7.4 1h1.4m9.6 2h1.4m-22.9 2h1.4m23.1 1.5h1.4m-4.4 0.5h1.4m-4.4 1h1.4m6.1 3h1.4m-26.4 0.5h1.4m20.1 0h1.4m-26.4 5h1.4m24.6 0.5h1.4m-3.9 4h1.4m-24.4 1.5h1.4m20.1 2h1.4m-5.9 0.5h1.4m0.1 0.5h1.4m-12.4 0.5h1.4m4.6 3h1.4" stroke="#f5b21b" stroke-width="1.4" fill="none"/>
<path d="M214 595.5h1.4m-11.4 6.5h1.4m18.1 1.5h1.4m-17.4 0.5h1.4m-2.9 0.5h1.4m-5.4 1h1.4m-2.4 2.5h1.4m-2.4 2h1.4m1.6 0h1.4m-5.9 4.5h1.4m19.1 1.5h1.4m1.6 1.5h1.4m2.6 2.5h1.4m-21.9 2.5h1.4m14.1 1h1.4m-23.9 2h1.4m17.6 1h1.4m-3.4 0.5h1.4m-15.9 1h1.4m-3.9 1h1.4m3.1 0h1.4m3.1 1.5h1.4m-1.9 0.5h1.4m4.6 0h1.4" stroke="#e9e21d" stroke-width="1.4" fill="none"/>
<path d="M211 597.5h1.4m-3.9 1.5h1.4m10.6 0h1.4m-22.4 2.5h1.4m16.6 1.5h1.4m-15.4 1.5h1.4m6.6 0.5h1.4m-11.4 3.5h1.4m-1.4 1.5h1.4m15.6 0h1.4m-19.4 0.5h1.4m13.6 0h1.4m0.1 2.5h1.4m-17.9 1h1.4m19.6 0.5h1.4m-24.4 1.5h1.4m-2.9 0.5h1.4m16.6 0.5h1.4m4.1 1.5h1.4m-4.9 0.5h1.4m1.6 0h1.4m-3.4 0.5h1.4m-18.4 0.5h1.4m-3.9 0.5h1.4m19.6 0.5h1.4m-12.4 3h1.4m-4.9 1h1.4m-5.4 2.5h1.4m-0.9 0.5h1.4m15.6 0h1.4m0.1 1h1.4m-15.9 0.5h1.4m-4.9 1.5h1.4" stroke="#c6d62b" stroke-width="1.4" fill="none"/>
<path d="M206.5 604.5h1.4m-3.4 2.5h1.4m-0.9 2.5h1.4m-2.9 1.5h1.4m-5.4 0.5h1.4m4.1 0h1.4m11.1 0.5h1.4m-17.4 1.5h1.4m-4.9 1.5h1.4m-1.9 1.5h1.4m1.6 0h1.4m-4.4 0.5h1.4m-0.9 0h1.4m15.1 0.5h1.4m5.1 0.5h1.4m-17.9 0.5h1.4m13.1 0h1.4m-5.9 0.5h1.4m2.1 2h1.4m0.1 0.5h1.4m-7.4 3.5h1.4m-9.4 0.5h1.4m5.6 1h1.4m-8.4 1h1.4m4.6 1h1.4m-5.9 1h1.4m4.1 0h1.4m-4.4 0.5h1.4m2.1 0h1.4m-10.4 0.5h1.4m4.6 0h1.4m3.6 0h1.4m-13.4 0.5h1.4" stroke="#a3ca39" stroke-width="1.4" fill="none"/>
<path d="M206.5 602.5h1.4m1.6 4h1.4m0.6 0h1.4m-3.9 0.5h1.4m5.1 0h1.4m-8.9 0.5h1.4m-3.4 1h1.4m7.6 0.5h1.4m-0.4 1h1.4m-11.9 2h1.4m-3.9 0.5h1.4m1.1 0.5h1.4m-4.9 0.5h1.4m-1.4 0.5h1.4m-5.4 2h1.4m-0.4 0.5h1.4m-0.9 0.5h1.4m15.1 2h1.4m0.1 0h1.4m-2.4 0.5h1.4m-15.9 1.5h1.4m6.6 1.5h1.4m7.1 0h1.4m-12.4 1h1.4m1.1 0.5h1.4m6.1 0.5h1.4m-17.4 1h1.4m1.1 0.5h1.4m-2.9 0.5h1.4m0.1 0h1.4m5.6 0h1.4m0.6 0h1.4m-10.9 2h1.4m5.1 1h1.4m1.1 0.5h1.4m-10.4 0.5h1.4" stroke="#89c340" stroke-width="1.4" fill="none"/>
<path d="M209 604h1.4m-7.9 1h1.4m6.1 1h1.4m-1.9 1h1.4m-6.9 0.5h1.4m0.6 0h1.4m-3.9 1h1.4m3.1 2h1.4m-7.4 2h1.4m0.6 0.5h1.4m-4.4 3h1.4m0.6 0h1.4m-0.9 1.5h1.4m-2.4 1h1.4m1.6 1h1.4m-3.4 1.5h1.4m-4.9 0.5h1.4m6.6 1h1.4m7.1 1h1.4m-13.4 0.5h1.4m-0.4 0.5h1.4m-0.9 0h1.4m0.1 0h1.4m9.1 0h1.4m-7.9 4.5h1.4" stroke="#70bc44" stroke-width="1.4" fill="none"/>
<path d="M212.5 606.5h1.4m-5.4 0.5h1.4m-4.4 2.5h1.4m6.6 2.5h1.4m-8.9 0.5h1.4m7.6 0h1.4m-9.4 0.5h1.4m-6.9 3h1.4m-0.4 1h1.4m0.6 0h1.4m7.6 0h1.4m-14.9 1h1.4m4.6 0h1.4m-2.4 0.5h1.4m-3.9 2.5h1.4m15.1 1h1.4m-12.9 0.5h1.4m-3.9 1.5h1.4m-3.9 1.5h1.4m3.1 3.5h1.4m5.6 2h1.4m-0.9 0h1.4" stroke="#5eb852" stroke-width="1.4" fill="none"/>
<path d="M209 605h1.4m-0.9 0h1.4m-1.4 2.5h1.4m3.1 0h1.4m-9.4 2.5h1.4m-6.4 2h1.4m8.1 1.5h1.4m-8.9 0.5h1.4m1.6 1h1.4m-2.9 1.5h1.4m0.1 0h1.4m7.1 3h1.4m-1.4 2.5h1.4m3.6 2h1.4m-9.9 1.5h1.4m-2.9 0.5h1.4m-0.4 3h1.4" stroke="#4db88a" stroke-width="1.4" fill="none"/>
<path d="M207 611.5h1.4m2.1 0h1.4m1.6 1h1.4m0.6 1h1.4m-12.9 1.5h1.4m3.1 0h1.4m-7.4 1h1.4m2.6 3h1.4m-0.4 1.5h1.4m5.6 0h1.4m-8.9 1h1.4m10.6 1h1.4m-1.4 0.5h1.4m-0.9 0.5h1.4m-5.9 0.5h1.4m-0.4 0h1.4m-8.4 2h1.4m-2.9 1h1.4" stroke="#3eb7b1" stroke-width="1.4" fill="none"/>
<path d="M214 608h1.4m-4.4 0.5h1.4m2.1 0h1.4m-6.9 2h1.4m2.1 0h1.4m-6.9 2h1.4m-4.9 1h1.4m7.6 0h1.4m-6.4 0.5h1.4m-4.9 5h1.4m4.6 1.5h1.4m-1.4 0.5h1.4m-0.9 0h1.4m-0.9 0.5h1.4m-0.4 1h1.4m2.1 1h1.4m-8.9 4h1.4m-1.4 0.5h1.4" stroke="#2fb6d8" stroke-width="1.4" fill="none"/>
<path d="M209.5 608h1.4m0.1 1.5h1.4m-4.9 2h1.4m1.1 0h1.4m1.6 0h1.4m-6.4 1h1.4m4.1 1h1.4m-5.9 0.5h1.4m-6.4 0.5h1.4m-2.4 2.5h1.4m4.1 1h1.4m-6.9 0.5h1.4m6.6 0h1.4m-8.9 2h1.4m10.1 3h1.4m-4.9 2h1.4m-5.4 3h1.4" stroke="#2ea4dc" stroke-width="1.4" fill="none"/>
<path d="M208.5 612h1.4m-1.9 1.5h1.4m0.6 1h1.4m-6.4 1h1.4m6.6 0.5h1.4m-6.4 2h1.4m1.1 1h1.4m-7.9 0.5h1.4m1.6 1h1.4m3.6 1.5h1.4m0.1 0.5h1.4m-3.9 1h1.4" stroke="#3586c7" stroke-width="1.4" fill="none"/>
<path d="M211 609h1.4m0.1 2.5h1.4m-6.4 1h1.4m3.1 1.5h1.4m-5.9 0.5h1.4m4.6 0h1.4m0.1 1.5h1.4m-6.4 0.5h1.4m-4.4 0.5h1.4m0.1 0.5h1.4m2.6 3h1.4m-6.9 7h1.4" stroke="#3b6cb4" stroke-width="1.4" fill="none"/>
<path d="M207.5 612h1.4m-1.9 3h1.4m1.1 1h1.4m-2.9 1h1.4m1.6 4h1.4" stroke="#3f54a5" stroke-width="1.4" fill="none"/>
<path d="M215 615h1.4m-7.9 1h1.4m2.1 3.5h1.4m-1.4 2h1.4" stroke="#534fa1" stroke-width="1.4" fill="none"/>
<path d="M209 613h1.4m-2.4 3.5h1.4m2.6 0h1.4m-0.9 1.5h1.4" stroke="#6b4c9f" stroke-width="1.4" fill="none"/>
<path d="M214 614h1.4m-6.4 3h1.4m2.1 2h1.4" stroke="#84489d" stroke-width="1.4" fill="none"/>
<path d="M209 613.5h1.4m0.1 2.5h1.4" stroke="#9e449c" stroke-width="1.4" fill="none"/>
<path d="M208.5 595.5h1.4m1.1 0.5h1.4m-9.4 3h1.4m8.1 3h1.4m-11.9 2h1.4m62.6 5h1.4m-48.4 5.5h1.4m3.6 0.5h1.4m30.6 10h1.4m-29.9 2h1.4m-5.4 5h1.4" stroke="#f25d20" stroke-width="1.4" fill="none"/>
<path d="M204 595h1.4m15.6 0h1.4m-0.4 0h1.4m4.1 0h1.4m-1.4 0.5h1.4m-16.4 0.5h1.4m-0.4 0.5h1.4m7.6 0h1.4m-0.4 0h1.4m-5.4 1.5h1.4m2.1 0h1.4m-4.9 0.5h1.4m5.1 0h1.4m-22.4 1.5h1.4m8.1 1.5h1.4m-13.4 0.5h1.4m9.6 1h1.4m-13.9 1h1.4m18.1 0h1.4m-0.9 1h1.4m0.1 0h1.4m-1.9 3h1.4m3.6 2h1.4m-2.9 3h1.4m0.6 1h1.4m-5.9 3h1.4m-25.9 3h1.4m-2.9 0.5h1.4m6.6 1h1.4m21.6 1h1.4m-2.4 1h1.4m-24.4 1.5h1.4m19.1 1.5h1.4m-11.9 0.5h1.4m-16.4 3.5h1.4m7.1 1.5h1.4" stroke="#f68e1c" stroke-width="1.4" fill="none"/>
<path d="M210.5 594.5h1.4m-8.4 2h1.4m5.1 0h1.4m-4.9 1h1.4m0.1 1.5h1.4m-2.9 0.5h1.4m-0.9 1h1.4m4.1 3.5h1.4m5.1 0h1.4m-15.4 0.5h1.4m-6.4 2h1.4m21.1 0h1.4m0.6 1.5h1.4m-1.4 0.5h1.4m-8.4 0.5h1.4m-15.9 2.5h1.4m-6.9 2.5h1.4m19.1 1h1.4m2.1 0.5h1.4m-6.9 2h1.4m-19.4 1h1.4m24.6 0.5h1.4m1.6 0.5h1.4m-2.9 1h1.4m-5.4 3h1.4m-4.4 3h1.4m-3.4 4h1.4m-5.4 1h1.4m-15.4 0.5h1.4m2.1 0.5h1.4" stroke="#f5b21b" stroke-width="1.4" fill="none"/>
<path d="M205.5 598h1.4m-7.4 2.5h1.4m-0.9 1h1.4m16.6 1h1.4m-20.4 1.5h1.4m11.6 0h1.4m-14.4 1h1.4m6.6 0h1.4m-8.9 6h1.4m15.1 1h1.4m2.6 0.5h1.4m-0.4 5h1.4m-0.4 1h1.4m-23.4 1.5h1.4m19.6 0h1.4m-5.4 0.5h1.4m2.1 1h1.4m-0.9 0h1.4m-13.9 1.5h1.4m-10.4 0.5h1.4m0.1 1h1.4m16.6 1h1.4m-20.4 1h1.4m3.6 0.5h1.4m-6.4 5h1.4" stroke="#e9e21d" stroke-width="1.4" fill="none"/>
<path d="M212 598.5h1.4m-9.4 4h1.4m0.6 1h1.4m0.1 1.5h1.4m9.6 0h1.4m-1.4 1h1.4m-16.4 3h1.4m14.1 1h1.4m-19.9 1h1.4m15.6 0.5h1.4m0.6 0h1.4m-22.9 3h1.4m22.6 0.5h1.4m-6.4 2h1.4m-0.9 1h1.4m-19.4 1h1.4m17.6 2h1.4m-19.4 0.5h1.4m7.1 3h1.4m-9.4 1h1.4m-0.4 1.5h1.4m12.1 0.5h1.4m-4.9 0.5h1.4m-15.9 1h1.4m9.6 0h1.4m-5.9 1h1.4m-0.4 1.5h1.4m8.6 0h1.4m-16.9 0.5h1.4" stroke="#c6d62b" stroke-width="1.4" fill="none"/>
<path d="M203.5 601.5h1.4m1.6 1.5h1.4m0.1 1h1.4m-5.9 1h1.4m-2.4 0.5h1.4m8.6 0h1.4m-10.9 0.5h1.4m-1.9 1h1.4m6.6 0h1.4m-5.4 2.5h1.4m8.1 1h1.4m-14.4 1.5h1.4m12.6 0h1.4m-16.4 3h1.4m-4.9 0.5h1.4m18.6 0.5h1.4m-2.4 0.5h1.4m0.1 0h1.4m-5.9 1.5h1.4m-15.4 1.5h1.4m14.1 0.5h1.4m-18.9 1.5h1.4m17.1 3h1.4m-18.4 3h1.4m15.6 0h1.4m-14.9 2.5h1.4m1.6 0h1.4m3.6 1h1.4m-8.4 0.5h1.4m8.1 0h1.4m-9.9 0.5h1.4" stroke="#a3ca39" stroke-width="1.4" fill="none"/>
<path d="M210 604.5h1.4m-7.9 3h1.4m4.1 0h1.4m-3.9 0.5h1.4m-5.4 0.5h1.4m-0.9 0h1.4m10.6 1h1.4m0.1 0.5h1.4m-12.9 0.5h1.4m-7.4 1h1.4m3.6 0h1.4m-6.9 0.5h1.4m1.6 0h1.4m-2.9 0.5h1.4m14.1 0.5h1.4m-10.9 1.5h1.4m11.6 2.5h1.4m-0.9 1h1.4m-5.4 1.5h1.4m-15.4 0.5h1.4m12.6 1h1.4m-7.4 1h1.4m-8.9 1.5h1.4m-0.9 1.5h1.4m14.6 0h1.4m-16.4 1.5h1.4m5.1 1.5h1.4m5.1 0h1.4m-13.9 0.5h1.4m9.1 3h1.4" stroke="#89c340" stroke-width="1.4" fill="none"/>
<path d="M213 606.5h1.4m-7.4 0.5h1.4m-0.9 0h1.4m3.6 0.5h1.4m-9.4 1h1.4m9.1 0h1.4m-3.9 0.5h1.4m-6.9 2h1.4m-8.9 1h1.4m-0.9 5.5h1.4m17.6 0h1.4m-19.9 0.5h1.4m-0.9 0h1.4m-0.9 1h1.4m-0.4 0h1.4m1.1 1h1.4m-3.9 2h1.4m5.1 0h1.4m-7.4 1.5h1.4m9.1 0h1.4m-7.9 0.5h1.4m-0.9 1h1.4m1.1 0h1.4m-0.9 0h1.4m-8.9 0.5h1.4m6.1 1h1.4m-7.9 1h1.4m0.6 0.5h1.4" stroke="#70bc44" stroke-width="1.4" fill="none"/>
<path d="M205.5 608h1.4m2.1 1h1.4m-3.4 1.5h1.4m0.1 0h1.4m-5.4 1h1.4m8.1 0h1.4m-1.4 0.5h1.4m-10.4 1.5h1.4m9.6 1h1.4m-15.9 1h1.4m3.6 0h1.4m-3.9 1.5h1.4m14.1 0.5h1.4m-13.4 0.5h1.4m4.6 0.5h1.4m-5.4 0.5h1.4m-8.9 1.5h1.4m3.6 1.5h1.4m3.1 2h1.4m-4.4 1h1.4m0.6 3.5h1.4" stroke="#5eb852" stroke-width="1.4" fill="none"/>
<path d="M208.5 604.5h1.4m0.1 0.5h1.4m0.6 1.5h1.4m1.6 0h1.4m-1.4 0.5h1.4m-3.4 1h1.4m-9.4 0.5h1.4m3.6 1h1.4m-1.9 0.5h1.4m-0.4 1h1.4m-1.4 1h1.4m2.6 0h1.4m-14.4 0.5h1.4m10.1 1h1.4m-0.4 2.5h1.4m0.6 0h1.4m-15.4 0.5h1.4m-1.4 0.5h1.4m15.1 0h1.4m-18.4 1h1.4m2.6 0h1.4m-0.9 1h1.4m1.1 0h1.4m-7.4 1h1.4m-0.9 0h1.4m9.6 0.5h1.4m-6.4 0.5h1.4m4.6 0h1.4m-1.4 0.5h1.4m-8.9 0.5h1.4m6.6 0h1.4m-13.9 1h1.4m6.1 0h1.4m6.6 1h1.4m-7.4 0.5h1.4m1.6 0h1.4m1.6 0h1.4m-12.9 0.5h1.4m1.1 0h1.4m-2.4 1h1.4m-3.4 2h1.4m4.1 2h1.4" stroke="#4db88a" stroke-width="1.4" fill="none"/>
<path d="M209.5 605.5h1.4m0.1 5h1.4m-5.9 1h1.4m4.6 1h1.4m1.1 0.5h1.4m-13.4 0.5h1.4m2.1 0.5h1.4m-1.4 1h1.4m5.6 0h1.4m-6.4 0.5h1.4m-3.4 1.5h1.4m2.6 0h1.4m-6.4 0.5h1.4m-0.9 0h1.4m-0.4 0h1.4m2.1 0.5h1.4m-8.4 1h1.4m2.1 0h1.4m4.1 1h1.4m-3.4 1.5h1.4m1.6 0h1.4m0.1 1h1.4m-10.4 1h1.4m5.1 0h1.4m-3.4 2h1.4" stroke="#3eb7b1" stroke-width="1.4" fill="none"/>
<path d="M212.5 607h1.4m-2.9 1h1.4m-2.9 1h1.4m0.1 3.5h1.4m-8.4 3h1.4m-2.4 2h1.4m5.6 0h1.4m1.1 0h1.4m-3.4 1h1.4m-5.4 1h1.4m-0.9 0h1.4m3.1 2.5h1.4m-1.9 1h1.4m-6.9 0.5h1.4m-1.4 0.5h1.4m3.6 0h1.4m0.1 1.5h1.4m-0.9 0h1.4" stroke="#2fb6d8" stroke-width="1.4" fill="none"/>
<path d="M210 608h1.4m-1.4 1h1.4m0.6 1.5h1.4m-3.4 1.5h1.4m-3.9 1h1.4m2.1 0.5h1.4m-7.9 1h1.4m9.6 0h1.4m-11.9 0.5h1.4m9.6 0h1.4m-10.4 1.5h1.4m1.1 1h1.4m-1.9 2h1.4m-3.9 0.5h1.4m6.6 1h1.4m-5.4 2.5h1.4m-4.9 5h1.4" stroke="#2ea4dc" stroke-width="1.4" fill="none"/>
<path d="M208.5 611h1.4m-0.4 0h1.4m-2.9 1h1.4m-0.4 0h1.4m1.1 1.5h1.4m-0.9 0h1.4m-9.4 0.5h1.4m1.6 0.5h1.4m1.6 1h1.4m0.1 5h1.4m0.1 2h1.4m-6.9 5.5h1.4" stroke="#3586c7" stroke-width="1.4" fill="none"/>
<path d="M210.5 608h1.4m-1.9 0.5h1.4m0.1 0.5h1.4m-1.4 4h1.4m-4.9 1h1.4m1.6 0.5h1.4m-0.9 0h1.4m0.1 0.5h1.4m0.1 0.5h1.4m-0.9 0h1.4m-0.9 0h1.4m-9.9 0.5h1.4m4.1 0.5h1.4m-5.4 0.5h1.4m-0.9 1.5h1.4m1.1 1h1.4m-3.9 1h1.4m1.6 0h1.4m0.1 2.5h1.4" stroke="#3b6cb4" stroke-width="1.4" fill="none"/>
<path d="M215.5 614h1.4m-4.4 1.5h1.4m-6.4 0.5h1.4m-0.4 0.5h1.4m-0.4 0h1.4m0.6 0h1.4m-0.9 1h1.4m-0.9 5h1.4" stroke="#3f54a5" stroke-width="1.4" fill="none"/>
<path d="M213.5 614h1.4m-4.4 1.5h1.4" stroke="#534fa1" stroke-width="1.4" fill="none"/>
<path d="M208 613h1.4m0.1 0h1.4m-2.4 0.5h1.4m4.6 1h1.4m-4.9 0.5h1.4m-0.4 0.5h1.4m-1.9 0.5h1.4m-0.4 1h1.4" stroke="#6b4c9f" stroke-width="1.4" fill="none"/>
<path d="M211.5 618.5h1.4" stroke="#84489d" stroke-width="1.4" fill="none"/>
<path d="M208.5 613h1.4m-0.4 0.5h1.4m0.6 1.5h1.4" stroke="#9e449c" stroke-width="1.4" fill="none"/>
<line x1="192.30" y1="591.40" x2="289.60" y2="591.40" stroke="#2a2a2a" stroke-width="1.0"/>
<line x1="229.30" y1="515.10" x2="229.30" y2="638.10" stroke="#2a2a2a" stroke-width="1.0"/>
<line x1="192.30" y1="515.80" x2="192.30" y2="638.80" stroke="#000" stroke-width="1.3"/>
<line x1="191.70" y1="638.10" x2="289.70" y2="638.10" stroke="#000" stroke-width="1.4"/>
<line x1="188.50" y1="632.40" x2="192.30" y2="632.40" stroke="#000" stroke-width="1.1"/>
<text x="186.1" y="635.5" font-size="8.6" text-anchor="end">0</text>
<line x1="188.50" y1="591.60" x2="192.30" y2="591.60" stroke="#000" stroke-width="1.1"/>
<text x="186.1" y="594.7" font-size="8.6" text-anchor="end">1</text>
<line x1="188.50" y1="550.80" x2="192.30" y2="550.80" stroke="#000" stroke-width="1.1"/>
<text x="186.1" y="553.9" font-size="8.6" text-anchor="end">2</text>
<line x1="196.60" y1="638.10" x2="196.60" y2="641.90" stroke="#000" stroke-width="1.1"/>
<text x="196.6" y="652.0" font-size="8.6" text-anchor="middle">0.0</text>
<line x1="229.10" y1="638.10" x2="229.10" y2="641.90" stroke="#000" stroke-width="1.1"/>
<text x="229.1" y="652.0" font-size="8.6" text-anchor="middle">0.5</text>
<line x1="261.60" y1="638.10" x2="261.60" y2="641.90" stroke="#000" stroke-width="1.1"/>
<text x="261.6" y="652.0" font-size="8.6" text-anchor="middle">1.0</text>
<text x="195.3" y="525.2" font-size="8.6" textLength="20.2" lengthAdjust="spacingAndGlyphs">0.2%</text>
<text x="266.0" y="525.2" font-size="8.6" textLength="21.2" lengthAdjust="spacingAndGlyphs">0.1%</text>
<text x="194.5" y="634.5" font-size="8.6" textLength="25.4" lengthAdjust="spacingAndGlyphs">99.0%</text>
<text x="267.5" y="634.5" font-size="8.6" textLength="21.2" lengthAdjust="spacingAndGlyphs">0.8%</text>
<text x="240.4" y="664.1" font-size="10.4" text-anchor="middle" textLength="21.2" lengthAdjust="spacingAndGlyphs">CCR6</text>
<text x="175.0" y="577.7" font-size="10" text-anchor="middle" textLength="21.3" lengthAdjust="spacingAndGlyphs" transform="rotate(-90 175.0 577.7)">CDR4</text>
<text x="291.3" y="542.7" font-size="8.4" textLength="24.5" lengthAdjust="spacingAndGlyphs">Count</text>
<defs><linearGradient id="cb293_547" x1="0" y1="0" x2="0" y2="1"><stop offset="0.00" stop-color="#b8409a"/><stop offset="0.10" stop-color="#7a4a9e"/><stop offset="0.20" stop-color="#3f51a3"/><stop offset="0.30" stop-color="#3b6fb6"/><stop offset="0.40" stop-color="#29b5e8"/><stop offset="0.50" stop-color="#4db88a"/><stop offset="0.60" stop-color="#62b847"/><stop offset="0.70" stop-color="#9cc83c"/><stop offset="0.80" stop-color="#f0e41a"/><stop offset="0.90" stop-color="#f7a21b"/><stop offset="1.00" stop-color="#ee2b24"/></linearGradient></defs>
<rect x="293.00" y="547.80" width="13.40" height="68.30" fill="url(#cb293_547)"/>
<line x1="293.00" y1="616.10" x2="295.68" y2="616.10" stroke="#fff" stroke-width="0.4"/>
<line x1="303.72" y1="616.10" x2="306.40" y2="616.10" stroke="#fff" stroke-width="0.4"/>
<text x="308.1" y="619.0" font-size="8.2">0</text>
<line x1="293.00" y1="599.50" x2="295.68" y2="599.50" stroke="#fff" stroke-width="0.4"/>
<line x1="303.72" y1="599.50" x2="306.40" y2="599.50" stroke="#fff" stroke-width="0.4"/>
<text x="308.1" y="602.4" font-size="8.2">5</text>
<line x1="293.00" y1="582.97" x2="295.68" y2="582.97" stroke="#fff" stroke-width="0.4"/>
<line x1="303.72" y1="582.97" x2="306.40" y2="582.97" stroke="#fff" stroke-width="0.4"/>
<text x="308.1" y="585.8" font-size="8.2">10</text>
<line x1="293.00" y1="566.38" x2="295.68" y2="566.38" stroke="#fff" stroke-width="0.4"/>
<line x1="303.72" y1="566.38" x2="306.40" y2="566.38" stroke="#fff" stroke-width="0.4"/>
<text x="308.1" y="569.2" font-size="8.2">15</text>
<line x1="293.00" y1="549.85" x2="295.68" y2="549.85" stroke="#fff" stroke-width="0.4"/>
<line x1="303.72" y1="549.85" x2="306.40" y2="549.85" stroke="#fff" stroke-width="0.4"/>
<text x="308.1" y="552.7" font-size="8.2">20</text>
<text x="16.8" y="689.2" font-size="14.2" font-weight="bold" fill="#000">E</text>
<rect x="41.20" y="688.90" width="161.50" height="10.30" fill="#bebdc3"/>
<line x1="41.20" y1="699.30" x2="202.70" y2="699.30" stroke="#333" stroke-width="1.0"/>
<rect x="41.20" y="688.30" width="161.50" height="135.50" fill="none" stroke="#111" stroke-width="1.3"/>
<text x="101.5" y="696.6" font-size="8.6" textLength="41.0" lengthAdjust="spacingAndGlyphs" fill="#222">Activation</text>
<rect x="205.70" y="688.90" width="161.20" height="10.30" fill="#bebdc3"/>
<line x1="205.70" y1="699.30" x2="366.90" y2="699.30" stroke="#333" stroke-width="1.0"/>
<rect x="205.70" y="688.30" width="161.20" height="135.50" fill="none" stroke="#111" stroke-width="1.3"/>
<text x="265.5" y="696.6" font-size="8.6" textLength="42.0" lengthAdjust="spacingAndGlyphs" fill="#222">Inhibitory</text>
<text x="33.3" y="756.0" font-size="10.6" text-anchor="middle" textLength="86.2" lengthAdjust="spacingAndGlyphs" transform="rotate(-90 33.3 756.0)">Expression level (CLR)</text>
<line x1="63.70" y1="824.20" x2="63.70" y2="828.00" stroke="#222" stroke-width="1.1"/>
<text x="63.7" y="838.0" font-size="9.2" text-anchor="middle">CD25</text>
<line x1="102.30" y1="824.20" x2="102.30" y2="828.00" stroke="#222" stroke-width="1.1"/>
<text x="102.3" y="838.0" font-size="9.2" text-anchor="middle">CD38</text>
<line x1="140.90" y1="824.20" x2="140.90" y2="828.00" stroke="#222" stroke-width="1.1"/>
<text x="140.9" y="838.0" font-size="9.2" text-anchor="middle">CD37</text>
<line x1="179.50" y1="824.20" x2="179.50" y2="828.00" stroke="#222" stroke-width="1.1"/>
<text x="179.5" y="838.0" font-size="9.2" text-anchor="middle">CD56</text>
<line x1="229.20" y1="824.20" x2="229.20" y2="828.00" stroke="#222" stroke-width="1.1"/>
<text x="229.2" y="838.0" font-size="9.2" text-anchor="middle">PD-L1</text>
<line x1="267.80" y1="824.20" x2="267.80" y2="828.00" stroke="#222" stroke-width="1.1"/>
<text x="267.8" y="838.0" font-size="9.2" text-anchor="middle">PD-1</text>
<line x1="306.60" y1="824.20" x2="306.60" y2="828.00" stroke="#222" stroke-width="1.1"/>
<text x="306.6" y="838.0" font-size="9.2" text-anchor="middle">LAG3</text>
<line x1="345.40" y1="824.20" x2="345.40" y2="828.00" stroke="#222" stroke-width="1.1"/>
<text x="345.4" y="838.0" font-size="9.2" text-anchor="middle">Tim3</text>
<line x1="63.60" y1="754.70" x2="63.60" y2="819.30" stroke="#bdbdbd" stroke-width="1.1"/>
<line x1="46.10" y1="819.30" x2="81.10" y2="819.30" stroke="#8a8a8a" stroke-width="0.8"/>
<rect x="55.7" y="816.5" width="15.8" height="2.8" fill="#000" fill-opacity="0.88"/>
<path d="M71.5 810.5h0.8m-15.3 1h0.8m4.7 0h0.8m-6.3 0.5h0.8m6.7 0h0.8m0.2 0h0.8m2.7 0h0.8m0.2 0h0.8m-13.8 0.5h0.8m0.2 0h0.8m7.2 0h0.8m0.2 0h0.8m-11.8 0.5h0.8m0.7 0h0.8m0.7 0h0.8m2.7 0h0.8m-0.3 0h0.8m1.2 0h0.8m0.2 0h0.8m0.7 0h0.8m0.7 0h0.8m-0.8 0h0.8m-0.3 0h0.8m-11.8 0.5h0.8m-0.3 0h0.8m-0.3 0h0.8m0.7 0h0.8m-0.3 0h0.8m-0.3 0h0.8m0.7 0h0.8m0.2 0h0.8m-0.3 0h0.8m0.7 0h0.8m-0.3 0h0.8m0.2 0h0.8m1.7 0h0.8m-15.3 0.5h0.8m0.2 0h0.8m-0.8 0h0.8m1.2 0h0.8m0.7 0h0.8m-0.3 0h0.8m0.2 0h0.8m-0.8 0h0.8m-0.3 0h0.8m1.7 0h0.8m0.2 0h0.8m1.2 0h0.8m-0.3 0h0.8m1.7 0h0.8m-0.8 0h0.8m-0.8 0h0.8m-15.3 0.5h0.8m-0.3 0h0.8m-0.8 0h0.8m0.2 0h0.8m-0.3 0h0.8m0.2 0h0.8m0.7 0h0.8m-0.3 0h0.8m0.7 0h0.8m-0.8 0h0.8m0.7 0h0.8m-0.8 0h0.8m0.7 0h0.8m-0.3 0h0.8m-0.8 0h0.8m-0.3 0h0.8m-0.8 0h0.8m-0.3 0h0.8m-0.3 0h0.8m-0.8 0h0.8m1.7 0h0.8m-0.3 0h0.8m-15.8 0.5h0.8m-0.3 0h0.8m-0.3 0h0.8m0.2 0h0.8m0.2 0h0.8m-0.8 0h0.8m-0.3 0h0.8m-0.3 0h0.8m-0.8 0h0.8m0.2 0h0.8m-0.3 0h0.8m-0.3 0h0.8m-0.3 0h0.8m0.7 0h0.8m-0.3 0h0.8m-0.3 0h0.8m-0.8 0h0.8m0.2 0h0.8m0.2 0h0.8m0.2 0h0.8m-0.8 0h0.8m1.2 0h0.8m-0.3 0h0.8m-0.8 0h0.8m-0.3 0h0.8m-0.8 0h0.8m-15.3 0.5h0.8m-0.3 0h0.8m-0.8 0h0.8m-0.3 0h0.8m-0.8 0h0.8m-0.3 0h0.8m-0.3 0h0.8m0.2 0h0.8m-0.8 0h0.8m0.2 0h0.8m-0.3 0h0.8m0.2 0h0.8m-0.8 0h0.8m-0.8 0h0.8m-0.3 0h0.8m0.2 0h0.8m-0.3 0h0.8m-0.3 0h0.8m-0.8 0h0.8m-0.8 0h0.8m-0.3 0h0.8m-0.8 0h0.8m-0.8 0h0.8m-0.3 0h0.8m-0.3 0h0.8m-0.3 0h0.8m-0.3 0h0.8m-0.8 0h0.8m-0.3 0h0.8m-0.3 0h0.8m-0.8 0h0.8m0.2 0h0.8m-0.3 0h0.8m-0.8 0h0.8m-0.3 0h0.8m0.2 0h0.8m-15.8 0.5h0.8m-0.8 0h0.8m-0.3 0h0.8m-0.3 0h0.8m-0.3 0h0.8m-0.8 0h0.8m-0.3 0h0.8m-0.8 0h0.8m-0.8 0h0.8m0.7 0h0.8m0.2 0h0.8m-0.8 0h0.8m0.2 0h0.8m-0.8 0h0.8m0.2 0h0.8m-0.8 0h0.8m-0.8 0h0.8m-0.3 0h0.8m-0.3 0h0.8m-0.3 0h0.8m-0.3 0h0.8m-0.3 0h0.8m-0.8 0h0.8m-0.8 0h0.8m-0.3 0h0.8m-0.8 0h0.8m-0.3 0h0.8m-0.3 0h0.8m0.2 0h0.8m-0.3 0h0.8m-0.8 0h0.8m-0.8 0h0.8m-0.8 0h0.8m-0.8 0h0.8m0.2 0h0.8m-0.3 0h0.8m-0.8 0h0.8m-0.8 0h0.8m-0.3 0h0.8m-0.3 0h0.8m-0.8 0h0.8m-15.3 0.5h0.8m-0.8 0h0.8m-0.3 0h0.8m-0.8 0h0.8m-0.3 0h0.8m-0.8 0h0.8m-0.3 0h0.8m-0.8 0h0.8m0.7 0h0.8m-0.8 0h0.8m-0.8 0h0.8m0.7 0h0.8m0.2 0h0.8m-0.8 0h0.8m-0.8 0h0.8m0.2 0h0.8m-0.8 0h0.8m-0.8 0h0.8m-0.3 0h0.8m0.2 0h0.8m0.2 0h0.8m-0.8 0h0.8m-0.3 0h0.8m-0.8 0h0.8m-0.3 0h0.8m-0.8 0h0.8m0.2 0h0.8m-0.8 0h0.8m-0.3 0h0.8m-0.8 0h0.8m-0.3 0h0.8m-0.8 0h0.8m-0.3 0h0.8m-0.8 0h0.8m-0.3 0h0.8m-0.3 0h0.8m-0.8 0h0.8m-0.3 0h0.8m-0.8 0h0.8m-0.8 0h0.8m-0.3 0h0.8m-0.3 0h0.8m-0.3 0h0.8" stroke="#000" stroke-width="0.8" stroke-opacity="0.8" fill="none"/>
<path d="M57 783.5h0.7m4.3 0h0.7m8.3 3.5h0.7m-5.2 1.5h0.7m2.8 1h0.7m-0.2 0.5h0.7m-5.2 0.5h0.7m2.3 0.5h0.7m-1.7 0.5h0.7m-7.2 1h0.7m0.3 0h0.7m-1.7 0.5h0.7m9.3 0h0.7m-12.7 4h0.7m6.3 1h0.7m-4.2 2h0.7m-9.2 0.5h0.7m14.8 0.5h0.7m0.3 2h0.7m0.8 0.5h0.7m-8.7 0.5h0.7m-8.7 1.5h0.7m5.8 3h0.7m-2.7 1h0.7m9.8 1h0.7m-9.2 0.5h0.7m6.8 1.5h0.7m-9.7 1h0.7m4.3 0h0.7m2.8 0.5h0.7" stroke="#444" stroke-width="0.7" stroke-opacity="0.5" fill="none"/>
<line x1="267.70" y1="747.70" x2="267.70" y2="819.30" stroke="#bdbdbd" stroke-width="1.1"/>
<line x1="250.20" y1="819.30" x2="285.20" y2="819.30" stroke="#8a8a8a" stroke-width="0.8"/>
<rect x="259.6" y="816.4" width="16.2" height="2.9" fill="#000" fill-opacity="0.88"/>
<path d="M260.5 811h0.8m8.2 0h0.8m1.7 0.5h0.8m1.7 0h0.8m-10.8 0.5h0.8m5.7 0h0.8m0.7 0h0.8m2.2 0h0.8m-8.3 0.5h0.8m-0.8 0h0.8m3.2 0h0.8m-12.3 0.5h0.8m-0.8 0h0.8m-0.3 0h0.8m-0.8 0h0.8m1.2 0h0.8m-0.3 0h0.8m1.7 0h0.8m0.2 0h0.8m0.2 0h0.8m-0.3 0h0.8m2.2 0h0.8m0.2 0h0.8m-0.8 0h0.8m-10.3 0.5h0.8m0.7 0h0.8m1.2 0h0.8m1.7 0h0.8m0.2 0h0.8m1.2 0h0.8m0.7 0h0.8m0.7 0h0.8m-14.8 0.5h0.8m1.2 0h0.8m2.7 0h0.8m-0.8 0h0.8m-0.3 0h0.8m-0.8 0h0.8m0.2 0h0.8m0.2 0h0.8m-0.3 0h0.8m0.2 0h0.8m3.2 0h0.8m-15.3 0.5h0.8m-0.3 0h0.8m-0.8 0h0.8m-0.3 0h0.8m-0.3 0h0.8m-0.8 0h0.8m-0.3 0h0.8m-0.8 0h0.8m-0.8 0h0.8m1.2 0h0.8m-0.3 0h0.8m-0.8 0h0.8m1.7 0h0.8m-0.3 0h0.8m-0.3 0h0.8m0.2 0h0.8m0.2 0h0.8m0.2 0h0.8m-0.3 0h0.8m0.7 0h0.8m-0.3 0h0.8m-0.3 0h0.8m0.2 0h0.8m-0.3 0h0.8m-0.8 0h0.8m-15.3 0.5h0.8m-0.8 0h0.8m1.7 0h0.8m-0.3 0h0.8m0.2 0h0.8m-0.3 0h0.8m0.2 0h0.8m-0.8 0h0.8m1.2 0h0.8m-0.3 0h0.8m-0.8 0h0.8m0.2 0h0.8m-0.8 0h0.8m-0.3 0h0.8m0.2 0h0.8m-0.8 0h0.8m-0.8 0h0.8m-0.8 0h0.8m0.2 0h0.8m-0.8 0h0.8m-0.8 0h0.8m0.2 0h0.8m-0.8 0h0.8m-0.8 0h0.8m1.2 0h0.8m-0.8 0h0.8m-15.8 0.5h0.8m0.2 0h0.8m0.7 0h0.8m-0.3 0h0.8m-0.3 0h0.8m-0.8 0h0.8m-0.8 0h0.8m-0.8 0h0.8m-0.8 0h0.8m-0.3 0h0.8m-0.8 0h0.8m-0.3 0h0.8m-0.3 0h0.8m-0.3 0h0.8m-0.3 0h0.8m-0.8 0h0.8m-0.8 0h0.8m-0.8 0h0.8m-0.3 0h0.8m-0.8 0h0.8m-0.3 0h0.8m0.2 0h0.8m-0.3 0h0.8m-0.3 0h0.8m-0.8 0h0.8m-0.8 0h0.8m-0.3 0h0.8m-0.3 0h0.8m0.2 0h0.8m-0.8 0h0.8m-0.3 0h0.8m-0.3 0h0.8m-0.8 0h0.8m-0.3 0h0.8m-0.8 0h0.8m-0.8 0h0.8m-0.8 0h0.8m-0.3 0h0.8m-0.8 0h0.8m-0.3 0h0.8m-0.8 0h0.8m-0.3 0h0.8m-0.3 0h0.8m-0.3 0h0.8m-0.8 0h0.8m-16.3 0.5h0.8m-0.3 0h0.8m-0.3 0h0.8m-0.8 0h0.8m-0.3 0h0.8m-0.8 0h0.8m-0.8 0h0.8m-0.3 0h0.8m-0.8 0h0.8m0.2 0h0.8m-0.8 0h0.8m-0.3 0h0.8m-0.8 0h0.8m1.2 0h0.8m-0.8 0h0.8m-0.3 0h0.8m-0.8 0h0.8m-0.8 0h0.8m0.2 0h0.8m-0.8 0h0.8m0.2 0h0.8m-0.8 0h0.8m-0.8 0h0.8m0.2 0h0.8m-0.8 0h0.8m-0.8 0h0.8m-0.8 0h0.8m-0.3 0h0.8m-0.8 0h0.8m-0.8 0h0.8m-0.3 0h0.8m-0.3 0h0.8m-0.8 0h0.8m-0.8 0h0.8m-0.3 0h0.8m-0.8 0h0.8m-0.8 0h0.8m-0.3 0h0.8m-0.3 0h0.8m-0.8 0h0.8m-0.3 0h0.8m-0.8 0h0.8m-0.3 0h0.8m-0.3 0h0.8m-0.3 0h0.8m-0.8 0h0.8m-0.3 0h0.8m-0.8 0h0.8m-0.3 0h0.8m-0.8 0h0.8m-0.3 0h0.8m-0.8 0h0.8m-0.8 0h0.8m-16.3 0.5h0.8m0.2 0h0.8m0.2 0h0.8m-0.3 0h0.8m-0.3 0h0.8m-0.8 0h0.8m-0.3 0h0.8m0.2 0h0.8m-0.8 0h0.8m0.7 0h0.8m-0.8 0h0.8m-0.3 0h0.8m-0.3 0h0.8m0.2 0h0.8m-0.8 0h0.8m-0.3 0h0.8m-0.3 0h0.8m-0.3 0h0.8m-0.3 0h0.8m-0.3 0h0.8m0.2 0h0.8m-0.3 0h0.8m-0.3 0h0.8m0.2 0h0.8m0.2 0h0.8m0.2 0h0.8m-0.8 0h0.8m-0.8 0h0.8" stroke="#000" stroke-width="0.8" stroke-opacity="0.8" fill="none"/>
<path d="M271.5 775.5h0.7m5.3 3h0.7m-14.7 2.5h0.7m4.3 1.5h0.7m-7.7 1h0.7m9.8 0.5h0.7m-2.7 1h0.7m6.3 2.5h0.7m-4.2 1.5h0.7m-2.7 1.5h0.7m-13.7 3h0.7m10.3 0h0.7m-4.7 1.5h0.7m-3.2 1h0.7m0.3 4h0.7m4.8 2.5h0.7m-11.7 0.5h0.7m6.3 3h0.7m9.8 1h0.7m-2.7 0.5h0.7m-4.7 2h0.7m6.3 2h0.7" stroke="#444" stroke-width="0.7" stroke-opacity="0.5" fill="none"/>
<line x1="102.60" y1="735.00" x2="102.60" y2="814.00" stroke="#bdbdbd" stroke-width="1.1"/>
<polygon points="102.6,737.8 102.7,738.1 102.9,738.5 103.2,739.0 103.4,739.5 103.7,740.0 104.0,740.6 104.3,741.2 104.6,741.7 104.9,742.2 105.2,742.8 105.6,743.3 105.9,743.9 106.3,744.4 106.7,745.0 107.2,745.5 107.6,746.1 108.1,746.7 108.6,747.2 109.2,747.8 109.7,748.4 110.3,749.0 110.9,749.6 111.4,750.1 112.0,750.6 112.5,751.1 113.1,751.5 113.7,751.9 114.2,752.3 114.7,752.6 115.3,753.0 115.7,753.4 116.2,753.9 116.6,754.4 117.0,754.9 117.4,755.4 117.8,756.0 118.2,756.6 118.5,757.1 118.8,757.7 119.0,758.3 119.2,758.9 119.4,759.5 119.5,760.1 119.6,760.8 119.7,761.4 119.8,762.0 119.8,762.7 119.8,763.3 119.8,763.9 119.7,764.6 119.6,765.2 119.5,765.8 119.3,766.5 119.2,767.1 118.9,767.7 118.7,768.3 118.4,768.9 118.1,769.5 117.7,770.0 117.3,770.6 116.9,771.1 116.5,771.7 116.0,772.2 115.6,772.8 115.2,773.4 114.7,773.9 114.2,774.5 113.7,775.0 113.2,775.5 112.8,776.1 112.4,776.6 112.0,777.2 111.7,777.8 111.4,778.3 111.2,778.8 111.0,779.4 110.8,779.9 110.6,780.5 110.4,781.1 110.1,781.7 109.8,782.3 109.5,783.0 109.2,783.6 108.9,784.3 108.6,785.0 108.2,785.7 107.9,786.4 107.6,787.2 107.3,788.0 106.9,788.8 106.6,789.6 106.3,790.5 105.9,791.3 105.6,792.2 105.4,793.1 105.1,793.9 104.9,794.7 104.7,795.6 104.5,796.5 104.3,797.3 104.2,798.2 104.1,799.0 103.9,799.8 103.8,800.6 103.7,801.4 103.5,802.1 103.4,802.9 103.3,803.7 103.2,804.4 103.1,805.0 103.0,805.6 102.9,806.1 102.8,806.5 102.8,806.9 102.7,807.2 102.7,807.4 102.7,807.6 102.6,807.7 102.6,807.9 102.6,808.0 102.6,808.0 102.6,807.9 102.6,807.7 102.5,807.6 102.5,807.4 102.5,807.2 102.4,806.9 102.4,806.5 102.3,806.1 102.2,805.6 102.1,805.0 102.0,804.4 101.9,803.7 101.8,802.9 101.7,802.1 101.5,801.4 101.4,800.6 101.3,799.8 101.1,799.0 101.0,798.2 100.8,797.3 100.7,796.5 100.5,795.6 100.3,794.7 100.1,793.9 99.8,793.1 99.6,792.2 99.3,791.3 98.9,790.5 98.6,789.6 98.3,788.8 97.9,788.0 97.6,787.2 97.3,786.4 97.0,785.7 96.6,785.0 96.3,784.3 96.0,783.6 95.7,783.0 95.4,782.3 95.1,781.7 94.8,781.1 94.6,780.5 94.4,779.9 94.2,779.4 94.0,778.8 93.8,778.3 93.5,777.8 93.2,777.2 92.8,776.6 92.4,776.1 92.0,775.5 91.5,775.0 91.0,774.5 90.5,773.9 90.0,773.4 89.6,772.8 89.2,772.2 88.7,771.7 88.3,771.1 87.9,770.6 87.5,770.0 87.1,769.5 86.8,768.9 86.5,768.3 86.3,767.7 86.0,767.1 85.9,766.5 85.7,765.8 85.6,765.2 85.5,764.6 85.4,763.9 85.4,763.3 85.4,762.7 85.4,762.0 85.5,761.4 85.6,760.8 85.7,760.1 85.8,759.5 86.0,758.9 86.2,758.3 86.4,757.7 86.7,757.1 87.0,756.6 87.4,756.0 87.8,755.4 88.2,754.9 88.6,754.4 89.0,753.9 89.5,753.4 89.9,753.0 90.5,752.6 91.0,752.3 91.5,751.9 92.1,751.5 92.7,751.1 93.2,750.6 93.8,750.1 94.3,749.6 94.9,749.0 95.5,748.4 96.0,747.8 96.6,747.2 97.1,746.7 97.6,746.1 98.0,745.5 98.5,745.0 98.9,744.4 99.2,743.9 99.6,743.3 100.0,742.8 100.3,742.2 100.6,741.7 100.9,741.2 101.2,740.6 101.5,740.0 101.8,739.5 102.0,739.0 102.3,738.5 102.5,738.1 102.6,737.8" fill="#f0962d" stroke="#2b2b2b" stroke-width="0.6"/>
<line x1="85.82" y1="766.30" x2="119.38" y2="766.30" stroke="#2b2b2b" stroke-width="0.6"/>
<defs><linearGradient id="jg1026_747" x1="0" y1="0" x2="0" y2="1"><stop offset="0.000" stop-color="#000" stop-opacity="0.00"/><stop offset="0.043" stop-color="#000" stop-opacity="0.08"/><stop offset="0.087" stop-color="#000" stop-opacity="0.18"/><stop offset="0.130" stop-color="#000" stop-opacity="0.30"/><stop offset="0.174" stop-color="#000" stop-opacity="0.46"/><stop offset="0.217" stop-color="#000" stop-opacity="0.50"/><stop offset="0.261" stop-color="#000" stop-opacity="0.50"/><stop offset="0.304" stop-color="#000" stop-opacity="0.50"/><stop offset="0.348" stop-color="#000" stop-opacity="0.50"/><stop offset="0.391" stop-color="#000" stop-opacity="0.50"/><stop offset="0.435" stop-color="#000" stop-opacity="0.50"/><stop offset="0.478" stop-color="#000" stop-opacity="0.50"/><stop offset="0.522" stop-color="#000" stop-opacity="0.50"/><stop offset="0.565" stop-color="#000" stop-opacity="0.48"/><stop offset="0.609" stop-color="#000" stop-opacity="0.42"/><stop offset="0.652" stop-color="#000" stop-opacity="0.35"/><stop offset="0.696" stop-color="#000" stop-opacity="0.27"/><stop offset="0.739" stop-color="#000" stop-opacity="0.21"/><stop offset="0.783" stop-color="#000" stop-opacity="0.15"/><stop offset="0.826" stop-color="#000" stop-opacity="0.11"/><stop offset="0.870" stop-color="#000" stop-opacity="0.08"/><stop offset="0.913" stop-color="#000" stop-opacity="0.05"/><stop offset="0.957" stop-color="#000" stop-opacity="0.03"/><stop offset="1.000" stop-color="#000" stop-opacity="0.00"/></linearGradient></defs>
<rect x="94.8" y="737.8" width="15.6" height="70.2" fill="url(#jg1026_747)"/>
<path d="M99.5 738.5h0.9m-3.9 0.5h0.9m8.6 1h0.9m-9.9 1.5h0.9m11.6 0h0.9m-14.9 0.5h0.9m4.6 0h0.9m2.6 0h0.9m-7.9 0.5h0.9m6.1 0h0.9m-0.4 0.5h0.9m-9.4 0.5h0.9m5.6 0.5h0.9m-8.4 0.5h0.9m-0.4 0h0.9m1.6 0h0.9m6.6 1.5h0.9m-9.9 0.5h0.9m2.6 0h0.9m-4.9 0.5h0.9m0.1 0h0.9m0.1 0.5h0.9m3.1 0h0.9m2.6 0h0.9m0.6 0h0.9m-5.4 0.5h0.9m3.1 0h0.9m-7.9 0.5h0.9m5.6 0h0.9m-7.4 0.5h0.9m3.6 0h0.9m0.6 0h0.9m-9.4 0.5h0.9m1.6 0h0.9m3.1 0h0.9m-0.4 0h0.9m-9.4 0.5h0.9m-0.9 0h0.9m7.1 0h0.9m-0.4 0h0.9m-8.4 0.5h0.9m-0.4 0h0.9m-0.4 0h0.9m4.1 0h0.9m0.1 0h0.9m0.1 0h0.9m1.1 0h0.9m-12.4 0.5h0.9m0.6 0h0.9m1.6 0h0.9m3.6 0h0.9m-6.9 0.5h0.9m0.1 0h0.9m3.6 0h0.9m0.1 0h0.9m4.1 0h0.9m-14.9 0.5h0.9m2.1 0h0.9m1.6 0h0.9m6.1 0h0.9m-11.9 0.5h0.9m3.6 0h0.9m-0.4 0h0.9m3.1 0h0.9m-11.4 0.5h0.9m-0.4 0h0.9m1.6 0h0.9m0.6 0h0.9m2.6 0h0.9m-0.4 0h0.9m0.6 0h0.9m-0.4 0h0.9m0.1 0h0.9m-12.9 0.5h0.9m5.1 0h0.9m-0.9 0h0.9m0.6 0h0.9m4.1 0h0.9m0.1 0h0.9m0.6 0h0.9m-0.4 0h0.9m-16.4 0.5h0.9m3.1 0h0.9m3.6 0.5h0.9m-0.4 0.5h0.9m-0.4 0h0.9m0.1 0.5h0.9m1.1 0h0.9m-9.9 0.5h0.9m0.6 0h0.9m1.6 0h0.9m5.6 0h0.9m-13.9 0.5h0.9m10.6 0h0.9m1.1 0h0.9m-0.4 0h0.9m-15.9 0.5h0.9m3.1 0h0.9m1.6 0h0.9m2.1 0h0.9m-0.9 0h0.9m4.1 0h0.9m-0.4 0h0.9m-15.9 0.5h0.9m0.6 0h0.9m-0.4 0h0.9m-0.4 0h0.9m5.6 0h0.9m-7.9 0.5h0.9m3.1 0h0.9m-0.4 0h0.9m-0.9 0h0.9m2.1 0h0.9m1.1 0h0.9m1.1 0h0.9m-0.9 0h0.9m0.1 0h0.9m-11.9 0.5h0.9m-0.9 0h0.9m-0.4 0h0.9m1.1 0h0.9m-0.9 0h0.9m1.1 0h0.9m1.1 0h0.9m1.1 0h0.9m-0.4 0h0.9m-12.4 0.5h0.9m2.1 0h0.9m-0.9 0h0.9m2.6 0h0.9m4.1 0h0.9m0.6 0h0.9m-1.4 0.5h0.9m0.6 0h0.9m-0.9 0h0.9m-14.9 0.5h0.9m-0.9 0h0.9m3.6 0h0.9m0.1 0h0.9m5.1 0h0.9m1.6 0h0.9m-0.9 0h0.9m-14.9 0.5h0.9m3.6 0h0.9m2.1 0h0.9m0.6 0h0.9m-4.4 0.5h0.9m-0.4 0h0.9m0.1 0h0.9m1.6 0h0.9m0.1 0h0.9m0.6 0h0.9m-13.4 0.5h0.9m2.6 0h0.9m1.6 0h0.9m0.1 0h0.9m1.6 0h0.9m1.1 0h0.9m-0.4 0h0.9m-8.9 0.5h0.9m1.1 0h0.9m0.1 0h0.9m0.6 0h0.9m2.6 0h0.9m0.1 0h0.9m0.1 0h0.9m-0.4 0h0.9m-9.9 0.5h0.9m-0.9 0h0.9m0.6 0h0.9m5.1 0h0.9m-12.9 0.5h0.9m7.1 0h0.9m4.6 0h0.9m-15.4 0.5h0.9m0.6 0h0.9m-0.4 0h0.9m-1.9 0.5h0.9m-0.9 0h0.9m-0.9 0h0.9m2.1 0h0.9m1.1 0h0.9m-0.9 0h0.9m2.1 0h0.9m0.1 0h0.9m-9.9 0.5h0.9m0.6 0h0.9m1.1 0h0.9m1.6 0h0.9m-0.4 0h0.9m2.1 0h0.9m-0.4 0h0.9m0.1 0h0.9m-10.4 0.5h0.9m-0.4 0h0.9m0.6 0h0.9m1.6 0h0.9m1.1 0h0.9m-6.9 0.5h0.9m1.6 0h0.9m2.6 0h0.9m-0.9 0h0.9m2.1 0h0.9m1.6 0h0.9m-15.9 0.5h0.9m-0.9 0h0.9m0.1 0h0.9m-0.4 0h0.9m6.1 0h0.9m0.6 0h0.9m-10.4 0.5h0.9m0.6 0h0.9m8.6 0h0.9m-0.4 0h0.9m1.1 0h0.9m-13.9 0.5h0.9m-0.4 0h0.9m-0.9 0h0.9m5.6 0h0.9m-0.4 0h0.9m0.6 0h0.9m2.6 0h0.9m-7.9 0.5h0.9m3.1 0h0.9m2.6 0h0.9m-0.9 0h0.9m-14.9 0.5h0.9m3.6 0h0.9m-0.4 0h0.9m4.1 0h0.9m-0.4 0h0.9m1.1 0h0.9m0.6 0h0.9m-0.4 0h0.9m-0.4 0h0.9m-13.4 0.5h0.9m6.1 0h0.9m0.1 0h0.9m0.1 0h0.9m1.1 0h0.9m-11.4 0.5h0.9m4.6 0h0.9m0.1 0h0.9m0.1 0h0.9m-11.4 0.5h0.9m1.6 0h0.9m-0.9 0h0.9m0.1 0h0.9m-0.9 0h0.9m3.1 0h0.9m3.6 0h0.9m-0.9 0h0.9m1.1 0h0.9m-12.4 0.5h0.9m0.6 0h0.9m0.6 0h0.9m4.6 0h0.9m1.1 0h0.9m-12.4 0.5h0.9m9.6 0h0.9m1.6 0h0.9m-14.4 0.5h0.9m1.1 0h0.9m2.6 0h0.9m3.1 0h0.9m0.6 0h0.9m0.1 0h0.9m-13.9 0.5h0.9m3.1 0h0.9m2.1 0h0.9m-0.4 0h0.9m2.6 0h0.9m-0.4 0h0.9m-10.4 0.5h0.9m4.1 0h0.9m1.1 0h0.9m0.1 0h0.9m1.1 0.5h0.9m-6.9 0.5h0.9m-0.4 0h0.9m0.1 0h0.9m5.6 0h0.9m-14.4 0.5h0.9m0.1 0h0.9m2.6 0h0.9m0.6 0h0.9m0.6 0h0.9m0.1 0h0.9m5.1 0h0.9m-12.4 0.5h0.9m3.1 0h0.9m0.6 0h0.9m0.1 0h0.9m3.6 0h0.9m-8.4 0.5h0.9m1.1 0h0.9m2.6 0h0.9m1.6 0h0.9m-15.9 0.5h0.9m-0.4 0h0.9m1.6 0h0.9m-0.9 0h0.9m-0.9 0h0.9m6.6 0h0.9m-0.4 0.5h0.9m1.6 0h0.9m0.1 0h0.9m-15.4 0.5h0.9m0.6 0h0.9m-0.4 0h0.9m0.6 0h0.9m0.6 0h0.9m1.1 0h0.9m1.6 0h0.9m1.6 0h0.9m-10.4 0.5h0.9m0.1 0h0.9m4.6 0h0.9m-0.9 0.5h0.9m3.1 0h0.9m-0.4 0h0.9m-6.4 0.5h0.9m-4.9 0.5h0.9m-4.4 0.5h0.9m0.1 0h0.9m2.6 0h0.9m-0.4 0h0.9m3.1 0h0.9m0.1 0h0.9m2.6 0h0.9m-1.9 0.5h0.9m0.6 0h0.9m-11.9 0.5h0.9m9.6 0h0.9m-14.4 0.5h0.9m1.1 0h0.9m9.1 0h0.9m-5.4 1h0.9m0.1 0h0.9m0.6 0h0.9m-0.9 0h0.9m3.6 0h0.9m-15.4 0.5h0.9m-0.9 0h0.9m7.6 0h0.9m1.6 0h0.9m-10.9 0.5h0.9m0.6 0h0.9m0.6 0h0.9m-1.9 0.5h0.9m9.1 0h0.9m-0.4 0h0.9m-13.4 0.5h0.9m10.6 0h0.9m0.6 0h0.9m-9.9 0.5h0.9m-2.9 0.5h0.9m0.1 1h0.9m0.6 0h0.9m1.1 0h0.9m-7.9 1h0.9m2.6 0h0.9m0.1 0h0.9m-0.9 0h0.9m-3.9 1.5h0.9m5.1 0h0.9m2.1 0h0.9m2.6 0.5h0.9m-13.4 2.5h0.9m1.1 0h0.9m7.1 1.5h0.9m-11.9 2.5h0.9m-1.4 0.5h0.9m0.6 0.5h0.9m7.1 1.5h0.9m-2.9 0.5h0.9m4.1 1.5h0.9m-13.4 0.5h0.9m0.1 4.5h0.9m7.1 1h0.9" stroke="#000" stroke-width="0.9" stroke-opacity="0.75" fill="none"/>
<path d="M110 736h0.7m-13.7 0.5h0.7m-0.7 0.5h0.7m3.3 0h0.7m3.8 0.5h0.7m-8.2 0.5h0.7m-2.7 0.5h0.7m9.8 1.5h0.7m-8.2 0.5h0.7m11.3 0.5h0.7m-13.7 0.5h0.7m0.3 0h0.7m2.8 0h0.7m0.3 0h0.7m-6.7 0.5h0.7m7.3 0h0.7m5.3 0h0.7m-7.7 0.5h0.7m3.3 0.5h0.7m2.3 0h0.7m-4.2 0.5h0.7m2.8 0.5h0.7m-12.2 1.5h0.7m7.3 0h0.7m-5.2 0.5h0.7m5.8 0h0.7m0.3 1h0.7m-6.7 1h0.7m3.3 0h0.7m-15.2 2.5h0.7m7.3 0.5h0.7m-1.2 1h0.7m5.8 0h0.7m-0.2 0h0.7m-14.7 0.5h0.7m13.8 0h0.7m-11.2 0.5h0.7m10.3 0h0.7m-11.7 1h0.7m2.8 0h0.7m0.3 0.5h0.7m6.3 0h0.7m-10.2 0.5h0.7m-7.7 0.5h0.7m2.3 0h0.7m12.3 0h0.7m-15.2 0.5h0.7m10.8 0.5h0.7m-13.2 1h0.7m1.3 0h0.7m-3.2 0.5h0.7m4.8 0h0.7m10.8 0.5h0.7m-3.2 1h0.7m1.3 0h0.7m-13.2 0.5h0.7m3.3 0h0.7m-3.2 0.5h0.7m-0.2 0h0.7m2.8 0h0.7m-8.7 0.5h0.7m2.3 0.5h0.7m10.3 0h0.7m-14.7 1h0.7m6.3 0h0.7m-0.2 0h0.7m3.8 2h0.7m-5.7 1h0.7m-0.7 0.5h0.7m5.8 0h0.7m1.3 0h0.7m-10.2 0.5h0.7m3.8 1h0.7m1.3 0h0.7m-14.2 1.5h0.7m-0.2 1.5h0.7m-0.2 0h0.7m6.8 0h0.7m7.8 1h0.7m-3.7 0.5h0.7m-6.2 1.5h0.7m-5.7 0.5h0.7m8.3 0h0.7m-0.2 0h0.7m1.3 1.5h0.7m-12.2 2h0.7m8.8 1h0.7m-9.7 0.5h0.7m-0.2 0h0.7m1.8 0h0.7m5.8 0.5h0.7m1.3 0h0.7m-15.2 0.5h0.7m4.8 1h0.7m-5.2 0.5h0.7m-2.7 0.5h0.7m2.8 1h0.7m-0.2 0h0.7m-4.7 1h0.7m16.3 0h0.7m-6.7 0.5h0.7m-8.2 0.5h0.7m7.8 0.5h0.7m4.3 0h0.7m-8.7 0.5h0.7m-5.7 1h0.7m3.3 0.5h0.7m0.8 0h0.7m6.3 0h0.7m-17.7 0.5h0.7m0.8 0.5h0.7m2.3 0h0.7m10.8 0h0.7m-12.7 0.5h0.7m0.3 0.5h0.7m1.3 0.5h0.7m0.3 0.5h0.7m-8.7 1h0.7m13.8 1h0.7m-0.7 0h0.7m-10.7 0.5h0.7m-5.2 0.5h0.7m5.3 0.5h0.7m-4.7 0.5h0.7m7.3 1h0.7m-9.7 0.5h0.7m3.8 0h0.7m5.3 0h0.7m-3.2 0.5h0.7m-0.2 1.5h0.7m2.8 0h0.7m3.8 0h0.7m-1.2 0.5h0.7m-2.7 0.5h0.7m-14.7 0.5h0.7m4.8 0h0.7m-5.2 1.5h0.7m-0.2 1h0.7m6.3 0h0.7m0.8 1h0.7m-8.7 1h0.7m-0.2 0h0.7m0.3 0h0.7m5.8 0.5h0.7m2.8 0h0.7m-2.2 0.5h0.7m2.8 0h0.7m-7.7 2h0.7m0.8 0h0.7m2.3 0h0.7m1.3 0h0.7m-0.2 0h0.7m-8.2 0.5h0.7m-2.2 1h0.7m3.3 0h0.7m-2.2 0.5h0.7m1.8 0.5h0.7m-11.7 1h0.7m0.3 0h0.7m3.3 0.5h0.7" stroke="#222" stroke-width="0.7" stroke-opacity="0.55" fill="none"/>
<line x1="141.20" y1="767.80" x2="141.20" y2="819.30" stroke="#bdbdbd" stroke-width="1.1"/>
<polygon points="141.2,804.7 141.4,804.9 141.5,805.2 141.7,805.5 141.9,805.8 142.2,806.2 142.6,806.6 143.1,807.0 143.8,807.3 144.6,807.6 145.7,807.9 146.9,808.3 148.1,808.6 149.4,808.9 150.7,809.2 151.9,809.6 152.9,809.9 153.9,810.3 154.8,810.6 155.8,811.0 156.7,811.4 157.5,811.8 158.1,812.2 158.5,812.5 158.7,812.9 158.6,813.2 158.2,813.6 157.6,813.9 156.9,814.2 156.0,814.6 155.2,814.9 154.4,815.2 153.7,815.5 153.1,815.8 152.5,816.1 151.9,816.4 151.4,816.7 150.8,816.9 150.1,817.2 149.4,817.5 148.7,817.7 147.8,817.9 146.8,818.2 145.7,818.4 144.6,818.6 143.6,818.8 142.6,818.9 141.8,819.1 141.2,819.2 141.2,819.2 140.6,819.1 139.8,818.9 138.8,818.8 137.8,818.6 136.7,818.4 135.6,818.2 134.6,817.9 133.7,817.7 133.0,817.5 132.3,817.2 131.6,816.9 131.0,816.7 130.5,816.4 129.9,816.1 129.3,815.8 128.7,815.5 128.0,815.2 127.2,814.9 126.4,814.6 125.5,814.2 124.8,813.9 124.2,813.6 123.8,813.2 123.7,812.9 123.9,812.5 124.3,812.2 124.9,811.8 125.7,811.4 126.6,811.0 127.6,810.6 128.5,810.3 129.5,809.9 130.5,809.6 131.7,809.2 133.0,808.9 134.2,808.6 135.5,808.3 136.7,807.9 137.8,807.6 138.6,807.3 139.3,807.0 139.8,806.6 140.2,806.2 140.5,805.8 140.7,805.5 140.9,805.2 141.0,804.9 141.2,804.7" fill="#e1b928" stroke="#2b2b2b" stroke-width="0.6"/>
<line x1="123.70" y1="812.90" x2="158.70" y2="812.90" stroke="#2b2b2b" stroke-width="0.6"/>
<defs><linearGradient id="jg1412_807" x1="0" y1="0" x2="0" y2="1"><stop offset="0.000" stop-color="#000" stop-opacity="0.00"/><stop offset="0.043" stop-color="#000" stop-opacity="0.04"/><stop offset="0.087" stop-color="#000" stop-opacity="0.08"/><stop offset="0.130" stop-color="#000" stop-opacity="0.13"/><stop offset="0.174" stop-color="#000" stop-opacity="0.23"/><stop offset="0.217" stop-color="#000" stop-opacity="0.39"/><stop offset="0.261" stop-color="#000" stop-opacity="0.61"/><stop offset="0.304" stop-color="#000" stop-opacity="0.84"/><stop offset="0.348" stop-color="#000" stop-opacity="0.90"/><stop offset="0.391" stop-color="#000" stop-opacity="0.90"/><stop offset="0.435" stop-color="#000" stop-opacity="0.90"/><stop offset="0.478" stop-color="#000" stop-opacity="0.90"/><stop offset="0.522" stop-color="#000" stop-opacity="0.90"/><stop offset="0.565" stop-color="#000" stop-opacity="0.90"/><stop offset="0.609" stop-color="#000" stop-opacity="0.90"/><stop offset="0.652" stop-color="#000" stop-opacity="0.90"/><stop offset="0.696" stop-color="#000" stop-opacity="0.90"/><stop offset="0.739" stop-color="#000" stop-opacity="0.90"/><stop offset="0.783" stop-color="#000" stop-opacity="0.90"/><stop offset="0.826" stop-color="#000" stop-opacity="0.90"/><stop offset="0.870" stop-color="#000" stop-opacity="0.80"/><stop offset="0.913" stop-color="#000" stop-opacity="0.61"/><stop offset="0.957" stop-color="#000" stop-opacity="0.33"/><stop offset="1.000" stop-color="#000" stop-opacity="0.00"/></linearGradient></defs>
<rect x="133.2" y="804.7" width="16.0" height="14.5" fill="url(#jg1412_807)"/>
<path d="M147 806.5h0.9m-7.4 0.5h0.9m2.1 0h0.9m-6.9 0.5h0.9m-0.9 0h0.9m6.1 0h0.9m-0.4 0.5h0.9m2.1 0h0.9m-12.4 0.5h0.9m5.1 0h0.9m-0.4 0h0.9m-0.4 0h0.9m1.6 0h0.9m-12.9 0.5h0.9m-0.4 0h0.9m2.1 0h0.9m-0.4 0h0.9m2.1 0h0.9m0.6 0h0.9m3.6 0h0.9m1.1 0h0.9m-15.9 0.5h0.9m1.1 0h0.9m3.6 0h0.9m-0.9 0h0.9m-0.4 0h0.9m0.1 0h0.9m4.6 0h0.9m-0.4 0h0.9m-13.9 0.5h0.9m1.1 0h0.9m-0.4 0h0.9m-0.4 0h0.9m1.1 0h0.9m3.6 0h0.9m2.6 0h0.9m-15.4 0.5h0.9m0.6 0h0.9m0.1 0h0.9m-0.9 0h0.9m2.6 0h0.9m1.1 0h0.9m-0.9 0h0.9m1.6 0h0.9m1.1 0h0.9m-13.4 0.5h0.9m2.1 0h0.9m4.6 0h0.9m1.6 0h0.9m-0.4 0h0.9m-0.4 0h0.9m2.1 0h0.9m-0.9 0h0.9m-15.4 0.5h0.9m1.1 0h0.9m1.1 0h0.9m2.1 0h0.9m2.1 0h0.9m0.1 0h0.9m0.1 0h0.9m1.1 0h0.9m-0.4 0h0.9m-14.9 0.5h0.9m1.6 0h0.9m3.6 0h0.9m0.1 0h0.9m2.6 0h0.9m1.1 0h0.9m-12.9 0.5h0.9m0.1 0h0.9m-0.4 0h0.9m-0.9 0h0.9m5.6 0h0.9m-0.9 0h0.9m3.1 0h0.9m-0.4 0h0.9m-15.9 0.5h0.9m1.6 0h0.9m0.6 0h0.9m-0.4 0h0.9m0.1 0h0.9m0.6 0h0.9m4.1 0h0.9m0.1 0h0.9m-0.9 0h0.9m-0.4 0h0.9m-13.9 0.5h0.9m4.6 0h0.9m3.1 0h0.9m1.1 0h0.9m1.1 0h0.9m0.6 0h0.9m-16.4 0.5h0.9m-0.4 0h0.9m5.6 0h0.9m4.1 0h0.9m0.1 0h0.9m-0.4 0h0.9m1.1 0h0.9m-14.9 0.5h0.9m0.1 0h0.9m0.1 0h0.9m0.6 0h0.9m3.1 0h0.9m5.1 0h0.9m-8.4 0.5h0.9m-0.9 0h0.9m0.6 0h0.9m-0.4 0h0.9m1.6 0h0.9m-0.4 0h0.9m0.6 0h0.9m-0.4 0h0.9m-14.9 0.5h0.9m0.6 0h0.9m-0.4 0h0.9m3.6 0h0.9m1.6 0h0.9m-0.9 0h0.9m-0.4 0h0.9m0.1 0h0.9m0.6 0h0.9m0.1 0h0.9m0.1 0h0.9m-12.4 0.5h0.9m2.1 0h0.9m4.1 0h0.9m-0.4 0h0.9m-12.4 0.5h0.9m-0.4 0h0.9m-0.4 0h0.9m3.6 0h0.9m-0.4 0h0.9m2.1 0h0.9m0.1 0h0.9m3.1 0h0.9m-6.4 0.5h0.9m4.6 0h0.9m-13.4 0.5h0.9m1.1 0h0.9m1.6 0h0.9m1.1 0h0.9m3.1 0h0.9m1.6 0h0.9m-15.9 0.5h0.9m1.6 0h0.9m0.1 0h0.9m10.6 0h0.9m-12.4 0.5h0.9m5.1 0h0.9" stroke="#000" stroke-width="0.9" stroke-opacity="0.75" fill="none"/>
<path d="M148 795h0.7m-7.7 0.5h0.7m-4.2 1h0.7m8.8 0h0.7m-5.7 1h0.7m4.3 0h0.7m0.8 0h0.7m-13.2 0.5h0.7m-0.2 0h0.7m8.3 0h0.7m-12.2 0.5h0.7m5.8 0h0.7m7.3 0h0.7m-8.7 0.5h0.7m-7.7 0.5h0.7m0.8 1h0.7m0.8 0.5h0.7m8.3 0.5h0.7m-0.7 0.5h0.7m-11.2 0.5h0.7m0.3 0h0.7m8.8 0h0.7m-9.2 1h0.7m7.8 0h0.7m2.8 0h0.7m-13.7 1.5h0.7m-2.2 0.5h0.7m7.8 0h0.7m-0.2 0h0.7m-0.2 0.5h0.7" stroke="#222" stroke-width="0.7" stroke-opacity="0.55" fill="none"/>
<line x1="179.90" y1="700.40" x2="179.90" y2="806.50" stroke="#bdbdbd" stroke-width="1.1"/>
<polygon points="179.9,722.5 180.1,722.8 180.5,723.2 180.8,723.7 181.2,724.3 181.7,724.9 182.2,725.5 182.7,726.1 183.3,726.6 183.9,727.1 184.6,727.6 185.4,728.1 186.2,728.6 187.0,729.1 187.8,729.6 188.6,730.1 189.3,730.6 190.0,731.2 190.7,731.7 191.3,732.3 192.0,732.9 192.6,733.5 193.2,734.1 193.8,734.7 194.3,735.3 194.8,735.9 195.3,736.5 195.9,737.1 196.3,737.6 196.7,738.2 197.1,738.8 197.3,739.4 197.4,740.0 197.4,740.6 197.2,741.2 196.9,741.7 196.5,742.3 196.1,742.9 195.7,743.5 195.2,744.1 194.7,744.7 194.2,745.3 193.6,746.0 193.0,746.7 192.4,747.4 191.7,748.0 191.1,748.7 190.5,749.4 189.9,750.1 189.4,750.8 188.9,751.4 188.4,752.1 187.9,752.7 187.5,753.4 187.1,754.1 186.7,754.8 186.3,755.5 186.0,756.3 185.7,757.1 185.4,757.9 185.2,758.7 184.9,759.5 184.7,760.4 184.5,761.3 184.3,762.2 184.1,763.1 183.9,764.0 183.7,765.0 183.5,765.9 183.4,766.9 183.2,768.0 183.1,769.1 182.9,770.2 182.8,771.4 182.6,772.7 182.5,774.0 182.4,775.4 182.3,776.8 182.1,778.2 182.0,779.6 181.9,781.0 181.8,782.4 181.7,783.8 181.5,785.2 181.4,786.6 181.3,788.0 181.2,789.3 181.0,790.6 180.9,791.7 180.8,792.8 180.6,793.8 180.5,794.8 180.3,795.7 180.2,796.6 180.1,797.3 180.0,797.9 179.9,798.4 179.9,798.4 179.8,797.9 179.7,797.3 179.6,796.6 179.5,795.7 179.3,794.8 179.2,793.8 179.0,792.8 178.9,791.7 178.8,790.6 178.7,789.3 178.5,788.0 178.4,786.6 178.3,785.2 178.2,783.8 178.0,782.4 177.9,781.0 177.8,779.6 177.7,778.2 177.5,776.8 177.4,775.4 177.3,774.0 177.2,772.7 177.0,771.4 176.9,770.2 176.7,769.1 176.6,768.0 176.4,766.9 176.3,765.9 176.1,765.0 175.9,764.0 175.7,763.1 175.5,762.2 175.3,761.3 175.1,760.4 174.9,759.5 174.6,758.7 174.4,757.9 174.1,757.1 173.8,756.3 173.5,755.5 173.1,754.8 172.7,754.1 172.3,753.4 171.9,752.7 171.4,752.1 170.9,751.4 170.4,750.8 169.9,750.1 169.3,749.4 168.7,748.7 168.1,748.0 167.4,747.4 166.8,746.7 166.2,746.0 165.6,745.3 165.1,744.7 164.6,744.1 164.1,743.5 163.7,742.9 163.3,742.3 162.9,741.7 162.6,741.2 162.4,740.6 162.4,740.0 162.5,739.4 162.7,738.8 163.1,738.2 163.5,737.6 163.9,737.1 164.5,736.5 165.0,735.9 165.5,735.3 166.0,734.7 166.6,734.1 167.2,733.5 167.8,732.9 168.5,732.3 169.1,731.7 169.8,731.2 170.5,730.6 171.2,730.1 172.0,729.6 172.8,729.1 173.6,728.6 174.4,728.1 175.2,727.6 175.9,727.1 176.5,726.6 177.1,726.1 177.6,725.5 178.1,724.9 178.6,724.3 179.0,723.7 179.3,723.2 179.7,722.8 179.9,722.5" fill="#8cc33c" stroke="#2b2b2b" stroke-width="0.6"/>
<line x1="165.10" y1="744.70" x2="194.70" y2="744.70" stroke="#2b2b2b" stroke-width="0.6"/>
<defs><linearGradient id="jg1799_730" x1="0" y1="0" x2="0" y2="1"><stop offset="0.000" stop-color="#000" stop-opacity="0.00"/><stop offset="0.043" stop-color="#000" stop-opacity="0.17"/><stop offset="0.087" stop-color="#000" stop-opacity="0.48"/><stop offset="0.130" stop-color="#000" stop-opacity="0.65"/><stop offset="0.174" stop-color="#000" stop-opacity="0.65"/><stop offset="0.217" stop-color="#000" stop-opacity="0.65"/><stop offset="0.261" stop-color="#000" stop-opacity="0.65"/><stop offset="0.304" stop-color="#000" stop-opacity="0.65"/><stop offset="0.348" stop-color="#000" stop-opacity="0.65"/><stop offset="0.391" stop-color="#000" stop-opacity="0.56"/><stop offset="0.435" stop-color="#000" stop-opacity="0.43"/><stop offset="0.478" stop-color="#000" stop-opacity="0.35"/><stop offset="0.522" stop-color="#000" stop-opacity="0.30"/><stop offset="0.565" stop-color="#000" stop-opacity="0.25"/><stop offset="0.609" stop-color="#000" stop-opacity="0.21"/><stop offset="0.652" stop-color="#000" stop-opacity="0.19"/><stop offset="0.696" stop-color="#000" stop-opacity="0.17"/><stop offset="0.739" stop-color="#000" stop-opacity="0.15"/><stop offset="0.783" stop-color="#000" stop-opacity="0.13"/><stop offset="0.826" stop-color="#000" stop-opacity="0.11"/><stop offset="0.870" stop-color="#000" stop-opacity="0.09"/><stop offset="0.913" stop-color="#000" stop-opacity="0.07"/><stop offset="0.957" stop-color="#000" stop-opacity="0.04"/><stop offset="1.000" stop-color="#000" stop-opacity="0.00"/></linearGradient></defs>
<rect x="171.9" y="722.5" width="16.0" height="75.9" fill="url(#jg1799_730)"/>
<path d="M180 723.5h0.9m-1.9 2h0.9m-0.9 0h0.9m4.1 0h0.9m-0.9 0.5h0.9m1.1 0h0.9m-10.4 0.5h0.9m7.6 0h0.9m-8.9 0.5h0.9m9.1 0h0.9m-0.4 0h0.9m-7.9 0.5h0.9m-0.4 0h0.9m2.1 0h0.9m-10.9 0.5h0.9m3.1 0h0.9m3.1 0h0.9m1.1 0h0.9m2.6 0h0.9m-14.4 0.5h0.9m1.1 0h0.9m3.1 0h0.9m1.1 0h0.9m-3.4 0.5h0.9m1.1 0h0.9m4.1 0h0.9m-0.4 0h0.9m-0.9 0h0.9m-12.4 0.5h0.9m1.6 0h0.9m-6.9 0.5h0.9m2.6 0h0.9m3.6 0h0.9m2.1 0h0.9m-10.4 0.5h0.9m0.1 0h0.9m-0.9 0.5h0.9m3.6 0h0.9m-0.4 0h0.9m-0.4 0h0.9m2.1 0h0.9m1.6 0h0.9m0.6 0h0.9m-14.4 0.5h0.9m7.6 0h0.9m0.1 0h0.9m-0.4 0h0.9m-0.4 0h0.9m-0.4 0h0.9m-9.4 0.5h0.9m3.1 0h0.9m5.1 0h0.9m-0.4 0h0.9m-13.9 1h0.9m8.6 0h0.9m2.6 0h0.9m-12.9 0.5h0.9m0.1 0h0.9m-0.4 0h0.9m-0.9 0h0.9m0.1 0h0.9m1.6 0h0.9m1.6 0h0.9m1.1 0h0.9m2.1 0h0.9m-15.9 0.5h0.9m0.1 0h0.9m-0.4 0h0.9m0.6 0h0.9m8.6 0h0.9m-12.4 0.5h0.9m4.6 0h0.9m-0.9 0h0.9m3.6 0h0.9m0.6 0h0.9m-10.4 0.5h0.9m-0.9 0h0.9m3.6 0h0.9m0.1 0h0.9m0.1 0h0.9m1.6 0h0.9m1.6 0h0.9m-10.4 0.5h0.9m1.6 0h0.9m3.1 0h0.9m-0.9 0h0.9m2.6 0h0.9m-9.9 0.5h0.9m-0.4 0h0.9m1.1 0h0.9m4.1 0h0.9m-0.9 0h0.9m0.1 0h0.9m-0.4 0h0.9m-15.4 0.5h0.9m0.6 0h0.9m0.1 0h0.9m-0.4 0h0.9m1.1 0h0.9m4.6 0h0.9m0.6 0h0.9m1.1 0h0.9m0.6 0h0.9m-14.9 0.5h0.9m3.6 0h0.9m0.1 0h0.9m2.6 0h0.9m0.1 0h0.9m0.1 0h0.9m-11.4 0.5h0.9m1.6 0h0.9m4.6 0h0.9m4.6 0h0.9m-15.9 0.5h0.9m-0.9 0h0.9m1.1 0h0.9m1.1 0h0.9m3.1 0h0.9m0.6 0h0.9m3.1 0h0.9m-0.4 0h0.9m-14.4 0.5h0.9m-0.9 0h0.9m6.1 0h0.9m-0.9 0h0.9m3.1 0h0.9m-5.4 0.5h0.9m0.1 0h0.9m3.6 0h0.9m-8.9 0.5h0.9m-0.4 0h0.9m4.1 0h0.9m3.6 0h0.9m-16.4 0.5h0.9m0.6 0h0.9m4.1 0h0.9m-0.9 0h0.9m4.6 0h0.9m1.6 0h0.9m-12.4 0.5h0.9m-0.9 0h0.9m2.1 0h0.9m1.1 0h0.9m5.6 0h0.9m-15.4 0.5h0.9m2.1 0h0.9m1.6 0h0.9m8.1 0h0.9m0.1 0h0.9m-12.4 0.5h0.9m0.6 0h0.9m0.6 0h0.9m-0.9 0h0.9m0.1 0h0.9m-0.9 0h0.9m2.1 0h0.9m-0.4 0h0.9m1.6 0h0.9m-0.4 0h0.9m0.1 0h0.9m-14.9 0.5h0.9m4.1 0h0.9m0.6 0h0.9m-0.4 0h0.9m0.6 0h0.9m2.1 0h0.9m1.1 0h0.9m-0.4 0h0.9m-15.4 0.5h0.9m2.1 0h0.9m8.1 0h0.9m-12.9 0.5h0.9m0.6 0h0.9m-0.4 0h0.9m-0.9 0h0.9m-0.4 0h0.9m2.1 0h0.9m0.6 0h0.9m3.6 0h0.9m1.6 0h0.9m-0.4 0h0.9m-15.9 0.5h0.9m6.1 0h0.9m-0.4 0h0.9m2.6 0h0.9m0.6 0h0.9m-12.4 0.5h0.9m-0.4 0h0.9m-0.4 0h0.9m0.1 0h0.9m0.1 0h0.9m0.1 0h0.9m2.6 0h0.9m0.1 0h0.9m0.6 0h0.9m-0.9 0h0.9m0.6 0h0.9m0.6 0h0.9m-13.4 0.5h0.9m2.6 0h0.9m2.1 0h0.9m0.1 0h0.9m0.6 0h0.9m1.1 0h0.9m-11.4 0.5h0.9m0.6 0h0.9m1.1 0h0.9m0.1 0h0.9m0.1 0h0.9m-0.4 0h0.9m4.1 0h0.9m-0.9 0h0.9m-0.4 0h0.9m-13.9 0.5h0.9m7.1 0h0.9m0.6 0h0.9m3.1 0h0.9m-15.4 0.5h0.9m1.6 0h0.9m-0.9 0h0.9m8.6 0h0.9m-12.4 0.5h0.9m6.6 0h0.9m-4.4 0.5h0.9m4.1 0h0.9m-4.9 0.5h0.9m0.6 0h0.9m0.1 0h0.9m0.6 0h0.9m0.6 0h0.9m2.1 0h0.9m-13.4 0.5h0.9m11.1 0h0.9m-3.9 0.5h0.9m0.1 0h0.9m2.1 0h0.9m-0.4 0h0.9m-15.4 0.5h0.9m4.1 0h0.9m0.6 0h0.9m0.1 0h0.9m1.1 0h0.9m0.1 0h0.9m0.6 0h0.9m-11.4 0.5h0.9m3.1 0h0.9m0.6 0h0.9m1.6 0h0.9m1.1 0h0.9m1.6 0h0.9m0.1 0h0.9m-12.9 0.5h0.9m2.1 0h0.9m1.6 0h0.9m-9.9 0.5h0.9m2.1 0h0.9m3.6 0h0.9m1.1 0.5h0.9m1.1 0h0.9m3.6 0h0.9m-14.9 0.5h0.9m0.1 0h0.9m6.1 0h0.9m-0.9 0h0.9m1.6 0h0.9m1.1 0h0.9m-13.9 0.5h0.9m0.6 0h0.9m-0.4 0.5h0.9m2.1 0h0.9m1.6 0h0.9m0.1 0h0.9m1.1 0h0.9m-12.4 0.5h0.9m4.6 0h0.9m-0.4 0h0.9m2.6 0h0.9m-9.9 0.5h0.9m1.6 0h0.9m4.1 0h0.9m1.6 0.5h0.9m0.1 0.5h0.9m3.1 0h0.9m-12.9 1.5h0.9m-4.4 0.5h0.9m1.1 0h0.9m0.6 0h0.9m1.1 0h0.9m-4.4 0.5h0.9m1.6 0h0.9m1.6 0.5h0.9m-2.9 1h0.9m6.1 0h0.9m-11.4 0.5h0.9m0.1 0h0.9m7.1 0.5h0.9m-9.4 0.5h0.9m1.6 0h0.9m0.6 0h0.9m2.1 0h0.9m1.1 0h0.9m-7.9 1.5h0.9m6.1 0.5h0.9m-11.4 0.5h0.9m-0.9 0h0.9m1.6 2h0.9m-0.9 0h0.9m3.1 2.5h0.9m3.6 0.5h0.9m1.1 1h0.9m-2.9 0.5h0.9m-5.4 1h0.9m-2.9 0.5h0.9m7.1 0h0.9m-0.4 1.5h0.9m-4.9 0.5h0.9m-10.4 0.5h0.9m0.1 0h0.9m11.6 0.5h0.9m-3.4 2.5h0.9m-9.4 1.5h0.9m3.6 1h0.9m6.6 1.5h0.9m-15.4 0.5h0.9m4.6 1.5h0.9m4.6 2.5h0.9m-5.9 1h0.9m-7.4 7h0.9m15.1 0h0.9m-14.9 0.5h0.9" stroke="#000" stroke-width="0.9" stroke-opacity="0.75" fill="none"/>
<path d="M179.5 727h0.7m-2.7 0.5h0.7m8.3 0h0.7m-14.2 0.5h0.7m0.8 0h0.7m-0.2 0h0.7m1.8 0h0.7m-0.7 0h0.7m4.3 0h0.7m-7.7 0.5h0.7m1.8 0.5h0.7m0.3 1h0.7m-0.2 0h0.7m7.8 0h0.7m-11.2 0.5h0.7m8.3 0h0.7m-12.7 0.5h0.7m0.8 0h0.7m2.8 0h0.7m5.8 0h0.7m0.3 0h0.7m-6.2 0.5h0.7m-8.2 0.5h0.7m0.3 0h0.7m-0.2 0h0.7m1.8 0h0.7m4.8 0h0.7m-0.2 0h0.7m-9.2 1h0.7m1.3 0h0.7m4.3 0h0.7m-9.2 0.5h0.7m-1.7 0.5h0.7m8.3 0h0.7m0.8 0h0.7m2.8 0h0.7m-2.7 0.5h0.7m1.3 0h0.7m-13.2 1h0.7m3.3 0h0.7m1.3 0h0.7m-9.2 1h0.7m3.8 0h0.7m4.8 0h0.7m5.3 0h0.7m-9.7 0.5h0.7m0.8 0.5h0.7m0.3 0h0.7m-1.7 0.5h0.7m-9.2 0.5h0.7m4.8 0h0.7m2.8 0h0.7m0.3 0h0.7m-0.2 0.5h0.7m-5.2 0.5h0.7m-2.7 0.5h0.7m3.8 0h0.7m1.3 0h0.7m-0.7 0h0.7m2.3 0h0.7m-12.7 0.5h0.7m0.8 0h0.7m4.3 0h0.7m-4.7 0.5h0.7m4.3 0h0.7m4.8 0h0.7m-5.7 0.5h0.7m0.3 0h0.7m3.3 0.5h0.7m-0.2 0h0.7m-0.2 0h0.7m-12.7 0.5h0.7m-3.7 1h0.7m10.8 0h0.7m-0.2 0h0.7m2.8 0h0.7m-15.7 0.5h0.7m7.8 0h0.7m5.8 0.5h0.7m-13.2 0.5h0.7m1.3 0.5h0.7m-0.2 0h0.7m5.8 0h0.7m-1.7 0.5h0.7m-12.2 0.5h0.7m2.8 0h0.7m2.3 0h0.7m7.8 0h0.7m0.3 0h0.7m-12.7 0.5h0.7m3.8 0h0.7m3.3 0h0.7m-12.2 0.5h0.7m-0.2 0h0.7m0.8 0h0.7m3.3 0h0.7m7.3 0h0.7m-14.7 0.5h0.7m5.3 0h0.7m7.8 0h0.7m-8.7 0.5h0.7m7.3 0h0.7m-14.2 0.5h0.7m4.3 0h0.7m-4.2 0.5h0.7m0.3 0h0.7m4.8 0h0.7m-0.2 0h0.7m1.8 0h0.7m-11.2 3h0.7m0.8 0h0.7m-4.7 0.5h0.7m1.3 0h0.7m6.3 0.5h0.7m1.8 0h0.7m0.3 0h0.7m0.3 0h0.7m-12.2 1h0.7m3.3 0h0.7m6.3 0h0.7m-7.2 0.5h0.7m2.8 0h0.7m-11.2 0.5h0.7m15.3 0.5h0.7m-13.7 1h0.7m2.8 0.5h0.7m3.3 0h0.7m2.3 1h0.7m-10.2 0.5h0.7m4.3 0h0.7m6.8 0h0.7m-12.7 1h0.7m4.3 0.5h0.7m0.8 0.5h0.7m0.3 0h0.7m1.3 0h0.7m-1.2 0.5h0.7m-7.2 1h0.7m2.3 0h0.7m1.8 0h0.7m-11.2 0.5h0.7m0.8 0h0.7m7.8 0h0.7m-2.2 0.5h0.7m2.8 0h0.7m-0.2 0h0.7m-7.7 0.5h0.7m-2.2 0.5h0.7m-3.2 0.5h0.7m-3.2 0.5h0.7m-0.2 0h0.7m0.3 0h0.7m11.3 0h0.7m-9.7 0.5h0.7m0.8 0.5h0.7m4.3 0h0.7m-3.2 1h0.7m-4.2 0.5h0.7m5.3 0h0.7m3.3 0h0.7m-0.2 0h0.7m-14.7 0.5h0.7m2.8 0.5h0.7m6.3 0h0.7m0.8 0h0.7m-0.2 0h0.7m-14.2 0.5h0.7m4.3 0h0.7m4.3 0.5h0.7m1.3 0h0.7m1.3 0h0.7m-15.7 0.5h0.7m6.8 0h0.7m3.3 0h0.7m-10.7 0.5h0.7m0.8 0h0.7m3.3 0h0.7m5.3 0h0.7m1.3 1.5h0.7m0.3 0h0.7m-12.2 1h0.7m-0.2 0h0.7m-0.7 0h0.7m8.8 0h0.7m-13.2 0.5h0.7m-2.2 0.5h0.7m7.3 0h0.7m-7.7 0.5h0.7m1.3 0.5h0.7m8.3 0.5h0.7m-13.7 1h0.7m15.3 0.5h0.7m-11.7 1h0.7m6.3 0h0.7m-9.7 0.5h0.7m4.8 0h0.7m-3.7 0.5h0.7m6.8 0h0.7m0.8 0h0.7m-0.2 0.5h0.7m-10.2 0.5h0.7m5.3 0.5h0.7m2.3 0h0.7m-11.2 0.5h0.7m5.3 0h0.7m1.3 0h0.7m2.3 0h0.7m-14.2 0.5h0.7m6.3 0h0.7m-0.2 0h0.7m-7.2 0.5h0.7m6.3 0h0.7m0.8 0h0.7m-10.2 0.5h0.7m5.8 0h0.7m0.3 0h0.7m0.8 0h0.7m4.3 0h0.7m-14.2 0.5h0.7m4.8 0h0.7m0.8 0h0.7m-0.2 0h0.7m6.3 0h0.7m-16.2 0.5h0.7m7.3 0h0.7m-5.7 1h0.7m-2.7 0.5h0.7m4.8 0.5h0.7m1.3 0h0.7m1.8 0h0.7m-0.7 0h0.7m-1.2 0.5h0.7m-1.7 0.5h0.7m3.3 0h0.7m-4.2 0.5h0.7m1.8 0h0.7m1.8 0h0.7m-2.7 1h0.7m-9.2 0.5h0.7m-0.2 0h0.7m1.8 0h0.7m5.3 0h0.7m-6.2 0.5h0.7m0.3 0h0.7m2.8 0h0.7m-14.2 0.5h0.7m1.8 0h0.7m8.3 0h0.7m3.3 0.5h0.7m-8.7 0.5h0.7m3.3 0h0.7m-4.7 0.5h0.7m2.8 0h0.7m-11.7 0.5h0.7m3.3 0h0.7m2.8 0h0.7m-8.2 0.5h0.7m3.3 0h0.7m12.3 0h0.7m-12.7 0.5h0.7m3.3 0h0.7m-1.2 0.5h0.7m1.8 0h0.7m-10.7 1.5h0.7m6.3 0h0.7m1.3 0h0.7m1.8 0h0.7m-2.2 0.5h0.7m-3.7 0.5h0.7m1.8 0h0.7m-10.2 1h0.7m1.3 0h0.7m0.3 0h0.7m1.8 0h0.7m1.8 0h0.7m4.3 0h0.7m-9.2 0.5h0.7m1.3 0h0.7m-8.2 0.5h0.7m0.3 0.5h0.7" stroke="#222" stroke-width="0.7" stroke-opacity="0.55" fill="none"/>
<line x1="229.30" y1="756.50" x2="229.30" y2="819.30" stroke="#bdbdbd" stroke-width="1.1"/>
<polygon points="229.3,803.8 229.5,804.1 229.7,804.4 230.0,804.9 230.3,805.4 230.6,805.9 231.0,806.4 231.4,806.9 231.9,807.3 232.4,807.7 233.0,808.1 233.6,808.5 234.3,808.9 235.0,809.2 235.7,809.6 236.4,809.9 237.1,810.3 237.8,810.6 238.6,811.0 239.4,811.3 240.2,811.6 241.0,812.0 241.7,812.3 242.5,812.6 243.1,812.9 243.7,813.2 244.4,813.5 245.1,813.8 245.7,814.0 246.2,814.3 246.6,814.6 246.8,814.8 246.8,815.1 246.6,815.4 246.2,815.6 245.7,815.9 245.0,816.2 244.2,816.5 243.3,816.7 242.4,817.0 241.3,817.2 240.0,817.4 238.5,817.7 236.7,817.9 235.0,818.1 233.2,818.3 231.6,818.5 230.3,818.7 229.3,818.8 229.3,818.8 228.3,818.7 227.0,818.5 225.4,818.3 223.6,818.1 221.9,817.9 220.1,817.7 218.6,817.4 217.3,817.2 216.2,817.0 215.3,816.7 214.4,816.5 213.6,816.2 212.9,815.9 212.4,815.6 212.0,815.4 211.8,815.1 211.8,814.8 212.0,814.6 212.4,814.3 212.9,814.0 213.5,813.8 214.2,813.5 214.9,813.2 215.5,812.9 216.1,812.6 216.9,812.3 217.6,812.0 218.4,811.6 219.2,811.3 220.0,811.0 220.8,810.6 221.5,810.3 222.2,809.9 222.9,809.6 223.6,809.2 224.3,808.9 225.0,808.5 225.6,808.1 226.2,807.7 226.7,807.3 227.2,806.9 227.6,806.4 228.0,805.9 228.3,805.4 228.6,804.9 228.9,804.4 229.1,804.1 229.3,803.8" fill="#3caf46" stroke="#2b2b2b" stroke-width="0.6"/>
<line x1="211.80" y1="815.10" x2="246.80" y2="815.10" stroke="#2b2b2b" stroke-width="0.6"/>
<defs><linearGradient id="jg2293_807" x1="0" y1="0" x2="0" y2="1"><stop offset="0.000" stop-color="#000" stop-opacity="0.00"/><stop offset="0.043" stop-color="#000" stop-opacity="0.04"/><stop offset="0.087" stop-color="#000" stop-opacity="0.07"/><stop offset="0.130" stop-color="#000" stop-opacity="0.11"/><stop offset="0.174" stop-color="#000" stop-opacity="0.15"/><stop offset="0.217" stop-color="#000" stop-opacity="0.20"/><stop offset="0.261" stop-color="#000" stop-opacity="0.27"/><stop offset="0.304" stop-color="#000" stop-opacity="0.36"/><stop offset="0.348" stop-color="#000" stop-opacity="0.46"/><stop offset="0.391" stop-color="#000" stop-opacity="0.57"/><stop offset="0.435" stop-color="#000" stop-opacity="0.69"/><stop offset="0.478" stop-color="#000" stop-opacity="0.81"/><stop offset="0.522" stop-color="#000" stop-opacity="0.85"/><stop offset="0.565" stop-color="#000" stop-opacity="0.85"/><stop offset="0.609" stop-color="#000" stop-opacity="0.85"/><stop offset="0.652" stop-color="#000" stop-opacity="0.85"/><stop offset="0.696" stop-color="#000" stop-opacity="0.85"/><stop offset="0.739" stop-color="#000" stop-opacity="0.85"/><stop offset="0.783" stop-color="#000" stop-opacity="0.85"/><stop offset="0.826" stop-color="#000" stop-opacity="0.85"/><stop offset="0.870" stop-color="#000" stop-opacity="0.85"/><stop offset="0.913" stop-color="#000" stop-opacity="0.85"/><stop offset="0.957" stop-color="#000" stop-opacity="0.48"/><stop offset="1.000" stop-color="#000" stop-opacity="0.00"/></linearGradient></defs>
<rect x="221.5" y="803.8" width="15.6" height="15.0" fill="url(#jg2293_807)"/>
<path d="M232.5 804.5h0.9m-0.9 2h0.9m-7.9 0.5h0.9m3.6 0.5h0.9m-1.4 1h0.9m-5.9 0.5h0.9m1.1 0h0.9m-5.9 0.5h0.9m0.1 1h0.9m1.6 0h0.9m-2.9 0.5h0.9m-0.4 0h0.9m-0.4 0h0.9m-2.4 0.5h0.9m0.6 0h0.9m4.1 0h0.9m-0.4 0h0.9m2.1 0h0.9m2.6 0h0.9m-0.9 0h0.9m-9.9 0.5h0.9m-0.4 0h0.9m0.6 0h0.9m1.1 0h0.9m-7.9 0.5h0.9m0.6 0h0.9m0.6 0h0.9m1.1 0h0.9m2.6 0h0.9m-8.4 0.5h0.9m1.1 0h0.9m-0.4 0h0.9m-0.9 0h0.9m-0.4 0h0.9m1.1 0h0.9m2.6 0h0.9m2.1 0h0.9m-0.9 0h0.9m-14.4 0.5h0.9m-0.9 0h0.9m-0.9 0h0.9m-0.4 0h0.9m1.1 0h0.9m2.6 0h0.9m-0.4 0h0.9m2.1 0h0.9m0.1 0h0.9m2.1 0h0.9m-13.4 0.5h0.9m-0.4 0h0.9m-0.4 0h0.9m-0.9 0h0.9m3.6 0h0.9m-0.4 0h0.9m0.6 0h0.9m-0.4 0h0.9m2.1 0h0.9m1.1 0h0.9m-16.4 0.5h0.9m-0.4 0h0.9m-0.4 0h0.9m-0.9 0h0.9m0.6 0h0.9m-0.4 0h0.9m1.1 0h0.9m-0.9 0h0.9m0.1 0h0.9m-0.9 0h0.9m-0.4 0h0.9m-0.4 0h0.9m-0.4 0h0.9m-0.4 0h0.9m3.1 0h0.9m1.6 0h0.9m-0.9 0h0.9m-15.4 0.5h0.9m2.1 0h0.9m-0.4 0h0.9m-0.9 0h0.9m-0.4 0h0.9m-0.4 0h0.9m3.6 0h0.9m-0.4 0h0.9m-0.4 0h0.9m-0.9 0h0.9m-0.4 0h0.9m0.1 0h0.9m1.1 0h0.9m1.1 0h0.9m-16.4 0.5h0.9m-0.4 0h0.9m-0.9 0h0.9m1.6 0h0.9m2.6 0h0.9m0.1 0h0.9m0.1 0h0.9m2.1 0h0.9m0.1 0h0.9m0.1 0h0.9m0.1 0h0.9m-14.9 0.5h0.9m1.6 0h0.9m-0.4 0h0.9m-0.9 0h0.9m-0.9 0h0.9m1.1 0h0.9m0.1 0h0.9m2.6 0h0.9m2.1 0h0.9m0.1 0h0.9m-13.4 0.5h0.9m1.1 0h0.9m0.1 0h0.9m-0.4 0h0.9m2.6 0h0.9m-0.4 0h0.9m1.1 0h0.9m-0.9 0h0.9m0.6 0h0.9m-0.4 0h0.9m-13.9 0.5h0.9m-0.4 0h0.9m3.6 0h0.9m-0.4 0h0.9m-0.4 0h0.9m2.6 0h0.9m2.1 0h0.9m-12.9 0.5h0.9m2.1 0h0.9m0.6 0h0.9m4.1 0h0.9m1.1 0h0.9m-9.9 0.5h0.9m0.1 0h0.9m3.1 0h0.9m0.1 0h0.9m1.1 0h0.9m0.6 0h0.9m2.1 0h0.9m-7.4 0.5h0.9" stroke="#000" stroke-width="0.9" stroke-opacity="0.75" fill="none"/>
<path d="M227.5 760h0.7m0.8 2.5h0.7m6.3 2.5h0.7m-6.2 2.5h0.7m0.3 0.5h0.7m-6.7 0.5h0.7m-5.2 1h0.7m7.8 1.5h0.7m-4.2 1h0.7m-2.2 1.5h0.7m8.8 3h0.7m0.3 1h0.7m-15.2 1h0.7m-0.2 3h0.7m0.8 0.5h0.7m0.3 0h0.7m-1.7 5h0.7m0.8 3.5h0.7m5.8 1h0.7m2.8 0h0.7m0.3 2h0.7m-2.7 0.5h0.7m3.3 0h0.7m-11.7 1.5h0.7m0.3 0h0.7m-6.2 0.5h0.7m3.8 1h0.7m3.3 1.5h0.7m-9.2 0.5h0.7m0.8 0.5h0.7m1.8 1.5h0.7m7.3 0h0.7m3.8 1.5h0.7m-15.7 2h0.7m6.3 0h0.7" stroke="#222" stroke-width="0.7" stroke-opacity="0.55" fill="none"/>
<line x1="306.60" y1="767.40" x2="306.60" y2="819.30" stroke="#bdbdbd" stroke-width="1.1"/>
<polygon points="306.6,777.3 306.7,777.6 306.8,778.1 306.9,778.6 307.0,779.2 307.2,779.9 307.3,780.5 307.5,781.1 307.6,781.6 307.7,782.1 307.9,782.5 308.0,783.0 308.1,783.4 308.2,783.8 308.4,784.3 308.6,784.7 308.8,785.1 309.0,785.5 309.3,785.9 309.6,786.3 309.9,786.7 310.2,787.2 310.6,787.6 311.0,788.0 311.4,788.5 311.9,789.0 312.4,789.5 313.0,790.1 313.6,790.6 314.3,791.2 314.9,791.8 315.5,792.3 316.1,792.9 316.7,793.4 317.2,793.9 317.8,794.4 318.3,794.9 318.8,795.5 319.4,796.0 319.9,796.6 320.4,797.2 320.9,797.9 321.6,798.6 322.2,799.4 322.8,800.2 323.3,801.0 323.8,801.8 324.0,802.6 324.1,803.3 323.9,804.0 323.6,804.7 323.1,805.3 322.4,806.0 321.7,806.6 321.0,807.2 320.3,807.8 319.6,808.4 318.9,809.0 318.2,809.6 317.5,810.1 316.8,810.7 316.1,811.3 315.3,811.8 314.7,812.3 314.0,812.8 313.4,813.3 312.8,813.7 312.2,814.2 311.6,814.6 311.1,815.0 310.6,815.4 310.1,815.8 309.6,816.2 309.1,816.6 308.7,817.1 308.2,817.5 307.8,818.0 307.4,818.4 307.1,818.8 306.8,819.1 306.6,819.3 306.6,819.3 306.4,819.1 306.1,818.8 305.8,818.4 305.4,818.0 305.0,817.5 304.5,817.1 304.1,816.6 303.6,816.2 303.1,815.8 302.6,815.4 302.1,815.0 301.6,814.6 301.0,814.2 300.4,813.7 299.8,813.3 299.2,812.8 298.5,812.3 297.9,811.8 297.1,811.3 296.4,810.7 295.7,810.1 295.0,809.6 294.3,809.0 293.6,808.4 292.9,807.8 292.2,807.2 291.5,806.6 290.8,806.0 290.1,805.3 289.6,804.7 289.3,804.0 289.1,803.3 289.2,802.6 289.4,801.8 289.9,801.0 290.4,800.2 291.0,799.4 291.6,798.6 292.3,797.9 292.8,797.2 293.3,796.6 293.8,796.0 294.4,795.5 294.9,794.9 295.4,794.4 296.0,793.9 296.5,793.4 297.1,792.9 297.7,792.3 298.3,791.8 298.9,791.2 299.6,790.6 300.2,790.1 300.8,789.5 301.3,789.0 301.8,788.5 302.2,788.0 302.6,787.6 303.0,787.2 303.3,786.7 303.6,786.3 303.9,785.9 304.2,785.5 304.4,785.1 304.6,784.7 304.8,784.3 305.0,783.8 305.1,783.4 305.2,783.0 305.3,782.5 305.5,782.1 305.6,781.6 305.7,781.1 305.9,780.5 306.0,779.9 306.2,779.2 306.3,778.6 306.4,778.1 306.5,777.6 306.6,777.3" fill="#2db4a5" stroke="#2b2b2b" stroke-width="0.6"/>
<line x1="289.10" y1="803.30" x2="324.10" y2="803.30" stroke="#2b2b2b" stroke-width="0.6"/>
<defs><linearGradient id="jg3066_791" x1="0" y1="0" x2="0" y2="1"><stop offset="0.000" stop-color="#000" stop-opacity="0.00"/><stop offset="0.043" stop-color="#000" stop-opacity="0.03"/><stop offset="0.087" stop-color="#000" stop-opacity="0.06"/><stop offset="0.130" stop-color="#000" stop-opacity="0.09"/><stop offset="0.174" stop-color="#000" stop-opacity="0.13"/><stop offset="0.217" stop-color="#000" stop-opacity="0.20"/><stop offset="0.261" stop-color="#000" stop-opacity="0.31"/><stop offset="0.304" stop-color="#000" stop-opacity="0.43"/><stop offset="0.348" stop-color="#000" stop-opacity="0.56"/><stop offset="0.391" stop-color="#000" stop-opacity="0.65"/><stop offset="0.435" stop-color="#000" stop-opacity="0.65"/><stop offset="0.478" stop-color="#000" stop-opacity="0.65"/><stop offset="0.522" stop-color="#000" stop-opacity="0.65"/><stop offset="0.565" stop-color="#000" stop-opacity="0.65"/><stop offset="0.609" stop-color="#000" stop-opacity="0.65"/><stop offset="0.652" stop-color="#000" stop-opacity="0.65"/><stop offset="0.696" stop-color="#000" stop-opacity="0.65"/><stop offset="0.739" stop-color="#000" stop-opacity="0.65"/><stop offset="0.783" stop-color="#000" stop-opacity="0.65"/><stop offset="0.826" stop-color="#000" stop-opacity="0.57"/><stop offset="0.870" stop-color="#000" stop-opacity="0.40"/><stop offset="0.913" stop-color="#000" stop-opacity="0.24"/><stop offset="0.957" stop-color="#000" stop-opacity="0.11"/><stop offset="1.000" stop-color="#000" stop-opacity="0.00"/></linearGradient></defs>
<rect x="299.0" y="777.3" width="15.2" height="42.0" fill="url(#jg3066_791)"/>
<path d="M304 780h0.9m-5.4 2.5h0.9m10.6 0h0.9m-11.9 0.5h0.9m3.1 0h0.9m-5.4 1h0.9m7.6 0h0.9m3.6 0h0.9m-8.4 0.5h0.9m-5.9 1.5h0.9m3.6 0h0.9m6.1 0.5h0.9m-9.9 0.5h0.9m7.6 0h0.9m-11.4 0.5h0.9m4.6 0h0.9m4.1 0h0.9m-12.9 0.5h0.9m11.1 0h0.9m-0.4 0h0.9m0.1 0h0.9m0.6 0h0.9m-9.9 1h0.9m1.6 0h0.9m-0.9 0h0.9m1.6 0h0.9m1.1 0h0.9m0.1 0h0.9m0.1 0h0.9m-0.9 0h0.9m-9.4 0.5h0.9m-4.4 0.5h0.9m10.6 0h0.9m-15.4 0.5h0.9m7.6 0h0.9m-8.4 0.5h0.9m1.6 0h0.9m7.6 0h0.9m-3.9 0.5h0.9m-0.4 0h0.9m1.6 0h0.9m0.6 0h0.9m-0.4 0h0.9m-10.9 0.5h0.9m1.1 0h0.9m1.6 0h0.9m0.6 0h0.9m0.1 0h0.9m-5.9 0.5h0.9m0.6 0h0.9m-0.4 0h0.9m0.1 0h0.9m-4.9 0.5h0.9m-0.9 0h0.9m6.6 0h0.9m-12.9 0.5h0.9m1.1 0h0.9m0.6 0h0.9m0.6 0h0.9m0.6 0h0.9m4.6 0h0.9m1.1 0h0.9m-14.4 0.5h0.9m6.1 0h0.9m1.1 0h0.9m0.1 0h0.9m3.1 0h0.9m-14.9 0.5h0.9m5.1 0h0.9m1.1 0h0.9m2.1 0h0.9m-0.4 0h0.9m-0.4 0h0.9m-13.4 0.5h0.9m1.6 0h0.9m0.1 0h0.9m1.6 0h0.9m0.1 0h0.9m0.1 0h0.9m0.1 0h0.9m0.1 0h0.9m0.6 0h0.9m1.1 0h0.9m0.1 0h0.9m-14.4 0.5h0.9m6.6 0h0.9m0.1 0h0.9m3.1 0h0.9m-0.4 0h0.9m-14.4 0.5h0.9m0.6 0h0.9m1.6 0h0.9m0.1 0h0.9m-0.9 0h0.9m1.6 0.5h0.9m-0.4 0h0.9m0.1 0h0.9m-0.4 0h0.9m-0.4 0h0.9m3.1 0h0.9m-15.9 0.5h0.9m2.1 0h0.9m0.6 0h0.9m3.1 0h0.9m-0.9 0h0.9m-0.9 0h0.9m0.1 0h0.9m2.6 0h0.9m-2.9 0.5h0.9m-10.9 0.5h0.9m7.6 0h0.9m2.6 0h0.9m1.1 0h0.9m-11.4 0.5h0.9m0.6 0h0.9m2.1 0h0.9m2.1 0h0.9m-9.4 0.5h0.9m8.6 0h0.9m1.1 0h0.9m-0.9 0h0.9m-14.9 0.5h0.9m0.1 0h0.9m0.6 0h0.9m0.6 0h0.9m8.6 0h0.9m-8.4 0.5h0.9m1.6 0h0.9m2.1 0h0.9m-9.9 0.5h0.9m-0.4 0h0.9m0.1 0h0.9m2.1 0h0.9m-8.4 0.5h0.9m1.1 0h0.9m0.6 0h0.9m2.6 0h0.9m-0.4 0h0.9m-7.9 0.5h0.9m0.1 0h0.9m3.1 0h0.9m1.1 0h0.9m3.6 0h0.9m1.1 0h0.9m-0.4 0h0.9m-12.4 0.5h0.9m5.6 0h0.9m0.1 0h0.9m3.1 0h0.9m-14.4 0.5h0.9m1.6 0h0.9m1.1 0h0.9m-0.4 0h0.9m0.1 0h0.9m3.1 0h0.9m-10.9 0.5h0.9m0.1 0h0.9m-0.4 0h0.9m3.1 0h0.9m2.6 0h0.9m-9.9 0.5h0.9m2.1 0h0.9m0.6 0h0.9m4.6 0h0.9m-0.4 0h0.9m0.1 0h0.9m0.1 0h0.9m-13.4 0.5h0.9m2.6 0h0.9m0.1 0h0.9m1.6 0h0.9m0.1 0h0.9m-0.4 0h0.9m1.1 0h0.9m-0.9 0h0.9m-8.4 0.5h0.9m0.1 0h0.9m2.1 0h0.9m-0.9 0h0.9m2.1 0h0.9m2.6 0h0.9m-15.4 0.5h0.9m2.1 0h0.9m0.1 0h0.9m-0.4 0h0.9m-0.9 0h0.9m-0.4 0h0.9m0.6 0h0.9m2.1 0h0.9m2.1 0h0.9m-7.9 0.5h0.9m2.6 0h0.9m1.6 0h0.9m1.6 0h0.9m-13.9 0.5h0.9m0.6 0h0.9m-0.4 0h0.9m-0.9 0h0.9m0.6 0h0.9m6.6 0h0.9m1.6 0h0.9m-12.9 0.5h0.9m0.1 0h0.9m1.1 0h0.9m3.6 0h0.9m0.6 0h0.9m-10.9 0.5h0.9m1.6 0h0.9m2.6 0h0.9m3.6 0h0.9m-11.4 0.5h0.9m0.1 0h0.9m0.1 0h0.9m-0.9 0h0.9m3.6 0h0.9m-0.4 0h0.9m-0.9 0h0.9m3.6 0h0.9m-13.4 0.5h0.9m7.1 0h0.9m-0.9 0h0.9m0.1 0h0.9m-0.4 0h0.9m0.1 0h0.9m-0.4 0h0.9m-7.9 0.5h0.9m2.6 0h0.9m5.1 0h0.9m-13.9 0.5h0.9m0.6 0h0.9m3.6 0h0.9m2.1 0h0.9m2.6 0h0.9m0.1 0h0.9m-12.9 0.5h0.9m6.6 0h0.9m-0.4 0h0.9m-0.4 0h0.9m2.1 0h0.9m-13.9 0.5h0.9m1.1 0h0.9m-0.4 0h0.9m-2.9 0.5h0.9m4.1 0h0.9m-5.4 0.5h0.9m1.6 0h0.9m6.6 0h0.9m-6.9 0.5h0.9m3.1 0h0.9m-0.4 0h0.9m-11.4 0.5h0.9m3.1 0h0.9m7.1 0h0.9m0.1 0h0.9m-5.9 0.5h0.9m3.1 0h0.9m-9.9 0.5h0.9m0.6 0h0.9m1.6 0h0.9m-0.4 0h0.9m2.6 0h0.9m-6.9 0.5h0.9m4.1 0h0.9m1.1 0h0.9m-0.4 0h0.9m-10.9 0.5h0.9m1.1 0h0.9m-0.4 0h0.9m-2.4 0.5h0.9m2.6 0h0.9m2.1 0h0.9m2.1 0h0.9m-12.4 0.5h0.9m5.1 0h0.9m-6.9 0.5h0.9m3.6 0h0.9m0.1 0h0.9m-0.4 0.5h0.9m-5.9 0.5h0.9m2.1 0h0.9" stroke="#000" stroke-width="0.9" stroke-opacity="0.75" fill="none"/>
<path d="M309 776h0.7m1.3 0h0.7m3.3 0h0.7m-4.7 0.5h0.7m-8.2 0.5h0.7m0.3 0.5h0.7m-7.7 0.5h0.7m7.3 2h0.7m5.3 0h0.7m-13.2 0.5h0.7m1.8 1h0.7m1.3 0h0.7m-0.7 0h0.7m2.8 0h0.7m-0.2 0.5h0.7m6.3 0.5h0.7m-7.7 0.5h0.7m-5.7 0.5h0.7m1.8 0h0.7m-3.2 1.5h0.7m11.8 0h0.7m-17.2 0.5h0.7m11.8 0.5h0.7m-1.7 0.5h0.7m-2.7 1h0.7m3.8 0h0.7m-0.7 0.5h0.7m-7.2 1h0.7m6.8 0h0.7m-15.7 1h0.7m-0.2 0h0.7m4.3 0h0.7m3.3 0h0.7m4.3 0h0.7m-1.2 0.5h0.7m-13.7 0.5h0.7m3.3 0h0.7m3.8 0h0.7m-8.7 0.5h0.7m5.8 0.5h0.7m7.3 1h0.7m-10.2 1.5h0.7m-0.2 0h0.7m3.3 0h0.7m-4.7 1.5h0.7m2.3 0.5h0.7m-10.7 0.5h0.7m0.8 0h0.7m5.3 0h0.7m3.3 1h0.7m-8.2 0.5h0.7m9.8 0h0.7m-0.2 0.5h0.7m-2.2 0.5h0.7m-10.7 0.5h0.7m-0.2 0h0.7m-5.7 0.5h0.7m13.8 0h0.7m-0.2 0.5h0.7m0.8 0h0.7m-6.2 0.5h0.7m-9.7 1h0.7m2.8 0h0.7m5.8 0h0.7m-11.2 0.5h0.7m6.3 0h0.7m5.3 0h0.7m-10.2 0.5h0.7m9.3 0.5h0.7m-4.7 1.5h0.7m-5.2 0.5h0.7m8.3 0h0.7m1.3 0h0.7m-13.2 0.5h0.7m4.3 0h0.7m-10.2 0.5h0.7m13.8 0.5h0.7m-0.7 0.5h0.7m-6.2 0.5h0.7m5.8 0h0.7m0.8 0h0.7m-10.7 0.5h0.7m-3.7 0.5h0.7m0.8 0h0.7m-5.2 0.5h0.7m14.8 0h0.7m-13.2 0.5h0.7m1.3 0h0.7m-3.7 0.5h0.7m13.3 0h0.7m-10.2 0.5h0.7m-5.2 0.5h0.7m3.3 0.5h0.7m-3.2 1.5h0.7m11.8 0h0.7m-10.7 1h0.7m3.3 0h0.7m-6.7 0.5h0.7m-5.7 0.5h0.7m3.8 0h0.7m10.3 0h0.7m-0.2 0.5h0.7m-9.7 0.5h0.7m5.8 0h0.7m2.3 0h0.7m-11.2 0.5h0.7m-6.2 0.5h0.7m-0.7 1h0.7m5.8 0h0.7m6.8 0h0.7" stroke="#222" stroke-width="0.7" stroke-opacity="0.55" fill="none"/>
<line x1="345.40" y1="722.00" x2="345.40" y2="812.00" stroke="#bdbdbd" stroke-width="1.1"/>
<polygon points="345.4,722.6 345.5,722.9 345.7,723.3 345.9,723.8 346.2,724.4 346.4,724.9 346.7,725.5 346.9,726.1 347.2,726.7 347.4,727.3 347.7,727.8 347.9,728.4 348.2,729.0 348.4,729.6 348.7,730.2 349.1,730.8 349.5,731.4 350.0,732.0 350.5,732.6 351.1,733.1 351.7,733.7 352.3,734.3 353.0,734.8 353.6,735.4 354.2,736.0 354.8,736.6 355.4,737.2 356.0,737.8 356.6,738.3 357.2,738.9 357.8,739.5 358.3,740.1 358.8,740.7 359.3,741.3 359.7,741.9 360.1,742.5 360.5,743.1 360.9,743.7 361.2,744.3 361.5,744.9 361.8,745.4 362.1,745.9 362.3,746.3 362.5,746.7 362.7,747.1 362.8,747.6 362.9,748.0 362.9,748.4 362.9,748.9 362.8,749.4 362.6,750.0 362.4,750.6 362.1,751.2 361.7,751.8 361.4,752.4 361.0,753.0 360.6,753.6 360.2,754.2 359.7,754.8 359.2,755.3 358.7,755.9 358.1,756.5 357.6,757.0 357.0,757.6 356.5,758.2 356.0,758.8 355.4,759.4 354.9,760.0 354.4,760.5 353.8,761.1 353.3,761.7 352.9,762.3 352.4,762.9 352.0,763.5 351.6,764.0 351.2,764.6 350.8,765.2 350.4,765.8 350.1,766.3 349.8,767.0 349.5,767.6 349.3,768.3 349.0,768.9 348.9,769.6 348.7,770.4 348.5,771.1 348.4,771.8 348.3,772.6 348.1,773.4 347.9,774.2 347.8,775.1 347.6,776.0 347.5,776.9 347.3,777.8 347.2,778.7 347.0,779.6 346.9,780.4 346.8,781.2 346.6,782.0 346.5,782.8 346.4,783.6 346.2,784.3 346.1,785.0 346.0,785.7 345.9,786.3 345.8,786.9 345.7,787.5 345.7,788.0 345.6,788.5 345.5,789.0 345.5,789.4 345.4,789.7 345.4,790.0 345.4,790.0 345.4,789.7 345.3,789.4 345.3,789.0 345.2,788.5 345.1,788.0 345.1,787.5 345.0,786.9 344.9,786.3 344.8,785.7 344.7,785.0 344.6,784.3 344.4,783.6 344.3,782.8 344.2,782.0 344.0,781.2 343.9,780.4 343.8,779.6 343.6,778.7 343.5,777.8 343.3,776.9 343.2,776.0 343.0,775.1 342.9,774.2 342.7,773.4 342.5,772.6 342.4,771.8 342.3,771.1 342.1,770.4 341.9,769.6 341.8,768.9 341.5,768.3 341.3,767.6 341.0,767.0 340.7,766.3 340.4,765.8 340.0,765.2 339.6,764.6 339.2,764.0 338.8,763.5 338.4,762.9 337.9,762.3 337.5,761.7 337.0,761.1 336.4,760.5 335.9,760.0 335.4,759.4 334.8,758.8 334.3,758.2 333.8,757.6 333.2,757.0 332.7,756.5 332.1,755.9 331.6,755.3 331.1,754.8 330.6,754.2 330.2,753.6 329.8,753.0 329.4,752.4 329.1,751.8 328.7,751.2 328.4,750.6 328.2,750.0 328.0,749.4 327.9,748.9 327.9,748.4 327.9,748.0 328.0,747.6 328.1,747.1 328.3,746.7 328.5,746.3 328.7,745.9 329.0,745.4 329.3,744.9 329.6,744.3 329.9,743.7 330.3,743.1 330.7,742.5 331.1,741.9 331.5,741.3 332.0,740.7 332.5,740.1 333.0,739.5 333.6,738.9 334.2,738.3 334.8,737.8 335.4,737.2 336.0,736.6 336.6,736.0 337.2,735.4 337.8,734.8 338.5,734.3 339.1,733.7 339.7,733.1 340.3,732.6 340.8,732.0 341.3,731.4 341.7,730.8 342.1,730.2 342.4,729.6 342.6,729.0 342.9,728.4 343.1,727.8 343.4,727.3 343.6,726.7 343.9,726.1 344.1,725.5 344.4,724.9 344.6,724.4 344.9,723.8 345.1,723.3 345.3,722.9 345.4,722.6" fill="#37b9e1" stroke="#2b2b2b" stroke-width="0.6"/>
<line x1="328.24" y1="750.10" x2="362.56" y2="750.10" stroke="#2b2b2b" stroke-width="0.6"/>
<defs><linearGradient id="jg3454_736" x1="0" y1="0" x2="0" y2="1"><stop offset="0.000" stop-color="#000" stop-opacity="0.00"/><stop offset="0.043" stop-color="#000" stop-opacity="0.08"/><stop offset="0.087" stop-color="#000" stop-opacity="0.17"/><stop offset="0.130" stop-color="#000" stop-opacity="0.27"/><stop offset="0.174" stop-color="#000" stop-opacity="0.47"/><stop offset="0.217" stop-color="#000" stop-opacity="0.65"/><stop offset="0.261" stop-color="#000" stop-opacity="0.65"/><stop offset="0.304" stop-color="#000" stop-opacity="0.65"/><stop offset="0.348" stop-color="#000" stop-opacity="0.65"/><stop offset="0.391" stop-color="#000" stop-opacity="0.65"/><stop offset="0.435" stop-color="#000" stop-opacity="0.65"/><stop offset="0.478" stop-color="#000" stop-opacity="0.65"/><stop offset="0.522" stop-color="#000" stop-opacity="0.65"/><stop offset="0.565" stop-color="#000" stop-opacity="0.59"/><stop offset="0.609" stop-color="#000" stop-opacity="0.43"/><stop offset="0.652" stop-color="#000" stop-opacity="0.31"/><stop offset="0.696" stop-color="#000" stop-opacity="0.23"/><stop offset="0.739" stop-color="#000" stop-opacity="0.19"/><stop offset="0.783" stop-color="#000" stop-opacity="0.16"/><stop offset="0.826" stop-color="#000" stop-opacity="0.12"/><stop offset="0.870" stop-color="#000" stop-opacity="0.09"/><stop offset="0.913" stop-color="#000" stop-opacity="0.06"/><stop offset="0.957" stop-color="#000" stop-opacity="0.03"/><stop offset="1.000" stop-color="#000" stop-opacity="0.00"/></linearGradient></defs>
<rect x="337.8" y="722.6" width="15.2" height="67.4" fill="url(#jg3454_736)"/>
<path d="M349 726.5h0.9m-9.4 0.5h0.9m6.1 1.5h0.9m2.1 0h0.9m-10.4 1h0.9m0.1 0.5h0.9m-0.9 0.5h0.9m-1.4 0.5h0.9m3.1 0h0.9m-1.4 0.5h0.9m0.1 0h0.9m5.6 0h0.9m-13.4 1.5h0.9m4.1 0h0.9m3.1 0h0.9m-7.9 0.5h0.9m1.6 0h0.9m-2.4 0.5h0.9m-0.4 0h0.9m5.1 0h0.9m-11.4 0.5h0.9m1.6 0h0.9m2.1 0h0.9m-0.4 0h0.9m3.6 0h0.9m1.6 0h0.9m-6.4 0.5h0.9m-1.9 0.5h0.9m-0.4 0h0.9m-2.9 0.5h0.9m0.1 0h0.9m0.6 0h0.9m-6.9 0.5h0.9m2.1 0.5h0.9m-0.4 0h0.9m1.6 0h0.9m0.1 0h0.9m4.6 0h0.9m-7.9 0.5h0.9m1.1 0h0.9m-9.4 0.5h0.9m3.1 0h0.9m0.6 0h0.9m1.1 0h0.9m-0.9 0h0.9m-0.4 0h0.9m4.6 0h0.9m-13.9 0.5h0.9m0.1 0h0.9m7.1 0.5h0.9m1.1 0h0.9m-10.9 0.5h0.9m2.6 0h0.9m2.1 0h0.9m3.6 0h0.9m-10.9 0.5h0.9m3.1 0h0.9m-5.9 0.5h0.9m0.6 0h0.9m1.6 0h0.9m1.1 0h0.9m4.1 0h0.9m-12.9 0.5h0.9m6.6 0h0.9m-0.9 0h0.9m-3.4 0.5h0.9m1.6 0h0.9m-0.4 0h0.9m-0.4 0h0.9m-0.9 0h0.9m0.6 0h0.9m1.1 0h0.9m-4.9 0.5h0.9m1.6 0h0.9m-0.4 0h0.9m-13.9 0.5h0.9m9.1 0h0.9m1.6 0h0.9m0.1 0h0.9m-13.4 0.5h0.9m0.6 0h0.9m5.1 0h0.9m-0.9 0h0.9m0.6 0h0.9m1.1 0h0.9m-0.9 0h0.9m1.1 0h0.9m-13.4 0.5h0.9m0.6 0h0.9m1.1 0h0.9m-0.9 0h0.9m0.6 0h0.9m-0.4 0h0.9m-0.4 0h0.9m2.1 0h0.9m-8.9 0.5h0.9m-0.9 0h0.9m3.6 0h0.9m-0.9 0h0.9m1.6 0h0.9m0.1 0h0.9m1.6 0h0.9m-13.9 0.5h0.9m-0.4 0h0.9m-0.9 0h0.9m0.6 0h0.9m-0.9 0h0.9m1.1 0h0.9m0.1 0h0.9m-0.4 0h0.9m4.1 0h0.9m0.6 0h0.9m-9.9 0.5h0.9m1.6 0h0.9m4.1 0h0.9m2.1 0h0.9m-13.9 0.5h0.9m2.6 0h0.9m2.1 0h0.9m0.1 0h0.9m1.1 0h0.9m0.1 0h0.9m0.6 0h0.9m-13.4 0.5h0.9m-0.9 0h0.9m4.6 0h0.9m0.6 0h0.9m3.6 0h0.9m-12.4 0.5h0.9m1.1 0h0.9m3.6 0h0.9m1.1 0h0.9m0.1 0h0.9m0.6 0h0.9m-0.4 0h0.9m0.6 0h0.9m0.1 0h0.9m-0.9 0h0.9m-12.4 0.5h0.9m2.1 0h0.9m-0.9 0h0.9m-0.4 0h0.9m0.1 0h0.9m-0.9 0h0.9m3.6 0h0.9m-8.9 0.5h0.9m1.6 0h0.9m1.6 0h0.9m0.6 0h0.9m-0.4 0h0.9m1.6 0h0.9m0.6 0h0.9m-0.4 0h0.9m-15.4 0.5h0.9m-0.9 0h0.9m-0.4 0h0.9m-0.9 0h0.9m-0.4 0h0.9m4.6 0h0.9m2.1 0h0.9m0.1 0h0.9m0.1 0h0.9m0.1 0h0.9m-10.9 0.5h0.9m1.6 0h0.9m-0.4 0h0.9m0.6 0h0.9m-0.4 0h0.9m-8.9 0.5h0.9m-0.4 0h0.9m4.6 0h0.9m1.6 0h0.9m1.6 0h0.9m-0.4 0h0.9m-0.4 0h0.9m0.1 0h0.9m0.1 0h0.9m-0.9 0h0.9m-0.4 0h0.9m-4.9 0.5h0.9m3.1 0h0.9m-14.9 0.5h0.9m-0.9 0h0.9m0.1 0h0.9m1.1 0h0.9m-0.4 0h0.9m0.1 0h0.9m-0.4 0h0.9m-0.4 0h0.9m-0.9 0h0.9m-0.4 0h0.9m4.1 0h0.9m1.6 0h0.9m-0.9 0h0.9m-14.4 0.5h0.9m1.6 0h0.9m3.6 0h0.9m-6.9 0.5h0.9m1.1 0h0.9m5.1 0h0.9m-2.9 1h0.9m0.6 0h0.9m-5.4 0.5h0.9m-2.4 0.5h0.9m-0.9 0h0.9m3.6 0h0.9m0.6 0h0.9m2.6 0h0.9m-0.4 0h0.9m-12.4 0.5h0.9m0.6 0h0.9m-0.4 0h0.9m0.1 0h0.9m3.1 0h0.9m0.1 0h0.9m-0.4 0h0.9m-0.4 0h0.9m1.1 0h0.9m-12.4 0.5h0.9m-0.9 0h0.9m0.6 0h0.9m2.1 0h0.9m3.6 0h0.9m3.6 0h0.9m-8.4 0.5h0.9m0.6 0h0.9m-0.9 0.5h0.9m4.1 0h0.9m-12.9 0.5h0.9m3.6 0h0.9m6.1 0h0.9m-13.9 0.5h0.9m7.6 0h0.9m-0.9 0h0.9m-0.4 0h0.9m2.6 0h0.9m1.6 0h0.9m-15.4 0.5h0.9m-0.4 0h0.9m-0.9 0h0.9m4.6 0h0.9m6.1 0h0.9m-12.4 0.5h0.9m6.6 0.5h0.9m-9.9 0.5h0.9m4.1 0h0.9m3.1 0h0.9m-9.9 0.5h0.9m1.6 0h0.9m4.1 0h0.9m0.1 0h0.9m-0.9 0h0.9m0.1 0h0.9m0.6 0h0.9m-11.4 0.5h0.9m0.1 0h0.9m2.1 0h0.9m3.6 0.5h0.9m2.6 0h0.9m-13.9 0.5h0.9m2.1 0h0.9m2.1 0h0.9m-3.9 0.5h0.9m1.1 0h0.9m4.1 0h0.9m-6.4 0.5h0.9m2.1 0h0.9m0.1 0h0.9m-0.9 0h0.9m5.6 0h0.9m-13.4 0.5h0.9m4.6 0h0.9m3.1 0h0.9m1.6 0h0.9m-11.4 0.5h0.9m1.1 0h0.9m1.6 0h0.9m0.6 0h0.9m2.6 0h0.9m-10.9 0.5h0.9m2.1 0h0.9m2.6 0h0.9m3.1 0.5h0.9m-0.9 1h0.9m-14.9 0.5h0.9m-0.4 0h0.9m0.6 0.5h0.9m6.6 0h0.9m0.6 0h0.9m-9.4 0.5h0.9m2.1 0.5h0.9m2.6 0h0.9m-7.4 0.5h0.9m-3.4 0.5h0.9m2.6 0h0.9m-4.4 0.5h0.9m8.1 0h0.9m-1.4 0.5h0.9m-7.4 1h0.9m1.1 0.5h0.9m1.6 0h0.9m-5.9 0.5h0.9m-0.4 0h0.9m3.1 0h0.9m-1.4 0.5h0.9m7.1 0h0.9m-9.4 1h0.9m-3.9 0.5h0.9m-0.4 1.5h0.9m0.1 0h0.9m0.6 1.5h0.9m1.6 0h0.9m2.6 0h0.9m-11.9 0.5h0.9m12.6 2h0.9m-4.9 1h0.9m0.6 0.5h0.9m-6.4 0.5h0.9m3.1 0h0.9m3.1 1h0.9" stroke="#000" stroke-width="0.9" stroke-opacity="0.75" fill="none"/>
<path d="M337 724.5h0.7m8.3 0h0.7m-0.2 0h0.7m-7.2 0.5h0.7m-1.2 0.5h0.7m6.8 1h0.7m-2.2 0.5h0.7m-7.7 0.5h0.7m10.8 0h0.7m-3.2 0.5h0.7m4.3 0.5h0.7m-1.2 1h0.7m-6.2 0.5h0.7m2.3 0h0.7m-12.7 0.5h0.7m15.8 0h0.7m-10.2 0.5h0.7m1.8 0.5h0.7m-2.2 1h0.7m-0.2 0h0.7m-4.7 0.5h0.7m9.8 0h0.7m-11.2 0.5h0.7m-0.7 0.5h0.7m10.3 1h0.7m-10.2 0.5h0.7m7.3 0h0.7m1.8 0h0.7m-0.7 1h0.7m-5.7 0.5h0.7m3.8 0h0.7m-1.2 1h0.7m-9.2 0.5h0.7m-4.7 0.5h0.7m6.3 0h0.7m-0.7 0h0.7m-10.7 0.5h0.7m3.8 0h0.7m9.8 0.5h0.7m-12.7 0.5h0.7m10.3 0.5h0.7m-8.7 0.5h0.7m3.3 0h0.7m1.8 0.5h0.7m2.3 0.5h0.7m-14.2 0.5h0.7m7.8 0h0.7m1.3 0h0.7m-8.2 1h0.7m0.8 0h0.7m6.3 0h0.7m-14.2 1.5h0.7m13.8 0h0.7m-12.2 0.5h0.7m8.3 0h0.7m2.8 0h0.7m-10.7 0.5h0.7m9.3 0h0.7m-16.2 0.5h0.7m0.8 0h0.7m0.3 1h0.7m-2.2 0.5h0.7m1.3 0h0.7m-0.7 0.5h0.7m1.3 0h0.7m2.8 0h0.7m-4.7 0.5h0.7m2.3 0h0.7m0.3 0h0.7m1.3 0h0.7m-8.2 0.5h0.7m4.3 0h0.7m4.3 0.5h0.7m-5.7 0.5h0.7m0.3 0h0.7m2.8 0h0.7m-0.2 0h0.7m-11.2 0.5h0.7m-3.2 0.5h0.7m5.3 0h0.7m1.3 0h0.7m-8.2 0.5h0.7m10.3 1h0.7m4.3 0h0.7m-15.2 0.5h0.7m9.3 0h0.7m0.8 0h0.7m-14.2 0.5h0.7m2.8 0h0.7m6.3 0h0.7m-0.7 1h0.7m4.8 0h0.7m-16.7 0.5h0.7m10.3 0h0.7m0.8 0.5h0.7m-13.2 0.5h0.7m13.8 0h0.7m-8.7 1h0.7m3.8 0.5h0.7m-6.2 0.5h0.7m6.3 0h0.7m2.3 0h0.7m-13.7 1h0.7m13.3 0h0.7m-15.2 0.5h0.7m-1.2 1h0.7m-1.7 0.5h0.7m-0.2 0h0.7m2.8 0h0.7m10.8 0h0.7m-16.2 0.5h0.7m7.8 0h0.7m1.3 0h0.7m3.3 0h0.7m-9.7 1h0.7m5.3 0h0.7m-8.7 0.5h0.7m-1.2 0.5h0.7m5.3 0h0.7m5.3 0h0.7m-14.7 0.5h0.7m8.8 0h0.7m0.8 0h0.7m-9.2 0.5h0.7m-4.2 0.5h0.7m0.8 0h0.7m1.3 0.5h0.7m-0.7 0h0.7m0.3 0h0.7m7.8 0h0.7m2.3 0.5h0.7m-3.7 0.5h0.7m-2.2 1h0.7m-9.7 1h0.7m-0.2 0h0.7m5.8 0h0.7m-8.7 0.5h0.7m-0.7 0h0.7m2.8 0h0.7m6.8 0h0.7m-10.2 1h0.7m5.3 0.5h0.7m5.8 0.5h0.7m-16.7 1h0.7m2.3 0h0.7m8.3 0h0.7m0.8 0.5h0.7m1.8 0h0.7m-15.7 0.5h0.7m3.3 0.5h0.7m1.3 0h0.7m3.8 0h0.7m-12.2 1h0.7m4.8 0h0.7m2.8 1h0.7m-2.7 0.5h0.7m-5.7 0.5h0.7m0.8 0h0.7m4.3 0h0.7m1.3 0.5h0.7m0.3 0h0.7m2.8 0h0.7m-15.2 1h0.7m7.3 0h0.7m-6.7 1h0.7m7.8 0.5h0.7m1.8 0h0.7m-14.2 0.5h0.7m10.8 0h0.7m1.3 0h0.7m-12.7 0.5h0.7m-2.7 0.5h0.7m6.3 1h0.7m2.3 0.5h0.7m-0.2 0h0.7m-5.7 0.5h0.7m0.8 0h0.7m4.3 0h0.7m-7.7 0.5h0.7m4.3 0h0.7m-4.7 0.5h0.7m0.3 0h0.7m8.3 0h0.7m-4.7 0.5h0.7m-0.7 0h0.7m2.3 0h0.7m-13.2 0.5h0.7m6.8 0h0.7m-10.7 0.5h0.7m3.8 0h0.7m1.3 1h0.7m-0.2 1h0.7m5.3 0.5h0.7m-0.2 0h0.7m-0.2 0.5h0.7m-1.7 1.5h0.7m0.8 0h0.7m-5.2 0.5h0.7m3.8 0h0.7m-12.7 1h0.7m-2.2 0.5h0.7m7.8 0h0.7m-1.2 0.5h0.7m5.8 0.5h0.7m-8.7 1h0.7m8.3 0h0.7m-15.2 1.5h0.7m5.3 0h0.7m1.8 0h0.7m2.8 0h0.7m-13.7 1h0.7m3.3 0h0.7m-2.7 0.5h0.7m1.3 0h0.7m2.8 0h0.7m-9.2 0.5h0.7m7.8 0h0.7m4.8 0h0.7m0.8 0h0.7m-8.7 0.5h0.7" stroke="#222" stroke-width="0.7" stroke-opacity="0.55" fill="none"/>
<line x1="0.60" y1="0.00" x2="0.60" y2="855.00" stroke="#000" stroke-width="1.2"/>
<line x1="0.00" y1="0.60" x2="520.00" y2="0.60" stroke="#000" stroke-width="1.2"/>
<line x1="519.00" y1="0.00" x2="519.00" y2="855.00" stroke="#000" stroke-width="2"/>
<line x1="0.00" y1="854.00" x2="520.00" y2="854.00" stroke="#000" stroke-width="2"/>
</svg></body></html>
